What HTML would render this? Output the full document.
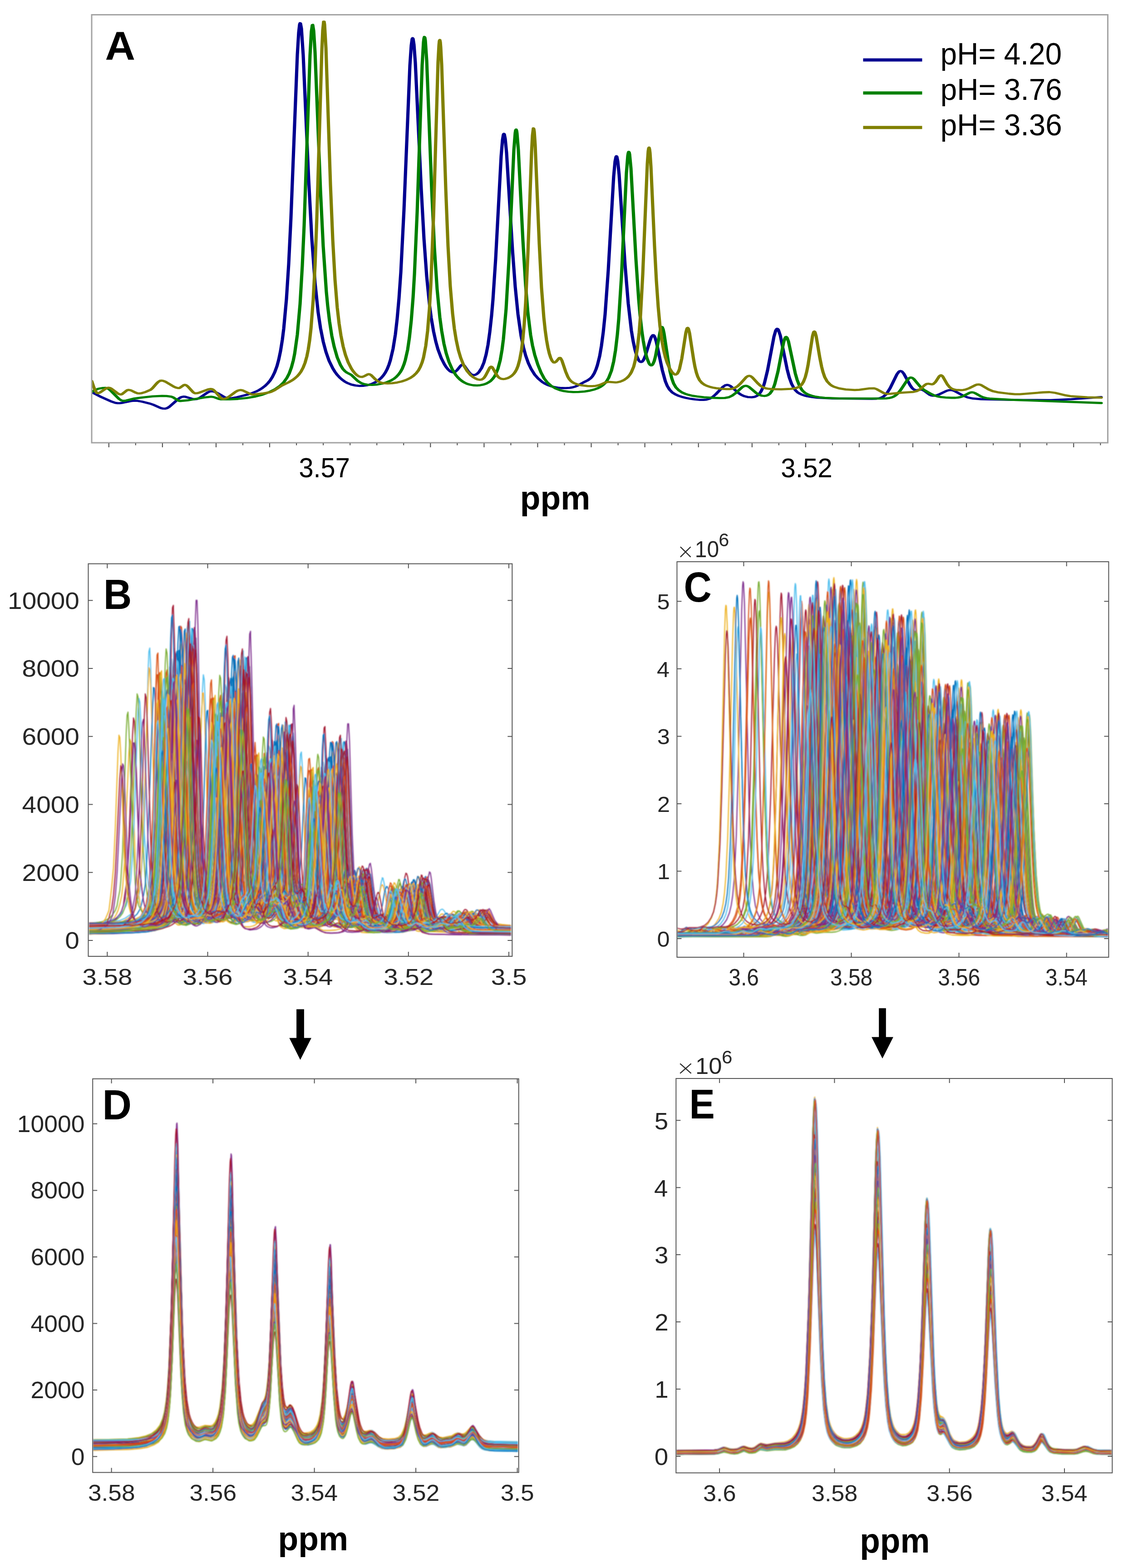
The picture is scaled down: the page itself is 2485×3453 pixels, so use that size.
<!DOCTYPE html><html><head><meta charset="utf-8"><style>html,body{margin:0;padding:0;background:#fff}svg{display:block}</style></head><body>
<svg width="2485" height="3453" viewBox="0 0 2485 3453" style="font-family:'Liberation Sans',Arial,sans-serif">
<rect width="100%" height="100%" fill="#fff"/>
<svg x="0" y="0" width="2485" height="3453" overflow="hidden"><clipPath id="cA"><rect x="203" y="33" width="2236" height="941"/></clipPath><g clip-path="url(#cA)">
<filter id="blA" x="-1%" y="-2%" width="102%" height="104%"><feGaussianBlur stdDeviation="0.7"/></filter>
<g filter="url(#blA)"><g transform="scale(1.5,1)" fill="none" stroke-width="4.8" stroke-linejoin="round" stroke-linecap="round">
<path d="M134.7 863.5l14 10.8 15.3 10.1 5.3 2.7 3.4 0.7 3.3 0 4.7-1 13.3-4 4-0.4 4 0.3 6.7 1.8 12 4.5 4 2.1 11.3 7.4 3.3 1.2 3.4 0.2 2.6-1.1 3.4-2.9 12.6-16.7 2.7-2.9 2.7-2 2.6-0.8 2.7 0.2 11.3 4.9 2.7 0.6 2.7-0.3 2.6-1.3 2.7-2.2 10.7-10.9 2.6-1.9 2-0.8 3.4 0 3.3 1.4 4 2.9 10 8.6 3.3 2 2.7 0.8 2.7-0.1 9.3-2.6 15.3-5.7 6.7-3.3 6-3.5 4.7-3.5 4.6-4.4 4-4.6 4-5.8 3.4-6 3.3-7.7 3.3-10 3.4-13.6 2.6-14.4 2.7-19.1 2.7-25.2 2-24 4-65.5 3.3-77 3.3-101.6 9.4-359.5 2-49.3 1.3-17 0.7-3.1 0.6 0.5 1.4 11.4 2.6 57.7 8 273.5 4.7 132.9 4.7 95.8 4.6 65.8 3.4 33.6 4 30.2 4 22.5 4.6 19.6 5.4 16.5 3.3 8 3.3 6.6 3.4 5.5 4 5.3 4 4.2 4 3.2 5.3 3.1 6 2 6 0.9 6-0.3 6-1.4 6-2.7 5.3-3.6 4.7-4.5 4-5.3 3.3-5.8 2.7-6 2.7-7.6 2.6-9.8 2-9.3 4-25.7 3.4-31.5 2.6-34.3 2.7-45 2.7-57.7 4.6-136.9 8.7-318.1 2-44.3 1.3-14.1 0.7-1.9 0.7 1.5 1.3 12.8 2 40.1 8.7 278.6 4 109.2 4 82.8 4 60.3 2.6 30.4 3.4 29.6 3.3 22.7 3.3 17.7 4.7 18.8 4.7 13.7 2.6 6.2 2.7 4.9 2.7 3.8 2 1.8 2 1 1.3 0.1 2.7-1.5 2.6-3.4 5.4-9.9 1.3-1.6 1.3-0.6 1.4 0.6 1.3 1.8 6 12.9 3.3 5.3 2 1.7 2 0.7 2-0.3 2-1.2 2-2 2-2.9 4-9.1 3.4-12.1 3.3-18.2 2.7-20.7 2.6-27.9 2.7-37.1 2-34.9 4-90.5 8-225 2-35.9 1.3-11.7 0.7-1.8 0.7 1 1.3 9.8 2 31.4 8.7 213.9 4 80.7 4 59.9 4.6 48.5 3.4 24.5 3.3 18.5 4 16.8 4 12.7 5.3 12.6 5.4 9.1 6 7.4 3.3 3.1 4 3 4.7 2.6 4.6 1.9 5.4 1.5 6 0.9 6 0.2 6-0.6 4.6-1.2 4-1.8 4-2.7 7.4-6.1 6.6-4.8 4-4.3 2.7-4.5 2.7-6.4 2.6-8.9 2-8.8 3.4-20.2 2.6-22.7 2.7-30.3 2.7-39.6 4.6-95.8 8-207.8 2-32.6 1.4-10.2 0.6-1.4 0.7 1.2 1.3 9.6 2 29.8 8.7 198.7 4.7 85.2 4.6 59.4 2.7 24.3 2.7 18.7 2.6 13.5 2.7 8.8 1.3 2.6 1.4 1.3 1.3 0.1 1.3-1.1 2-4 2.7-9.3 6.7-33 2-7.8 2-3.8 0.6-0.2 0.7 0.4 0.7 1.1 1.3 3.9 2 9.9 8.7 61.9 4.6 25 2.7 9.6 3.3 8.2 4 6.2 4.7 4.4 4 2.7 5.3 2.6 6 2.3 6.7 2 7.3 1.5 6.7 0.9 5.3 0.1 4-0.6 4.7-2 4.7-4 4.6-6 10.7-16.5 3.3-3.2 2.7-0.8 2 0.5 2.7 1.9 12.6 16.3 3.4 3.2 4 2.7 5.3 2.1 6 0.6 4.7-1.1 3.3-2.2 3.3-4.4 2.7-5.9 2.7-8.7 2-8.8 4.6-28.3 9.4-74.3 2.6-13.5 1.4-3.2 0.6-0.5 0.7 0.2 1.3 2.5 2.7 12.1 10 74 3.3 19 3.4 13.9 4 10.8 2 3.7 2.6 3.7 2.7 2.6 3.3 2.4 4 2 4.7 1.8 6.7 1.7 8 1.4 21.3 1.6 58 1 7.3-0.4 4.7-1.1 3.3-1.8 2.7-2.4 2.7-3.5 2-3.5 4.6-11 10-30.4 2.7-5.4 1.3-1.4 1.4-0.5 2 1.1 2.6 4.5 9.4 25.8 2.6 5.5 2 2.9 2 1.7 2 0.8 2-0.1 4.7-1.2 2.7 0.5 2.6 2 7.4 8.2 2.6 1.9 2.7 0.8 2.7 0 3.3-1 4-2.4 10-7.1 3.3-1.5 2.7-0.4 2.7 0.4 3.3 1.7 12.7 10.2 6.6 3.9 8 2.5 11.4 1.3 45.3 1.6 57.3 0.5 30-1.9 44-4.8" stroke="#000090"/>
<path d="M134.7 863.3l4.6-4.3 5.4-3 6.6-1.7 3.4-0.2 2 0.5 2.6 1.8 2.7 3 12.7 19 3.3 3.2 2.7 1.2 4.6-0.7 10.7-4.2 11.3-2.3 16.7-2.7 14-1.1 6.7 0.4 7.3 1.5 2.7 1.7 6.6 6.3 2 1.1 1.4 0.2 10.6-1.3 24-6.3 10.7-1.7 4 0.8 7.3 3.9 3.4 1 12.6 0 12-0.9 13.4-2.1 12.6-3.3 10-3.9 10-5.5 8.7-6.5 7.3-7.6 5.4-7.7 4.6-9.6 3.4-9.7 3.3-13.5 2.7-15 2-14.7 4-42.4 4-67.7 3.3-84 2.7-89.3 8.6-373.7 2-52.9 1.4-14.3 0.6-0.3 1.4 12.9 2 47.7 8 304.5 4 122.7 4.6 100.1 2 31.3 2.7 33.5 3.3 31.8 3.4 23.7 4.6 24.1 4.7 16.6 3.3 8.2 3.4 5.6 2.6 2.9 6.7 5.3 9.3 13.1 4.7 4.5 4.7 2.6 5.3 1.4 6.7 0.3 7.3-0.8 7.3-2 6.7-2.9 6-3.8 4.7-4.1 3.3-4 3.3-5.2 2.7-5.5 2.7-7.2 2.6-9.7 2-9.7 3.4-22.6 2.6-26.5 2.7-37.4 2.7-51.7 2-50.7 4-137.4 7.3-322.6 2-51.2 0.7-8.1 0.6-3.2 0.7 1.7 0.7 6.5 2 44.3 7.3 283.6 4 128.3 4 91.3 4 62 2.7 29.7 3.3 28.1 3.3 21 4 18.8 4.7 16.1 5.3 12.9 2.7 4.8 3.3 5 3.4 4 3.3 3 4 2.8 4.7 2.1 4.6 1.2 5.4 0.4 4.6-0.6 4.7-1.4 4-2.1 4-3.1 2.7-2.9 2.6-4 2.7-5.2 2-5.2 3.3-12.3 3.4-19 2.6-22.6 2-23.1 4-67.2 4-103.3 7.4-246.6 2-37.9 0.6-5.5 0.7-1.6 0.7 2.3 0.6 6 2 36.8 6.7 199.5 4 99.3 3.3 59.6 4 48.9 2.7 22.6 3.3 20.9 4.7 22.2 4.7 17.4 4.6 12.8 4.7 8.9 5.3 7 6.7 5.9 6 3.5 6 2.3 6.7 1.5 7.3 0.7 8-0.2 8.7-1.1 8-2 6.6-2.6 4.7-2.6 4-3.1 3.3-3.4 3.4-4.7 2.6-5 2.7-6.8 4-15.4 3.3-20.7 2.7-24.5 2.7-34.3 2-34 4-93.7 7.3-228.4 2-37.8 0.7-6.1 0.6-2.6 0.7 1 0.7 4.5 2 31.5 7.3 199.9 4 88.2 2 33.8 2.7 35.8 2 21 2.6 21.7 2.7 16 3.3 12.7 1.4 2.8 1.3 1.4 1.3-0.3 1.4-2.1 2-6.6 2-10.9 7.3-58.7 1.3-5.3 0.7-0.8 0.7 0.5 1.3 4.9 1.3 9.3 6.7 66.6 2 16.2 2.7 16.1 2.6 10.9 3.4 8.6 4 6.2 4.6 4.6 4.7 3.2 5.3 2.5 6 2.1 6.7 1.5 10 1.6 13.3 1.4 10.7 0.5 6.7-0.3 6-1.8 4.6-3.3 4.7-5.1 10-13.5 2.7-2.3 2.6-0.8 2 0.5 2.7 2 10.7 13.4 2.6 2.6 2.7 1.9 3.3 1.5 3.4 0.5 2.6-0.6 2.7-1.5 2.7-3.1 2.6-5.1 2.7-8 2-8.3 4.7-27.9 8-62.4 2-9.8 1.3-3 0.7-0.3 1.3 1.8 2 8 10 70.4 2.7 14.1 3.3 12.9 3.3 8.5 2 3.5 2.7 3.5 2.7 2.5 3.3 2.3 4 2 4.7 1.7 6.6 1.7 8 1.2 20.7 1.3 60.7 0.2 8.6-0.3 5.4-1 3.3-1.3 2.7-1.7 2.6-2.5 2.7-3.4 4.7-8.4 10-22.5 2.6-3.8 1.4-1 1.3-0.3 2 0.9 2 2.2 9.3 16.7 2.7 3.9 3.3 3.8 8.7 7.5 5.3 3.9 5.4 2.6 5.3 1.5 6.7 0.9 8.6 0.7 6 0 4-0.6 3.4-1 3.3-1.8 10-7.6 2-0.8 2-0.2 2 0.5 2 1.2 8 6.7 4 2.6 4.7 1.8 6.6 1.2 33.4 2.6 128.6 6.9" stroke="#008000"/>
<path d="M134.7 839l3.3 14.5 2 7 2 4.5 1.3 0.9 1.4-0.2 2-1.2 8.6-8.8 2-1.4 2-0.5 2 0.5 2 1.4 9.4 10.5 2 1.6 2 0.8 1.3 0 1.3-0.7 6.7-7.9 1.3-1 1.4-0.4 2 0.4 2 0.9 6.6 4.8 2.7 1.4 2.7 0.3 3.3-0.6 6-2.7 7.3-4.9 2.7-3.5 6-10.2 2.7-3.8 2.6-2.3 2-0.3 2.7 0.7 2.7 1.5 12.6 11.2 2.7 1.8 2.7 1.1 2 0.3 1.3-0.5 6-6.2 1.3-0.5 1.4 0.4 1.3 1 2 2.4 7.3 12 2 2.1 1.4 0.7 2.6-0.2 3.4-1.2 13.3-7.4 3.3-0.8 2 0.3 2 1.6 2 2.7 8.7 14.9 2 2 2 0.7 2.7-0.8 2.6-1.7 3.4-3.1 9.3-10.3 3.3-2.6 2.7-1.1 2-0.1 2.7 0.9 10 7.1 2.6 1.4 2 0.4 15.4-2.5 8.6-2.1 2.7-1.1 5.3-3.9 10.7-10.2 10-7.1 6-5.3 3.3-3.7 3.4-4.5 2.6-4.4 2.7-5.5 3.3-9.3 2.7-10.2 2.7-14.4 2-14.9 2-19.6 2-26.3 3.3-63.9 2.7-75.7 2.6-103.1 7.4-371.5 1.3-42.7 1.3-19.3 0.7 0 0.7 6.4 2 51.9 6.6 299.9 3.4 122 3.3 88.2 3.3 61.2 2.7 35 2.7 26.3 3.3 24.6 3.3 18.3 4 16.3 4.7 13.8 2.7 5.9 2.6 4.8 2.7 3.8 2.7 2.6 2.6 1.3 2.7 0.1 2.7-1.3 5.3-4.2 1.3-0.5 1.4 0.1 2.6 2.2 6 9 3.4 4.1 4 2.9 4.6 1.6 6 0.5 6.7-0.5 7.3-1.6 6.7-2.3 6.7-3.4 6-4.4 4.6-4.7 4-5.6 3.4-6.6 2.6-7.3 2.7-10.1 2-10.4 3.3-25.8 2.7-32.7 2.7-49 2-51.3 4-151.3 6.6-340.3 1.4-37.8 0.6-9.2 0.7-2.1 0.7 4.8 0.6 11.3 1.4 39.1 6 273.6 3.3 125 3.3 88.6 3.4 59.9 2.6 33.5 2.7 24.9 3.3 22.9 3.4 16.8 4.6 16.9 4.7 11.7 5.3 9.2 3.4 4.1 3.3 3 3.3 2.2 3.4 0.9 2.6-0.5 2-1.7 2-2.9 2-4.5 6-17.2 1.4-1.8 0.6-0.3 0.7 0.2 1.3 1.8 6 15.8 2 4.1 2 2.7 2.7 2 2.7 0.7 3.3-0.5 4-1.8 3.3-2.6 2.7-2.9 2.7-4 2-4.1 2-5.4 2-7.3 2.6-14.2 2.7-22 2-24.3 2-33.5 2-45.3 3.3-107.7 5.4-223.6 1.3-37.2 1.3-15.8 0.7 1.1 0.7 6.9 1.3 28.7 6 217.5 3.3 96.5 3.4 65.9 2 28 2 21.6 2 16.6 2 12.8 2 9.4 2 6.5 2 3.5 0.6 0.6 1.4 0.1 2-1.8 4.6-8.1 1.4-0.3 0.6 0.7 2 5.2 5.4 24.1 3.3 11.8 2 4.9 2 3.6 2.7 3.3 2.6 2.2 5.4 2.9 6 1.9 8 1.4 7.3 0.3 4.7-0.6 4-1.2 3.3-1.7 6.7-4.3 3.3-1.4 3.3-0.1 8.7 1.1 2.7-0.4 3.3-1 3.3-1.8 3.4-2.4 3.3-3.4 2.7-3.7 2.6-5 2-5 3.4-12.2 2.6-15.4 2.7-23.6 2.7-35.8 2-38 3.3-90.1 6.7-243.8 1.3-27.6 0.7-6.6 0.6-1.4 0.7 3.8 0.7 8.5 1.3 29.1 5.3 175.8 2.7 75.8 2.7 58 2.6 42.4 3.4 36.6 2 15.9 2.6 16.2 2.7 12.3 3.3 11.5 3.4 8.1 3.3 4.9 1.3 0.9 1.4 0 2-2 2-5.1 1.3-5.5 3.3-22.2 6-57.3 1.4-8 0.6-2.1 0.7-0.6 0.7 0.9 0.6 2.3 1.4 8.3 6 58.6 2 16.1 2 12.2 2 8.9 2.6 7.8 3.4 5.9 4 4.3 3.3 2.3 4 2.1 4.7 1.8 5.3 1.4 7.3 1.3 7.4 0.7 4.6-0.1 4-0.7 4-2 4-3.6 4-5.5 8.7-14.4 2.7-2.5 2-0.4 2 1 2 2.1 8 13 4 5.4 4 3.7 4 2.2 4 1.1 4.6 0.7 14 0.4 14-1 4.7-0.9 4-1.3 4-2.5 3.3-4.4 2.7-6.4 2.7-10.3 2-11.3 2-14.8 6.6-64 1.4-7.8 0.6-2 0.7-0.6 0.7 0.8 0.6 2.1 1.4 7.6 5.3 47 2.7 20.1 2 11.7 2.6 11.3 3.4 9.1 4 6.4 2.6 2.9 3.4 2.6 7.3 3.6 10 2.4 13.3 1.3 6.7-0.6 14.7-2.9 6.6-0.3 2 0.6 2.7 1.6 10 8.3 4 1.7 6-0.2 15.3-2.3 18-1.7 4.7-1.6 3.3-2.4 3.4-3.7 5.3-7.2 2.7-2.6 2.6-0.6 5.4 1.4 1.3-0.4 1.3-1 2.7-3.9 5.3-12.1 1.4-1.9 1.3-0.7 1.3 0.8 1.4 2.1 6.6 17.2 3.4 6.1 2 2.3 2 1.6 2.6 1.3 2.7 0.8 7.3 0.6 3.4-0.4 3.3-0.9 5.3-2.9 9.4-7 2.6-1.2 2-0.2 2 0.5 2 1.1 10.7 9.4 6 3.8 7.3 2.4 16.7 3.2 8.7 1.1 7.3 0 34-4.1 9.3-0.5 8 1.5 16 5.7 6.7 1.7 24.7 2.4 20.6 0.8" stroke="#808000"/>
</g></g>
</g>
<filter id="bl" x="-2%" y="-2%" width="104%" height="104%"><feGaussianBlur stdDeviation="0.8"/></filter>
<clipPath id="cB"><rect x="195.5" y="1242.5" width="931.8" height="862.5"/></clipPath><g clip-path="url(#cB)"><g filter="url(#bl)">
<g fill="none" stroke-width="2.3" stroke-linejoin="round">
<path d="M196 2039l46-1 32-1 24-2 16-3 12-5 10-6 6-8 6-13 4-16 4-19 2-32 2-31 4-97 8-246 2-34 0 1 2 35 8 246 2 76 4 50 4 39 4 20 2 9 4 8 4 5 6 4 4 3 4 0 4-1 10-5 4 1 8 3 4-1 4-1 4-5 6-8 4-12 2-14 4-33 4-63 4-75 6-194 2-36 0-4 2 8 2 44 6 221 6 92 2 29 4 22 4 10 2 7 4 5 4 4 6 3 4 0 4-1 2-3 6-9 10-26 2-3 4-2 2-2 2-4 2-8 4-24 2-43 8-168 2-32 0-4 2 5 2 33 4 128 4 60 2 40 4 22 2 11 2 1 2 2 2-3 6-8 2-1 2 1 6 10 8 26 4 5 4 5 6 2 8 0 8-2 8-4 4-5 4-6 4-8 2-12 4-32 4-40 8-178 2-22 2 25 6 139 6 76 2 18 2 16 4 10 4 5 2 1 2-1 4-8 4-15 8-40 2-6 0-1 2 1 2 7 6 43 4 19 2 6 4 7 2 3 4 2 4-1 8-5 4 0 4 2 10 8 4 3 6 2 6 1 12 1 10-1 8-2 6-3 2-2 4-5 4-11 4-17 6-39 2-5 2 0 0 2 2 7 8 39 4 16 2 5 2 6 2 2 4 2 2 0 4 0 10-7 2-1 4 1 10 9 6 1 12-2 10 0 4-2 8-5 2-1 4 0 8 5 2 0 2 0 4-3 8-13 2-2 2-1 2 1 2 2 8 13 4 5 6 5 4 2 8 1 14 1 60 1" stroke="#0072BD"/>
<path d="M196 2037l44-1 30-1 22-2 16-3 12-5 8-7 8-9 6-14 4-17 2-21 4-34 2-33 4-100 6-262 2-46 2-7 0 6 2 45 8 291 6 104 4 42 4 22 2 11 4 9 4 6 6 4 4 3 4 1 4-2 8-3 2-1 12 3 4-1 4-2 4-6 6-10 2-10 4-15 4-35 4-66 2-78 6-206 2-47 2-9 0 2 2 34 8 263 6 98 4 39 4 21 2 10 4 6 2 5 4 4 6 3 4 0 4-2 2-3 6-11 8-25 4-5 6-5 2-4 2-9 2-24 4-44 8-198 2-27 2 8 2 40 6 180 4 48 2 29 4 15 2 6 2 0 2-1 6-10 2 0 2 2 4 9 10 31 4 7 4 4 6 2 10 0 8-3 6-4 4-4 4-7 2-9 4-13 4-33 2-42 8-188 2-31 2-5 0 5 2 31 6 148 4 68 2 22 4 21 4 16 2 3 2 3 2 0 2-2 4-9 4-19 8-41 2-5 4 10 6 47 4 20 2 6 4 7 2 3 2 2 4 0 10-5 4 0 4 2 8 8 6 4 4 3 8 1 10 0 12-1 8-2 4-2 4-3 2-5 4-12 4-18 8-41 2-7 0-1 2 1 2 6 8 46 4 17 4 11 2 3 4 2 2 0 4-1 8-6 4-1 4 1 10 9 6 2 12-3 8 0 2 0 4-3 6-4 4-2 4 1 6 4 4 1 2-1 4-3 10-15 2-1 2 1 2 2 8 14 4 6 6 4 6 3 8 2 16 0 62 1" stroke="#D95319"/>
<path d="M196 2039l16-2 14-2 10-4 8-4 8-6 4-7 4-9 4-14 4-18 2-17 4-53 2-61 8-184 2-28 0-2 2 5 2 33 8 225 6 67 4 29 4 15 2 7 4 6 4 5 6 3 4 2 4 0 12-4 14 2 6-2 4-4 6-8 2-7 4-11 4-26 4-45 4-74 6-144 2-30 0-4 2 2 2 26 8 185 2 48 4 34 4 26 4 15 2 6 4 5 2 3 4 3 4 1 4 0 4-1 4-3 4-6 10-20 8-10 2-5 2-7 4-21 2-21 8-137 2-25 0-5 2 1 2 19 8 156 4 31 2 18 2 7 4 4 2 0 8-5 2 0 2 1 4 6 10 25 4 5 4 2 6 2 8-1 8-1 6-3 4-4 4-5 2-6 4-10 4-23 2-29 10-145 2-19 0-2 2 4 2 22 6 104 4 59 2 14 4 14 2 8 2 3 2 2 2 0 2-1 4-6 4-12 8-29 2-5 0-1 2 2 2 6 10 44 4 8 4 7 2 2 4 1 12-3 4 0 16 10 8 3 12 0 16-1 8-2 6-4 4-6 4-7 4-14 6-25 2-6 2-2 0 1 2 4 8 32 4 13 6 8 2 3 4 1 4 0 12-5 4 0 10 7 6 1 22-2 14-6 4 0 8 3 2 0 4-1 2-2 10-9 4-1 4 2 8 11 6 5 6 3 6 1 40 2 124 1" stroke="#EDB120"/>
<path d="M196 2039l38-1 26-1 20-2 16-4 12-4 8-6 8-9 6-12 4-14 2-16 4-24 2-36 6-94 6-175 2-31 2-7 2 7 2 31 8 217 4 51 2 35 4 30 6 21 2 7 4 6 4 5 4 3 4 1 4 1 12-3 14 0 4-2 6-5 4-7 2-8 4-12 4-35 4-49 4-75 6-137 2-31 2-8 0-2 2 4 2 25 10 213 4 63 4 28 4 17 6 11 2 4 4 4 4 1 4 0 4-2 4-4 4-7 8-18 8-14 4-13 4-19 2-30 10-144 2-19 0-3 2 3 2 19 6 121 4 42 2 29 4 17 2 7 2 5 4 0 6-2 2 1 2 2 4 7 10 25 4 6 4 3 6 2 6 0 8-2 6-3 4-4 4-5 2-7 4-10 4-23 4-39 8-140 2-22 2-4 2 14 8 125 4 47 6 33 2 10 2 4 2 2 4-1 4-5 4-11 6-27 2-5 2-1 2 2 2 6 12 46 2 8 4 6 4 3 2 1 12-2 4 1 16 10 8 3 12 1 14-1 8-2 6-5 4-6 4-7 4-13 8-31 2-4 2-1 2 2 2 6 8 31 4 12 4 8 6 4 4 0 8-3 4-1 4 1 10 6 6 1 4 0 14-1 6-1 12-5 4 0 8 1 4 0 4-3 8-7 4-2 2 1 4 2 10 11 4 5 6 3 6 2 8 1 16 1 68 1" stroke="#7E2F8E"/>
<path d="M196 2037l52 0 36-2 26-2 18-3 14-4 6-3 4-4 8-9 6-12 4-14 4-23 4-29 2-46 4-97 8-250 2-48 0-10 2 2 2 36 8 279 2 74 4 50 4 40 4 21 2 10 4 7 4 6 4 6 6 3 4 0 4-1 10-4 2 0 10 2 4-1 2-2 6-5 4-11 4-10 2-16 4-36 4-64 4-75 6-224 2-32 2-2 0 9 2 43 8 251 6 90 4 38 4 20 2 9 4 6 2 5 4 4 4 2 4 0 4-2 4-3 4-10 10-27 2-4 6-5 2-3 2-12 4-24 2-42 8-189 2-28 2-3 0 5 2 33 8 193 4 44 2 26 4 14 0 2 2 2 4-1 6-7 2-1 2 3 4 9 10 30 4 6 4 5 6 2 8 0 8-3 6-4 4-5 4-7 4-9 2-14 4-32 4-42 8-179 2-32 0-7 2 2 2 25 6 161 4 62 2 21 4 20 2 11 2 5 2 2 4 1 2-2 4-9 4-17 6-39 2-5 2-1 0 1 2 7 8 50 4 18 2 7 4 6 2 3 2 2 6-1 8-4 4 0 4 3 8 8 6 4 4 2 6 1 10 1 12-1 8-2 4-3 4-2 2-5 6-13 4-17 6-40 4-8 2 2 2 7 6 39 4 18 6 12 2 3 2 2 4 1 2-1 10-6 4-1 4 1 10 9 4 2 4-1 8-2 10 0 4-2 8-5 4-1 2 0 8 4 4 0 4-3 10-13 2-2 2 0 2 0 2 2 8 15 4 6 4 3 6 3 6 1 10 1 44 2" stroke="#77AC30"/>
<path d="M196 2034l30-2 22-2 16-3 12-5 10-7 8-8 6-11 4-17 4-16 2-24 6-76 4-108 6-271 2-49 2-8 0 3 2 42 8 302 4 80 2 54 4 43 4 24 4 11 4 10 4 6 4 5 4 3 4 0 4-1 10-5 4 1 8 2 4-1 2-1 6-6 4-8 4-13 2-15 4-36 4-63 4-105 8-241 2-32 2 11 2 48 8 271 4 98 4 41 4 22 4 10 2 7 4 5 4 4 4 3 4 0 4-2 2-4 6-12 8-27 4-5 6-9 2-6 2-10 2-28 2-29 4-62 6-161 2-28 0-2 2 7 2 37 8 209 2 47 4 29 2 14 2 3 2 2 2-1 6-8 2 0 4 4 4 10 10 33 4 7 4 4 6 2 6 0 8-3 6-4 4-5 4-7 4-9 2-13 4-32 4-40 2-59 6-154 2-33 2-5 0 3 2 28 8 174 4 68 2 22 2 22 4 13 2 4 2 3 2 1 2-2 4-11 4-19 6-37 2-8 2-2 2 2 2 7 10 65 2 13 4 10 4 4 4 1 2 0 10-5 4 0 4 3 10 12 4 2 4 2 12 1 16-1 10-3 2-2 4-4 4-8 4-15 10-57 2-7 0-2 2 1 0 2 2 8 8 42 4 23 6 11 2 3 2 2 6-1 8-6 4-1 4 1 10 9 6 2 4 0 8-2 10-1 4-2 6-5 4-2 4 1 6 4 4 0 6-4 8-14 2-1 2-1 2 1 2 2 10 16 4 7 6 4 6 3 12 2 20 1 90 0" stroke="#4DBEEE"/>
<path d="M196 2040l18-2 16-2 12-4 8-4 8-6 6-8 4-8 4-13 2-17 4-26 4-58 4-95 6-180 2-32 0-4 2 7 2 38 8 232 2 57 4 38 4 30 4 17 2 7 4 7 4 5 6 4 4 1 4 0 12-4 4 0 10 2 6-2 4-4 6-8 2-8 4-12 4-27 4-50 4-82 6-164 2-33 0-6 2 3 2 30 8 209 4 80 4 33 4 18 4 8 2 5 4 5 4 3 4 2 4 0 4-2 4-3 4-7 10-22 2-4 6-6 2-5 2-8 4-22 2-37 8-141 2-29 0-6 2 1 2 22 8 177 4 33 2 20 2 7 4 5 2-1 8-6 2 0 2 1 4 7 10 26 4 6 4 3 6 2 8 0 8-2 6-3 4-4 4-5 2-7 4-11 4-24 2-32 4-47 6-117 2-22 0-2 2 5 2 25 6 118 4 55 2 25 4 15 2 9 2 3 2 2 4 0 2-2 4-8 2-11 8-33 2-5 0-1 2 0 0 2 2 7 10 49 4 9 2 6 4 3 4 1 4 0 8-4 4 1 16 11 8 3 12 1 16-2 8-2 6-4 4-7 4-8 4-15 6-29 2-6 2-3 0 1 2 5 8 37 4 14 6 9 4 4 4 0 2-1 10-4 4-1 4 1 10 7 4 1 12-2 10 0 14-7 4 0 8 4 2 0 4-1 2-2 10-11 2-1 2-1 4 3 8 13 6 5 6 3 6 2 14 1 26 1 116 0" stroke="#A2142F"/>
<path d="M196 2042l42-1 30-1 22-2 16-3 12-5 4-3 6-4 6-9 6-13 4-16 4-27 6-66 4-92 6-229 2-43 2-9 0 1 2 31 10 282 2 63 4 43 4 35 4 19 2 9 4 6 4 6 4 5 4 2 4 1 4-1 10-4 12 2 4 0 2-2 6-5 4-7 4-11 2-14 4-31 4-55 4-89 8-204 2-29 0-2 2 7 2 38 8 230 4 88 4 38 4 21 4 9 2 7 4 4 4 5 4 2 4 0 4-2 2-3 6-10 8-23 4-5 6-8 2-6 2-9 2-24 4-40 8-172 2-26 0-3 2 5 2 28 8 178 2 42 4 27 2 14 4 5 2-1 6-5 2-1 2 1 2 2 4 9 10 28 4 7 4 4 6 2 6 0 8-2 6-4 4-4 4-6 4-8 2-12 4-28 4-34 2-50 6-130 2-29 2-6 0 1 2 21 8 147 4 60 2 20 2 21 4 11 2 5 2 3 2 0 2-1 4-9 4-11 8-40 2-5 2 3 2 9 6 35 4 19 4 10 2 7 4 3 4 2 2-1 10-3 4 0 4 2 10 10 8 4 12 1 16-1 10-3 6-5 4-7 2-9 4-16 8-36 2-6 0-2 2 0 2 8 8 40 4 15 6 11 2 2 2 2 6 0 10-5 2-1 4 1 12 8 4 1 22-2 4-2 8-5 2-1 4 1 6 3 4 0 6-3 8-11 2-2 2-1 2 1 2 2 10 13 4 6 6 4 4 2 8 2 16 1 62 1" stroke="#0072BD"/>
<path d="M196 2042l36-1 26-2 20-3 14-4 12-5 8-9 8-11 4-14 4-18 4-23 4-66 6-122 6-237 2-39 2-7 0 4 2 35 10 293 2 67 4 46 4 38 4 22 2 10 4 7 4 7 4 5 4 2 4 1 4-1 10-4 2 0 10 2 4-1 2-2 6-6 4-8 2-9 4-15 4-42 4-63 4-99 6-185 2-40 2-8 2 26 10 263 2 63 4 43 4 36 4 20 2 10 4 6 2 5 4 3 4 2 4 0 4-2 2-4 6-11 8-24 8-14 4-15 4-24 2-39 10-196 2-22 0-1 2 6 2 32 6 144 2 57 4 38 2 24 2 9 4 5 0 1 2 0 6-5 2 0 2 1 2 2 4 9 10 31 4 8 4 4 6 2 6 0 8-3 6-4 4-5 4-8 4-9 2-14 4-33 4-39 8-189 2-27 2-4 0 3 2 24 8 152 4 63 2 22 2 22 4 13 2 5 2 3 2 1 2-1 4-8 4-16 6-36 2-7 2-1 2 4 2 9 10 57 4 10 4 9 2 3 4 1 2 0 10-3 4 0 4 3 12 11 8 3 12 2 14-2 8-2 6-6 4-7 4-13 10-50 2-8 2-3 2 0 0 2 2 6 8 42 4 16 6 12 2 2 2 2 6 0 10-5 4-1 4 2 8 7 4 2 4 0 20-3 14-7 2 0 8 3 4 0 4-3 10-12 2-1 2-1 2 1 2 2 10 15 4 5 6 5 6 3 10 1 18 1 72 1" stroke="#D95319"/>
<path d="M196 2040l52 0 38-1 26-2 18-4 14-4 6-4 6-4 4-5 4-6 6-14 4-15 4-26 4-31 2-49 6-136 6-272 2-44 2-6 0 7 2 44 10 334 4 107 4 45 4 25 4 11 2 9 4 7 6 6 4 4 4 0 4-1 10-4 2 0 10 2 4-1 2-2 6-6 4-9 4-14 2-17 4-39 4-69 4-111 6-212 2-45 2-9 0 2 2 34 8 273 4 76 2 52 4 43 4 23 4 11 2 7 4 6 4 4 4 3 4 0 4-3 2-4 4-9 10-30 10-16 2-13 4-25 2-44 10-224 2-25 2 9 2 39 8 209 2 48 4 29 2 15 2 3 2 2 0 1 2-2 6-6 2 0 4 4 4 10 10 34 2 7 4 5 6 3 8 0 8-3 6-5 4-5 4-9 4-9 2-15 4-36 4-43 8-216 2-29 2-4 0 4 2 31 8 175 4 68 2 23 2 22 4 13 2 5 2 3 2 1 2-1 4-9 4-18 6-42 2-8 2-1 2 2 2 8 6 48 4 22 4 11 2 8 4 3 4 2 2-1 8-3 4-1 2 1 4 3 10 11 8 5 4 1 8 0 16-1 8-3 4-2 2-4 4-8 4-13 10-58 2-9 2-3 2 1 0 2 2 8 8 43 4 19 4 14 2 3 4 3 2 0 4 0 8-6 4-2 4 2 10 9 6 2 22-3 4-2 6-6 4-1 2 0 8 4 4 0 2 0 2-3 10-14 2-2 2-1 2 2 2 2 10 16 4 6 4 4 4 3 6 2 10 1 40 1" stroke="#EDB120"/>
<path d="M196 2042l58-1 40-1 30-2 20-3 14-4 6-3 6-4 8-9 4-7 4-7 4-17 4-26 4-31 2-49 4-104 8-264 2-52 0-11 2 1 2 35 8 294 2 81 4 55 4 44 4 25 2 11 4 8 4 7 4 6 6 3 4 1 4-1 10-5 2 0 10 2 2 0 4-2 4-5 4-8 4-12 4-15 2-23 2-22 4-70 4-79 6-236 2-36 2-2 0 7 2 43 8 266 6 99 4 42 4 23 2 10 4 7 2 5 4 5 4 2 4 1 4-2 4-4 4-11 10-29 2-3 6-7 2-4 2-13 4-25 2-45 8-199 2-31 2-4 0 4 2 33 8 205 4 48 2 29 4 16 2 5 2 1 2-2 4-6 2-1 2 0 2 3 4 9 10 33 4 6 4 5 6 3 6 0 8-2 6-4 6-6 4-7 2-8 4-13 4-30 4-55 8-189 2-35 0-8 2 1 2 24 6 170 4 68 2 23 4 22 2 13 2 6 2 3 4 0 2-1 4-10 4-18 6-41 2-6 2-1 0 2 2 6 8 53 4 20 6 14 2 3 2 2 4 0 10-4 4 0 4 3 8 8 6 4 4 3 6 1 10 1 12-1 8-2 4-3 4-3 2-5 4-10 4-17 8-47 2-8 2-1 2 1 2 7 6 42 4 19 6 13 2 4 2 2 4 1 2 0 10-7 4-1 4 1 10 10 6 1 22-3 10-7 4-1 2 0 8 4 4 0 4-3 10-14 2-2 2 0 2 0 2 3 12 21 8 6 4 2 8 1 30 2" stroke="#7E2F8E"/>
<path d="M196 2034l48 0 34-1 24-2 18-3 14-4 10-6 8-9 6-12 4-14 4-25 2-31 2-30 6-120 6-237 2-31 2 1 2 33 8 267 2 70 4 48 4 37 4 21 2 9 4 8 4 6 6 5 4 2 4 0 4-1 10-4 2 0 10 3 4-1 2-2 6-5 4-9 4-10 2-14 4-33 4-59 4-99 6-186 2-33 2-2 0 7 2 40 8 240 6 86 4 36 4 19 2 9 4 6 2 4 4 4 4 2 4 0 4-1 4-3 4-10 10-24 2-5 6-5 2-5 2-7 4-22 2-39 8-180 2-29 2-4 0 5 2 30 8 185 4 42 2 25 4 13 2 4 4-1 4-6 2-1 2 0 2 2 4 9 10 29 4 5 4 4 6 3 8 0 8-2 6-5 4-4 4-7 4-8 2-12 4-30 4-38 8-171 2-32 0-7 2 0 2 23 6 154 4 60 2 19 4 19 2 11 2 4 2 3 4 1 2-2 4-8 4-16 6-38 2-5 2-1 0 1 2 6 8 48 4 17 2 7 4 6 2 2 2 2 6 0 8-5 4 0 4 3 8 7 6 4 4 2 8 1 10 1 10-1 8-2 6-3 4-5 6-12 4-17 6-38 2-7 2-1 4 8 6 38 4 16 6 12 2 3 2 2 4 1 2-1 10-6 4-1 4 1 10 8 4 2 4 0 8-2 12-1 10-7 4 0 2 0 8 4 4 0 4-3 10-12 2-2 2-1 2 1 2 2 8 14 4 5 4 3 6 3 6 1 12 1 52 1" stroke="#77AC30"/>
<path d="M196 2041l82-1 24-1 16-3 14-5 8-5 8-8 6-13 4-20 4-22 2-36 2-37 4-112 6-232 2-37 2 1 2 41 6 265 4 77 2 50 4 36 4 19 4 9 2 6 4 6 6 4 4 3 6 1 4-1 10-5 2 0 10 4 2 0 4-2 6-5 4-8 4-10 4-14 4-32 4-63 2-77 6-209 2-40 2-3 0 9 2 49 8 236 2 46 2 46 4 29 4 21 4 13 4 7 4 4 6 3 4 1 4-1 4-3 4-9 10-28 4-3 4 0 2-1 2-3 2-8 2-23 4-44 6-180 2-35 2-5 0 6 2 37 8 182 2 47 4 27 2 13 4 5 2-2 8-11 2-1 2 1 4 10 10 27 2 6 4 4 6 2 10 0 8-1 6-4 6-5 4-6 2-7 4-12 4-31 2-41 8-190 2-25 2 1 2 28 6 150 4 67 2 20 2 19 4 13 4 6 4 1 2-1 2-5 2-6 4-19 6-38 2-7 2-1 0 2 2 7 8 47 4 19 2 7 2 6 2 2 4 2 4 0 10-6 4-1 4 2 10 11 4 3 6 1 10 1 16-1 10-2 6-3 4-6 4-11 4-18 8-41 2-6 4 10 6 37 4 18 2 6 2 6 4 4 2 2 4 0 4-1 8-7 4-1 2 1 10 9 6 2 4-1 8-2 12 0 4-2 6-6 4-1 2 1 8 5 4 1 2-1 2-2 10-15 2-2 2-1 2 1 2 2 8 15 4 5 4 3 4 3 8 1 14 1 56 1" stroke="#4DBEEE"/>
<path d="M196 2047l60 0 42-1 30-2 20-4 16-5 6-3 6-4 4-6 4-5 4-8 4-7 4-20 4-28 4-33 2-50 6-135 6-267 2-48 2-11 0 1 2 33 10 327 2 80 4 56 4 46 4 27 2 12 4 9 4 8 4 6 4 3 6 1 12-5 12 2 4-1 2-2 6-7 4-9 2-11 4-16 4-48 4-70 4-109 8-236 2-33 0-2 2 7 2 41 8 295 6 100 4 43 4 25 4 17 4 6 4 6 4 3 4 0 4-3 2-4 6-12 8-27 8-17 4-17 4-26 2-43 10-219 2-29 0-4 2 5 2 31 8 227 4 47 2 29 2 11 4 8 0 1 2 0 6-4 2-1 2 1 2 3 4 10 10 34 4 9 4 5 2 2 4 1 6 0 8-3 6-5 4-6 4-8 4-11 2-16 4-36 4-44 8-211 2-33 2-7 0 1 2 22 8 191 4 67 2 23 4 23 2 13 4 6 2 2 2-1 2-3 2-6 4-17 6-40 2-8 2-2 2 3 2 10 10 64 4 12 4 11 2 4 4 1 4 0 8-3 4 1 4 3 12 11 6 5 6 1 6 1 16-2 8-3 4-2 2-4 4-9 4-9 4-19 8-47 2-7 0-1 2 0 0 1 2 7 8 46 4 19 6 14 2 3 2 3 2 0 4 0 10-6 4 0 4 1 10 9 2 1 4 1 20-4 14-8 2 0 8 3 4 0 4-2 10-14 2-2 2 0 2 0 4 4 8 16 4 5 8 7 4 2 6 1 24 2" stroke="#A2142F"/>
<path d="M196 2037l64 0 44-1 30-2 22-2 16-5 6-3 4-4 6-5 4-6 6-13 4-19 4-21 2-34 4-55 4-124 6-318 2-41 2 3 2 51 6 318 4 95 2 61 4 46 4 23 4 11 2 8 4 7 6 6 4 3 6 1 4-1 6-5 4-1 2 0 10 4 2 0 4-2 6-6 4-10 4-14 4-18 4-41 4-80 2-97 6-251 2-45 2-2 0 12 2 61 8 284 4 113 4 36 4 26 4 17 4 8 4 5 6 4 4 1 4-2 4-3 4-12 10-33 4-4 4-1 2-2 2-5 2-10 2-30 4-56 6-217 2-40 2-4 0 7 2 46 8 220 2 57 4 33 2 16 2 3 2 3 2-1 8-14 2-1 2 2 4 13 10 33 2 7 4 5 6 2 10 0 8-2 6-5 6-6 4-8 2-9 4-16 4-40 2-52 8-229 2-27 2 2 2 35 6 180 4 81 2 25 2 24 4 14 4 8 2 2 2 0 4-5 2-6 4-20 6-52 2-8 2-1 0 2 2 9 8 57 4 23 2 8 2 8 2 3 4 2 2 1 2-1 10-7 4-1 4 3 12 14 4 2 4 2 10 1 14-1 10-2 6-4 4-3 2-6 4-13 4-23 6-44 2-10 2-2 0 1 2 6 8 50 4 22 2 8 2 7 2 4 4 2 2 2 4-1 10-9 4-1 2 0 2 1 8 10 6 3 4 0 8-3 8 0 4 0 4-3 6-7 4-1 2 1 8 6 4 1 2-1 2-3 10-17 2-3 2-1 2 1 2 3 10 22 6 7 6 2 6 2 24 1" stroke="#0072BD"/>
<path d="M196 2052l54-1 38-1 28-2 20-4 14-5 12-7 4-5 4-5 6-13 4-13 4-22 4-27 2-40 6-108 8-253 2-38 0-7 2 3 2 30 8 278 4 67 2 48 4 41 4 23 4 11 2 7 4 7 6 6 4 2 4 1 12-4 4-1 10 1 2 0 4-2 4-7 4-8 4-10 2-15 4-32 4-56 4-87 8-203 2-38 0-9 2 0 0 7 2 36 10 251 4 85 4 38 4 21 6 15 2 5 4 5 4 3 4 0 4-3 4-5 4-9 10-24 8-16 4-16 2-24 4-39 8-185 2-22 2-2 0 5 2 28 10 192 2 40 4 24 2 10 2 7 2 1 2 0 4-3 2 0 2 1 2 2 4 9 10 30 4 7 4 5 6 2 6 0 8-2 6-4 4-5 4-7 4-8 2-13 4-29 4-34 4-68 6-127 2-26 0-4 2 1 2 21 8 162 4 57 2 19 2 20 4 12 2 5 2 1 2-1 4-7 4-15 8-34 2-6 0-2 2 0 2 4 2 8 10 54 2 11 4 9 4 3 2 2 4 0 8-3 4 1 4 2 12 11 8 3 4 2 8 0 14-1 10-3 6-6 4-8 4-12 10-48 2-7 2-4 0 1 2 1 2 6 8 40 4 15 4 12 2 3 4 2 4 1 10-5 4-1 4 1 8 7 6 2 4 1 16-3 4-1 12-6 4 0 8 2 4 0 6-4 8-10 2-1 2 0 2 0 2 3 14 19 4 3 4 3 6 2 8 1 34 1" stroke="#D95319"/>
<path d="M196 2037l96-1 26-1 18-2 14-5 10-5 4-4 4-5 6-12 6-18 2-20 4-34 2-35 4-111 6-288 2-22 0-7 2 8 2 57 6 287 2 55 4 56 2 33 2 14 4 15 2 9 4 7 4 6 4 5 6 3 4 1 6-1 6-5 4-1 2 1 6 3 4 1 2-1 4-1 6-5 4-9 4-11 4-15 4-35 4-70 2-87 6-228 2-35 2 3 0 17 8 287 2 52 4 53 2 32 4 23 6 15 4 7 4 4 4 3 6 2 4-1 2-2 6-9 8-25 2-7 4-3 4 1 2-1 2-4 2-8 2-27 2-30 4-68 4-150 2-32 2 0 2 32 6 201 4 54 2 30 4 16 2 6 2 0 2-2 8-13 2-1 2 2 4 9 8 29 4 6 4 5 6 2 8 1 10-2 6-4 6-5 4-7 2-8 4-13 4-34 2-46 8-185 2-38 0-5 2 6 0 16 6 163 4 76 2 23 4 22 4 15 4 6 2 1 2 0 4-4 2-6 4-18 6-48 2-6 2 0 2 12 6 45 4 22 4 12 4 5 2 2 4 1 2-1 10-7 2-1 4 2 12 13 4 2 4 1 12 1 16-1 10-2 6-3 4-7 4-12 4-20 6-40 2-8 2-1 2 8 8 46 4 18 4 10 2 4 4 2 2 1 4-1 10-8 4-1 4 2 8 9 6 2 4-1 8-3 8 1 4 0 2-2 8-6 2-2 4 1 8 6 4 1 2-1 2-3 10-16 2-2 2-1 2 1 2 3 10 19 4 4 4 3 6 2 10 1 42 1" stroke="#EDB120"/>
<path d="M196 2048l64-2 20-2 14-3 12-5 8-6 6-9 6-11 2-12 4-18 2-31 2-30 4-91 6-191 2-37 2-4 0 7 2 42 8 240 2 39 4 40 4 30 4 15 2 8 4 5 4 5 4 3 6 3 4 0 4 0 8-4 2-1 12 3 4 0 2-1 6-4 4-7 4-9 4-12 4-27 4-51 4-89 4-146 2-39 2-6 0 3 2 33 8 218 6 74 4 28 4 15 2 7 4 4 6 7 6 2 4 0 4-1 2-3 6-8 8-21 4-4 4-1 2-2 2-5 2-8 4-24 2-25 8-166 2-21 0 1 2 25 8 168 4 37 2 21 4 10 2 3 4-1 6-9 2 0 2 2 4 7 10 25 4 4 4 3 6 2 8 0 8-2 8-3 4-4 4-5 2-6 4-10 4-26 2-33 8-156 2-25 2-2 2 16 6 140 4 53 2 16 4 16 2 8 4 6 4 1 2-1 2-4 2-4 4-15 6-31 2-7 2-1 2 5 8 43 4 16 2 5 4 5 2 2 2 1 6 0 8-4 4-1 4 1 12 10 4 2 4 1 10 1 14-1 10-1 6-3 4-2 2-3 4-9 4-15 8-34 2-6 0-1 2 1 2 6 6 34 4 15 6 10 2 3 4 1 2 0 4 0 8-6 4-1 4 1 10 7 4 2 12-2 12-1 10-6 4-1 2 1 8 4 4 0 6-3 8-12 2-1 2 0 4 3 8 11 4 5 6 3 6 2 10 1 18 1 76 0" stroke="#7E2F8E"/>
<path d="M196 2037l44-1 30-1 22-2 16-4 12-5 8-7 8-9 6-14 4-17 2-21 4-33 2-33 4-100 6-254 2-41 2-4 0 8 2 48 8 281 6 98 4 39 4 21 2 10 4 8 4 6 6 4 4 3 4 0 4-1 10-5 2 0 10 3 4 0 2-2 6-5 4-9 4-12 4-15 4-36 4-65 2-77 6-200 2-43 2-7 0 4 2 37 8 229 2 71 4 47 4 37 4 20 2 9 4 6 2 4 4 4 6 3 4 0 4-2 2-4 4-8 10-27 4-5 6-4 2-5 2-9 2-24 4-44 6-172 2-36 2-8 0 2 2 27 8 197 4 45 2 27 4 14 2 5 2 0 2-1 6-10 2 0 2 2 4 9 10 30 4 5 4 5 4 2 8 0 8-2 8-3 4-5 4-6 4-8 2-11 4-28 4-36 2-55 6-144 2-28 2-3 2 20 6 162 4 65 2 20 4 20 2 12 4 7 4 2 2-2 2-2 2-5 4-16 6-41 2-7 2-1 2 2 2 9 6 45 4 19 2 6 4 6 2 3 2 2 4 0 10-5 4 0 4 2 8 8 6 4 4 2 8 1 10 1 12-1 8-2 4-3 4-3 2-5 4-11 4-18 8-40 2-6 0-1 2 1 2 6 8 45 4 16 4 11 2 3 4 1 2 1 4-1 8-6 4-2 4 2 10 8 4 2 4 0 10-2 10-1 4-2 6-5 4-1 2 0 8 4 4 1 2 0 2-3 10-14 2-2 2 0 2 1 2 3 8 13 4 6 6 4 4 2 8 2 16 0 64 1" stroke="#77AC30"/>
<path d="M196 2033l22-2 16-2 14-4 10-4 8-7 6-9 6-11 4-14 2-17 4-25 4-54 4-87 8-230 2-27 0-2 2 8 2 36 8 255 6 85 4 37 4 25 4 9 2 6 4 6 6 5 4 2 4 0 12-4 12 1 6-2 6-5 4-7 4-12 2-14 4-31 4-53 4-83 8-184 2-29 0-4 2 4 2 29 8 208 2 59 4 42 4 35 4 20 2 10 4 6 4 5 4 4 4 1 4-1 4-3 2-4 12-28 10-15 4-16 2-23 4-38 8-155 2-25 0-4 2 2 2 22 8 177 4 37 2 24 4 12 2 5 4 0 6-4 2 1 2 3 4 9 10 26 4 7 4 3 6 2 8 0 6-2 6-4 4-4 4-7 4-8 2-12 4-28 4-33 10-179 2-18 0-1 2 5 2 25 6 133 4 54 2 18 4 18 2 11 2 4 2 2 2 1 2-2 4-7 4-10 8-36 2-4 0-1 2 2 2 7 8 37 4 17 2 9 4 6 2 3 4 1 12-2 4 0 4 3 12 9 8 4 12 1 14-1 8-3 6-5 4-6 4-10 12-48 2-6 2-2 2 3 2 7 6 32 6 18 4 9 2 3 4 1 4 0 10-4 4-1 4 2 10 6 6 2 20-3 12-6 2 0 4 0 8 2 2 0 6-3 8-9 4-2 2 0 4 2 10 14 4 5 6 4 8 2 12 1 24 1 106 1" stroke="#4DBEEE"/>
<path d="M196 2044l54-1 38-1 28-2 18-3 14-4 6-3 6-4 4-5 4-6 6-13 4-16 4-26 4-33 2-32 4-128 8-262 2-40 0-3 2 8 2 48 8 292 4 108 4 44 4 24 4 12 4 9 4 7 4 5 6 3 4 0 4-1 8-4 4 0 10 2 2 0 4-2 4-6 6-10 2-10 4-16 4-35 4-63 4-105 6-205 2-42 0-7 2 5 2 37 8 264 4 100 4 43 4 22 4 11 2 7 4 5 4 4 4 3 4 0 4-2 4-4 4-9 10-28 2-4 4-5 2-4 2-6 2-10 4-29 2-48 8-177 2-36 0-7 2 2 2 28 8 222 4 43 2 25 2 9 4 6 2-1 6-6 2-2 2 0 2 2 4 9 10 32 2 6 4 6 6 2 8 1 8-2 6-5 6-5 4-8 2-8 4-14 4-32 2-40 10-207 2-27 0-2 2 6 2 32 6 148 4 70 2 23 2 23 4 13 2 5 2 3 2 1 2-1 4-8 4-17 8-42 2-7 0-1 2 1 0 2 2 9 8 46 4 20 4 14 2 3 4 3 4 0 10-5 4 0 4 3 12 12 6 3 6 1 10 1 12-1 8-2 4-3 4-3 2-5 4-11 4-18 8-46 2-6 2-1 0 1 2 7 8 46 4 17 6 12 2 3 2 2 4 1 2-1 10-6 2-2 4 2 12 9 4 1 12-2 10-1 4-2 8-5 2-1 4 0 8 5 2 0 4-2 2-2 10-14 2-1 2-1 2 2 2 2 12 20 4 4 4 3 6 1 10 1 38 2" stroke="#A2142F"/>
<path d="M196 2052l50-1 36-1 24-2 18-3 14-6 6-3 4-4 4-5 4-6 6-14 4-17 4-30 4-37 2-37 4-111 6-284 2-50 2-7 0 6 2 48 8 283 2 89 4 60 4 47 4 25 2 12 4 10 4 7 6 5 4 3 4 0 4-1 8-4 2-1 4 0 8 3 4-1 4-2 4-6 6-12 2-11 4-17 4-40 4-73 2-85 6-224 2-50 2-11 0 2 2 37 8 285 6 108 4 45 4 24 2 10 4 8 2 5 4 4 6 4 4 0 4-2 2-4 6-12 8-28 4-5 4-5 2-4 4-12 2-28 4-48 8-215 2-29 0-1 2 10 2 42 4 147 4 69 2 46 4 27 2 13 2 2 2 2 2-3 6-8 2-1 2 2 4 9 10 34 4 9 4 4 6 3 10-1 8-3 6-4 4-5 4-8 2-10 4-15 4-37 2-47 8-204 2-33 2-5 0 4 2 33 6 160 4 76 2 24 4 25 4 17 2 4 2 3 2 0 2-2 4-10 4-20 8-45 2-5 2 2 2 9 6 50 4 22 2 8 4 7 2 4 2 2 4 0 10-5 4-1 4 3 10 10 4 3 4 3 8 2 10 0 10-1 8-2 6-3 2-3 4-4 4-15 4-20 8-45 2-7 0-1 2 0 2 7 8 50 4 18 4 13 2 3 4 2 2 1 4-1 8-7 4-1 4 2 10 9 6 2 12-3 10 0 4-2 6-6 4-1 4 0 6 5 4 0 2-1 4-3 8-15 2-2 2 0 2 1 2 2 8 16 4 6 4 4 6 3 6 2 12 1 48 1" stroke="#0072BD"/>
<path d="M196 2038l110-2 30-1 22-3 16-5 6-3 6-4 4-5 4-5 6-13 4-14 4-24 4-31 2-51 6-154 6-272 2-53 0-5 2 10 2 59 6 309 6 129 4 51 4 27 2 12 4 8 4 7 4 7 6 3 4 2 4-1 8-6 4-1 2 1 8 3 4 0 4-2 4-5 6-10 4-13 2-17 4-38 4-74 4-127 6-207 2-55 0-9 2 4 2 46 6 279 6 122 2 39 4 29 4 13 2 9 4 7 4 5 6 4 4 1 4-2 2-3 6-11 10-32 2-5 6-4 2-4 2-9 4-27 2-50 8-235 2-30 2 1 2 34 8 240 2 52 4 31 2 15 2 2 2 2 2-2 6-10 2-2 2 0 2 2 4 10 10 35 2 7 4 4 2 2 4 1 8 0 8-2 8-5 4-6 4-7 4-9 2-15 4-36 4-48 8-222 2-35 0-4 2 23 8 200 4 75 2 23 2 22 4 13 4 8 2 1 2-1 4-5 2-7 4-21 6-44 2-9 0-2 2 0 2 7 8 61 4 22 2 8 2 7 2 3 4 2 2 0 2-1 8-6 4-1 4 2 10 11 4 4 4 2 4 1 10 1 14 0 10-2 6-4 2-3 4-5 4-13 4-21 6-49 2-7 2-1 0 1 2 7 8 49 4 21 2 7 2 8 2 3 4 2 2 1 4-1 10-8 4-1 4 2 8 9 6 3 4-1 8-2 8 0 4-1 4-3 6-5 2-2 4 1 8 6 4 0 2-1 2-3 10-17 2-2 2-1 2 2 2 3 10 20 2 4 4 4 4 2 6 1 22 2" stroke="#D95319"/>
<path d="M196 2045l86-2 24-2 18-2 12-4 10-5 8-8 6-10 4-13 4-22 4-29 2-28 4-86 6-211 2-27 2 2 2 31 6 211 4 66 2 44 4 34 4 18 4 8 4 7 4 5 4 4 6 2 4 0 4 0 10-4 2 0 10 2 6-1 4-4 6-7 4-9 2-11 4-26 4-48 4-84 6-166 2-29 2-2 0 7 2 38 8 190 4 80 4 33 4 16 4 8 2 5 4 4 4 3 4 2 4 1 4-2 4-2 4-8 10-23 4-3 4-2 2-3 4-10 2-22 2-23 8-159 2-27 2-3 0 5 2 29 8 162 4 34 2 20 4 9 0 2 2 1 4-2 6-7 2-1 2 2 4 8 10 23 2 4 4 4 6 2 8 1 8-2 8-3 4-4 4-5 4-6 2-10 4-24 4-32 8-166 2-18 2 1 2 21 6 120 4 66 2 15 4 15 2 9 4 5 4 0 2-1 4-7 4-14 6-33 2-6 2 0 0 1 2 6 8 37 4 17 4 11 4 3 2 1 4 0 10-4 4-1 4 2 12 10 6 2 6 1 22-1 8-1 6-2 2-2 4-4 4-8 4-14 6-34 2-6 2-1 4 7 6 34 4 14 6 9 4 4 4 0 2 0 10-6 4-1 4 1 10 8 4 1 12-2 12 0 4-2 6-4 4-1 2 0 8 4 4 0 4-2 10-11 2-2 2-1 2 1 2 2 12 16 4 3 4 2 8 1 12 1 50 1" stroke="#EDB120"/>
<path d="M196 2047l44-1 32-1 22-3 16-3 14-6 4-3 6-4 6-10 6-14 4-15 4-27 4-33 2-50 4-102 8-248 2-48 0-10 2 1 2 31 8 305 4 71 2 50 4 40 4 22 4 11 2 7 4 7 6 6 4 2 4 1 14-5 2 0 10 2 2-1 4-1 4-6 4-8 4-13 4-16 4-35 4-61 4-98 6-221 2-33 2-3 0 7 2 39 10 275 4 88 4 38 4 21 4 10 2 6 4 5 4 4 4 2 4 0 4-3 2-4 4-9 10-25 8-16 2-7 2-10 4-27 2-45 8-186 2-29 2-4 0 5 2 29 10 211 2 42 4 25 2 10 2 6 2 1 2-1 4-4 2-1 2 0 2 3 4 9 10 31 4 8 4 5 6 2 8 0 8-2 6-4 4-5 4-8 2-8 4-14 4-31 2-39 4-55 6-141 2-31 0-7 2 0 2 22 6 158 6 80 2 20 2 20 4 11 2 6 2 1 2-1 2-3 2-4 4-16 8-43 2-5 2 0 2 3 2 9 10 59 2 11 4 10 4 3 2 1 4 0 8-4 4 1 4 2 12 12 8 3 4 1 8 1 16-1 8-4 4-2 2-4 4-8 4-9 4-19 6-39 2-6 2-2 2 1 2 7 8 43 4 17 4 13 2 2 4 3 2 0 2 0 10-6 4-1 4 2 10 8 6 2 20-3 4-2 8-5 4-1 2 0 8 3 4 0 4-3 10-12 2-2 2-1 2 1 2 3 8 13 6 7 4 5 6 2 8 2 12 1 58 1" stroke="#7E2F8E"/>
<path d="M196 2042l96-2 28-2 20-3 14-4 10-6 6-5 4-5 6-12 4-14 4-23 2-31 2-30 6-124 6-252 2-33 2 2 2 36 8 283 2 72 4 47 4 37 4 19 2 9 4 7 4 6 4 5 6 2 4 1 4-1 10-5 2 0 10 3 4-1 2-1 6-6 4-9 4-9 2-14 4-32 4-61 4-101 6-199 2-35 2-2 0 8 2 45 8 227 4 100 4 40 4 22 4 9 2 7 4 4 4 4 4 3 4 1 4-2 4-3 4-10 10-27 2-3 6-3 2-3 2-5 2-10 2-27 2-29 8-191 2-31 2-4 0 5 2 34 8 195 4 43 2 24 4 12 0 2 2 2 4-2 6-8 2-1 2 2 4 10 10 28 2 6 4 4 6 3 8 0 8-2 8-3 4-5 4-7 4-8 2-12 4-30 4-39 8-180 2-34 0-8 2 1 2 26 6 163 4 61 2 19 4 19 2 10 4 7 4 1 2-2 4-8 4-17 6-40 2-6 2-1 0 1 2 7 8 50 4 18 2 6 4 6 2 3 2 1 6 0 8-5 4 0 4 3 12 11 6 2 6 2 12 0 10-1 8-2 6-2 2-3 4-5 4-10 4-17 6-40 2-8 2-1 4 9 6 40 4 17 6 12 2 2 2 2 4 1 2-1 10-6 4-1 4 1 10 9 4 1 12-2 12-1 4-2 6-5 4-1 2 1 8 4 4 0 2 0 2-3 10-13 2-2 2-1 2 1 2 2 12 19 4 4 4 2 6 2 8 1 36 1" stroke="#77AC30"/>
<path d="M196 2048l58 0 40-1 28-3 20-3 16-6 6-3 6-5 4-6 4-7 6-14 4-17 4-27 4-33 2-52 6-143 6-291 2-52 2-10 0 2 2 41 10 357 2 82 4 55 4 45 4 25 2 12 4 9 4 7 4 7 4 2 4 1 4-1 10-5 4 0 8 2 4 0 2-2 6-7 4-9 4-16 2-18 4-41 4-72 4-116 8-259 2-35 0-1 2 10 2 48 8 293 4 113 4 49 4 27 4 13 2 8 4 6 4 5 4 3 4 1 4-3 2-5 6-12 8-30 10-18 2-7 2-13 2-32 2-32 10-240 2-31 0-3 2 7 2 37 8 226 2 54 4 34 2 18 4 7 2-1 6-6 2-1 2 1 2 3 4 11 10 37 2 7 4 6 4 2 2 1 8 0 8-2 6-6 4-6 4-8 4-11 2-16 4-37 4-45 2-65 6-165 2-35 2-7 0 2 2 28 8 186 4 77 2 26 2 26 4 16 2 6 2 3 2 1 2-1 2-3 2-6 4-18 6-45 2-9 2-2 2 1 2 8 8 58 4 22 4 16 2 4 4 3 4 0 8-4 4-1 2 1 4 3 8 9 4 5 6 3 6 2 8 0 12-1 8-2 4-3 4-3 2-5 6-15 4-20 8-51 2-8 0-1 2 0 0 2 2 8 8 51 4 20 4 11 2 4 4 3 2 1 4 0 10-7 4-1 4 2 10 10 2 1 4 0 20-3 14-9 2 0 8 4 4 0 2-1 2-2 10-15 2-2 2-1 2 1 4 4 12 22 4 4 4 3 4 2 8 2 30 2" stroke="#4DBEEE"/>
<path d="M196 2045l64-2 20-2 14-2 10-5 10-6 6-8 4-12 4-11 2-18 4-30 2-29 4-89 6-188 2-39 0-6 2 5 2 38 8 238 4 80 4 31 4 17 4 7 4 7 4 5 4 3 6 2 4 1 4-1 10-4 12 3 6-1 4-4 6-7 4-9 2-11 4-27 4-50 4-86 6-167 2-24 2 1 2 29 6 192 4 59 2 39 4 30 4 16 4 7 2 4 8 7 4 2 4 1 4-2 4-2 4-8 8-17 2-6 4-2 4-2 2-3 4-11 2-23 2-24 8-162 2-23 2 0 2 21 8 166 2 37 4 22 2 12 4 3 2-1 8-8 2 0 2 1 4 7 10 25 2 4 4 4 6 2 8 0 8-2 8-3 4-4 4-5 4-6 2-10 4-25 4-32 8-152 2-27 0-4 2 4 2 26 6 121 4 54 2 16 2 17 4 11 4 4 4 1 2-2 4-7 4-14 6-34 2-5 2 0 2 8 8 38 4 16 2 5 2 6 2 2 4 1 4 0 10-4 4-1 4 2 8 7 4 3 6 2 6 1 22-1 8-1 6-2 2-3 4-3 4-9 4-14 6-34 2-6 2-1 0 1 2 5 8 33 4 15 4 11 4 3 2 1 4 0 2 0 10-6 4-1 4 1 8 7 6 2 4 0 8-2 12-1 12-6 4 0 8 4 4 0 4-3 10-11 2-2 2 0 2 1 2 2 8 11 4 5 4 3 6 2 10 1 18 1 78 1" stroke="#A2142F"/>
<path d="M196 2050l50 0 36-2 26-2 18-4 8-3 6-3 6-4 6-5 4-5 4-7 6-16 4-17 4-28 2-34 4-52 4-141 8-312 2-35 2-1 0 11 2 52 10 346 4 113 4 50 6 33 2 11 4 9 4 7 4 7 4 2 4 1 4-2 10-4 2 0 10 2 2-1 4-2 4-7 4-10 4-16 4-19 4-42 4-72 4-114 6-250 2-37 2-4 0 7 2 41 8 283 4 79 2 56 4 47 4 26 4 12 2 8 4 6 4 5 4 3 4 0 4-4 2-5 4-10 10-30 8-20 4-22 4-32 2-32 8-230 2-33 2-4 0 4 2 31 10 240 2 50 4 30 2 13 2 8 2 1 2 1 4-5 2-1 2 1 2 3 4 10 12 40 2 7 4 5 4 2 2 1 8 0 8-3 6-5 4-6 4-9 2-11 4-17 4-37 2-45 10-244 2-23 2 0 0 7 2 35 8 181 4 72 2 24 2 24 4 14 2 7 2 2 2-1 2-3 2-5 4-18 8-48 2-6 2 0 2 3 2 10 10 67 2 14 4 11 4 4 4 2 2 0 8-4 4 1 2 0 4 4 10 12 8 4 4 2 8 0 14-1 10-4 2-2 4-4 4-9 4-14 10-65 2-7 2-2 2 4 2 9 8 44 4 20 4 15 2 3 4 3 2 1 2-1 10-6 4-1 4 2 10 9 4 2 4 0 18-3 4-2 8-6 4-1 2 0 8 3 2 0 4-1 2-1 10-15 2-2 2 0 2 0 2 4 10 16 4 8 4 4 6 3 6 2 10 1 42 2" stroke="#0072BD"/>
<path d="M196 2038l36-1 26-1 20-2 14-4 12-5 8-8 8-10 4-13 4-18 4-22 4-65 4-90 8-215 2-38 0-7 2 2 2 31 8 265 4 60 2 41 4 34 4 18 4 9 2 6 4 6 6 5 4 2 4 0 4 0 10-4 12 2 2-1 4-1 4-5 4-7 4-12 4-13 4-31 4-55 4-86 6-191 2-25 2-1 0 8 2 36 8 217 6 84 4 36 4 21 2 9 4 6 2 4 4 4 4 2 4 1 4-2 4-4 4-9 10-22 8-13 2-6 2-10 4-24 2-24 8-178 2-22 2-2 0 5 2 28 8 168 4 40 2 25 4 13 2 5 4 0 4-4 2-1 2 1 2 2 4 8 10 27 4 7 4 4 6 2 8 0 8-3 6-3 4-4 4-7 2-8 4-12 4-27 2-35 10-170 2-26 0-4 2 1 2 21 6 139 4 57 2 19 4 19 2 12 2 4 2 3 2 0 2 0 4-7 4-14 8-33 2-7 0-1 2 0 2 3 2 8 10 52 2 9 4 6 2 4 4 1 4 0 8-3 4 0 4 3 12 9 8 3 12 2 16-1 8-3 6-6 4-7 4-8 10-50 2-5 2-2 0 1 2 1 2 6 8 38 4 15 4 10 2 2 4 2 4 0 10-5 4-1 4 1 10 7 6 2 20-3 14-6 4 0 8 2 2 1 6-3 10-11 2-2 2 0 4 2 8 13 6 6 4 4 8 2 10 1 16 1 74 1" stroke="#D95319"/>
<path d="M196 2035l60-1 40-1 30-2 22-3 16-5 12-6 4-4 6-6 6-12 6-16 4-21 4-35 2-41 6-111 8-254 2-39 0-8 2 1 2 27 10 304 2 64 4 46 4 38 4 27 4 9 2 7 4 6 4 4 4 2 4 1 14-4 12 0 6-3 4-6 4-9 4-11 2-16 4-34 4-57 4-89 8-203 2-39 0-10 2-2 0 7 2 33 8 228 4 66 2 48 4 41 4 24 6 17 2 6 4 5 4 2 4 1 4-3 4-6 4-8 10-25 8-17 4-18 2-25 4-39 8-186 2-23 2-3 0 5 2 25 10 194 2 42 4 26 2 15 4 6 2 1 6-3 2 1 4 4 4 10 8 28 4 8 4 5 6 3 6 0 8-2 6-5 4-5 4-8 4-8 2-14 4-30 4-36 4-68 6-128 2-26 0-5 2 0 2 19 8 162 4 60 4 42 4 13 2 6 2 1 2-1 2-2 2-5 4-15 8-34 2-6 0-1 2 0 2 3 2 8 10 58 4 13 4 7 4 3 2 0 10-2 4 1 4 2 14 12 4 2 4 2 14 1 14-2 4-2 4-3 4-6 4-6 6-21 8-44 2-6 2-1 2 3 2 8 8 35 4 17 4 12 2 3 4 3 2 1 2 0 10-5 4 0 4 1 10 7 4 2 6 0 12-2 6-2 12-6 4 0 8 2 4-1 6-3 8-9 4-2 4 2 12 19 4 4 4 3 6 2 6 1 20 2" stroke="#EDB120"/>
<path d="M196 2044l44 0 32-2 24-2 16-3 12-5 10-6 6-9 6-13 4-15 4-19 2-30 2-30 6-118 6-203 2-44 0-8 2 2 2 36 8 285 6 85 4 34 4 19 2 8 4 6 4 6 4 4 6 3 4 0 4-1 10-4 12 3 4-1 2-2 6-5 4-9 4-9 2-14 4-32 4-58 4-69 6-208 2-29 2-1 0 9 2 42 8 232 6 80 4 33 4 17 2 8 4 5 2 4 4 4 4 2 4 0 4-2 4-3 4-9 10-23 2-5 6-5 2-4 2-8 4-21 2-39 8-175 2-27 2-2 0 6 2 32 8 179 4 39 2 23 4 11 0 2 2 2 4-2 6-7 2 0 2 1 4 10 10 27 4 5 4 4 6 2 8 0 8-2 6-4 4-4 4-7 4-7 2-13 4-29 4-37 8-167 2-30 0-5 2 2 2 25 6 150 4 56 2 17 4 18 2 10 2 4 2 2 4 0 2-1 4-8 4-16 6-37 2-5 2 0 0 1 2 7 8 46 4 17 2 5 4 6 2 2 2 2 4-1 10-4 4 0 4 2 12 11 6 2 6 1 12 1 10-1 8-2 6-3 2-2 4-5 4-10 4-16 6-37 2-6 2-1 2 1 2 7 6 37 4 16 6 11 2 2 2 2 4 1 2-1 10-6 4-1 4 2 10 7 4 2 12-2 12-1 10-6 4-1 2 0 8 4 4 0 4-3 10-12 2-2 2 0 2 1 2 2 8 14 4 4 6 4 4 2 8 1 14 1 60 1" stroke="#7E2F8E"/>
<path d="M196 2041l40-1 28-1 20-2 16-3 12-5 8-7 8-10 4-12 4-17 4-22 2-34 2-33 4-100 8-243 2-32 2 34 8 271 4 70 2 46 4 36 4 19 4 9 2 6 4 6 6 5 4 2 4 1 4-1 10-4 4 0 8 3 4-1 4-2 4-5 6-9 2-8 4-13 4-31 4-58 4-97 6-191 2-35 0-3 2 8 2 41 8 244 4 84 4 34 4 18 4 8 2 6 4 4 4 4 4 2 4 0 4-1 2-3 6-10 10-25 2-3 4-4 2-2 2-5 2-10 4-25 2-28 8-183 2-31 0-4 2 5 2 31 8 188 2 41 4 25 2 12 2 2 2 1 2-1 6-7 2-2 2 1 2 2 4 8 10 29 2 5 4 4 6 2 8 0 8-1 8-4 4-4 4-7 2-7 4-12 4-28 2-37 10-192 2-22 2 23 8 157 4 60 2 18 2 19 4 10 4 6 2 1 2-1 4-8 4-16 8-39 2-6 0-1 2 1 2 7 8 48 4 18 2 5 2 6 2 3 4 1 4 0 10-5 4 0 4 3 12 10 4 3 8 1 10 0 12-1 8-1 4-3 4-2 2-5 4-9 4-17 8-38 2-8 0-1 2-1 0 2 2 7 8 38 4 17 4 11 2 3 4 2 2 1 4-1 10-6 2-1 4 1 10 8 6 2 12-3 10 0 4-2 8-5 2-1 4 1 8 4 2 0 2-1 4-2 8-13 2-2 2 0 2 0 2 2 10 15 4 5 4 4 6 2 10 1 16 1 70 1" stroke="#77AC30"/>
<path d="M196 2054l42-1 32-2 22-2 16-4 12-5 4-3 6-5 6-9 6-14 4-16 4-19 2-28 4-43 4-114 8-216 2-35 0-5 2 3 2 32 8 267 4 63 2 44 4 36 4 21 4 9 2 7 4 7 6 5 4 2 4 0 12-4 4 0 10 1 2-1 4-1 4-6 4-8 4-9 2-14 6-41 4-60 4-92 6-168 2-36 0-7 2 0 2 24 8 240 4 59 2 41 4 34 4 19 6 13 2 5 4 5 4 2 4 0 4-3 4-3 4-10 10-23 8-14 4-15 2-22 4-38 8-178 2-20 2-1 0 6 2 29 10 184 2 36 4 22 2 8 2 6 2 1 2 0 4-4 2 0 2 1 2 2 4 9 10 28 4 7 4 4 6 2 8 0 6-2 6-4 4-4 4-7 4-8 2-12 4-27 4-32 4-65 6-122 2-24 0-3 2 2 2 22 6 139 4 59 2 20 4 21 2 12 2 5 2 3 2 1 2-1 4-8 4-14 8-33 2-6 0-1 2 0 2 4 2 8 10 52 2 10 4 8 4 3 2 1 4 0 8-3 4 1 4 2 12 10 8 4 12 1 16-1 8-3 6-5 4-7 2-9 4-15 8-34 2-7 2-3 2 2 2 6 8 38 4 15 4 11 2 2 4 2 4 0 10-5 4 0 4 2 10 7 8 1 18-3 14-7 4 0 6 3 4 0 4-1 2-2 10-11 2-1 2 0 2 1 2 2 8 12 6 6 4 4 6 3 8 1 14 1 60 1" stroke="#4DBEEE"/>
<path d="M196 2056l98-2 28-2 20-3 16-5 6-3 6-3 8-9 4-6 2-7 6-16 4-24 2-29 4-45 4-124 8-241 2-35 0-2 2 8 2 43 8 297 6 91 4 39 4 21 2 10 4 7 4 7 4 5 6 3 4 0 4-1 8-4 4 0 10 2 2-1 4-2 4-6 6-10 2-11 4-16 4-35 4-64 4-100 6-189 2-36 0-6 2 4 2 35 8 243 2 65 4 45 2 30 4 23 4 10 2 7 4 5 4 5 4 2 4 1 4-2 2-3 6-10 10-27 6-10 2-4 4-12 2-24 4-40 8-181 2-32 0-6 2 2 2 26 8 206 4 41 2 24 2 10 4 6 0 1 2-1 8-6 2 0 2 2 4 9 10 30 4 8 4 4 6 2 6 0 8-2 6-4 4-4 4-7 4-8 2-12 4-27 4-35 4-72 6-136 2-23 0-2 2 6 2 29 6 137 4 66 2 22 2 23 4 14 2 5 2 3 2 2 2-2 4-8 4-16 8-38 2-6 0-1 2 1 0 2 2 8 8 48 4 17 6 13 2 2 2 2 4 0 10-4 4 0 4 2 12 12 6 3 6 1 10 1 10-1 8-2 6-3 4-5 6-12 4-20 8-38 2-7 2-3 0 1 2 6 8 42 4 17 6 12 2 3 2 2 4 0 2 0 10-6 2-1 2 0 4 2 10 8 4 1 22-3 12-6 2-1 4 0 8 3 2 1 4-2 2-2 10-12 2-2 2 0 4 3 12 19 4 4 4 2 4 2 8 1 30 2" stroke="#A2142F"/>
<path d="M196 2050l50-1 34-1 24-1 18-4 14-5 10-6 4-5 4-5 6-13 4-15 4-26 4-64 6-124 6-251 2-40 2-5 0 6 2 43 10 308 4 95 4 39 4 22 4 10 2 7 4 7 6 5 4 3 4 0 4-1 10-4 2 0 10 2 4 0 2-2 6-5 4-11 4-10 2-15 4-34 4-62 4-101 6-197 2-41 2-8 0 2 2 34 8 252 4 68 2 47 4 37 4 20 4 9 2 7 4 4 4 4 4 2 4 1 4-3 2-3 4-9 10-27 10-14 2-6 2-10 2-28 4-46 6-169 2-35 2-8 2 25 10 214 2 43 4 25 2 13 2 2 2 2 2-1 6-7 2 0 2 2 4 9 12 33 2 6 4 4 6 3 8 0 8-2 6-5 4-5 4-7 4-8 2-14 4-31 4-39 8-199 2-27 2-4 0 5 2 29 8 162 4 61 2 20 2 20 4 11 2 5 2 2 2 1 2-2 4-8 4-16 6-39 2-7 2-2 0 1 2 1 2 8 10 61 2 11 4 9 4 3 4 2 2-1 8-4 4 0 2 0 4 3 10 10 8 4 6 2 6 0 16-1 10-3 2-3 4-3 4-8 2-10 4-19 6-34 2-8 2-3 2 2 2 8 8 40 4 17 4 12 2 3 4 2 2 1 4-1 8-6 4-1 4 2 10 8 6 2 22-3 4-2 6-5 4-1 2 0 8 4 4 0 2 0 2-3 10-13 2-2 2 0 2 1 2 2 10 15 4 5 4 4 4 2 8 2 12 1 48 1" stroke="#0072BD"/>
<path d="M196 2047l58 0 40-1 30-2 20-3 14-5 6-3 6-5 6-5 4-6 6-14 4-15 4-25 2-31 4-48 4-136 8-288 2-53 0-10 2 2 2 40 8 320 2 88 4 60 4 49 4 27 2 12 4 9 4 8 4 6 6 4 4 1 4-1 10-5 2 0 10 2 2 0 4-2 4-6 4-9 4-14 4-17 4-38 4-68 4-111 6-256 2-36 2-2 0 10 2 49 8 288 6 108 4 46 4 25 2 12 4 7 2 6 4 5 4 3 4 0 4-2 4-4 4-12 10-29 2-7 6-9 2-7 2-11 4-30 2-50 8-216 2-32 2-3 0 6 2 37 8 222 4 53 2 32 4 16 2 6 2 1 2-1 4-7 2-1 2 1 2 2 4 11 10 36 4 6 4 6 2 2 4 1 6 0 8-3 8-5 4-5 4-8 2-9 4-15 4-35 2-43 4-62 6-163 2-36 0-7 2 2 2 28 6 184 4 74 2 25 4 24 2 15 2 5 2 3 2 1 2 0 2-2 4-11 2-14 8-50 2-6 2 0 0 1 2 8 8 57 4 22 6 15 2 3 2 3 2 0 4 0 8-5 4 0 4 3 8 10 6 4 4 3 6 1 10 1 12-1 8-2 4-4 6-6 4-14 4-19 8-51 2-8 2-1 2 2 2 8 8 51 4 18 4 11 2 4 2 3 4 1 2-1 10-7 4-1 4 2 10 9 2 2 4 0 10-2 10-1 4-2 8-6 4-1 2 0 8 4 4 0 2-1 2-3 10-15 4-2 2 1 2 3 12 23 4 3 4 3 4 3 8 1 30 2" stroke="#D95319"/>
<path d="M196 2043l56 0 38-2 28-2 20-3 14-5 6-3 6-4 4-5 4-5 6-13 4-14 4-23 4-28 2-43 6-121 8-279 2-31 2 11 2 48 8 279 2 72 4 50 4 40 4 23 2 10 4 8 4 7 4 5 4 3 6 0 12-5 4 0 8 2 4 0 2-2 6-6 4-8 4-13 2-15 4-35 4-61 4-98 8-223 2-34 0-3 2 6 2 39 8 277 6 89 4 38 4 21 4 14 4 6 4 4 4 3 4 0 4-3 4-4 4-9 8-26 10-16 2-6 2-10 2-27 4-44 8-188 2-30 0-4 2 4 2 29 8 213 4 42 2 26 2 9 4 7 0 1 2-1 6-5 2-1 2 1 2 2 4 9 10 32 4 8 4 4 6 3 6 0 8-3 6-4 4-5 4-7 4-9 2-14 4-31 4-38 2-55 6-142 2-33 2-7 2 21 8 160 4 81 2 20 4 20 2 11 4 6 0 1 2 0 2-2 4-9 4-18 8-38 2-5 0-1 2 4 2 8 10 60 4 12 4 9 2 3 4 1 4 0 8-4 4 1 4 2 12 12 6 3 6 2 6 0 16-1 10-3 2-3 4-3 4-9 2-9 4-18 8-40 2-7 0-1 2 0 0 1 2 6 8 44 4 17 6 13 2 2 2 3 2 0 4 0 10-6 4-1 4 2 10 8 6 2 20-3 4-2 8-5 2-1 4 0 6 3 4 0 6-3 8-12 2-2 2-1 2 1 4 3 8 14 4 6 4 4 4 2 6 2 8 1 34 2" stroke="#EDB120"/>
<path d="M196 2057l56-1 40-2 28-2 22-3 14-5 6-3 6-4 6-5 4-5 4-7 2-7 6-17 4-25 2-30 4-45 4-123 8-245 2-46 0-10 2 0 2 30 8 301 4 73 2 51 4 42 4 24 4 11 2 8 4 7 6 6 4 2 4 1 14-5 12 2 2-1 4-2 4-6 4-8 4-14 4-17 4-36 4-63 4-99 6-218 2-32 2-3 0 6 2 37 10 272 4 91 4 40 4 22 6 16 2 5 4 5 4 3 4 0 4-2 4-4 4-11 10-26 8-17 4-12 2-24 4-39 8-201 2-28 2-3 0 3 2 29 10 209 2 42 4 27 2 10 2 7 2 1 2 0 4-4 2-1 2 1 2 2 4 9 10 32 4 8 4 5 6 2 8 0 8-2 6-5 4-5 4-8 2-9 4-15 4-32 2-40 10-194 2-31 0-7 2 1 2 20 8 176 4 61 2 21 2 21 4 12 2 6 2 1 2-1 2-3 2-4 4-16 8-41 2-6 2 0 2 3 2 9 10 58 2 12 4 10 4 3 2 2 4-1 8-3 6 1 4 3 10 11 8 4 4 1 8 0 14-1 10-3 6-5 4-8 4-12 10-57 2-6 2-2 2 1 2 6 8 43 4 17 4 13 2 3 4 2 2 1 2 0 10-6 4-1 4 2 10 8 4 1 4 1 18-3 12-7 4-1 2 0 8 3 2 0 6-2 10-13 2-2 2 0 2 0 2 3 10 15 4 5 6 6 6 2 8 2 28 1" stroke="#7E2F8E"/>
<path d="M196 2038l38 0 26-2 20-2 14-4 12-5 8-8 8-11 4-14 4-18 4-23 4-69 4-99 8-244 2-43 0-8 2 4 2 37 8 272 2 73 4 49 4 40 4 22 2 10 4 9 4 6 6 5 4 2 4 1 4-1 10-4 12 2 2 0 4-2 4-5 4-8 4-11 4-15 4-32 4-58 4-96 6-217 2-28 2 0 0 10 2 43 8 244 6 90 4 37 4 21 2 9 4 7 2 4 4 4 4 3 4 0 4-2 4-4 4-10 10-24 2-6 6-7 2-6 2-10 4-25 2-27 2-56 6-144 2-26 2-1 0 6 2 33 8 188 4 44 2 26 4 13 2 5 4-1 6-7 2 0 2 3 4 9 10 31 4 7 4 3 6 2 8 0 8-2 6-4 4-4 4-7 2-8 4-13 4-29 2-37 4-53 6-139 2-29 0-5 2 3 2 25 6 157 4 62 2 20 4 20 2 11 2 5 2 3 2 0 2-1 2-2 2-5 4-15 8-43 2-5 2 0 0 2 2 7 10 58 4 12 4 9 2 3 4 2 4-1 8-4 4 1 4 2 12 10 8 4 12 2 16-2 8-2 4-3 2-3 4-8 4-9 4-17 6-39 2-6 2-1 2 2 2 7 6 38 6 21 4 11 2 2 4 2 4-1 10-5 4-2 4 2 10 8 6 2 10-2 10-1 14-8 4 1 8 3 4 0 4-3 10-13 2-1 2-1 2 1 2 2 8 15 6 6 4 4 6 2 10 1 18 1 72 1" stroke="#77AC30"/>
<path d="M196 2050l62 0 44-2 28-2 22-3 8-3 8-3 6-3 4-4 6-6 4-6 6-13 4-16 4-26 2-32 4-53 4-149 8-303 2-41 0-1 2 13 2 61 8 337 4 117 4 48 4 26 4 12 2 8 4 8 6 6 4 4 4 1 4-1 10-6 4 0 8 3 4-1 4-2 4-6 6-12 2-12 4-17 4-41 4-74 4-122 6-238 2-44 0-5 2 8 2 49 8 304 4 111 4 36 4 29 4 18 4 9 4 5 6 4 4 1 4-2 2-4 6-12 10-33 2-4 4-5 2-4 2-7 2-12 4-34 2-35 8-228 2-38 0-6 2 4 2 37 8 235 2 54 4 33 2 16 2 3 2 3 2-2 6-8 2-2 2 1 2 2 4 11 10 36 2 7 4 6 4 2 2 0 8 0 8-2 8-6 4-5 4-8 2-10 4-16 4-37 2-47 10-240 2-28 0-1 2 27 8 196 4 76 2 25 2 25 4 14 2 5 2 4 2 1 2-2 4-10 4-20 8-48 2-8 0-1 2 1 2 8 8 60 4 23 2 7 2 8 2 3 4 3 4 0 10-6 4 0 4 3 8 10 4 4 6 3 6 2 10 0 12-1 8-3 4-3 4-3 2-6 4-13 4-20 8-48 2-10 0-2 2 0 0 1 2 9 8 47 4 22 4 15 2 3 4 3 2 1 4-1 10-7 2-2 4 2 10 9 2 2 4 1 4 0 8-2 10-1 4-3 8-6 2-1 4 1 8 5 2 0 2-1 4-3 8-15 2-3 2-1 2 1 2 2 12 23 4 4 4 4 4 2 6 1 26 2" stroke="#4DBEEE"/>
<path d="M196 2054l54-1 38-1 28-2 20-4 14-4 12-7 8-9 4-6 2-7 6-17 4-25 2-29 4-44 4-120 8-233 2-41 0-7 2 2 2 32 8 287 4 68 2 47 4 40 4 22 4 10 2 7 4 7 6 6 4 2 4 1 14-5 12 1 2 0 4-2 4-6 4-8 4-10 2-14 6-42 4-62 4-96 6-183 2-41 0-9 2-1 0 8 2 38 10 259 4 84 4 37 4 20 6 15 2 5 4 4 4 3 4 0 4-3 4-3 4-11 10-24 8-15 4-14 2-23 4-39 8-192 2-24 2-2 0 6 2 29 10 198 2 40 4 24 2 9 2 6 2 1 2 0 4-4 2-1 2 1 2 3 4 8 10 31 4 7 4 5 6 2 8 0 8-3 6-4 4-5 4-8 2-9 4-14 4-32 2-39 10-186 2-27 0-5 2 2 2 21 6 150 6 75 2 19 2 20 4 11 2 5 2 1 2-1 4-8 4-15 8-35 2-7 0-2 2 0 2 4 2 8 10 56 2 11 4 9 4 3 2 1 4 0 8-3 4 1 4 2 12 11 8 4 4 1 8 0 14-1 10-3 6-5 4-8 4-12 10-49 2-8 2-4 2 2 2 6 8 41 4 16 4 12 2 3 4 2 4 0 10-5 4-1 4 2 10 7 4 2 4 0 18-3 14-7 4 0 8 2 2 1 6-3 10-12 2-1 2-1 2 1 2 3 10 14 4 5 4 3 4 3 6 2 8 1 34 1" stroke="#A2142F"/>
<path d="M196 2044l66 0 44-1 30-1 22-3 16-5 6-3 6-4 6-5 4-5 4-7 2-8 4-14 4-24 4-30 2-48 6-138 6-290 2-47 2-6 0 8 2 51 8 323 6 119 4 50 4 26 2 12 4 9 4 8 4 6 6 4 4 1 4-1 10-5 2 0 10 3 4-1 2-2 6-6 4-11 4-11 2-16 4-25 2-26 4-78 2-90 6-227 2-49 2-9 0 3 2 40 8 291 6 112 4 47 4 25 2 11 4 8 2 5 4 5 6 4 4 0 4-2 2-5 4-9 10-31 4-6 4-6 2-4 4-15 2-30 4-51 6-195 2-42 2-9 2 30 10 246 2 47 4 28 2 10 2 7 2 0 2-1 6-9 2 0 2 2 4 9 10 36 4 7 4 5 4 3 8 0 8-2 8-4 4-6 4-8 4-9 2-14 4-34 4-44 2-64 6-164 2-32 2-3 0 5 2 35 6 163 4 78 2 25 4 26 2 14 2 6 2 4 4 1 2-1 2-3 2-6 4-18 6-46 2-9 2-1 2 2 2 10 6 51 4 22 6 16 2 4 2 2 4 1 10-6 4 0 4 3 10 10 4 4 4 2 8 2 10 0 10-1 8-2 6-3 2-3 4-5 4-12 4-19 8-51 2-7 0-1 2 1 2 6 8 51 4 20 4 11 2 4 2 3 4 1 2-1 4-1 6-6 4-1 4 2 10 9 6 2 12-3 10 0 4-2 6-6 4-2 2 1 8 4 4 1 2-1 2-2 10-17 2-1 2-1 2 1 2 3 12 21 6 6 4 3 6 1 18 2" stroke="#0072BD"/>
<path d="M196 2051l52-1 36-1 26-3 20-4 14-6 6-4 4-5 6-6 4-7 6-16 4-17 4-30 2-36 4-53 4-145 8-281 2-48 0-9 2 3 2 38 8 346 4 82 2 58 4 47 4 27 4 13 2 9 4 8 6 6 4 3 4 1 14-6 12 2 2-1 4-2 4-7 4-10 4-12 2-17 6-51 4-75 4-117 6-219 2-49 0-11 2-1 0 9 2 46 10 312 4 102 4 44 4 25 6 18 2 6 4 6 4 2 4 1 4-3 4-5 4-12 10-30 8-17 4-18 2-29 4-46 8-231 2-29 2-2 0 6 2 35 10 239 2 48 4 29 2 12 2 7 2 1 2 0 4-5 2 0 2 1 2 3 4 11 10 36 4 9 4 6 6 2 6 1 8-3 6-5 4-6 4-8 4-10 2-14 4-34 4-59 10-224 2-32 0-6 2 2 2 26 6 180 6 91 2 23 2 23 4 14 2 6 2 1 2-1 2-3 2-6 4-18 8-43 2-8 0-2 2 0 2 5 2 10 10 67 2 13 4 11 4 4 2 1 4 0 8-3 4 0 4 3 12 13 8 5 4 1 8 1 14-2 6-1 4-2 2-3 4-4 4-9 4-15 10-60 2-9 2-4 2 2 2 7 8 50 4 19 4 14 2 4 4 2 2 1 2-1 10-6 4 0 4 2 10 9 4 1 4 0 18-3 14-9 4 0 6 3 4 1 2-1 4-3 10-14 2-2 2 0 2 1 2 3 10 17 4 6 4 4 4 4 6 2 10 1 40 2" stroke="#D95319"/>
<path d="M196 2039l28-2 22-2 16-3 12-5 10-6 8-8 6-11 4-16 4-21 4-27 4-77 4-104 8-241 2-40 0-6 2 4 2 36 10 323 4 90 4 38 6 26 2 9 4 6 4 6 4 5 4 2 4 0 12-5 4 0 10 2 2-1 4-2 4-6 4-8 4-14 4-16 4-37 4-64 4-100 6-189 2-41 0-8 2 0 2 28 8 267 4 64 2 44 4 36 4 20 4 10 2 6 4 5 4 4 4 1 2 0 4-2 4-4 4-11 10-25 8-14 4-15 2-24 4-40 8-199 2-23 2-1 0 7 2 32 6 147 4 58 2 39 4 24 2 8 2 6 2 1 2-1 4-4 2-1 2 1 2 3 4 9 10 31 4 8 4 4 6 3 8-1 8-2 6-5 4-5 4-8 2-9 4-14 4-33 2-41 10-192 2-27 0-4 2 3 2 25 6 155 4 64 2 22 4 22 2 13 2 6 2 2 2 1 2-1 4-8 4-16 8-37 2-7 0-1 2 0 2 4 2 10 10 57 2 11 4 7 2 4 4 2 4-1 8-3 4 1 4 2 12 11 8 4 12 2 16-2 8-3 6-5 4-8 4-12 10-52 2-8 2-3 0 1 2 1 2 7 8 43 4 16 4 12 2 2 4 2 4 0 10-5 4-1 4 2 10 7 2 2 4 0 20-3 14-7 4 0 6 2 4 1 6-3 10-12 2-2 2 0 2 0 2 2 10 16 4 6 6 4 6 3 12 1 20 1 90 1" stroke="#EDB120"/>
<path d="M196 2057l44-2 32-2 22-2 16-4 14-6 4-4 6-4 6-11 6-15 4-17 4-20 2-31 4-46 4-124 8-237 2-40 0-7 2 3 2 33 8 293 4 69 2 49 4 40 4 23 4 11 2 7 4 7 6 6 4 2 4 1 12-5 4 0 10 1 2-1 4-1 4-7 4-8 4-10 2-15 6-44 4-65 4-99 6-186 2-40 0-9 2-1 0 9 2 39 10 264 4 86 4 38 4 21 6 15 2 5 4 5 4 2 4 1 4-3 4-4 4-11 10-25 8-15 4-16 2-24 4-40 8-196 2-23 2-2 0 6 2 30 10 202 2 41 4 24 2 10 2 6 2 1 2 0 4-4 2 0 2 1 2 2 4 9 10 31 4 8 4 5 6 2 6 0 8-3 6-4 4-4 4-8 4-8 2-13 4-29 4-50 10-190 2-27 0-4 2 2 2 22 6 153 6 77 2 19 2 20 4 11 2 6 2 1 2-1 4-8 4-16 8-36 2-6 0-2 2 0 2 4 2 9 10 57 2 11 4 9 4 3 2 1 4 0 8-3 4 1 4 2 12 11 8 4 12 2 16-2 8-3 6-5 4-8 4-13 10-50 2-8 2-3 2 1 2 7 8 42 4 16 4 12 2 3 4 2 4 0 10-5 4-1 4 2 10 8 4 1 4 0 18-3 14-7 4 0 6 2 4 1 6-3 10-12 2-2 2 0 2 1 2 3 10 14 4 5 4 5 6 2 8 2 14 1 56 1" stroke="#7E2F8E"/>
<path d="M196 2047l58-1 42-1 28-2 22-3 14-5 6-3 6-4 6-5 4-5 4-8 2-7 4-14 4-24 4-29 2-44 6-126 8-302 2-38 0-2 2 9 2 49 8 331 6 103 4 44 4 24 2 12 4 8 4 7 4 6 4 3 6 1 4-2 8-4 4 0 8 2 4 0 2-2 6-6 4-8 4-13 2-16 6-48 4-72 2-81 8-242 2-40 0-6 2 5 2 39 8 272 2 73 4 51 4 41 4 23 4 15 4 6 4 5 4 3 4 0 4-3 4-4 4-10 10-30 8-14 2-6 2-10 2-27 4-46 8-202 2-35 0-6 2 3 2 29 8 230 4 46 2 28 2 10 4 7 0 1 2 0 6-6 2-1 2 0 2 3 4 9 10 34 4 9 4 5 6 2 6 0 8-2 6-5 4-5 4-7 4-9 2-14 4-32 4-40 2-57 8-175 2-25 0-1 2 6 2 34 6 152 4 74 2 25 2 26 4 15 2 6 2 4 0 1 2 0 2-2 4-9 4-18 8-42 2-7 0-1 2 1 0 2 2 9 8 54 4 20 2 7 4 7 2 2 2 2 4 0 10-4 4 0 4 3 12 13 6 3 6 2 10 0 10-1 8-2 6-3 4-6 6-13 4-23 8-43 2-8 0-2 2 0 0 1 2 6 8 48 4 18 6 14 2 3 2 2 4 1 2-1 10-6 2-1 2 0 4 2 10 9 4 2 22-4 4-1 8-6 2-1 4 0 8 4 2 0 6-4 8-13 2-2 2-1 2 1 4 3 12 21 4 4 4 3 4 2 8 1 26 2" stroke="#77AC30"/>
<path d="M196 2056l46-1 32-2 24-3 16-4 14-6 4-3 6-5 6-11 6-15 4-18 4-22 2-34 4-52 4-106 6-262 2-50 2-11 2 33 10 322 2 74 4 51 4 41 4 23 2 11 4 7 4 8 4 5 4 3 4 0 4 0 10-5 4 0 8 2 4-1 2-1 6-6 4-9 4-13 2-16 4-36 4-63 4-102 8-234 2-35 0-3 2 7 2 42 8 263 4 104 4 45 4 24 4 12 2 7 4 6 4 5 4 2 4 1 4-3 2-3 6-12 10-29 8-13 2-7 2-11 2-27 4-46 8-197 2-31 0-4 2 5 2 31 8 222 4 43 2 26 2 10 4 7 2 0 6-6 2-1 2 1 2 2 4 10 10 33 4 8 4 4 6 3 6 0 8-3 6-4 4-5 4-8 4-9 2-14 4-32 4-40 2-57 6-149 2-34 2-7 2 23 8 168 4 70 2 24 2 24 4 14 2 6 2 3 0 1 2 0 2-2 4-9 4-19 8-40 2-5 0-1 2 4 2 9 10 62 4 12 4 10 2 3 4 1 4 0 8-4 4 0 4 3 12 12 6 4 6 1 6 0 16-1 10-3 2-3 4-3 4-9 2-10 4-19 8-41 2-7 0-2 2 0 0 1 2 7 8 47 4 17 6 13 2 3 2 2 2 0 4 0 10-6 2-1 4 1 12 9 4 2 22-3 4-2 8-6 2-1 4 1 6 3 4 0 6-3 8-13 2-2 2-1 2 1 4 3 8 15 4 7 6 4 4 3 8 1 14 1 54 2" stroke="#4DBEEE"/>
<path d="M196 2048l62-1 42-1 30-3 22-3 10-2 8-3 6-4 6-4 4-5 4-5 8-15 4-18 4-24 4-31 2-46 6-130 8-318 2-46 0-7 2 6 2 43 8 317 2 87 4 62 4 50 4 29 2 13 4 9 4 8 4 7 4 3 6 1 4-1 10-5 10 2 4 0 2-2 6-6 4-9 4-14 2-16 6-50 4-75 4-117 6-221 2-47 0-10 2 2 2 33 8 283 2 82 4 58 4 47 4 27 2 12 4 8 2 6 4 5 4 3 4 0 4-3 4-5 4-9 10-32 8-16 2-7 2-11 2-27 4-47 8-234 2-26 2-1 0 9 2 38 8 220 4 52 2 32 4 17 2 7 2 0 2-1 6-6 2 0 2 4 4 11 10 36 4 7 4 6 2 2 4 1 6 0 8-3 6-4 4-6 4-8 4-9 2-14 4-34 4-58 10-225 2-32 0-4 2 4 2 30 6 182 4 74 2 25 4 25 2 15 2 6 2 3 2 1 2-1 2-4 2-6 4-18 8-44 2-8 0-1 2 0 2 10 8 56 4 22 6 16 2 3 2 3 4 0 10-4 4 0 4 3 14 14 4 3 6 2 10 0 10-1 8-2 6-3 2-3 4-6 4-15 4-20 8-45 2-9 2-3 2 2 2 8 8 51 4 18 4 12 2 3 2 3 2 1 4 0 10-7 4-1 4 3 10 8 2 2 4 0 20-3 4-2 8-6 2-1 4 0 6 3 4 1 2-1 4-2 10-15 2-2 2 0 2 1 2 2 12 22 6 7 4 3 6 1 20 2" stroke="#A2142F"/>
<path d="M196 2046l52 0 36-2 26-2 20-4 14-5 6-3 4-4 6-6 4-6 6-14 4-16 4-26 2-33 4-52 4-146 8-292 2-45 0-4 2 10 2 52 8 328 2 83 4 55 4 45 4 24 2 12 4 8 4 7 4 6 6 4 4 0 4-1 8-5 4 0 6 2 4 1 2-1 4-2 4-7 6-12 2-12 4-18 4-40 4-73 4-119 6-230 2-46 0-7 2 4 2 42 8 295 4 115 4 49 4 26 4 12 2 8 4 6 4 5 4 4 4 0 4-3 4-4 4-10 10-32 8-16 2-7 2-12 4-33 2-34 8-219 2-40 0-7 2 1 2 31 8 249 4 49 2 29 2 11 4 7 2-1 6-7 2-1 2 0 2 2 4 10 10 36 4 9 4 5 6 3 8 0 8-3 6-5 4-6 4-8 2-10 4-16 4-37 2-46 10-232 2-30 0-3 2 7 2 36 6 165 4 79 2 27 2 26 4 16 2 6 2 3 2 2 2-2 4-9 4-20 8-45 2-8 0-2 2 1 0 2 2 10 8 52 4 27 2 7 4 7 2 3 2 2 4 0 10-5 4 0 4 3 12 14 6 3 6 2 10 0 10-1 8-2 6-3 2-3 4-5 4-15 4-20 8-46 2-9 0-3 2-1 0 1 2 7 8 52 4 20 6 14 2 3 2 2 4 1 2-1 10-7 2-1 2 0 4 2 10 9 4 2 12-2 10-1 4-2 8-6 2-1 4 0 8 4 2 1 4-2 2-3 10-15 2-2 2 0 2 1 2 3 12 22 4 5 4 3 6 2 10 2 42 1" stroke="#0072BD"/>
<path d="M196 2040l36-1 26-1 18-3 14-4 12-6 8-7 6-12 6-14 2-14 4-21 4-66 6-126 6-247 2-32 2 0 0 10 2 50 8 276 6 100 4 41 4 23 2 10 4 10 4 6 6 5 4 2 4 1 4-1 10-5 2 0 10 3 4-1 2-2 6-6 4-10 4-10 2-16 4-35 4-64 4-103 6-193 2-35 2-4 0 7 2 40 8 249 6 94 4 39 4 22 2 9 4 7 2 4 4 5 4 2 4 1 4-2 4-4 4-10 10-27 2-3 6-6 2-3 2-12 4-23 2-41 8-187 2-31 2-4 0 4 2 29 8 193 4 46 2 27 4 15 2 5 2 0 2-1 4-6 2-1 2 0 2 3 4 8 10 31 4 7 4 4 6 2 8 0 8-3 6-4 4-4 4-8 4-8 2-14 4-32 4-41 8-197 2-22 2 0 2 22 6 160 4 64 2 21 4 22 2 12 2 5 2 2 4 1 2-1 4-9 4-17 6-38 2-6 2-1 2 3 2 9 6 38 4 21 2 11 4 6 2 4 4 2 4-1 8-4 4 0 4 3 12 10 8 4 12 2 16-2 8-2 6-5 4-8 4-8 4-18 6-39 2-7 2-2 2 1 2 7 8 44 4 16 4 11 2 2 4 2 2 1 4-1 8-6 4-1 4 1 10 9 6 2 10-2 12-2 10-6 4-1 2 0 8 4 4 0 4-3 10-13 2-2 2 0 2 0 2 2 8 15 6 6 4 4 6 3 10 1 18 1 78 1" stroke="#D95319"/>
<path d="M196 2055l98-2 28-1 20-3 16-4 6-3 6-3 8-8 4-6 2-6 6-16 4-22 2-27 4-43 4-118 8-229 2-33 0-2 2 8 2 42 8 282 6 86 4 36 4 20 2 10 4 6 4 6 4 5 6 3 4 0 4-1 8-4 4 0 10 2 2 0 4-2 4-6 6-10 2-9 4-15 4-34 4-60 4-95 6-180 2-35 0-5 2 4 2 33 8 232 2 62 4 42 2 28 4 21 4 10 2 7 4 5 4 4 4 2 4 1 4-2 2-3 6-9 10-26 8-13 4-11 2-22 4-39 8-172 2-30 0-6 2 2 2 25 8 196 4 39 2 23 2 9 4 6 2 0 8-7 2 1 2 2 4 8 10 28 4 8 4 4 6 2 8 0 8-3 6-4 4-4 4-7 2-9 4-13 4-31 2-37 10-183 2-23 0-1 2 5 2 29 6 130 4 63 2 21 2 21 4 13 2 5 2 3 2 1 2-2 4-7 4-16 8-36 2-6 2 0 0 2 2 8 8 41 4 21 6 12 2 2 2 2 4-1 10-3 4 0 4 2 12 11 6 3 6 1 10 0 10 0 8-2 6-3 2-2 4-4 4-9 4-20 8-36 2-7 2-2 0 1 2 5 8 41 4 15 6 12 2 2 2 2 4 1 2-1 10-5 2-1 6 1 10 8 4 1 22-2 12-7 2-1 4 1 8 3 2 0 6-3 8-11 4-3 2 1 4 2 12 18 4 4 4 2 4 2 8 1 30 1" stroke="#EDB120"/>
<path d="M196 2046l102-2 28-2 22-3 14-4 12-6 6-4 4-5 4-6 2-6 6-16 4-23 2-28 4-44 4-122 8-233 2-33 0-2 2 8 2 43 8 288 6 88 4 37 4 21 2 9 4 7 4 6 4 5 6 3 4 0 4-1 8-4 4 0 10 2 2-1 4-1 4-6 6-10 2-11 4-15 4-35 4-62 4-98 6-183 2-35 0-5 2 5 2 34 8 260 6 83 2 28 4 22 4 10 2 7 4 5 4 4 4 3 4 0 4-2 2-3 6-10 10-26 6-9 2-4 4-12 2-23 4-39 8-177 2-30 0-5 2 2 2 25 8 200 4 40 2 24 2 9 4 6 2 0 8-7 2 1 2 2 4 8 10 29 4 8 4 4 6 2 6 0 8-2 6-4 4-4 4-7 4-7 2-12 4-27 4-34 4-70 6-132 2-22 0-1 2 5 2 30 6 132 4 64 2 22 2 22 4 13 2 5 2 3 2 1 2-1 4-8 4-16 8-37 2-5 0-1 2 2 2 8 8 42 4 22 6 12 2 2 2 2 4 0 10-4 4 0 4 2 12 12 6 3 6 1 10 0 10-1 8-2 6-2 4-5 6-11 4-20 8-37 2-7 2-3 0 1 2 6 8 41 4 16 6 12 2 2 2 3 4 0 2-1 10-5 2-1 6 2 10 7 4 2 22-3 12-6 2-1 4 0 8 3 2 0 6-3 8-11 4-3 2 1 2 1 12 18 4 4 4 3 6 2 6 1 26 2" stroke="#7E2F8E"/>
<path d="M196 2046l78-1 22-2 16-2 14-4 8-5 8-7 6-11 4-12 4-23 2-28 2-28 4-82 6-171 2-40 2-8 0 1 2 27 8 218 4 57 2 38 4 29 4 16 4 8 2 5 4 5 6 4 4 2 4 0 4 0 10-4 12 2 4 0 4-1 4-5 6-7 2-8 4-11 4-26 4-48 4-79 6-152 2-27 0-2 2 6 2 34 8 195 4 69 4 28 4 15 4 7 2 4 4 4 4 3 4 2 4 0 4-1 2-3 6-7 10-21 2-3 4-3 2-2 2-5 2-8 4-21 2-23 8-147 2-24 0-3 2 4 2 26 8 150 2 34 4 20 2 10 4 3 2-1 6-5 2-1 2 0 2 2 4 7 10 23 2 4 4 4 6 1 8 1 8-2 8-3 4-4 4-5 2-6 4-10 4-24 2-31 8-139 2-26 2-6 0 1 2 19 8 125 4 48 2 16 2 15 4 8 4 6 2 0 2-1 4-6 4-14 8-30 2-5 0-1 2 1 2 6 8 38 4 15 4 9 2 2 4 1 4 0 10-3 4 0 4 2 12 8 4 2 8 1 10 1 12-1 8-2 4-2 4-2 2-4 4-8 4-13 8-31 2-6 0-1 2 0 2 7 8 31 4 13 4 9 6 4 2 1 4-1 10-5 2-1 4 1 10 7 6 1 12-1 10-1 12-5 2-1 4 0 6 3 4 1 6-3 8-10 4-2 2 1 2 1 10 12 4 4 4 3 6 2 8 1 14 1 58 0" stroke="#77AC30"/>
<path d="M196 2042l94-2 28-2 20-3 14-5 10-6 6-5 4-5 6-12 4-14 4-23 2-30 2-29 6-116 6-240 2-38 2-4 0 7 2 43 8 267 4 67 2 44 4 36 4 19 4 9 2 6 4 6 6 5 4 2 4 1 4-1 10-5 2 0 10 3 4-1 2-1 6-6 4-9 4-9 2-14 4-31 4-58 4-95 6-188 2-39 2-7 0 3 2 33 8 241 6 93 4 39 4 20 2 10 4 6 2 5 4 4 6 3 4 0 4-2 2-4 4-8 10-26 4-5 4-3 2-3 2-6 2-9 2-26 4-43 6-162 2-33 2-7 2 25 10 203 2 39 4 23 2 9 2 6 2 0 2-1 6-8 2 0 2 2 4 8 10 30 4 5 4 5 4 2 8 1 8-2 8-4 4-5 4-7 4-7 2-12 4-29 4-37 2-53 6-136 2-25 2-3 0 5 2 29 6 135 4 64 2 21 4 22 2 12 4 8 4 1 2-1 4-8 4-15 6-38 2-7 2-1 2 2 2 8 6 42 4 19 6 13 2 3 2 2 4 1 10-5 4 0 4 2 14 12 4 2 8 1 10 1 10-1 8-2 6-3 2-2 4-5 4-10 4-16 8-42 2-5 0-1 2 1 2 5 8 42 4 16 4 12 2 2 4 2 2 0 4 0 8-6 4-1 4 1 10 8 6 2 12-2 10-1 4-2 6-4 4-2 2 1 8 4 4 0 4-3 10-13 2-2 2 0 4 3 12 18 4 4 4 2 6 2 10 1 36 1" stroke="#4DBEEE"/>
<path d="M196 2038l44 0 32-1 22-2 16-3 14-5 8-7 8-9 6-13 4-16 2-20 4-33 2-31 4-94 6-242 2-43 2-6 0 5 2 41 8 242 2 75 4 51 4 40 4 22 2 9 4 9 4 6 6 4 4 3 4 0 4-1 10-4 12 3 4-1 4-2 4-5 6-10 2-9 4-15 4-34 4-62 2-72 6-191 2-43 2-9 0 1 2 31 8 244 6 92 4 38 4 20 2 9 4 6 2 5 4 4 6 3 4 0 4-2 2-3 6-10 8-24 4-5 6-5 2-4 2-8 2-23 4-42 8-183 2-25 2 8 2 35 4 126 4 59 2 39 4 23 2 11 2 2 2 1 2-2 6-7 2 0 2 1 4 8 10 29 4 7 4 4 6 2 10 0 8-3 6-4 4-4 4-7 2-8 4-13 4-31 2-39 8-174 2-29 2-5 0 4 2 28 6 137 4 64 2 21 4 21 4 14 2 4 2 2 2 1 2-2 4-9 4-17 8-38 2-4 0-1 4 10 6 43 4 18 6 13 2 4 4 1 4 0 8-4 4-1 4 2 14 12 4 2 8 1 10 1 12-1 8-2 4-3 4-3 2-4 4-11 4-17 8-38 2-6 0-1 2 0 2 5 8 43 4 16 4 11 2 2 4 2 2 1 4-1 8-6 4-1 4 2 10 8 6 1 12-2 10-1 14-7 4 0 6 4 4 0 6-3 8-13 2-1 2-1 2 1 2 2 8 13 6 7 4 3 6 2 8 2 14 1 60 0" stroke="#A2142F"/>
<path d="M196 2040l40-1 28-1 22-2 16-4 12-4 8-7 8-9 6-12 4-15 2-18 4-27 2-41 4-82 8-225 2-29 2-2 0 6 2 35 10 249 4 82 4 36 6 23 2 9 4 6 4 5 4 5 4 1 4 1 14-4 12 1 6-2 4-4 4-7 4-11 4-13 4-39 4-56 10-243 2-30 2-4 0 3 2 27 8 203 4 57 2 41 4 34 4 19 4 8 2 6 4 5 4 3 4 2 4 0 4-2 2-4 4-7 10-23 8-12 4-14 4-22 2-36 8-151 2-25 2-5 0 2 2 20 10 172 2 37 4 22 2 12 4 5 2-1 6-4 2 1 4 3 4 8 10 26 4 6 4 4 6 2 6-1 8-2 6-3 4-4 4-6 2-8 4-11 4-25 2-32 4-44 6-130 2-19 2-2 0 5 2 23 8 130 4 52 2 18 2 18 4 10 2 4 2 2 2 1 2-2 4-7 4-14 6-30 2-5 2-1 2 2 2 7 6 35 4 17 4 9 2 5 4 3 4 2 10-3 6 0 4 3 10 8 8 4 12 1 16-1 8-3 6-5 4-6 4-8 4-15 6-32 2-5 2-2 2 2 2 6 8 32 4 17 6 10 2 2 2 1 6 0 8-4 4-1 4 1 10 7 8 1 18-2 16-7 2 1 8 2 4 0 4-3 10-9 4-2 2 0 2 2 10 12 4 6 6 3 6 2 8 2 16 1 64 0" stroke="#0072BD"/>
<path d="M196 2046l104-1 30-1 22-3 14-4 6-3 6-4 6-5 4-5 4-6 2-8 4-13 4-24 4-29 2-47 6-137 6-280 2-40 2-1 0 12 2 56 8 312 6 108 4 43 4 24 2 11 4 8 4 7 4 5 6 4 4 0 4 0 10-6 2 0 10 3 4 0 2-2 6-6 4-11 4-10 2-16 4-36 4-67 4-113 6-220 2-42 2-5 0 7 2 45 8 282 6 102 2 33 4 26 6 17 4 8 4 5 4 3 4 1 4-2 4-3 4-11 10-30 2-4 6-5 2-3 2-6 2-11 2-30 2-32 8-210 2-37 2-6 0 4 2 34 8 218 4 49 2 30 4 15 0 3 2 2 2 0 2-1 4-8 2-1 2 0 2 2 4 10 10 34 4 6 4 5 6 2 8 0 8-2 6-5 4-5 4-7 4-9 2-14 4-34 4-43 8-221 2-27 2-1 2 25 6 180 4 71 2 23 4 22 2 13 2 5 2 3 4 1 2-1 4-10 4-18 6-45 2-7 2-1 0 1 2 7 8 56 4 21 2 7 4 7 2 3 2 2 4 0 10-6 4 0 4 3 8 9 6 4 4 3 8 1 10 0 10-1 8-2 6-3 2-3 4-5 4-11 4-19 6-45 2-8 2-2 0-1 2 2 2 7 6 44 4 20 6 14 2 3 2 3 4 1 2-1 10-7 4-1 4 1 8 9 4 1 2 1 4 0 8-2 12-1 4-2 6-6 4-1 2 1 8 4 4 1 2-1 2-3 10-14 2-3 2-1 2 1 2 2 12 22 2 3 4 3 6 3 6 1 24 1" stroke="#D95319"/>
<path d="M196 2033l38-1 28-2 20-2 16-4 10-5 10-8 6-10 6-14 4-18 2-23 6-70 4-102 6-251 2-41 2-5 0 6 2 44 10 307 4 91 4 37 4 20 4 10 2 6 4 7 6 5 4 2 4 1 4-1 10-4 2-1 10 3 4 0 2-2 6-5 4-10 4-10 2-14 4-22 2-22 4-68 2-78 6-198 2-42 2-8 0 3 2 34 8 252 4 66 2 45 4 35 4 19 4 9 2 6 4 4 4 4 4 2 4 0 4-2 2-4 4-8 10-27 4-5 6-7 2-5 2-10 2-26 4-45 6-169 2-36 2-8 2 25 10 214 2 41 4 24 2 9 2 6 2 1 2-1 6-8 2 0 2 2 4 8 10 31 4 7 4 5 6 2 8 0 8-3 6-4 4-4 4-7 4-8 2-12 4-30 4-38 2-55 6-142 2-28 2-3 0 4 2 30 6 142 6 79 2 19 2 19 4 11 2 4 2 2 2 0 2-2 4-10 4-18 6-34 2-7 2-2 0 1 2 1 2 9 10 59 2 11 4 9 4 3 4 1 2 0 8-4 4-1 2 1 4 2 10 10 8 4 6 2 6 0 16-1 10-3 2-2 4-4 4-7 2-10 4-18 8-39 2-6 0-1 2 1 2 5 8 45 4 16 4 12 2 3 4 2 2 0 4-1 8-5 4-2 4 2 10 8 6 2 12-2 10-1 4-2 6-5 4-1 2 0 8 4 4 1 2-1 2-2 10-14 2-2 2 0 2 1 2 2 8 14 6 6 4 4 6 3 10 1 16 1 72 1" stroke="#EDB120"/>
<path d="M196 2052l48 0 34-2 24-2 18-3 12-4 10-7 4-4 4-6 6-14 4-15 4-28 6-69 4-100 6-244 2-38 2-4 0 7 2 44 8 272 6 100 4 41 4 23 2 10 4 9 4 6 6 5 4 3 4 0 4-1 10-4 2 0 10 2 4 0 2-2 6-5 4-10 4-9 2-14 4-32 4-58 4-96 6-192 2-40 2-6 0 3 2 34 8 245 6 94 4 39 4 21 2 10 4 6 2 5 4 4 6 3 4 0 4-2 2-4 4-8 10-26 4-5 4-4 2-3 2-5 2-10 2-25 4-45 6-164 2-34 2-7 0 1 2 25 10 207 2 40 4 23 2 8 2 6 2 0 2-1 6-7 2 0 2 2 4 8 10 30 4 7 4 4 6 2 8 0 8-3 6-4 4-4 4-6 4-8 2-12 4-30 4-37 2-54 6-138 2-26 2-3 0 6 2 30 6 137 4 65 4 30 2 18 4 10 2 4 2 2 2 0 2-2 4-10 4-13 6-38 2-7 2-1 2 2 2 8 6 43 6 23 2 6 2 5 2 2 4 2 4 0 8-5 4 0 4 3 14 11 4 3 8 1 10 0 10-1 8-2 6-2 2-3 4-4 4-10 4-17 8-43 2-5 0-1 2 1 2 5 8 44 4 16 4 11 2 2 4 2 2 1 4-1 8-6 4-1 4 2 10 8 6 1 12-2 10-1 4-1 6-5 4-1 2 0 8 4 4 0 4-3 10-13 2-2 2 0 2 1 2 2 12 19 6 4 4 3 8 1 12 1 52 1" stroke="#7E2F8E"/>
<path d="M196 2034l48-1 34-1 24-2 16-3 14-4 10-7 4-4 4-6 6-13 4-14 4-26 2-33 2-32 6-125 6-244 2-32 2 0 2 33 8 274 2 75 4 50 4 41 4 21 2 10 4 9 4 6 6 5 4 2 4 1 4-1 10-4 2 0 10 2 4 0 2-2 6-6 4-10 4-10 2-15 4-34 4-63 4-102 6-192 2-34 2-3 0 7 2 40 8 247 6 92 4 38 4 20 2 10 4 6 2 5 4 4 4 2 4 1 4-2 4-4 4-9 10-27 4-5 4-4 2-3 2-11 4-23 2-41 8-185 2-30 2-4 0 4 2 30 8 191 4 45 2 26 4 14 2 5 2 0 2-1 4-6 2-1 2 0 2 2 4 9 10 30 4 6 4 5 6 2 8 0 8-2 6-5 4-4 4-7 4-9 2-13 4-32 4-40 8-176 2-33 0-7 2 0 2 22 6 158 4 64 2 20 4 21 2 12 2 4 2 3 4 1 2-2 4-8 4-17 6-39 2-5 2-1 0 1 2 6 8 49 4 18 6 13 2 3 2 2 4 0 10-4 4 0 4 2 8 8 6 4 4 2 6 1 10 1 12-1 8-2 4-2 4-3 2-4 4-9 6-21 6-39 2-7 2-1 0-1 2 2 2 6 8 44 4 16 4 11 2 2 4 2 2 0 4-1 8-6 4 0 4 1 10 9 6 1 10-2 12-1 10-7 4-1 2 1 8 3 4 1 4-4 10-12 2-2 2-1 2 1 2 2 12 20 6 4 4 2 8 2 12 1 52 1" stroke="#77AC30"/>
<path d="M196 2035l72-2 22-2 16-3 12-4 10-5 6-8 6-11 4-14 4-16 2-26 2-25 6-101 6-202 2-28 2-1 0 9 2 40 8 226 6 80 4 32 4 18 2 8 4 7 4 5 6 4 4 2 4 0 4-1 10-3 2 0 10 2 4-1 2-1 6-5 4-8 4-7 2-12 4-28 4-49 4-83 6-159 2-30 2-3 0 5 2 32 8 205 6 74 4 31 4 17 2 7 4 5 2 4 4 3 6 2 4 1 4-2 2-4 4-6 10-22 2-3 6-4 2-2 2-5 2-8 2-23 2-23 8-153 2-26 2-4 0 3 2 24 8 158 4 36 2 22 4 11 2 4 4-1 4-5 2-1 2 0 2 2 4 7 10 25 4 4 4 4 6 2 8 0 8-2 6-3 4-4 4-5 4-7 2-11 4-25 4-31 8-162 2-18 2-1 2 18 6 131 4 52 2 16 4 17 2 10 4 6 4 0 2-1 4-7 4-13 6-32 2-5 2-1 2 3 2 7 6 31 4 17 2 8 4 6 2 3 4 1 4-1 8-3 4 0 4 2 12 8 8 3 12 2 16-2 10-2 6-4 4-7 2-8 4-15 6-28 2-6 2-1 0-1 2 1 2 6 6 32 4 14 6 10 2 4 4 1 2 0 4 0 8-5 4-1 4 1 10 7 6 1 10-2 12 0 10-6 4-1 2 1 8 3 4 0 4-2 10-11 4-2 2 0 2 2 8 12 6 5 4 3 6 2 8 1 16 1 62 1" stroke="#4DBEEE"/>
<path d="M196 2050l52 0 38-1 26-2 18-3 14-5 6-4 6-3 4-5 4-6 6-13 4-14 4-24 4-29 2-44 6-121 8-278 2-31 0-1 2 10 2 47 8 306 6 97 4 42 4 23 2 11 4 8 4 7 4 5 4 3 6 1 12-5 4 0 8 2 4-1 2-2 6-5 4-9 4-13 2-16 4-35 4-62 4-99 8-222 2-34 0-3 2 6 2 37 8 277 6 91 4 39 4 22 4 15 4 5 4 5 4 3 4 0 4-3 4-5 4-8 8-26 10-17 2-6 2-11 2-27 4-45 8-187 2-29 0-5 2 4 2 28 8 213 4 43 2 26 2 10 4 7 0 1 2-1 6-4 2-1 2 0 2 3 4 9 10 32 4 8 4 5 6 3 6-1 8-2 6-5 4-5 4-7 4-9 2-14 4-32 4-38 10-216 2-21 2 7 2 32 6 140 4 69 2 24 2 24 4 15 2 5 2 4 2 1 2-1 2-3 2-4 4-16 8-43 2-5 0-1 2 3 2 9 10 60 4 12 4 9 2 3 4 2 12-4 4 0 4 3 12 11 6 4 6 1 6 1 16-1 10-4 2-2 4-4 4-8 2-10 4-18 8-39 2-7 0-2 2 0 0 1 2 6 8 44 4 18 6 12 2 3 2 2 2 1 4 0 10-6 4-1 4 2 10 8 2 1 4 1 20-3 4-2 8-5 2-1 4 0 6 3 4 0 6-3 8-12 2-2 2-1 2 1 4 3 8 15 4 5 4 4 6 3 6 1 10 2 38 1" stroke="#A2142F"/>
<path d="M196 2051l70-1 22-2 16-3 12-4 8-5 8-8 6-11 4-14 2-17 6-53 4-76 6-190 2-32 2-4 0 4 2 31 10 232 4 70 4 29 4 16 4 7 2 5 4 5 6 4 4 2 4 0 14-4 12 2 6-1 6-4 4-6 4-9 2-10 4-17 2-17 4-51 2-58 6-149 2-33 2-6 0 1 2 24 8 190 4 51 2 34 4 27 4 15 4 7 2 4 4 4 4 3 4 1 4 0 4-1 2-3 6-8 8-19 4-3 4-4 2-3 4-10 2-19 2-21 4-44 6-112 2-19 2 6 2 28 8 145 2 32 4 19 2 9 4 3 2-1 6-6 2 0 2 2 4 6 12 25 2 4 4 3 6 2 8 0 8-2 6-3 4-3 4-5 4-6 2-9 4-22 4-29 2-41 6-108 2-22 2-3 0 3 2 22 6 107 6 61 2 14 2 15 4 8 4 5 2 0 2 0 4-6 4-12 6-30 2-6 2-1 4 8 10 45 2 8 4 7 4 2 4 1 10-3 6 0 4 2 10 7 8 3 12 2 16-1 10-3 6-4 4-5 2-7 4-14 8-30 2-5 2 2 2 6 8 30 4 12 4 9 6 4 2 0 4 0 8-4 4-1 4 1 10 6 6 1 22-2 14-6 2 0 8 3 4 0 4-2 10-10 2-1 2-1 4 3 10 11 4 4 4 3 6 2 26 2 64 1" stroke="#0072BD"/>
<path d="M196 2047l72-1 20-2 16-3 12-4 10-6 6-7 6-12 4-13 4-17 2-27 2-25 4-77 8-197 2-37 0-6 2 2 2 30 8 220 2 57 4 38 4 30 4 17 2 7 4 7 4 5 6 3 4 2 4 0 4-1 10-3 12 2 4-1 2-1 6-5 4-8 4-8 2-12 4-28 4-51 4-59 6-176 2-24 2-1 0 8 2 35 8 197 6 69 4 29 4 15 2 7 4 5 2 4 4 3 4 2 4 0 4-2 4-2 4-8 10-22 2-2 6-4 2-3 2-9 4-19 2-33 8-149 2-22 2-1 0 5 2 27 8 151 4 34 2 20 4 10 2 3 4-1 6-6 2 0 2 3 4 7 10 23 4 5 4 3 6 2 8 0 8-2 6-3 4-4 4-6 4-7 2-10 4-26 4-33 8-141 2-25 0-4 2 2 2 20 6 127 4 48 2 16 4 15 2 9 4 5 4 1 2-2 4-7 4-13 6-31 2-4 2-1 0 2 2 5 10 47 4 9 4 7 2 3 4 1 12-4 4 0 4 2 12 8 6 3 12 1 18 0 8-3 6-4 4-5 4-10 10-42 2-6 2-1 0 1 2 1 2 6 6 31 4 13 6 10 4 4 4 0 2 0 10-5 4-1 4 1 10 7 4 1 12-2 10 0 4-1 8-5 4 0 2 0 8 3 4 0 4-3 10-10 4-1 4 2 8 12 4 4 6 3 6 2 24 2 64 1" stroke="#D95319"/>
<path d="M196 2041l54-1 40-2 26-2 20-4 16-6 6-3 6-5 8-10 4-8 2-8 6-20 4-28 2-34 4-52 4-139 8-271 2-47 0-9 2 2 2 37 8 334 4 79 2 55 4 46 4 26 4 12 2 9 4 8 6 6 4 3 4 0 14-5 12 1 2 0 4-3 4-6 4-10 4-11 2-17 6-49 4-72 4-111 6-213 2-47 0-11 2-2 0 9 2 44 10 301 4 98 4 43 4 25 6 16 2 6 4 6 4 2 4 1 4-3 4-5 4-12 10-28 8-17 4-17 2-27 4-45 8-223 2-28 2-2 0 6 2 33 10 231 2 46 4 28 2 11 2 8 2 0 2 0 4-4 2-1 2 1 2 3 4 10 10 35 4 9 4 5 4 2 2 1 8 0 8-3 6-6 4-5 4-9 2-11 4-16 4-38 2-45 10-216 2-32 0-5 2 1 2 26 6 173 6 88 2 22 2 23 4 13 2 6 2 1 2-1 2-3 2-6 4-17 8-42 2-7 0-2 2-1 2 5 2 10 10 65 2 12 4 10 4 4 2 2 4 0 8-4 4 1 4 3 12 12 8 4 4 2 8 0 14-1 10-4 2-2 4-4 4-8 4-15 10-57 2-9 2-5 0 1 2 1 2 8 8 47 4 19 4 14 2 3 4 2 2 1 2-1 10-6 4 0 4 2 10 9 4 1 4 0 18-3 14-9 4 0 8 4 2 0 6-3 10-14 2-2 2 0 2 0 2 4 10 16 4 6 4 4 4 3 6 2 8 1 32 2" stroke="#EDB120"/>
<path d="M196 2048l56-1 40-1 28-2 20-3 16-5 6-3 6-5 4-5 4-6 6-14 4-14 4-25 4-29 2-47 6-130 8-311 2-39 0-2 2 9 2 51 8 341 6 107 4 45 4 25 2 12 4 8 4 8 4 6 4 3 6 1 4-2 8-4 4 0 8 2 4 0 2-2 6-6 4-8 4-14 2-16 6-50 4-74 2-84 8-250 2-41 0-6 2 6 2 40 8 280 2 76 4 52 4 43 4 23 4 16 4 6 4 5 4 4 4 0 4-3 4-5 4-10 10-31 8-14 2-7 2-10 2-28 4-47 8-209 2-36 0-6 2 3 2 30 8 237 4 48 2 28 2 11 4 8 0 1 2-1 6-6 2-1 2 0 2 3 4 10 10 38 4 6 4 5 6 3 6 0 8-3 6-5 4-5 4-8 4-9 2-14 4-33 4-41 2-59 8-180 2-27 0-1 2 7 2 34 6 157 4 77 2 26 2 26 4 16 2 6 2 4 0 1 2 0 2-1 4-10 4-19 8-43 2-7 0-1 2 1 0 2 2 10 8 55 4 20 2 7 4 8 2 2 2 3 4-1 10-4 4 0 4 3 12 14 6 3 6 1 10 1 10-1 8-2 6-3 4-7 6-13 4-24 8-44 2-8 0-2 2-1 0 1 2 7 8 49 4 19 6 14 2 3 2 3 4 0 2 0 10-7 2-1 2 1 4 1 10 9 4 2 22-3 4-2 8-6 2-1 4 0 8 4 2 0 2-1 4-2 8-14 2-2 2-1 2 1 4 3 12 21 4 5 4 3 4 2 8 1 32 2" stroke="#7E2F8E"/>
<path d="M196 2054l68-2 22-2 16-3 12-4 10-7 6-7 6-12 4-13 4-16 2-24 4-36 4-94 8-180 2-29 0-5 2 2 2 26 8 222 4 52 2 37 4 31 6 21 2 7 4 6 4 4 4 4 4 2 4 0 12-3 14 0 6-2 4-4 4-7 4-8 2-11 6-35 4-49 4-76 6-140 2-30 0-7 2 0 2 20 8 198 4 50 2 34 4 29 4 17 4 7 2 5 4 4 4 3 4 2 4-1 4-2 2-4 4-7 10-18 8-12 4-13 2-19 4-30 8-148 2-17 2-1 0 4 2 23 10 153 2 31 4 19 2 7 2 5 4 1 4-3 2 0 2 0 2 2 4 7 10 24 4 6 4 3 6 2 6 0 8-2 6-3 4-3 4-6 4-6 2-10 4-23 4-27 4-54 6-101 2-20 0-4 2 2 2 18 6 115 6 59 2 14 2 15 4 9 2 4 2 1 2-1 4-6 4-12 8-27 2-5 0-1 2 0 2 3 2 7 10 43 2 8 4 7 4 3 2 1 4 0 8-2 4 0 4 2 12 8 8 3 12 1 16-1 8-2 6-4 4-6 4-10 10-39 2-5 2-3 2 2 2 5 8 31 4 13 4 9 6 4 4 0 10-4 4-1 4 2 10 6 8 1 18-3 14-5 14 2 6-3 10-8 4-2 2 1 2 2 10 11 4 5 6 3 6 2 8 1 16 1 62 0" stroke="#77AC30"/>
<path d="M196 2045l60-1 42-1 30-2 22-3 16-5 6-3 6-4 4-5 4-5 8-14 4-17 4-23 4-29 2-42 6-118 8-319 2-32 2-1 0 9 2 46 10 319 4 107 4 47 4 27 4 13 2 9 4 8 6 7 4 3 4 1 4-1 10-4 12 1 2-1 4-2 4-6 4-9 4-11 2-16 6-46 4-68 4-105 6-230 2-35 2-4 0 6 2 36 8 260 4 74 2 53 4 45 4 25 6 18 2 6 4 6 4 3 4 0 4-2 4-5 4-11 10-29 8-15 4-17 2-25 4-41 8-212 2-30 2-5 0 3 2 28 10 221 2 47 4 29 2 16 4 6 2 1 6-5 2 1 4 4 4 11 10 34 2 6 4 5 4 2 2 1 8 0 8-3 6-5 4-5 4-9 2-10 4-16 4-35 2-42 10-224 2-22 2-1 0 6 2 32 8 166 4 67 2 23 2 23 4 14 2 7 2 2 2-1 2-3 2-5 4-16 8-44 2-5 2-1 2 3 2 9 6 45 4 22 4 14 4 7 4 3 2 0 10-3 4 1 4 2 14 13 4 3 4 2 6 1 8 0 8-1 6-2 6-2 4-3 4-6 2-8 6-19 8-51 2-7 2-2 2 3 2 8 8 41 4 18 4 15 2 3 4 3 2 0 2 0 10-5 4-1 4 2 10 7 4 3 6 0 14-3 6-2 8-5 4-2 2 1 8 2 4 0 6-4 8-11 2-2 2-1 2 1 2 2 12 21 4 4 4 4 6 2 6 1 20 2" stroke="#4DBEEE"/>
<path d="M196 2047l50-1 36-2 26-2 18-3 14-5 10-7 4-4 4-6 6-13 4-15 4-27 2-34 2-33 6-134 6-230 2-49 0-9 2 4 2 41 8 321 6 96 4 38 4 20 2 10 4 7 4 6 4 5 6 3 4 1 4-2 10-4 2 0 10 2 4 0 2-2 6-6 4-11 4-10 2-15 4-36 4-66 4-78 6-235 2-33 2 0 0 10 2 49 8 236 4 102 4 43 4 22 4 10 2 7 4 5 4 4 4 3 4 1 4-2 4-4 4-10 10-26 2-5 6-6 2-5 2-8 4-25 2-43 8-199 2-29 2-3 0 7 2 37 8 202 4 44 2 25 4 13 0 2 2 2 4-2 6-8 2-1 2 2 4 8 10 34 4 6 4 4 6 2 8 0 8-3 6-4 4-5 4-7 4-9 2-13 4-34 4-42 8-188 2-34 0-5 2 2 2 29 6 169 4 63 2 20 4 19 2 11 2 5 2 2 4 1 2-2 4-10 4-18 6-41 2-6 2 0 0 2 2 7 8 47 4 20 4 15 4 4 2 2 4 0 10-5 4-1 4 3 12 12 6 3 6 1 12 0 10-1 8-2 6-2 2-4 4-5 4-11 4-18 6-42 2-7 2-1 2 2 2 8 6 42 4 17 6 13 2 2 2 2 4 1 2-1 10-7 4 0 4 1 10 9 4 2 12-3 12-1 4-2 6-5 4-1 2 1 8 4 4 0 2-1 2-2 10-14 2-2 2-1 2 1 2 3 12 20 4 4 4 2 8 2 10 1 48 1" stroke="#A2142F"/>
<path d="M196 2046l42-1 32-1 22-2 18-4 12-5 10-7 8-10 6-14 4-15 4-25 4-31 2-45 6-118 6-223 2-37 2-7 0 2 2 29 10 275 2 68 4 48 4 40 4 28 4 10 2 6 4 7 6 5 4 2 4 0 12-4 2 0 10 1 4-1 2-1 6-7 4-8 2-10 4-15 4-32 4-56 4-86 6-201 2-37 2-9 0-1 2 7 2 36 8 248 6 85 4 38 4 22 2 10 4 7 2 4 4 5 4 2 4-1 4-3 4-5 4-8 8-24 8-15 4-17 4-23 2-39 10-183 2-22 0-2 2 5 2 27 8 190 4 40 2 25 2 9 4 8 0 1 2 0 6-3 2 0 2 1 2 2 4 9 10 32 4 7 4 4 6 2 6 0 8-3 6-4 4-4 4-8 2-8 4-13 4-28 2-35 4-67 6-126 2-25 2-5 0 2 2 20 8 161 4 56 2 19 4 20 2 12 4 5 2 1 2-1 4-7 4-15 6-33 2-6 2-2 2 4 2 8 10 53 4 11 4 9 2 4 4 1 4 0 8-2 4 0 4 3 12 10 8 4 12 2 14-2 8-3 6-5 4-8 4-9 4-16 6-35 2-7 2-3 2 0 0 1 2 6 8 39 6 19 4 9 2 2 2 3 6 0 8-4 4-1 4 1 10 7 6 2 4 0 14-2 6-1 12-7 4 1 8 2 4-1 4-4 8-9 4-2 2 1 4 3 8 13 6 6 4 4 6 2 8 2 12 1 56 1" stroke="#0072BD"/>
<path d="M196 2043l48-1 34-1 24-2 18-3 14-5 10-7 8-10 6-13 4-14 4-26 6-61 4-115 8-228 2-36 0-5 2 5 2 38 8 281 6 90 4 38 4 25 4 8 2 7 4 5 6 5 4 2 4 0 4 0 8-4 4 0 10 1 2 0 4-2 4-5 4-8 4-12 4-15 4-33 4-59 4-93 6-179 2-37 0-7 2 2 2 29 8 229 2 64 4 44 4 36 4 20 2 9 4 6 2 4 4 4 4 2 4 1 4-3 4-3 4-8 10-26 8-14 4-10 2-22 4-37 8-170 2-32 0-7 2 0 2 22 8 194 4 41 2 24 4 13 2 4 4-1 6-5 2 0 2 4 4 8 10 29 4 5 4 4 6 3 8 0 8-3 6-4 4-4 4-7 2-9 4-13 4-30 2-37 10-181 2-24 0-3 2 3 2 26 6 147 4 58 2 19 4 19 2 11 2 4 2 3 2 0 2-1 4-7 4-15 8-36 2-6 0-1 2 0 0 2 2 7 8 40 4 19 2 9 4 6 2 3 4 2 4-1 8-3 4 0 4 3 12 10 6 3 12 2 16-1 10-3 6-5 4-7 4-11 10-49 2-7 2-3 2 3 2 7 6 36 4 16 6 11 2 3 2 2 4 1 2-1 10-5 4-1 4 2 10 7 6 2 20-3 14-7 4 0 8 3 2 0 4-1 2-2 10-12 2-1 2 0 4 3 12 18 6 4 4 2 8 2 12 1 48 1" stroke="#D95319"/>
<path d="M196 2054l80-2 24-2 16-3 14-4 10-6 8-9 6-11 4-13 4-23 4-55 6-105 6-201 2-30 2-2 0 7 2 37 10 248 4 77 4 32 4 18 4 9 2 5 4 6 6 4 4 3 4 0 14-4 12 1 6-2 6-5 4-9 4-9 2-13 4-30 4-53 4-84 6-159 2-30 2-5 0 4 2 29 8 204 4 55 2 37 4 25 4 19 2 9 4 6 2 4 4 4 4 2 4 0 4-1 4-3 4-8 10-23 10-12 2-10 4-19 2-34 8-152 2-27 2-5 0 2 2 22 10 173 2 34 4 21 2 7 2 6 2 0 2 0 6-6 2 0 2 2 4 7 10 26 4 6 4 4 6 2 8 0 8-3 6-3 4-4 4-7 4-7 2-12 4-27 4-33 8-162 2-20 2-1 0 5 2 25 6 114 6 66 2 16 2 16 4 10 2 3 2 2 2 0 2-1 4-7 4-14 6-31 2-5 2-1 2 2 2 7 10 49 2 9 4 7 4 3 4 1 10-3 6 0 4 2 10 8 8 4 12 1 16-1 8-2 6-5 4-6 4-10 10-43 2-7 2-2 2 1 2 5 8 36 4 14 4 10 2 2 4 2 2 0 4 0 8-5 4-1 4 2 10 6 6 2 22-3 10-5 4-1 2 0 8 3 4 0 4-3 10-10 4-2 2 0 2 3 10 12 4 4 4 4 6 2 8 1 12 1 52 1" stroke="#EDB120"/>
<path d="M196 2041l36-1 28-2 18-3 16-3 10-5 10-7 6-10 6-13 4-17 2-21 6-63 4-88 6-216 2-37 2-6 0 3 2 32 8 241 4 64 2 45 4 36 6 24 2 8 4 6 4 5 4 4 4 2 4 1 4-1 10-4 12 2 4-1 2-1 6-5 4-7 4-11 2-13 4-20 2-20 4-60 8-237 2-38 2-8 2 25 8 215 4 61 2 42 4 34 4 19 4 8 2 6 4 4 4 4 4 2 4 0 4-2 2-3 6-10 8-21 10-13 2-5 2-9 2-23 2-24 10-178 2-21 0-2 2 6 2 29 8 166 2 39 4 24 2 12 4 4 2-1 6-5 2 0 4 3 4 8 10 26 4 7 4 3 6 2 6 0 8-3 6-3 4-4 4-6 4-8 2-11 4-27 4-34 2-47 6-122 2-26 2-4 0 3 2 22 8 138 4 55 2 18 2 19 4 10 2 4 2 3 2 0 2-1 4-6 4-14 6-34 2-6 2-1 2 1 2 6 10 52 2 10 4 8 4 4 4 1 2 0 10-4 4 1 4 2 10 9 8 4 12 1 16-1 10-3 6-5 4-7 2-8 4-16 8-34 2-5 0-1 2 0 0 2 2 6 8 34 4 18 6 10 2 2 2 1 6 0 8-5 4-1 4 1 10 7 6 2 22-3 14-6 2 0 8 2 4 1 4-2 10-12 2-1 2-1 4 3 10 13 4 5 6 4 6 2 10 1 16 1 74 1" stroke="#7E2F8E"/>
<path d="M196 2037l22-1 16-2 12-4 10-4 8-7 6-8 4-10 4-14 4-17 2-26 4-58 4-95 8-224 2-35 0-4 2 6 2 39 8 276 6 85 4 36 4 24 4 8 2 6 4 5 6 5 4 1 4 1 4-1 8-4 4 0 10 2 2 0 4-2 4-5 6-9 2-10 4-14 4-32 4-57 4-91 6-176 2-36 0-6 2 2 2 30 8 227 2 61 4 42 4 34 4 18 2 9 4 6 2 4 4 4 4 2 4 0 4-3 4-3 4-8 10-24 8-13 2-6 2-10 4-25 2-26 8-168 2-31 0-6 2 1 2 22 8 192 4 38 2 23 4 12 2 4 2-1 8-6 2 0 2 2 4 8 10 30 4 7 4 3 6 2 8-1 8-2 6-4 4-4 4-6 2-8 4-13 4-28 2-36 10-179 2-23 0-3 2 5 2 26 6 145 4 56 2 18 4 18 2 10 2 4 2 2 2 1 2-1 4-8 4-15 8-34 2-6 0-2 2 1 0 1 2 8 10 53 4 11 4 8 2 3 4 1 12-4 4 1 4 2 12 10 8 3 12 1 16-1 8-3 4-2 2-3 4-8 4-9 10-47 2-7 2-3 2 3 2 7 6 35 4 16 6 11 2 3 4 2 4-1 10-5 2-1 4 1 10 8 6 2 22-3 12-6 2-1 4 0 8 3 2 0 4-1 2-2 10-11 2-2 2 0 4 3 8 13 6 6 6 4 6 2 14 1 24 1 110 1" stroke="#77AC30"/>
<path d="M196 2053l90-1 26-2 20-3 14-4 6-3 4-4 8-9 6-11 4-14 4-23 6-57 4-110 8-226 2-37 0-6 2 5 2 37 8 277 6 86 4 36 4 20 2 9 4 7 4 6 4 5 6 2 4 1 4-1 10-4 12 2 2 0 4-2 4-5 4-7 4-11 4-13 2-22 2-20 4-63 10-248 2-39 0-7 2 1 2 28 8 227 2 62 4 42 4 34 4 19 2 8 4 6 2 4 4 4 4 2 4 0 4-2 4-3 4-10 10-23 8-12 2-5 2-9 4-25 2-25 8-186 2-22 2 0 0 7 2 32 8 174 4 39 2 23 4 12 2 4 4-1 6-6 2 0 2 2 4 7 10 31 4 5 4 4 6 2 8 0 8-2 6-4 4-4 4-7 2-7 4-12 4-28 2-35 4-50 6-128 2-26 0-3 2 3 2 25 6 146 4 56 2 18 4 18 2 11 2 4 2 2 2 0 2-1 4-7 4-14 8-36 2-6 0-1 2 0 2 8 8 45 4 16 6 12 2 2 2 2 4 0 10-4 4 0 4 2 8 8 6 4 4 2 6 1 10 0 12-1 8-1 4-3 6-5 4-12 4-15 8-40 2-5 2-1 2 2 2 7 6 36 4 15 6 12 2 2 2 2 4 1 2-1 10-5 4-1 4 1 10 8 4 1 22-2 14-7 4 0 6 3 4 0 6-2 10-12 2-2 2 0 4 3 8 13 4 5 4 3 6 2 6 2 10 1 40 1" stroke="#4DBEEE"/>
<path d="M196 2038l60-1 42-1 30-2 20-4 16-5 6-3 6-4 6-5 4-5 6-13 6-17 4-24 2-28 4-42 4-116 10-313 2-32 0-1 2 10 2 45 8 313 6 105 4 47 4 27 2 12 4 9 4 8 4 6 4 3 6 1 4-1 8-4 12 1 4 0 2-2 6-7 4-9 2-10 4-16 4-46 4-67 4-103 8-226 2-34 0-4 2 5 2 36 8 256 2 73 4 52 4 44 4 25 4 17 4 6 4 5 4 3 4 1 4-3 2-4 6-11 10-29 6-15 4-16 4-25 2-41 10-208 2-30 0-4 2 3 2 27 8 217 4 47 2 28 4 16 2 6 2 0 8-4 2 1 2 4 4 10 10 33 4 7 4 5 4 3 8 0 6-2 8-5 4-5 4-7 2-9 4-14 4-30 2-36 4-74 8-162 2-22 2 6 2 31 6 164 4 65 2 23 4 23 2 14 4 6 2 2 2-1 2-3 2-5 4-16 8-43 2-5 0-1 2 3 2 9 8 45 4 21 4 14 4 7 2 3 4 0 10-3 4 0 4 3 12 13 4 2 6 2 6 1 8 0 8-1 6-1 4-2 4-4 4-6 4-7 4-20 10-49 2-7 0-2 2 0 2 3 2 8 6 40 4 18 6 14 2 3 2 3 2 1 4 0 10-6 4 0 4 1 8 8 6 2 4 0 14-2 6-2 8-5 4-2 4 0 8 3 4-1 4-4 8-10 2-2 2-1 2 1 2 2 14 20 4 5 4 3 4 2 6 2 22 1" stroke="#A2142F"/>
<path d="M196 2035l32-1 24-1 18-3 12-4 12-6 8-7 6-10 4-13 4-18 4-23 4-67 4-93 8-226 2-41 0-8 2 1 2 31 8 278 4 63 2 44 4 35 6 23 2 8 4 6 4 5 4 5 4 1 4 1 14-5 12 2 2-1 4-1 4-5 4-8 4-11 4-14 4-32 4-56 4-89 6-201 2-28 2-2 0 8 2 37 10 249 4 78 4 33 4 19 4 8 2 6 4 4 4 4 4 2 4-1 4-2 2-4 4-9 10-23 8-14 2-5 2-10 4-24 2-26 8-185 2-25 2-2 0 4 2 29 6 137 4 54 2 37 4 22 2 8 2 5 2 1 2-1 4-4 2-1 2 0 2 3 4 8 10 29 4 7 4 4 6 2 8 0 8-3 6-4 4-4 4-6 2-8 4-13 4-28 2-35 4-50 6-128 2-28 0-6 2 1 2 22 6 145 4 60 2 20 4 20 2 12 2 5 2 3 2 1 2-1 2-3 2-4 4-14 8-39 2-5 2 0 2 3 2 9 10 53 2 10 4 8 4 3 2 1 4 0 8-3 4 0 4 2 12 11 8 3 14 1 14-1 8-3 6-5 4-8 4-8 4-17 6-35 4-8 2 2 2 6 8 40 4 15 4 11 2 2 4 2 4 0 10-5 4-1 4 1 10 8 6 1 20-2 14-7 4 0 8 3 4 0 4-3 10-12 4-2 2 1 2 3 8 12 6 6 4 4 8 3 10 1 20 1 82 1" stroke="#0072BD"/>
<path d="M196 2033l70-1 22-2 16-2 12-4 10-6 8-8 6-11 4-13 2-15 4-23 2-36 4-72 8-198 2-26 2-3 0 5 2 30 10 219 4 73 4 32 6 21 2 7 4 6 4 5 4 3 4 2 4 1 14-4 12 1 6-1 4-4 4-6 4-9 4-12 4-33 4-49 4-55 6-159 2-27 2-4 0 2 2 23 8 179 4 51 2 36 4 30 4 17 4 7 2 6 4 3 4 4 4 1 4 0 4-2 2-3 4-6 10-20 8-11 4-12 4-19 2-31 8-132 2-23 2-5 0 1 2 17 10 152 2 33 4 20 2 10 4 4 2 0 6-3 2 0 4 3 4 7 10 23 4 5 4 3 6 2 6 0 8-2 6-3 4-3 4-6 2-6 4-10 4-22 2-27 4-38 6-115 2-18 2-1 0 3 2 20 8 115 4 46 2 15 2 16 4 10 2 3 2 2 2 0 2-1 4-6 4-12 6-27 2-4 2-1 2 1 2 6 6 31 4 15 4 8 2 5 4 3 4 1 10-3 6 1 4 2 10 7 8 4 12 1 16-1 8-3 6-4 4-6 4-7 4-12 6-28 2-6 2-2 2 2 2 6 8 28 4 15 6 8 4 3 6 0 8-3 4-1 4 1 10 6 8 1 20-2 14-6 2 1 8 2 4 0 4-3 10-9 4-1 4 2 10 11 4 5 6 3 6 2 22 2 62 0" stroke="#D95319"/>
<path d="M196 2044l44-1 30-1 22-2 18-4 12-5 6-3 4-5 8-9 6-14 4-16 2-20 4-30 2-46 4-94 8-256 2-29 2 0 0 10 2 44 8 257 4 67 2 46 4 37 4 21 4 9 2 7 4 7 6 5 4 2 4 1 14-5 12 2 2-1 4-1 4-5 4-8 4-12 4-14 4-32 4-56 4-91 6-205 2-31 2-3 0 6 2 36 10 255 4 82 4 35 4 19 4 9 2 6 4 5 4 4 4 1 4 0 4-2 2-4 4-9 10-23 8-15 2-6 2-9 4-25 2-41 8-173 2-27 2-3 0 3 2 27 10 196 2 39 4 23 2 9 2 6 2 1 2-1 4-4 2-1 2 0 2 3 4 8 10 29 4 8 4 4 6 2 8 0 8-2 6-4 4-5 4-6 2-8 4-13 4-29 2-35 4-51 6-130 2-30 0-7 2 0 2 20 6 147 6 74 2 18 2 19 4 11 2 5 4 1 2-2 4-9 2-11 8-40 2-5 2 0 2 3 2 8 10 55 2 10 4 9 4 3 2 1 4 0 8-3 4 0 4 2 12 11 8 3 12 2 16-1 8-3 4-3 2-3 4-7 4-9 4-17 6-36 2-7 2-1 2 1 2 6 8 40 4 16 4 11 2 3 4 2 4 0 10-5 4-1 4 2 10 7 6 2 20-3 4-2 8-5 4 0 2 0 8 3 4 0 4-3 10-11 2-2 2-1 2 1 2 3 8 12 6 6 4 4 6 3 8 1 14 1 58 1" stroke="#EDB120"/>
<path d="M196 2043l78-2 22-2 16-2 12-4 10-6 6-7 6-12 4-14 4-19 2-30 2-30 4-94 6-203 2-41 2-4 0 8 2 45 8 230 4 92 4 35 4 18 4 9 4 7 4 5 4 3 6 3 4 0 4-1 10-4 2 0 10 3 4 0 4-2 4-4 6-8 4-10 2-13 4-32 4-61 8-228 2-42 2-7 0 3 2 36 8 208 4 87 4 27 4 20 2 9 4 5 4 6 4 3 4 3 6 0 4-1 2-3 6-9 8-22 4-3 4-1 2-1 2-4 2-9 4-23 2-26 8-176 2-23 0 1 2 27 8 178 4 37 2 21 4 11 0 1 2 2 4-2 6-10 2 0 2 1 4 8 10 23 2 6 4 4 6 2 8 0 10-2 6-3 6-4 4-5 2-6 4-10 4-25 2-34 4-53 4-112 2-27 2-3 2 18 6 130 4 63 2 19 2 19 4 12 4 6 4 1 2-1 2-4 2-4 4-16 6-33 2-7 2-2 0 1 2 5 8 46 4 16 2 5 4 5 2 2 2 1 6-1 8-4 4-1 4 1 12 11 4 2 4 1 12 0 14 0 10-2 6-2 2-3 4-4 4-11 2-12 8-36 2-6 0-1 2 1 2 6 6 37 4 15 4 8 4 4 2 1 4 1 4-1 10-6 2-1 4 2 10 7 4 1 12-2 12 0 4-2 6-4 4-1 2 0 8 5 4 0 6-3 10-14 2-1 2 1 2 3 8 11 4 5 4 3 6 2 8 1 14 1 62 1" stroke="#7E2F8E"/>
<path d="M196 2033l40 0 30-2 22-3 16-4 12-5 4-4 6-5 6-11 6-16 4-19 4-23 4-68 6-126 8-286 2-32 2 10 2 49 8 315 6 101 4 43 4 29 4 10 2 7 4 7 6 5 4 3 4 0 12-5 4 0 8 2 4-1 2-2 6-6 4-8 4-14 2-17 4-37 4-64 4-103 8-229 2-34 0-3 2 6 2 39 8 285 6 94 4 41 4 23 2 10 4 8 2 5 4 4 4 2 4 0 4-3 4-4 4-10 8-26 10-18 4-18 2-29 4-46 8-193 2-30 0-4 2 4 2 29 8 219 4 45 2 27 2 10 4 8 0 1 2-1 6-4 2-1 2 1 2 2 4 10 10 33 4 8 4 5 6 3 6 0 8-3 6-4 4-5 4-8 4-10 2-14 4-33 4-41 10-222 2-21 2 7 2 33 6 144 4 72 2 24 2 26 4 15 2 6 2 3 2 1 2 0 2-3 2-5 4-16 8-44 2-6 2 3 2 9 10 62 4 12 4 9 2 4 4 2 12-4 4 0 4 3 12 12 8 4 6 1 6 1 16-2 8-3 2-3 4-4 4-8 2-11 4-19 8-40 2-7 0-2 2 0 0 1 2 7 8 45 4 18 6 13 2 3 2 2 2 1 4 0 10-6 4-1 4 2 10 8 2 1 4 1 20-3 4-2 8-5 2-1 4 0 6 3 4 0 6-3 8-13 2-2 2 0 2 0 4 4 8 15 6 7 4 4 6 2 8 2 14 1 64 1" stroke="#77AC30"/>
<path d="M196 2036l42-1 30-1 22-2 16-3 12-4 10-7 6-8 6-12 4-14 4-16 2-26 4-38 4-79 8-219 2-26 0-2 2 7 2 36 8 240 6 77 4 33 4 21 4 8 2 5 4 5 6 4 4 2 4 0 12-4 12 2 6-2 6-4 4-6 4-11 2-12 6-36 4-54 2-60 8-176 2-27 0-4 2 4 2 28 8 197 2 54 4 38 4 31 4 17 2 8 4 5 2 4 4 4 4 1 4 0 4-2 4-3 4-7 10-22 8-11 2-5 2-8 2-21 4-34 8-147 2-24 0-4 2 2 2 21 8 167 4 34 2 21 2 8 4 5 2 1 8-5 2 1 2 2 4 7 10 27 4 4 4 4 6 2 6 0 8-2 6-4 4-3 4-6 4-7 2-10 4-24 4-30 2-43 8-126 2-18 0-1 2 5 2 24 6 126 4 49 2 16 4 17 2 9 2 4 2 2 2 0 2-1 4-7 4-14 8-30 2-4 0-1 2 2 2 7 10 47 4 9 4 7 2 3 4 1 12-3 4 1 16 10 8 4 12 1 16-1 8-3 6-4 4-7 2-7 4-14 8-31 2-6 2-2 2 3 2 7 6 30 4 14 6 10 2 2 2 2 6 0 10-4 4-1 4 1 10 7 6 1 20-2 12-6 2 0 4 0 8 2 2 0 6-2 8-10 4-2 2 1 4 2 8 12 6 5 4 3 6 2 8 1 14 1 62 1" stroke="#4DBEEE"/>
<path d="M196 2042l74-2 22-1 16-2 12-4 8-4 8-7 6-9 4-12 2-16 4-24 2-25 4-73 6-154 2-32 0-5 2 3 2 30 8 195 4 68 4 26 4 14 4 7 4 5 4 4 4 3 6 2 4 0 14-4 12 2 6-1 4-3 6-6 4-7 2-10 4-22 4-41 4-71 6-137 2-21 2 1 2 23 8 175 4 64 4 25 4 14 4 5 2 4 8 6 4 2 4 0 4-1 4-2 4-7 10-18 2-2 6-2 2-2 2-3 2-7 2-19 2-20 8-133 2-19 2-1 2 17 8 136 2 31 4 19 2 10 4 3 2-1 8-7 2 0 2 1 4 6 10 20 2 4 4 3 6 1 8 1 8-2 8-2 4-4 4-4 4-5 2-9 4-20 4-27 8-125 2-22 0-4 2 3 2 21 6 99 4 45 2 14 2 14 4 9 4 4 4 1 2-2 4-6 4-11 6-28 2-4 2 0 2 7 8 31 4 13 4 9 6 3 4-1 10-3 4 0 4 1 12 8 6 2 6 1 22-1 8-1 6-2 2-2 4-3 4-7 4-12 6-27 2-5 2-1 2 4 8 31 4 12 6 7 4 3 6-1 10-4 4-1 4 1 8 6 6 1 12-2 12 0 12-5 4 0 8 3 4 0 4-2 10-9 4-2 4 2 8 10 4 3 4 3 6 2 24 1 64 1" stroke="#A2142F"/>
<path d="M196 2042l52-1 36-1 26-2 20-4 14-5 6-4 4-4 6-6 4-6 6-14 4-16 4-28 2-33 4-52 4-144 8-279 2-42 0-4 2 8 2 49 8 345 6 108 4 46 4 25 2 12 4 8 4 8 4 6 6 3 4 1 4-2 8-4 4 0 10 2 2-1 4-2 4-7 6-12 2-12 4-18 4-42 4-73 4-116 6-219 2-44 0-7 2 4 2 38 8 283 2 77 4 53 2 34 4 28 4 12 2 9 4 6 4 5 4 3 4 0 4-2 4-5 4-10 10-31 6-12 2-4 4-14 2-27 4-46 8-210 2-38 0-7 2 1 2 29 8 239 4 48 2 30 4 15 0 2 2 2 2 0 8-7 2 0 2 2 4 10 10 38 4 6 4 6 6 2 8 0 8-3 6-5 4-6 4-8 2-10 4-17 4-37 2-46 10-223 2-29 0-2 2 6 2 33 6 181 4 70 2 22 4 23 2 13 2 5 2 3 2 0 2-1 4-10 4-18 8-44 2-7 0-1 2 0 0 2 2 9 10 68 4 13 4 10 2 4 4 2 4-1 8-4 2 0 2 0 4 4 12 11 6 5 6 1 6 1 16-2 10-3 2-3 4-3 4-9 4-14 10-60 2-8 2-3 2 3 2 9 6 44 4 20 6 14 2 3 2 2 4 1 2-1 10-6 2-1 4 1 10 9 4 2 2 1 22-4 4-2 8-5 2-1 4 0 8 4 2 0 4-2 2-3 10-13 2-2 2 0 2 1 2 2 8 17 4 6 4 4 6 3 6 2 10 1 40 2" stroke="#0072BD"/>
<path d="M196 2051l50-1 36-1 24-2 18-3 14-5 10-6 8-9 6-12 4-13 4-23 6-56 4-107 8-220 2-38 0-6 2 4 2 34 8 245 2 66 4 45 4 37 4 20 2 9 4 8 4 6 6 4 4 2 4 1 4-1 10-4 12 2 2-1 4-1 4-5 4-7 4-11 4-13 2-21 2-21 4-61 10-242 2-38 0-8 2 0 2 26 8 220 2 62 4 42 4 35 4 19 2 8 4 6 2 4 4 4 4 2 4 0 4-2 4-3 4-10 10-22 8-12 2-6 2-9 4-24 2-24 8-181 2-22 2-1 0 6 2 30 8 170 4 39 2 24 4 12 2 4 4-1 6-5 2 0 2 3 4 8 10 27 4 5 4 4 6 3 8 0 8-3 6-4 4-4 4-6 2-7 4-12 4-28 2-34 4-49 6-124 2-26 0-4 2 3 2 23 6 142 4 55 2 19 4 18 2 11 2 4 2 2 2 1 2-1 4-7 4-14 8-34 2-7 0-1 2 0 2 8 10 52 4 11 4 8 2 3 4 2 4-1 8-3 4 0 4 3 12 9 6 3 12 2 18-1 8-3 6-5 4-7 4-9 10-50 2-6 2-1 0 1 2 1 2 7 6 34 4 16 6 11 2 3 2 2 4 0 2 0 10-5 4-1 4 1 10 7 6 2 20-3 14-7 4 1 6 2 4 1 6-3 10-11 2-2 2 0 4 2 12 18 4 4 6 2 6 2 12 1 46 1" stroke="#D95319"/>
<path d="M196 2057l36-1 26-2 20-2 14-4 10-5 8-7 8-10 4-13 4-18 4-22 2-36 2-34 4-101 6-207 2-45 2-8 0 3 2 36 10 288 4 87 4 35 4 18 4 9 2 6 4 6 6 4 4 3 4 0 4-1 10-4 4 0 8 2 4 0 4-2 4-5 6-10 2-9 4-13 4-33 4-59 2-69 8-212 2-30 0-1 2 9 2 43 8 236 4 81 4 33 4 17 4 8 2 6 4 4 4 3 4 2 4 1 4-2 2-3 6-10 8-23 4-5 6-5 2-4 2-8 2-21 4-39 8-179 2-27 0-2 2 6 2 33 8 181 2 40 4 23 2 11 2 2 2 2 2-2 6-7 2-1 2 2 6 10 10 28 2 5 4 3 6 3 8-1 8-2 8-4 4-4 4-7 2-7 4-13 4-29 2-38 8-169 2-30 2-6 0 2 2 25 8 152 4 57 2 18 2 18 4 10 2 4 2 2 2 0 2-1 4-8 4-17 8-37 2-5 2 1 2 7 10 56 2 11 4 8 4 3 4 1 2-1 10-4 4 0 4 3 10 9 8 4 12 1 18-1 8-3 4-2 2-3 4-8 4-9 10-50 2-7 0-1 2 0 0 2 2 7 8 37 4 16 4 11 2 3 4 2 2 0 4-1 10-6 2-1 4 2 10 8 6 1 12-2 10-1 12-6 2-1 4 1 6 3 4 1 6-4 8-12 2-2 2 0 2 1 2 2 10 14 4 5 4 3 6 3 10 1 18 1 78 1" stroke="#EDB120"/>
<path d="M196 2040l114-1 30-2 22-3 16-5 6-2 6-5 6-5 4-5 6-14 4-19 4-29 4-39 2-40 4-175 6-319 2-55 2 0 2 54 6 363 2 75 4 77 4 57 4 29 2 13 4 9 4 8 4 6 6 5 6 1 4-1 6-6 4-2 2 1 10 5 2 0 4-2 6-8 6-11 4-16 2-20 4-48 4-96 8-360 2-59 2-6 0 11 2 67 8 324 4 106 2 44 4 33 6 20 4 9 4 6 4 4 6 2 4-1 4-4 4-11 10-38 4-4 4 0 2-2 2-6 2-13 4-37 2-42 8-276 0-21 2-8 0 6 2 51 8 250 2 62 4 36 2 18 2 3 2 2 0 1 2-3 8-16 2-2 2 2 4 14 10 36 2 7 4 5 2 2 4 1 8 0 10-2 6-5 6-6 4-8 2-9 4-15 4-39 2-54 8-259 2-37 2 0 2 37 6 207 4 89 2 27 2 25 4 14 4 10 2 2 4-1 2-6 2-8 4-25 6-52 2-10 2-2 0 1 2 11 8 64 4 26 4 14 2 6 4 2 2 1 2-1 10-8 2-1 2-1 4 3 10 15 4 3 6 2 12 1 14-1 10-3 6-3 2-4 2-4 4-14 4-24 8-57 2-8 0-1 2 2 2 12 6 50 4 25 4 14 2 6 4 2 2 2 4-1 4-3 6-7 4-2 2 0 2 2 8 11 6 3 4 0 8-4 10 1 2-1 4-2 6-8 4-1 2 1 8 7 2 1 2 0 2-2 4-4 8-18 2-3 2-2 0 1 2 2 10 23 4 5 4 5 4 3 4 1 20 2" stroke="#7E2F8E"/>
<path d="M196 2038l48-1 36-1 24-2 18-2 14-5 6-3 6-4 8-9 6-13 4-13 4-23 2-28 4-42 4-116 8-226 2-37 0-6 2 4 2 33 10 303 4 83 4 36 4 20 4 9 2 7 4 6 6 5 4 2 4 1 4-1 8-3 4 0 10 1 2 0 4-2 4-6 4-7 4-13 4-15 4-35 4-59 4-93 6-177 2-38 0-8 2 0 2 26 8 226 2 66 4 47 4 38 4 22 2 10 4 7 2 4 4 5 4 2 4 0 4-2 4-4 4-10 10-23 8-13 2-5 2-9 2-22 4-37 8-187 2-21 2-1 0 6 2 30 8 176 4 42 2 26 4 15 2 5 2 0 2 0 4-4 2-1 2 1 2 2 4 9 10 29 4 7 4 4 6 2 8 0 8-2 6-5 4-4 4-7 2-9 4-14 4-30 2-37 10-180 2-26 0-4 2 3 2 23 6 146 4 59 2 21 4 20 2 12 2 5 2 3 2 0 2-1 4-7 4-15 8-35 2-6 0-1 2 0 2 4 2 8 10 54 2 10 4 7 2 3 4 2 4 0 8-3 4 0 4 3 12 9 8 4 12 2 14-1 10-3 6-5 4-7 4-12 10-48 2-7 2-3 2 1 2 7 8 40 4 15 4 11 2 2 4 2 4 0 10-5 4-1 4 2 10 7 2 1 4 1 20-3 14-7 4 0 6 2 4 1 6-3 10-12 2-1 2 0 4 2 8 14 6 6 4 3 4 3 8 1 10 1 46 1" stroke="#77AC30"/>
<path d="M196 2034l72-1 20-2 16-2 12-5 10-6 6-8 6-11 2-11 4-17 2-27 2-27 4-84 8-219 2-35 0-3 2 8 2 43 8 242 4 80 4 31 4 16 4 8 2 5 4 5 6 4 4 2 4 1 4-1 10-4 4 0 10 3 6-2 4-4 6-7 4-10 2-12 4-28 4-55 4-65 6-172 2-36 0-6 2 4 2 34 8 219 4 75 4 29 4 16 4 7 2 5 4 3 4 3 4 2 4 1 4-1 2-2 6-8 10-23 2-4 6-3 2-3 2-7 4-20 2-37 8-166 2-19 2 2 2 25 8 169 2 37 4 22 2 10 4 4 2-2 6-6 2-2 2 0 2 2 4 7 10 25 2 5 4 3 6 2 10 0 8-1 6-4 4-4 4-5 4-7 2-11 4-27 4-35 8-157 2-23 0-2 2 18 8 140 4 53 2 17 2 16 4 9 4 6 2 1 2-1 4-4 2-5 4-16 6-30 2-7 0-1 2 1 2 5 8 43 4 16 2 5 2 5 2 2 4 2 4-1 10-4 4-1 4 3 8 6 4 4 6 1 6 1 22 0 8-2 6-2 2-2 4-4 4-10 4-15 6-34 2-5 2-1 0 1 2 6 8 34 4 15 4 10 6 4 2 1 4-1 10-5 4-1 4 1 8 7 6 1 12-2 10 0 4-1 8-5 2-1 4 0 8 4 4 1 4-4 8-10 4-3 2 0 2 2 10 13 4 5 4 3 6 2 8 1 16 1 68 0" stroke="#4DBEEE"/>
<path d="M196 2050l46-1 34-1 24-2 18-4 14-6 10-7 4-5 4-6 6-15 4-16 4-27 4-67 6-128 8-301 2-35 0-1 2 11 2 51 8 302 2 77 4 53 4 43 4 24 2 11 4 8 4 7 4 6 4 3 6 0 4-1 8-4 4 0 8 2 4-1 2-1 6-6 4-8 4-14 2-16 6-49 4-73 2-82 8-242 2-37 0-5 2 7 2 41 8 298 6 95 4 41 4 22 4 16 4 5 4 5 4 3 4 1 4-3 2-4 6-11 10-30 8-14 2-6 2-11 2-28 4-46 8-203 2-33 0-5 2 4 2 31 8 229 4 45 2 28 2 10 4 7 2 0 6-6 2-1 2 1 2 2 4 10 10 34 4 8 4 5 6 3 6 0 8-3 6-5 4-4 4-8 4-9 2-14 4-33 4-40 2-58 8-174 2-24 0-1 2 8 2 35 6 152 4 73 2 25 2 25 4 15 2 6 2 3 0 1 2 1 2-2 4-10 4-19 8-41 2-6 0-1 2 3 2 10 10 64 4 12 4 10 2 4 4 1 4-1 8-3 4 0 4 3 12 12 6 4 6 1 6 1 16-2 10-3 2-2 4-4 4-9 2-10 4-19 8-43 2-7 0-2 2-1 0 2 2 7 8 47 4 18 6 14 2 3 2 2 2 0 4 0 10-6 2-1 4 1 12 9 4 2 22-3 4-2 8-6 2-1 4 1 8 3 2 0 6-3 8-13 2-2 2-1 2 0 4 4 8 14 4 8 6 4 4 3 8 2 12 1 50 1" stroke="#A2142F"/>
<path d="M196 2051l52 0 36-2 24-2 20-3 14-5 6-4 4-4 4-5 4-6 6-13 4-15 4-26 4-31 2-50 6-138 6-274 2-40 2-2 0 9 2 50 8 307 4 77 2 53 4 42 4 23 4 11 2 7 4 7 6 6 4 3 4 0 4-1 10-4 2 0 10 2 4-1 2-2 6-6 4-12 4-11 2-17 4-39 4-70 4-112 6-215 2-42 2-6 0 5 2 40 8 276 6 108 4 46 4 25 2 11 4 8 2 5 4 5 4 3 4 1 4-2 4-4 4-11 10-30 10-15 2-12 4-26 2-45 8-205 2-37 2-6 0 2 2 30 10 233 2 46 4 26 2 11 2 6 2 1 2-1 4-6 2-2 2 0 2 3 4 9 10 34 4 9 4 4 6 3 8 0 8-3 6-5 4-5 4-8 4-10 2-15 4-36 4-44 8-218 2-27 2-1 0 6 2 35 6 154 4 74 2 25 4 25 2 15 2 5 2 4 4 1 2-1 4-10 4-18 6-43 2-7 2-1 0 1 2 2 2 9 6 49 6 25 2 7 2 7 2 2 4 2 4 0 8-5 4 0 4 3 14 13 4 3 8 2 10 0 10-1 8-2 4-3 4-3 2-4 6-15 4-19 6-43 2-8 2-3 2 1 2 7 8 48 4 18 4 14 2 2 4 3 2 0 4-1 8-6 4-1 4 1 10 10 6 2 22-4 4-2 6-5 4-1 2 0 8 4 4 0 2-1 2-2 10-14 2-2 2-1 2 1 2 3 8 15 6 7 4 4 4 3 8 2 10 1 42 1" stroke="#0072BD"/>
<path d="M196 2046l54 0 38-1 26-2 20-3 14-5 6-3 4-4 8-10 6-12 4-14 4-24 4-31 2-49 4-103 8-264 2-46 0-7 2 5 2 44 8 321 6 96 4 38 4 21 2 10 4 7 4 6 4 5 6 3 4 1 4-1 8-5 4 0 10 3 4-1 2-2 6-6 4-11 4-11 2-16 4-38 4-69 4-80 6-207 2-47 0-10 2 2 2 33 8 265 4 102 4 43 4 22 4 11 2 7 4 5 4 4 4 3 4 0 4-2 4-3 4-11 10-26 2-5 6-5 2-4 2-12 4-26 2-28 2-60 6-157 2-27 2 0 0 8 2 38 8 202 4 43 2 26 4 12 0 2 2 2 4-2 6-8 2 0 2 2 4 8 10 35 4 5 4 4 6 3 8 0 8-3 6-4 4-4 4-7 2-8 4-12 4-30 2-38 4-57 6-149 2-32 0-4 2 4 2 30 6 148 4 84 2 20 4 19 2 11 2 5 2 2 4 0 2-2 4-9 4-19 6-36 2-8 0-2 2 0 0 2 2 8 8 46 4 21 4 15 4 4 2 1 4 0 10-5 4 0 4 2 12 13 6 3 6 1 10 0 12-1 8-1 4-3 4-3 2-4 4-11 4-17 8-46 2-7 2-1 2 6 8 46 4 18 6 12 2 3 2 2 4 1 2-1 10-6 4-2 4 2 10 9 4 1 12-2 10-1 4-1 8-6 2-1 4 1 8 3 4 1 4-4 10-13 2-2 2-1 2 1 2 3 12 19 4 4 4 3 6 2 10 1 40 1" stroke="#D95319"/>
<path d="M196 2054l50-1 34-1 26-2 18-3 14-4 6-3 4-4 8-9 6-11 4-13 4-22 4-26 2-42 6-113 6-221 2-35 2-5 0 6 2 36 10 273 4 89 4 37 6 25 2 8 4 6 4 6 4 5 4 2 4 0 4-1 10-3 2-1 10 2 4 0 2-2 6-5 4-8 4-12 2-14 4-33 4-58 4-91 6-174 2-36 2-7 0 2 2 28 8 224 4 62 2 43 4 36 4 19 4 9 2 6 4 5 4 3 4 2 4 1 4-3 2-3 4-8 10-25 10-14 2-10 4-22 2-36 8-166 2-30 2-7 2 21 10 190 2 39 4 24 2 13 4 4 2-1 6-5 2 0 4 4 4 8 10 28 2 5 4 5 6 2 8 0 8-3 6-4 4-4 4-7 4-8 2-13 4-29 4-37 8-176 2-24 2-3 0 4 2 25 8 143 4 56 2 19 2 19 4 11 2 4 2 2 2 1 2-1 4-8 4-14 6-35 2-6 2-1 2 2 2 7 6 39 4 18 4 9 2 6 4 4 4 1 2 0 8-4 6 1 4 2 10 10 8 3 12 2 16-1 8-3 6-5 4-7 4-11 10-47 2-7 2-3 2 2 2 7 8 35 4 16 4 11 2 3 4 2 2 1 4-1 8-5 4-1 4 2 10 7 4 1 4 1 20-3 14-7 4 1 6 2 4 0 2-1 4-2 8-11 2-1 2-1 4 3 14 18 4 4 6 2 6 2 12 1 44 1" stroke="#EDB120"/>
<path d="M196 2035l20-1 14-2 12-3 10-4 6-5 6-7 4-7 4-12 4-15 2-24 4-53 4-62 6-160 2-36 0-8 2 0 2 25 8 204 2 54 4 36 4 29 4 16 2 7 4 6 4 4 6 4 4 1 4 1 4-1 10-3 12 2 4 0 2-2 6-4 4-7 4-7 2-11 4-25 4-45 4-75 6-143 2-25 2-2 0 6 2 30 8 183 6 67 4 27 4 14 2 7 4 4 4 5 4 2 4 2 4 0 4-2 2-3 4-6 10-20 10-8 2-4 2-8 2-21 2-21 8-138 2-22 2-3 0 4 2 23 8 141 4 32 2 20 4 9 2 4 4-1 4-5 2-1 2 0 2 2 4 7 10 22 4 5 4 3 6 1 8 0 8-2 6-3 4-3 4-5 4-6 2-10 4-22 4-30 8-130 2-25 0-5 2 1 2 17 6 117 4 46 2 15 4 15 2 8 4 5 4 1 2-1 4-6 4-12 6-29 2-4 2-1 0 1 2 5 10 43 4 9 4 7 2 2 4 1 12-3 4 0 4 1 12 8 8 3 12 1 16-1 10-2 6-4 4-6 2-7 10-39 2-6 2-1 4 6 6 29 4 13 6 9 2 3 4 1 6-1 8-4 4-1 4 1 10 6 4 2 24-2 10-6 4 0 2 0 8 3 4 0 4-2 10-10 4-2 4 2 8 11 6 5 6 3 6 2 40 1 116 1" stroke="#7E2F8E"/>
<path d="M196 2048l68-1 20-2 16-2 10-3 10-5 6-8 6-9 4-13 2-16 4-28 2-28 4-85 6-179 2-31 2 28 8 226 2 38 4 40 4 29 4 15 2 7 4 6 4 4 6 4 4 1 4 1 4-1 10-4 4 0 8 3 4 0 4-1 4-4 6-6 4-8 2-10 4-25 4-47 4-59 6-161 2-33 0-3 2 5 2 36 6 182 6 73 2 23 4 17 4 7 2 5 4 4 4 3 6 2 4 1 4-1 2-2 6-7 10-21 2-3 6-1 2-2 2-6 4-17 2-34 8-154 2-17 2 3 2 27 6 141 4 37 2 22 4 10 2 4 4-1 6-8 2-1 2 1 6 8 8 20 4 5 4 3 6 2 8 0 8-1 8-3 4-4 4-4 4-6 2-9 4-23 4-31 8-146 2-21 2 19 6 116 4 52 2 16 4 16 4 10 4 5 2 0 2 0 4-4 2-4 4-15 6-29 2-5 0-1 2 0 2 6 6 36 4 15 2 5 4 5 2 2 2 1 6 0 8-4 4-1 4 2 12 9 8 2 12 1 14-1 10-1 6-3 6-4 4-8 4-14 6-32 2-5 2 0 0 1 2 6 6 28 4 15 6 9 2 3 4 2 2 0 4-1 10-5 2-1 4 1 10 7 6 1 12-2 12 0 10-6 2-1 4 1 8 4 4 0 4-3 8-10 4-3 2 1 2 2 8 11 4 4 6 3 4 2 10 1 16 0 74 1" stroke="#77AC30"/>
<path d="M196 2055l60-1 40-1 30-3 20-3 14-6 6-3 6-5 8-10 4-8 4-8 4-20 4-29 4-36 2-56 6-154 6-299 2-42 2-3 0 11 2 55 8 335 4 86 2 59 4 47 4 26 4 12 2 8 4 8 6 7 4 3 4 0 4-1 10-5 2 0 8 2 2 1 4-1 2-3 6-7 4-13 4-13 2-19 4-45 4-78 4-125 6-234 2-45 2-6 0 6 2 43 10 333 4 105 4 36 4 28 2 13 4 8 2 6 4 6 4 3 4 1 4-3 4-4 4-12 10-33 8-13 2-5 2-14 4-29 2-50 8-226 2-38 2-7 0 3 2 32 10 256 2 50 4 30 2 12 2 7 2 1 2-1 4-7 2-1 2 0 2 3 4 10 10 38 4 9 4 5 4 2 2 1 8 0 8-3 6-6 4-6 4-9 4-11 2-17 4-40 4-49 8-239 2-29 2-2 0 8 2 38 6 169 4 81 2 28 4 28 2 16 2 7 2 3 2 1 2 1 2-2 4-10 4-21 6-46 2-8 2-1 0 1 2 3 2 10 6 53 6 28 2 8 2 7 2 3 4 2 4 0 8-5 4 0 4 3 14 15 4 3 8 2 10 0 10-1 8-2 4-3 4-4 2-5 4-12 6-25 6-48 2-9 2-2 0-1 2 2 2 7 8 53 4 20 4 15 2 3 4 3 2 0 4-1 8-6 4-2 4 2 10 10 6 2 22-4 4-2 6-6 4-1 2 1 8 4 4 0 2-1 2-3 10-15 2-2 2-1 2 1 2 3 12 23 4 5 4 3 6 2 6 2 28 1" stroke="#4DBEEE"/>
<path d="M196 2041l48-1 34-2 24-3 16-4 8-3 6-4 4-4 6-5 6-12 6-18 4-21 4-36 6-91 4-130 6-318 2-51 2-5 0 9 2 56 8 354 4 90 2 59 4 48 4 25 4 12 2 9 4 8 6 6 4 3 4 1 4-1 10-6 2 0 8 3 2 0 4-1 2-2 6-7 4-12 4-12 2-19 4-42 4-76 4-126 6-250 2-52 2-9 0 3 2 44 8 320 6 124 4 52 4 28 2 12 4 9 2 6 4 5 6 4 4 0 4-3 2-4 4-11 10-35 4-6 4-5 2-4 2-7 2-13 2-34 4-57 6-215 2-45 2-9 0 1 2 32 10 271 2 52 4 31 2 11 2 7 2 1 2-1 6-10 2 0 2 2 4 11 10 39 4 10 4 5 4 2 2 1 8-1 8-3 6-5 4-6 4-8 4-10 2-17 4-38 4-49 2-71 6-180 2-34 2-3 0 6 2 38 6 180 6 100 2 24 2 24 4 14 2 5 2 3 2 0 2-3 4-13 4-16 6-50 2-9 2-2 0 1 2 2 2 11 6 56 6 29 2 8 2 8 2 2 4 3 4-1 8-5 4 0 4 3 10 11 4 4 4 3 8 2 10 0 10-1 8-3 6-3 2-4 4-6 4-13 4-21 8-56 2-7 0-1 2 1 2 7 8 56 4 21 4 15 2 3 4 3 2 1 4-1 8-8 4-1 4 2 10 10 6 2 2 0 10-2 10-1 4-3 6-6 4-1 2 0 8 5 4 0 2-1 2-2 10-18 2-2 2 0 2 1 2 3 12 24 6 6 4 3 8 2 12 1 54 2" stroke="#A2142F"/>
<path d="M196 2056l58-1 42-1 28-2 20-4 16-4 6-3 6-5 4-5 4-6 6-12 4-14 4-23 4-28 2-44 6-123 8-285 2-33 2 11 2 49 8 286 2 73 4 51 4 40 4 23 2 11 4 7 4 7 4 6 4 2 6 1 12-5 4 0 8 2 4-1 2-2 6-5 4-8 4-13 2-16 6-47 4-70 10-308 2-35 0-3 2 6 2 39 8 284 6 90 4 39 4 21 4 15 4 5 4 5 4 3 4 0 4-3 4-5 4-9 10-28 8-14 2-6 2-11 2-26 4-45 8-193 2-30 0-5 2 4 2 30 8 218 4 43 2 25 2 10 4 7 2 0 6-6 2-1 2 1 2 2 4 9 10 33 4 8 4 4 6 3 6 0 8-3 6-4 4-5 4-7 4-9 2-14 4-31 4-39 2-56 8-165 2-21 2 7 2 33 6 145 4 69 2 24 2 24 4 14 2 5 2 4 0 1 2 0 2-2 4-9 4-18 8-39 2-6 0-1 2 4 2 8 8 46 4 24 2 6 4 7 2 2 2 2 4 0 10-4 4 0 4 3 12 12 6 3 6 2 10 0 10-1 8-2 6-3 4-6 6-13 4-17 8-45 2-7 0-2 2 0 0 1 2 7 8 45 4 17 6 13 2 2 2 3 2 0 4 0 10-6 2-1 4 1 12 9 4 2 22-3 4-2 8-6 2 0 4 0 6 3 4 0 6-3 8-13 2-2 2 0 2 0 4 4 12 19 4 4 4 3 4 2 8 1 28 2" stroke="#0072BD"/>
<path d="M196 2047l52-1 36-1 26-2 20-4 14-4 10-7 6-5 4-5 6-12 4-14 4-23 2-28 4-43 4-118 8-227 2-35 0-3 2 6 2 38 8 281 6 90 4 39 4 22 2 10 4 7 4 6 4 6 4 2 6 1 4-1 8-4 4 0 8 2 4-1 2-1 6-5 4-7 4-11 2-14 6-40 4-61 4-95 6-178 2-35 0-7 2 3 2 30 8 229 2 64 4 44 4 37 4 20 2 10 4 6 2 4 4 4 4 2 4 0 4-2 4-4 4-8 10-25 8-13 2-5 2-9 2-22 4-38 8-171 2-31 0-6 2 1 2 22 8 195 4 40 2 25 4 13 2 4 4 0 6-5 2 0 2 3 4 9 10 29 4 5 4 5 6 2 6 0 8-2 6-4 4-4 4-7 4-7 2-12 4-27 4-33 4-68 6-128 2-23 0-3 2 4 2 27 6 147 4 57 2 20 4 19 2 11 2 5 2 2 2 1 2-2 4-7 4-16 8-35 2-6 0-1 2 1 0 1 2 7 8 41 4 18 2 10 4 6 2 3 4 2 4-1 8-3 4 1 4 2 12 10 6 3 12 2 16-1 10-3 6-5 4-7 4-12 10-48 2-8 2-2 2 2 2 8 6 35 4 16 6 12 2 3 2 2 4 1 2-1 10-5 4 0 4 1 10 7 2 2 4 0 20-3 12-6 2-1 4 0 8 3 2 0 4-1 2-2 10-11 2-2 2 0 4 3 12 18 4 4 6 3 6 1 10 1 40 1" stroke="#D95319"/>
<path d="M196 2038l52 0 36-2 26-2 18-3 14-5 6-3 6-4 4-5 4-6 6-13 4-14 4-24 4-30 2-44 6-119 6-231 2-40 2-8 0 2 2 31 10 285 2 68 4 47 4 39 4 23 2 10 4 7 4 7 4 6 4 2 6 1 12-5 12 1 4 0 2-2 6-6 4-8 2-10 4-14 4-42 4-61 4-96 6-181 2-40 2-10 0-1 2 8 2 37 8 257 6 84 4 37 4 21 4 14 4 5 4 4 4 3 4 0 4-2 2-4 6-10 8-24 8-15 4-15 4-23 2-38 10-190 2-24 0-2 2 5 2 28 8 197 4 40 2 24 2 9 4 7 2 0 6-4 2 0 2 1 2 2 4 9 10 30 4 8 4 4 6 3 6-1 8-2 6-5 4-5 4-7 4-10 2-14 4-32 4-38 8-184 2-27 2-6 0 2 2 21 8 148 4 76 2 19 4 19 2 11 4 5 2 1 2-1 4-7 4-15 6-35 2-7 2-1 0-1 2 4 2 8 10 56 4 11 4 8 2 4 4 1 2 0 10-3 4 0 4 3 12 10 6 4 6 1 6 1 16-1 8-3 6-6 4-7 4-12 10-49 2-8 2-4 2 0 0 2 2 6 8 41 4 16 6 11 2 3 2 2 6 0 10-5 4 0 4 1 10 8 2 1 4 0 20-3 14-7 2 0 8 3 4 0 4-2 10-12 2-2 2 0 2 0 4 3 8 14 4 5 4 4 6 3 6 1 10 1 40 2" stroke="#EDB120"/>
<path d="M196 2033l82-1 24-1 18-3 14-4 10-6 8-9 6-12 4-14 4-24 2-31 2-30 6-122 6-214 2-47 0-9 2 3 2 37 8 299 6 88 4 36 4 19 2 8 4 7 4 6 4 4 6 3 4 1 4-1 10-5 2 0 10 3 4-1 2-1 6-5 4-10 4-9 2-14 4-32 4-61 4-99 6-191 2-31 2-1 0 9 2 44 8 220 4 95 4 39 4 21 4 9 2 7 4 4 4 4 4 3 4 1 4-2 4-3 4-10 10-24 2-4 6-5 2-4 2-8 4-22 2-40 8-184 2-28 2-3 0 6 2 34 8 188 4 40 2 24 4 12 0 2 2 1 4-1 6-8 2 0 2 1 4 10 10 29 4 5 4 4 6 2 8 0 8-2 6-4 4-4 4-7 4-7 2-13 4-30 4-38 8-175 2-32 0-6 2 2 2 26 6 157 4 59 2 18 4 18 2 10 2 4 2 3 4 0 2-1 4-9 4-16 6-39 2-5 2-1 0 2 2 7 8 48 4 17 2 6 4 6 2 2 2 2 4 0 10-5 4 0 4 2 12 11 6 3 6 1 12 0 10-1 8-2 6-2 2-3 4-4 4-11 4-17 6-38 2-7 2-1 2 2 2 7 6 38 4 17 6 11 2 3 2 2 4 0 2 0 10-7 4-1 4 2 10 8 4 2 12-3 12 0 4-2 6-5 4-1 2 1 8 3 4 1 4-3 10-13 2-2 2-1 2 1 2 2 8 15 4 5 4 3 6 2 6 2 12 1 52 1" stroke="#7E2F8E"/>
<path d="M196 2034l16-2 12-2 10-4 8-5 6-7 6-9 4-11 2-13 4-20 2-20 4-64 2-73 6-190 2-39 2-7 0 3 2 35 10 264 4 77 4 31 4 17 4 8 4 7 4 4 4 4 4 2 4 0 4-1 10-4 12 3 4-1 4-1 4-5 6-9 2-8 4-13 4-29 4-55 4-89 4-145 2-40 2-9 2 27 8 217 4 56 2 38 4 29 4 16 4 7 2 5 4 3 4 4 4 1 4 1 4-2 2-3 6-9 8-21 4-4 6-5 2-3 2-7 2-21 4-36 8-163 2-23 0-2 2 6 2 31 8 166 2 35 4 21 2 10 2 2 2 1 2-2 6-7 2 0 2 2 4 6 12 28 2 5 4 3 6 2 10 0 8-2 6-4 4-4 4-5 2-8 4-11 4-27 2-35 8-155 2-27 2-4 0 2 2 24 6 122 6 69 2 16 2 16 4 8 4 6 2 0 2-1 4-8 4-15 8-34 2-4 2 1 2 7 10 51 2 9 4 8 4 2 4 1 12-4 4 0 4 2 10 9 8 3 14 1 16-1 8-3 6-4 4-7 4-9 10-46 2-6 0-1 2 1 2 4 8 38 4 15 4 10 4 2 2 2 6-1 10-5 2-1 4 1 10 7 6 2 12-2 10-1 14-7 4 1 6 3 4 1 6-3 10-13 2-1 2 1 2 2 10 13 4 5 6 4 8 1 14 1 26 1 128 1" stroke="#77AC30"/>
<path d="M196 2047l48 0 36-2 24-2 18-4 14-5 6-4 6-4 8-10 6-14 4-14 4-25 2-31 4-46 4-126 8-252 2-44 0-9 2 3 2 35 8 310 4 71 2 50 4 40 4 23 4 10 2 8 4 7 6 5 4 3 4 0 4 0 10-5 12 2 2-1 4-2 4-6 4-8 4-14 4-17 4-37 4-65 4-102 6-223 2-29 2-1 0 9 2 42 8 253 6 100 4 44 4 24 2 11 4 8 2 5 4 5 4 2 4 1 4-3 4-4 4-11 10-26 8-17 4-12 2-24 4-40 8-208 2-26 2-2 0 6 2 32 10 213 2 42 4 25 2 9 2 7 2 0 2 0 4-5 2-1 2 1 2 3 4 9 10 32 4 8 4 5 6 2 8 0 8-3 6-4 4-5 4-8 2-10 4-14 4-34 2-40 10-200 2-30 0-5 2 2 2 24 6 161 4 68 2 23 4 23 2 14 2 5 2 3 2 1 2-1 2-3 2-5 4-16 8-39 2-7 0-2 2 0 2 4 2 9 10 61 2 11 4 9 4 3 2 1 4 0 8-3 4 0 4 3 12 11 8 4 4 1 8 1 14-1 10-3 6-6 4-8 4-12 10-54 2-8 2-4 2 2 2 7 8 44 4 17 4 12 2 3 4 2 2 1 2-1 10-6 4 0 4 2 10 8 6 1 20-3 14-8 4 0 8 4 2 0 6-3 10-13 2-2 2 0 2 1 2 3 8 13 6 7 4 4 4 3 8 2 10 1 46 1" stroke="#4DBEEE"/>
<path d="M196 2040l60-1 40-2 30-2 20-3 16-5 6-3 6-4 4-5 4-5 4-7 4-8 4-14 4-23 2-29 4-45 4-127 8-304 2-35 2 0 0 11 2 54 8 304 6 112 4 48 4 27 2 12 4 10 4 7 6 6 4 2 4 1 4-1 10-5 2 0 10 3 2-1 4-2 4-5 4-9 4-13 4-15 2-25 2-23 4-73 4-82 6-245 2-37 2-4 0 7 2 43 8 275 6 105 4 45 4 25 2 11 4 8 2 5 4 5 4 3 4 0 4-2 4-4 4-11 10-30 8-11 2-5 2-13 4-28 2-46 8-206 2-32 2-5 0 4 2 32 6 166 4 66 2 44 4 26 2 10 2 6 2 0 2 0 4-7 2-1 2 1 2 2 4 10 10 34 4 6 4 6 2 2 4 1 6 0 8-2 6-4 6-6 4-8 2-8 4-14 4-32 2-40 4-58 6-176 2-24 2 0 2 24 6 175 4 72 2 24 4 25 2 14 2 5 2 4 2 0 2 1 2-2 4-10 4-19 6-42 2-6 2-1 2 4 2 9 6 49 4 21 6 15 2 3 2 3 4 0 10-4 4 0 4 3 14 13 4 2 6 2 10 0 12-1 8-2 4-3 6-6 4-13 4-17 8-49 2-8 2-1 0-1 2 2 2 7 6 42 4 20 6 15 2 4 2 2 4 1 2 0 10-7 4-1 4 2 10 9 6 2 20-3 4-2 8-6 4-1 2 0 8 4 4 0 2-1 2-2 10-14 2-2 2-1 2 1 2 4 12 20 4 4 4 3 4 2 8 1 26 2" stroke="#A2142F"/>
<path d="M196 2039l108-1 30-1 20-2 16-4 6-3 6-3 6-4 4-5 6-11 4-11 4-21 2-25 4-42 4-122 6-217 2-46 2-7 0 4 2 41 8 247 2 75 4 50 4 39 4 21 2 9 4 7 4 6 4 5 6 3 4 1 4-1 10-5 4 0 8 3 4 0 2-2 6-4 4-8 4-12 4-13 4-32 4-60 4-100 4-165 2-47 2-10 0 1 2 31 8 247 6 92 2 30 4 22 6 15 4 7 4 4 4 3 4 1 4-1 4-2 4-9 10-26 4-5 4-3 2-3 4-9 2-22 4-40 8-186 2-27 0-2 2 8 2 36 6 170 4 46 2 27 4 14 2 5 2 0 2-1 6-9 2 0 2 1 6 11 8 26 4 5 4 5 6 2 8 0 8-2 6-3 6-5 4-7 2-7 4-12 4-30 2-38 8-176 2-31 2-5 0 3 2 28 6 139 4 65 2 20 4 21 2 11 4 7 4 2 2-1 2-4 2-5 4-17 8-39 2-5 0-1 2 2 2 8 6 43 4 19 2 6 4 7 2 2 2 2 6 0 8-5 4 0 4 2 10 9 4 3 4 2 8 1 10 0 12-1 8-1 4-3 4-2 2-5 4-10 4-17 8-39 2-7 0-1 2 1 2 5 6 38 4 18 6 13 2 2 2 3 4 1 4-1 10-7 2 0 4 1 10 8 6 2 12-2 10-1 14-8 4 1 6 4 4 0 6-3 8-13 2-2 2 0 2 1 2 2 12 17 2 3 4 3 6 2 6 1 22 1" stroke="#0072BD"/>
<path d="M196 2049l92-1 28-2 18-2 14-5 12-6 4-4 4-6 6-11 4-14 4-23 4-29 2-29 4-116 8-242 2-39 0-4 2 8 2 43 8 270 4 98 4 41 4 22 4 10 4 8 4 6 4 5 6 2 4 1 4-1 8-4 4 0 10 2 2 0 4-2 4-5 6-9 2-9 4-14 2-21 2-21 4-65 4-76 6-190 2-40 0-7 2 3 2 34 8 244 4 92 4 38 4 21 4 9 2 7 4 4 4 4 4 3 4 0 4-2 4-4 4-7 10-27 2-4 6-5 2-4 2-12 4-25 2-43 8-164 2-34 0-7 2 1 2 25 8 206 4 38 2 23 2 8 4 6 2-1 8-8 2 0 2 2 4 8 10 30 2 5 4 5 6 2 8 1 8-2 6-4 6-5 4-6 2-8 4-12 4-28 2-37 4-53 6-137 2-26 0-3 2 5 2 30 6 137 4 64 2 20 2 21 4 12 4 8 2 1 2-1 4-8 4-15 8-38 2-7 0-1 2 0 0 2 2 8 8 43 4 18 4 13 2 3 4 2 4 0 10-4 4 0 4 2 12 11 6 3 6 1 10 0 12-1 8-1 4-3 4-2 2-5 4-10 4-16 8-42 2-6 2-1 0 1 2 6 8 43 4 15 6 11 2 3 2 2 4 0 2-1 10-5 4-1 4 1 10 8 4 2 12-3 10 0 4-2 8-5 2-1 4 0 6 4 4 1 2-1 4-2 10-14 2-1 2 0 2 1 2 2 12 18 4 4 4 2 6 2 8 1 40 1" stroke="#D95319"/>
<path d="M196 2046l10-3 10-3 6-5 6-6 4-5 4-9 4-10 2-16 4-35 4-43 4-88 6-169 2-32 0-3 2 5 2 34 8 237 6 71 4 29 4 16 2 7 4 6 4 5 6 3 4 2 4 0 12-4 4 0 10 2 6-2 4-4 6-8 2-7 4-11 2-18 2-17 4-53 10-214 2-32 0-6 2 2 2 27 8 195 2 51 4 35 4 27 4 15 2 6 4 5 2 3 4 3 4 2 4 0 4-2 4-3 4-6 10-21 2-4 6-5 2-5 2-7 4-21 2-35 8-131 2-28 0-6 2 1 2 19 8 165 4 32 2 19 2 7 4 5 2 0 8-7 2 0 2 2 4 6 10 26 4 5 4 3 6 1 8 0 8-2 6-3 4-4 4-5 2-6 4-10 4-23 2-30 4-43 6-110 2-21 0-3 2 4 2 23 6 110 4 62 2 14 4 15 2 8 2 3 2 2 4 0 2-1 4-8 2-10 8-31 2-5 0-1 2 0 0 1 2 7 10 46 4 9 4 6 2 3 4 1 12-4 4 0 4 2 12 8 8 4 14 0 14-1 8-2 6-4 4-6 4-8 4-14 6-30 2-5 2 0 2 5 8 34 4 13 6 9 2 3 4 1 4-1 10-4 4-1 4 1 10 7 4 1 22-2 14-6 4 0 6 2 4 1 6-2 10-11 2-1 2 0 4 2 8 12 6 5 6 3 8 1 44 2 142 1" stroke="#EDB120"/>
<path d="M196 2037l86-1 24-2 18-3 14-4 10-6 6-7 6-12 4-15 4-17 2-30 2-31 4-98 8-260 2-32 0 4 2 18 8 287 2 52 2 53 4 40 4 20 4 9 2 6 4 6 6 4 4 3 6 1 4-1 8-4 2-1 4 1 8 3 4 0 4-2 4-4 6-8 4-10 2-13 4-32 4-62 4-77 6-205 2-36 2 34 8 234 4 100 4 30 4 22 2 10 4 6 4 6 4 4 4 3 6 0 4-1 2-2 6-9 10-27 2-3 4 0 2 0 2-4 2-7 4-23 2-44 8-178 2-32 0-2 2 24 8 201 4 43 2 24 4 12 0 2 2 1 4-1 6-12 2-1 2 2 4 7 10 29 4 5 2 3 6 2 10 1 8-2 8-4 4-4 4-6 4-7 2-12 4-30 4-41 8-186 2-22 0 3 2 12 6 167 4 62 2 18 4 17 2 10 4 6 4 2 2-1 2-3 2-5 4-16 8-43 2-6 0-1 2 2 2 8 6 40 4 21 2 7 2 6 4 4 2 2 6-1 8-6 4-1 4 2 12 11 4 2 4 2 12 0 16 0 8-2 6-3 6-6 4-10 4-18 6-37 2-7 0-2 2 0 2 6 6 41 4 18 4 9 4 4 2 2 4 1 4-1 10-7 2-1 4 1 10 9 4 1 4 0 10-3 10 1 4-2 8-6 2-1 4 1 6 5 4 1 2-1 4-2 8-15 2-2 2-1 2 1 2 3 8 12 4 6 4 4 4 2 8 1 12 1 52 1" stroke="#7E2F8E"/>
<path d="M196 2051l36-1 28-2 20-2 14-4 12-5 10-6 6-10 6-11 4-16 2-19 6-56 4-78 8-220 2-28 0-3 2 7 2 34 8 242 6 77 4 34 4 22 4 7 2 6 4 5 6 4 4 2 4 0 12-4 12 1 6-1 6-5 4-6 4-10 2-12 6-36 4-53 2-60 8-176 2-30 0-4 2 3 2 27 8 198 2 55 4 38 4 31 4 18 2 8 4 5 2 4 4 4 4 1 4 0 4-2 4-3 4-7 10-22 8-11 2-5 2-8 2-20 4-34 8-147 2-26 0-4 2 1 2 20 8 168 4 35 2 21 4 11 2 4 2-1 8-4 2 0 2 2 4 7 10 27 4 6 4 3 6 1 8 0 6-2 6-3 4-4 4-6 4-6 2-11 4-24 4-29 2-42 8-127 2-19 0-2 2 5 2 23 6 127 4 49 2 17 4 16 2 10 2 4 2 2 2 0 2-1 4-7 4-13 8-31 2-4 0-1 2 2 2 6 8 35 4 16 2 8 4 5 2 3 4 1 12-2 4 0 4 2 12 9 8 3 12 1 14-1 10-2 6-5 4-6 2-8 4-14 8-31 2-6 2-2 0 1 2 5 8 34 6 16 4 9 2 2 4 2 4-1 10-4 2-1 6 2 10 6 6 1 20-2 14-6 4 0 8 2 2 0 6-2 8-9 4-3 2 1 4 2 8 12 6 5 4 3 6 2 10 1 16 1 72 1" stroke="#77AC30"/>
<path d="M196 2036l66-1 22-2 14-3 12-4 10-6 6-8 6-12 4-14 4-17 2-26 4-40 4-81 6-194 2-34 2-6 0 2 2 28 10 239 2 54 4 37 4 30 4 17 2 7 4 6 4 5 4 4 4 2 4 1 4-1 10-3 12 2 6-2 6-5 4-6 4-10 2-13 4-27 4-49 4-78 8-172 2-22 0-1 2 7 2 33 8 196 4 75 4 32 4 18 4 9 2 5 4 4 4 4 4 2 4 0 4-2 2-3 6-8 8-20 10-12 2-5 2-9 2-21 2-22 10-160 2-20 0-1 2 4 2 26 8 150 2 36 4 23 2 11 4 5 2 0 6-4 2-1 2 1 2 2 4 7 10 25 4 6 4 3 6 2 6 0 8-2 6-3 4-4 4-6 4-7 2-11 4-24 4-31 8-154 2-23 2-4 0 2 2 19 8 125 4 51 2 17 2 17 4 10 2 4 2 3 2 0 2 0 4-7 4-12 6-30 2-6 2-1 2 3 2 7 6 30 4 16 4 9 2 5 4 4 4 1 2 0 10-3 4 0 4 2 10 9 8 3 12 1 16-1 10-3 6-4 4-7 2-7 12-45 2-5 0-1 2 0 0 1 2 6 8 34 4 13 6 9 4 4 6 0 8-5 4-1 4 2 10 6 6 1 22-2 14-6 2 0 8 3 4 0 4-2 10-11 4-1 4 2 10 12 4 5 6 3 6 2 8 1 16 1 68 1" stroke="#4DBEEE"/>
<path d="M196 2050l12-3 8-2 8-5 6-4 6-6 4-8 2-9 4-12 4-29 4-49 10-211 2-23 0-3 2 5 2 27 8 194 6 62 4 27 4 18 4 6 4 5 4 4 4 3 8 1 12-3 14 1 6-1 4-4 4-6 4-6 2-10 6-28 4-42 4-67 6-122 2-24 0-4 2 2 2 21 8 159 2 44 4 30 4 26 4 14 2 6 4 5 4 3 4 3 4 1 2 0 4-2 4-3 4-5 10-18 8-8 4-10 2-16 4-27 8-118 2-20 0-4 2 0 2 16 8 135 4 27 2 18 4 8 2 3 4 0 6-3 2 0 2 1 4 6 10 21 4 5 4 3 6 1 8 0 6-2 6-2 4-3 4-5 4-5 2-8 4-19 4-23 4-47 6-89 2-15 0-2 2 3 2 19 6 101 4 40 2 14 4 13 2 8 2 3 2 1 2 1 2-1 4-6 4-10 8-24 2-4 0-1 2 2 2 5 8 27 4 13 2 7 4 4 2 3 4 0 12-2 4 0 16 9 8 3 12 1 16-1 8-2 6-4 4-5 2-6 4-11 8-25 2-5 2-1 2 2 2 5 6 24 6 14 4 7 6 2 4 0 12-4 6 1 10 5 6 1 20-2 14-5 14 3 6-2 8-8 4-2 2 1 4 1 10 11 4 4 6 2 8 2 44 1 138 1" stroke="#A2142F"/>
<path d="M196 2055l46-2 32-2 22-3 18-4 12-7 6-4 4-5 4-5 4-8 6-17 4-18 4-32 4-39 2-58 4-117 8-330 2-44 2-6 0 6 2 47 10 362 2 82 4 57 4 47 4 27 2 12 4 9 4 8 4 7 4 3 4 0 4-1 10-5 2 0 10 2 4-1 2-3 6-7 4-11 2-12 4-19 4-55 4-81 4-124 6-229 2-46 2-9 0 3 2 35 8 295 4 85 2 61 4 51 4 28 4 13 2 9 4 6 4 6 4 3 4 0 4-4 2-5 4-10 10-33 8-19 4-20 4-30 2-51 8-219 2-39 2-9 2 27 10 271 4 48 2 28 2 11 4 7 2 0 6-6 2 1 4 4 4 12 10 37 4 10 4 5 2 2 4 0 6 0 8-3 6-5 4-6 4-9 2-10 4-16 4-36 2-45 4-63 6-190 2-31 2-3 0 4 2 32 8 189 4 78 2 26 2 27 4 16 2 6 2 3 2 1 2-2 4-10 4-19 6-45 2-8 2-1 2 2 2 9 10 76 4 13 2 9 4 5 4 2 2 0 8-4 4 0 2 1 4 3 10 13 4 3 4 2 6 1 6 1 16-2 4-1 4-3 4-2 2-5 4-9 4-12 4-21 6-46 2-9 2-4 2 3 2 9 8 52 4 20 6 14 2 3 2 2 2 1 4-1 8-6 4-1 4 2 12 10 2 1 4 0 20-3 10-8 4-1 2 0 8 3 4 0 2-1 4-3 8-14 2-2 2 0 2 1 2 2 10 18 4 8 6 5 4 3 8 2 12 1 54 1" stroke="#0072BD"/>
<path d="M196 2039l38 0 26-2 20-2 14-4 10-6 8-9 6-10 6-16 2-15 4-25 2-40 2-40 4-123 6-256 2-49 2-4 0 10 2 59 8 290 4 119 4 47 4 24 4 10 4 10 4 6 4 5 6 3 4 1 4-1 10-5 2 0 8 3 2 1 4-1 2-1 6-6 4-9 4-12 4-15 4-36 4-69 4-120 4-195 2-51 2-8 0 5 2 46 8 263 4 112 4 44 4 23 4 10 2 7 4 6 4 4 6 3 4 0 4-2 2-3 6-11 8-28 4-5 4-2 2-2 2-6 2-11 4-32 2-34 8-222 2-27 0 2 2 34 8 225 4 49 2 27 4 14 0 2 2 2 4-3 4-9 2-2 2 0 2 2 4 9 10 33 4 6 4 5 6 2 8 0 8-2 8-5 4-4 4-7 2-9 4-13 4-34 2-45 8-209 2-33 2-2 2 24 6 164 4 79 2 25 2 25 4 17 4 7 4 1 2-1 2-5 2-6 4-20 6-42 2-9 2-1 2 7 8 58 4 20 2 7 4 7 2 2 2 2 2 0 4-1 8-5 4-1 4 2 12 12 4 3 4 2 10 1 14-1 10-2 6-3 4-3 2-5 4-12 4-20 8-46 2-7 0-1 2 2 2 7 6 47 4 19 2 6 4 7 2 4 4 1 2 1 4-1 8-8 4-1 4 2 10 9 4 2 4-1 8-2 10 0 2 0 4-3 6-5 4-2 2 1 8 6 4 0 2-1 4-3 8-16 2-2 2 0 2 1 2 3 8 14 4 8 6 4 4 2 10 2 18 1 80 0" stroke="#D95319"/>
<path d="M196 2042l44-1 30-1 24-2 16-3 12-5 10-6 6-9 6-13 4-15 4-19 2-30 2-29 6-120 6-208 2-44 0-8 2 3 2 38 8 290 6 84 4 34 4 18 2 9 4 6 4 5 4 5 6 2 4 1 4-1 10-4 12 2 4 0 2-2 6-5 4-9 4-9 2-14 4-32 4-59 4-69 6-213 2-29 2 0 0 10 2 44 8 212 4 92 4 37 4 20 4 9 2 6 4 4 4 4 4 3 4 0 4-1 4-3 4-10 10-23 2-5 6-5 2-3 2-8 4-22 2-39 8-179 2-26 2-2 0 6 2 34 8 182 4 39 2 22 4 11 0 2 2 1 4-1 6-8 2 0 2 1 4 8 10 30 4 5 4 4 6 2 8 0 8-3 6-3 4-4 4-7 4-7 2-13 4-29 4-38 8-170 2-30 0-5 2 3 2 26 6 134 4 75 2 17 4 17 2 10 2 4 2 2 4 0 2-1 4-9 4-16 6-37 2-5 2-1 0 2 2 7 8 42 4 18 4 13 4 4 2 1 4 0 10-4 4-1 4 2 12 11 6 3 6 1 12 0 10-1 8-1 6-3 2-3 4-4 4-10 4-17 6-37 2-6 2-2 0 1 2 4 8 42 4 16 6 11 2 2 2 2 4 1 2-1 10-6 4-1 4 1 10 8 4 2 12-2 12-1 12-7 4 0 8 4 4 0 4-3 10-12 2-2 2-1 2 1 2 2 8 13 4 6 6 4 4 2 8 1 16 1 60 1" stroke="#EDB120"/>
<path d="M196 2043l66-2 22-2 14-3 12-4 10-6 6-7 6-10 4-12 2-16 4-23 2-37 4-74 8-180 2-31 0-5 2 3 2 27 8 201 2 54 4 38 4 30 4 20 4 7 2 5 4 4 6 4 4 1 4 1 14-4 12 2 6-2 4-4 4-6 4-9 4-11 4-34 4-51 10-198 2-31 0-7 2 1 2 20 8 180 2 50 4 36 4 29 4 15 2 8 4 4 2 4 4 3 4 2 4 0 4-2 4-3 4-7 10-18 8-11 2-5 2-7 4-20 2-20 8-148 2-18 2-1 0 5 2 24 8 139 4 32 2 20 4 10 2 4 4-1 6-4 2 0 2 2 4 7 10 23 4 5 4 3 6 1 8 0 8-2 6-3 4-3 4-5 2-7 4-9 4-23 2-28 10-142 2-21 0-3 2 2 2 18 6 116 4 46 2 15 4 15 2 9 2 4 2 2 2 0 2 0 4-6 4-12 8-27 2-6 0-1 2 0 2 6 10 43 4 9 4 7 2 3 4 1 12-3 4 0 4 2 12 8 8 3 12 1 16-1 8-2 6-5 4-6 4-7 10-41 2-4 2-1 2 1 2 6 8 31 4 12 4 8 6 3 4 0 10-4 4-1 4 1 10 6 6 1 20-2 14-5 4 0 6 2 4 0 6-2 10-9 4-2 4 2 8 11 6 5 4 3 6 2 26 1 68 1" stroke="#7E2F8E"/>
<path d="M196 2044l40-1 28-2 20-2 14-4 12-5 10-8 6-10 6-13 4-18 2-22 6-68 4-99 6-233 2-35 2-2 0 9 2 45 8 261 6 95 4 39 4 21 2 10 4 8 4 6 6 5 4 2 4 0 4-1 10-4 2 0 10 2 4 0 2-2 6-5 4-9 4-9 2-14 4-32 4-58 4-95 6-183 2-36 2-5 0 5 2 35 8 236 6 89 4 37 4 20 2 9 4 6 2 4 4 4 6 3 4 0 4-2 2-4 4-8 10-25 2-4 6-4 2-4 2-5 2-10 2-26 2-27 8-175 2-31 2-6 0 3 2 26 8 182 4 44 2 26 4 14 2 5 2 0 2-1 4-6 2-1 2 0 2 2 4 8 10 28 4 7 4 4 6 2 8 0 8-3 6-3 4-5 4-6 4-8 2-12 4-29 4-37 8-186 2-23 2-1 2 19 6 150 4 62 2 20 4 20 2 11 2 5 2 3 4 1 2-2 4-7 4-16 6-37 2-6 2-1 0 1 2 2 2 8 6 36 4 20 2 10 4 6 2 4 4 1 4-1 8-3 4 0 4 2 12 10 8 4 12 1 16-1 10-3 2-2 4-3 4-8 2-9 4-17 6-33 2-7 2-2 2 1 2 6 8 41 4 16 4 10 2 2 4 2 2 1 4-1 8-6 4-1 4 1 10 9 6 1 10-2 12-1 4-1 6-5 4-1 2 0 8 4 4 0 4-3 10-12 2-1 2-1 2 0 2 2 8 14 6 6 4 4 6 2 10 1 16 1 70 1" stroke="#77AC30"/>
<path d="M196 2038l40 0 30-2 20-2 16-3 12-5 8-7 8-9 4-12 4-16 4-20 4-62 4-90 8-225 2-40 0-6 2 4 2 37 8 276 6 83 4 35 4 19 2 8 4 8 4 5 6 4 4 2 4 1 4-1 8-4 4 0 10 2 4-1 2-1 6-6 4-9 4-10 2-14 4-33 4-60 4-69 6-177 2-40 0-9 2 1 2 28 8 226 2 60 4 41 4 33 4 17 2 8 4 6 2 4 4 3 4 2 4 0 4-1 4-4 4-9 10-22 2-5 6-4 2-4 2-11 4-23 2-24 2-52 6-133 2-23 2-1 0 7 2 32 8 173 4 38 2 23 4 11 0 2 2 1 4-1 6-7 2 0 2 2 4 7 10 30 4 5 4 4 6 2 8 0 8-2 6-4 4-4 4-5 2-7 4-11 4-26 2-34 4-48 6-128 2-27 0-4 2 3 2 25 6 145 4 55 2 17 4 18 2 9 2 4 2 2 4 1 2-2 4-8 4-16 6-31 2-7 0-2 2 0 0 2 2 7 10 53 4 11 4 8 2 3 4 1 4-1 8-4 4 0 4 3 10 9 8 3 12 2 18-1 8-3 6-5 4-6 4-12 10-48 2-6 2-1 0 1 2 1 2 7 6 36 4 15 6 11 2 2 2 2 4 1 2-1 10-5 4-1 4 1 10 8 4 1 12-2 10 0 14-8 4 1 8 3 4 0 4-3 10-11 2-2 2 0 2 0 2 2 8 14 4 5 6 3 6 3 8 1 16 1 68 1" stroke="#4DBEEE"/>
<path d="M196 2051l64 0 44-1 30-2 22-3 16-5 6-3 6-4 6-5 4-5 4-6 2-7 6-18 4-25 2-31 4-49 4-135 8-271 2-43 0-6 2 6 2 45 8 333 6 105 4 44 4 25 2 11 4 8 4 7 4 6 6 3 4 1 4-1 8-5 4 0 10 3 2-1 4-2 4-6 4-9 4-14 4-17 4-38 4-68 4-110 6-212 2-45 0-9 2 3 2 34 8 273 2 75 4 51 2 33 4 27 4 12 2 8 4 6 4 5 4 3 4 0 4-2 4-5 4-9 10-30 8-15 4-12 2-25 4-43 8-202 2-38 0-9 2 0 2 26 8 231 4 47 2 29 4 14 0 3 2 2 2 0 2-1 6-7 2 0 2 2 4 10 10 36 4 6 4 5 6 3 8 0 8-3 6-5 4-5 4-8 2-10 4-14 4-35 2-43 10-215 2-30 0-3 2 4 2 31 6 175 4 67 2 23 4 22 2 12 4 7 2 2 2-2 4-9 4-17 8-43 2-7 0-1 2 0 0 2 2 8 8 54 4 20 2 7 4 7 2 3 2 2 4 0 10-4 4 0 4 2 8 10 6 4 4 2 6 2 10 0 10-1 8-2 6-2 2-3 4-5 4-14 4-18 8-48 2-7 2-1 2 3 2 9 6 43 4 18 6 14 2 3 2 3 4 0 2 0 10-7 4-1 4 2 10 9 4 2 22-4 4-2 8-5 2-1 4 0 6 4 4 0 2 0 4-3 10-14 2-2 2-1 2 2 2 2 12 21 6 6 4 2 6 2 18 1" stroke="#A2142F"/>
<path d="M196 2048l74-1 22-2 16-2 12-4 10-5 8-7 6-10 4-12 4-21 4-51 4-74 8-179 2-30 0-4 2 4 2 30 8 220 6 67 4 28 4 16 2 7 4 5 4 4 4 4 6 2 4 1 12-4 4 0 10 2 6-2 4-4 4-5 4-9 4-10 2-17 2-16 4-50 10-197 2-30 0-6 2 1 2 23 8 181 2 48 4 33 4 26 4 15 2 6 4 5 2 3 4 3 4 2 4 0 4-2 4-3 4-5 10-20 2-4 6-5 2-4 2-7 4-19 2-20 8-149 2-17 2 0 0 6 2 26 8 138 4 31 2 18 4 9 2 3 4-1 6-5 2 0 2 1 4 6 10 24 4 4 4 3 6 2 8 0 8-2 6-2 4-4 4-5 2-5 4-10 4-21 2-28 4-40 6-102 2-20 0-3 2 3 2 21 6 116 4 43 2 15 4 14 2 8 4 4 4 1 2-2 4-7 2-9 8-28 2-7 2 1 0 1 2 5 10 43 4 9 4 6 2 2 4 1 12-3 4 0 4 2 10 7 8 3 14 1 16-1 8-2 6-4 4-5 4-7 4-13 6-28 2-5 2 0 2 1 2 6 6 28 4 13 6 8 4 4 4 0 2 0 10-4 4-1 4 1 10 6 4 1 22-2 14-6 4 1 6 2 4 0 6-2 10-9 4-2 4 2 8 11 4 4 6 3 4 2 8 1 16 0 60 1" stroke="#0072BD"/>
<path d="M196 2036l104-1 30-1 22-2 16-4 12-6 4-4 4-4 8-12 4-14 4-21 4-26 2-41 6-115 6-235 2-40 2-6 0 5 2 37 10 289 4 91 4 38 4 21 4 10 2 7 4 6 6 5 4 3 4 1 4-1 10-4 12 2 4 0 2-2 6-5 4-7 4-12 2-14 4-22 2-22 4-65 8-259 2-40 2-9 0 1 2 29 8 236 4 65 2 45 4 29 4 23 2 10 4 7 2 5 4 4 6 3 4 0 4-2 2-3 6-10 8-24 10-13 2-5 2-10 2-25 2-26 10-194 2-23 0-1 2 7 2 33 8 182 2 41 4 25 2 12 4 4 2-1 6-6 2 0 4 4 4 8 10 29 2 6 4 4 6 2 8 0 8-2 6-4 4-5 4-6 4-8 2-13 4-29 4-36 2-52 6-134 2-27 2-4 0 3 2 26 8 152 4 59 2 19 2 19 4 11 2 4 2 3 2 0 2-1 4-7 4-15 6-37 2-7 2-1 4 8 8 47 4 18 4 12 2 2 4 2 4 0 8-4 4 0 4 2 10 8 4 4 6 2 6 1 10 1 10-1 8-2 6-3 4-5 6-12 4-16 8-41 2-6 0-1 2 0 0 2 2 7 8 37 4 17 4 12 2 2 4 2 2 1 4-1 8-5 4-1 4 1 10 8 6 2 22-3 14-7 2 0 8 3 4 1 4-3 10-13 2-1 2-1 2 1 2 2 12 18 8 6 4 2 6 1 22 1" stroke="#D95319"/>
<path d="M196 2046l102 0 28-2 18-2 14-4 10-6 4-4 4-5 6-13 4-15 4-19 2-33 2-35 4-115 8-307 0-21 2-4 2 41 6 309 2 62 4 62 2 36 2 15 4 14 2 10 4 7 4 6 4 5 6 4 6 1 4-1 8-6 2-1 4 1 8 4 2 1 4-2 6-5 6-9 4-11 2-14 4-34 4-70 4-92 6-243 2-32 0 6 2 55 8 275 4 86 2 34 4 25 6 15 4 7 4 4 4 4 6 1 4 0 4-2 4-9 8-26 4-8 0-1 2 0 4 2 2 0 2-4 2-8 4-26 2-52 8-213 2-31 0 3 2 40 8 213 2 51 4 28 2 14 2 2 2 2 2 0 2-3 6-14 2-2 2 2 4 11 10 29 2 6 4 4 6 2 10 0 8-2 8-3 4-5 4-7 4-7 2-13 4-33 4-48 6-197 2-38 2-3 2 29 6 176 4 74 2 21 2 19 4 13 4 6 4 1 2 0 2-5 2-5 4-20 8-50 2-7 0 1 2 8 8 55 4 21 4 11 2 4 4 2 2 0 4-1 8-7 4-1 4 2 10 13 4 2 4 1 12 1 16-1 10-2 6-3 4-3 2-3 4-12 4-21 6-43 2-8 0-1 2 1 2 10 6 43 4 20 4 11 2 4 4 3 4 1 4-1 10-9 2-2 4 2 8 10 6 2 4 0 8-4 10 2 2-1 4-1 6-7 4-2 2 1 8 7 4 1 2-1 4-4 8-17 2-2 2-1 4 3 10 21 4 4 4 3 6 2 8 1 38 1" stroke="#EDB120"/>
<path d="M196 2050l24-2 20-1 14-3 12-4 8-5 8-8 6-10 4-12 2-14 4-22 4-67 4-92 6-181 2-38 2-7 0 2 2 31 8 231 4 62 2 43 4 34 4 18 4 9 4 8 4 5 4 4 4 2 4 0 4-1 10-3 12 2 6-2 6-5 4-6 4-9 2-12 4-27 4-49 4-80 8-185 2-25 0-1 2 8 2 36 8 208 4 76 4 32 4 18 4 8 2 5 4 5 4 3 4 2 4 0 4-2 2-3 6-9 8-20 4-5 6-6 2-5 2-8 2-21 4-36 8-157 2-22 0-2 2 5 2 28 8 160 2 37 4 22 2 12 4 4 2-1 6-6 2 0 4 3 4 7 10 26 4 6 4 3 6 2 6 0 8-2 6-4 4-3 4-6 4-6 2-11 4-24 4-31 2-45 6-118 2-26 2-4 0 2 2 21 8 133 4 53 2 17 2 17 4 10 2 4 2 2 2 1 2-2 4-8 4-14 6-28 2-7 2-1 0-1 2 2 2 5 10 50 2 10 4 8 4 3 4 1 2 0 10-4 4 0 4 3 10 8 8 4 12 1 16-1 10-3 6-4 4-7 4-11 10-44 2-5 0-1 2 0 0 1 2 6 8 33 4 17 6 9 2 2 2 2 6-1 8-4 4-1 4 1 10 7 6 1 22-2 14-7 4 1 6 2 4 1 6-3 10-12 2-1 4 3 10 12 4 5 6 4 8 2 12 1 22 1 100 1" stroke="#7E2F8E"/>
<path d="M196 2054l70-2 20-2 16-3 12-4 8-6 8-9 4-10 4-15 4-18 4-54 4-78 8-191 2-33 0-5 2 4 2 30 8 234 6 73 4 31 4 17 2 7 4 7 4 5 6 4 4 1 4 1 14-5 12 2 6-1 4-5 4-5 4-10 4-11 2-18 2-17 4-52 10-209 2-34 0-7 2 1 2 23 8 191 2 53 4 36 4 29 4 15 2 7 4 5 2 4 4 3 4 2 4 0 4-2 4-3 4-8 10-19 2-4 6-6 2-4 2-8 4-20 2-21 8-158 2-18 2-1 0 5 2 27 8 147 4 33 2 20 4 10 2 4 4-1 6-5 2 0 2 2 4 7 10 24 4 4 4 4 6 2 8-1 8-1 6-4 4-3 4-5 2-7 4-9 4-24 2-29 4-42 6-108 2-22 0-4 2 3 2 21 6 123 4 47 2 16 4 15 2 9 2 3 2 2 2 1 2-1 4-6 4-12 8-30 2-6 0-1 2 0 2 7 10 46 4 9 4 7 2 2 4 1 12-3 4 0 4 2 12 8 8 3 12 1 16-1 8-2 6-4 4-6 4-8 4-14 6-29 2-5 2-1 2 2 2 6 6 30 4 13 6 9 4 4 4 1 2-1 10-4 4-1 4 1 10 6 4 2 22-2 14-6 4 0 6 2 4 1 6-2 10-11 4-1 4 2 12 15 6 4 6 2 8 1 16 1 68 0" stroke="#77AC30"/>
<path d="M196 2046l48 0 34-2 24-2 18-3 12-4 6-3 4-4 8-9 6-13 4-16 2-21 4-33 2-33 4-103 6-268 2-38 2 1 2 38 6 268 4 81 2 54 4 40 4 21 4 10 4 8 4 6 4 4 6 3 4 0 4-1 10-5 2 0 10 4 4-1 2-1 6-5 4-9 4-12 4-14 4-35 4-67 2-80 6-211 2-41 2-3 0 8 2 48 8 240 4 98 4 31 4 23 2 10 4 7 4 6 4 4 4 3 4 1 4-1 4-3 4-10 10-28 4-4 4-1 2-2 2-4 2-8 2-25 4-46 6-182 2-36 2-5 0 5 2 36 8 186 2 49 4 29 2 15 4 6 2-1 8-11 2-1 2 1 4 11 10 27 2 6 4 5 6 2 10 0 8-1 6-4 6-6 4-6 2-8 4-14 4-32 2-44 8-192 2-26 2 1 2 26 6 152 4 70 2 22 2 21 4 15 4 6 4 1 2-1 2-3 2-5 4-17 6-44 2-7 2-1 0 1 2 8 8 47 4 20 2 7 2 7 2 3 4 2 2 0 2 0 10-6 4-1 4 2 8 10 4 3 6 2 6 1 12 0 12-1 8-1 4-3 4-3 2-5 4-11 4-19 8-42 2-5 2 1 2 8 6 43 4 17 4 10 4 4 2 2 4 0 2-1 10-7 4-1 4 1 10 9 4 2 12-3 12 0 4-2 6-5 4-1 2 0 8 5 4 1 2-1 2-2 10-15 2-2 2-1 2 1 2 2 8 14 4 6 4 4 4 2 8 2 12 1 56 1" stroke="#4DBEEE"/>
<path d="M196 2033l46 0 32-1 22-2 18-3 12-4 10-7 8-8 6-11 4-14 4-23 4-57 6-108 6-215 2-34 2-4 0 6 2 37 10 264 4 83 4 35 6 23 2 7 4 6 4 5 4 5 4 1 4 1 4-1 10-3 2-1 10 2 4 0 2-2 6-5 4-9 4-9 2-13 4-31 4-55 4-87 6-169 2-35 2-6 0 2 2 29 8 217 4 59 2 40 4 33 4 18 4 8 2 6 4 4 4 3 4 2 4 1 4-3 2-3 4-7 10-24 10-12 2-6 2-9 2-25 2-25 8-161 2-29 2-7 0 1 2 21 10 184 2 37 4 23 2 11 4 4 2-1 6-6 2 0 2 2 4 8 12 29 2 5 4 4 6 2 8 0 8-3 6-3 4-4 4-7 4-7 2-12 4-28 4-35 8-171 2-23 2-2 0 4 2 25 8 139 4 53 2 18 2 17 4 10 2 4 2 2 2 1 2-2 4-7 4-14 6-33 2-6 2-1 2 2 2 6 10 52 2 10 4 8 4 3 4 1 10-4 6 1 4 2 10 9 8 3 12 2 16-1 8-3 6-4 4-6 4-11 10-46 2-7 2-2 2 2 2 7 8 34 4 15 4 11 2 2 4 2 2 1 4-1 8-5 4-1 4 2 10 7 6 1 22-3 14-6 2 0 8 3 4 0 2-1 4-2 8-11 2-1 2-1 4 3 10 13 4 5 4 3 6 2 8 2 12 1 56 1" stroke="#A2142F"/>
<path d="M196 2035l58 0 38-1 28-2 20-3 14-5 6-4 4-3 6-6 4-6 6-14 4-16 4-27 2-35 4-56 4-119 6-301 2-47 2-5 0 10 2 56 8 333 6 118 4 48 4 25 2 12 4 8 4 7 4 7 6 3 4 1 4-1 10-6 2 0 8 3 2 1 4-1 2-2 6-6 4-11 4-10 2-16 4-25 2-25 4-79 2-92 6-237 2-49 2-8 0 4 2 44 8 270 2 85 4 57 4 45 4 24 2 11 4 7 2 6 4 5 6 3 4 0 4-2 2-5 4-9 10-32 4-6 4-5 2-4 4-14 2-30 4-52 6-203 2-43 2-9 0 2 2 33 8 233 4 54 2 33 4 16 0 3 2 3 2 0 2-1 4-8 2-2 2 0 2 2 4 10 10 36 4 7 4 5 4 3 8 0 8-2 8-5 4-5 4-8 4-9 2-14 4-34 4-44 2-65 6-171 2-32 2-3 2 23 6 192 4 77 2 25 4 24 2 14 2 6 2 3 4 2 2-2 2-3 2-6 4-19 6-48 2-8 2-2 0 1 2 2 2 10 6 54 4 22 2 8 4 8 2 3 2 2 4 0 10-6 4 0 4 3 8 10 6 4 4 3 8 1 10 1 10-1 8-3 6-2 2-4 4-5 4-11 4-20 8-53 2-7 0-1 2 1 2 8 6 47 4 21 6 15 2 4 2 2 4 1 2 0 4-2 6-6 4-1 4 2 10 9 2 2 4 0 10-2 12-1 4-2 6-6 4-2 2 1 8 5 4 0 2 0 2-3 10-17 2-2 2 0 2 1 2 3 8 16 4 7 4 4 4 3 6 2 8 1 36 1" stroke="#0072BD"/>
<path d="M196 2036l46-1 34-1 24-2 16-3 14-5 10-6 8-10 6-12 4-13 4-24 4-58 6-111 6-229 2-40 2-7 0 4 2 35 8 256 4 69 2 47 4 38 4 20 4 10 4 9 4 5 4 5 4 2 4 0 4-1 10-4 12 2 4 0 2-2 6-5 4-7 4-11 2-14 4-22 2-20 4-64 8-252 2-40 2-9 0 1 2 26 8 230 4 64 2 44 4 36 4 19 4 9 2 6 4 4 4 4 4 2 4 1 4-2 2-4 6-10 8-23 10-13 2-5 2-9 2-25 2-25 10-189 2-23 0-2 2 7 2 31 8 177 2 41 4 24 2 13 4 4 2 0 6-6 2 0 4 3 4 8 10 28 2 6 4 4 6 2 8 0 8-2 6-4 4-4 4-7 4-7 2-12 4-29 4-35 2-51 6-130 2-26 2-5 0 3 2 24 8 147 4 58 2 19 2 20 4 11 2 4 2 2 2 1 2-1 4-7 4-15 6-35 2-7 2-2 2 2 2 6 10 55 2 11 4 9 4 3 4 1 2 0 8-3 6 0 4 2 10 10 8 3 12 2 16-1 10-3 6-5 4-8 2-9 4-16 8-36 2-6 0-1 2 0 0 2 2 7 8 36 4 16 4 12 2 2 4 3 2 0 4 0 8-5 4-2 4 2 10 7 6 2 22-3 14-7 2 0 8 3 4 1 4-3 10-12 2-2 2 0 2 1 2 2 14 18 4 4 6 2 8 2 12 1 52 1" stroke="#D95319"/>
<path d="M196 2040l86-3 26-2 18-3 12-4 10-6 4-4 4-5 6-13 4-14 4-25 4-33 2-32 4-100 6-262 2-43 2-5 0 9 2 50 8 289 6 97 4 38 4 21 2 9 4 6 4 6 4 5 6 3 4 1 4-1 10-5 2 0 10 3 4-1 2-1 6-5 4-9 4-12 4-14 4-35 4-64 2-78 6-206 2-45 2-8 0 4 2 39 8 262 6 92 2 29 4 22 4 10 2 7 4 4 4 5 4 3 4 0 4-1 4-3 4-9 10-28 4-4 6-4 2-4 2-8 2-24 4-44 8-199 2-24 0 1 2 29 8 203 4 45 2 26 4 14 0 2 2 2 2 0 2-2 6-10 2 0 2 2 4 9 10 30 4 6 4 4 6 2 8 0 8-2 8-5 4-4 4-7 2-8 4-13 4-32 2-42 8-188 2-29 2-3 2 20 6 168 4 65 2 20 4 20 2 11 4 7 4 1 2-1 2-5 2-5 4-19 6-36 2-8 2-2 0 1 2 6 8 51 4 19 2 7 4 6 2 2 2 2 4 0 10-5 4-1 4 3 8 8 6 4 4 2 8 1 10 0 12-1 8-2 4-2 4-3 2-5 4-11 4-18 8-41 2-6 0-1 2 1 2 6 6 42 4 18 6 12 2 3 2 2 4 1 2-1 12-7 2-1 4 2 10 8 4 2 4-1 8-2 10 0 2 0 4-3 6-4 4-2 2 1 8 5 4 0 2-1 4-3 8-14 2-1 2-1 2 1 2 3 8 14 4 5 4 4 6 2 6 2 12 1 48 1" stroke="#EDB120"/>
<path d="M196 2048l48-1 34-1 24-2 18-3 12-5 10-6 4-5 4-5 6-14 4-16 4-28 6-69 4-100 6-248 2-40 2-5 0 6 2 43 10 302 4 90 4 37 4 20 4 9 2 7 4 6 6 5 4 3 4 0 4-1 10-4 2 0 10 2 4 0 2-2 6-5 4-7 4-12 2-14 4-22 2-22 4-67 2-77 6-194 2-42 2-7 0 2 2 33 8 248 6 97 4 41 4 22 2 9 4 7 2 5 4 4 6 3 4 0 4-2 2-3 4-8 10-27 4-5 6-7 2-5 2-10 2-26 4-44 6-166 2-36 2-8 2 25 10 210 2 41 4 24 2 9 2 6 2 0 2 0 6-8 2 0 2 2 4 8 10 30 4 8 4 4 6 2 8 0 8-3 6-3 4-5 4-6 4-8 2-13 4-29 4-37 2-55 6-140 2-27 2-4 0 5 2 29 6 139 6 79 2 19 2 18 4 11 2 4 2 2 2 0 2-2 4-9 4-18 6-34 2-7 2-1 2 2 2 7 6 44 6 23 2 6 2 6 2 2 4 2 4 0 8-5 4 0 4 2 14 12 4 3 8 1 10 0 10 0 8-2 6-3 2-3 4-4 4-10 4-17 8-43 2-6 0-1 2 1 2 5 8 44 4 16 4 12 2 2 4 2 2 1 4-1 8-6 4-1 4 2 10 8 6 2 12-3 10 0 4-2 6-5 4-1 2 0 8 4 4 0 2 0 2-2 10-14 2-2 2 0 2 1 2 2 12 19 6 4 4 3 8 2 12 0 52 2" stroke="#7E2F8E"/>
<path d="M196 2044l98 0 28-2 20-2 14-4 12-5 4-4 4-5 6-10 4-12 4-19 4-25 2-40 4-86 8-224 2-41 0-7 2 3 2 35 8 273 6 81 4 33 4 18 2 8 4 6 4 6 4 4 6 2 4 1 4-1 10-4 12 3 4-1 2-2 6-5 4-9 4-8 2-14 4-31 4-56 4-66 6-200 2-27 2 0 0 9 2 41 8 200 4 87 4 37 4 19 4 9 2 6 4 4 4 4 4 3 4 0 4-2 4-3 4-9 10-22 2-4 6-5 2-4 2-8 4-21 2-37 8-169 2-24 2-2 0 6 2 32 8 171 4 37 2 22 4 11 0 2 2 1 4-1 6-7 2 0 2 1 4 10 10 24 2 6 4 4 6 2 8 1 8-2 8-4 4-5 4-6 4-7 2-12 4-29 4-36 8-160 2-28 0-5 2 3 2 24 6 143 4 54 2 17 4 17 2 9 2 4 2 2 4 0 2-1 4-8 4-16 6-35 2-4 2-1 0 2 2 6 8 45 4 16 2 5 4 5 2 2 2 2 4 0 10-4 4-1 4 2 12 11 6 2 6 1 12 0 10 0 8-2 6-3 2-2 4-5 4-9 4-16 6-35 2-6 2-1 2 2 2 6 6 36 4 15 6 10 2 3 2 1 4 1 2-1 10-5 4-1 4 1 10 8 4 1 12-2 12-1 12-7 4 1 8 3 4 1 4-4 10-11 2-2 2 0 2 1 2 2 12 16 4 4 4 2 6 2 8 0 32 2" stroke="#77AC30"/>
<path d="M196 2039l36-1 26-2 18-2 14-3 12-5 8-6 6-9 6-11 4-15 2-18 6-55 4-80 6-200 2-38 2-7 0 1 2 28 8 223 4 61 2 41 4 34 4 18 4 8 4 8 4 5 4 4 4 2 4 0 4-1 10-3 12 2 6-2 6-4 4-6 4-10 2-11 4-26 4-47 4-77 8-179 2-25 0-1 2 6 2 34 8 201 4 75 4 31 4 17 4 8 2 5 4 4 4 4 4 1 4 1 4-2 2-3 6-8 8-20 4-5 4-5 2-3 4-10 2-20 4-35 8-151 2-22 0-3 2 5 2 26 8 154 2 36 4 22 2 12 4 4 2-1 6-5 2-1 2 1 2 2 4 7 10 25 4 6 4 3 6 1 6 0 8-2 6-3 4-3 4-6 4-6 2-10 4-24 4-29 2-44 6-113 2-26 2-4 0 1 2 19 8 129 4 51 2 17 2 17 4 10 2 3 2 3 2 0 2-1 4-8 4-14 8-30 2-5 2 3 2 8 10 43 2 10 4 8 4 3 4 1 2-1 10-3 4 0 4 2 10 9 8 3 12 1 16-1 10-2 6-4 4-6 4-11 10-43 2-6 2 0 0 1 2 6 8 35 4 13 6 9 4 3 6 0 10-5 2 0 4 1 10 6 6 2 22-2 4-2 8-4 2-1 4 1 6 2 4 0 6-2 8-10 4-2 4 2 10 12 4 5 6 3 6 2 10 1 18 1 76 1" stroke="#4DBEEE"/>
<path d="M196 2047l28-1 20-2 16-3 12-4 8-6 8-8 6-12 4-13 2-17 4-26 4-61 4-105 6-214 2-42 0-5 2 7 2 44 8 271 4 94 4 37 4 20 4 9 4 8 4 5 4 5 4 2 4 1 4-1 8-4 4-1 12 3 2 0 4-2 4-4 6-9 4-11 2-14 4-32 4-61 4-72 6-193 2-42 0-9 2 3 2 34 6 220 4 68 2 46 4 35 4 19 4 8 2 6 4 5 4 3 4 2 4 1 4-2 4-3 4-10 10-24 2-4 6-4 2-4 2-8 4-23 2-40 8-185 2-24 2 0 2 25 6 149 2 57 2 27 4 26 2 13 4 5 2-1 8-9 2 0 2 2 4 7 10 29 4 7 4 3 6 2 8 0 8-2 6-4 4-4 4-7 4-7 2-13 4-30 4-39 8-175 2-28 0-4 2 5 2 30 6 138 4 62 2 20 2 20 4 13 2 3 2 2 4 1 2-2 4-9 4-17 6-34 2-7 0-2 2 0 0 2 2 8 6 38 4 20 4 10 2 6 4 3 4 1 4-1 8-4 2 0 2 0 4 2 10 10 8 4 14 1 16-1 10-3 2-2 4-3 4-8 2-10 10-51 2-6 2-1 2 6 8 43 4 16 6 10 2 2 2 2 4 0 2 0 10-6 4-2 4 2 8 8 6 1 4 0 8-2 10 0 4-2 8-5 2-1 4 1 8 4 4 0 4-4 10-12 2-2 2-1 2 2 2 2 8 13 4 6 6 4 6 2 12 1 22 1 98 1" stroke="#A2142F"/>
<path d="M196 2034l66-1 22-1 14-3 12-4 10-5 6-8 6-9 4-13 2-15 6-48 4-68 6-168 2-32 2-6 0 1 2 23 10 207 2 46 4 31 4 25 4 14 6 11 4 5 4 3 4 2 4 0 14-3 12 2 6-2 6-3 4-6 4-8 2-10 4-22 4-40 4-65 8-150 2-22 0-1 2 5 2 28 8 170 4 64 4 27 4 15 4 7 2 5 4 3 4 3 4 2 4 0 4-1 2-3 6-7 10-18 8-8 2-4 2-6 2-18 4-29 8-127 2-19 0-2 2 3 2 22 8 130 2 31 4 19 2 10 4 4 2 0 6-4 2-1 2 1 2 2 4 6 10 21 4 5 4 3 6 1 6 0 8-1 6-3 4-3 4-5 4-5 2-9 4-20 4-25 2-37 6-95 2-22 2-4 0 1 2 16 8 108 4 44 2 14 2 15 4 8 4 6 2 0 2-1 4-6 4-12 8-26 2-3 0-1 2 3 2 6 6 26 4 14 4 7 2 5 4 3 4 1 12-3 4 0 4 2 10 7 8 3 12 1 16-1 10-2 6-4 4-5 2-7 4-12 8-26 2-5 2-1 2 6 8 30 4 11 6 7 4 3 6 0 10-4 2 0 4 1 12 5 4 1 22-2 14-5 10 3 4 0 6-3 8-8 4-2 4 2 10 10 4 5 6 2 6 2 26 2 68 0" stroke="#0072BD"/>
<path d="M196 2041l74-2 22-1 16-3 12-5 8-5 8-8 6-13 4-14 2-18 4-29 2-29 4-86 6-225 2-41 2-6 0 5 2 38 8 251 6 90 4 37 4 19 2 9 4 8 4 5 6 4 4 3 4 0 4-1 10-4 12 3 4-1 4-2 4-5 6-8 2-9 4-13 4-30 4-57 4-94 4-150 2-41 2-8 0 1 2 29 8 226 6 85 4 34 4 19 2 8 4 5 2 4 4 4 6 3 4 0 4-2 2-3 6-9 8-22 4-4 6-4 2-4 2-7 2-21 4-38 8-170 2-24 2 21 10 191 2 36 4 20 2 10 2 2 2 1 2-2 6-7 2 0 2 1 4 8 10 26 4 7 4 3 6 2 10 0 8-2 6-4 4-4 4-6 2-7 4-12 4-28 2-36 8-162 2-27 2-4 0 3 2 27 6 127 4 59 2 19 4 19 4 13 4 6 2 0 2-2 4-8 4-15 8-36 2-4 4 8 6 40 4 17 6 12 2 4 4 1 4 0 8-5 4 0 4 2 14 11 4 2 8 1 10 0 12-1 8-1 4-3 4-2 2-5 4-9 4-16 8-36 2-5 0-1 2 0 2 5 8 40 4 14 4 11 2 2 4 1 2 1 4-1 8-5 4-2 4 2 10 7 6 2 12-2 10-1 14-7 4 1 6 3 4 0 6-3 10-12 2-2 2 1 2 2 8 12 6 6 4 4 6 2 8 1 16 1 62 0" stroke="#D95319"/>
<path d="M196 2047l42-1 30-2 22-2 16-3 12-4 10-7 6-8 6-11 4-14 4-15 2-23 4-35 4-91 8-201 2-24 2-2 0 5 2 30 10 223 2 52 4 36 4 31 4 18 2 8 4 6 4 6 4 4 4 2 4 0 14-3 12 0 6-2 4-4 4-7 4-7 2-12 6-33 4-48 4-74 6-160 2-26 2-3 0 2 2 24 10 200 2 48 4 35 4 29 4 16 4 12 4 4 4 3 4 2 4 0 4-2 2-4 4-6 10-20 8-12 4-13 2-17 4-30 8-147 2-22 2-4 0 2 2 17 10 167 4 30 2 18 2 7 4 5 2 1 6-3 2 1 4 3 4 7 10 24 4 6 4 4 6 1 6 0 8-2 6-3 4-4 4-6 2-8 4-11 4-25 2-30 10-157 2-16 2-1 0 4 2 20 8 116 4 48 4 35 4 10 2 4 2 2 2 0 2-1 4-7 4-12 6-24 2-5 2-2 2 1 2 6 10 47 4 8 4 7 2 3 4 1 10-2 6 0 4 2 12 9 8 3 12 1 14-1 8-2 6-5 4-6 4-9 10-42 2-5 2-1 2 2 2 5 8 32 4 12 6 9 4 4 6 0 8-4 4 0 4 1 10 5 4 2 6 0 14-2 4-1 14-5 10 2 4 0 6-3 8-8 4-1 2 0 2 2 10 12 6 4 4 3 6 2 8 2 14 0 60 1" stroke="#EDB120"/>
<path d="M196 2051l12-1 12-3 8-4 6-4 6-7 4-8 4-8 2-13 4-29 4-52 10-208 2-28 0-4 2 4 2 29 8 206 6 62 4 24 4 14 2 6 4 6 4 3 6 3 4 2 4 0 12-4 4 0 10 2 4-1 2-1 6-4 4-7 4-7 2-11 4-25 4-45 4-52 6-133 2-29 0-6 2 1 2 23 8 170 2 44 4 30 4 24 4 12 2 6 4 4 6 5 4 2 4 0 4-2 4-2 4-7 10-17 2-3 6-3 2-3 2-8 4-17 2-18 2-40 6-100 2-16 2 0 2 30 8 130 4 28 2 16 2 6 4 4 2 0 8-6 2 0 2 1 4 6 10 22 4 4 4 2 6 2 8-1 8-1 6-3 4-3 4-4 2-5 4-8 4-20 2-25 4-37 6-96 2-19 0-3 2 3 2 20 6 96 4 53 2 13 4 13 2 7 4 4 4 0 2-1 4-7 4-12 6-23 2-6 2 0 0 1 2 6 10 40 4 8 4 5 2 2 4 1 12-3 4 0 16 9 8 2 12 1 16-1 8-2 6-3 4-5 4-6 4-13 6-26 2-4 2-1 0 1 2 3 8 30 4 11 6 8 2 3 4 1 4-1 10-4 4-1 4 1 10 6 4 1 22-2 14-5 4 0 8 3 4 0 4-3 10-8 4-2 4 2 8 11 6 4 6 2 8 2 42 1 136 1" stroke="#7E2F8E"/>
<path d="M196 2050l100-2 28-2 20-2 16-4 12-6 4-4 4-5 6-10 4-11 4-19 4-23 2-36 6-103 6-215 2-40 2-7 0 2 2 32 8 241 4 64 2 45 4 36 4 19 4 9 2 6 4 6 6 5 4 3 4 0 4-1 10-4 12 2 6-1 6-5 4-7 4-10 2-13 4-28 4-51 4-84 8-192 2-26 0-1 2 8 2 38 8 216 4 80 4 27 4 21 2 10 4 6 2 5 4 4 6 2 4 1 4-2 2-3 6-10 8-21 4-5 6-7 2-5 2-8 2-23 2-23 4-50 6-127 2-23 0-2 2 5 2 29 8 166 2 39 4 23 2 12 4 4 2 0 6-6 2 0 4 2 4 8 10 27 2 5 4 4 6 2 8 0 8-2 6-4 4-4 4-5 4-8 2-11 4-25 4-33 2-47 6-122 2-27 2-4 0 1 2 22 8 139 4 55 2 18 2 18 4 10 2 4 2 3 2 0 2 0 4-7 4-13 8-38 2-4 0-1 2 2 2 6 8 42 4 17 4 11 2 2 4 2 4 0 10-4 4 1 4 2 12 10 6 2 6 1 10 1 10-1 8-2 6-2 4-5 6-10 4-15 8-38 2-6 0-1 2 1 0 1 2 6 8 34 4 15 4 11 2 3 4 2 2 1 4-1 8-5 4-1 4 1 10 7 6 2 22-2 14-7 4 0 6 3 4 0 6-3 10-11 2-2 2 1 2 2 12 16 4 4 4 2 6 2 8 1 28 1" stroke="#77AC30"/>
<path d="M196 2044l40-1 28-1 20-3 16-4 12-5 8-7 8-10 6-15 4-17 2-21 4-31 2-47 4-95 8-260 2-31 2-2 0 8 2 40 10 286 4 94 4 41 6 27 2 10 4 7 4 6 4 5 4 2 4 1 4-1 10-4 2 0 10 2 2-1 4-1 4-6 4-7 4-13 4-15 4-33 4-58 4-91 6-208 2-33 2-5 0 4 2 32 8 234 4 66 2 46 4 39 4 21 4 10 2 7 4 5 4 4 4 2 4 0 4-2 2-5 4-8 10-26 8-14 4-17 4-25 2-41 8-174 2-29 2-5 0 2 2 24 10 199 2 41 4 26 2 10 2 8 2 1 2 0 6-5 2 1 4 3 4 10 10 30 4 7 4 4 6 2 6-1 8-2 6-4 4-5 4-7 2-8 4-13 4-30 2-36 4-51 6-150 2-21 2-1 0 5 2 28 8 150 4 59 2 20 2 20 4 12 2 5 2 2 2 0 2-1 4-9 4-16 6-35 2-5 2-1 2 3 2 7 6 41 4 19 4 10 2 7 4 3 4 2 2-1 8-3 6 1 4 3 10 10 8 4 6 1 8 0 14-1 8-3 4-2 2-4 4-8 4-9 4-17 6-36 2-7 2-2 2 3 2 7 8 37 4 19 6 11 2 2 2 2 6 0 8-5 4-1 4 2 10 7 4 1 4 1 18-3 4-2 8-4 4-1 2 0 8 3 4 0 4-3 10-11 4-3 2 1 2 2 10 14 4 6 6 4 6 3 8 1 16 1 66 1" stroke="#4DBEEE"/>
<path d="M196 2039l58-1 42-1 28-2 20-3 10-3 6-3 6-3 6-4 4-6 4-6 6-14 4-15 4-25 4-32 2-50 6-143 6-304 2-53 2-9 0 5 2 49 10 371 4 115 4 47 4 25 4 12 2 9 4 8 6 6 4 3 4 1 4-1 8-5 2-1 4 0 8 3 4 0 2-2 6-7 4-8 4-15 2-17 4-26 2-27 4-81 2-93 6-239 2-54 2-11 2 37 8 305 4 82 2 56 4 35 4 28 2 13 4 8 2 6 4 6 6 4 4 0 4-3 2-4 6-13 8-30 4-6 4-7 2-5 4-15 2-31 2-32 4-70 6-180 2-31 0-2 2 9 2 43 8 233 2 52 4 31 2 16 2 2 2 3 2-2 6-9 2 0 2 2 4 10 12 40 2 7 4 5 4 2 2 1 8 0 8-3 6-5 4-5 4-8 4-10 2-15 4-35 4-45 2-67 6-172 2-36 2-5 0 3 2 33 8 196 4 74 2 24 2 24 4 14 2 5 2 3 2 1 2-1 2-4 2-6 4-19 8-53 2-6 2 2 2 9 8 61 4 22 2 7 2 8 2 3 4 2 4 0 8-5 4-1 4 3 10 11 4 4 6 3 6 1 10 1 10-1 8-3 6-3 2-3 4-6 4-12 4-20 8-53 2-8 0-2 2 1 0 2 2 9 8 48 4 21 4 15 2 3 4 3 2 1 4-1 8-7 4-2 4 2 10 10 6 2 4 0 8-2 10-1 4-2 6-6 4-2 4 1 6 4 4 0 2-1 4-3 8-15 2-3 2 0 2 1 2 3 12 23 4 4 4 4 6 2 8 1 28 2" stroke="#A2142F"/>
</g>
</g></g>
<clipPath id="cD"><rect x="205.2" y="2376.7" width="936.5" height="864.9"/></clipPath><g clip-path="url(#cD)"><g filter="url(#bl)">
<g fill="none" stroke-width="2.3" stroke-linejoin="round">
<path d="M205 3176l82-2 24-2 17-3 13-5 9-6 7-8 6-13 4-15 3-19 3-31 2-31 4-94 7-238 2-35 1-1 1 11 2 49 7 238 5 98 4 39 4 20 3 10 4 8 4 5 5 5 5 2 4 1 5-1 10-5 3 0 9 3 4 0 3-2 5-4 5-8 4-11 3-13 4-30 4-58 4-98 5-160 2-43 1-8 1 2 2 34 7 215 3 66 3 43 4 34 4 17 3 8 3 5 3 4 4 4 5 3 4 0 4-1 3-3 5-8 10-26 3-4 6-2 2-4 2-7 3-21 3-38 8-181 2-26 1-1 2 23 8 186 3 43 3 25 3 13 3 5 1 0 2-1 6-9 2-1 2 0 2 2 4 8 10 27 3 5 4 4 6 2 8 0 8-2 7-4 5-4 4-6 3-6 3-11 4-26 3-35 3-52 6-136 2-21 1 0 2 23 7 154 4 56 2 18 3 17 3 9 4 6 3 1 2-1 3-4 2-5 4-17 7-38 2-5 1 0 3 10 7 42 4 18 2 6 3 6 2 2 3 2 5 0 10-5 4 0 4 2 12 10 6 3 7 1 12 0 11-1 8-2 5-2 3-3 3-5 4-10 4-17 7-37 2-5 1-1 1 2 2 6 7 38 4 16 5 11 5 4 3 1 4-1 10-6 3-1 4 1 10 8 5 2 12-3 11 0 4-2 7-5 3-1 3 1 8 4 4 1 5-4 10-14 3-1 2 1 2 2 8 13 4 5 4 3 5 3 7 1 13 1 55 1" stroke="#0072BD"/>
<path d="M205 3174l47 0 33-1 23-2 17-3 13-5 5-3 5-4 7-9 6-13 4-16 3-20 3-31 2-30 5-124 7-252 2-35 1 0 1 11 2 52 8 280 5 96 4 39 4 21 3 9 4 9 4 6 5 4 5 3 4 0 4-1 10-4 3 0 9 3 4-1 3-2 5-5 5-9 4-13 3-15 4-36 4-66 3-77 6-200 2-43 1-8 1 3 2 35 8 255 5 95 4 38 4 21 3 9 3 7 3 4 4 5 5 3 4 0 4-1 3-3 5-10 10-27 3-4 5-4 2-3 3-12 3-24 3-44 8-192 2-25 1-1 2 24 9 216 3 40 3 24 3 12 1 2 2 2 3-2 6-8 2-1 2 1 5 10 10 30 3 6 4 4 6 3 8 0 8-2 7-4 5-5 4-7 3-8 3-13 4-31 3-39 8-180 2-35 1-7 1 1 2 24 7 163 4 63 2 19 3 20 3 11 4 7 3 1 2-1 4-8 4-16 8-44 2-5 1 0 3 10 7 45 4 19 5 14 3 3 3 2 5-1 9-4 4 0 4 2 8 8 5 4 5 2 7 1 11 1 11-1 8-2 5-3 3-3 3-4 4-11 4-17 7-40 2-7 1-2 1 0 1 1 2 7 7 40 4 17 5 13 3 4 3 1 3 1 3-1 9-6 4-2 4 2 10 8 5 2 12-2 11-1 4-2 7-5 3-1 3 0 8 5 4 0 5-4 9-13 2-2 2 0 2 1 2 2 12 19 5 5 5 2 7 1 13 1 55 1" stroke="#D95319"/>
<path d="M205 3179l79-2 23-1 17-3 13-3 10-6 7-7 6-9 4-12 4-19 5-49 5-91 7-177 2-24 1-1 1 6 2 34 8 199 3 50 3 34 4 27 4 15 3 7 3 5 4 5 5 4 5 2 4 0 14-4 12 2 4-1 3-1 5-4 5-7 3-8 3-11 4-24 4-44 4-72 6-139 2-30 1-6 1 1 2 22 8 179 3 49 3 34 4 27 4 15 3 7 3 4 3 4 4 3 5 2 4 0 4-2 3-3 4-6 10-20 9-9 2-4 2-7 3-20 2-19 9-147 2-18 1-1 1 5 2 24 8 138 3 31 3 20 3 10 3 3 3 0 5-5 2-1 2 1 2 1 4 7 10 22 4 5 4 3 6 2 8 0 8-2 6-3 4-3 4-5 3-6 3-9 4-20 3-26 3-38 7-115 2-16 1 0 2 16 7 114 4 47 3 22 3 13 3 8 2 3 2 2 2 0 2-1 4-6 4-11 7-28 2-5 1-1 1-1 3 7 10 43 3 8 4 7 3 2 4 1 12-3 4 0 4 2 11 8 8 3 13 1 16-1 9-2 6-4 4-5 3-7 4-12 7-29 2-5 2-1 1 0 2 5 8 31 4 12 5 9 5 3 6 0 9-4 4-1 4 1 10 6 6 1 22-2 14-5 3 0 8 3 3 0 5-2 10-10 4-2 4 3 13 14 5 3 5 2 8 1 12 1 54 1" stroke="#EDB120"/>
<path d="M205 3177l77-2 23-2 17-3 13-4 10-6 8-8 6-11 4-11 4-19 3-23 3-34 5-87 8-190 2-25 1-3 1 3 1 10 2 34 9 210 3 47 3 33 4 28 5 20 6 12 4 5 4 3 4 1 5 1 13-3 12 0 6-2 5-5 4-7 3-9 3-12 4-26 4-45 4-67 7-153 2-29 1-7 1-1 1 5 2 25 10 206 5 62 4 27 4 17 5 11 3 4 4 3 4 2 4 0 4-2 4-5 13-24 8-14 4-13 3-19 3-30 9-139 2-18 1-3 1 3 2 18 10 158 3 28 3 18 2 7 3 5 3 1 5-2 2 0 4 3 4 7 11 25 4 5 4 3 5 2 7 0 7-2 6-3 4-4 4-5 3-7 3-10 4-21 3-26 4-50 7-109 2-16 1-2 1 3 2 18 7 109 5 57 5 30 3 9 3 4 2 1 2-1 4-5 4-12 7-25 2-5 2-1 2 2 2 6 11 44 3 8 4 7 3 2 3 1 12-1 4 0 4 2 12 8 8 3 12 2 14-1 9-3 6-4 4-6 4-9 11-40 2-5 2-1 2 1 2 5 8 30 4 12 5 9 5 4 5 1 10-4 3 0 4 1 10 5 5 1 5 1 14-2 6-1 12-5 12 2 4-1 5-3 8-7 4-1 2 0 3 2 10 12 5 4 5 3 5 2 8 1 12 1 50 1" stroke="#7E2F8E"/>
<path d="M205 3175l46-1 33-2 23-2 17-3 13-5 10-6 8-10 6-13 4-14 4-25 5-61 5-120 7-242 2-37 1-4 1 7 2 43 9 296 5 89 4 37 4 20 3 10 3 6 4 7 5 5 5 2 4 1 4-1 10-5 3 1 10 2 3-1 3-1 5-6 4-7 4-11 3-14 4-31 4-57 4-94 7-216 2-29 1 0 1 9 2 43 8 243 5 88 4 37 4 20 3 9 3 6 3 4 4 4 5 3 4 0 4-2 3-4 4-8 10-26 3-5 5-5 2-4 3-12 3-24 3-42 8-183 2-27 1-3 1 5 2 32 8 187 3 43 3 27 3 14 3 4 1 1 2-1 5-7 2-1 2 0 2 2 4 8 10 30 4 7 4 4 6 3 8-1 8-2 7-4 4-5 4-7 3-8 3-13 4-31 3-38 9-192 2-24 1-2 1 6 2 31 6 136 4 65 3 30 3 18 3 10 2 4 2 3 3 0 2-2 4-9 4-17 7-38 2-5 1 0 1 1 2 7 8 48 4 18 5 13 2 2 3 2 4 0 10-4 4 0 4 2 13 12 5 2 7 2 10 0 11-1 8-2 5-2 3-3 3-4 5-12 4-16 7-39 2-7 2-3 1 1 2 6 8 42 4 17 5 11 2 3 3 2 3 0 3 0 10-6 3-1 4 1 10 8 6 2 11-2 11-1 4-2 7-4 3-2 4 1 7 3 4 1 5-4 9-12 2-2 2 0 2 0 2 2 9 15 4 5 5 4 5 2 8 2 12 1 53 1" stroke="#77AC30"/>
<path d="M205 3173l46-1 32-2 24-2 17-4 13-5 10-7 4-5 4-6 6-14 4-16 4-27 5-67 5-128 7-263 2-43 1-6 1 6 2 42 9 322 5 101 4 42 4 23 3 11 4 10 4 6 5 5 4 3 4 0 4 0 10-5 3 0 10 2 3-1 3-1 5-6 4-8 4-13 3-15 3-23 2-23 4-70 3-80 7-234 2-34 1-3 1 8 2 44 8 263 5 100 4 42 4 23 3 10 3 7 3 5 4 5 5 3 4 0 4-2 3-4 5-11 9-27 3-5 5-6 2-4 3-13 3-26 3-45 8-198 2-31 1-5 1 4 2 31 6 160 3 63 3 42 3 25 2 10 3 6 1 0 2-1 7-8 2 0 2 2 4 9 11 35 3 6 4 5 6 2 8 0 8-2 7-5 4-5 4-8 3-9 3-14 4-34 3-41 9-208 2-28 1-3 1 5 2 31 7 169 4 64 2 21 3 21 3 12 2 5 2 2 3 1 2-2 4-10 4-18 7-41 2-6 1 0 2 3 2 10 6 40 4 22 3 12 3 7 3 4 4 2 4-1 8-4 3 0 2 0 4 3 11 11 7 4 5 1 7 1 16-1 10-3 6-6 4-7 4-13 4-19 6-36 2-9 2-3 2 3 2 8 7 41 4 18 5 13 2 3 3 3 3 0 3 0 10-7 3-1 4 2 11 9 5 2 12-3 10-1 14-8 4 1 7 3 4 0 5-3 9-13 2-2 2-1 2 1 3 3 8 14 5 7 4 4 5 2 8 2 12 1 53 1" stroke="#4DBEEE"/>
<path d="M205 3179l80-1 23-2 17-3 13-4 10-6 7-7 6-11 4-13 4-23 5-56 4-80 7-202 2-36 1-6 1 3 2 32 8 225 3 59 3 40 4 31 4 18 3 8 4 7 4 4 5 4 5 2 4 1 13-5 3 0 10 2 4 0 3-2 5-5 5-8 3-8 3-13 4-28 4-51 4-84 6-157 2-28 1-3 1 5 2 32 8 203 5 76 4 31 4 17 3 8 3 6 3 3 4 4 5 2 4 0 4-1 3-3 5-8 10-22 2-3 5-4 2-2 3-9 3-19 3-32 8-152 2-26 1-4 1 2 2 23 6 122 3 49 3 32 3 19 3 9 3 3 2-1 7-6 2 0 2 1 5 9 10 24 3 5 4 3 6 2 7 0 8-1 7-4 5-4 4-5 3-7 3-10 4-24 3-30 3-45 6-114 2-23 1-3 1 3 2 22 7 130 4 49 2 16 3 16 3 9 4 6 3 0 2-1 4-7 4-14 7-31 2-5 1-1 2 2 2 7 7 36 4 15 5 11 3 4 3 1 4 0 9-4 4 0 4 2 9 7 5 3 5 2 7 1 21-1 8-2 5-2 3-2 3-4 4-8 4-13 8-36 2-5 1-1 2 2 2 6 7 32 4 14 5 10 5 4 3 0 3 0 10-5 3-1 4 1 11 7 5 1 12-1 10-1 4-1 8-5 3 0 3 0 7 3 4 0 5-2 9-11 4-2 2 1 3 2 8 11 5 5 4 3 5 2 8 1 12 1 54 1" stroke="#A2142F"/>
<path d="M205 3179l46 0 33-1 24-2 17-4 13-4 10-8 7-8 6-13 4-15 3-18 3-28 3-43 4-88 8-248 2-30 1-2 1 9 2 40 9 272 5 85 4 36 5 24 3 8 3 6 4 6 5 4 4 2 4 1 4-1 10-4 12 2 4-1 3-2 5-5 5-10 3-9 3-15 4-32 4-57 4-91 6-173 2-37 1-7 1 1 2 27 8 223 3 62 3 44 4 36 4 20 3 9 3 6 3 4 4 4 4 3 4 0 4-2 3-3 5-9 10-24 9-13 3-11 3-20 3-36 9-183 2-22 1-1 1 6 2 30 8 172 3 41 3 25 3 13 3 5 1 1 2-1 5-5 2-1 2 1 2 2 4 8 10 27 4 8 4 4 6 2 8 0 8-3 6-3 4-4 4-7 3-7 3-12 4-27 3-34 3-48 7-143 2-19 1 0 2 19 7 141 5 72 2 17 3 18 3 10 2 4 2 2 2 0 2-1 4-7 4-15 7-34 2-6 1-2 1 0 3 8 10 53 3 11 4 9 3 4 4 1 4-1 8-3 5 1 4 2 10 9 8 4 12 2 17-2 9-2 6-5 4-7 3-9 4-16 7-35 2-6 1-2 1 0 1 1 2 5 8 40 4 15 5 11 2 2 3 2 3 1 3-1 9-5 4-1 4 2 10 7 6 2 22-3 11-6 3-1 3 0 8 3 3 0 5-2 10-12 2-2 2 0 4 3 13 18 5 4 5 2 8 2 12 1 53 1" stroke="#0072BD"/>
<path d="M205 3180l45-1 32-1 23-3 17-3 13-5 10-7 8-10 6-13 4-15 4-25 3-30 3-46 5-121 7-228 2-36 1-5 1 4 2 36 10 307 5 87 4 38 4 21 3 10 3 7 4 7 5 5 4 2 5 1 13-5 3 0 9 2 3 0 3-2 5-5 4-7 4-12 3-14 5-41 4-60 4-94 7-204 2-28 1-2 1 7 2 36 9 255 5 85 4 37 4 21 3 9 3 7 3 5 4 4 4 2 4 0 4-2 3-4 5-11 9-23 8-14 4-14 3-22 3-36 9-189 2-26 1-4 1 3 2 26 9 197 3 40 3 25 3 14 3 5 3-1 6-4 2 0 3 3 4 10 10 29 4 7 4 4 6 3 7 0 8-3 6-4 4-5 4-7 3-8 3-13 4-29 3-35 3-50 7-149 2-23 1-2 1 4 2 25 7 148 4 61 2 20 3 22 3 12 2 5 2 3 2 1 2-1 4-8 4-14 7-36 2-7 2-2 2 3 2 8 10 56 3 10 4 10 3 3 4 2 3-1 8-3 5 1 4 2 11 10 8 4 12 2 16-1 9-3 6-6 4-8 3-8 4-17 7-36 2-7 2-3 2 2 2 7 8 41 4 15 5 11 2 3 3 2 5 0 10-5 4-1 4 2 10 7 3 1 4 1 20-3 14-7 3 0 7 2 4 0 5-2 10-12 4-2 2 1 3 2 9 14 5 6 5 4 5 2 8 2 12 1 52 1" stroke="#D95319"/>
<path d="M205 3177l46 0 33-2 24-2 17-4 13-5 5-3 5-5 4-5 4-6 6-15 4-17 4-29 5-71 5-133 7-263 2-43 1-6 1 5 2 41 8 295 3 80 3 55 4 46 5 30 3 10 3 8 4 7 5 5 5 3 4 1 4-2 9-4 3 0 10 2 3 0 3-2 5-6 4-9 4-13 3-16 4-37 4-64 4-104 7-235 2-34 1-2 1 7 2 42 9 291 5 93 4 39 4 21 3 10 3 7 3 5 4 5 4 2 4 0 4-2 3-4 5-12 9-26 9-16 2-6 2-11 3-27 3-47 8-198 2-31 1-5 1 4 2 30 9 224 3 45 3 27 3 13 1 3 2 2 3-1 6-7 2 1 2 2 5 12 10 32 4 8 4 5 6 2 8 0 8-3 6-5 4-5 4-9 3-9 3-16 4-35 3-43 9-210 2-27 1-4 1 5 2 30 7 169 4 67 2 22 3 23 3 13 2 5 2 3 1 1 2 0 2-2 4-10 4-19 7-40 2-6 1-1 2 4 2 9 10 63 3 12 4 10 3 3 4 2 3-1 8-4 3 0 2 1 4 2 11 12 8 4 5 1 7 1 16-2 9-3 3-2 3-4 4-7 4-14 10-56 2-8 2-4 1 1 1 2 2 8 7 41 5 22 5 13 2 2 3 2 2 1 3-1 10-6 3-1 4 1 11 9 5 2 22-3 14-8 4 0 7 3 4 1 5-4 9-13 2-2 2-1 2 1 3 3 8 14 5 8 5 4 5 3 8 1 12 1 51 2" stroke="#EDB120"/>
<path d="M205 3179l47-1 32-2 23-2 17-4 13-5 5-4 5-4 7-10 6-15 4-17 4-29 5-72 4-103 7-256 2-49 1-9 1 1 2 35 9 314 3 70 3 47 4 38 4 21 3 10 3 7 4 7 5 5 5 3 4 0 4-1 9-4 4 0 9 2 4-1 3-2 5-6 5-11 3-11 3-16 4-37 4-66 4-106 6-199 2-39 1-6 1 4 2 36 8 258 3 68 3 47 4 38 4 21 3 9 3 7 3 4 4 5 4 2 4 0 4-2 3-3 5-11 10-28 2-4 5-6 2-3 3-12 3-24 3-41 8-192 2-35 1-7 1 1 2 25 9 218 3 44 3 27 3 13 1 3 2 2 1 0 2-1 6-7 2-1 3 4 4 9 10 31 4 8 4 4 6 2 8 0 8-3 6-4 4-5 4-7 3-8 3-14 4-31 3-38 3-57 6-145 2-31 1-6 1 2 2 26 7 164 4 66 2 22 3 22 3 12 2 6 2 2 3 2 2-2 4-9 4-17 7-40 2-7 1-1 1 1 1 2 2 8 10 61 3 12 4 9 3 4 4 1 3 0 9-5 4 1 4 2 11 11 8 4 6 1 7 1 16-2 9-3 3-2 3-3 4-8 4-14 10-55 3-8 1 0 1 2 2 7 8 45 4 17 5 12 2 2 3 2 3 1 3-1 9-6 3-1 4 1 10 8 6 3 12-2 10-1 4-2 8-6 3-1 3 1 8 4 3 0 3-2 3-3 9-12 2-2 2 0 2 1 2 2 9 15 4 6 5 4 5 3 8 1 12 1 54 1" stroke="#7E2F8E"/>
<path d="M205 3171l79-1 24-2 17-3 13-4 10-7 7-8 6-12 4-13 4-24 3-30 2-29 5-114 7-231 2-34 1-2 1 9 2 44 8 258 5 94 4 39 4 21 3 10 4 8 4 6 5 5 5 2 4 1 4-1 10-4 3 0 9 2 4 0 3-2 5-5 5-9 3-8 3-13 3-21 2-20 4-62 3-71 6-183 2-40 1-8 1 1 2 29 8 233 3 62 3 42 4 33 4 19 3 8 3 6 3 4 4 3 5 3 4 0 4-2 3-4 4-7 10-25 3-5 5-4 2-3 3-12 3-23 3-40 8-176 2-24 1-2 1 7 2 32 8 178 3 40 3 24 3 12 3 5 3-1 5-7 2-1 2 0 2 2 4 8 10 29 4 6 4 4 6 2 9 0 8-2 6-4 4-4 4-7 3-8 3-12 4-30 3-37 9-183 2-22 1 0 2 20 7 149 4 60 3 27 3 16 3 10 2 3 2 2 3 1 2-2 4-9 4-17 6-32 2-7 1-1 1 0 1 1 2 7 8 46 4 17 5 11 2 3 3 1 4 0 10-4 4 0 4 2 13 11 5 2 7 2 11 0 11-1 8-2 5-2 5-6 5-11 4-16 7-37 2-7 1-2 1 0 1 1 2 6 8 41 4 15 5 10 2 3 3 2 3 0 3-1 9-5 4-1 4 1 10 8 5 1 12-2 11 0 4-2 7-5 3-1 3 1 7 3 4 1 5-3 10-13 2-1 2-1 2 1 2 2 9 14 4 4 5 4 5 2 8 2 12 1 53 1" stroke="#77AC30"/>
<path d="M205 3178l82-1 24-1 17-3 13-5 9-6 7-8 6-13 4-15 3-20 3-33 2-32 4-102 6-226 2-49 1-7 1 5 2 47 8 283 2 46 3 46 4 35 4 18 3 8 3 6 4 5 5 5 5 3 5 1 4-1 10-5 3 0 10 3 3 0 4-2 5-4 5-8 4-11 3-13 4-32 4-63 3-76 6-202 2-39 1-3 1 8 2 47 7 230 5 91 3 29 4 21 3 9 3 6 4 6 4 4 5 2 4 1 4-1 3-2 5-8 11-28 3-3 4-1 2-1 2-3 2-7 3-23 3-43 7-173 2-36 1-6 1 4 2 33 5 135 3 62 3 39 3 23 3 11 1 1 2 2 3-2 7-11 2-1 2 2 4 8 10 29 3 5 4 4 6 2 9 0 8-2 7-3 5-5 4-6 3-7 3-11 4-27 3-38 3-57 5-125 2-31 1-4 2 18 7 165 4 61 2 19 3 17 4 13 4 5 3 0 2-1 3-5 2-5 4-19 6-36 2-7 1-1 1 1 2 7 7 45 4 19 2 7 3 6 3 3 3 2 5-1 9-5 3-1 4 1 12 12 4 2 5 1 11 1 15-1 10-1 6-3 3-3 3-5 4-11 4-18 6-36 2-7 1-1 1 1 2 6 7 40 4 17 2 6 3 6 3 3 3 2 3 0 4-1 9-7 3-1 4 1 10 9 5 2 13-3 11 0 4-2 7-5 3-1 3 1 7 4 4 1 2 0 3-3 9-14 2-2 2-1 2 1 2 2 8 13 4 6 4 3 5 3 7 1 13 1 56 1" stroke="#4DBEEE"/>
<path d="M205 3183l46 0 32-2 23-3 17-4 13-5 5-4 5-5 4-5 4-7 6-16 4-18 3-21 3-32 3-48 5-129 8-288 2-34 1-2 1 8 2 44 9 319 3 72 3 51 4 42 4 24 3 11 3 8 4 8 5 6 4 2 5 1 13-5 12 2 3-1 3-2 5-6 4-9 4-14 3-17 5-50 4-73 4-109 6-201 2-42 1-8 1 1 2 28 9 286 3 70 3 50 4 41 4 24 3 11 3 8 3 5 4 5 4 2 4 0 4-3 3-5 4-9 10-30 8-16 4-18 3-27 3-44 9-213 2-25 1-2 1 7 2 32 9 220 3 45 3 27 2 11 3 8 1 1 2 0 5-4 2-1 2 1 2 2 4 10 11 36 4 8 4 5 6 3 7-1 8-3 6-5 4-5 4-9 3-10 3-16 4-35 3-42 10-224 2-22 1-1 1 7 2 31 7 166 4 67 2 23 3 24 3 14 2 5 2 3 2 1 2-2 4-9 4-17 7-39 2-7 1-2 1 0 2 5 2 9 10 62 3 12 4 10 3 4 4 2 3-1 8-2 5 0 4 3 11 11 8 5 5 1 7 1 15-1 9-4 3-2 3-4 4-8 4-13 11-60 2-7 1-2 1 0 2 3 2 8 8 46 4 17 5 12 2 3 3 2 2 1 3-1 10-6 4 0 4 2 10 8 3 1 4 1 19-3 4-2 8-5 3-1 3 0 8 3 3 0 3-2 3-2 9-13 2-1 2-1 2 1 3 4 9 15 5 7 5 4 5 3 8 1 12 1 51 2" stroke="#A2142F"/>
<path d="M205 3174l48-1 33-1 24-2 17-3 13-6 5-3 5-4 7-10 6-15 5-24 3-26 3-43 2-42 4-129 6-271 2-54 1-6 1 9 2 59 8 341 2 55 3 57 4 43 4 22 3 10 3 8 4 7 5 5 5 4 5 1 4-1 10-7 3 1 7 3 3 1 3-1 4-2 5-6 5-11 4-14 3-17 4-42 4-80 3-95 6-243 2-42 1-1 1 12 2 59 7 275 5 112 3 35 4 26 3 11 3 8 4 7 4 5 5 3 4 1 4-1 3-3 5-10 10-33 3-5 5-2 2-2 2-5 2-10 3-30 3-54 7-211 2-39 1-5 1 6 2 43 5 161 3 75 3 48 3 28 3 13 1 2 2 1 3-2 6-12 2-1 2 1 2 3 3 8 10 35 3 6 4 5 6 3 9 0 8-2 7-5 5-6 4-7 3-9 3-15 4-36 3-48 8-221 2-35 1-3 2 25 7 199 4 74 2 23 3 21 3 13 4 8 3 1 2 0 3-5 2-6 4-20 7-50 2-8 1-1 1 2 2 9 7 54 4 23 2 8 3 8 3 4 3 2 2 0 3-1 8-6 4-1 4 2 12 14 4 2 5 2 11 1 14-1 10-2 6-3 3-3 3-5 4-13 4-21 7-48 2-8 1-1 1 1 2 8 7 48 4 21 2 7 3 7 2 3 3 3 3 1 4-1 10-8 3-2 4 2 10 10 5 2 4 0 8-3 9 1 3-1 4-3 6-5 3-2 4 1 7 5 4 1 2-1 3-3 9-16 2-3 2-1 2 1 2 3 8 16 4 7 4 4 5 3 7 2 13 1 55 1" stroke="#0072BD"/>
<path d="M205 3189l45-1 32-2 23-2 17-4 13-5 10-8 8-10 6-14 4-15 4-25 3-31 3-45 4-89 8-245 2-37 1-6 1 2 2 29 9 269 3 67 4 59 4 35 4 21 3 9 3 7 4 7 5 5 4 2 5 0 12-4 13 1 3-1 3-2 5-6 4-8 3-10 3-14 5-42 4-59 4-90 7-194 2-29 1-3 1 4 2 30 9 243 3 58 3 41 4 35 4 20 5 13 3 6 4 4 4 2 4 0 4-2 3-4 5-10 9-23 8-15 4-15 3-22 3-36 9-179 2-26 1-5 1 2 2 21 10 203 3 36 3 23 2 9 3 6 1 0 2 0 5-3 2 0 2 1 2 3 4 8 11 31 4 7 4 4 6 2 7-1 7-2 6-4 4-5 4-7 3-9 3-13 4-29 3-35 3-48 7-141 2-23 1-4 1 2 2 21 7 140 5 73 2 19 3 19 3 11 3 6 2 1 2-1 2-2 2-5 4-13 7-33 2-7 2-3 2 3 2 7 11 57 3 10 4 8 3 3 3 1 3 0 9-2 4 0 4 3 12 10 8 4 11 1 15-1 9-3 6-5 4-6 4-11 4-16 7-35 2-7 2-3 1 1 1 1 2 6 8 38 5 19 4 8 2 3 3 2 5 1 10-5 4 0 4 1 9 6 5 3 5 0 15-2 5-2 12-6 4 0 8 3 4-1 5-4 8-9 4-2 2 1 3 2 10 14 5 6 5 4 5 2 8 1 12 1 51 1" stroke="#D95319"/>
<path d="M205 3174l49 0 34-1 23-2 17-2 13-5 9-6 7-9 6-13 4-16 3-20 3-34 2-34 4-110 6-247 2-52 1-7 1 8 2 55 7 279 2 54 3 55 3 33 2 14 3 15 3 9 4 8 4 6 5 5 5 2 5 1 4-1 10-5 3 0 9 4 3 0 4-2 6-5 5-8 4-11 3-14 4-33 4-65 3-82 6-222 2-41 1-3 2 34 8 281 4 81 3 34 4 25 3 10 3 7 4 7 4 4 5 3 5 1 4-1 3-2 5-8 8-24 3-7 3-3 4 0 2 0 2-3 2-8 3-24 3-45 7-191 2-38 1-6 1 6 2 40 7 193 3 48 3 28 3 14 3 5 1 0 2-1 8-14 1-1 2 1 5 10 10 31 3 5 3 3 6 3 9 0 9-2 7-3 5-5 4-6 3-7 3-12 4-28 3-40 3-62 5-137 2-33 1-4 2 23 6 159 4 73 2 23 3 21 4 14 4 7 3 1 2 0 3-4 2-5 4-17 7-46 2-8 1-1 1 1 2 9 7 49 4 20 4 11 3 5 3 2 5-1 10-6 3-1 4 2 12 12 4 2 4 1 12 1 15-1 10-1 6-3 3-3 3-5 4-12 4-20 6-38 2-8 1-1 1 1 2 7 7 45 4 18 4 10 3 4 3 2 3 0 4 0 3-2 7-6 3-2 3 1 10 10 5 2 4 0 10-3 8 1 3-1 4-2 7-6 3-1 3 1 7 5 4 1 2 0 3-3 9-15 2-3 2-1 2 1 2 2 11 20 4 4 5 3 7 1 13 1 57 1" stroke="#EDB120"/>
<path d="M205 3185l81-1 24-2 17-2 13-4 10-6 7-7 6-11 4-13 3-16 3-26 2-26 4-80 7-211 2-35 1-2 1 7 2 42 8 233 5 77 4 29 4 16 3 7 3 5 4 5 5 4 5 2 5 1 4-1 10-4 3 0 9 3 4-1 3-1 5-4 5-6 4-9 3-11 3-18 2-17 4-57 8-209 2-41 1-8 1 0 2 27 7 190 3 59 3 39 4 30 4 16 3 7 3 4 7 7 5 2 4 1 4-1 3-2 5-8 8-18 3-5 3-3 5-2 2-2 3-10 3-22 2-23 8-160 2-25 1-2 1 5 2 31 7 146 3 38 3 23 3 12 3 4 3 0 6-8 2-2 2 0 2 2 4 7 10 24 3 4 4 4 6 1 9 0 8-1 7-3 5-5 4-5 3-7 3-10 3-18 3-29 3-45 6-120 2-22 1-1 2 19 6 118 4 58 2 18 3 19 4 12 4 6 3 1 2-1 3-4 2-4 4-14 7-34 2-5 1 0 1 1 2 7 7 37 4 16 2 5 3 5 2 3 3 1 5 0 10-4 4-1 4 2 8 7 5 3 5 2 7 1 23-1 8-2 5-2 3-2 3-4 4-9 4-14 7-33 2-5 1-1 1 1 2 6 7 33 4 14 5 10 5 4 3 0 4 0 10-6 3-1 4 1 10 8 5 1 12-2 12-1 13-6 4 0 7 4 4 1 5-3 9-12 2-1 2-1 2 1 2 2 8 11 4 4 4 3 5 2 7 2 13 1 55 0" stroke="#7E2F8E"/>
<path d="M205 3175l47-1 33-1 24-3 17-3 13-4 10-7 7-9 6-13 4-15 4-26 3-35 2-33 4-99 7-246 2-37 1-3 1 9 2 47 8 274 5 95 4 38 4 21 3 9 4 9 4 5 5 5 5 2 4 1 4-1 10-5 3 0 9 3 4 0 3-2 5-5 5-9 4-12 3-14 4-34 4-63 3-73 6-194 2-45 1-9 1 1 2 31 8 247 5 94 4 39 4 20 3 9 3 7 3 4 4 4 5 3 4 1 4-2 3-3 5-9 10-26 3-5 6-4 2-4 2-8 3-23 3-41 8-186 2-28 1-2 1 7 2 34 8 189 3 41 3 24 3 12 1 2 2 1 3-1 5-7 2-2 2 0 2 2 4 8 10 29 3 6 4 4 6 3 8 0 8-2 7-4 5-5 4-6 3-8 3-12 4-29 3-37 3-55 6-139 2-24 1 0 2 21 7 158 4 62 2 20 3 19 3 11 4 7 3 2 2-1 2-3 2-4 4-15 8-44 2-6 1 0 1 2 2 7 7 43 4 20 5 13 3 4 3 2 5-1 9-4 4-1 4 3 8 8 5 3 5 3 7 1 11 0 11-1 8-2 5-2 3-3 3-4 4-10 4-16 8-44 2-5 1 0 1 1 2 6 7 39 4 17 5 12 3 4 3 2 3 0 3-1 10-6 3-1 4 1 10 9 5 1 12-2 11 0 4-2 7-5 3-1 4 0 7 4 4 1 5-4 9-13 2-2 2 0 2 1 2 2 9 15 4 5 4 3 5 2 7 2 13 1 54 1" stroke="#77AC30"/>
<path d="M205 3173l45-1 32-1 23-2 17-4 13-4 10-7 8-9 6-12 4-13 4-23 3-28 3-40 4-82 8-225 2-31 1-5 1 4 2 29 9 248 3 58 3 41 4 35 5 23 3 8 3 6 4 6 5 4 4 2 4 0 13-4 12 1 6-1 5-5 4-7 4-10 3-13 5-37 4-54 4-83 7-177 2-25 1-2 1 5 2 30 8 202 3 57 3 40 4 35 4 19 3 9 3 6 3 5 4 3 4 2 4 0 4-2 3-4 5-9 9-20 8-13 4-13 3-20 3-33 9-165 2-22 1-4 1 3 2 22 9 171 3 36 3 23 3 13 3 5 3 0 6-4 2 0 3 4 4 7 10 27 4 6 4 4 6 2 7 0 8-2 6-4 4-4 4-7 3-7 3-12 4-26 3-32 3-44 7-129 2-21 1-2 1 3 2 21 7 129 4 54 5 38 3 12 2 5 2 2 2 1 2-1 4-6 4-13 7-31 2-5 2-2 2 2 2 7 7 35 4 17 3 9 3 5 3 4 4 1 3 0 8-2 5 0 4 2 12 10 8 3 13 1 15-1 8-3 6-5 4-7 3-8 4-14 7-32 2-6 2-3 2 2 2 6 8 35 4 14 5 10 2 3 3 2 5 0 10-5 4 0 4 1 10 7 7 1 20-3 14-6 3 0 7 2 4 1 5-2 10-11 4-2 2 1 3 2 9 12 5 6 5 3 5 2 8 2 12 1 52 1" stroke="#4DBEEE"/>
<path d="M205 3180l47 0 33-1 24-3 17-3 13-5 5-3 5-5 7-9 6-14 4-16 4-29 5-70 4-100 7-254 2-48 1-9 1 3 2 37 8 283 3 76 3 52 4 41 4 23 3 10 4 9 4 6 5 6 5 2 4 1 4-1 9-5 3 0 10 3 4-1 3-2 5-6 5-11 3-10 3-16 4-35 4-64 4-104 6-199 2-37 1-6 1 6 2 38 8 255 5 98 4 41 4 23 3 10 3 7 4 6 4 4 4 2 4 1 4-2 3-4 5-10 10-28 3-4 4-4 2-4 2-6 2-11 3-28 2-30 8-189 2-35 1-7 1 2 2 27 9 216 3 42 3 25 3 12 1 2 2 2 3-1 6-8 2 0 2 2 5 11 10 31 3 5 4 5 6 3 7 0 8-2 7-4 5-6 4-6 3-9 3-12 4-30 3-38 3-56 6-144 2-30 1-6 1 3 2 27 7 163 4 64 2 21 3 20 3 12 2 5 2 2 3 1 2-1 4-9 4-17 7-40 2-6 1-1 1 0 1 2 2 9 7 45 5 23 2 6 3 6 2 3 3 2 4-1 9-4 4 0 4 2 9 9 5 4 5 2 7 1 10 1 11-1 8-2 5-3 3-3 3-4 4-11 4-16 8-45 2-7 1-1 1 0 1 2 2 7 7 40 5 21 5 11 2 3 3 1 3 1 3-1 9-6 3-1 4 1 10 8 6 3 12-2 10-1 4-2 8-6 3 0 3 0 7 4 4 0 3-1 3-3 9-13 2-2 2 0 2 1 2 3 12 19 5 5 5 2 8 2 12 1 53 1" stroke="#A2142F"/>
<path d="M205 3189l48-1 33-1 24-3 17-3 13-6 5-3 5-5 7-10 6-14 4-18 4-30 3-40 2-38 4-112 7-275 2-42 1-4 1 9 2 51 8 306 5 111 4 45 4 24 3 11 4 10 4 7 5 5 5 3 4 1 4-1 10-5 3 0 9 3 4-1 3-2 5-5 5-11 4-13 3-17 4-39 4-71 3-83 6-217 2-50 1-11 1 0 2 33 8 276 3 73 3 49 4 39 4 21 3 10 3 6 3 5 4 4 4 3 4 1 4-2 3-3 5-11 10-30 3-5 5-4 2-4 3-12 3-26 3-46 8-208 2-32 1-2 1 6 2 37 8 212 3 48 3 28 3 14 1 2 2 3 1 0 2-2 5-7 2-2 2 0 2 2 4 10 10 32 3 7 4 5 6 3 8 0 8-2 7-5 5-5 4-8 3-9 3-13 4-33 3-43 9-217 2-27 1-2 2 23 7 176 4 71 2 23 3 23 4 16 2 4 2 3 3 0 2-2 4-10 4-19 7-43 2-6 1-1 1 2 2 8 8 54 4 20 2 7 3 7 2 3 3 2 4 0 10-6 4 0 4 3 8 8 5 5 5 2 7 2 11 0 11-1 8-2 5-3 3-3 3-5 4-11 4-19 8-48 2-6 1-1 1 1 2 7 8 49 4 17 5 13 2 2 3 3 3 0 3-1 10-7 3-1 4 2 10 9 5 2 4 0 8-3 11 0 4-2 7-6 3-1 4 1 7 4 4 0 2-1 3-3 9-14 2-2 2-1 2 1 2 2 9 17 4 6 4 3 5 3 7 2 13 1 53 1" stroke="#0072BD"/>
<path d="M205 3174l48 0 33-2 23-2 17-3 13-6 5-3 5-4 7-10 6-15 4-17 4-31 3-40 2-40 4-122 7-298 2-37 1 3 2 47 7 300 3 92 3 61 4 46 4 24 3 11 4 10 4 7 5 5 5 3 4 1 4-1 8-5 3-1 3 0 9 4 4-1 3-2 5-5 5-11 4-13 3-17 4-40 4-75 3-90 6-237 2-49 1-6 1 6 2 49 8 300 5 102 4 39 4 21 3 10 3 6 3 5 4 4 5 3 4 1 4-2 3-3 5-11 10-32 3-4 4-2 2-2 2-4 2-10 3-27 3-51 8-228 2-27 1 2 2 34 8 232 3 51 3 30 3 15 1 3 2 2 1 0 2-1 7-12 2-1 2 2 5 12 9 31 3 7 4 5 6 3 8 0 9-2 7-4 5-6 4-7 3-9 3-14 4-34 3-45 3-68 5-146 2-39 1-6 1 3 2 34 6 170 4 78 2 24 3 24 4 16 4 7 3 1 2-1 3-6 2-7 4-21 6-42 2-9 1-1 1 0 2 8 8 59 4 21 2 7 3 7 2 3 3 2 2 1 3-1 9-6 3-1 2 0 3 3 12 13 4 2 5 2 11 1 13-1 10-2 6-3 3-3 3-5 4-12 4-20 7-47 2-9 1-2 1 1 2 6 8 53 4 19 2 6 3 7 2 3 3 2 3 1 3-1 3-2 7-6 4-2 4 2 9 10 5 2 4 0 9-3 8 0 3 0 4-3 7-6 3-1 3 1 8 5 3 1 2-1 3-3 10-17 2-2 2-1 2 2 2 3 11 21 5 5 5 3 7 2 13 1 55 1" stroke="#D95319"/>
<path d="M205 3182l81-2 24-2 17-2 13-4 10-6 7-7 6-11 4-13 3-16 3-25 2-25 5-103 6-180 2-38 1-6 1 4 2 34 7 205 3 63 3 42 4 33 4 17 3 8 4 7 4 5 5 3 5 2 4 1 4-1 11-4 12 3 6-2 5-4 5-6 4-9 3-11 4-25 4-48 4-80 6-162 2-30 1-3 1 6 2 35 8 205 5 70 4 28 4 15 3 7 3 4 7 7 5 2 4 0 4-1 3-3 5-8 10-21 3-3 5-3 2-2 3-10 3-21 3-36 7-140 2-27 1-5 1 2 2 25 8 159 3 35 3 21 3 10 3 4 3-1 7-8 2 0 2 1 5 9 9 21 3 5 4 4 6 2 9 0 8-2 7-3 5-4 4-6 3-6 3-11 4-25 3-33 8-147 2-24 1-4 1 4 2 24 6 116 4 53 2 17 3 17 4 12 4 5 3 0 2-1 4-7 4-13 7-33 2-5 1-1 1 1 2 5 8 40 4 15 2 5 3 5 2 2 3 2 4 0 10-5 4 0 4 2 13 9 5 2 7 1 12 0 11-1 8-1 5-2 3-2 3-4 4-9 4-14 7-32 2-6 1-1 1 1 2 4 8 36 4 14 5 9 5 3 3 1 3-1 10-5 3-1 4 1 9 6 6 2 13-2 11 0 11-6 3-1 3 1 7 3 4 1 5-3 9-11 4-2 2 0 2 2 9 12 4 4 4 3 5 2 7 1 13 1 54 1" stroke="#EDB120"/>
<path d="M205 3184l46-1 33-1 24-2 17-4 13-5 10-8 4-4 4-6 6-15 4-16 3-20 3-30 3-45 5-124 7-240 2-39 1-7 1 5 2 36 10 321 5 89 4 38 4 22 3 10 3 7 4 7 5 5 4 3 5 1 4-1 9-4 3 0 10 2 3-1 3-2 5-6 4-8 4-13 3-15 4-35 4-61 4-96 7-214 2-31 1-3 1 6 2 37 9 267 5 87 4 38 4 21 3 10 3 7 3 5 4 4 4 2 4 0 4-2 3-4 5-11 9-24 9-16 2-6 2-10 3-27 3-43 8-181 2-28 1-5 1 3 2 26 9 206 3 42 3 26 3 13 3 5 3 0 6-6 2 1 3 3 4 9 10 31 4 7 4 5 6 2 7 0 8-3 6-4 4-4 4-7 3-9 3-12 4-29 3-36 4-71 6-135 2-26 1-3 1 3 2 26 7 155 4 63 2 21 3 22 3 13 2 5 2 3 2 1 2-1 2-3 2-4 4-16 8-41 2-5 1-1 2 3 2 8 10 58 3 11 4 10 3 3 4 2 3-1 8-3 5 0 4 3 11 10 8 4 12 2 16-1 9-3 6-6 4-7 4-13 10-51 2-8 2-3 1 0 1 2 2 7 8 43 4 16 5 11 2 3 3 2 5 0 10-6 4 0 4 1 10 8 3 1 4 1 20-3 14-8 4 0 7 3 4 0 5-3 9-12 2-1 2-1 2 1 3 3 9 14 4 5 5 4 5 3 7 2 12 1 52 1" stroke="#7E2F8E"/>
<path d="M205 3179l48-1 33-2 24-2 17-3 13-5 5-3 5-4 7-9 6-13 4-16 3-20 3-31 2-31 5-124 6-215 2-47 1-8 1 3 2 38 9 300 5 89 4 36 4 19 3 9 3 6 4 6 5 5 5 3 4 0 4 0 8-4 3-1 12 3 3-1 3-1 5-5 5-8 4-11 3-14 4-31 4-58 4-97 6-193 2-38 1-4 1 6 2 39 8 246 5 89 4 36 4 19 3 8 3 6 3 4 4 4 5 3 4 0 4-1 3-4 5-9 10-26 3-4 5-4 2-3 3-12 3-25 3-44 7-167 2-34 1-7 1 2 2 28 8 191 3 44 3 27 3 13 3 5 1 0 2-1 7-9 2 0 2 2 5 10 10 29 3 5 4 4 6 2 9 0 8-3 7-4 4-5 4-6 3-8 3-13 4-31 3-40 8-177 2-30 1-5 1 3 2 28 6 139 5 77 2 19 3 17 3 11 4 6 3 1 2-2 4-8 4-16 7-39 2-7 1-1 1 1 2 6 8 48 4 19 2 6 3 6 2 3 3 2 5 0 9-5 4-1 4 3 9 8 5 4 5 2 7 1 11 0 11-1 8-2 5-2 3-3 3-5 4-10 4-17 7-39 2-7 1-1 1 0 1 2 2 7 7 39 4 17 5 11 2 3 3 2 3 0 3 0 10-7 4-1 4 2 9 8 6 2 12-3 11 0 4-2 7-5 3-1 3 0 7 4 4 1 2-1 3-2 9-13 2-2 2-1 2 0 2 2 9 15 4 5 5 4 5 2 7 2 13 1 53 1" stroke="#77AC30"/>
<path d="M205 3185l46-1 32-2 24-2 17-4 13-7 5-3 5-5 4-5 4-8 6-16 4-20 3-22 3-35 3-54 5-145 7-281 2-44 1-6 1 6 2 46 8 315 3 86 3 60 4 50 5 33 3 11 3 8 4 8 5 6 4 3 5 0 4-1 9-4 3 0 10 2 3-1 3-2 5-7 4-9 4-16 3-18 4-41 4-71 4-113 7-250 2-35 1-2 1 9 2 46 9 312 5 99 4 43 4 24 3 11 3 7 3 6 4 4 4 3 4 0 4-3 3-5 4-9 10-32 9-17 2-8 2-12 3-31 3-51 8-212 2-32 1-4 1 4 2 34 9 240 3 47 3 29 3 15 1 3 2 2 2 0 7-7 2 0 2 3 4 9 11 39 4 8 4 5 6 3 7-1 8-3 6-4 4-6 4-8 3-9 3-15 4-34 3-42 4-84 6-158 2-29 1-2 1 5 2 32 7 182 4 72 2 24 3 24 3 15 2 5 2 3 2 1 2-1 2-3 2-6 4-17 8-49 2-6 1-1 2 4 2 10 10 68 3 13 4 10 3 4 4 2 3-1 8-4 3 0 2 1 4 3 11 12 4 3 4 2 5 1 7 0 16-1 9-4 3-2 3-4 4-9 4-15 10-60 2-8 2-4 2 3 2 9 7 44 5 24 5 13 2 3 3 2 2 1 3-1 10-7 3-1 4 2 11 10 5 1 22-3 4-2 7-5 3-2 3 0 7 4 4 0 3-1 2-2 10-15 2-2 2 0 2 0 3 4 9 17 4 6 5 5 5 3 8 2 12 1 52 1" stroke="#4DBEEE"/>
<path d="M205 3182l81-1 24-1 17-2 13-4 10-5 7-7 6-10 4-11 4-21 3-28 2-27 4-82 7-207 2-29 1-1 1 10 2 44 7 206 5 85 4 34 4 18 3 8 4 7 4 5 5 4 5 2 4 1 5-1 10-4 12 3 4-1 3-1 5-4 5-7 4-9 3-11 4-27 4-51 4-86 5-139 2-36 1-7 1 3 2 29 7 187 3 57 3 38 4 29 4 16 3 6 3 5 7 7 5 2 4 1 4-1 3-3 5-7 10-22 3-3 6-3 2-3 2-6 3-18 3-34 8-157 2-22 1 0 2 20 8 161 3 37 3 22 3 12 3 4 3-1 7-8 2-1 2 1 5 8 10 24 3 4 4 4 6 1 8 0 8-1 7-3 5-4 4-5 3-6 3-9 4-23 3-31 3-46 6-117 2-18 1 1 2 20 7 134 4 48 2 16 3 14 3 8 4 6 3 1 2-1 3-4 2-5 4-14 7-33 2-4 1 0 3 8 7 37 4 15 5 11 2 2 3 1 5 0 10-4 4 0 4 2 12 9 6 2 7 1 12 0 11-1 8-1 5-3 3-2 3-4 4-9 4-15 7-32 2-5 1 0 1 1 2 6 7 33 4 14 5 9 5 4 3 0 4 0 10-6 3-1 4 2 10 7 5 1 12-2 11 0 4-2 7-4 3-1 3 0 8 4 4 0 5-2 10-12 3-2 4 3 8 11 4 5 4 3 5 2 7 1 13 1 54 0" stroke="#A2142F"/>
<path d="M205 3187l46-1 32-1 24-3 17-4 13-7 5-3 5-5 4-6 4-7 6-17 4-18 3-22 3-34 3-50 5-135 8-304 2-37 1-3 1 8 2 45 9 336 3 77 3 54 4 44 4 26 3 12 3 8 4 8 5 6 4 3 5 1 13-5 3 0 9 1 3 0 3-2 5-7 4-9 4-15 3-17 5-53 4-75 4-115 6-212 2-45 1-10 1 0 2 30 9 301 3 74 3 53 4 44 4 25 3 11 3 8 3 6 4 5 4 2 4 0 4-3 3-5 4-10 10-31 8-17 4-18 3-29 3-46 9-224 2-27 1-3 1 6 2 34 9 232 3 48 3 29 2 11 3 9 1 1 2 0 5-4 2-1 2 1 3 4 4 11 10 35 4 9 4 5 6 3 7-1 8-3 6-5 4-6 4-9 3-10 3-17 4-37 3-44 10-236 2-24 1-1 1 7 2 32 7 175 4 71 2 25 3 25 3 14 2 6 2 3 2 1 2-1 4-10 4-18 7-41 2-8 1-1 1-1 2 5 2 10 10 65 3 13 4 11 3 4 4 2 3-1 8-3 5 1 4 3 11 12 8 5 5 1 7 0 15-1 9-3 3-3 3-4 4-8 4-14 11-63 2-8 2-2 2 3 2 9 8 48 4 18 5 13 2 3 3 2 2 1 3-1 10-6 4 0 4 2 10 8 3 2 4 0 19-3 4-2 8-5 3-2 3 0 8 4 3 0 5-4 10-13 2-2 2-1 2 1 3 4 9 16 5 7 5 5 5 2 8 2 12 1 50 2" stroke="#0072BD"/>
<path d="M205 3176l46-1 32-1 23-1 17-3 13-5 10-6 8-9 6-11 4-14 4-22 5-54 5-101 8-233 2-27 1-1 1 9 2 39 9 256 5 81 4 35 5 23 3 8 3 6 4 6 5 4 4 2 4 1 4-1 10-4 12 2 6-2 5-5 4-6 4-11 3-12 5-38 4-56 4-87 6-163 2-33 1-6 1 2 2 26 8 209 3 60 3 42 4 35 4 19 3 9 3 6 3 5 4 3 4 3 4 0 4-2 3-3 5-9 10-23 8-11 2-5 2-8 3-20 3-35 9-172 2-20 1 0 1 6 2 28 8 162 3 39 3 24 3 13 3 5 3 0 5-4 2-1 2 0 2 2 4 8 10 27 4 6 4 4 6 3 8-1 8-2 6-4 4-4 4-6 3-8 3-11 4-27 3-33 3-46 6-119 2-26 1-6 1 0 2 18 7 134 5 67 2 17 3 17 3 10 2 4 2 2 2 0 2-1 4-7 4-14 7-32 2-6 1-1 1 0 2 4 2 8 9 46 3 10 4 9 3 3 4 2 4-1 8-2 5 0 4 3 10 8 8 4 11 1 16-1 10-2 6-5 4-6 4-10 4-15 7-33 2-6 1-1 1-1 1 1 2 6 8 36 4 15 5 10 2 3 3 2 5 0 11-5 4 0 4 1 9 6 3 2 4 0 20-2 4-2 8-4 3-1 3 0 8 3 3 0 3-1 3-2 9-11 2-1 2 0 4 2 9 13 5 5 5 4 5 2 8 1 12 1 52 1" stroke="#D95319"/>
<path d="M205 3171l44-1 32-1 23-3 17-4 13-5 10-8 8-10 6-14 4-15 4-26 3-30 3-44 5-113 8-244 2-31 1-4 1 6 2 33 9 271 3 66 3 48 4 41 5 29 3 10 3 7 4 7 5 5 4 2 4 0 13-4 12 1 3-1 3-1 5-6 4-9 3-9 3-14 5-41 4-58 4-88 7-196 2-36 1-9 1 0 1 6 2 34 8 221 3 64 3 47 4 40 4 24 3 11 3 7 3 6 4 4 4 2 4 0 4-3 4-6 13-32 7-14 3-10 2-11 3-25 3-39 9-180 2-22 1-2 1 4 2 24 10 203 3 37 3 22 2 9 3 6 3 1 5-2 2 0 2 1 2 3 4 9 11 32 4 7 4 4 5 2 7-1 7-2 6-4 4-5 4-7 3-9 3-13 4-28 3-33 4-65 7-141 2-19 1-2 1 4 2 24 7 141 5 72 2 19 3 20 3 11 3 6 2 1 2-1 4-8 4-15 7-32 2-6 1-1 1-1 2 4 2 7 11 57 3 10 4 8 3 4 3 1 3 0 8-2 5 1 4 2 12 11 8 4 12 1 14-1 9-3 6-6 4-8 3-8 4-16 8-38 2-7 2-2 2 2 2 7 8 38 4 16 5 12 2 2 3 3 5 0 9-4 4-1 4 1 10 7 5 2 5 1 14-3 6-1 8-5 4-1 4 0 7 2 5-1 4-3 9-10 4-1 2 0 3 3 10 14 5 6 5 4 5 2 8 2 12 1 51 1" stroke="#EDB120"/>
<path d="M205 3182l80-2 24-2 17-3 13-5 10-6 7-9 6-12 4-14 4-26 5-63 4-93 7-225 2-35 1-3 1 8 2 42 8 251 5 90 4 38 4 20 3 9 4 8 4 6 5 4 5 2 4 1 4-1 10-4 3 0 9 2 4 0 3-2 5-4 5-9 4-11 3-14 4-33 4-58 3-68 6-178 2-41 1-9 1 0 2 27 8 226 3 61 3 40 4 32 4 18 3 7 3 6 3 4 4 3 4 2 4 1 4-1 3-3 5-9 10-24 3-4 5-4 2-3 3-10 3-22 3-38 8-170 2-26 1-2 1 5 2 30 8 174 3 39 3 23 3 12 3 4 3-1 5-6 2-2 2 0 2 2 4 8 10 27 4 6 4 4 6 2 9-1 8-2 6-4 4-3 4-7 3-7 3-11 4-28 3-34 9-179 2-22 1-1 2 19 7 144 4 58 2 19 3 19 4 14 2 3 2 2 3 0 2-2 4-8 4-16 7-35 2-5 1 0 1 1 2 7 8 45 4 16 5 11 2 2 3 2 4 0 10-5 4 0 4 2 13 11 5 2 7 1 11 1 11-1 8-2 5-2 3-3 3-4 4-9 4-15 8-40 2-5 1-1 1 1 2 6 8 40 4 14 5 11 2 2 3 2 3 0 3-1 10-5 3-1 4 1 10 8 5 1 12-2 11 0 14-8 4 1 7 3 4 1 5-3 9-12 2-2 2 0 2 0 2 2 9 14 4 4 4 4 5 2 7 1 13 1 54 1" stroke="#7E2F8E"/>
<path d="M205 3178l80-1 24-2 17-2 13-5 10-6 7-8 6-12 4-13 4-24 3-31 2-30 5-120 6-206 2-44 1-8 1 4 2 37 9 289 5 85 4 34 4 19 3 8 3 6 4 6 5 5 5 2 4 1 4-1 8-4 3 0 12 3 3-1 3-1 5-5 5-8 4-10 3-14 4-30 4-56 4-94 6-185 2-35 1-4 1 6 2 38 8 237 5 85 4 34 4 18 3 9 3 5 3 4 4 4 5 3 4 0 4-2 3-3 5-9 10-25 2-3 5-3 2-2 2-5 2-9 3-25 3-43 7-160 2-32 1-6 1 3 2 27 8 183 3 43 3 25 3 13 3 5 1 0 2-1 7-9 2 0 2 2 4 7 11 30 3 5 4 4 6 2 9 0 8-2 7-4 4-5 4-6 3-8 3-13 4-30 3-39 8-169 2-29 1-4 1 4 2 27 6 133 4 63 2 21 3 20 4 14 4 6 3 1 2-1 4-8 4-16 7-37 2-6 1-1 1 0 2 6 8 47 4 17 2 6 3 6 2 3 3 2 4 0 10-5 4-1 4 2 9 9 5 3 5 2 7 1 11 0 11-1 8-1 5-3 3-3 3-4 4-10 4-17 7-37 2-6 1-2 1 1 2 5 8 41 4 16 5 11 2 2 3 2 3 1 3-1 10-6 3-1 4 1 11 9 5 1 12-2 11-1 11-7 3 0 3 0 7 4 4 0 5-2 9-13 2-2 2-1 2 1 2 2 9 14 4 5 5 4 5 2 7 1 13 1 53 1" stroke="#77AC30"/>
<path d="M205 3191l45-1 32-1 23-3 17-3 13-5 10-6 8-10 6-12 4-14 4-23 3-28 3-42 5-110 7-209 2-36 1-7 1 2 2 27 9 259 3 63 3 44 4 38 5 25 3 9 3 6 4 6 5 4 4 2 4 1 4-1 9-3 13 1 3-1 3-2 5-5 4-8 3-8 3-13 5-38 4-55 4-85 7-187 2-29 1-4 1 4 2 29 8 211 3 60 3 44 4 37 4 21 3 10 3 6 3 5 4 4 4 2 4 0 4-2 3-3 5-10 9-22 8-13 4-13 3-20 3-33 9-172 2-26 1-5 1 1 2 20 10 195 3 34 3 21 2 8 3 6 3 0 5-3 2-1 2 1 2 3 4 8 10 27 4 7 4 4 6 3 7 0 8-3 6-4 4-4 4-7 3-7 3-12 4-27 3-32 4-63 6-118 2-24 1-3 1 1 2 21 7 134 5 69 2 17 3 19 3 10 3 5 2 1 2 0 2-3 2-4 4-13 8-35 2-5 1-1 2 2 2 7 11 54 3 10 4 7 3 3 3 1 3 0 9-2 4 0 4 2 12 10 8 4 12 1 15-1 9-3 6-5 4-7 4-11 10-45 2-7 2-3 1 0 1 1 2 6 8 37 4 14 5 11 2 3 3 2 5 0 10-4 4-1 4 2 11 7 6 1 20-3 14-6 3 0 8 2 3 0 3-1 3-2 10-10 2-1 2-1 4 3 9 13 5 5 5 4 5 2 8 2 12 1 52 1" stroke="#4DBEEE"/>
<path d="M205 3192l46-1 32-1 23-3 17-3 13-5 10-7 4-4 4-6 6-13 4-16 4-26 5-63 5-118 7-234 2-38 1-6 1 5 2 37 8 262 3 71 3 49 4 41 5 26 3 9 3 7 4 6 5 5 5 2 4 1 13-5 3 0 10 1 3 0 3-2 5-5 4-8 4-12 3-14 4-33 4-57 4-93 7-209 2-30 1-2 1 7 2 37 9 259 5 82 4 35 4 19 3 9 3 6 3 4 4 4 4 2 4 0 4-2 3-4 5-10 9-24 9-13 2-6 2-10 3-24 3-41 8-177 2-28 1-4 1 3 2 27 9 200 3 39 3 24 3 12 3 4 2 0 7-7 2 0 2 2 5 11 10 29 4 7 4 4 6 2 8-1 8-3 6-4 4-4 4-8 3-8 3-14 4-32 3-38 9-186 2-25 1-3 1 4 2 27 7 151 4 59 2 20 3 20 3 12 2 4 2 3 3 0 2-1 4-9 4-17 7-36 2-5 1-1 2 4 2 8 10 56 3 10 4 9 3 3 4 1 3 0 8-4 5 1 4 2 11 10 8 4 12 2 16-2 9-2 6-6 4-7 4-11 10-50 2-8 2-3 2 3 2 7 7 36 5 20 5 11 2 2 3 2 5 0 10-6 3 0 4 1 11 8 5 1 22-2 14-8 4 1 7 3 4 0 5-3 9-12 2-2 2 0 2 0 3 3 8 13 5 6 5 4 5 2 8 2 12 1 53 1" stroke="#A2142F"/>
<path d="M205 3187l46-1 33-1 23-2 17-3 13-5 10-7 4-4 4-6 6-13 4-15 4-27 5-64 5-123 7-242 2-37 1-4 1 7 2 43 9 298 5 93 4 39 4 21 3 10 4 9 4 6 5 5 4 2 4 1 4-1 10-5 3 1 10 2 3-1 3-2 5-5 4-8 4-12 3-14 4-33 4-59 4-96 7-217 2-28 1-1 1 10 2 42 8 245 5 91 4 39 4 21 3 9 3 7 3 5 4 4 5 3 4 0 4-2 3-4 4-8 10-27 2-4 7-9 2-5 2-10 3-25 3-43 8-184 2-27 1-3 1 5 2 31 8 189 3 45 3 28 3 14 3 6 1 0 2-1 5-5 2-2 2 1 2 2 4 8 11 33 3 5 4 4 6 3 8 0 8-3 6-3 4-5 4-6 3-8 3-12 4-27 3-35 4-72 6-137 2-23 1-2 1 6 2 30 6 138 5 78 2 19 3 19 3 11 2 4 2 3 2 0 2-1 4-7 4-15 8-43 2-5 1 0 2 4 2 9 9 53 3 12 4 10 3 3 4 2 4-1 8-3 5 0 4 3 10 9 8 4 12 2 17-1 9-3 6-5 4-7 4-13 10-51 2-8 2-3 1 1 2 6 8 43 4 16 5 13 2 2 3 2 3 1 3-1 9-5 4-1 4 1 11 9 5 1 22-3 4-2 7-5 3-1 3 0 7 4 4 0 5-2 10-13 2-2 2-1 2 1 2 2 13 20 5 4 5 3 8 1 12 1 53 1" stroke="#0072BD"/>
<path d="M205 3184l46-1 32-1 23-2 17-4 13-6 5-3 5-4 4-5 4-7 6-15 4-17 4-30 5-71 5-137 7-278 2-48 1-8 1 4 2 41 8 311 3 84 3 59 4 48 5 31 3 10 3 8 4 7 5 6 5 3 4 1 4-1 9-5 3 0 10 2 3 0 3-2 5-6 4-9 4-13 3-17 3-25 2-25 4-74 3-85 7-249 2-38 1-4 1 7 2 42 9 308 5 97 4 41 4 22 3 11 3 7 3 5 4 5 4 2 4 0 4-2 3-4 5-12 9-28 3-6 6-9 2-7 2-10 3-28 3-47 8-209 2-35 1-6 1 3 2 30 9 237 3 47 3 28 3 15 1 2 2 2 1 1 2-2 6-7 2 0 3 4 4 10 10 35 4 8 4 5 6 2 8 0 8-3 6-5 4-5 4-9 3-9 3-16 4-35 3-45 9-220 2-31 1-5 1 4 2 30 7 179 4 71 2 23 3 24 3 14 2 5 2 3 1 1 2 0 2-2 4-10 4-19 7-43 2-7 1-1 2 4 2 9 10 67 3 12 4 10 3 4 4 2 3-1 8-4 3-1 2 1 4 3 11 12 4 3 4 1 6 2 7 0 16-2 5-1 4-2 3-3 3-4 4-9 3-11 11-64 2-7 1-1 1 0 1 2 2 9 8 49 4 18 5 13 2 2 3 2 3 1 3-1 9-6 3-1 2 0 3 1 10 10 5 1 22-3 4-2 8-6 3-1 3 1 7 3 4 1 2-1 3-3 9-14 2-2 2-1 2 1 3 3 9 17 4 6 5 4 5 3 8 2 12 1 53 1" stroke="#D95319"/>
<path d="M205 3180l45-1 32-1 23-3 17-3 13-5 10-7 8-11 6-13 4-15 4-26 3-31 3-48 4-97 8-271 2-35 1-3 1 8 2 41 9 299 5 97 4 42 5 28 3 9 3 7 4 7 5 5 4 2 5 1 13-5 3 0 9 2 4-1 3-2 5-6 4-9 4-13 3-16 4-37 4-63 4-100 6-189 2-42 1-9 1 0 2 27 9 268 3 64 3 44 4 36 4 20 3 10 3 6 3 5 4 4 4 2 4 0 4-3 3-4 4-8 10-28 9-15 3-12 3-23 3-39 9-200 2-25 1-2 1 5 2 31 9 206 3 40 3 25 2 9 3 6 1 1 2-1 5-4 2-2 2 1 2 2 4 9 11 33 4 7 4 4 6 2 7 0 8-3 6-4 4-5 4-7 3-8 3-14 4-30 3-37 3-53 7-156 2-22 1-1 1 5 2 30 7 156 4 61 2 21 3 20 3 12 2 5 2 2 2 1 2-1 4-8 4-16 7-37 2-7 1-2 1 0 2 4 2 9 10 58 3 11 4 8 3 4 3 1 4-1 8-3 5 1 4 2 11 11 8 4 12 1 16-1 9-3 3-2 3-4 4-8 3-9 4-18 7-38 2-7 2-2 2 3 2 7 7 39 5 20 5 11 2 2 3 2 5 0 9-5 4-1 4 1 11 8 5 2 21-3 4-2 8-5 3-1 3 0 7 3 4 1 5-3 10-13 2-1 2-1 2 1 3 3 8 13 5 7 5 4 5 2 8 2 12 1 53 1" stroke="#EDB120"/>
<path d="M205 3193l46-1 32-2 23-3 17-3 13-6 10-8 4-4 4-6 6-15 4-16 3-19 3-29 3-43 5-117 8-265 2-33 1-3 1 7 2 41 9 293 3 66 3 46 4 38 4 22 3 10 3 7 4 7 5 6 4 2 5 1 13-5 12 1 3 0 3-2 5-6 4-8 4-12 3-16 5-45 4-65 4-100 6-185 2-40 1-8 1 0 2 26 9 263 3 64 3 45 4 38 4 22 3 10 3 6 3 5 4 4 4 2 4 0 4-3 3-4 4-8 10-27 8-15 4-16 3-24 3-40 9-196 2-24 1-2 1 6 2 29 9 202 3 41 3 26 3 13 3 4 2 0 7-5 2 1 2 2 4 9 11 33 4 7 4 5 6 2 7 0 8-3 6-5 4-5 4-8 3-9 3-14 4-31 3-39 10-205 2-21 1-1 1 6 2 28 7 153 4 62 2 20 3 22 3 13 2 5 2 2 2 1 2-1 4-8 4-16 7-36 2-7 1-2 1 0 2 4 2 9 10 57 3 11 4 9 3 4 4 1 11-3 5 1 4 2 11 10 8 5 5 1 7 0 15-1 9-3 6-5 4-7 4-12 11-55 2-7 2-2 2 3 2 7 8 42 4 16 5 11 2 3 3 2 5 0 10-6 4 0 4 2 10 7 3 1 4 1 19-3 4-2 8-5 3-1 3 1 8 2 3 0 5-2 10-13 2-1 2-1 2 1 3 3 9 14 5 7 5 4 5 2 8 1 12 1 51 2" stroke="#7E2F8E"/>
<path d="M205 3176l46 0 32-1 24-2 17-4 13-4 10-7 8-9 6-13 4-14 4-24 3-30 3-47 4-97 7-236 2-43 1-7 1 2 2 35 8 264 3 72 3 49 4 40 4 23 3 10 4 9 4 6 5 5 5 2 4 1 4-1 9-4 3 0 10 2 3 0 3-2 5-5 4-7 4-11 3-14 3-21 2-20 4-62 3-71 7-212 2-34 1-4 1 5 2 36 9 261 5 82 4 35 4 19 3 8 3 7 3 4 4 4 4 2 4 0 4-2 3-3 5-10 10-26 7-9 2-4 3-11 3-23 3-39 8-177 2-31 1-6 1 2 2 25 9 201 3 40 3 24 3 13 3 4 3-1 6-7 2 0 3 3 4 9 10 29 4 7 4 4 6 2 8 0 8-3 6-4 4-4 4-7 3-8 3-13 4-29 3-37 3-53 6-134 2-27 1-4 1 2 2 25 7 152 4 61 2 19 3 20 3 12 2 5 2 2 3 1 2-1 4-9 4-16 7-37 2-5 1-1 2 2 2 8 10 57 3 10 4 9 3 3 4 1 3 0 8-4 5 0 4 3 11 10 8 4 13 1 16-1 9-3 3-2 3-4 4-7 3-9 4-18 7-37 2-6 1-1 1 0 1 2 2 7 8 42 4 15 5 11 2 2 3 2 3 0 3-1 9-5 3-1 4 1 10 8 6 2 22-3 4-1 8-6 3 0 3 0 7 3 4 1 5-3 9-12 4-3 2 0 3 3 9 14 4 5 5 4 5 3 8 1 12 1 52 1" stroke="#77AC30"/>
<path d="M205 3187l47-1 33-2 23-2 17-4 13-6 5-4 5-5 7-10 6-16 4-17 4-32 3-39 2-39 5-151 6-257 2-57 1-11 1 2 2 43 8 328 3 87 3 59 4 46 4 25 3 12 4 10 4 7 5 6 5 3 4 0 4-1 7-5 3-1 3 1 9 3 4-1 3-2 5-7 5-12 3-11 3-17 4-40 4-72 4-118 6-231 2-45 1-7 1 6 2 44 8 296 5 111 4 47 4 25 3 11 3 8 3 5 4 5 5 4 4 0 4-2 3-4 5-12 10-32 2-3 5-6 2-3 2-7 2-12 3-31 3-54 7-199 2-41 1-8 1 1 2 31 9 250 3 48 3 28 3 14 1 2 2 2 3-2 6-9 2 0 2 2 5 12 10 35 3 7 4 5 6 3 7 0 8-2 7-5 5-6 4-7 3-9 3-14 4-34 3-42 3-63 6-168 2-36 1-7 1 3 2 31 7 190 4 72 2 24 3 23 3 13 2 6 2 3 3 1 2-2 4-10 4-19 7-47 2-8 1-1 1 1 1 2 2 10 7 52 5 27 2 7 3 7 2 2 3 2 4 0 9-5 4-1 4 3 9 10 5 4 5 3 6 1 11 1 11-1 8-2 5-3 3-3 3-5 5-16 4-21 7-46 2-8 1-2 1 0 1 2 2 9 7 46 4 21 5 14 2 4 3 2 3 1 3 0 10-8 4-1 4 2 10 10 5 2 4-1 8-2 8 0 3-1 4-2 7-6 3-1 3 0 8 5 3 0 3-1 3-4 9-15 2-2 2 0 2 1 2 3 12 22 5 6 5 2 8 2 12 2 54 1" stroke="#4DBEEE"/>
<path d="M205 3191l46-2 32-1 23-3 17-3 13-6 10-7 4-4 4-7 6-14 4-16 3-19 3-29 3-43 5-116 7-226 2-41 1-8 1 1 2 28 9 278 3 68 3 48 4 39 5 27 3 9 3 7 4 6 5 5 4 2 4 1 4-1 9-3 3-1 10 2 3-1 3-2 5-5 4-8 4-13 3-15 4-34 4-57 4-90 7-202 2-33 1-5 1 3 2 30 8 227 3 65 3 47 4 40 4 22 3 11 3 7 3 5 4 4 4 2 4 0 4-2 4-5 4-8 9-24 9-16 4-17 3-24 3-40 8-170 2-29 1-6 1 0 2 21 10 210 3 37 3 22 2 9 3 6 1 0 2 0 5-4 2 0 2 0 2 3 4 8 10 30 4 7 4 5 6 2 7 0 8-2 6-4 4-5 4-7 3-8 3-12 4-27 4-48 9-180 2-27 1-5 1 2 2 20 7 145 5 74 2 19 3 20 3 11 2 4 2 2 2 1 2-2 4-8 4-16 7-34 2-6 1-1 1 1 1 2 2 6 11 59 3 10 4 9 3 3 3 1 3 0 9-3 4 0 4 2 12 11 8 4 12 1 15-1 9-3 6-5 4-7 3-9 4-16 8-40 2-5 1-2 1 0 3 7 8 40 4 16 5 12 2 3 3 2 5 0 10-5 4-1 4 2 11 8 6 1 20-3 12-6 3-1 3 0 7 3 4 0 5-3 10-12 2-1 2 0 4 3 9 13 5 6 5 4 5 2 8 2 12 1 52 1" stroke="#A2142F"/>
<path d="M205 3180l47 0 33-2 23-2 17-4 13-5 5-4 5-5 7-10 6-16 4-19 3-23 3-36 2-35 5-139 7-280 2-42 1-3 1 10 2 52 8 313 5 115 4 48 4 26 3 12 4 11 4 7 5 6 5 3 4 0 4 0 10-6 3 1 9 2 4 0 3-2 5-6 4-8 4-14 3-15 3-25 2-24 4-76 3-86 6-221 2-50 1-10 1 0 2 34 8 282 3 76 3 52 4 41 4 23 3 10 3 7 3 5 4 5 5 3 4 0 4-3 3-4 4-9 10-31 3-5 5-6 2-4 3-13 3-29 3-48 8-212 2-31 1-2 1 6 2 38 8 217 3 49 3 30 3 15 1 3 2 3 1 0 2-2 5-7 2-2 2 1 2 2 4 10 10 34 4 8 4 5 6 2 9 0 8-3 6-4 4-6 4-8 3-9 3-15 4-36 3-44 9-223 2-26 1-1 2 23 7 180 4 73 3 34 3 20 3 12 2 4 2 3 2 0 1 0 2-2 4-11 4-20 6-38 2-9 1-2 1 0 1 1 2 8 8 56 4 21 2 7 3 7 2 3 3 2 4 0 10-5 4 0 4 2 9 10 4 4 5 3 7 1 10 0 11-1 8-2 5-2 3-3 3-5 5-14 4-19 7-44 2-9 1-2 1-1 1 1 2 7 8 50 4 18 5 13 2 3 3 2 3 1 3-1 9-6 4-2 4 2 10 9 5 2 4 0 8-2 11-1 4-2 7-6 3-1 4 1 7 4 4 0 2-1 3-3 10-16 3-1 2 1 2 2 9 17 4 6 5 5 5 2 8 2 12 1 54 1" stroke="#0072BD"/>
<path d="M205 3188l46-1 32-2 24-3 17-5 13-6 5-4 5-5 4-5 4-7 6-17 4-19 3-23 3-34 3-51 5-137 8-303 2-34 1-1 1 9 2 49 9 336 5 112 4 50 5 33 3 12 3 8 4 8 5 6 4 3 5 0 13-5 12 2 3-1 3-2 5-7 4-9 4-15 3-18 5-53 4-77 10-328 2-43 1-8 1 2 2 32 9 302 3 73 3 51 4 43 4 25 3 11 3 8 3 5 4 5 4 2 4 0 4-3 3-5 4-10 10-31 8-17 4-20 3-28 3-48 9-224 2-25 1-1 1 7 2 36 9 231 3 47 3 28 2 11 3 8 1 1 2 0 5-5 2-1 2 1 2 3 4 10 11 38 4 9 4 4 6 3 7 0 8-4 6-5 4-6 4-9 3-11 3-16 4-38 3-45 9-216 2-34 1-8 1 0 2 23 8 195 4 69 2 24 3 24 3 14 2 6 2 3 2 0 2-1 4-10 4-18 7-42 2-7 1-1 1 0 2 5 2 10 10 65 3 13 4 10 3 4 3 2 4-1 8-3 5 1 4 3 11 12 8 5 5 1 7 1 15-2 5-1 4-2 3-3 3-4 4-8 4-14 11-63 2-8 1-1 1-1 2 4 2 9 7 43 5 23 5 13 2 2 3 3 2 0 3 0 10-7 4 0 4 2 10 9 3 1 4 1 19-4 4-2 8-5 3-1 3 0 8 3 3 0 3-2 3-3 9-12 2-2 2 0 2 1 3 3 8 15 5 7 5 5 5 3 7 2 12 1 52 2" stroke="#D95319"/>
<path d="M205 3177l46 0 32-2 23-2 17-3 13-5 10-8 8-10 6-13 4-14 4-25 3-30 3-46 5-122 7-233 2-38 1-6 1 3 2 35 9 289 3 67 3 46 4 39 5 25 3 9 3 7 4 6 5 5 4 2 4 1 4-1 9-4 3 0 10 1 3 0 3-2 5-6 4-8 4-13 3-16 4-35 4-60 4-95 7-208 2-30 1-3 1 6 2 35 8 236 3 65 3 46 4 38 4 22 3 10 3 6 3 5 4 4 5 3 4-1 4-3 3-4 4-9 9-24 9-16 4-17 3-26 3-43 8-176 2-28 1-4 1 3 2 25 9 200 3 42 3 26 3 14 3 5 1 0 2-1 6-4 2 0 3 3 4 9 10 30 4 8 4 4 6 3 7 0 8-3 6-4 4-5 4-7 3-8 3-13 4-29 3-35 4-70 6-132 2-25 1-3 1 3 2 25 7 151 4 62 2 21 3 22 3 13 2 5 2 3 2 1 2-1 2-2 2-5 4-15 8-40 2-5 1-1 2 3 2 8 10 57 3 11 4 9 3 4 4 1 3 0 8-3 5 0 4 3 11 10 8 4 12 2 16-1 9-3 6-6 4-8 4-12 10-50 2-7 2-4 1 1 1 1 2 7 8 42 4 15 5 12 2 2 3 3 5 0 10-6 4 0 4 1 10 8 3 1 4 1 20-3 14-8 3 0 8 3 3 0 5-2 10-12 4-3 2 1 3 3 9 14 5 6 5 4 5 2 8 2 12 1 51 1" stroke="#EDB120"/>
<path d="M205 3193l45-1 32-1 24-3 17-4 13-5 10-7 8-11 6-13 4-16 4-25 3-30 3-46 5-121 7-230 2-39 1-7 1 2 2 31 9 284 3 69 3 48 4 41 5 27 3 9 3 7 4 7 5 5 4 2 4 0 4-1 9-3 3 0 10 1 3-1 3-2 5-6 4-8 3-10 3-14 5-41 4-61 4-93 7-206 2-31 1-4 1 5 2 32 8 232 3 66 3 48 4 40 4 23 3 10 3 7 3 5 4 5 4 2 4 0 4-2 3-4 5-11 9-24 8-14 4-15 3-22 3-36 9-189 2-28 1-5 1 1 2 23 7 159 3 54 3 38 3 22 2 9 3 6 1 1 2-1 5-3 2-1 2 1 2 3 4 8 10 30 4 8 4 5 6 2 7 0 8-2 6-5 4-4 4-8 3-8 3-13 4-29 3-36 4-69 6-130 2-25 1-4 1 2 2 23 7 147 5 76 2 19 3 19 3 12 3 5 2 2 2-1 2-3 2-4 4-15 8-39 2-5 1-1 2 3 2 7 11 60 3 10 4 8 3 4 3 1 3 0 9-3 4 0 4 3 12 10 8 4 12 2 15-1 9-4 6-5 4-8 4-13 10-49 2-7 2-4 1 1 1 1 2 6 8 41 4 16 5 12 2 3 3 2 5 0 10-5 4 0 4 1 11 8 6 1 20-3 14-7 3 0 8 3 3 0 5-2 10-12 4-2 2 0 3 3 9 13 5 7 5 4 5 2 8 2 12 1 51 1" stroke="#7E2F8E"/>
<path d="M205 3183l46 0 33-2 24-3 17-3 13-6 5-3 5-5 4-5 4-6 6-16 4-17 4-30 5-72 5-135 7-260 2-41 1-5 1 6 2 42 8 292 3 80 3 55 4 46 5 29 3 11 3 7 4 7 5 6 4 2 5 1 4-1 9-5 3 0 10 2 3 0 3-2 5-7 4-8 4-14 3-17 4-37 4-66 4-104 7-233 2-32 1-1 1 8 2 43 9 289 5 91 4 39 4 22 3 10 3 7 3 5 4 4 4 3 4 0 4-3 3-4 4-9 10-29 9-16 2-7 2-11 3-28 3-47 8-197 2-30 1-4 1 4 2 31 9 223 3 44 3 26 3 14 1 2 2 2 2 0 7-7 2 1 2 2 4 9 11 35 4 8 4 4 6 3 7 0 8-3 6-5 4-4 4-8 3-9 3-13 4-31 3-39 4-78 6-147 2-26 1-2 1 5 2 30 7 169 4 66 2 22 3 22 3 13 2 6 2 2 2 1 2-1 2-3 2-5 4-17 8-45 2-5 1-1 2 4 2 9 10 63 3 12 4 9 3 4 4 1 3 0 8-4 3 0 2 0 4 3 11 11 8 5 5 1 7 0 16-1 9-3 3-3 3-3 4-8 4-14 10-56 2-8 2-3 2 3 2 8 7 41 5 22 5 12 2 3 3 2 2 0 3 0 10-7 3 0 4 1 11 9 5 2 22-3 4-2 7-5 3-2 3 0 7 4 4 0 3-1 2-1 10-14 2-2 2-1 2 1 3 3 8 14 5 7 5 5 5 2 8 2 12 1 51 1" stroke="#77AC30"/>
<path d="M205 3193l46-1 32-2 23-2 17-4 13-5 10-8 4-5 4-6 6-14 4-16 4-27 5-66 5-123 8-282 2-31 1 0 1 10 2 49 8 283 3 74 3 50 4 42 5 27 3 10 3 6 4 7 5 5 4 2 4 1 4-1 10-5 12 2 3 0 3-2 5-6 4-7 4-13 3-15 5-46 4-68 4-106 6-198 2-39 1-7 1 3 2 33 8 254 3 72 3 50 4 41 4 23 3 11 3 7 3 5 4 4 4 3 4 0 4-2 3-4 5-10 10-29 8-13 2-6 2-9 3-25 3-42 9-210 2-23 1 0 1 8 2 35 8 196 3 47 3 28 3 15 3 6 1 1 2-1 5-6 2-1 2 1 2 3 4 9 10 32 4 8 4 5 6 2 8 0 8-3 6-5 4-4 4-8 3-9 3-14 4-33 3-40 3-56 6-144 2-32 1-6 1 1 2 23 7 162 5 81 2 20 3 20 3 12 2 4 2 3 2 0 2-1 4-9 4-17 7-39 2-7 1-1 1 0 1 2 2 7 7 45 4 21 3 11 3 7 3 4 4 2 3-1 9-4 4 1 4 2 12 12 7 4 5 1 7 0 16-1 9-3 6-5 4-7 4-13 4-18 7-40 2-7 1-2 1 0 1 1 2 7 8 45 4 17 5 13 2 3 3 2 3 0 3 0 9-6 4-1 4 2 10 8 6 2 21-3 4-2 8-5 3-1 3 0 8 3 3 1 3-2 3-3 9-12 2-2 2 0 2 1 2 2 9 15 5 7 5 4 5 3 8 1 12 1 52 1" stroke="#4DBEEE"/>
<path d="M205 3184l46-1 32-2 23-3 17-4 13-6 5-4 5-5 4-5 4-7 6-17 4-19 3-22 3-35 3-51 5-141 7-274 2-47 1-8 1 4 2 39 9 338 3 79 3 54 4 45 5 29 3 11 3 7 4 7 5 6 4 2 4 1 4-1 9-5 3 0 10 2 3-1 3-2 5-7 4-9 4-15 3-18 4-40 4-69 4-109 7-245 2-37 1-4 1 6 2 41 8 276 3 76 3 54 4 44 4 25 3 11 3 8 3 6 4 5 4 2 4 1 4-3 3-5 5-12 9-28 9-18 2-7 2-12 3-30 3-49 8-206 2-34 1-6 1 3 2 29 9 234 3 49 3 30 3 16 3 6 1 1 2-1 6-6 2 0 3 4 4 10 10 35 4 9 4 5 6 3 7 0 8-3 6-5 4-5 4-8 3-10 3-14 4-33 3-41 4-81 6-155 2-30 1-4 1 3 2 29 7 176 4 73 2 25 3 25 3 16 2 6 2 3 2 1 3-2 4-11 4-19 7-41 2-7 1-1 2 4 2 9 7 48 4 23 3 11 3 8 3 4 4 2 3-1 8-3 3-1 2 1 4 3 11 12 8 5 5 1 7 1 16-2 9-3 3-3 3-4 4-8 4-15 10-58 2-9 2-4 1 0 1 2 2 8 8 49 4 18 5 14 2 2 3 3 2 1 3-1 10-6 4-1 4 2 10 9 3 1 4 1 20-4 14-8 4 0 8 3 3 0 5-3 9-14 2-2 2-1 2 1 3 3 9 17 5 7 5 5 5 2 8 2 12 1 52 1" stroke="#A2142F"/>
<path d="M205 3183l47-1 33-2 24-2 17-4 7-3 6-3 5-4 5-5 7-11 6-17 4-19 4-34 5-81 4-116 7-285 2-50 1-9 1 4 2 43 8 318 3 85 3 58 4 48 4 26 3 12 4 10 4 7 5 6 5 3 4 1 4-2 9-4 3-1 10 3 3-1 3-1 5-7 4-8 4-13 3-16 3-25 2-25 4-74 3-85 7-255 2-40 1-4 1 6 2 44 9 314 5 97 4 41 4 22 3 10 3 7 3 5 4 5 4 2 4 1 4-3 3-4 5-12 10-31 2-4 5-6 2-5 3-13 3-28 3-47 8-213 2-37 1-6 1 3 2 31 9 242 3 47 3 28 3 14 1 2 2 3 1 0 2-2 6-8 2 0 2 2 5 13 10 34 3 7 4 5 6 3 7 0 8-2 7-5 5-6 4-8 3-10 3-15 4-35 3-44 3-64 6-161 2-32 1-5 1 4 2 31 7 183 4 71 2 24 3 23 3 14 2 5 2 3 1 1 2 0 2-2 4-10 4-20 7-44 2-7 1-1 1 1 1 3 2 9 10 68 3 13 4 10 3 4 4 1 3-1 8-4 3-1 2 1 4 3 11 12 7 4 6 2 7 0 9 0 8-1 9-4 3-3 3-4 4-9 3-10 4-21 7-45 2-7 1-1 1 0 1 2 2 9 7 44 5 24 5 13 2 2 3 3 3 0 3-1 9-7 3-1 4 2 11 10 5 1 12-2 10-1 4-2 8-6 3-1 3 1 7 3 4 1 2-1 3-3 9-14 2-2 2-1 2 0 3 4 8 15 5 8 5 5 5 2 8 2 12 1 52 1" stroke="#0072BD"/>
<path d="M205 3178l47 0 32-2 23-2 17-3 13-5 5-3 5-4 7-9 6-14 4-15 4-27 5-65 4-94 8-269 2-31 1 0 1 10 2 48 8 268 5 98 4 42 4 23 3 10 4 9 4 6 5 5 5 3 4 1 4-1 10-5 12 3 4-1 3-2 5-5 5-10 3-10 3-15 4-33 4-60 4-98 6-188 2-39 1-7 1 2 2 33 8 242 3 65 3 44 4 36 4 19 3 9 3 7 3 4 4 4 5 3 4-1 4-2 3-4 4-8 10-26 9-12 2-6 2-10 3-27 2-27 9-199 2-23 1 0 1 8 2 34 8 186 3 41 3 26 3 13 3 4 3-1 5-6 2-1 2 0 2 3 4 8 10 30 4 7 4 4 6 2 8 0 8-3 6-3 4-5 4-6 3-8 3-12 4-28 3-35 3-52 6-137 2-31 1-6 1 0 2 23 7 154 4 63 2 21 3 20 3 13 2 4 2 3 3 1 2-1 4-8 4-16 7-37 2-7 1-1 1 0 1 1 2 8 7 42 4 20 3 9 3 7 3 3 4 1 3 0 9-4 4 0 4 2 11 10 8 4 13 2 16-1 9-3 6-5 4-8 3-8 4-18 7-37 2-7 1-2 1 0 1 1 2 7 8 42 4 16 5 11 2 3 3 2 3 0 3-1 9-5 4-1 4 1 10 8 5 2 23-3 11-7 3-1 3 1 8 3 3 0 5-2 10-14 2-1 2-1 2 1 2 3 9 14 4 5 5 4 5 2 8 2 12 1 54 1" stroke="#D95319"/>
<path d="M205 3191l46 0 33-2 23-2 17-3 13-5 10-7 7-8 6-13 4-14 4-25 5-60 5-113 7-223 2-35 1-5 1 6 2 36 9 275 5 88 4 37 5 25 3 8 3 6 4 6 5 5 5 2 4 0 13-4 3 0 10 2 3-1 3-2 5-5 4-7 4-11 3-14 4-31 4-55 4-88 7-199 2-27 1-2 1 8 2 37 8 224 5 87 4 37 4 21 3 9 3 7 3 4 4 4 5 3 4 0 4-2 3-4 5-10 9-22 9-13 2-5 2-9 3-24 3-39 8-168 2-26 1-4 1 4 2 27 9 190 3 37 3 22 2 8 3 6 1 0 2 0 7-7 2 1 2 1 4 8 11 30 3 5 4 4 6 3 7 0 8-2 6-3 5-5 4-6 3-7 3-11 4-26 3-32 4-66 6-126 2-22 1-3 1 5 2 26 7 144 4 56 2 18 3 19 3 10 2 5 2 2 3 0 2-1 4-9 3-11 8-39 2-5 1 0 2 3 2 8 10 53 3 10 4 8 3 3 4 1 11-4 5 1 4 2 11 9 7 4 12 1 16-1 10-2 6-5 4-7 4-11 10-48 2-7 2-2 2 2 2 7 7 35 4 16 5 11 2 3 3 2 3 1 3-1 10-5 3-1 4 1 11 8 5 1 22-2 14-7 4 0 7 3 4 0 5-3 9-11 2-2 2 0 2 0 3 3 8 12 5 6 5 4 5 2 8 2 12 0 53 1" stroke="#EDB120"/>
<path d="M205 3183l46-1 32-2 23-2 17-3 13-5 10-7 8-9 6-13 4-15 4-25 5-60 5-114 7-228 2-38 1-6 1 4 2 34 8 255 3 70 3 48 4 39 5 26 3 9 3 6 4 6 5 5 5 3 4 0 4-1 9-4 3 0 10 2 3-1 3-1 5-6 4-7 4-11 3-14 4-31 4-55 4-89 7-204 2-30 1-3 1 6 2 35 9 252 5 80 4 34 4 19 3 9 3 6 3 4 4 4 4 2 4 0 4-2 3-4 5-10 9-23 9-13 2-6 2-9 3-23 3-40 8-171 2-28 1-5 1 3 2 26 9 194 3 38 3 24 3 12 3 4 3-1 6-6 2 0 3 3 4 9 10 28 4 7 4 4 6 2 8-1 8-2 6-4 4-5 4-7 3-8 3-13 4-30 3-37 9-181 2-25 1-3 1 3 2 25 7 147 4 58 2 20 3 19 3 11 2 5 2 2 3 1 2-1 4-9 4-16 7-35 2-5 1-1 2 3 2 8 10 54 3 11 4 8 3 3 4 1 3 0 8-3 5 0 4 2 11 10 8 4 12 1 16-1 9-3 6-4 4-7 4-12 10-48 2-7 2-4 1 1 1 2 2 6 8 41 4 14 5 11 2 2 3 2 5 0 10-6 3 0 4 1 11 8 5 1 22-3 14-7 4 1 8 3 3 0 5-3 9-12 4-2 2 1 3 2 9 14 4 5 5 4 5 2 8 2 12 0 53 1" stroke="#7E2F8E"/>
<path d="M205 3183l80-1 23-1 17-2 13-4 10-5 7-7 6-9 4-12 4-19 3-26 2-24 5-97 6-165 2-36 1-7 1 2 2 28 8 211 3 55 3 37 4 29 4 16 3 7 4 7 4 4 5 4 5 2 4 0 13-4 3 0 10 2 4-1 3-1 5-4 5-8 3-7 3-10 4-25 4-46 4-76 6-148 2-29 1-4 1 4 2 29 7 170 3 54 3 37 4 29 4 15 3 7 3 5 3 4 4 3 5 2 4 1 4-2 3-2 5-8 10-20 2-2 5-4 2-2 2-4 2-7 3-20 3-35 7-128 2-26 1-5 1 1 2 21 6 115 3 45 3 30 3 18 3 9 3 2 3-1 6-6 2 0 2 1 5 8 10 23 3 4 4 3 6 2 7 0 8-1 7-3 5-4 4-5 3-5 3-9 4-21 3-28 3-40 6-108 2-23 1-4 1 2 2 21 7 122 4 46 2 14 3 15 3 8 4 5 3 1 2-1 4-6 4-13 7-30 2-5 1-1 2 2 2 7 7 33 4 15 5 10 3 3 3 1 4 0 9-4 4 0 4 1 14 10 5 2 6 0 22 0 8-1 5-2 3-2 3-3 5-10 4-13 7-30 3-6 1 0 1 1 2 6 7 29 4 13 5 10 5 3 3 1 3-1 10-4 4-1 4 1 10 6 5 2 12-2 11-1 11-5 3-1 3 1 8 3 3 0 3-1 3-2 9-10 2-1 2 0 4 2 12 15 5 3 5 2 7 1 13 1 54 0" stroke="#77AC30"/>
<path d="M205 3179l47-1 33-2 23-2 17-3 13-5 10-8 7-8 6-14 4-15 4-28 5-68 4-96 7-232 2-36 1-4 1 7 2 41 9 283 5 86 4 35 4 19 3 9 3 6 4 6 5 5 5 3 4 0 4 0 10-5 3 0 10 2 3 0 3-2 5-5 4-7 4-11 3-13 4-30 4-54 4-89 7-207 2-28 1-1 1 9 2 41 8 232 5 85 4 35 4 19 3 9 3 6 3 4 4 4 5 2 4 1 4-3 3-3 4-8 10-25 3-5 5-5 2-3 3-11 3-24 3-39 8-176 2-26 1-3 1 5 2 30 8 179 3 42 3 25 3 13 3 5 1 0 2-1 5-6 2-1 2 0 2 2 4 8 10 28 4 7 4 4 6 2 8 0 8-2 7-5 4-4 4-6 3-8 3-13 4-29 3-37 9-184 2-23 1-1 1 5 2 29 6 131 4 62 3 29 3 17 3 10 2 4 2 2 3 1 2-2 4-9 4-16 7-36 2-5 1-1 1 2 2 6 8 46 4 17 5 13 2 2 3 2 4 0 10-4 4 0 4 2 13 11 5 2 7 2 10 0 11-1 8-1 5-3 3-2 3-4 5-12 4-15 8-41 2-5 1-1 1 1 2 5 8 41 4 16 5 11 2 2 3 2 3 1 3-1 10-6 3-1 4 2 10 7 6 2 11-2 11-1 14-7 4 1 7 3 4 0 5-3 9-12 2-2 2 0 2 0 2 2 13 19 5 4 5 2 8 2 12 1 54 1" stroke="#4DBEEE"/>
<path d="M205 3176l48-1 33-1 24-2 17-3 13-4 10-7 7-8 6-13 4-15 4-27 3-34 2-33 4-97 7-234 2-33 1-2 1 9 2 46 8 261 5 92 4 37 4 20 3 10 4 8 4 6 5 4 5 3 4 0 4-1 10-4 3 0 9 2 4 0 3-2 5-4 5-9 3-9 3-12 3-20 2-20 4-61 3-72 6-184 2-42 1-8 1 2 2 30 8 236 3 61 3 41 4 33 4 17 3 8 3 6 3 4 4 3 4 2 4 1 4-2 3-3 5-9 10-25 3-4 5-4 2-3 3-11 3-23 3-40 8-177 2-25 1-2 1 7 2 33 8 181 3 39 3 23 3 12 1 2 2 1 3-1 5-6 2-2 2 0 2 2 4 9 10 28 3 5 4 4 6 2 8 1 8-2 7-4 5-5 4-6 3-8 3-12 4-29 3-36 9-186 2-21 1 0 2 21 7 150 4 60 2 19 3 19 3 11 4 7 3 1 2-1 4-7 4-15 8-41 2-5 1 0 1 1 2 8 7 41 4 18 5 13 3 4 3 2 5-1 9-4 4 0 4 2 8 8 5 3 5 3 7 1 11 0 11-1 8-2 5-2 3-3 3-4 4-10 4-16 7-37 2-7 1-2 1 0 1 1 2 6 8 42 4 15 5 10 2 2 3 2 3 0 3-1 9-5 4-1 4 1 10 8 5 1 12-2 11 0 4-2 7-5 3-1 3 1 8 3 4 1 5-4 10-13 3-1 2 1 2 2 9 14 4 5 4 3 5 2 7 2 13 1 53 1" stroke="#A2142F"/>
<path d="M205 3178l45-1 32-1 23-2 17-3 13-5 10-6 8-8 6-11 4-13 4-21 3-26 3-38 5-103 7-195 2-31 1-5 1 3 2 28 9 241 3 57 3 39 4 33 5 22 3 8 3 5 4 5 5 5 4 1 4 1 13-4 12 1 6-2 5-4 4-6 4-10 3-12 5-35 4-51 4-79 7-174 2-25 1-3 1 5 2 30 8 197 3 54 3 39 4 33 4 18 3 9 3 5 3 4 4 4 4 2 4 0 4-2 3-3 5-9 9-20 8-12 4-12 3-18 3-32 9-160 2-23 1-4 1 2 2 21 9 168 3 35 3 22 3 12 3 4 3 0 6-4 2 0 3 3 4 8 10 25 4 6 4 4 6 2 7 0 8-2 6-4 4-4 4-6 3-7 3-11 4-24 3-30 3-42 7-127 2-20 1-3 1 3 2 20 7 126 4 52 2 18 3 19 3 11 2 4 2 3 2 1 2-1 4-6 4-13 8-33 2-4 1-1 2 3 2 6 7 35 4 16 3 8 3 6 3 3 4 1 11-2 5 0 4 2 11 8 8 4 12 1 16-1 9-2 6-5 4-6 3-8 4-14 7-31 2-6 2-3 2 2 2 6 8 34 4 13 5 10 2 3 3 1 5 0 10-4 4-1 4 2 10 6 7 2 20-3 14-6 3 0 8 2 3 0 5-2 10-10 4-2 2 1 3 2 9 12 5 5 5 3 5 2 8 2 12 1 52 1" stroke="#0072BD"/>
<path d="M205 3182l47 0 33-1 23-2 17-4 13-5 5-3 5-5 7-9 6-15 4-16 4-29 3-37 2-36 4-107 7-273 2-49 1-8 1 5 2 44 9 333 5 100 4 41 4 22 3 11 4 9 4 6 5 5 5 3 4 0 4-1 9-5 3 0 10 3 4-1 3-1 5-7 5-10 3-11 3-16 4-37 4-67 4-111 6-213 2-39 1-3 1 7 2 45 8 273 5 99 4 41 4 22 3 10 3 7 3 5 4 4 5 4 4 0 4-2 3-4 5-11 10-29 2-3 5-5 2-3 2-6 2-11 3-30 2-31 8-205 2-35 1-6 1 3 2 32 8 211 3 49 3 30 3 16 3 6 1 0 2-1 7-9 2-1 2 2 4 9 11 35 3 6 4 5 6 2 8 0 8-2 6-4 5-5 4-7 3-9 3-13 4-31 3-40 3-59 6-155 2-31 1-4 1 4 2 31 6 154 5 87 2 20 3 20 3 12 2 5 2 2 3 1 2-2 4-9 4-18 7-43 2-7 1-1 1 1 2 7 8 53 4 21 2 7 3 7 2 3 3 2 4 0 10-5 4 0 4 2 13 13 5 3 7 1 11 1 11-1 8-2 5-3 3-3 3-5 4-10 4-18 8-48 2-7 1-2 1 1 1 2 2 8 7 44 4 18 5 13 2 3 3 2 3 1 3-1 10-7 3-1 4 1 11 10 5 2 12-3 10 0 4-2 8-6 3-1 3 0 7 4 4 1 2-1 3-3 9-14 2-2 2-1 2 1 2 2 9 16 4 6 5 5 5 2 8 2 12 1 54 1" stroke="#D95319"/>
<path d="M205 3171l48-1 33-1 24-2 17-3 13-5 5-4 5-4 7-9 6-14 4-16 4-28 5-69 4-100 7-243 2-41 1-5 1 6 2 41 9 298 5 91 4 37 4 21 3 9 4 9 4 6 5 4 4 2 4 1 4-1 10-4 3 0 10 2 3 0 3-2 5-5 4-7 4-11 3-14 3-21 2-20 4-64 3-73 7-218 2-31 1-2 1 8 2 41 8 244 5 90 4 38 4 20 3 9 3 7 3 4 4 4 5 3 4 0 4-2 3-3 5-11 9-24 3-5 5-5 2-3 3-11 3-24 3-40 8-184 2-29 1-5 1 5 2 29 8 189 3 45 3 27 3 14 3 5 1 1 2-1 7-8 2 0 2 2 4 8 11 32 3 5 4 4 6 3 8 0 8-3 6-3 5-5 4-7 3-8 3-13 4-30 3-38 9-192 2-26 1-3 1 5 2 29 6 138 5 77 2 19 3 19 3 11 2 4 2 2 3 1 2-2 4-9 4-17 7-38 2-5 1-1 1 1 2 6 8 48 4 19 5 13 2 2 3 3 4 0 10-5 4 0 4 2 13 12 5 2 7 2 11 0 11-1 8-2 5-2 5-6 5-12 4-16 8-43 2-6 1-1 2 3 2 8 7 38 4 16 5 12 2 3 3 2 3 1 3-1 10-6 3-1 4 1 11 9 5 1 11-2 11-1 14-7 4 0 7 4 4 0 5-3 9-13 2-2 2 0 2 0 2 2 13 20 5 4 5 3 8 1 12 1 52 1" stroke="#EDB120"/>
<path d="M205 3189l47-1 33-1 23-2 17-3 13-5 10-7 7-8 6-13 4-15 4-26 5-64 4-93 7-236 2-45 1-9 1 2 2 33 8 264 3 71 3 48 4 38 4 21 3 10 4 8 4 6 5 5 5 2 4 0 4-1 9-4 4 0 9 3 4-1 3-2 5-5 5-10 3-9 3-15 4-32 4-59 4-96 6-185 2-36 1-5 1 4 2 35 8 238 5 91 4 38 4 21 3 9 3 7 4 5 4 4 4 2 4 1 4-2 3-4 5-9 10-26 9-11 2-5 2-10 3-26 3-44 7-159 2-33 1-7 1 2 2 24 9 201 3 39 3 23 3 12 1 2 2 1 3-1 6-7 2 0 3 3 4 8 10 29 3 5 4 5 6 2 7 0 8-2 7-3 5-5 4-7 3-7 3-12 4-27 3-35 3-51 6-134 2-29 1-5 1 2 2 24 7 152 4 60 2 19 3 19 3 11 2 4 2 3 3 1 2-2 4-8 4-15 7-37 2-7 1-1 1 1 1 1 2 8 7 42 5 22 2 6 3 5 2 3 3 1 4 0 9-4 4 0 4 1 9 9 5 3 5 3 7 1 10 0 11-1 8-2 5-2 3-3 3-4 5-12 4-17 7-37 2-7 1-1 1 0 1 2 2 6 7 38 5 19 5 11 2 2 3 2 3 0 3-1 9-6 3-1 4 1 10 8 6 2 12-2 11-1 11-6 3-1 3 0 8 4 3 0 3-1 3-3 9-12 2-1 2 0 4 3 12 18 5 4 5 2 8 2 12 1 54 1" stroke="#7E2F8E"/>
<path d="M205 3171l46 0 33-2 23-1 17-3 13-5 10-6 8-10 6-12 4-15 4-24 5-62 5-118 7-238 2-37 1-3 1 8 2 43 8 266 3 68 3 45 4 37 4 19 3 10 3 6 4 6 5 5 5 3 4 1 4-1 10-4 3 0 9 2 4-1 3-1 5-5 4-7 4-12 3-14 4-31 4-56 4-93 7-213 2-27 1 0 1 9 2 43 8 239 5 87 4 36 4 20 3 9 3 6 3 4 4 4 5 3 4 0 4-2 3-4 4-7 10-27 3-4 5-5 2-4 3-12 3-24 3-42 8-180 2-27 1-2 1 5 2 32 8 185 3 42 3 26 3 14 3 5 1 0 2-1 5-6 2-2 2 1 2 2 4 8 10 29 4 7 4 4 6 3 8 0 8-3 7-4 4-5 4-6 3-9 3-13 4-30 3-39 9-189 2-23 1-1 1 6 2 30 6 135 4 64 3 29 3 18 3 10 2 4 2 2 3 1 2-2 4-9 3-12 8-42 2-5 1-1 1 2 2 7 8 47 4 18 5 12 2 3 3 2 4 0 10-5 4 0 4 3 13 11 5 2 7 2 10 0 11-1 8-1 5-3 3-2 3-4 5-12 4-17 7-37 2-8 2-3 1 1 2 6 8 42 4 16 5 12 2 2 3 2 3 1 3-1 9-5 4-2 4 2 10 7 6 2 11-2 11-1 4-1 7-5 3-1 4 0 7 4 4 0 5-3 10-13 3-2 2 1 2 2 9 14 4 5 5 4 5 3 8 1 12 1 53 1" stroke="#77AC30"/>
<path d="M205 3172l80-1 23-2 17-3 13-4 10-6 7-7 6-11 4-12 4-23 5-55 4-80 7-197 2-33 1-5 1 5 2 33 9 241 5 73 4 30 4 16 3 8 3 5 4 5 5 4 5 2 4 1 4-1 10-3 3 0 10 2 6-2 5-4 4-6 4-9 3-10 3-17 2-16 4-51 3-59 7-176 2-26 1-2 1 7 2 33 8 198 5 72 4 30 4 16 3 7 3 5 3 4 4 3 5 2 4 0 4-1 3-3 5-8 9-20 3-4 5-3 2-3 3-9 3-19 3-32 8-149 2-24 1-3 1 3 2 24 8 153 3 36 3 21 3 12 3 4 3-1 7-6 2 0 2 1 4 7 11 25 3 5 4 3 6 2 8 0 8-2 7-4 4-3 4-6 3-6 3-10 4-24 3-30 3-44 6-112 2-21 1-2 1 4 2 24 6 111 4 53 3 24 3 15 3 9 4 5 3 0 2-1 4-7 4-14 7-31 2-4 1-1 1 1 2 5 8 39 4 15 5 10 2 2 3 2 4 0 10-3 4-1 4 2 13 10 5 1 7 2 11 0 11-1 8-1 5-2 3-3 3-3 4-8 4-13 8-35 2-5 1-1 1 1 2 4 8 35 4 13 5 10 5 3 3 1 3-1 10-5 3 0 4 0 11 8 5 1 11-2 11-1 14-6 4 0 7 3 4 1 5-3 9-10 4-2 2 0 2 2 13 16 5 3 5 2 8 1 12 1 54 1" stroke="#4DBEEE"/>
<path d="M205 3187l46-1 32-1 23-2 17-4 13-5 10-7 4-4 4-6 6-14 4-15 4-26 3-31 3-48 4-96 8-271 2-37 1-5 1 6 2 38 9 299 3 67 3 46 4 39 4 21 3 11 3 7 4 7 5 5 4 2 5 1 13-5 3 0 9 2 3 0 3-2 5-5 4-8 4-12 3-14 5-43 4-63 4-99 7-214 2-28 1-2 1 8 2 39 9 268 5 87 4 38 4 21 3 10 3 7 3 5 4 4 4 2 4 0 4-2 3-4 4-9 10-27 9-16 3-12 3-23 3-38 9-199 2-27 1-3 1 4 2 28 9 206 3 42 3 26 2 10 3 7 1 1 2 0 7-6 2 1 3 3 4 10 10 31 4 7 4 4 6 3 7-1 8-2 6-4 4-5 4-8 3-8 3-13 4-31 3-37 3-52 7-156 2-24 1-2 1 5 2 27 7 156 4 63 2 21 3 21 3 13 2 5 2 3 2 1 2-1 4-8 4-16 7-37 2-7 1-2 1 0 2 3 2 9 10 58 3 11 4 9 3 4 4 1 3 0 8-3 5 0 4 3 11 10 8 4 12 2 16-1 9-3 3-3 3-3 4-8 3-9 4-18 7-38 2-7 2-3 2 3 2 7 8 43 4 16 5 11 2 3 3 2 5 0 10-6 4-1 4 2 10 8 3 1 4 1 20-3 14-8 3 0 7 3 4 0 5-2 10-13 2-2 2 0 2 0 3 4 9 14 4 5 5 5 5 2 8 2 12 1 52 1" stroke="#A2142F"/>
<path d="M205 3188l79-1 24-1 17-3 13-3 10-6 7-6 6-10 4-11 4-20 5-48 5-93 7-182 2-26 1-1 1 8 2 35 8 204 5 75 4 32 4 17 3 8 4 7 4 5 5 3 5 2 4 1 14-4 12 2 4-1 3-1 5-4 5-8 3-7 3-10 3-17 2-17 4-51 9-201 2-31 1-6 1 1 2 24 8 184 3 50 3 33 4 28 4 14 3 7 3 5 3 3 4 3 5 2 4 0 4-2 3-3 4-6 10-20 2-2 7-6 2-5 2-7 3-19 2-20 3-43 6-109 2-18 1-1 1 5 2 26 8 142 3 31 3 20 3 10 3 3 3-1 5-5 2-1 2 1 2 1 4 7 10 22 4 6 4 3 6 1 9 0 8-2 6-3 4-3 4-6 3-6 3-10 4-25 3-30 8-131 2-25 1-5 1 0 2 16 7 118 4 48 2 15 3 16 3 9 4 6 3 1 2-1 4-6 4-11 7-29 2-6 1-1 1 0 3 7 8 36 4 14 5 9 2 2 3 1 5 0 9-3 4 0 4 2 13 8 5 2 7 1 21 0 8-2 5-1 6-5 5-10 4-13 7-29 2-5 2-2 1 1 2 5 8 32 4 12 5 9 5 3 6 0 9-4 4-1 4 1 10 6 5 1 23-2 14-6 3 1 8 2 3 1 5-2 10-11 4-1 4 2 13 15 5 3 5 2 20 2 53 0" stroke="#0072BD"/>
<path d="M205 3185l80-2 23-2 17-2 13-4 10-6 7-6 6-11 4-12 4-20 5-52 4-74 7-191 2-37 1-7 1 2 2 27 8 213 3 57 3 38 4 31 4 17 3 7 4 7 4 5 5 3 5 2 4 1 14-4 12 2 4-1 3-1 5-5 5-8 3-7 3-12 4-26 4-47 4-77 6-150 2-29 1-4 1 4 2 28 8 192 5 73 4 31 4 16 3 8 3 5 3 4 4 3 5 2 4 0 4-1 3-3 5-7 10-21 9-9 2-4 2-8 3-21 3-35 7-129 2-26 1-6 1 1 2 20 9 162 3 32 3 18 3 10 3 2 3-1 6-5 2-1 2 2 5 8 10 23 3 4 4 3 6 2 7 1 8-2 7-3 5-4 4-5 3-6 3-9 4-22 3-28 3-41 6-109 2-23 1-4 1 1 2 20 7 123 4 48 2 15 3 15 3 9 4 6 3 1 2-2 4-6 4-13 7-30 2-5 1-1 2 2 2 7 7 33 5 18 5 9 2 2 3 1 4 0 9-3 4-1 4 2 14 10 5 1 7 1 21 0 8-2 5-2 3-2 3-3 5-10 4-14 7-30 3-6 1 0 1 1 2 6 7 30 5 16 5 8 5 3 6 0 9-5 4-1 4 2 10 6 5 1 23-2 11-5 3-1 3 0 8 3 3 0 3-1 3-2 9-9 2-2 2 0 4 3 12 14 5 4 5 2 8 1 12 1 54 0" stroke="#D95319"/>
<path d="M205 3177l45-1 32-2 24-3 17-4 13-6 5-3 5-5 4-5 4-7 6-15 4-17 4-28 3-34 3-51 5-137 7-262 2-46 1-8 1 2 2 35 9 324 3 78 3 55 4 45 5 31 3 11 3 7 4 8 5 5 4 3 4 0 4-1 9-4 3 0 10 1 3-1 3-2 5-6 4-10 4-15 3-18 4-39 4-68 4-106 7-235 2-36 1-5 1 5 2 37 8 264 3 76 3 53 4 46 4 25 3 12 3 8 3 6 4 5 4 2 4 1 4-3 4-7 4-9 9-28 9-19 4-19 3-30 3-47 8-197 2-33 1-6 1 1 2 26 7 181 3 62 3 43 3 25 2 10 3 7 1 0 2 0 5-5 2 0 2 1 2 3 4 10 10 34 4 9 4 5 3 2 3 1 7-1 8-3 6-4 4-5 4-9 3-9 3-14 4-33 3-40 4-78 6-148 2-30 1-5 1 3 2 25 7 169 5 85 2 22 3 22 3 13 3 6 2 1 2 0 2-3 2-5 4-17 8-45 2-6 1-1 1 1 1 2 2 9 11 68 3 11 3 8 3 4 4 3 3-1 9-3 4 0 4 3 12 12 8 5 5 1 7 1 15-2 5-1 4-2 3-3 3-4 4-8 4-14 10-56 2-9 2-4 1 0 1 2 2 7 8 46 4 18 5 14 2 3 3 3 2 0 3 0 10-6 4-1 4 2 11 9 6 2 20-4 14-8 4 0 8 3 3 0 5-3 10-14 2-1 2 0 4 3 9 16 5 7 5 4 5 3 8 2 12 1 51 1" stroke="#EDB120"/>
<path d="M205 3184l46-1 32-1 23-3 17-3 13-6 5-3 5-5 4-5 4-7 6-15 4-18 4-30 5-73 5-136 7-270 2-45 1-7 1 4 2 40 9 333 3 74 3 51 4 42 4 23 3 11 3 8 4 7 5 6 4 3 5 1 4-1 9-5 3 0 10 2 3 0 3-2 5-7 4-8 4-14 3-17 4-38 4-66 4-106 7-241 2-36 1-3 1 6 2 42 9 299 5 96 4 42 4 23 3 10 3 7 3 6 4 4 4 3 4 0 4-3 3-4 5-12 9-27 9-16 2-7 2-11 3-28 3-47 8-203 2-34 1-5 1 3 2 30 9 230 3 47 3 28 3 15 3 5 1 0 2-1 6-7 2 1 3 3 4 11 10 34 4 8 4 4 6 3 8 0 8-4 6-4 4-6 4-8 3-11 3-15 4-37 3-44 9-215 2-29 1-4 1 4 2 29 7 174 4 70 2 23 3 24 3 14 2 5 2 3 1 1 2 0 2-2 4-10 4-19 7-41 2-6 1-1 2 3 2 10 10 64 3 13 4 10 3 4 4 1 3 0 8-4 3 0 2 0 4 3 11 12 8 4 5 1 7 1 16-1 9-4 3-2 3-4 4-8 4-13 10-58 2-9 2-3 1 0 1 2 2 8 8 48 4 17 5 13 2 3 3 2 2 1 3-1 10-6 3-1 2 0 3 2 10 8 5 2 22-3 14-8 4 0 8 4 3-1 5-3 9-13 2-2 2-1 2 0 3 4 9 16 4 6 5 4 5 3 8 2 12 1 53 1" stroke="#7E2F8E"/>
<path d="M205 3191l77-2 23-2 17-2 13-4 10-6 8-7 6-10 4-12 4-18 3-22 3-33 5-89 8-194 2-22 1-2 1 6 2 30 9 215 3 50 3 34 4 29 4 16 3 8 3 6 4 5 5 4 4 2 5 0 13-3 12 1 6-2 5-4 4-6 4-10 3-12 5-35 4-49 10-210 2-28 1-6 1 1 2 20 9 193 3 47 3 34 4 29 4 16 3 8 3 5 3 3 4 4 4 1 4 0 4-2 3-3 4-7 10-20 8-11 4-13 3-19 3-30 9-144 2-16 1-1 1 4 2 22 9 149 3 30 3 19 2 8 3 5 3 1 7-3 2 0 3 3 4 7 10 23 4 6 4 3 6 2 7-1 7-1 6-3 4-4 4-5 3-6 3-10 4-21 3-25 4-51 7-112 2-14 1 0 1 4 2 21 7 113 4 45 2 16 3 16 3 9 2 4 2 2 2 1 2-1 4-7 4-11 7-27 2-4 2-1 2 3 2 6 10 42 3 8 4 7 3 3 4 1 11-2 5 0 15 10 8 3 12 1 15-1 9-2 6-4 4-6 4-9 11-40 2-5 2-1 2 2 2 5 8 31 4 12 5 8 5 4 5 0 10-4 4 0 4 1 10 6 7 1 19-2 15-6 14 2 6-3 9-8 4-1 2 0 3 3 9 10 5 5 5 3 5 1 8 2 12 0 51 1" stroke="#77AC30"/>
<path d="M205 3181l45-1 32-1 23-3 17-4 13-5 5-4 5-5 4-5 4-6 6-15 4-17 4-29 3-34 3-51 5-133 7-249 2-42 1-7 1 3 2 34 9 308 3 76 3 53 4 45 5 30 3 11 3 8 4 7 5 6 4 2 4 1 4-1 9-4 3 0 10 1 3-1 3-2 5-7 4-9 3-10 3-16 5-47 4-67 4-103 7-223 2-32 1-4 1 5 2 35 8 252 3 73 3 52 4 45 4 25 3 12 3 8 3 6 4 5 4 2 4 0 4-3 3-4 5-11 9-26 8-17 4-16 3-25 3-41 9-205 2-30 1-5 1 2 2 25 10 232 3 41 3 25 2 10 3 7 1 1 2-1 5-3 2-1 2 2 2 2 4 10 11 36 4 7 4 4 6 3 7-1 7-2 6-5 4-5 4-8 3-10 3-15 4-32 3-40 3-54 7-162 2-27 1-4 1 3 2 24 7 160 5 83 2 21 3 22 3 12 3 7 2 1 2-1 2-3 2-5 4-16 8-42 2-6 1 0 2 3 2 8 11 65 3 11 4 9 3 4 3 1 3 0 9-3 4 0 4 3 12 12 8 4 5 1 7 1 15-2 5-1 4-2 3-3 3-4 4-8 3-10 4-18 7-40 2-8 2-3 1 0 1 2 2 7 8 44 4 17 5 13 2 3 3 3 2 1 3-1 10-5 4-1 4 2 11 9 6 1 20-3 14-8 3 0 8 3 3 0 5-3 10-12 4-3 2 1 3 3 9 14 5 7 5 5 5 2 8 2 12 1 52 2" stroke="#4DBEEE"/>
<path d="M205 3184l47-1 33-2 24-2 17-4 13-5 5-3 5-4 7-9 6-13 4-16 4-28 3-35 2-34 4-101 7-255 2-44 1-6 1 6 2 43 9 311 5 92 4 37 4 20 3 10 3 6 4 7 5 5 5 2 4 1 4-1 10-5 3 0 10 3 3 0 3-2 5-5 5-9 4-13 3-15 4-35 4-64 4-105 6-198 2-35 1-2 1 8 2 44 8 255 5 91 4 38 4 20 3 9 3 6 3 4 4 4 5 3 4 0 4-2 3-3 5-11 9-25 3-5 6-5 2-5 2-8 3-23 3-41 8-192 2-32 1-4 1 4 2 31 8 198 3 45 3 27 3 14 3 5 1 0 2-1 7-9 2 0 2 2 4 8 10 31 4 7 4 4 6 2 8 0 8-2 6-3 5-6 4-6 3-8 3-13 4-29 3-38 3-56 6-145 2-28 1-3 1 5 2 31 6 144 4 68 2 22 3 22 4 16 2 4 2 2 3 0 2-1 4-9 4-17 7-41 2-6 1 0 1 1 2 6 8 51 4 19 2 6 3 7 2 2 3 2 4 0 10-5 4 0 4 2 13 12 5 3 7 1 11 1 11-1 8-2 5-3 3-3 3-4 4-10 4-17 8-45 2-6 1-1 1 1 2 5 8 45 4 17 5 12 2 3 3 2 3 0 3 0 10-7 3-1 4 1 9 8 6 3 4 0 9-3 10 0 4-2 7-5 3-1 4 0 8 4 3 1 5-4 9-13 2-2 2-1 2 1 2 2 9 15 4 5 5 5 5 2 8 2 12 1 53 1" stroke="#A2142F"/>
<path d="M205 3183l44 0 32-2 23-2 17-3 13-5 10-7 8-10 6-13 4-15 4-23 3-29 3-42 5-111 8-241 2-28 1-3 1 7 2 36 10 290 5 85 4 37 5 26 3 9 3 7 4 6 5 5 4 2 4 0 13-4 12 1 3-1 3-1 5-6 4-8 4-12 3-16 5-44 4-63 10-261 2-35 1-7 1 0 2 23 9 239 3 61 3 44 4 37 4 21 3 10 3 7 3 5 4 4 4 2 4 0 4-3 3-4 4-8 10-25 8-15 4-17 3-24 3-38 9-178 2-20 1-2 1 5 2 26 9 185 3 39 3 24 3 14 3 5 3 0 6-3 2 1 3 4 4 9 10 28 4 7 4 5 5 2 7 0 8-2 6-4 4-5 4-7 3-8 3-12 4-27 3-32 4-64 7-138 2-18 1-1 1 5 2 25 7 139 4 58 5 42 3 12 2 5 2 3 2 0 2-1 4-7 4-15 7-32 2-6 1-1 1 0 2 3 2 8 10 52 3 11 4 8 3 4 4 2 11-3 5 1 4 3 12 10 8 3 12 2 15-2 8-2 6-6 4-7 3-8 4-15 8-39 2-6 2-2 2 3 2 7 8 38 4 14 5 12 2 2 3 2 5 0 9-4 4-1 4 1 10 7 5 2 5 0 14-2 5-1 9-5 4-1 3 0 8 2 5-1 4-3 9-9 4-2 2 1 3 2 9 13 5 6 5 4 5 2 8 2 12 1 52 1" stroke="#0072BD"/>
<path d="M205 3180l46-1 32-1 23-2 17-4 13-4 10-7 8-9 6-13 4-15 4-24 5-60 5-111 7-221 2-38 1-6 1 4 2 33 9 273 3 61 3 42 4 33 4 19 3 9 3 7 4 5 5 5 5 3 4 0 13-5 3 0 10 2 3 0 3-2 5-5 4-7 4-12 3-14 4-30 4-54 4-87 7-198 2-29 1-3 1 5 2 35 9 245 5 78 4 34 4 19 3 8 3 6 3 4 4 4 4 2 4 0 4-2 3-3 5-10 9-22 9-14 2-5 2-9 3-23 3-39 8-166 2-28 1-4 1 3 2 24 9 189 3 38 3 23 3 12 3 4 3-1 6-5 2 0 3 3 4 8 10 28 4 7 4 3 6 2 8 0 8-3 6-4 4-4 4-7 3-8 3-13 4-30 3-36 9-176 2-24 1-3 1 3 2 24 7 143 4 57 2 19 3 19 3 12 2 4 2 3 3 0 2-1 4-9 4-15 7-34 2-5 1-1 2 3 2 7 10 53 3 11 4 8 3 3 4 1 3 0 8-3 5 0 4 2 11 10 8 4 12 1 16-1 9-3 6-5 4-6 4-12 10-46 2-8 2-3 2 2 2 7 8 39 4 14 5 11 2 2 3 2 5 0 10-6 3 0 5 1 10 7 5 2 22-3 14-7 4 1 8 3 3 0 5-3 9-11 4-3 2 1 3 3 9 13 4 5 5 3 5 3 8 1 12 1 53 1" stroke="#D95319"/>
<path d="M205 3191l79-2 24-2 17-3 13-5 10-6 7-8 6-11 4-13 4-23 5-55 4-78 8-220 2-28 1-2 1 6 2 36 9 241 5 76 4 32 5 21 3 8 3 5 4 5 5 4 4 2 4 0 4 0 10-4 12 2 4-1 3-2 5-4 4-7 4-10 3-13 4-28 4-50 4-80 6-154 2-34 1-7 1 0 2 23 8 197 3 56 3 39 4 33 4 17 3 8 3 6 3 4 4 4 5 2 4 0 4-2 3-4 4-6 10-22 9-12 2-5 2-8 3-22 2-22 9-163 2-20 1-2 1 5 2 25 6 120 3 47 3 32 3 18 2 7 3 5 3 0 7-6 2 1 2 1 4 7 11 27 3 4 4 4 6 2 8 0 8-2 6-4 4-3 4-6 3-6 3-11 4-23 3-30 3-42 7-127 2-18 1-1 1 6 2 25 6 110 5 64 2 16 3 16 3 9 2 4 2 2 2 0 2-1 4-6 4-13 7-31 2-5 1-2 1 0 1 1 2 6 11 51 3 8 3 6 3 3 4 1 4 0 8-3 5 0 4 3 10 7 8 4 12 1 17-1 9-2 6-5 4-6 3-7 4-14 7-31 2-6 2-2 1 1 2 5 8 34 4 14 5 10 5 4 3 0 3 0 9-5 4-1 4 2 10 6 6 2 22-3 14-6 4 0 7 3 3 0 5-2 10-11 4-1 4 2 9 11 5 6 5 3 5 2 8 1 12 1 52 1" stroke="#EDB120"/>
<path d="M205 3178l78-2 23-2 17-3 13-4 10-6 8-9 6-12 4-13 4-23 5-55 5-104 7-208 2-35 1-6 1 4 2 32 8 233 3 63 3 44 4 36 5 23 3 8 3 6 4 6 5 4 5 2 4 0 13-4 3 0 10 2 6-2 5-5 4-7 4-10 3-13 4-28 4-50 4-81 7-187 2-27 1-3 1 6 2 32 9 231 5 72 4 31 4 17 3 8 3 5 3 4 4 4 4 2 4 0 4-2 3-3 5-9 9-22 9-12 2-4 2-9 3-21 3-36 8-157 2-26 1-4 1 3 2 23 9 178 3 35 3 21 3 11 3 4 3-1 6-6 2 0 2 2 5 9 10 26 4 6 4 4 6 1 8 0 8-2 6-4 4-4 4-6 3-8 3-12 4-27 3-34 9-165 2-23 1-3 1 3 2 23 7 134 4 53 2 18 3 18 3 10 2 4 2 3 3 0 2-1 4-8 4-15 7-32 2-5 1 0 2 3 2 7 10 50 3 9 4 8 3 2 4 2 11-4 5 0 4 2 11 9 8 4 12 1 16-1 9-2 6-5 4-6 4-10 10-45 2-6 2-3 2 2 2 6 7 33 5 17 5 10 2 2 3 2 5-1 10-5 3 0 4 1 11 7 5 1 22-2 14-7 4 1 8 2 3 0 5-2 9-11 4-2 2 1 3 2 9 13 4 4 5 4 5 2 8 1 12 1 53 1" stroke="#7E2F8E"/>
<path d="M205 3177l46 0 33-1 23-2 17-3 13-5 10-7 7-8 6-13 4-14 4-25 5-61 4-86 8-244 2-29 1-1 1 8 2 41 8 244 3 62 3 43 4 34 5 23 3 8 3 6 4 5 5 4 4 2 4 1 4-1 10-4 12 2 4 0 3-2 5-5 5-10 3-9 3-14 4-31 4-56 4-88 6-171 2-36 1-7 1 2 2 27 8 219 3 61 3 42 4 34 4 19 3 9 3 6 3 4 4 4 4 2 4 1 4-2 3-3 5-9 10-24 9-12 3-10 3-20 3-34 9-180 2-22 1 0 1 6 2 29 8 169 3 39 3 25 3 12 3 5 3 0 5-5 2-1 2 0 2 2 4 8 10 27 4 7 4 4 6 2 8 0 8-2 6-4 4-4 4-6 3-7 3-11 4-27 3-32 3-48 6-123 2-29 1-6 1 0 2 19 7 139 5 69 2 17 3 17 3 10 2 3 2 2 2 1 2-1 4-8 4-14 7-34 2-6 1-1 1 0 3 8 10 52 3 10 4 9 3 3 4 2 4-1 8-3 4 0 4 2 12 10 7 3 13 2 16-1 9-3 6-5 4-7 3-8 4-16 7-34 2-6 1-2 1 0 1 1 2 6 8 38 4 15 5 10 2 3 3 2 3 0 3 0 9-5 4-1 4 1 10 7 6 2 22-3 11-6 3-1 3 1 8 3 3 0 5-3 10-11 2-2 2 0 4 2 13 18 5 4 5 2 8 2 12 1 54 1" stroke="#77AC30"/>
<path d="M205 3190l47-1 32-1 23-2 17-3 13-5 10-7 7-8 6-13 4-15 4-26 5-64 4-90 7-219 2-38 1-7 1 3 2 32 8 245 3 66 3 46 4 37 4 20 3 10 4 8 4 6 5 4 5 2 4 1 4-1 9-4 3 0 10 2 3 0 3-2 5-4 4-7 4-10 3-13 3-19 2-19 4-58 3-66 7-196 2-31 1-4 1 6 2 33 9 242 5 76 4 31 4 18 3 8 3 5 3 4 4 4 4 2 4 0 4-2 3-3 5-9 10-24 7-8 2-4 3-10 3-22 3-36 8-165 2-28 1-5 1 2 2 24 9 186 3 37 3 22 3 11 3 4 3-1 6-6 2 0 2 2 5 9 10 27 4 7 4 3 6 2 8 0 8-2 6-4 4-4 4-7 3-7 3-12 4-27 3-35 9-173 2-25 1-4 1 3 2 24 7 141 4 55 2 19 3 18 3 11 2 4 2 2 3 1 2-2 4-7 4-15 7-34 2-6 1-1 2 3 2 7 10 53 3 10 4 7 3 3 4 1 3 0 8-3 5 0 4 2 11 9 8 4 13 1 16-1 9-3 6-5 4-7 3-8 4-17 7-34 2-5 1-1 1 0 1 2 2 6 7 34 5 19 5 10 2 2 3 2 3 0 3-1 9-5 3-1 5 2 10 7 5 1 22-2 4-2 8-4 3-1 3 0 7 3 4 0 5-2 9-11 4-3 2 1 3 2 8 12 5 6 5 4 5 2 8 1 12 1 54 1" stroke="#4DBEEE"/>
<path d="M205 3175l45-1 32-2 24-3 17-4 13-5 10-8 8-11 6-14 4-16 4-26 3-31 3-46 5-124 8-274 2-35 1-3 1 6 2 40 10 330 5 95 4 42 5 29 3 10 3 7 4 7 5 5 4 2 4 1 13-5 12 1 3-1 3-1 5-6 4-9 4-14 3-16 4-36 4-62 4-95 7-222 2-41 1-9 1 0 1 8 2 40 9 274 5 92 4 42 4 24 3 11 3 7 3 6 4 4 4 2 4 0 4-3 3-4 4-9 10-29 8-16 4-18 3-26 3-42 9-203 2-25 1-2 1 5 2 29 9 210 3 44 3 28 3 15 3 5 1 1 2-1 6-3 2 0 3 4 4 10 10 32 4 8 4 5 5 2 7 1 8-3 6-4 4-5 4-8 3-8 3-14 4-29 4-51 10-214 2-22 1-1 1 5 2 29 7 158 4 66 5 46 3 14 2 5 2 3 2 1 2-1 4-9 4-16 7-37 2-7 1-1 1-1 2 4 2 9 10 59 3 12 4 10 3 4 4 2 3 0 8-3 5 1 4 2 11 11 8 5 5 1 7 1 15-2 9-3 6-6 4-8 4-12 11-57 2-7 2-3 2 3 2 7 8 44 4 16 5 13 2 3 3 2 2 0 3 0 10-5 4-1 4 2 10 8 3 1 4 1 19-3 4-2 8-5 3-1 4 0 7 3 3 0 5-3 10-13 2-1 2-1 2 1 3 3 9 15 5 6 5 5 5 2 8 2 12 1 50 1" stroke="#A2142F"/>
<path d="M205 3174l46-1 33-1 23-2 17-4 13-4 10-8 7-8 6-13 4-15 3-18 3-28 3-41 5-114 7-218 2-33 1-4 1 5 2 36 9 270 5 88 4 38 5 26 3 8 3 7 4 5 5 5 4 2 5 1 13-5 13 2 3-1 3-1 5-5 4-8 4-12 3-14 4-32 4-56 4-88 7-194 2-26 1-1 1 8 2 36 9 242 5 76 4 33 4 19 3 8 3 6 3 4 4 4 4 2 4 0 4-2 3-4 4-8 10-24 9-14 2-5 2-10 3-24 2-25 9-180 2-24 1-3 1 4 2 26 9 187 3 36 3 23 2 8 3 6 1 1 2 0 7-6 2 0 2 2 4 8 11 30 4 6 4 4 6 2 7 0 8-3 6-3 4-4 4-7 3-7 3-12 4-26 3-33 3-47 7-141 2-22 1-2 1 5 2 26 7 141 4 55 2 19 3 18 3 11 2 5 2 2 2 1 2-1 4-7 4-14 7-34 2-7 1-1 1-1 2 4 2 7 10 53 3 10 4 8 3 3 4 1 11-4 5 1 4 2 11 10 8 3 12 2 16-2 9-2 6-5 4-7 3-8 4-16 7-34 2-7 2-3 2 3 2 7 7 34 5 18 5 11 2 2 3 1 5 0 9-4 4-2 4 2 11 7 5 2 22-3 14-7 3 0 7 3 4 0 5-2 10-12 4-2 2 1 3 3 8 11 5 6 5 4 5 2 8 2 12 1 53 1" stroke="#0072BD"/>
<path d="M205 3171l77-1 23-2 17-2 13-4 10-5 8-7 6-10 4-11 4-18 3-22 3-34 5-89 7-172 2-29 1-5 1 2 2 24 9 212 3 50 3 35 4 30 5 19 6 12 4 5 5 3 4 2 4 0 13-3 13 1 6-2 5-4 4-6 4-9 3-12 4-26 4-44 4-69 7-154 2-23 1-3 1 4 2 24 8 174 3 49 3 34 4 29 4 17 3 7 3 5 3 4 4 3 5 2 4 0 4-2 3-4 4-6 9-18 9-12 4-12 3-19 3-31 8-129 2-22 1-4 1 2 2 17 9 148 3 31 3 20 3 11 3 4 3 0 5-3 2-1 2 1 2 2 4 7 10 22 4 6 4 3 6 2 7 0 8-2 6-3 4-3 4-6 3-6 3-9 4-21 3-26 4-52 6-97 2-19 1-3 1 2 2 18 7 110 4 47 2 16 3 16 3 10 2 4 2 3 2 0 2 0 4-5 4-11 8-30 2-4 1 0 2 2 2 5 7 31 4 14 3 7 3 5 3 3 4 1 12-2 4 0 4 2 12 8 7 3 12 1 16-1 9-2 6-4 4-6 4-9 10-37 2-5 2-3 2 1 2 5 8 31 4 11 5 9 5 4 5 0 10-4 4 0 4 1 10 5 7 2 20-3 14-5 4 0 8 2 3 0 5-2 9-8 4-2 2 0 3 2 9 10 5 5 5 3 5 2 8 1 12 1 52 1" stroke="#D95319"/>
<path d="M205 3181l46-1 32-1 23-2 17-3 13-5 10-6 8-10 6-12 4-14 4-24 5-58 5-107 8-249 2-30 1-2 1 8 2 40 9 274 5 88 4 39 5 25 3 9 3 6 4 6 5 5 4 2 4 1 4-1 10-4 12 2 3-1 3-1 5-5 4-7 4-11 3-14 5-40 4-59 4-92 6-175 2-36 1-8 1 1 2 26 8 224 3 64 3 46 4 38 4 21 3 10 3 7 3 4 4 5 5 2 4 0 4-2 3-4 4-8 10-25 8-12 2-5 2-9 3-21 3-37 9-184 2-22 1-1 1 6 2 29 6 135 3 54 3 36 3 23 2 8 3 6 1 0 2 0 5-5 2-1 2 1 2 2 4 8 11 31 3 5 4 4 6 3 8 0 8-3 6-4 4-4 4-7 3-8 3-12 4-29 3-35 10-192 2-19 1-1 1 6 2 29 6 125 5 74 2 18 3 19 3 11 2 4 2 2 2 1 2-1 4-8 4-15 7-34 2-6 1-2 1 0 2 4 2 9 10 53 3 10 4 8 3 3 4 1 11-4 4 0 4 3 12 10 8 4 12 1 16-1 9-3 6-6 4-7 3-9 4-16 7-35 2-6 2-2 2 3 2 7 7 35 4 16 5 11 2 3 3 2 5 1 11-6 4 0 4 1 10 7 6 2 20-3 4-1 8-5 3-1 3 0 8 3 3 0 5-2 10-12 2-2 2 0 4 3 10 14 4 5 5 4 5 2 8 1 12 1 52 1" stroke="#EDB120"/>
<path d="M205 3180l83-2 24-1 17-3 13-4 9-5 7-7 6-11 4-14 3-17 3-27 2-28 4-86 7-224 2-30 1 1 2 34 7 224 3 67 3 44 4 32 4 17 3 8 4 7 4 4 5 4 5 2 4 1 5-1 10-5 3 1 9 3 3 0 4-2 5-4 5-7 4-9 3-12 4-27 4-52 4-91 5-150 2-39 1-6 1 4 1 14 8 223 5 85 3 27 4 20 3 8 3 6 4 5 4 4 5 2 5 1 4-1 3-3 5-7 10-24 3-3 5-1 2-1 2-4 2-9 3-23 2-26 8-170 2-22 1 0 2 25 8 173 3 37 3 22 3 10 3 4 3-2 7-10 2 0 2 1 5 9 9 23 3 5 4 3 6 2 9 0 9-1 7-4 5-4 4-6 3-7 3-11 4-27 3-37 8-162 2-18 1 2 2 25 6 127 4 56 2 18 3 16 4 12 4 5 3 1 2-1 3-4 2-5 4-15 6-32 2-7 1-1 1 0 2 5 8 44 4 16 2 5 3 5 2 2 3 1 5 0 9-5 4 0 4 1 12 10 8 3 11 1 15-1 10-2 6-2 3-2 3-4 4-10 4-16 7-35 2-4 1 0 3 9 6 31 4 15 5 11 3 3 3 2 3 0 4-1 10-6 3-1 4 2 9 7 5 2 4-1 9-2 11 0 4-1 7-5 3-1 3 1 8 4 4 0 5-3 10-13 3-1 2 1 2 2 11 16 4 3 5 2 7 1 13 1 55 1" stroke="#7E2F8E"/>
<path d="M205 3171l45-1 32-1 23-2 17-4 13-6 5-3 5-4 4-5 4-6 6-15 4-17 3-19 3-30 3-45 5-124 8-277 2-32 1-1 1 9 2 45 9 306 5 101 4 44 5 29 3 10 3 8 4 7 5 5 4 3 4 0 4-1 10-4 12 2 3-1 3-1 5-6 4-8 4-13 3-16 5-47 4-68 4-106 6-193 2-40 1-8 1 2 2 30 9 276 3 66 3 45 4 38 4 22 3 10 3 6 3 5 4 5 4 2 4-1 4-3 3-4 4-9 10-28 8-14 4-17 3-25 3-42 9-206 2-23 1-1 1 7 2 32 9 212 3 41 3 26 2 9 3 7 1 1 2-1 5-4 2-1 2 1 2 2 4 9 11 35 4 7 4 5 6 2 7 0 8-3 6-5 4-5 4-8 3-9 3-15 4-33 3-40 9-198 2-31 1-7 1 0 2 20 8 179 4 63 2 21 3 21 3 13 2 5 2 2 2 1 2-2 4-8 4-17 7-38 2-7 1-1 1 0 2 4 2 10 10 59 3 11 4 10 3 3 3 1 4 0 8-3 5 0 4 3 11 11 8 4 5 1 7 1 15-1 9-3 6-6 4-7 4-13 11-57 2-7 1-2 1 0 2 3 2 8 7 39 4 18 5 13 2 3 3 3 2 0 3 0 11-6 4 0 4 2 10 8 6 1 20-3 4-1 8-6 3-1 3 1 8 3 3 0 3-2 3-2 9-12 2-2 2 0 2 1 3 3 8 13 5 7 5 5 5 2 8 2 12 1 53 1" stroke="#77AC30"/>
<path d="M205 3173l78-1 24-2 17-3 13-4 10-6 8-8 6-11 4-12 4-21 5-50 5-93 8-211 2-25 1 0 1 7 2 35 9 233 5 75 4 32 5 22 3 7 3 6 4 5 5 4 4 2 4 0 14-4 12 2 6-2 5-4 4-6 4-10 3-12 5-35 4-51 4-80 6-148 2-30 1-5 1 1 2 23 8 191 3 54 3 39 4 32 4 18 3 9 3 5 3 4 4 4 5 2 4 0 4-2 3-3 4-7 10-21 8-11 4-12 3-19 3-32 9-156 2-18 1-1 1 6 2 25 6 116 3 45 3 31 3 18 2 7 3 5 3 0 5-3 2-1 2 0 2 2 4 7 10 24 4 7 4 3 6 3 8-1 8-2 6-3 4-4 4-6 3-7 3-11 4-25 3-30 9-150 2-24 1-5 1 0 2 16 8 136 4 47 2 16 3 16 3 9 2 4 2 2 2 0 2-1 4-7 4-12 7-30 2-5 1-1 1 0 3 7 11 49 3 9 4 7 3 2 3 1 4-1 8-2 4 0 4 2 12 9 8 3 12 1 15-1 9-2 6-4 4-6 4-9 4-14 7-30 2-5 2-2 2 3 2 6 7 30 4 14 5 9 5 4 5 1 11-5 4 0 4 1 9 6 7 2 20-3 15-6 3 0 8 3 3 0 3-1 3-2 9-9 4-2 4 2 9 12 5 5 5 3 5 2 8 1 12 1 51 1" stroke="#4DBEEE"/>
<path d="M205 3179l81-1 23-1 17-3 13-3 10-4 7-6 6-9 4-10 4-19 3-25 2-23 4-72 6-149 2-32 1-5 1 3 2 28 7 170 3 52 3 34 4 27 4 14 3 7 4 6 4 3 5 4 5 1 4 1 4-1 11-3 12 2 6-1 5-3 5-6 4-7 3-9 4-20 4-39 4-66 6-134 2-26 1-2 1 4 2 29 8 170 5 58 4 23 4 12 3 6 3 3 7 6 5 1 4 1 4-1 3-3 5-6 9-17 3-3 7-3 2-3 2-6 3-17 3-30 7-115 2-24 1-4 1 2 2 21 8 131 3 29 3 17 3 9 3 3 3-1 7-7 2 0 2 1 5 7 9 18 3 4 4 3 6 2 9 0 8-1 7-3 5-3 4-5 3-5 3-9 4-20 3-27 8-122 2-20 1-3 1 2 2 20 6 97 4 44 2 13 3 14 4 10 4 4 3 0 2-1 4-5 4-11 7-27 2-5 1-1 1 1 2 4 8 34 4 12 5 8 5 3 4 0 10-4 4 0 4 2 13 8 5 1 7 1 23-1 8-1 5-2 3-1 3-3 4-7 4-12 7-27 2-4 1-1 1 0 2 4 8 30 4 11 5 7 5 3 6 0 13-5 4 0 9 6 6 1 13-1 11-1 11-4 3-1 3 0 7 3 4 1 5-2 9-9 4-2 4 1 9 10 4 4 4 2 5 2 20 1 55 1" stroke="#A2142F"/>
<path d="M205 3179l46-1 33-2 23-2 17-5 13-6 5-3 5-5 7-11 6-17 4-18 3-23 3-35 3-53 4-110 8-303 2-36 1-1 1 11 2 51 8 304 3 79 3 54 4 44 5 29 3 10 3 8 4 7 5 5 4 2 4 1 4-1 10-5 3 0 9 3 4-1 3-2 5-7 5-12 3-12 3-18 4-41 4-71 4-112 6-213 2-44 1-8 1 2 2 34 8 274 3 76 3 54 4 44 4 24 3 11 3 8 3 5 4 5 4 3 4 0 4-2 3-4 5-11 10-30 9-16 3-13 3-26 3-44 9-225 2-26 1-1 1 8 2 37 8 211 3 50 3 30 3 17 3 6 1 0 2-1 5-6 2-1 2 1 2 2 4 10 10 34 4 9 4 5 6 3 8 0 8-3 6-5 4-5 4-8 3-10 3-14 4-34 3-42 3-60 6-154 2-35 1-8 1 1 2 23 7 174 5 87 2 22 3 21 3 13 2 5 2 2 2 1 2-2 4-9 4-18 7-42 2-8 1-1 1 0 3 10 10 65 3 13 4 11 3 4 4 2 4-1 8-3 4 0 4 2 12 13 7 4 6 1 7 1 16-2 9-3 3-3 3-4 4-8 3-11 4-19 7-43 2-8 1-2 1 0 1 1 2 7 8 48 4 19 5 13 2 3 3 3 3 0 3 0 9-6 4-2 4 2 10 9 6 2 21-3 4-2 8-6 3-1 3 0 8 4 3 0 2 0 3-3 10-14 2-2 2-1 2 1 2 3 9 16 5 7 5 5 5 2 8 2 12 1 53 1" stroke="#0072BD"/>
<path d="M205 3187l79-2 24-2 17-3 13-4 10-6 8-9 6-12 4-14 4-24 5-58 5-109 7-212 2-32 1-3 1 6 2 36 9 262 5 82 4 35 5 23 3 8 3 6 4 5 5 5 4 2 4 0 4-1 10-3 13 1 6-2 5-5 4-7 4-11 3-13 4-30 4-52 4-85 7-189 2-25 1-1 1 8 2 37 8 214 5 81 4 35 4 19 3 9 3 6 3 4 4 4 5 3 4 0 4-2 3-4 4-7 10-24 9-12 2-5 2-9 3-23 2-23 3-50 6-125 2-24 1-2 1 4 2 27 6 129 3 51 3 35 3 20 2 8 3 5 1 0 2 0 7-6 2 0 2 2 4 7 11 29 3 5 4 4 6 2 7 0 8-2 6-3 5-5 4-6 3-7 3-10 4-25 3-31 4-63 6-120 2-20 1-2 1 5 2 26 6 120 5 70 2 17 3 17 3 10 2 4 2 2 2 1 2-1 4-7 4-13 8-37 2-5 1 0 2 3 2 8 6 33 4 18 3 9 3 6 3 4 4 1 4 0 8-4 5 1 4 2 11 9 7 3 12 2 17-1 9-3 6-4 4-7 4-11 10-45 2-7 2-2 2 3 2 6 7 34 4 15 5 10 2 3 3 2 3 1 3-1 9-5 4-1 4 1 11 8 5 1 22-3 14-6 3 0 7 3 4 0 5-2 10-12 4-2 2 1 2 2 9 12 5 6 5 4 5 1 8 2 12 1 51 1" stroke="#D95319"/>
<path d="M205 3194l80-2 24-2 17-3 13-5 10-6 7-9 6-12 4-15 4-25 3-32 2-32 4-93 7-229 2-36 1-4 1 7 2 42 8 255 5 93 4 38 4 20 3 9 4 9 4 5 5 5 5 2 4 1 4-1 10-5 3 0 9 3 4-1 3-1 5-5 5-8 4-12 3-14 4-32 4-59 3-68 7-205 2-28 1-1 1 9 2 42 8 228 5 80 4 33 4 18 3 8 3 5 3 4 4 4 5 2 4 0 4-2 3-3 5-10 9-22 3-5 6-5 2-4 2-8 3-21 3-38 8-173 2-27 1-3 1 5 2 31 8 176 3 40 3 24 3 12 3 4 3-1 5-7 2-1 2 0 2 2 4 7 10 28 4 6 4 4 6 2 9-1 8-2 6-4 4-3 4-7 3-7 3-11 4-28 3-35 9-180 2-24 1-1 2 18 7 146 4 60 2 19 3 20 4 13 2 4 2 2 3 0 2-2 4-8 4-16 7-36 2-5 1 0 1 1 2 6 8 46 4 16 2 6 3 6 2 2 3 2 4 0 10-5 4 0 4 2 13 11 5 2 7 2 11 0 11-1 8-2 5-2 3-3 3-4 4-9 4-15 8-41 2-5 1-1 1 1 2 6 8 40 4 15 5 11 2 2 3 2 3 0 3-1 10-5 3-1 4 1 10 8 5 1 12-2 11 0 14-8 4 1 7 3 4 1 5-3 9-12 2-2 2-1 2 1 2 2 9 14 4 4 5 4 5 2 8 2 12 0 53 1" stroke="#EDB120"/>
<path d="M205 3177l50-1 34-2 24-2 17-4 7-3 6-3 5-4 4-4 7-11 6-18 4-21 3-27 3-45 2-47 4-144 6-309 2-57 1-2 2 48 8 392 2 65 3 66 3 40 2 17 3 17 3 12 3 8 4 7 5 6 5 4 5 1 5-1 7-6 3-1 3 0 9 5 3 0 4-2 6-7 5-11 4-15 3-18 4-45 4-87 3-108 6-276 2-43 1 3 2 52 7 317 5 131 3 41 4 29 3 13 3 9 4 7 4 5 5 4 5 2 4-2 3-3 5-11 10-37 3-5 2 0 3 1 2-2 2-5 2-10 3-33 2-37 3-83 5-182 2-42 1-2 2 35 8 272 3 57 3 33 3 16 1 3 2 3 1 0 2-3 7-16 2-1 2 2 5 13 9 35 3 7 4 6 6 3 9 0 9-3 7-4 5-7 4-7 3-10 3-15 4-39 3-53 8-252 2-35 1 0 2 36 6 199 4 89 2 26 3 26 4 17 4 8 3 1 2-1 3-5 2-7 4-23 7-57 2-8 1 0 1 2 2 12 6 54 4 27 2 10 3 9 3 5 3 2 2 0 3-1 9-7 4-2 4 3 8 11 4 4 4 3 4 1 12 1 15-1 10-2 6-4 3-4 2-4 4-13 4-24 7-55 2-8 1-1 1 2 2 10 6 49 4 25 2 8 3 8 3 5 3 2 3 1 4-1 10-10 3-2 2 1 2 2 9 11 5 2 4 0 9-4 9 1 3 0 4-3 6-7 3-2 3 1 8 7 2 1 2 0 2-1 3-3 9-20 2-3 2-1 2 2 2 3 7 17 4 8 4 5 5 3 7 2 13 1 55 1" stroke="#7E2F8E"/>
<path d="M205 3175l46-1 32-1 23-2 17-3 13-5 10-7 8-9 6-13 4-15 3-18 3-26 3-41 5-110 7-220 2-40 1-8 1 1 2 28 9 269 3 65 3 45 4 37 5 25 3 8 3 7 4 5 5 5 4 2 4 1 4-1 10-4 12 2 3-1 3-1 5-5 4-8 4-11 3-14 5-42 4-62 10-264 2-32 1-5 1 3 2 29 8 221 3 62 3 45 4 37 4 20 3 10 3 6 3 5 4 4 5 3 4-1 4-2 3-4 4-8 9-23 9-14 4-15 3-23 3-38 8-164 2-29 1-6 1 0 2 21 7 151 3 52 3 35 3 21 2 8 3 5 1 1 2-1 5-4 2-1 2 1 2 2 4 9 10 28 4 7 4 4 6 3 8 0 8-3 6-4 4-5 4-7 3-8 3-13 4-30 3-36 9-174 2-26 1-5 1 1 2 20 7 141 5 71 2 18 3 18 3 10 3 5 2 1 3-1 4-8 4-15 7-34 2-5 1-1 1 0 1 2 2 7 11 57 3 9 3 6 3 4 4 2 3-1 9-3 4 1 4 2 12 10 7 4 12 1 16-1 9-3 6-5 4-6 3-8 4-16 8-38 2-6 1-1 1 0 3 7 8 38 4 15 5 12 2 2 3 2 5 1 10-5 4-1 4 1 11 8 6 1 20-3 12-6 3-1 3 1 8 2 3 0 5-3 10-11 2-1 2-1 4 3 9 13 5 6 5 4 5 2 8 2 12 1 52 1" stroke="#77AC30"/>
<path d="M205 3172l80-1 23-1 17-3 13-3 10-6 7-7 6-10 4-13 4-22 3-29 2-28 4-86 7-211 2-28 1 1 2 31 8 236 3 59 3 38 4 30 4 16 3 7 3 5 4 5 5 4 5 2 4 1 4-1 11-4 12 3 4 0 3-2 5-4 5-7 4-10 3-12 4-29 4-53 3-64 6-167 2-35 1-6 1 4 2 32 8 212 5 75 4 30 4 15 3 7 3 5 7 7 5 2 4 1 4-1 3-3 5-8 10-22 3-3 6-3 2-3 2-7 3-20 3-35 8-161 2-21 1 1 2 22 8 165 3 37 3 23 3 11 3 4 3-1 7-8 2-1 2 2 5 8 10 25 3 4 4 3 6 2 8 0 8-1 7-3 5-5 4-5 3-6 3-10 4-25 3-32 3-47 5-103 2-28 1-6 1 2 2 22 6 120 5 66 2 15 3 15 3 8 4 6 3 1 2-1 3-5 2-4 4-15 6-30 2-6 1-2 1 1 1 1 2 8 7 37 4 16 2 5 3 5 2 2 3 2 5 0 9-4 4-1 4 2 13 10 5 2 7 1 22-1 8-1 6-2 3-3 3-3 4-9 4-14 7-33 2-6 1-2 1 0 3 8 7 33 4 14 5 10 5 4 3 0 3 0 11-6 3-1 4 1 9 7 5 2 4 0 9-2 11-1 4-1 7-5 3 0 3 0 8 4 3 0 5-2 10-12 2-2 2 0 4 3 8 11 4 5 4 3 5 2 7 1 13 1 56 1" stroke="#4DBEEE"/>
<path d="M205 3187l46-1 32-1 23-3 17-4 13-6 5-3 5-5 7-10 6-15 4-18 4-30 5-71 5-134 7-261 2-42 1-6 1 6 2 41 8 293 3 80 3 55 4 46 5 30 3 11 3 7 4 7 5 6 4 2 5 1 4-1 9-4 3-1 10 3 3-1 3-2 5-6 4-9 4-14 3-16 4-37 4-65 4-104 7-233 2-33 1-2 1 7 2 42 9 290 5 92 4 39 4 22 3 10 3 7 3 5 4 5 4 2 4 0 4-3 3-4 5-11 9-27 9-16 2-6 2-11 3-28 3-47 8-197 2-31 1-4 1 4 2 30 9 223 3 45 3 26 3 14 1 3 2 2 2-1 7-6 2 0 2 2 5 12 10 33 4 7 4 5 6 2 7 0 8-3 6-4 4-5 4-7 3-9 3-13 4-31 3-38 4-78 6-147 2-27 1-3 1 5 2 29 7 169 4 67 2 22 3 22 3 14 2 5 2 3 2 1 2-1 2-3 2-5 4-17 8-45 2-6 1 0 2 3 2 9 10 63 3 12 4 10 3 3 4 2 3-1 8-4 3 0 2 1 4 3 11 11 8 4 5 1 7 1 16-2 9-3 3-2 3-4 4-8 4-13 10-56 2-8 2-3 2 2 2 8 7 41 5 22 5 13 2 2 3 2 2 1 3-1 10-6 3-1 4 1 11 10 5 1 22-3 14-8 4 0 7 3 4 1 5-4 9-13 2-2 2 0 2 0 3 4 9 15 4 6 5 4 5 3 8 2 12 1 54 1" stroke="#A2142F"/>
<path d="M205 3188l46-1 33-1 24-3 17-3 13-6 10-7 4-5 4-6 6-15 4-16 4-28 5-70 5-132 7-266 2-43 1-6 1 6 2 44 9 326 5 104 4 43 4 25 3 11 4 10 4 6 5 6 5 2 4 1 4-1 9-5 3 0 10 3 3-1 3-2 5-6 4-8 4-13 3-16 4-35 4-64 4-103 7-238 2-34 1-2 1 9 2 44 8 267 5 102 4 43 4 24 3 11 3 8 3 5 4 5 5 3 4 0 4-3 3-4 5-11 9-27 3-5 6-9 2-6 2-10 3-27 3-46 8-201 2-31 1-5 1 5 2 31 9 226 3 44 3 25 2 10 3 6 1 1 2-1 7-7 2 0 2 2 4 9 11 35 3 6 4 5 6 3 8 0 8-3 7-5 4-5 4-8 3-9 3-15 4-35 3-43 9-211 2-27 1-3 1 5 2 31 7 171 4 66 2 22 3 21 3 13 2 4 2 3 3 1 2-2 4-10 4-19 7-41 2-6 1 0 2 3 2 10 10 63 3 12 3 7 3 5 4 2 4-1 8-4 3 0 2 0 4 3 11 11 7 4 5 2 7 0 16-1 10-3 3-2 3-4 4-7 4-14 4-20 6-36 2-9 2-3 2 3 2 8 7 42 4 19 5 13 2 3 3 3 3 0 3 0 10-7 3-1 4 2 11 9 5 2 22-3 14-9 4 1 7 3 4 0 5-3 9-14 2-2 2 0 2 0 3 4 8 14 5 7 4 4 5 3 7 1 12 2 53 1" stroke="#0072BD"/>
<path d="M205 3183l47-1 33-1 24-2 17-4 13-5 5-3 5-4 7-9 6-14 4-16 4-29 5-70 4-102 7-256 2-44 1-6 1 5 2 42 9 312 5 95 4 38 4 21 3 10 3 7 4 6 5 6 5 2 4 1 4-1 10-4 3 0 10 2 3 0 3-2 5-5 5-10 4-12 3-16 4-36 4-65 4-105 6-199 2-34 1-3 1 8 2 42 8 256 5 94 4 38 4 21 3 9 3 7 3 5 4 4 5 3 4 0 4-2 3-4 5-10 9-26 3-5 6-6 2-4 2-9 3-23 3-42 8-192 2-32 1-5 1 4 2 31 8 198 3 46 3 28 3 14 3 6 1 0 2-1 7-9 2 0 2 2 4 9 11 33 3 5 4 5 6 2 8 0 8-2 6-4 5-5 4-7 3-8 3-13 4-30 3-39 3-56 6-145 2-28 1-3 1 4 2 30 6 144 5 82 2 19 3 19 3 11 2 4 2 3 3 0 2-1 4-9 4-18 7-40 2-6 1-1 1 1 2 7 8 50 4 19 5 14 2 2 3 3 4 0 10-5 4 0 4 2 13 12 5 3 7 1 11 0 11-1 8-1 5-3 3-3 3-4 4-11 4-17 8-45 2-6 1-1 1 1 1 2 2 8 7 40 4 17 5 12 2 3 3 2 3 1 3-1 10-6 3-1 4 1 11 9 5 2 12-3 10 0 4-2 7-5 3-2 4 1 8 4 3 0 5-3 9-13 2-2 2-1 2 1 2 1 13 21 5 5 5 2 8 2 12 0 53 2" stroke="#D95319"/>
<path d="M205 3191l46-1 32-2 23-2 17-3 13-4 10-7 8-9 6-13 4-14 3-17 3-27 3-40 5-110 7-215 2-35 1-5 1 4 2 34 9 265 3 59 3 41 4 33 4 18 3 9 3 6 4 6 5 5 4 2 5 0 13-4 3 0 10 2 3-1 3-2 5-5 4-7 4-11 3-14 4-30 4-54 4-86 7-192 2-27 1-2 1 6 2 34 9 238 5 77 4 33 4 18 3 8 3 6 3 4 4 4 4 2 4 0 4-2 3-4 5-9 9-22 9-13 2-6 2-9 3-23 3-38 8-162 2-26 1-4 1 3 2 25 9 184 3 36 3 23 3 11 3 4 3-1 6-5 2 1 3 3 4 8 10 27 4 7 4 3 6 2 7 0 8-2 6-4 4-4 4-6 3-7 3-11 4-25 3-32 4-64 6-121 2-22 1-3 1 4 2 24 7 138 4 56 2 18 3 19 3 11 2 4 2 3 2 1 2-1 4-7 4-13 8-38 2-4 1-1 2 3 2 7 10 52 3 10 4 8 3 3 4 1 11-3 5 0 4 2 11 10 8 3 12 2 16-1 9-3 6-5 4-7 4-11 10-45 2-7 2-3 2 2 2 6 8 39 4 14 5 10 2 2 3 2 5 0 10-6 3 0 4 1 11 7 5 2 22-3 14-7 4 1 7 2 4 0 5-3 9-10 4-2 2 0 3 3 9 13 4 4 5 4 5 2 8 2 12 1 53 1" stroke="#EDB120"/>
<path d="M205 3174l79 0 23-2 17-2 13-3 10-5 7-7 6-9 4-11 4-19 5-46 5-91 6-155 2-35 1-7 1 1 2 25 8 198 3 53 3 36 4 28 4 15 3 7 4 7 4 4 5 3 5 2 4 1 14-4 12 2 4-1 3-1 5-4 5-7 3-7 3-10 4-24 4-43 4-71 6-139 2-28 1-4 1 3 2 26 8 178 5 68 4 29 4 15 3 7 3 4 4 5 4 3 4 1 4 0 4-1 3-2 5-7 10-19 9-8 2-4 2-7 3-19 3-32 7-120 2-25 1-5 1 1 2 18 9 151 3 29 3 17 3 8 3 3 3-1 6-5 2-1 2 2 5 7 10 21 3 4 4 4 6 1 7 1 8-2 7-2 5-4 4-5 3-5 3-8 4-21 3-25 3-38 6-101 2-22 1-4 1 1 2 19 7 114 4 44 2 14 3 14 3 8 4 6 3 0 2-1 4-6 4-11 7-28 2-5 1-1 2 2 2 6 7 31 5 16 5 9 5 3 4-1 9-3 4 0 4 1 14 9 5 2 7 1 21-1 8-1 5-2 6-5 5-9 4-12 7-28 3-6 1 0 1 1 2 5 7 28 5 15 5 7 5 3 6 0 9-4 4-1 4 1 10 6 5 1 23-2 11-5 3-1 3 1 8 2 3 1 3-1 3-2 9-9 4-2 4 3 12 13 5 3 5 2 8 1 12 1 55 1" stroke="#7E2F8E"/>
<path d="M205 3185l82 0 24-2 17-2 13-3 9-5 7-6 6-10 4-12 3-15 3-24 2-25 4-77 7-196 2-25 1 2 2 33 8 219 2 36 3 37 4 28 4 14 3 7 3 4 4 5 5 3 5 3 5 0 4 0 11-4 12 3 3 0 4-2 5-3 5-6 4-9 3-10 4-24 4-46 3-58 6-155 2-33 1-4 1 4 2 34 7 177 5 73 3 23 4 17 3 7 3 5 4 5 4 2 5 3 5 0 4-1 3-2 5-7 10-20 3-3 6-1 2-2 2-6 3-16 3-32 8-150 2-18 1 1 2 24 8 152 3 31 3 19 3 9 3 2 3-1 7-8 2-1 2 1 5 8 9 20 3 5 4 3 6 1 9 0 8-1 7-2 5-4 4-4 3-6 3-8 4-21 3-28 3-43 6-111 2-15 1 2 2 24 6 111 4 49 2 15 3 14 4 10 4 4 3 1 2-1 3-4 2-4 4-14 6-28 2-5 1-1 1 0 2 5 7 34 4 16 5 10 3 3 3 1 5-1 9-4 3 0 5 1 12 9 8 2 11 1 15-1 10-1 6-2 3-2 3-4 4-8 4-14 6-28 2-5 1-2 1 1 2 4 7 31 4 13 5 10 3 2 3 2 3 0 4-1 9-5 4-1 4 2 9 6 5 1 13-2 11 0 4-1 7-5 3 0 3 0 8 4 4 0 5-3 9-10 2-2 2 0 4 3 7 9 4 5 4 2 5 2 7 1 13 1 56 1" stroke="#77AC30"/>
<path d="M205 3191l46-1 32-2 24-3 17-4 13-6 5-3 5-5 4-5 4-7 6-16 4-19 4-31 5-75 5-144 7-291 2-51 1-9 1 4 2 43 8 325 3 89 3 62 4 51 5 33 3 11 3 8 4 8 5 6 5 3 4 1 4-1 9-5 3 0 10 2 3-1 3-2 5-6 4-9 4-15 3-17 5-53 4-79 3-88 7-261 2-40 1-5 1 7 2 44 9 322 5 103 4 43 4 24 3 11 3 8 3 5 4 5 4 3 4 0 4-3 3-4 5-13 9-29 3-7 6-10 2-6 2-11 3-30 3-49 8-219 2-37 1-6 1 2 2 32 9 248 3 50 3 30 3 15 1 3 2 2 1 0 2-1 6-7 2 0 3 4 4 10 10 37 4 8 4 5 6 3 8-1 8-3 6-5 4-6 4-9 3-10 3-16 4-38 3-47 9-230 2-33 1-5 1 4 2 31 7 187 4 75 2 25 3 25 3 15 2 6 2 3 1 1 2 0 2-2 4-11 4-20 7-45 2-7 1-1 1 1 1 3 2 9 10 70 3 13 4 11 3 4 4 2 3-1 8-4 3-1 2 1 4 3 11 12 4 3 4 2 5 2 7 0 16-1 9-4 3-2 3-4 4-8 4-15 11-67 2-7 1-1 1 0 1 2 2 9 8 51 4 19 5 14 2 3 3 2 3 0 3-1 9-6 3-1 2 0 3 2 10 9 5 2 22-3 4-2 8-7 3-1 3 1 7 4 4 0 2-1 3-3 9-14 2-2 2-1 2 0 3 4 9 17 4 6 5 5 5 3 8 2 12 1 52 2" stroke="#4DBEEE"/>
<path d="M205 3178l47-1 33-2 23-3 17-4 7-3 6-3 5-4 5-5 7-12 6-17 4-19 4-34 5-84 4-122 7-308 2-59 1-12 1 1 2 43 8 344 3 93 3 63 4 51 4 28 3 13 4 11 4 8 5 6 5 3 4 1 4-2 7-4 3-1 3 0 9 3 4-1 3-2 5-8 5-12 3-13 3-19 4-42 4-78 4-125 6-241 2-48 1-7 1 6 2 44 9 340 5 106 4 43 4 24 3 11 3 8 3 5 4 5 5 3 4 0 4-3 3-5 4-11 10-33 2-5 5-6 2-4 2-8 2-13 3-34 3-57 7-208 2-43 1-9 1 1 2 32 9 262 3 52 3 30 3 16 1 2 2 3 1 0 2-2 6-9 2 0 3 4 4 11 10 37 3 7 4 6 3 2 3 1 7 0 8-2 7-5 5-7 4-8 3-10 3-15 4-36 3-46 3-66 6-175 2-39 1-7 1 3 2 31 7 198 4 78 2 26 3 25 3 15 2 6 2 3 1 1 2 0 2-1 4-11 4-20 7-49 2-8 1-1 1 0 1 3 2 10 7 54 5 29 2 7 3 8 2 3 3 2 2 0 3 0 9-6 4 1 4 3 8 10 5 4 5 3 7 2 10 0 11-1 8-2 5-3 3-4 3-5 4-13 4-20 8-54 2-9 1-1 1 0 3 10 7 49 4 21 5 16 3 5 3 3 3 0 3-1 9-7 4-2 4 2 10 11 5 2 4-1 8-2 8 0 3-1 4-3 7-6 3-1 3 1 8 4 3 1 3-2 3-3 9-16 2-2 2 0 2 1 2 3 9 18 4 7 5 5 5 2 8 2 12 1 53 2" stroke="#A2142F"/>
<path d="M205 3192l46-1 32-2 23-2 17-3 13-6 10-7 4-4 4-6 6-14 4-16 4-26 5-63 5-119 8-277 2-33 1-1 1 9 2 46 9 305 5 96 4 41 5 27 3 10 3 7 4 6 5 5 4 3 4 0 4-1 10-4 12 2 3-1 3-1 5-6 4-7 4-13 3-14 5-44 4-66 4-103 6-194 2-40 1-8 1 2 2 30 8 249 3 71 3 50 4 41 4 23 3 10 3 8 3 5 4 4 4 3 4 0 4-2 3-4 5-10 10-28 7-11 2-4 3-12 3-24 3-41 9-205 2-24 1-1 1 7 2 33 8 193 3 46 3 29 3 15 3 6 1 0 2 0 5-6 2-1 2 1 2 2 4 9 10 32 4 8 4 4 6 3 8 0 8-3 6-4 4-5 4-8 3-8 3-14 4-31 3-39 3-55 6-140 2-33 1-7 1 0 2 21 7 159 5 80 2 20 3 21 3 11 2 5 2 2 2 1 2-2 4-8 4-17 7-38 2-7 1-1 1 0 2 4 2 10 9 54 3 13 4 10 3 4 4 2 4-1 8-3 5 0 4 3 10 10 8 4 6 2 7 0 16-1 9-4 3-2 3-3 4-9 3-9 4-18 7-39 2-7 1-2 1 0 1 1 2 6 8 44 4 17 5 13 2 2 3 3 3 0 3 0 9-6 4-1 4 2 10 8 6 2 21-3 4-2 8-5 3-1 3 0 8 3 3 1 5-3 10-14 2-1 2-1 2 1 2 2 9 15 5 7 5 4 5 2 8 2 12 1 52 1" stroke="#0072BD"/>
<path d="M205 3184l46-1 32-2 23-2 17-3 13-5 10-7 8-9 6-12 4-14 4-24 3-28 3-44 4-89 8-247 2-31 1-3 1 7 2 39 9 271 5 89 4 38 5 25 3 9 3 6 4 6 5 5 4 2 4 0 4 0 10-4 12 1 3 0 3-2 5-4 4-7 4-11 3-13 5-39 4-58 4-91 6-173 2-38 1-8 1 1 2 24 9 245 3 58 3 40 4 33 4 18 5 13 3 4 4 5 5 2 4 0 4-2 3-4 4-8 10-25 9-14 3-11 3-21 3-35 9-183 2-23 1-2 1 6 2 28 9 187 3 37 3 22 2 8 3 6 1 1 2-1 7-5 2 0 2 2 4 8 11 30 3 6 4 4 6 2 8 0 8-2 6-4 4-4 4-7 3-8 3-12 4-28 3-34 3-48 7-142 2-20 1-1 1 5 2 28 7 142 4 55 2 19 3 19 3 11 2 4 2 2 2 1 2-2 4-7 4-14 7-34 2-7 1-1 1 0 2 3 2 9 10 52 3 10 4 8 3 3 3 1 4 0 8-3 5 0 4 3 11 9 8 4 12 1 16-1 9-3 6-5 4-7 3-9 4-16 7-34 2-7 2-2 2 3 2 7 7 35 4 15 5 12 2 2 3 3 3 0 3 0 10-5 4-1 4 2 10 7 6 1 21-3 11-5 3-1 4 0 7 3 3 0 5-3 10-11 2-2 2 0 2 0 3 3 8 12 5 6 5 4 5 2 8 2 12 1 52 1" stroke="#D95319"/>
</g>
</g></g>
<clipPath id="cC"><rect x="1492.4" y="1238" width="949" height="869"/></clipPath><g clip-path="url(#cC)"><g filter="url(#bl)">
<g fill="none" stroke-width="2.3" stroke-linejoin="round">
<path d="M1492 2060l94-1 8-1 12-3 13 3 8 0 7-1 13-4 11 3 6 1 6-2 10-5 3 0 12 2 16-2 21-1 10-2 8-4 7-6 5-7 3-6 3-8 4-19 3-25 3-37 5-103 8-230 2-33 1-5 1 2 2 27 9 254 3 64 3 45 4 37 4 20 3 8 3 7 4 5 5 5 9 4 11 3 12-1 11-3 8-5 6-7 4-8 4-13 3-18 2-16 4-52 4-82 7-187 2-36 1-9 1-2 1 5 2 30 8 210 3 61 3 44 3 30 4 23 5 14 4 7 4 4 7 4 7 2 8 0 7-3 5-4 4-7 3-7 3-12 4-30 3-36 3-52 7-152 2-27 1-6 1 1 1 7 2 30 9 187 3 40 3 25 2 10 3 9 3 3 6-1 3 1 3 5 8 17 5 6 6 4 10 1 12 0 10-3 7-4 5-5 4-6 3-9 4-20 4-36 4-60 7-134 2-22 1-4 1 2 2 20 8 152 4 55 3 26 3 17 3 10 4 7 3 3 3 1 3-1 7-4 3 0 3 2 7 10 5 4 5 3 8 2 9 0 6-2 5-5 8-11 3-2 3 2 8 12 4 4 4 3 6 1 19 1 22 0 8-1 11-3 5-1 5 1 12 4 8 1 64 1" stroke="#0072BD"/>
<path d="M1492 2057l171-1 10-1 11-4 3-1 13 4 7 0 7-1 13-5 3 1 9 3 6 0 6-1 9-7 3-1 3 0 7 2 4 1 14-3 17-1 9-1 6-3 6-4 5-5 5-7 6-15 5-23 4-35 3-44 3-65 3-89 8-302 2-48 1-11 1-1 1 9 2 44 10 364 5 111 4 48 4 27 5 18 4 8 4 6 4 4 5 3 5 3 6 1 6 1 6-1 6-1 5-3 8-6 4-6 3-5 4-11 4-19 5-46 4-69 4-107 8-273 2-37 1-6 1 2 2 32 9 302 3 79 3 57 3 38 4 31 5 20 3 6 3 5 6 7 4 2 4 1 4 1 4-1 7-3 6-6 4-9 3-10 3-17 4-40 3-48 4-94 6-173 2-39 1-9 1-2 1 5 2 33 10 268 3 50 3 32 2 14 3 11 3 4 6 0 3 3 10 26 5 10 3 3 3 2 4 2 5 1 12-1 10-3 7-5 6-7 4-10 3-11 4-27 4-49 4-77 7-177 2-32 1-7 1-1 1 7 2 32 7 177 5 93 5 49 3 16 4 12 3 4 3 2 3-1 8-6 3 1 3 4 7 13 4 5 5 4 7 2 10 1 6-3 5-6 8-14 3-3 2 1 2 2 7 14 4 6 4 4 5 2 14 2 24 0 11-1 16-6 4 0 6 3" stroke="#D95319"/>
<path d="M1492 2062l93-1 8-1 13-5 3 0 10 4 8 1 7-2 9-4 4-1 11 4 7 0 6-2 8-6 3-1 3 0 7 2 4 1 14-3 19-1 9-2 7-3 6-5 5-7 5-9 3-8 3-11 4-25 3-32 3-49 5-134 9-353 2-39 1-4 1 6 2 42 9 352 3 88 3 62 4 51 4 28 3 13 3 8 4 8 5 6 4 4 5 3 6 3 6 1 6 0 6-1 6-3 5-3 7-6 6-11 4-12 4-21 3-26 2-25 4-76 4-119 7-257 2-45 1-10 1 0 1 10 2 45 8 291 3 84 3 61 3 41 4 32 5 20 4 9 4 6 7 6 7 3 7-1 7-3 5-6 4-8 3-10 3-16 4-38 4-67 10-284 2-33 1-5 1 3 2 31 10 283 3 54 3 35 2 14 3 12 3 4 6-1 3 3 3 7 8 23 5 9 6 4 4 2 6 1 12-1 10-4 7-6 5-7 4-10 3-13 4-30 4-54 4-86 7-185 2-26 1-3 1 5 2 30 8 211 4 75 3 37 3 23 3 14 4 10 3 3 3 1 3-1 7-5 3 0 3 4 8 15 4 5 5 3 8 3 9 0 3-1 3-2 5-7 7-14 2-2 2-1 3 3 7 14 4 7 5 4 6 2 18 2 22 0 8-1 12-5 5-1 4 1 13 5 8 2 64 1" stroke="#EDB120"/>
<path d="M1492 2057l151-1 10-2 12-4 13 4 8 1 7-1 10-5 3 0 11 3 7 1 6-2 8-5 3-2 3 1 6 2 4 0 15-3 19 0 9-1 6-3 6-4 5-4 5-7 6-14 4-17 4-32 3-40 5-117 9-333 2-40 1-5 1 6 2 41 8 301 3 87 3 60 4 50 4 26 3 11 3 8 4 7 4 5 4 3 5 3 6 3 6 1 7 0 6-1 6-1 6-3 8-7 6-9 4-11 4-19 4-35 4-65 4-106 7-244 2-45 1-10 1 0 1 9 2 44 8 274 5 113 3 39 4 31 5 19 3 6 4 6 6 6 8 3 8 0 4-1 4-2 6-6 4-7 3-9 3-15 4-37 3-46 3-67 7-199 2-33 1-5 1 3 2 30 9 245 3 54 3 35 3 20 3 9 3 2 6-2 3 2 3 6 7 19 5 8 3 3 4 2 10 2 12-1 11-3 7-5 5-7 4-9 3-12 4-29 4-53 10-236 2-27 1-3 1 5 2 29 7 177 5 89 2 22 3 22 3 14 4 9 3 4 4 1 3-1 7-6 3 0 3 4 7 12 4 5 5 3 7 2 11 1 6-3 5-6 8-14 3-2 3 3 10 18 4 4 5 2 17 2 27 0 8-1 12-5 4-1 4 1 14 6 12 1" stroke="#7E2F8E"/>
<path d="M1492 2055l202-1 11-1 10-5 3-1 3 1 9 4 8 0 8-1 9-5 3-1 3 1 9 4 6 0 6-2 9-7 3-1 2 0 7 2 4 1 15-3 18 0 8-2 6-3 6-4 5-5 5-8 6-15 5-23 4-36 3-46 3-70 3-99 9-393 2-41 1-2 1 10 2 53 8 357 3 103 3 73 4 60 4 32 5 21 4 10 4 7 4 4 5 4 5 3 6 2 6 1 7-1 6-1 6-4 8-7 4-6 3-7 4-12 4-22 3-28 2-27 4-84 4-132 7-287 2-48 1-9 1 3 2 37 9 357 5 135 3 47 4 38 5 24 3 8 3 6 6 7 4 3 4 2 4 0 4 0 4-1 4-2 6-7 4-9 3-10 3-17 4-41 4-75 10-316 2-35 1-3 1 6 2 38 7 235 4 102 2 35 3 35 2 14 3 12 1 1 2 2 5-2 2 0 1 1 3 7 7 22 4 10 5 7 4 3 4 1 8 1 8-1 8-2 6-3 5-5 4-6 3-6 3-10 3-16 2-16 4-52 4-87 8-233 2-27 1-1 1 8 2 37 7 210 4 89 2 31 3 32 3 19 3 12 4 8 2 2 2 1 4-2 7-6 3 0 3 5 6 13 4 6 4 4 6 3 6 1 6 1 4-1 3-2 4-5 9-19 3-3 2 0 2 3 10 22 3 4 3 2 6 2 9 1 21 1 12 0" stroke="#77AC30"/>
<path d="M1492 2058l125-1 9-2 13-4 3 0 10 4 8 0 7-1 10-5 3 0 12 4 6 0 6-2 8-6 3-1 3 0 7 2 4 0 14-3 18 0 9-2 7-3 6-5 5-5 5-9 3-7 3-10 4-22 4-38 3-49 5-133 9-354 2-40 1-5 1 5 2 42 9 352 3 89 3 62 4 52 4 28 3 12 3 9 4 8 4 5 4 4 5 3 6 3 6 1 6 0 6 0 6-2 5-3 8-8 6-10 4-12 4-20 3-26 2-25 4-76 4-118 7-258 2-46 1-10 1-1 1 10 2 44 8 291 3 85 3 61 3 41 4 32 5 21 3 7 4 7 6 6 7 3 4 1 4-1 7-3 6-6 4-8 3-10 3-16 4-37 4-67 10-285 2-33 1-6 1 3 1 11 2 43 9 260 3 54 3 35 2 14 3 13 3 4 6-1 3 3 3 6 8 23 5 9 6 5 4 2 6 0 12 0 10-4 7-6 5-7 4-10 3-13 4-29 4-54 4-86 7-185 2-27 1-3 1 4 2 30 8 210 4 76 3 37 3 23 3 14 4 11 3 3 3 1 3-1 7-6 3 1 3 3 7 14 4 5 6 5 7 2 10 0 3-1 3-2 5-6 8-16 3-1 3 2 7 15 4 6 4 4 6 3 17 2 24 0 8-2 12-4 5-1 4 0 11 5 7 2 10 1 24 0" stroke="#4DBEEE"/>
<path d="M1492 2057l88-1 7-1 9-4 3-1 12 4 9 1 7-1 9-5 3 0 3 0 8 4 6 0 7-1 9-7 3-1 12 3 16-3 22 1 9-3 9-5 7-8 6-10 5-16 4-24 3-32 3-50 5-144 7-288 2-52 1-11 1 2 2 37 9 355 3 83 3 57 4 43 4 23 3 10 3 7 4 6 4 5 5 4 5 3 6 2 6 1 7 0 6-1 6-2 5-3 8-7 6-9 4-12 4-19 4-38 4-70 4-116 7-260 2-40 1-5 1 6 2 41 8 294 3 81 3 56 3 35 4 27 5 16 3 6 4 6 7 5 8 3 8-1 7-3 6-6 4-8 3-9 3-16 4-39 3-50 10-285 2-28 1 0 1 8 2 42 8 238 3 58 3 37 3 21 3 10 1 1 2 1 6-4 2 1 1 0 3 6 8 23 5 8 3 2 4 2 10 2 13-2 10-3 7-5 5-7 4-10 3-12 4-31 4-58 9-232 2-35 1-7 1 2 2 27 8 212 4 72 2 23 3 24 4 17 4 8 3 3 2 1 2 0 3-2 6-6 3-1 3 4 7 13 4 5 6 4 8 2 10 0 3-1 3-2 5-6 7-14 3-3 3 2 7 15 4 6 4 4 6 2 19 1 24 0 8-1 11-5 4-1 4 1 12 5 9 2 72 1" stroke="#A2142F"/>
<path d="M1492 2061l180-1 10-1 10-5 3 0 12 4 8 1 8-1 9-5 3-1 3 1 8 3 7 1 6-2 9-7 3-1 3 1 6 2 3 0 16-3 18 1 9-2 7-3 6-5 5-5 5-8 6-16 5-27 3-30 3-48 5-143 8-364 2-60 1-12 1 1 2 41 9 398 5 141 3 47 4 35 3 15 3 10 4 9 4 7 4 4 5 4 6 3 6 1 7 1 7-1 6-2 6-3 5-4 4-4 6-11 4-12 4-22 4-43 4-78 4-130 7-293 2-45 1-7 1 7 2 45 8 330 5 137 3 47 4 36 5 21 3 8 3 5 7 8 4 2 4 2 8 0 4-1 4-2 6-6 5-10 3-11 3-17 4-44 3-57 10-320 2-32 1-1 1 10 2 45 6 210 4 105 2 36 3 35 3 19 3 8 2 1 2-1 4-3 2 0 1 1 3 6 7 23 4 9 5 5 4 3 4 1 8 0 8 0 8-2 6-4 5-4 4-5 3-6 3-8 3-14 3-23 4-56 4-95 6-186 2-40 1-8 1 2 2 29 8 238 4 82 2 26 3 27 3 16 3 9 4 6 2 2 2 0 4-2 6-7 3 0 3 3 7 15 4 6 5 4 8 2 11 0 3-1 3-2 5-7 7-16 3-3 1 1 2 2 10 22 4 5 5 2 17 2 28 0 7-1 12-6 5 0" stroke="#0072BD"/>
<path d="M1492 2059l148-1 9-2 10-4 3 0 12 4 8 0 8-1 9-4 3-1 3 0 9 4 6 0 6-2 9-6 3-2 3 1 6 2 4 0 15-3 18 0 9-2 6-2 6-5 5-6 5-8 6-16 5-26 4-41 3-52 5-145 8-346 2-55 1-13 1 0 1 11 2 54 9 381 5 130 4 56 4 30 3 14 3 9 4 8 4 6 4 4 5 3 6 3 6 1 7 1 6-1 6-2 5-3 4-4 4-4 6-11 4-12 4-22 3-27 2-27 4-82 4-128 7-276 2-44 1-6 1 4 2 39 9 345 5 127 3 45 4 34 5 23 3 7 4 7 6 6 4 3 4 1 4 1 4-1 7-3 6-7 4-8 3-10 3-17 4-40 3-51 4-103 7-225 2-30 1-2 1 7 2 40 9 281 3 60 3 39 3 22 3 10 1 1 2 2 6-2 3 3 10 29 5 10 3 3 3 2 4 2 6 1 12-1 6-2 5-2 7-6 5-8 4-10 3-13 4-32 4-59 4-93 6-176 2-37 1-8 1 0 2 25 8 224 5 100 2 25 3 25 3 16 4 11 3 4 2 1 2 0 3-1 6-6 3-1 3 4 8 16 4 5 5 4 7 2 10 1 3-1 3-2 5-6 8-17 3-3 2 1 2 3 6 14 4 7 4 4 5 3 17 2 26 0 8-2 12-5 5-1 4 1 14 7 15 1" stroke="#D95319"/>
<path d="M1492 2059l135-1 9-1 10-5 3-1 3 1 10 4 8 0 7-1 9-5 4-1 11 5 7 0 6-2 8-7 3-2 3 1 7 2 4 0 14-3 18 0 9-2 7-4 6-5 5-7 5-9 3-8 3-11 4-25 4-44 3-54 5-153 9-400 2-44 1-5 1 8 2 50 9 401 3 98 3 69 4 57 4 30 3 14 3 9 4 9 4 6 4 4 5 4 6 3 6 1 6 1 6-1 6-3 5-3 4-3 4-5 6-12 4-13 4-23 3-30 2-28 4-86 4-134 7-293 2-51 1-10 1 0 1 12 2 53 8 331 3 95 3 67 3 45 4 35 5 23 3 8 4 7 7 7 7 3 4 1 4-1 4-2 3-2 5-6 4-9 3-11 3-18 4-43 4-76 10-323 2-37 1-5 1 5 2 36 10 322 3 60 3 38 2 16 3 13 3 4 6-1 3 3 3 8 7 23 5 11 3 4 3 2 4 2 5 1 6 0 6 0 6-2 5-2 7-6 6-9 4-12 3-14 4-34 4-61 4-98 7-210 2-29 1-3 1 7 2 35 8 239 4 85 2 29 3 30 3 18 4 13 3 5 2 2 2 0 3-1 7-7 3 1 3 4 7 15 4 7 5 4 8 3 6 0 4 0 3-1 3-3 5-7 7-16 2-3 2 0 3 3 7 17 4 7 4 4 5 3 17 2 25 0 8-2 12-5 5-1 4 1 10 5 7 2 8 1 17 1" stroke="#EDB120"/>
<path d="M1492 2052l9 4 6 1 7-2 9-7 3-2 9 3 4 1 15-4 20 0 9-3 5-3 5-4 4-5 4-6 6-15 4-17 3-20 3-32 5-98 4-136 8-365 2-52 1-9 1 3 2 42 10 439 3 90 3 62 4 50 4 27 3 12 4 10 4 8 5 6 5 4 5 3 6 1 6 1 6 0 6-2 5-2 5-4 7-9 6-13 4-16 3-20 4-45 4-80 4-128 7-296 2-58 1-15 1-3 1 8 2 46 10 400 5 116 4 49 4 27 5 17 4 8 4 5 7 6 7 2 7-2 4-2 3-3 4-5 4-10 3-11 3-20 4-45 3-57 4-113 6-209 2-43 1-9 1 1 1 10 2 46 9 297 3 62 3 40 3 22 3 10 2 2 2 1 4-2 2 1 1 1 3 7 8 26 3 7 4 6 3 2 4 2 5 1 6 1 11-2 9-5 6-6 5-8 4-12 3-15 4-36 4-65 10-287 2-36 1-5 1 2 2 31 8 240 5 103 3 35 3 23 4 16 4 8 2 1 3 1 3-2 6-6 3 0 3 4 7 15 5 8 6 4 10 2 8 0 5-4 4-6 8-18 3-2 3 3 8 18 5 8 5 4 9 2 22 1 15 0 7-2 12-5 4-1 4 1 15 7 13 1 214 1" stroke="#7E2F8E"/>
<path d="M1492 2062l145-1 10-1 10-4 3-1 12 4 8 1 8-2 9-4 3 0 12 3 6 1 6-2 9-6 3-1 9 2 4 1 14-3 19 0 9-2 6-3 6-4 5-5 5-7 6-14 5-25 4-37 3-48 5-133 8-310 2-46 1-9 1 2 2 35 9 340 3 85 3 59 4 48 4 26 5 17 4 8 4 5 4 4 5 4 6 2 6 2 7 0 6-1 6-1 6-3 8-8 6-9 4-12 4-19 3-25 2-25 4-75 4-118 6-218 2-50 1-13 1-4 1 6 2 39 8 281 3 82 3 58 3 38 4 30 5 19 6 11 6 6 8 4 8 1 4-2 4-2 6-6 4-7 3-10 3-15 4-37 4-67 9-252 2-38 1-8 1 0 1 8 2 39 9 251 3 53 3 33 2 13 3 12 3 3 2 0 4-1 3 1 3 6 8 22 4 7 3 4 3 2 9 2 13 0 11-4 7-5 6-7 4-10 3-12 4-30 4-53 3-62 7-181 2-31 1-5 1 2 2 25 8 203 4 73 2 25 3 26 3 15 4 11 3 5 2 1 2 1 3-1 7-6 3-1 3 4 7 12 4 6 5 4 7 2 10 0 4 0 3-2 5-6 8-15 3-2 3 2 7 14 4 6 4 4 5 2 17 2 26 0 8-1 12-5 4-1 4 1 15 6 17 1" stroke="#77AC30"/>
<path d="M1492 2054l54-1 7-1 11-5 3 0 10 4 9 1 7-1 9-5 3-1 3 1 8 3 6 1 7-2 9-8 3-1 12 3 16-3 16 0 6 0 5-2 5-2 8-7 7-10 5-11 5-19 4-29 3-36 3-57 5-158 8-362 2-52 1-9 1 3 2 43 9 397 3 99 3 69 4 57 4 30 3 13 3 10 4 8 5 7 5 5 5 3 6 2 6 1 6 0 6-1 6-3 5-3 7-8 6-11 4-14 4-24 4-43 4-79 4-126 7-294 2-57 1-14 1-4 1 8 2 47 8 328 3 95 3 68 3 45 4 35 5 23 4 9 4 7 7 6 7 3 4 0 4-1 7-4 5-7 4-9 3-11 3-19 4-44 3-56 4-111 6-207 2-43 1-9 1 1 1 10 2 46 9 294 3 61 3 38 2 16 3 14 3 4 2 0 4-2 2 1 1 1 3 7 8 26 3 7 3 4 3 3 4 2 5 1 6 1 11-2 5-2 5-3 6-5 5-8 4-12 3-15 4-35 4-64 10-284 2-35 1-5 1 3 2 30 8 237 5 101 2 25 3 26 4 19 4 9 3 3 3 0 3-2 6-6 3 0 3 4 7 15 5 8 6 4 8 2 8 0 3-1 3-2 5-7 8-17 3-3 3 3 8 18 4 7 5 4 6 2 19 2 21 0 8-2 12-6 4 0 5 1 12 6 10 2 104 1" stroke="#4DBEEE"/>
<path d="M1492 2061l76-1 7-1 12-5 3 1 10 3 9 1 6-1 10-5 3 0 11 3 6 1 6-2 10-7 3-1 12 3 16-3 21-1 10-3 8-6 7-9 5-10 5-17 4-25 3-31 3-48 5-136 9-367 2-45 1-6 1 4 2 41 9 366 3 92 3 65 4 53 4 29 3 13 3 9 4 8 5 6 4 4 5 3 5 2 6 2 6 0 6-1 6-2 5-3 8-7 6-11 4-12 4-20 3-26 2-25 4-76 4-120 7-269 2-50 1-11 1-2 1 8 2 45 8 302 3 88 3 64 3 42 4 33 5 22 4 9 4 6 7 6 7 3 4 0 4-1 7-4 5-7 4-9 3-11 3-19 4-43 3-54 10-295 2-37 1-6 1 2 1 11 2 43 9 270 3 56 3 36 2 15 3 13 3 4 2 1 4-2 3 3 3 7 8 23 3 7 3 4 6 4 10 2 11-1 10-4 7-5 5-7 4-10 3-13 4-30 4-54 4-87 7-194 2-29 1-4 1 3 2 30 8 218 5 94 2 23 3 24 4 18 4 9 3 3 3 0 3-1 6-6 3 1 3 3 7 14 5 7 6 4 8 2 8 0 3-1 3-2 5-7 8-16 3-2 3 3 8 17 4 6 5 4 6 2 20 2 20 0 7-2 12-5 5-1 5 1 12 6 10 2 81 1" stroke="#A2142F"/>
<path d="M1492 2059l142-1 9-1 11-4 3-1 12 4 8 1 8-2 9-4 3 0 3 0 9 3 6 1 6-2 9-6 3-2 13 3 15-3 18 0 9-2 6-3 6-4 5-5 5-8 6-16 4-19 4-34 3-44 3-64 3-90 8-309 2-47 1-11 1 0 1 11 2 47 10 371 5 107 4 47 4 25 5 17 4 8 4 5 4 4 5 3 5 3 6 1 6 1 6-1 6-2 5-2 8-6 4-6 3-5 4-11 4-18 3-23 2-22 4-69 4-107 8-279 2-37 1-5 1 4 2 34 9 309 3 78 3 55 3 37 4 29 5 19 6 11 6 6 4 2 4 1 8 0 7-3 6-6 4-8 3-11 3-16 4-39 3-48 4-95 6-177 2-39 1-9 1-2 1 7 2 35 9 252 3 56 3 36 3 21 3 10 3 4 6-1 3 3 10 27 5 9 3 3 3 2 9 2 12 0 10-3 7-5 6-8 4-9 3-11 3-18 2-18 4-55 10-242 2-32 1-7 1 0 1 8 2 34 7 181 5 92 2 23 3 25 3 14 4 11 3 4 2 1 2 1 3-2 6-5 3 0 3 3 8 15 4 5 5 4 7 2 10 0 6-3 5-6 8-14 3-3 2 1 2 3 7 14 4 6 4 3 5 2 17 2 24 0 8-1 13-5 5-1 4 1 15 6 7 1 12 0" stroke="#0072BD"/>
<path d="M1492 2059l115-1 9-1 13-4 12 4 8 0 8-1 12-4 3 0 9 3 6 0 6-1 9-6 3-1 14 2 14-2 18 0 9-2 7-3 6-4 5-5 5-8 3-6 3-9 4-20 3-25 3-38 3-57 3-78 8-270 2-42 1-10 1 0 1 8 2 40 10 324 5 96 4 42 4 23 3 10 3 7 4 7 4 4 4 4 5 3 11 3 12-1 6-1 5-3 8-6 6-8 4-10 4-16 3-20 2-20 4-60 4-95 8-243 2-33 1-6 1 3 2 29 9 269 3 69 3 50 3 33 4 26 5 18 3 6 4 5 7 5 7 3 8-1 7-3 5-5 4-7 3-9 3-15 4-34 3-43 4-83 6-154 2-34 1-9 1-2 1 5 2 30 9 219 3 50 3 33 3 20 3 9 3 3 6 0 3 3 10 23 6 9 6 4 10 2 11-1 10-3 7-4 5-6 4-8 3-10 4-23 4-43 4-68 7-158 2-29 1-6 1 0 1 6 2 29 7 157 5 82 3 30 3 19 3 11 4 8 3 3 3 1 3-1 6-4 3-1 3 3 8 13 4 4 6 4 7 2 9 0 6-2 5-6 8-13 3-2 2 1 2 2 7 12 4 6 4 3 6 2 18 1 23 1 7-1 13-5 5 0 4 0 12 5 7 1 43 1" stroke="#D95319"/>
<path d="M1492 2056l4-3 7-5 3-1 3 0 7 2 4 1 14-4 22 0 6-2 6-3 5-3 4-5 7-11 5-13 4-19 3-23 3-37 4-84 4-133 7-305 2-57 1-13 1-1 1 11 2 53 9 378 3 87 3 59 4 47 2 15 3 15 3 10 4 9 4 6 5 5 5 4 5 2 11 2 11-1 5-2 5-3 7-7 6-11 4-12 4-20 3-26 2-26 4-80 4-126 7-276 2-44 1-8 1 4 2 38 9 344 3 84 3 58 4 47 4 25 3 11 3 7 4 7 4 5 7 4 7 1 7-1 7-5 4-5 4-10 3-11 3-19 4-46 3-57 10-303 2-32 1-2 1 7 2 39 9 279 3 60 3 38 3 22 3 9 1 2 2 1 5-2 2 0 1 1 3 6 9 27 3 6 4 5 7 3 11 1 10-1 9-4 6-5 5-8 4-10 3-13 4-30 4-57 4-92 6-175 2-38 1-9 1 0 1 8 2 38 7 201 5 99 3 35 3 21 4 15 2 5 3 4 2 1 3 0 8-8 3 0 3 3 8 16 5 7 6 3 9 2 8-1 5-3 5-7 7-14 3-4 1 1 2 2 8 17 5 8 5 3 9 2 21 1 16 0 7-1 12-6 4-1 5 1 14 7 13 1 234 1" stroke="#EDB120"/>
<path d="M1492 2062l134-1 9-1 9-5 3 0 12 4 9 1 8-2 8-4 3-1 3 1 9 4 7 0 6-2 8-6 3-2 12 4 16-4 18 1 10-1 7-4 7-5 5-6 5-9 3-7 3-11 4-24 3-32 3-53 5-152 8-354 2-40 1-1 1 13 2 60 8 356 5 136 3 45 4 33 3 15 3 9 4 8 4 6 4 4 5 4 6 3 6 1 7 1 7-1 6-1 6-3 8-7 4-5 3-6 5-15 3-16 3-27 2-26 4-85 3-97 7-289 2-48 1-7 1 4 2 44 8 323 5 133 3 45 4 34 5 20 3 7 4 7 7 6 8 4 8 0 4-2 4-2 6-6 4-8 3-10 3-16 4-40 3-53 3-78 7-234 2-35 1-2 1 8 2 44 6 206 4 103 2 34 3 34 3 18 3 7 1 1 2 0 5-4 2-1 1 1 3 6 7 22 4 9 3 4 3 2 8 2 9 1 8-1 7-2 6-3 5-4 4-6 3-6 3-9 3-15 2-15 4-52 4-90 6-183 2-41 1-9 1 0 2 27 8 234 4 79 2 26 3 25 3 15 4 11 4 5 2 1 2 0 3-2 6-7 3-1 3 3 7 14 4 6 5 4 8 2 11 1 3-1 3-2 4-5 8-17 3-4 1 0 2 3 7 16 4 7 4 3 5 2 18 2 26 0 8-1 11-5 5-1 4 1 10 5 6 1 28 1" stroke="#7E2F8E"/>
<path d="M1492 2055l7 2 8 0 5-2 9-5 3 0 3 0 9 4 6 0 6-2 9-7 3-1 13 3 15-3 17-1 9-2 5-2 5-3 8-9 6-12 5-15 4-22 3-28 3-43 3-65 4-132 8-358 2-57 1-13 1-1 1 11 2 54 10 431 5 126 4 54 2 17 3 18 3 11 4 11 4 7 5 6 5 4 5 2 5 2 6 1 6-1 6-1 5-3 5-3 7-9 6-14 4-15 3-20 3-31 2-29 4-90 11-422 2-44 1-7 1 4 2 39 9 357 3 92 3 65 4 53 4 30 5 19 4 8 4 6 7 6 7 2 7-1 4-2 3-3 4-6 4-9 3-12 3-19 4-44 3-56 4-109 6-206 2-46 1-12 1-2 1 7 2 40 10 316 3 58 3 36 2 15 3 12 3 4 6 0 3 3 11 33 3 7 4 5 3 3 4 1 10 2 11-2 9-5 6-6 5-8 4-12 3-15 4-35 4-64 3-71 7-210 2-38 1-9 1 0 1 9 2 38 7 210 5 107 3 39 3 24 4 19 4 8 3 3 3 0 8-7 3 0 3 3 8 17 5 7 6 4 8 2 8 0 3-1 3-3 4-5 8-18 3-3 2 1 2 3 7 17 5 8 3 3 3 1 8 2 21 1 16 0 7-1 12-6 4-1 5 1 14 7 12 2 181 1" stroke="#77AC30"/>
<path d="M1492 2056l90-1 8-2 10-4 3-1 13 5 8 0 7-1 9-5 3-1 3 1 9 4 5 0 7-2 9-7 3-1 13 2 16-3 20 0 10-4 8-6 7-9 5-11 3-9 3-13 4-29 3-36 3-56 5-151 8-341 2-52 1-12 1 0 1 11 2 52 10 410 5 121 4 52 4 28 3 13 3 9 4 8 5 7 4 4 5 3 5 2 6 2 6 0 6-1 5-2 5-3 4-3 4-5 6-10 4-13 4-20 3-26 2-25 4-77 4-120 8-307 2-41 1-6 1 4 2 38 9 340 3 87 3 63 3 41 4 33 5 21 3 8 4 6 7 7 7 3 4 0 4 0 7-5 5-6 4-9 3-12 3-19 4-43 3-54 4-105 6-195 2-44 1-10 1-2 1 8 2 38 9 278 3 62 3 42 3 23 3 12 3 4 6 0 3 3 10 29 3 7 3 5 3 3 3 2 4 1 6 1 11 0 10-4 7-6 5-8 4-10 3-12 3-21 2-20 4-62 10-268 2-35 1-8 1 1 1 8 2 37 7 200 5 102 3 38 3 23 3 14 4 10 3 4 3 1 3-2 6-5 3 0 3 3 8 16 4 6 6 5 8 2 8 0 3-1 3-2 5-7 8-16 3-3 2 1 2 3 7 16 4 6 5 5 6 2 19 2 21 0 8-2 12-5 4-1 5 1 13 6 8 2 67 1" stroke="#4DBEEE"/>
<path d="M1492 2055l154-1 9-1 13-3 13 3 8 0 7-1 10-4 3 0 11 3 7 1 6-2 11-6 14 2 14-2 19 0 9-2 6-2 6-4 5-4 5-7 6-13 4-17 4-30 3-38 5-108 9-298 2-35 1-5 1 5 2 34 9 297 3 73 3 50 4 41 4 22 5 14 4 7 4 5 4 3 5 3 11 3 7 0 6 0 11-3 8-6 7-9 4-9 4-16 3-20 2-19 4-61 4-96 7-218 2-40 1-9 1-1 1 8 2 37 8 245 3 70 3 50 3 32 4 25 5 16 6 10 6 5 8 4 8 0 8-3 6-6 4-7 3-9 3-14 4-34 3-43 10-238 2-30 1-5 1 2 2 25 9 220 3 50 3 33 3 19 3 9 3 3 6-1 3 2 3 5 7 17 5 9 6 4 9 2 12 0 11-3 7-4 6-6 4-8 3-10 4-23 4-43 4-70 7-157 2-23 1-3 1 3 2 25 8 178 4 62 2 21 3 21 3 14 4 9 3 4 4 1 3-1 7-5 3 0 3 3 7 11 4 5 5 3 7 2 10 1 4-1 3-2 5-5 8-13 3-2 3 2 10 17 4 4 5 2 16 1 27 1 8-1 12-4 5-1 4 0 13 5 10 1" stroke="#A2142F"/>
<path d="M1492 2057l131-1 9 0 13-4 13 3 8 0 7-1 9-3 4-1 12 3 6 1 6-2 11-6 14 2 14-2 18-1 9-1 7-3 6-4 5-4 5-7 3-6 3-9 4-18 4-32 3-40 5-109 9-281 2-31 1-4 1 5 2 34 9 281 3 71 3 51 4 42 4 23 3 10 3 7 4 6 4 5 9 6 6 2 6 1 12-1 6-1 5-3 8-6 6-8 4-10 4-17 5-43 4-62 4-95 7-206 2-35 1-8 1 0 1 8 2 36 8 232 3 68 3 50 3 33 4 26 5 17 3 6 4 5 7 6 7 2 8 0 7-3 5-5 4-6 3-9 3-13 4-31 3-38 4-77 7-167 2-26 1-4 1 3 1 9 2 35 9 207 3 44 3 28 2 12 3 9 3 4 6 0 3 2 11 24 5 7 6 4 10 2 12-1 10-3 7-5 5-6 4-8 3-10 4-25 4-44 4-70 6-130 2-30 1-8 1-2 1 4 2 24 8 168 4 61 3 30 3 19 3 11 4 9 3 3 3 0 3-1 7-4 3 0 3 3 7 11 4 5 6 4 7 1 9 0 6-2 5-4 9-14 3-1 3 2 7 12 4 5 4 3 6 2 18 2 23 0 8-1 12-4 5-1 22 6 28 1" stroke="#0072BD"/>
<path d="M1492 2058l186-1 10-1 10-3 3-1 11 3 9 1 8-1 12-4 11 3 7 1 6-2 9-5 3-1 12 3 15-3 19 1 9-1 6-2 6-3 5-4 5-5 6-11 5-17 4-28 3-36 5-107 8-270 2-41 1-8 1 3 2 33 8 269 3 76 3 52 3 33 4 25 5 15 4 8 4 4 4 4 5 3 11 3 7 1 7-1 12-2 8-5 7-7 5-10 4-14 3-18 2-18 4-59 4-97 7-217 2-31 1-3 1 6 2 37 8 245 5 98 3 33 3 20 2 9 3 9 6 10 7 6 8 4 9 0 8-3 6-4 5-7 3-8 3-13 4-33 3-42 9-218 2-34 1-7 1 1 2 23 7 177 4 76 4 43 3 16 3 8 3 1 6-3 2 0 1 1 3 5 7 17 4 6 5 4 8 2 8 1 8-1 8-1 6-3 5-3 4-3 3-5 3-6 3-10 3-18 4-42 4-71 6-137 2-28 1-5 1 2 2 25 7 157 4 66 2 22 3 22 3 13 4 10 4 4 4 2 4-2 6-5 3-1 3 3 7 11 4 4 5 3 7 2 11 0 4-1 3-1 5-6 7-12 3-2 3 3 10 16 4 3 4 2 16 1 29 0 9-1 10-3" stroke="#D95319"/>
<path d="M1492 2056l182-1 11-1 14-6 4 1 9 3 7 1 7-1 11-5 3-1 3 1 8 3 6 1 6-2 9-8 4-1 13 2 14-3 18-1 8-1 6-3 6-5 5-6 4-7 4-9 3-10 5-27 4-41 3-50 3-73 3-100 9-380 2-43 1-7 1 5 2 40 10 414 3 92 3 66 4 55 4 31 5 21 4 9 4 7 4 5 5 4 5 3 6 2 6 0 6-1 6-2 5-3 4-3 4-5 6-12 4-13 4-22 5-53 4-78 4-120 8-313 2-49 1-11 1-2 1 9 2 43 9 346 3 89 3 64 3 43 4 36 5 23 3 8 3 6 6 7 4 3 4 1 4 1 4-1 4-2 3-2 5-7 4-10 3-12 3-20 4-44 3-55 4-104 7-225 2-37 1-6 1 2 2 29 10 306 3 63 3 42 3 25 3 12 3 5 5 1 3 3 3 7 8 26 4 9 3 4 3 3 4 2 4 1 6 1 6-1 6-1 5-3 7-5 6-9 4-11 3-14 3-21 2-21 4-62 4-95 6-175 2-41 1-12 1-4 1 4 2 29 8 225 5 104 5 56 3 18 3 11 3 6 2 2 2 1 3-1 7-5 3 0 3 4 8 17 4 6 5 4 7 3 9 0 3-1 3-2 5-6 9-18 3-2 2 1 2 3 7 16 4 7 4 4 5 2 16 2 24 1 9-2 13-5" stroke="#EDB120"/>
<path d="M1492 2055l107-1 8-1 13-4 13 3 8 1 7-1 9-4 4-1 11 4 7 0 6-2 8-5 3-1 14 2 14-2 19-1 9-2 7-3 6-4 5-5 5-8 3-7 3-10 4-22 3-27 3-41 5-116 9-303 2-34 1-4 1 6 2 36 9 303 3 76 3 53 4 44 4 24 3 10 3 8 4 6 4 5 4 3 5 3 6 2 6 1 12 0 6-2 5-2 8-7 6-9 4-10 4-18 3-22 2-22 4-66 4-101 7-222 2-38 1-8 1 0 1 8 2 39 8 250 3 73 3 52 3 34 4 28 5 18 3 6 4 5 7 6 7 2 8 0 7-3 5-5 4-7 3-8 3-14 4-33 4-58 10-244 2-28 1-4 1 3 2 26 10 244 3 46 3 30 2 12 3 10 3 4 6-1 3 2 3 6 8 20 5 8 6 4 10 2 12-1 10-3 7-5 5-6 4-9 3-11 4-26 4-47 4-74 7-158 2-23 1-2 1 4 2 26 8 181 4 65 3 31 3 20 3 12 4 9 3 3 3 1 3-1 7-5 3 0 3 3 8 13 4 5 5 3 8 1 9 0 6-2 5-6 7-12 2-2 2-1 3 3 7 13 4 5 5 4 6 2 18 1 22 0 8-1 12-4 5-1 5 1 11 4 8 2 51 1" stroke="#7E2F8E"/>
<path d="M1492 2062l176-1 11-1 14-5 3 0 10 4 7 0 7-1 10-5 4 0 11 3 6 1 6-2 9-7 3-1 3 0 7 2 4 0 14-3 18 0 8-2 6-3 6-5 5-5 4-6 4-9 3-10 5-25 4-39 3-48 3-70 3-97 8-329 2-55 1-14 1-4 1 7 2 43 9 362 3 93 3 68 4 57 4 31 3 15 3 9 4 9 4 6 4 5 5 4 5 2 6 2 6 0 6-1 6-2 5-3 4-3 4-4 6-11 4-13 4-21 5-50 4-75 4-116 8-297 2-44 1-9 1 1 1 10 2 46 9 330 5 123 3 45 4 36 5 24 3 8 4 7 6 7 4 3 4 1 4 0 4 0 4-2 3-3 5-6 4-9 3-12 3-19 4-43 3-52 3-72 8-242 2-32 1-5 1 4 1 12 2 45 9 267 3 57 3 38 3 22 3 11 2 3 2 0 4 1 3 3 3 7 7 22 5 10 3 4 3 3 8 3 6 0 6-1 6-1 5-2 7-6 6-8 4-10 3-13 4-30 4-52 4-84 7-193 2-37 1-9 1-2 1 5 2 31 8 216 4 80 5 59 3 18 4 14 3 5 2 2 2 1 3-1 7-5 3 0 3 4 8 16 4 5 5 4 7 3 9 0 3-1 3-2 5-6 8-16 2-3 2 0 3 3 7 15 4 7 4 4 6 3 16 2 24 0 9-2 13-5 6 0" stroke="#77AC30"/>
<path d="M1492 2063l100-1 7-1 11-4 3 0 9 4 10 0 7-1 9-4 3-1 10 4 7 1 7-1 11-8 2 0 6 3 4 1 16-4 16 2 7-1 9-2 9-5 7-7 6-10 5-14 4-22 3-29 3-48 5-147 7-309 2-51 1-7 1 7 2 51 8 344 5 129 4 51 4 25 3 11 3 7 4 7 4 5 5 4 5 3 6 2 6 1 13-1 6-1 6-3 8-6 4-4 3-5 5-14 3-14 4-35 4-69 4-119 7-279 2-37 1-1 1 11 2 54 8 313 4 95 3 41 4 30 5 18 3 6 4 6 7 6 8 3 8 0 8-3 6-5 5-8 3-9 3-14 4-37 3-51 3-76 6-200 2-43 1-7 1 3 2 37 6 199 4 100 2 32 3 32 3 16 3 7 1 1 2-1 6-6 2 0 3 5 7 21 4 8 3 4 3 2 9 2 9 0 8 0 7-2 6-3 5-4 4-5 3-5 3-8 3-13 2-15 4-49 4-87 6-177 2-34 1-5 1 6 2 36 7 203 4 76 2 24 3 23 3 13 2 5 3 6 4 4 3 0 4-2 6-8 2 0 1 0 2 2 7 14 4 5 5 4 9 2 11 0 3-1 3-2 5-6 7-15 2-2 1-1 3 4 6 13 4 7 4 3 5 2 20 2 26 0 7-2 11-4 4-1 4 1 11 5 7 1 63 1" stroke="#4DBEEE"/>
<path d="M1492 2054l26 0 5-2 10-4 3 0 10 4 11 1 6-2 8-4 3-1 3 1 8 4 6 0 7-2 9-7 3-1 9 3 3 1 16-4 16 1 8-1 10-4 5-4 4-4 7-10 5-13 4-17 4-32 3-43 2-41 5-166 7-332 2-58 1-11 1 3 2 45 8 370 3 106 3 72 4 57 4 30 3 13 3 8 4 8 5 7 5 5 5 3 6 2 6 1 7 0 6-1 6-2 5-3 4-4 4-4 6-11 5-17 3-18 4-43 4-81 4-134 7-299 2-44 1-5 1 8 2 50 9 373 5 120 3 39 4 29 5 19 4 8 4 5 7 6 8 3 8-1 7-5 5-6 4-8 3-11 3-18 4-45 3-58 3-85 6-215 2-48 1-10 1 0 2 32 9 302 3 66 3 41 3 23 3 10 1 2 2 1 6-5 2 0 1 1 3 7 8 26 3 6 3 4 3 2 4 2 12 1 12-1 9-5 6-5 5-8 4-10 3-15 4-35 4-67 9-267 2-39 1-7 1 3 2 32 7 218 5 108 3 36 3 22 4 16 4 8 3 2 3 0 3-2 6-7 2-1 1 0 3 4 8 17 4 5 6 4 9 2 9-1 5-3 5-7 7-16 3-3 1 0 2 3 7 17 4 7 5 4 7 2 22 1 20 0 7-1 11-6 4 0 4 0 13 7 10 1 135 1" stroke="#A2142F"/>
<path d="M1492 2058l99-1 8-2 9-4 3 0 3 0 10 4 8 0 7-1 12-5 3 0 9 4 5 1 7-2 9-7 3-2 2 0 7 3 4 0 16-3 15 0 6 0 10-3 8-6 7-9 5-10 3-9 3-12 4-28 3-37 3-57 5-158 8-352 2-42 1-4 1 9 2 52 8 353 3 101 3 70 4 57 4 31 3 13 3 9 4 8 5 7 5 5 5 3 6 2 6 1 7 0 6-1 6-3 5-3 7-8 6-11 4-13 4-23 3-30 2-29 4-91 10-385 2-50 1-10 1 2 2 36 9 354 3 87 3 61 3 39 4 30 5 19 3 7 4 6 7 6 4 2 4 1 4 0 4-1 7-4 5-6 4-9 3-11 3-19 4-44 3-56 10-313 2-36 1-5 1 6 2 37 9 289 3 62 3 40 3 22 3 11 1 1 2 2 6-3 2 1 1 1 10 30 3 7 3 4 6 5 10 2 12-1 10-4 7-5 5-8 4-9 3-13 4-29 4-56 4-93 7-205 2-28 1-2 1 7 2 36 7 208 5 103 2 26 3 25 4 19 4 10 3 3 3 1 3-2 7-7 3 1 3 4 7 14 4 6 6 5 8 2 9 0 3-1 3-2 5-8 8-16 2-2 1 0 3 3 7 16 4 7 4 4 6 2 19 2 23 0 7-1 12-6 5-1 4 1 12 6 8 2 60 1" stroke="#0072BD"/>
<path d="M1492 2057l67-1 7-1 12-5 3 0 10 4 9 1 6-1 10-5 3-1 11 4 6 1 7-2 8-7 3-1 3 0 6 2 4 1 16-3 15 0 7-1 10-4 8-6 7-9 5-11 5-19 4-28 3-36 3-56 5-155 8-344 2-45 1-5 1 7 2 47 9 381 3 91 3 63 4 51 4 27 3 12 3 9 4 7 5 7 4 3 5 4 5 2 6 1 6 0 6-1 6-2 5-2 8-8 6-10 4-12 4-20 3-25 2-25 4-78 4-123 7-280 2-50 1-11 1-1 1 11 2 50 9 347 5 118 3 41 4 31 5 20 4 9 4 6 7 6 7 2 4 0 4-1 7-4 5-6 4-9 3-11 3-19 4-44 3-55 10-305 2-37 1-6 1 4 2 34 10 305 2 40 3 41 3 24 3 11 1 2 2 1 6-2 3 3 3 7 7 22 3 6 3 5 3 3 3 2 4 1 6 1 12-1 10-4 7-5 5-7 4-10 3-12 4-30 4-55 4-90 7-201 2-30 1-3 1 6 2 33 7 202 5 104 2 27 3 27 4 20 4 9 3 4 3 1 3-2 7-6 3 0 3 4 7 14 4 6 6 5 8 2 9 0 3-1 3-2 5-7 8-17 2-2 1 0 3 4 7 15 4 7 5 5 7 2 20 1 20 0 7-1 12-5 5-1 4 1 13 5 9 2 91 1" stroke="#D95319"/>
<path d="M1492 2055l130-2 10-1 11-5 3 0 3 0 10 4 7 0 7-1 10-5 3 0 3 0 10 3 5 1 6-3 9-6 3-2 3 0 8 2 4 1 14-3 17-2 8-2 6-3 6-5 5-6 5-9 3-8 3-11 4-22 4-39 3-47 3-67 3-93 9-362 2-50 1-12 1-2 1 9 2 44 10 393 3 87 3 63 4 53 4 30 3 14 3 10 4 9 4 6 4 4 5 4 5 2 6 2 6 0 6-1 6-3 5-3 7-8 6-12 4-15 4-24 5-58 4-81 4-121 7-263 2-54 2-23 1 3 1 11 2 46 9 329 3 83 3 61 3 42 4 34 5 23 3 8 4 7 6 7 7 3 7 0 4-2 3-2 5-7 4-9 3-12 3-18 4-42 3-50 4-97 7-214 2-41 1-11 1-3 2 18 2 44 9 266 3 59 3 40 3 24 3 12 2 4 2 1 4 2 3 4 11 32 5 10 3 3 3 3 4 1 5 1 11 0 5-2 5-2 7-6 5-8 4-10 3-13 5-39 4-58 4-88 7-190 2-33 1-8 1-1 1 6 2 32 8 214 5 98 5 54 3 17 4 13 3 4 3 2 3-1 6-4 2 0 2 1 3 4 8 15 4 6 5 5 7 2 5 1 4-1 3-1 3-2 5-7 8-15 3-3 2 1 2 2 8 17 4 6 4 4 6 3 16 2 22 0 8-1 14-6 5 0 4 0 11 5 7 2 9 2 18 0" stroke="#EDB120"/>
<path d="M1492 2060l101-1 8-1 12-4 3 0 10 4 8 0 7-1 10-4 3-1 12 4 6 0 6-2 9-6 3 0 9 2 4 0 14-2 19-1 9-1 7-4 6-4 5-5 5-8 3-7 3-10 4-21 3-27 3-42 5-119 9-330 2-41 1-7 1 4 2 36 9 327 3 82 3 58 4 47 4 25 3 11 3 8 4 7 4 5 4 4 5 3 6 2 6 1 6 0 6 0 6-2 5-2 8-7 6-9 4-10 4-18 3-22 2-22 4-66 4-106 7-241 2-46 1-12 1-2 1 8 2 39 8 270 3 79 3 57 3 37 4 29 5 19 3 6 4 6 7 6 8 3 8 0 7-4 5-6 4-7 3-10 3-16 4-38 3-47 3-67 7-196 2-35 1-6 1 1 1 9 2 39 9 242 3 50 3 32 2 13 3 11 3 4 6-1 3 2 3 6 8 21 5 8 6 5 10 2 12-1 10-3 7-5 5-6 4-9 3-11 4-25 4-48 4-77 7-173 2-28 1-4 1 3 2 26 8 195 4 71 3 34 3 21 3 13 4 9 3 3 3 1 3-1 7-5 3 0 3 3 7 12 5 7 5 3 8 2 9 0 6-3 5-6 8-14 3-2 3 2 7 14 4 6 5 4 6 2 19 2 22 0 8-2 11-4 5-1 5 1 12 5 8 1 57 1" stroke="#7E2F8E"/>
<path d="M1492 2063l196 0 10-1 13-4 12 3 8 1 8-1 12-4 12 3 6 0 6-1 9-5 3-1 12 2 16-2 18 0 9-1 6-2 6-3 5-4 5-6 6-11 5-17 4-28 3-37 5-107 9-302 2-30 1 0 1 10 2 45 8 274 5 109 4 45 4 24 5 15 4 7 4 4 4 4 5 3 6 2 6 1 7 1 7-1 6-1 6-2 8-6 4-4 3-5 4-10 4-16 3-22 2-22 4-68 10-298 2-36 1-6 1 4 2 32 8 250 5 105 3 36 4 28 5 17 6 10 7 6 8 3 8 1 8-3 6-5 5-7 3-8 3-13 4-33 3-43 10-242 2-25 1-2 1 6 2 34 6 158 4 81 2 27 3 28 3 14 3 7 3 1 5-3 3 1 3 4 7 17 4 7 5 5 8 2 8 1 8-1 7-1 6-2 5-3 5-5 3-4 3-6 3-11 3-18 4-42 4-71 6-140 2-31 1-7 1 0 2 21 8 180 4 63 2 20 3 21 3 12 3 7 4 6 4 1 4-1 6-6 3 0 3 2 7 11 4 5 5 3 6 2 12 0 4 0 3-2 5-5 7-12 3-3 3 2 10 17 3 3 4 2 9 1 21 1 16 0 9-1" stroke="#77AC30"/>
<path d="M1492 2057l163-1 10 0 13-4 13 3 8 1 7-1 13-4 12 3 6 0 6-1 8-5 4-1 13 2 14-2 18 0 9-1 6-2 6-3 5-4 5-6 6-10 5-18 4-27 3-34 5-92 9-246 2-30 1-5 1 2 2 26 9 245 3 63 3 45 4 38 4 21 3 9 3 6 4 6 4 4 9 5 12 3 12 0 11-4 8-5 6-7 4-9 4-14 5-35 4-53 4-81 7-180 2-33 1-9 1-1 1 5 2 28 9 224 5 83 3 30 4 24 5 15 3 5 4 5 6 4 7 3 8 0 7-2 6-5 4-5 3-7 3-11 4-26 4-46 10-198 2-25 1-5 1 1 2 19 10 197 3 39 3 26 3 15 3 7 3 2 5-1 3 2 3 4 8 17 4 5 6 4 9 2 12 0 11-2 7-4 6-6 4-7 3-9 4-20 4-38 4-59 7-129 2-20 1-3 1 2 2 19 8 145 4 55 5 39 3 12 4 9 3 4 4 1 3 0 7-4 3 0 3 3 7 9 4 4 5 3 7 2 10 0 6-2 5-3 9-12 3-2 2 1 2 2 10 14 4 3 5 1 16 2 26 0 8-1 12-3 5-1 5 1 12 3" stroke="#4DBEEE"/>
<path d="M1492 2056l89-2 8-1 12-4 3 0 10 4 8 0 7-1 10-4 3-1 12 4 6 0 6-2 8-5 3-2 3 0 7 2 4 1 14-3 19 0 9-2 7-4 6-4 5-6 5-9 3-7 3-11 4-23 3-30 3-45 5-128 9-340 2-40 1-6 1 5 2 40 9 340 3 84 3 60 4 49 4 27 3 12 3 8 4 7 5 7 4 3 5 3 5 2 6 1 6 1 6-1 6-2 5-3 8-7 6-10 4-11 4-19 3-24 2-24 4-72 4-112 7-249 2-45 1-11 1-1 1 9 2 42 8 281 3 81 3 59 3 39 4 31 5 20 4 8 4 6 7 6 7 2 8-1 7-4 5-6 4-8 3-11 3-18 4-41 3-51 10-273 2-34 1-5 1 2 1 11 2 41 9 250 3 52 3 34 2 14 3 11 3 4 6-1 3 2 3 7 8 22 5 8 6 5 4 1 6 1 12-1 10-3 7-5 5-7 4-10 3-12 4-28 4-51 4-81 7-179 2-27 1-3 1 4 2 28 8 203 4 73 3 35 3 22 3 14 4 9 3 4 3 1 3-1 7-6 3 0 3 4 8 14 4 5 5 4 8 2 9 0 6-3 5-6 8-15 3-2 3 3 7 14 4 6 5 4 6 2 18 2 22 0 8-1 12-5 5-1 5 1 12 5 9 2 68 1" stroke="#A2142F"/>
<path d="M1492 2060l110 0 8-1 12-4 13 3 8 1 7-1 10-4 3 0 11 3 7 0 6-1 11-6 13 2 15-2 19 0 10-1 7-3 6-4 5-4 5-7 3-6 3-9 4-19 3-25 3-39 5-110 8-256 2-35 1-5 1 5 2 34 8 255 3 74 3 51 4 42 4 23 3 9 3 7 4 6 4 4 9 6 6 1 6 1 13 0 6-1 6-3 8-5 6-8 4-9 4-16 4-30 4-54 4-88 7-208 2-39 1-9 1-1 1 7 2 37 8 233 5 96 3 33 4 26 5 17 3 5 4 5 6 5 8 3 8 0 8-3 6-5 4-6 3-8 3-12 4-30 3-39 4-79 6-146 2-29 1-5 1 2 2 24 10 226 2 29 3 30 3 16 3 8 3 2 6-2 3 2 3 5 7 16 5 7 6 4 10 2 13-1 11-3 7-4 5-5 4-8 3-10 4-24 4-44 3-51 7-150 2-23 1-3 1 3 2 25 7 150 5 75 2 19 3 19 4 14 4 7 3 3 3 0 3-1 7-5 3 0 3 3 7 10 4 5 6 3 8 1 9 0 6-2 5-4 8-13 3-1 3 2 7 11 4 5 4 3 6 2 19 1 23 0 8-1 12-4 4 0 4 0 12 4 7 2 50 0" stroke="#0072BD"/>
<path d="M1492 2062l96-1 8-1 11-4 3-1 12 4 8 1 7-2 10-4 3-1 3 1 9 3 6 0 6-2 9-6 3-1 10 2 4 0 14-2 19-1 8-2 7-3 6-5 5-6 5-9 3-8 3-11 4-25 3-30 3-46 5-126 9-336 2-43 1-9 1 1 1 12 2 48 9 335 3 81 3 58 4 47 4 27 3 12 3 8 4 7 5 7 5 4 5 3 5 1 6 1 6 0 6-1 5-2 5-3 7-6 6-11 4-11 4-20 5-49 4-72 4-110 7-246 2-47 1-13 1-4 1 5 2 36 9 303 3 78 3 57 3 37 4 31 5 19 3 7 4 6 7 7 7 2 7 0 7-4 5-5 4-8 3-9 3-16 4-35 3-45 4-88 7-200 2-36 1-8 1 0 1 8 2 35 9 248 3 56 3 37 3 21 3 11 3 4 6 0 3 4 10 26 3 7 3 4 6 4 4 2 6 1 11-1 10-4 7-5 5-7 4-10 3-13 4-28 4-51 4-80 7-177 2-29 1-6 1 2 1 8 2 34 7 178 5 92 3 33 3 22 3 13 4 9 3 3 3 1 3-1 6-5 3 0 3 4 8 14 4 5 6 5 7 1 9 1 6-3 5-6 8-15 3-2 2 1 2 2 7 14 4 6 5 4 6 2 18 2 21 0 8-1 12-5 5-1 5 1 13 5 8 2 60 1" stroke="#D95319"/>
<path d="M1492 2061l200-2 12-1 14-5 3 1 10 3 7 1 7-1 10-5 4-1 11 4 6 0 6-1 9-7 3-1 3 0 7 2 4 0 14-3 18 0 8-2 6-3 6-4 5-6 4-6 4-8 3-9 5-25 4-38 3-46 3-67 3-91 8-314 2-52 1-14 1-5 1 6 2 40 9 344 3 90 3 65 4 56 4 31 5 21 4 9 4 7 4 4 5 4 5 3 6 2 6 0 6 0 6-2 5-3 8-7 4-5 3-6 4-12 4-20 5-49 4-72 4-110 8-283 2-42 1-9 1 0 1 9 2 43 9 314 5 119 3 43 4 36 5 23 3 8 3 6 6 7 4 2 4 2 4 1 4-1 7-3 6-7 4-9 3-11 3-18 4-42 3-50 4-96 7-203 2-31 1-4 1 3 1 11 2 41 9 255 3 56 3 36 3 22 3 10 2 3 2 1 4 1 3 3 3 6 7 21 4 9 3 4 3 3 4 2 4 1 6 1 6 0 6-2 5-2 7-4 6-8 4-8 4-16 4-28 4-51 4-80 7-183 2-35 1-9 1-3 1 5 2 28 8 206 4 77 5 57 3 18 3 11 3 7 2 2 2 1 4-1 7-5 3 1 3 4 7 13 4 6 5 4 5 2 10 2 4-1 3-2 3-2 3-4 8-15 2-3 2 0 3 2 11 21 3 4 4 2 6 2 11 1 18 1 11-1" stroke="#EDB120"/>
<path d="M1492 2055l118-1 9-1 12-3 13 3 8 1 7-1 13-4 11 3 7 0 6-1 11-6 14 2 14-2 19 0 9-1 7-3 6-3 5-4 5-6 3-6 3-7 4-17 3-21 3-32 5-94 9-261 2-32 1-5 1 4 2 30 9 260 3 63 3 45 4 35 4 19 3 9 3 6 4 5 4 4 9 5 12 3 12-1 11-3 8-5 6-7 4-8 4-14 3-17 2-17 4-52 4-84 7-191 2-35 1-9 1-1 1 6 2 33 8 215 3 61 3 43 3 29 4 22 5 14 3 5 4 4 7 5 8 2 8-1 7-2 5-5 4-6 3-7 3-13 4-29 3-37 3-53 7-156 2-26 1-5 1 2 2 21 10 209 3 39 3 24 2 10 3 8 3 3 6-1 3 1 3 5 8 17 5 6 6 3 10 2 12-1 10-2 7-4 5-5 4-7 3-8 4-20 4-37 4-61 7-137 2-22 1-3 1 3 2 22 8 155 4 55 2 18 3 19 4 14 4 7 3 3 3 0 3-1 7-4 3 0 3 3 7 9 4 4 5 3 8 2 10 0 6-2 5-4 8-12 3-1 3 2 7 10 4 5 4 3 6 2 18 1 24 0 8-1 11-4 5 0 4 0 12 4 7 1 41 1" stroke="#7E2F8E"/>
<path d="M1492 2055l147-1 9-1 12-5 3 1 10 4 8 0 7-1 10-5 3-1 11 5 7 0 6-2 8-6 3-2 2 0 7 3 4 1 15-4 18 1 10-2 7-3 6-5 5-6 5-8 3-8 3-10 4-22 4-41 3-53 5-151 8-351 2-47 1-5 1 7 2 49 8 351 3 100 3 69 4 55 4 28 5 19 4 9 4 6 4 4 5 4 6 3 6 1 7 1 6-1 6-1 6-3 8-8 4-5 3-6 4-12 4-21 4-40 4-74 4-121 7-286 2-53 1-11 1 0 1 11 2 52 8 321 5 128 3 44 4 34 5 21 6 13 7 7 4 2 4 2 8 0 4-1 4-3 6-6 4-8 3-11 3-16 4-41 3-53 3-77 7-232 2-39 1-6 1 4 2 35 9 287 3 61 3 39 3 22 3 10 1 1 2 1 6-3 2 1 1 1 3 7 7 22 5 10 3 3 4 2 10 2 12-1 6-1 5-3 7-5 5-8 4-10 3-13 4-32 4-61 3-70 7-205 2-31 1-4 1 6 2 35 7 207 4 86 2 29 3 29 4 22 4 10 3 5 2 1 2 0 3-1 7-8 2 0 1 0 3 4 7 15 4 5 5 4 7 2 11 1 3-1 3-2 5-7 8-17 2-2 1 0 3 3 7 16 3 6 4 4 5 2 17 2 27 0 8-1 12-5 4-1 4 1 14 6 7 1 10 1" stroke="#77AC30"/>
<path d="M1492 2056l124-2 9-1 13-5 3 0 10 4 8 1 7-2 10-5 3 0 12 4 6 0 6-2 8-7 3-1 3 0 7 2 4 0 14-3 18 0 9-2 7-4 6-6 5-6 5-10 3-8 3-12 4-25 4-44 3-55 5-150 9-389 2-46 1-7 1 6 2 43 10 424 3 91 3 63 4 52 4 29 3 13 3 9 4 8 4 6 4 4 5 4 6 2 6 2 6 0 6-1 6-3 5-3 7-8 6-12 4-14 4-23 5-59 4-85 4-131 7-285 2-51 1-12 1-1 1 9 2 47 9 355 5 131 3 47 4 39 5 24 3 9 4 7 6 7 7 4 4 1 4 0 7-4 6-7 4-9 3-12 3-18 4-43 4-75 10-314 2-38 1-7 1 3 1 11 2 46 9 287 3 62 3 41 3 23 3 11 2 3 2 1 4-1 3 3 3 7 8 26 5 10 3 4 3 2 4 2 6 1 6 0 6-1 5-2 5-2 7-7 5-8 4-12 3-14 4-34 4-61 4-95 7-205 2-30 1-4 1 4 2 31 8 231 4 87 3 42 3 28 3 16 4 13 3 4 3 1 3-1 7-6 3 1 3 4 7 14 5 8 5 4 7 3 9 0 3-1 3-2 5-6 9-19 2-2 1 0 3 3 8 18 4 7 4 4 6 2 18 2 22 0 8-1 12-6 5-1 5 2 12 5 6 2 10 1 24 0" stroke="#4DBEEE"/>
<path d="M1492 2063l100-1 9-2 12-5 3 1 10 4 8 0 7-1 10-5 3-1 12 5 6 0 6-2 8-7 3-2 3 0 7 3 4 0 14-3 19-1 9-2 7-4 6-5 5-7 5-11 3-9 3-12 4-28 3-34 3-54 5-148 9-396 2-48 1-7 1 5 2 43 9 394 3 100 3 72 4 59 4 32 3 15 3 10 4 9 5 7 4 4 5 4 5 2 6 2 6 0 6-1 6-2 5-3 4-4 4-5 6-11 4-13 4-23 3-29 2-28 4-84 4-130 7-290 2-53 1-13 1-2 1 9 2 48 9 360 5 131 4 58 4 33 5 20 3 8 4 6 7 7 7 3 4 0 4-1 4-2 3-2 5-7 4-11 3-12 3-21 4-49 3-59 10-317 2-40 1-7 1 2 1 11 2 46 9 291 3 63 3 40 3 23 3 10 2 3 2 0 4 0 3 2 3 7 8 26 5 11 3 3 3 2 4 2 6 1 6 0 6-1 5-2 5-2 7-7 5-8 4-11 3-14 4-33 4-59 4-96 7-207 2-32 1-5 1 4 2 31 8 235 5 103 3 36 3 23 3 14 4 10 3 3 3 0 3-1 6-6 3 0 3 4 7 15 5 8 5 4 8 3 9 0 3-1 3-3 5-7 8-17 2-2 1 0 3 3 8 18 4 7 4 3 6 3 18 2 22 0 8-2 12-5 5-1 5 1 12 6 8 2 57 1" stroke="#A2142F"/>
<path d="M1492 2061l171-1 10-2 10-4 3-1 12 5 8 0 8-1 9-5 3-1 3 1 9 4 6 0 6-2 9-7 3-2 3 1 6 2 4 1 15-4 18 0 9-2 6-3 6-4 5-6 5-9 6-17 5-28 4-43 3-56 5-155 8-371 2-60 1-13 1-1 1 13 2 58 9 408 5 139 4 60 4 32 5 21 4 10 4 6 4 5 5 4 6 3 6 2 7 0 6 0 6-2 5-3 8-8 4-6 3-7 4-13 4-22 3-30 2-28 4-88 4-137 7-297 2-46 1-8 1 5 2 42 9 371 5 135 3 48 4 37 5 23 3 8 3 6 6 8 4 3 4 1 4 1 4 0 4-2 4-2 6-7 4-9 3-11 3-18 4-42 3-55 4-110 7-241 2-33 1-2 1 8 2 43 9 301 3 65 3 41 3 23 3 11 1 1 2 2 6-3 3 4 9 28 5 12 3 4 3 3 4 1 5 2 6 0 7-1 6-1 5-3 7-6 6-9 4-11 3-14 4-34 4-62 4-100 6-189 2-40 1-9 1 1 1 9 2 41 7 218 4 90 2 30 3 32 3 19 4 14 3 6 2 2 2 0 4-1 6-7 3 0 3 3 8 17 4 6 5 5 7 2 10 0 3-1 3-1 5-7 8-18 3-3 2 1 2 3 6 15 4 7 4 5 5 3 17 2 26 0 8-2 12-5 4-1 4 1 6 3" stroke="#0072BD"/>
<path d="M1492 2056l123-1 8-1 10-5 3 0 12 4 8 1 8-2 9-4 3-1 3 0 9 4 6 1 6-2 9-7 3-1 3 0 6 2 4 1 14-3 19 0 10-2 7-4 6-5 5-6 5-10 3-8 3-11 4-26 3-32 3-52 5-150 8-364 2-58 1-11 1 1 2 40 9 399 3 98 3 67 4 53 4 28 5 19 4 9 4 6 4 4 5 4 6 3 6 1 7 0 6 0 6-2 5-3 8-7 4-6 3-6 4-12 4-20 3-27 2-27 4-83 4-133 7-293 2-44 1-5 1 6 2 45 8 330 3 95 3 66 3 42 4 33 5 21 6 12 6 7 4 3 4 1 8 0 4-1 4-2 6-7 4-8 3-10 3-16 4-40 3-52 4-107 7-237 2-31 1 0 1 9 2 45 9 295 3 60 3 37 2 15 3 12 1 2 2 2 2 0 4-3 2 0 1 1 3 7 8 25 5 10 3 3 3 2 4 1 6 1 12 0 6-2 5-3 7-5 5-8 4-10 3-13 4-31 4-60 4-97 6-186 2-38 1-8 1 2 2 29 8 238 4 85 2 28 3 28 4 21 4 10 3 4 2 1 2 0 3-2 6-6 3-1 3 4 7 15 4 6 5 4 8 3 6 0 5 0 3-1 3-2 5-8 7-16 3-3 1 1 2 2 7 16 4 8 4 4 6 2 19 2 24 0 7-1 12-6 4-1 4 1 11 6 7 2 10 0 28 1" stroke="#D95319"/>
<path d="M1492 2062l178-2 10-1 10-4 3-1 3 0 9 4 8 1 8-2 10-5 3 0 11 4 6 1 6-2 9-7 3-2 3 0 6 3 4 0 15-3 18 0 9-2 6-3 6-4 5-6 5-8 6-16 5-26 4-41 3-51 5-146 9-396 2-44 1-5 1 9 2 50 8 358 3 105 3 74 4 61 4 32 5 22 4 9 4 7 4 5 5 4 5 3 6 2 6 0 7 0 6-2 6-3 8-7 4-6 3-6 4-13 4-21 3-27 2-26 4-82 4-130 7-290 2-51 1-10 1 1 1 12 2 53 8 327 5 137 3 48 4 38 5 24 3 8 3 6 6 8 4 3 4 1 4 1 4 0 7-3 6-6 4-7 4-13 3-16 4-40 4-72 10-318 2-37 1-5 1 4 2 37 9 293 3 65 3 43 3 24 3 11 1 2 2 2 6-2 3 2 3 8 7 22 4 9 3 5 3 2 4 2 5 1 6 1 7-1 6-2 5-2 7-5 6-9 4-10 3-13 4-32 4-58 4-94 7-208 2-30 1-2 1 6 2 36 7 210 4 91 2 31 3 33 3 19 4 15 3 6 2 2 2 1 4-2 7-7 3 1 3 4 7 15 4 6 5 4 7 2 10 1 4-1 3-3 5-7 8-17 2-2 1 0 3 4 10 21 4 5 5 3 16 2 27 0 9-1 13-6 5 0" stroke="#EDB120"/>
<path d="M1492 2055l182-1 11-2 11-4 3-1 12 4 8 1 7-1 10-5 3-1 3 1 9 3 6 1 6-2 9-7 3-2 13 3 15-3 17 0 9-2 6-3 6-5 5-5 5-9 6-16 5-26 4-40 3-49 3-74 3-102 8-345 2-53 1-11 1 1 1 12 2 53 9 382 3 91 3 64 4 53 4 29 5 19 4 9 4 6 4 5 5 4 5 2 6 2 6 0 6 0 6-2 5-3 8-7 4-6 3-6 4-13 4-21 3-26 2-26 4-78 4-123 7-280 2-56 1-16 1-5 1 5 2 39 9 346 5 132 3 48 4 39 5 24 3 9 3 6 6 7 4 3 4 2 4 1 4-1 4-1 4-3 6-7 4-9 3-12 3-19 4-45 3-55 4-107 6-198 2-43 1-10 1-1 1 8 2 39 9 282 3 63 3 42 3 23 3 12 3 4 6-1 3 4 10 30 4 9 3 4 3 3 4 2 5 1 6 0 6 0 6-2 5-2 7-6 6-8 4-11 3-13 3-21 2-20 4-63 10-272 2-36 1-7 1 1 1 9 2 38 7 203 5 103 2 27 3 28 3 17 3 10 3 5 2 2 2 1 3-1 7-6 3 0 3 4 8 16 4 6 5 4 7 2 10 1 3-1 3-2 5-7 8-17 3-2 2 1 2 3 10 21 4 4 5 3 6 1 10 1 26 1 9-2 13-6" stroke="#7E2F8E"/>
<path d="M1492 2057l190-1 10-1 11-4 3-1 12 4 8 1 8-2 9-4 3-1 3 1 9 3 6 1 6-2 9-7 3-1 13 3 15-3 17 0 9-2 6-2 6-4 5-5 5-7 6-14 5-22 4-34 3-43 3-65 3-91 8-319 2-51 1-11 1-1 1 10 2 49 8 318 3 92 3 65 4 54 4 30 5 19 4 9 4 6 4 4 5 4 6 3 6 1 7 1 6-1 6-2 5-2 5-4 4-5 6-10 4-12 4-21 3-26 2-26 4-77 4-120 7-255 2-40 1-6 1 4 2 35 9 319 5 119 3 43 4 34 5 22 3 7 3 5 6 7 4 3 4 1 8 1 4-1 4-3 6-6 4-8 3-10 3-16 4-39 3-48 4-96 6-183 2-42 1-10 1-2 1 6 2 36 7 210 4 90 2 31 3 32 3 17 3 7 2 1 6-1 2 2 3 6 7 20 4 9 5 6 7 3 7 1 8 0 7-1 7-3 5-4 5-6 3-5 3-8 3-13 3-21 4-48 4-80 7-187 2-34 1-7 1 0 1 7 2 35 7 187 4 79 5 57 3 17 4 13 3 5 2 2 2 1 3-1 8-7 3 1 3 4 6 12 4 6 5 4 7 2 10 1 4-1 3-2 5-5 8-16 3-3 2 1 2 3 10 19 4 5 4 2 13 2 26 0 10-1 9-3" stroke="#77AC30"/>
<path d="M1492 2053l5 0 5-1 10-7 2-1 3 1 6 2 3 1 16-4 16 2 7-1 6-1 6-2 5-3 5-4 7-10 5-11 4-16 3-21 3-35 4-85 4-144 6-276 2-51 1-6 1 9 2 56 8 355 5 128 4 50 4 24 3 11 3 7 5 8 5 5 5 3 5 3 6 1 7 1 7 0 7-1 6-2 5-3 7-7 6-10 5-15 3-17 4-42 4-82 3-98 6-253 2-58 1-13 1 1 2 38 8 323 3 86 3 56 3 34 4 24 3 11 3 7 4 6 4 4 8 5 8 1 8-1 7-4 5-6 4-8 3-10 3-17 4-46 3-60 8-262 2-43 1-6 1 5 2 40 8 263 3 61 3 37 3 20 3 9 1 1 2 1 2-2 5-5 2 0 1 1 2 4 8 24 3 5 3 4 3 2 4 1 11 1 12-1 10-3 7-5 5-6 4-9 3-11 4-29 4-59 3-72 6-183 2-34 1-3 1 6 2 40 6 184 5 101 3 32 3 19 4 13 5 8 3 1 3 0 3-2 6-8 2-1 3 3 7 14 5 7 6 3 11 1 9 0 5-3 4-6 7-16 2-2 1 0 3 4 6 14 4 6 5 4 9 2 24 1 18 0 6-2 11-5 4 0 4 1 12 5 12 2 229 0" stroke="#4DBEEE"/>
<path d="M1492 2059l120-2 9-1 10-4 3 0 13 4 8 0 7-1 12-5 3 0 9 3 6 1 6-2 9-6 3-2 3 0 7 3 4 0 14-3 18 0 9-2 7-4 6-5 5-6 5-9 3-8 3-10 4-24 3-29 3-45 3-66 3-93 8-317 2-51 1-13 1-2 1 9 2 45 9 350 3 86 3 62 4 51 4 28 3 12 3 9 4 8 4 5 4 4 5 4 5 2 6 1 6 1 6-1 6-2 5-3 8-7 6-10 4-11 4-20 3-24 2-23 4-71 4-110 8-287 2-41 1-7 1 2 1 12 2 47 8 289 3 83 3 60 3 40 4 32 5 21 3 7 4 7 7 6 7 3 4 1 4-1 7-4 5-6 4-9 3-10 3-18 4-40 3-50 4-97 6-182 2-41 1-11 1-3 1 5 2 33 10 281 3 53 3 34 2 14 3 12 3 4 6 0 3 3 10 28 3 6 3 5 6 5 9 2 12-1 10-4 7-5 5-7 4-9 3-12 4-28 4-50 4-80 7-186 2-34 1-8 1-1 1 6 2 32 7 186 5 98 3 36 3 23 3 14 4 10 3 3 3 1 3-1 6-5 2 0 2 0 3 4 7 14 4 5 6 5 7 2 9 0 6-3 5-6 8-15 3-3 2 1 2 2 7 15 4 6 4 4 6 3 17 1 23 1 8-2 13-5 5-1 4 1 12 5 7 2 38 1" stroke="#A2142F"/>
<path d="M1492 2058l166-1 11-1 14-5 3 0 10 4 7 0 7-1 10-4 4-1 11 3 6 1 6-2 9-7 3-1 3 0 7 2 5 0 14-3 18-1 7-2 6-3 6-4 5-6 4-6 6-16 5-24 4-35 3-43 3-62 3-85 9-340 2-50 1-13 1-3 1 6 2 38 10 370 3 82 3 60 4 51 4 29 3 13 3 10 4 8 4 6 4 4 5 3 5 3 6 1 6 0 6-1 6-2 5-3 7-7 6-12 4-13 4-22 5-52 4-75 4-112 7-247 2-53 2-24 1 0 1 10 2 41 9 308 3 79 3 58 3 40 4 33 5 22 3 8 3 5 6 7 7 4 4 0 4 0 4-2 3-2 5-6 4-8 3-11 3-16 4-38 4-65 10-272 2-41 1-11 1-4 1 3 2 28 10 273 3 57 3 38 3 23 3 12 3 4 5 2 3 3 11 30 5 10 3 3 3 3 4 1 5 1 6 0 6 0 5-2 5-2 7-6 5-8 4-11 3-13 4-31 4-53 4-81 7-179 2-33 1-9 1-2 1 5 2 27 8 201 5 93 5 52 3 17 4 12 3 4 3 2 3-1 7-4 3 1 3 3 8 15 4 6 5 4 7 2 9 1 6-3 5-7 8-14 2-3 2 0 3 3 8 15 4 7 4 3 5 3 15 2 24 0 9-1 13-5 4-1 5 1 8 3" stroke="#0072BD"/>
<path d="M1492 2058l10-5 3 0 3 0 9 4 7 0 5-2 9-7 3-1 3 0 6 2 4 1 15-3 19-1 9-3 9-5 8-10 6-13 5-18 4-26 3-33 5-99 4-133 8-351 2-51 1-9 1 2 2 38 10 422 3 91 3 63 4 52 5 33 3 12 4 10 4 6 5 6 5 4 5 3 5 1 6 1 6-1 6-1 5-3 5-4 7-8 6-14 4-16 3-21 4-46 4-80 4-126 7-285 2-55 1-15 1-4 1 7 2 42 9 353 3 88 3 62 4 51 4 28 3 13 3 8 4 8 4 5 7 5 7 1 7-2 6-4 4-6 4-10 3-12 3-19 4-47 3-56 3-79 7-232 2-42 1-9 1 0 2 27 10 311 3 63 3 41 3 23 3 11 3 4 5-1 3 2 3 7 9 28 3 6 4 6 3 2 4 1 11 2 11-3 9-5 6-6 5-10 3-10 3-15 4-37 4-65 10-277 2-34 1-6 1 2 2 27 8 230 5 103 3 37 3 23 4 18 4 8 2 2 3 0 3-1 6-6 3 0 3 4 8 16 4 6 6 5 9 2 8 0 3-1 3-3 4-6 8-17 3-2 3 2 8 18 5 8 6 4 8 2 22 1 15 0 7-2 11-4 5-2 5 2 14 6 13 2 199 1" stroke="#D95319"/>
<path d="M1492 2056l99-1 9-1 10-5 3 0 13 4 8 1 7-2 9-4 3-1 3 0 9 4 6 0 6-2 9-7 3-1 3 0 7 2 4 1 15-3 18-1 8-2 7-4 6-5 5-7 5-10 3-8 3-12 4-26 3-32 3-49 3-73 3-98 8-332 2-51 1-12 1 0 1 10 2 48 10 400 5 122 4 54 4 30 3 14 3 9 4 9 5 7 5 4 5 3 5 2 6 1 6 0 6-1 5-2 5-3 7-7 6-11 4-13 4-21 5-52 4-77 4-119 7-268 2-55 2-22 1 3 2 35 9 331 3 87 3 63 4 54 4 29 5 20 3 7 4 6 7 6 7 3 7-1 4-2 3-2 5-7 4-9 3-12 3-19 4-45 3-54 4-104 6-189 2-42 1-10 1-2 1 6 2 36 10 294 3 56 3 36 2 15 3 12 3 5 6 0 3 4 10 29 3 7 3 5 3 3 3 2 4 1 6 1 11-1 10-4 7-5 5-8 4-11 3-13 4-30 4-55 4-86 7-193 2-35 1-7 1 0 1 7 2 35 7 194 5 102 3 38 3 25 3 15 4 11 3 3 3 1 3-1 6-5 3 0 3 3 8 16 5 7 6 4 7 2 8 0 3-1 3-2 5-6 8-16 3-3 2 1 2 2 7 16 4 6 5 5 6 2 18 2 21 0 8-1 13-6 5 0 4 1 13 5 8 2 57 1" stroke="#EDB120"/>
<path d="M1492 2060l120-1 9-1 12-5 3 1 10 3 8 1 7-1 10-5 3-1 12 4 6 1 6-2 9-7 3-1 9 2 4 1 14-3 19-1 9-2 7-3 6-5 5-6 5-10 3-7 3-12 4-24 3-30 3-48 5-135 9-375 2-48 1-8 1 3 2 40 9 372 3 94 3 66 4 55 4 29 3 13 3 9 4 8 4 6 4 4 5 4 5 2 6 1 7 1 6-1 6-2 5-3 8-7 6-11 4-11 4-20 3-25 2-25 4-76 4-120 7-274 2-53 1-13 1-3 1 7 2 44 9 340 5 122 3 43 4 34 5 22 3 8 4 6 7 7 4 2 4 2 4 0 4-1 7-4 5-7 4-8 3-12 3-18 4-43 3-53 3-76 7-223 2-40 1-8 1 1 1 10 2 43 9 275 3 58 3 37 2 16 3 13 3 4 2 0 4-1 3 2 3 7 8 24 5 9 3 4 3 1 4 2 6 1 12-1 10-4 7-5 5-7 4-10 3-12 4-30 4-53 4-88 7-197 2-32 1-6 1 3 2 29 8 222 4 81 3 39 3 25 3 14 4 11 3 4 3 1 3-1 7-6 3 0 3 4 7 14 4 6 5 4 8 3 10 0 3-1 3-2 5-7 8-16 3-2 3 2 7 16 4 7 4 4 6 2 18 2 24 0 8-1 11-5 5-1 5 1 11 5 7 2 11 1 28 0" stroke="#7E2F8E"/>
<path d="M1492 2059l94-1 9-1 13-4 4 0 10 3 7 0 7-1 9-4 4 0 12 3 6 0 5-2 9-5 4-2 14 2 15-2 17-1 8-2 7-4 6-5 5-6 4-7 3-7 3-9 4-21 4-36 3-43 6-142 8-274 2-48 2-19 1 2 1 11 2 43 9 302 3 77 4 72 4 42 4 25 3 11 3 8 4 7 5 6 4 4 5 2 5 2 6 1 6 0 5-1 5-2 5-2 7-7 6-10 4-12 4-19 5-47 4-65 4-98 8-248 2-38 1-10 1-2 1 6 2 32 10 299 3 68 3 49 3 33 4 28 5 18 3 7 4 6 7 6 7 2 7-1 4-2 3-2 4-5 4-9 3-11 3-17 4-39 3-45 11-262 2-29 1-6 1 1 2 21 10 241 3 54 4 45 3 19 3 9 2 3 6 3 2 2 3 6 9 23 6 9 3 2 4 2 9 2 11-1 9-4 6-5 5-7 4-9 3-12 4-27 4-46 4-71 7-160 2-32 2-13 1 2 1 8 2 30 8 181 5 78 3 30 3 19 3 11 4 9 2 2 3 1 9-4 3 0 3 3 8 13 4 6 6 4 7 2 8 0 6-2 5-6 8-13 2-2 2-1 2 1 2 3 8 14 4 5 5 4 6 1 18 2 19 0 8-1 13-5 5 0 5 1 13 4 9 2 60 1" stroke="#77AC30"/>
<path d="M1492 2061l127-1 9-1 12-3 13 3 8 0 7-1 13-3 12 3 6 0 6-2 11-5 14 2 14-2 19 0 9-2 6-2 6-3 5-4 5-6 6-12 4-14 4-27 3-33 5-94 9-255 2-31 1-5 1 4 2 29 9 255 3 63 3 44 4 36 4 20 3 9 3 6 4 5 4 4 9 5 12 3 12 0 11-4 8-5 6-7 4-8 4-14 3-18 2-17 4-53 4-83 7-187 2-34 1-8 1-1 1 6 2 31 8 210 3 61 3 44 3 29 4 22 5 15 3 5 4 4 7 5 8 2 8 0 7-3 5-5 4-6 3-8 3-12 4-30 3-38 10-204 2-26 1-5 1 2 1 8 2 31 9 187 3 39 3 25 2 10 3 8 3 3 6-1 3 2 3 4 8 17 5 6 6 4 10 1 12 0 10-3 7-4 5-5 4-7 3-8 4-20 4-38 4-60 7-135 2-21 1-2 1 3 2 20 8 152 4 55 3 26 3 16 3 10 4 7 3 3 3 1 3-1 7-4 3 0 3 2 7 10 4 4 5 3 8 2 10 0 6-2 5-5 8-11 3-1 3 1 7 11 4 5 4 2 6 2 17 1 24 1 8-1 12-4 5-1 22 6 33 1" stroke="#4DBEEE"/>
<path d="M1492 2056l15-1 15-4 3 0 11 3 9 1 5-1 9-4 4-1 12 3 5 0 6-1 9-6 4-2 13 2 15-2 16-1 7-1 9-4 8-7 7-10 5-12 4-16 4-27 3-33 3-51 5-132 8-298 2-52 1-15 1-5 1 4 2 34 10 358 3 80 4 73 4 42 5 28 3 10 3 6 4 7 5 5 4 4 5 2 5 2 6 1 6-1 5-1 5-2 5-3 7-7 5-9 4-12 4-19 5-48 4-68 4-105 8-270 2-42 1-10 1-1 1 7 2 38 9 299 3 77 3 56 4 48 4 27 5 18 4 8 4 5 7 5 7 2 7-1 6-4 4-5 4-9 3-11 3-17 4-40 3-48 4-91 7-194 2-31 1-5 1 1 1 10 2 37 10 263 3 49 3 32 2 13 3 11 3 4 5 1 3 3 3 6 9 25 3 5 3 4 3 3 4 2 9 1 11-1 9-4 6-5 5-7 4-9 3-12 4-28 4-48 4-76 7-174 2-35 1-10 1-3 1 3 2 25 8 194 5 91 3 34 3 22 4 16 4 8 2 2 3 1 9-5 3 0 3 3 9 16 4 5 6 4 8 2 7-1 3-1 3-2 4-5 8-14 2-2 2-1 3 2 8 15 5 8 5 3 8 2 19 1 17 0 7-1 13-5 5 0 5 1 14 5 12 2 142 1" stroke="#A2142F"/>
<path d="M1492 2060l105-2 8-1 11-4 3-1 13 4 7 1 7-1 10-5 3-1 3 1 9 3 6 0 6-2 9-6 3-2 14 3 15-3 18-1 8-3 7-4 6-5 5-7 4-8 3-8 3-11 4-24 4-41 3-50 5-134 9-350 2-48 1-12 1-1 2 26 2 59 9 348 3 82 3 59 4 49 4 28 3 13 3 9 4 8 5 7 4 3 5 4 5 2 6 1 6 0 6-1 5-2 5-4 7-7 6-12 4-13 4-23 5-54 4-77 4-116 7-255 2-51 2-22 1 3 1 11 2 46 9 318 3 79 3 57 3 39 4 32 5 20 3 8 4 7 6 6 7 3 7-1 4-1 3-2 5-6 4-9 3-11 3-17 4-39 4-68 10-280 2-40 1-10 1-3 2 19 2 43 9 257 3 56 3 37 3 22 3 11 2 3 6 2 3 4 11 30 3 7 3 4 3 3 4 2 9 2 11-1 5-2 5-3 6-5 5-8 4-11 3-14 4-31 4-55 4-84 7-184 2-33 1-7 1-1 1 7 2 31 8 208 5 92 3 34 3 23 3 13 4 10 2 2 3 1 3-1 6-4 3 0 3 3 8 15 5 8 6 4 7 2 8 0 3-1 3-2 5-7 8-15 3-2 2 1 2 2 8 16 4 6 5 5 6 2 18 1 20 0 8-1 13-5 5-1 5 1 12 6 8 1 51 2" stroke="#0072BD"/>
<path d="M1492 2057l158-1 10-1 10-5 3-1 3 1 9 4 8 0 8-1 9-5 3-1 3 1 9 4 6 0 6-2 9-7 3-1 2 0 7 2 4 1 15-3 18 0 9-2 6-3 6-5 5-6 5-8 6-17 5-27 4-42 3-54 5-149 9-393 2-40 1-2 1 9 2 53 8 357 3 103 3 74 4 60 4 33 3 14 3 10 4 9 4 6 4 4 5 4 6 3 6 1 7 1 6-1 6-2 5-3 4-4 4-5 6-11 4-13 4-22 3-28 2-27 4-85 4-132 7-287 2-47 1-9 1 3 2 37 9 357 3 90 3 63 3 41 4 33 5 20 6 13 6 7 4 2 4 2 4 0 4 0 7-4 6-7 4-8 3-11 3-17 4-41 3-52 4-106 7-234 2-34 1-3 1 6 2 38 9 292 3 64 3 42 3 24 3 11 1 2 2 1 6-1 3 3 10 30 5 10 3 4 3 2 4 2 6 1 12-1 6-2 5-2 7-6 5-8 4-11 3-14 4-32 4-60 4-96 6-183 2-40 1-10 1-1 1 8 2 37 7 210 5 106 2 26 3 28 3 17 4 12 3 4 2 2 2 0 3-2 7-6 3 0 3 5 7 14 4 6 5 5 7 2 10 0 3 0 3-2 4-5 9-19 3-3 2 0 2 3 7 17 4 7 4 4 4 1 6 2 11 1 26 0 8-2 12-5 5-1 4 1 11 5 7 2" stroke="#D95319"/>
<path d="M1492 2063l121-1 9-2 13-4 3 0 10 4 8 0 7-1 9-4 4-1 11 4 6 0 6-2 9-6 3-2 3 0 7 2 4 1 14-3 18-1 9-2 6-3 6-4 5-6 5-9 3-7 3-10 4-21 4-37 3-45 3-68 3-92 9-351 2-37 1-4 2 24 2 58 9 352 3 81 3 57 4 47 4 26 3 12 3 8 4 8 4 5 4 4 5 3 5 2 6 2 6 0 6-1 5-2 5-2 8-8 6-10 4-12 4-20 5-48 4-71 4-112 8-290 2-42 1-9 1 0 1 11 2 44 9 322 3 78 3 56 3 37 4 30 5 19 3 7 4 7 7 6 7 2 7 0 7-4 5-6 4-9 3-11 3-18 4-41 3-50 4-97 7-208 2-31 1-5 1 4 1 12 2 43 9 260 3 55 3 36 3 21 3 10 2 3 6 0 3 3 11 31 5 9 3 3 3 2 9 2 12 0 10-4 7-6 5-7 4-9 3-12 4-28 4-51 4-81 7-187 2-36 1-9 1-3 1 6 2 30 8 210 4 77 3 38 3 25 3 15 4 11 3 4 3 1 3-1 7-5 3 1 3 3 7 14 4 6 6 5 7 2 9 0 6-3 5-6 8-15 2-3 2 0 3 3 8 16 4 6 4 4 6 2 18 2 22 0 7-1 13-6 5 0 5 1 11 5 7 1 11 1 26 1" stroke="#EDB120"/>
<path d="M1492 2057l131-1 8-1 9-5 3 0 3 0 9 4 9 1 8-2 11-5 3 0 9 4 7 1 6-2 8-7 3-1 3 0 6 3 4 0 15-3 19 0 10-2 7-4 6-5 5-6 5-9 3-9 3-11 4-26 3-34 3-55 5-160 8-378 2-47 1-4 1 11 2 58 9 417 5 133 3 43 4 32 3 14 3 9 4 9 4 6 4 4 5 4 6 2 6 2 7 0 6 0 6-2 6-3 8-7 4-6 3-6 5-16 3-17 3-28 2-28 4-89 4-143 6-267 2-55 1-11 1 3 2 41 8 343 3 98 3 68 3 43 4 32 5 20 6 12 7 8 4 2 4 2 8 0 4-2 4-2 6-7 4-8 3-10 3-17 4-42 3-56 3-82 7-250 2-40 1-5 1 6 2 43 9 308 2 44 3 45 3 26 3 12 1 2 2 2 2-1 5-4 2 0 1 2 9 28 5 11 3 4 3 2 4 2 6 1 13-1 6-1 5-3 7-5 6-8 4-11 3-13 4-33 4-64 3-74 7-222 2-31 1-2 1 8 2 41 7 224 4 87 2 29 3 29 3 16 4 13 4 5 2 2 2 0 3-2 7-8 2-1 1 1 2 2 7 16 4 6 5 4 8 3 11 0 3-1 3-2 5-7 8-18 2-2 1 0 3 4 6 15 4 8 4 4 5 2 18 2 26 0 8-1 12-6 4-1 4 1 10 5 6 2 9 1 23 1" stroke="#7E2F8E"/>
<path d="M1492 2052l8 2 8 0 5-1 9-4 4-1 11 3 6 1 6-2 9-6 3-2 3 0 7 3 4 0 14-3 18 0 8-2 5-2 5-3 8-8 6-10 5-14 4-20 3-24 3-38 3-57 5-153 7-290 2-57 1-15 1-4 2 24 2 59 9 358 3 81 3 56 4 45 4 25 3 11 4 10 4 7 5 5 5 4 5 3 5 1 6 1 6-1 5-1 5-2 5-3 7-7 6-11 4-12 4-21 3-28 2-26 4-78 4-121 7-262 2-45 1-10 1 0 1 10 2 46 9 328 3 78 3 54 4 45 4 25 5 16 4 7 4 5 7 5 7 2 7-2 4-2 3-3 4-5 4-10 3-12 3-19 4-46 3-55 10-289 2-34 1-5 1 4 2 31 10 289 3 55 3 36 2 14 3 13 3 4 6-1 3 3 3 7 8 24 3 6 4 5 3 2 4 2 10 1 11-1 9-5 6-5 5-7 4-11 3-13 4-31 4-56 4-88 6-166 2-38 1-10 1-3 1 5 2 31 8 214 5 92 3 32 3 20 4 15 4 7 2 2 3 0 9-7 3 1 3 4 8 15 4 5 6 4 9 2 8 0 5-3 5-7 7-14 2-3 2 0 3 3 8 16 4 6 6 5 8 2 21 1 16 0 7-2 12-5 5-1 4 1 14 6 13 2 179 1" stroke="#77AC30"/>
<path d="M1492 2059l184-1 10-1 12-5 3 1 9 3 9 1 8-1 9-5 3 0 11 4 6 0 7-2 8-6 3-1 3 0 6 3 4 0 15-3 18 1 10-2 6-3 6-4 5-5 5-7 6-14 5-24 4-38 3-50 5-146 8-352 2-47 1-5 1 8 2 51 9 388 5 125 3 41 4 31 5 19 4 9 4 6 4 4 5 4 6 3 6 1 7 1 7-1 6-1 6-3 8-6 4-6 3-5 5-15 3-16 3-25 2-25 4-81 4-131 6-249 2-53 1-12 1 0 2 36 9 352 5 123 3 40 3 25 2 11 3 11 3 7 3 6 6 7 4 2 4 2 4 1 5 0 4-1 4-2 6-6 5-8 3-10 3-15 4-38 3-50 4-106 6-203 2-39 1-6 1 5 2 37 7 233 4 95 4 53 3 20 3 8 1 2 2 0 6-4 2 0 3 6 7 21 4 9 3 4 3 3 8 3 8 0 8 0 8-3 6-3 5-4 4-5 3-6 3-8 3-15 2-14 4-50 4-86 7-206 2-32 1-3 1 7 2 36 7 208 4 82 2 27 3 28 3 16 3 9 4 7 4 2 4-2 7-7 2-1 1 1 3 4 6 12 4 6 5 4 8 3 11 0 6-2 5-7 8-17 2-2 1 0 3 3 6 14 4 7 4 4 4 2 17 2 28 1 9-2 12-6" stroke="#4DBEEE"/>
<path d="M1492 2059l78-1 8 0 12-4 13 3 8 1 7-1 9-3 4-1 11 3 6 0 6-1 12-6 13 2 16-2 20-1 10-2 8-4 7-6 5-7 3-6 3-9 4-18 3-24 3-36 5-99 9-253 2-27 1-3 1 4 2 31 9 253 3 64 3 45 4 38 4 21 3 9 3 6 4 6 5 5 9 5 12 3 12-1 6-2 5-2 7-5 6-8 4-9 4-16 5-38 4-56 4-86 7-185 2-32 1-6 1 0 1 7 2 32 8 209 3 61 3 45 4 37 4 21 5 13 3 5 4 4 7 5 7 1 7 0 7-3 5-4 4-6 3-7 3-12 4-29 3-35 4-69 7-150 2-23 1-3 1 2 1 9 2 31 9 186 3 40 3 25 2 11 3 9 3 3 6 0 3 2 11 21 6 8 7 3 10 1 11-1 10-3 6-4 5-5 4-8 3-9 4-23 4-40 4-63 6-117 2-26 1-7 1-2 1 4 2 21 8 151 5 66 3 23 3 14 3 9 4 6 3 2 3 1 9-5 3 0 3 3 8 11 4 4 5 2 8 2 9 0 6-2 5-5 7-10 2-2 2 0 3 2 8 11 4 5 5 3 6 1 19 1 20 0 8-1 12-4 5 0 5 1 12 3 10 2 78 0" stroke="#A2142F"/>
<path d="M1492 2061l149-2 9-1 10-4 3-1 3 1 10 4 8 0 7-1 12-6 3 1 9 3 6 1 6-2 9-7 3-1 2 0 7 2 4 1 15-4 18 1 9-2 7-4 6-5 5-6 5-8 3-8 3-10 4-22 4-40 3-51 5-146 9-397 2-43 1-4 1 9 2 53 8 359 3 104 3 72 4 60 4 31 3 14 3 10 4 8 4 6 4 4 5 4 5 3 6 1 7 1 6-1 6-2 5-2 8-8 4-5 3-7 4-12 4-21 3-26 2-27 4-81 4-130 7-291 2-50 1-10 1 2 2 36 9 360 5 134 3 47 4 37 5 23 3 8 4 8 6 6 4 3 4 1 4 1 4-1 4-1 4-3 6-7 4-10 3-11 3-20 4-46 3-58 10-319 2-36 1-4 1 5 2 38 9 294 3 64 3 41 3 24 3 11 1 1 2 2 6-3 3 3 10 30 5 11 3 3 3 2 9 3 12-1 6-1 5-2 7-6 6-8 4-10 3-13 4-31 4-58 4-95 7-209 2-28 1-2 1 7 2 37 7 211 4 90 3 42 3 27 3 17 4 11 3 5 2 1 2 0 3-1 7-7 2 0 1 0 3 5 7 14 4 6 5 4 7 3 10 0 4-1 3-2 5-7 8-18 2-2 1 0 3 4 7 16 3 6 4 5 5 2 16 2 27 1 8-2 12-5 5-1 4 1 14 6 14 2" stroke="#0072BD"/>
<path d="M1492 2058l13-5 3 0 10 4 7 0 5-2 8-6 4-2 9 3 4 0 14-3 19 0 10-2 9-5 8-9 6-11 5-16 4-24 3-29 5-91 4-124 8-327 2-42 1-6 1 6 2 44 9 362 3 87 3 61 4 50 2 15 3 16 3 10 4 9 4 7 5 5 5 3 5 3 6 1 6 1 6 0 6-2 5-2 5-4 7-7 6-13 4-14 3-18 4-42 4-74 4-118 7-265 2-48 1-11 1-1 1 10 2 47 9 330 5 113 4 49 4 26 3 12 3 8 4 7 4 4 7 5 7 1 7-1 7-5 4-5 4-8 3-11 3-18 4-42 3-53 10-290 2-36 1-5 1 3 2 31 10 291 3 53 3 34 2 14 3 11 3 3 6-1 3 2 3 7 8 23 3 6 4 5 3 2 4 2 11 1 11-2 9-4 6-5 5-8 4-11 3-14 4-33 4-61 10-258 2-29 1-3 1 5 2 31 7 192 5 100 3 35 3 23 4 16 2 5 3 4 2 2 3 0 3-2 6-5 3 0 3 3 8 16 4 5 6 4 9 1 8 0 5-3 5-6 8-16 2-2 1 0 3 3 8 17 4 6 6 4 8 1 22 2 16-1 7-1 11-5 5-1 4 1 14 6 13 2 199 1" stroke="#D95319"/>
<path d="M1492 2049l5 1 3 1 16-3 20 0 8-2 8-4 8-8 7-12 5-14 4-21 3-27 2-26 4-84 4-136 7-314 2-56 1-11 1 1 2 39 9 387 3 95 3 64 4 52 4 27 3 12 4 10 5 8 5 6 5 3 5 3 6 1 6 1 7-1 6-1 5-2 5-4 7-8 6-13 4-14 3-19 4-44 4-81 4-129 7-283 2-43 1-5 1 6 2 44 8 320 3 91 3 64 4 51 4 27 3 11 3 8 4 7 4 5 7 5 8 1 7-1 7-5 4-5 4-9 3-11 3-19 4-45 3-58 10-311 2-30 1-1 1 9 2 44 9 286 3 57 3 36 2 15 3 11 1 2 2 2 2-1 4-2 2 0 1 1 3 7 8 24 3 7 4 5 3 2 4 1 11 2 11-2 9-4 6-5 5-7 4-10 3-12 4-30 4-57 4-95 6-180 2-37 1-8 1 2 2 28 8 231 5 96 3 33 3 19 4 14 4 7 3 2 3 0 8-8 3-1 3 4 7 14 5 7 6 4 10 2 8 0 5-3 5-8 7-15 3-3 1 0 2 3 8 18 4 6 3 3 3 1 9 2 23 1 15 0 7-2 11-5 4-1 4 1 14 6 14 2 252 1" stroke="#EDB120"/>
<path d="M1492 2059l90-1 8-1 10-4 3 0 12 3 9 1 7-1 9-4 3-1 11 3 6 1 7-2 9-6 3-1 13 3 15-3 21-1 10-3 8-5 7-8 5-9 3-7 3-12 4-25 3-31 3-48 5-132 8-294 2-43 1-9 1 2 2 31 10 354 3 75 3 53 4 43 4 24 3 10 3 7 4 7 4 5 4 3 5 3 5 2 6 1 6 1 6-1 6-2 5-2 8-7 6-9 4-11 4-17 3-23 2-21 4-67 4-104 7-239 2-47 1-13 1-4 1 6 2 35 9 296 3 73 3 52 3 34 4 27 5 17 3 6 4 6 7 6 7 2 8 0 7-4 5-6 4-8 3-9 3-17 4-37 3-47 3-66 7-195 2-35 1-8 1 0 1 7 2 36 9 240 3 52 3 34 3 20 3 9 3 3 5-1 3 2 3 5 8 22 3 5 3 4 6 4 10 2 11-1 10-3 7-5 5-6 4-9 3-11 3-18 2-17 4-54 10-232 2-29 1-5 1 1 2 23 8 193 5 86 3 31 3 19 3 11 4 9 3 3 3 0 3-1 6-5 3 0 3 3 8 14 4 5 6 4 8 1 8 0 6-2 5-6 8-14 3-2 2 1 2 2 7 14 4 5 5 4 6 2 19 1 21 0 8-1 12-5 4 0 5 1 12 4 9 2 67 1" stroke="#7E2F8E"/>
<path d="M1492 2057l174-1 10-1 14-5 13 4 7 0 7-1 10-4 4-1 11 4 6 0 6-2 9-6 3-1 14 2 14-2 18-1 8-1 6-3 6-4 5-5 5-7 6-14 5-22 4-34 3-42 3-62 3-86 8-297 2-50 1-12 1-3 1 6 2 40 9 327 3 82 3 60 4 49 4 27 3 13 3 8 4 7 4 6 4 4 5 3 5 2 6 1 6 1 6-1 6-2 5-2 8-7 6-10 4-10 4-18 5-45 4-66 4-103 8-269 2-39 1-8 1 1 1 10 2 42 8 270 3 79 3 58 3 39 4 31 5 20 3 7 3 5 6 7 4 2 4 1 8 1 7-4 6-6 4-8 3-10 3-16 4-38 3-46 4-91 7-192 2-29 1-4 1 4 2 29 10 263 3 51 3 33 2 14 3 12 3 4 6 1 3 2 3 7 7 19 5 9 3 4 3 2 8 2 12 0 11-3 7-5 6-7 4-9 3-11 4-26 4-46 4-75 7-174 2-33 1-9 1-1 1 5 2 28 8 195 4 72 5 50 3 16 4 12 3 5 2 1 2 1 3-1 7-5 3 0 3 4 7 12 4 6 6 4 7 2 9 0 6-2 5-6 8-14 3-3 2 1 2 2 7 14 4 6 4 3 5 3 15 1 25 1 10-2 14-5 4 0 4 1" stroke="#77AC30"/>
<path d="M1492 2061l106-1 8-1 10-4 3-1 12 4 9 1 7-2 9-4 3-1 3 1 9 4 7 0 6-2 8-7 3-1 12 3 15-3 19 1 10-2 7-4 6-5 5-5 5-9 3-7 3-11 4-23 3-30 3-48 5-139 8-340 2-54 1-12 1 1 2 37 9 373 3 91 3 63 4 49 4 26 3 12 3 8 4 7 4 5 4 4 5 3 6 2 6 2 7 0 6-1 6-2 5-3 8-7 6-10 4-11 4-19 3-25 2-24 4-77 4-124 7-273 2-42 1-5 1 5 2 42 8 308 3 89 3 61 3 40 4 30 5 19 3 7 4 6 7 6 8 3 8 0 4-2 4-3 5-6 4-8 3-11 3-18 4-43 3-55 10-300 2-30 1-1 1 9 2 42 9 275 3 56 3 35 2 14 3 11 1 2 2 1 2 0 4-3 2 1 1 1 3 6 8 24 5 8 3 3 3 2 10 2 12-1 6-1 5-2 7-6 5-6 4-10 3-12 4-29 4-55 4-90 6-174 2-36 1-7 1 1 2 27 8 223 4 78 2 26 3 27 4 19 4 10 3 3 2 1 2 0 3-2 6-6 3 0 3 3 7 14 5 7 5 3 8 2 10 0 3-1 3-2 5-7 7-14 3-3 1 0 2 2 7 15 4 7 4 4 6 2 19 2 24 0 8-2 11-4 4-1 5 1 11 5 8 2 53 1" stroke="#4DBEEE"/>
<path d="M1492 2059l142-1 9-1 11-3 3-1 12 3 8 1 7-1 10-4 3 0 12 3 6 0 6-1 9-6 3-1 13 3 14-3 19 0 9-1 6-3 6-3 5-5 5-6 6-13 4-16 4-29 3-37 3-56 3-79 8-275 2-40 1-8 1 2 2 32 9 302 3 75 3 53 4 42 4 23 5 15 4 7 4 5 4 3 5 3 6 3 6 1 7 0 6-1 6-1 6-3 8-6 6-9 4-10 4-18 3-22 2-22 4-67 4-105 6-193 2-44 1-12 1-3 1 6 2 35 8 249 3 73 3 51 3 34 4 27 5 16 6 10 6 6 8 3 8 0 8-3 6-5 4-7 3-8 3-14 4-33 3-42 4-84 6-158 2-33 1-7 1 0 1 8 2 35 9 223 3 46 3 29 2 13 3 9 3 4 6-2 3 2 3 5 7 17 5 9 6 5 9 2 13-1 11-3 7-4 6-7 4-9 3-11 4-26 4-48 3-55 7-160 2-28 1-4 1 2 2 23 8 180 4 65 2 22 3 22 3 14 4 10 3 4 4 2 3-1 7-5 3-1 3 3 7 12 4 4 5 4 8 2 10 0 6-2 5-5 8-14 3-2 3 3 7 12 4 6 4 3 5 2 17 1 26 0 8-1 12-4 4-1 4 1 16 5 19 1" stroke="#A2142F"/>
<path d="M1492 2062l90-1 8-1 13-4 13 3 8 1 7-1 12-5 3 0 10 4 6 0 5-2 9-6 3-1 3 0 7 2 4 1 14-3 18 0 10-2 7-4 6-4 5-6 5-9 3-7 3-11 4-23 3-30 3-46 5-126 8-294 2-48 1-12 1-2 1 8 2 42 10 353 5 104 4 46 4 24 3 11 3 8 4 7 5 6 5 4 5 2 11 3 6 0 6-1 6-2 5-3 7-7 6-9 4-11 4-20 3-25 2-23 4-72 4-110 7-235 2-39 1-7 1 2 2 30 9 292 3 76 3 54 3 36 4 28 5 19 3 6 4 6 7 6 7 2 8 0 7-4 5-5 4-7 3-10 3-15 4-36 3-44 4-88 7-191 2-28 1-3 1 5 2 31 10 259 3 48 3 31 2 12 3 10 3 4 6-1 3 3 10 25 3 6 3 4 6 4 10 2 12-1 10-3 7-5 5-7 4-10 3-12 4-28 4-51 4-81 6-149 2-32 1-8 1-1 1 6 2 30 7 172 5 89 3 32 3 20 3 13 4 8 3 4 3 0 3-1 6-5 3 0 3 3 8 13 5 6 5 4 8 1 9 0 6-3 4-4 8-14 3-3 2 1 2 2 7 13 4 6 5 4 6 2 19 1 21 0 8-1 12-4 5-1 4 1 13 5 8 1 67 1" stroke="#0072BD"/>
<path d="M1492 2059l137-1 9-1 10-5 3 0 12 4 8 1 8-2 9-5 3 0 3 0 9 4 6 1 6-2 9-8 3-1 12 4 15-4 19 0 9-1 7-4 6-5 5-6 5-9 3-7 3-11 4-23 4-42 3-54 5-152 8-359 2-54 1-10 1 3 2 42 9 394 3 97 3 67 4 53 4 28 5 19 4 9 4 6 4 4 5 4 6 3 6 2 7 0 6-1 6-2 5-2 8-8 4-6 3-6 4-13 4-21 3-28 2-28 4-85 4-135 6-253 2-59 1-15 1-4 1 7 2 46 8 326 3 94 3 65 3 43 4 33 5 21 6 12 6 7 4 3 4 1 4 1 4 0 4-2 4-2 6-7 4-8 3-11 3-17 4-41 4-76 9-292 2-44 1-10 1 1 1 10 2 46 9 290 3 60 3 37 2 15 3 12 1 2 2 2 2-1 4-2 2 1 1 1 3 7 7 22 5 11 3 4 3 2 4 2 5 1 7 0 6-1 6-1 5-3 7-5 6-9 4-10 3-14 4-33 4-61 3-70 7-210 2-36 1-7 1 3 2 30 8 235 4 84 2 28 3 28 3 17 4 13 3 5 2 1 2 1 3-2 7-7 3 0 3 4 7 14 4 7 5 4 8 2 10 1 3-1 3-2 5-7 8-17 3-3 3 3 7 16 4 8 4 4 5 2 17 2 26 0 8-1 12-6 4-1 4 1 11 5 6 2 8 1 16 1" stroke="#D95319"/>
<path d="M1492 2063l136-2 10-1 13-4 3 0 10 3 8 1 7-1 9-4 4-1 11 3 6 1 6-2 9-6 3-1 3 0 7 2 5 0 14-2 18-1 8-2 6-3 6-4 5-6 5-8 3-7 3-9 4-20 4-35 3-42 3-62 3-84 9-316 2-35 1-4 1 4 2 36 10 345 3 77 3 54 4 46 4 25 3 12 3 8 4 7 4 5 4 4 5 3 5 2 6 2 6 0 6-1 5-2 5-2 8-7 6-10 4-11 4-19 5-45 4-66 4-102 8-260 2-40 1-9 1 0 1 8 2 38 9 289 3 73 3 53 3 36 4 29 5 19 3 7 4 6 7 6 7 3 7-1 7-4 5-5 4-9 3-10 3-17 4-38 3-46 4-88 7-187 2-30 1-4 1 2 2 26 10 255 3 52 3 35 3 21 3 10 3 3 5 1 3 3 3 6 8 22 5 8 6 6 9 2 12-1 10-3 7-5 5-7 4-9 3-12 4-26 4-47 4-73 7-169 2-33 1-9 1-2 1 4 2 25 8 188 5 86 5 47 3 14 4 11 3 4 3 1 3 0 7-5 3 1 3 3 8 14 4 5 5 4 7 2 9 0 6-2 5-6 8-14 2-2 2-1 3 3 8 15 4 5 4 4 5 2 16 1 24 1 8-2 13-4 5-1 4 1 11 4 7 2 22 1" stroke="#EDB120"/>
<path d="M1492 2055l134-1 10-1 10-4 4-1 13 4 7 0 7-1 10-4 3-1 3 1 9 3 6 0 6-2 8-6 4-2 3 0 8 2 4 0 14-2 17-2 7-1 6-3 6-4 5-6 5-8 6-16 5-25 4-38 3-45 6-150 9-326 2-42 1-9 1 1 1 9 2 42 10 357 3 78 3 56 4 49 4 27 3 13 3 9 4 8 4 5 4 4 5 4 5 2 6 1 6 1 6-1 5-2 5-3 7-7 6-11 4-12 4-21 5-48 4-69 4-103 8-269 2-45 1-12 1-5 1 4 1 12 2 44 9 297 3 75 3 54 3 38 4 32 5 20 3 8 4 6 6 6 7 3 7 0 4-2 3-2 5-6 4-9 3-11 3-18 4-40 3-48 4-90 7-193 2-34 1-8 1-1 2 18 2 42 9 240 3 53 3 36 3 21 3 11 2 3 6 3 3 4 11 29 5 10 6 5 4 2 5 1 11-1 10-4 7-6 5-7 4-10 3-12 5-38 4-55 11-252 2-28 1-6 1 1 1 7 2 30 8 194 5 88 5 48 3 16 4 12 3 4 3 1 3-1 6-3 3 0 3 3 8 15 5 6 5 4 7 3 8 0 6-3 5-5 9-16 3-2 2 1 2 2 8 15 4 6 4 4 6 2 16 2 22 0 8-1 14-5 5-1 4 1 11 5 7 1 23 2" stroke="#7E2F8E"/>
<path d="M1492 2063l197-1 11-1 11-5 3-1 12 5 8 0 7-1 10-5 3-1 3 1 9 4 5 0 7-2 9-8 3-1 3 1 6 2 4 0 15-3 17 0 9-2 6-3 6-5 5-6 4-6 4-9 3-10 5-27 4-41 3-51 3-77 3-106 8-359 2-53 1-10 1 2 1 14 2 58 8 359 3 103 3 74 4 60 4 34 5 22 4 10 4 7 4 5 5 4 5 3 6 2 6 0 7 0 6-2 5-3 8-8 4-6 3-6 4-13 4-22 3-27 2-26 4-82 4-127 7-291 2-58 1-15 1-5 1 7 2 43 9 360 5 135 3 48 4 38 5 25 3 8 3 6 6 8 4 3 4 2 4 1 4-1 4-1 4-3 6-8 4-9 3-12 3-20 4-46 3-58 3-80 7-237 2-44 1-9 1 0 1 9 2 43 7 237 4 101 2 35 3 35 2 14 3 11 1 2 2 2 5-1 3 2 3 7 7 23 4 10 5 7 3 2 4 2 7 1 8 0 7-2 7-4 6-5 4-6 3-6 3-10 3-16 3-25 4-58 4-92 7-210 2-36 1-6 1 1 2 28 8 235 4 89 5 63 3 20 4 15 3 5 2 2 2 1 3-1 7-7 3 0 3 4 7 15 4 7 5 5 6 2 6 1 5 0 4-1 3-2 5-7 8-18 3-2 2 1 2 3 6 14 4 8 3 4 4 3 8 2 16 1 17 0 10-1" stroke="#77AC30"/>
<path d="M1492 2054l9 3 9 1 6-1 10-5 3 0 11 3 6 1 7-2 8-6 3-1 3 0 7 2 4 0 14-3 18 0 8-1 10-5 8-7 7-11 5-14 4-20 3-24 5-76 5-142 8-315 2-43 1-6 1 4 1 15 2 57 9 348 3 77 3 53 4 42 4 23 3 10 4 10 4 6 5 5 5 4 5 2 6 1 6 1 6 0 6-2 5-2 5-3 7-8 6-12 4-14 3-17 4-40 4-72 4-113 7-256 2-47 1-12 1-1 1 8 2 43 8 287 3 83 3 60 4 48 4 27 3 11 3 8 4 7 4 4 7 5 7 2 7-2 7-4 4-5 4-8 3-11 3-17 4-41 3-50 3-71 7-209 2-35 1-7 1 2 1 11 2 41 9 257 3 53 3 34 2 13 3 12 3 3 6-1 3 2 3 7 8 22 3 6 4 5 3 2 4 2 11 1 11-2 9-4 6-5 5-7 4-11 3-14 4-32 4-58 10-249 2-28 1-4 1 3 2 29 8 208 5 88 3 30 3 19 4 14 4 6 2 2 3 0 3-2 6-5 3 0 3 4 8 15 4 5 6 3 9 2 8 0 5-3 5-6 8-15 3-2 3 2 8 17 4 5 6 4 8 2 22 1 16 0 7-1 11-5 5-1 4 1 14 6 12 1 177 1" stroke="#4DBEEE"/>
<path d="M1492 2063l198-2 11-1 11-4 3 0 12 3 8 1 7-1 10-5 3 0 3 0 8 3 6 1 7-2 9-7 3-1 13 3 15-3 17 0 9-2 6-2 6-5 5-5 4-6 4-8 3-9 5-23 4-37 3-47 3-69 3-96 8-328 2-49 1-9 1 1 1 12 2 54 8 328 3 93 3 67 4 55 4 30 5 20 4 9 4 6 4 4 5 4 5 3 6 2 6 0 7 0 6-2 5-3 8-6 4-6 3-6 4-11 4-19 3-25 2-24 4-73 4-115 7-266 2-53 1-15 1-4 1 5 2 40 9 329 5 122 3 44 4 34 5 22 3 8 3 5 6 7 4 3 4 2 4 0 4 0 4-1 4-3 6-7 4-8 3-11 3-18 4-41 3-52 4-102 6-187 2-41 1-9 1 0 1 8 2 40 7 216 4 92 2 32 3 31 2 13 3 10 3 3 5-1 3 2 3 6 7 21 4 9 5 7 7 3 7 1 8 0 7-2 7-3 6-5 4-5 3-6 3-9 3-14 3-22 4-52 4-84 7-192 2-33 1-6 1 2 2 25 8 214 4 81 5 57 3 18 3 11 4 7 2 2 2 1 3-1 7-6 3 0 3 3 7 14 4 6 5 4 6 2 11 1 4-1 3-2 5-6 8-16 3-2 2 1 2 3 6 13 4 7 3 3 4 3 7 1 15 1 18 1 10-1" stroke="#A2142F"/>
<path d="M1492 2056l82-1 7-1 12-5 3 1 10 3 9 1 7-1 9-5 3 0 11 4 6 0 7-2 8-6 3-1 3 0 6 2 4 1 16-3 21 0 10-3 8-6 7-7 6-11 5-17 4-25 3-32 3-50 5-143 8-328 2-43 1-5 1 6 2 46 8 328 3 94 3 65 4 53 4 28 3 12 3 8 4 8 5 6 4 4 5 3 6 2 6 1 7 0 6-1 6-2 5-2 8-8 6-10 4-11 4-21 4-38 4-70 4-115 7-267 2-48 1-11 1 0 1 10 2 49 8 299 5 122 3 42 4 33 5 20 4 9 4 6 7 5 8 3 8-1 7-3 5-6 4-8 3-10 3-16 4-39 3-50 3-73 7-217 2-36 1-5 1 3 2 33 9 268 3 59 3 37 3 20 3 10 1 2 2 1 6-3 2 1 1 1 3 7 7 20 3 6 3 5 3 2 4 2 10 2 12-1 10-4 7-6 5-7 4-10 3-12 4-31 4-58 10-258 2-28 1-3 1 5 2 32 7 193 5 96 2 24 3 24 4 18 4 8 3 3 3 1 3-1 7-7 3 0 3 4 7 13 4 6 6 4 8 2 9 0 6-3 5-6 8-16 2-2 1 0 3 3 7 15 4 6 5 4 6 2 19 1 22 0 8-1 12-5 4-1 4 1 12 5 9 2 77 1" stroke="#0072BD"/>
<path d="M1492 2060l171-1 9-1 13-4 12 3 8 1 8-1 12-4 12 3 6 1 7-2 8-5 3-1 12 3 16-3 18 1 9-1 7-3 6-3 5-4 5-5 6-12 5-19 3-21 3-34 5-103 9-293 2-30 1 0 1 9 2 44 8 266 5 104 3 35 4 26 3 11 3 8 4 6 4 5 9 6 6 2 6 1 7 1 7-1 6-1 6-2 8-5 7-9 5-12 3-13 3-20 2-20 4-65 3-73 7-216 2-36 1-6 1 4 2 32 8 241 5 102 3 34 4 26 5 17 6 9 6 5 8 3 9 1 8-2 6-5 5-7 3-7 3-13 4-31 3-40 3-59 7-176 2-25 1-2 1 6 2 32 6 154 4 78 2 26 3 26 3 14 3 6 3 1 5-3 3 1 3 4 7 17 4 6 3 3 3 2 8 2 8 1 9-1 7-2 6-2 5-3 4-4 3-5 3-7 3-12 2-12 4-39 4-68 7-155 2-20 1 0 3 38 6 137 4 68 2 23 3 23 3 14 4 10 4 5 4 1 4-1 6-5 3-1 3 3 7 10 4 5 5 3 7 1 11 1 4-1 3-1 5-6 7-11 3-3 3 2 7 12 4 5 4 3 4 2 17 1 28 0 8-1 11-4 4 0 4 0 7 3" stroke="#D95319"/>
<path d="M1492 2058l11-4 3-1 13 5 11 0 5-2 8-4 3-1 3 1 9 4 6 0 6-2 9-7 3-1 3 0 6 2 4 1 15-3 17 0 9-2 5-2 5-3 8-8 6-9 5-14 4-19 4-33 3-44 2-42 5-164 8-360 2-40 1-2 1 11 2 57 9 400 5 134 4 56 4 30 3 13 3 8 5 10 5 7 5 4 5 3 6 2 6 0 6 0 6-1 6-2 5-4 7-7 6-12 4-14 4-23 4-45 4-82 4-131 7-293 2-48 1-8 1 3 2 41 9 363 5 131 4 55 4 30 5 18 4 9 4 6 7 5 7 3 4 0 4-1 7-5 5-6 4-9 3-12 3-19 4-46 3-58 10-321 2-35 1-3 1 7 2 42 9 295 3 62 3 40 3 21 3 10 1 2 2 0 5-2 2 0 1 1 3 6 9 28 3 6 3 4 3 2 4 2 11 1 11-1 9-4 6-5 5-8 4-10 3-12 4-31 4-58 4-96 7-209 2-27 1-1 1 9 2 40 7 213 5 103 3 35 3 22 4 15 4 8 3 2 3 0 8-8 3-1 3 3 8 17 4 6 6 4 9 2 8 0 3-1 3-2 5-7 7-16 3-3 1 0 2 2 8 18 4 7 5 4 8 2 21 2 18-1 7-1 12-5 5-1 4 1 13 6 11 2 161 1" stroke="#EDB120"/>
<path d="M1492 2060l163-1 10-1 11-4 3-1 12 4 8 1 8-2 9-4 3 0 3 0 9 3 6 1 6-2 9-6 3-1 13 2 15-3 17 0 9-1 6-3 6-4 5-4 5-7 6-14 5-21 4-34 3-41 3-62 3-87 8-299 2-47 1-10 1-1 1 10 2 45 10 359 5 105 4 45 4 24 5 17 4 7 4 6 4 4 5 3 5 2 6 2 6 0 6 0 6-2 5-2 8-6 4-5 3-6 4-10 4-17 3-23 2-21 4-66 4-104 8-270 2-37 1-5 1 3 2 33 9 299 3 76 3 54 3 35 4 29 5 18 6 11 6 6 8 3 8 0 7-3 6-6 4-8 3-10 3-16 4-37 3-46 4-92 6-171 2-38 1-10 1-2 1 7 2 33 9 244 3 54 3 36 3 20 3 10 3 3 6 0 3 3 10 25 5 9 6 5 4 2 6 1 12-1 6-2 5-2 7-5 5-7 4-10 3-13 4-30 4-53 3-59 7-175 2-32 1-7 1 0 1 8 2 32 7 175 5 89 2 23 3 24 3 15 4 10 3 4 2 1 2 0 3-1 6-5 3 0 3 3 8 14 4 5 5 4 7 2 10 0 6-2 5-6 8-15 3-2 2 1 2 2 7 14 4 6 4 3 4 2 16 2 26 0 9-1 12-5 4-1 5 1 12 5" stroke="#7E2F8E"/>
<path d="M1492 2062l79-1 7-1 12-4 3 0 10 4 8 0 7-1 10-4 3-1 11 4 6 1 7-2 8-6 3-1 3 0 6 2 4 0 16-3 21 0 10-3 8-5 7-8 5-9 3-8 3-12 4-25 3-33 3-50 5-140 8-311 2-41 1-6 1 6 2 41 9 345 3 83 3 58 4 46 4 25 3 11 3 8 4 7 4 5 4 4 5 3 6 2 6 1 6 0 6 0 6-2 5-3 8-6 6-10 4-10 4-18 3-23 2-23 4-70 4-111 7-253 2-47 1-10 1-1 1 10 2 44 9 314 5 108 3 37 4 29 5 18 3 6 4 6 7 6 8 3 8-1 7-3 5-6 4-8 3-10 3-17 4-40 3-49 3-71 7-205 2-35 1-5 1 3 2 30 10 276 3 51 3 32 2 13 3 10 3 3 6-1 3 2 3 6 8 22 5 8 6 5 10 2 12-1 10-3 7-5 5-7 4-9 3-11 4-27 4-49 4-81 7-182 2-28 1-3 1 5 2 29 7 183 5 95 2 24 3 24 4 19 4 9 3 3 3 1 3-1 7-6 3 0 3 4 7 12 4 6 6 4 8 2 9 0 6-3 5-6 8-15 3-2 3 3 7 14 4 6 5 4 6 2 19 2 22 0 7-1 12-5 5-1 4 1 13 5 9 2 79 1" stroke="#77AC30"/>
<path d="M1492 2055l88-1 7-1 10-5 3 0 12 4 9 1 7-2 9-4 3-1 3 1 8 3 6 1 7-2 9-7 3-1 12 3 16-3 16 0 6 0 10-3 8-6 7-9 5-9 5-17 4-24 3-31 3-50 5-143 8-344 2-51 1-10 1 3 2 41 9 377 3 91 3 62 4 49 4 26 3 11 3 8 4 7 4 6 4 3 5 4 6 2 6 1 7 0 6-1 6-1 5-3 8-8 6-10 4-11 4-20 3-26 2-25 4-80 4-127 7-275 2-39 1-4 1 7 2 45 8 312 3 88 3 61 3 40 4 30 5 19 3 7 4 6 7 6 7 3 8 0 7-4 6-6 4-8 3-9 3-16 4-38 4-71 9-279 2-43 1-9 1 1 2 29 10 303 3 55 3 34 2 14 3 11 1 2 2 1 6-3 2 1 1 1 3 6 8 24 5 9 3 3 4 2 10 2 12-1 10-4 7-5 5-7 4-10 3-12 4-31 4-57 4-93 6-174 2-35 1-6 1 3 2 29 8 225 4 79 2 26 3 26 4 19 4 9 3 4 2 1 2 0 3-2 6-6 3-1 3 4 7 14 4 6 6 4 8 2 10 0 3-1 3-2 4-6 8-16 3-3 3 3 7 15 4 7 5 5 6 1 20 2 22 0 7-1 12-6 4 0 4 0 13 6 8 2 71 1" stroke="#4DBEEE"/>
<path d="M1492 2057l91-1 7-1 12-5 3 1 10 4 9 0 7-1 9-5 3 0 11 4 6 0 7-2 8-6 3-1 3 0 6 2 4 1 16-4 21 1 9-3 9-6 7-8 6-12 5-17 4-25 3-32 3-53 5-149 8-355 2-49 1-8 1 6 2 47 10 424 5 119 4 48 4 25 3 11 3 8 4 7 4 5 4 4 5 3 6 2 6 2 7 0 6-1 6-2 5-3 8-8 6-10 4-12 4-21 3-26 2-27 4-84 4-133 6-250 2-55 1-13 1-2 1 10 2 51 8 323 5 131 3 45 4 34 5 22 4 9 4 6 7 6 7 3 8 0 7-3 6-7 4-8 3-10 3-16 4-41 3-52 4-107 6-203 2-42 1-7 1 3 2 34 9 288 3 63 3 40 3 22 3 11 1 1 2 1 6-3 2 0 1 2 3 7 7 22 3 6 3 5 3 3 4 2 10 1 12-1 10-3 7-6 5-7 4-11 3-12 4-32 4-60 3-69 7-208 2-33 1-4 1 4 2 34 7 208 5 103 2 26 3 25 4 19 4 9 3 3 2 1 2 0 3-2 6-7 2 0 1 0 3 4 7 15 4 5 6 5 8 2 10 0 3-1 3-3 4-5 8-18 2-2 1 0 3 3 7 16 4 7 4 4 6 2 18 2 24 0 8-2 12-5 4-1 4 1 12 6 8 1 69 1" stroke="#A2142F"/>
<path d="M1492 2058l152-1 10-1 13-5 3 1 10 3 8 1 7-1 10-5 3-1 11 4 6 1 6-2 9-7 3-1 3 0 7 2 4 1 14-3 18 0 9-2 6-3 6-4 5-6 5-7 6-16 5-25 4-38 3-49 5-135 9-363 2-42 1-5 1 7 2 44 9 363 3 89 3 62 4 51 4 27 5 18 4 9 4 6 4 4 5 3 5 3 6 2 7 0 6-1 6-1 5-3 8-7 4-5 3-6 4-12 4-20 3-26 2-25 4-77 4-119 7-266 2-47 1-11 1 0 1 11 2 46 9 331 5 116 3 40 4 32 5 20 6 12 6 7 4 2 4 2 4 0 4 0 7-3 6-7 4-7 3-10 3-16 4-37 4-68 10-292 2-35 1-5 1 4 2 31 10 292 3 55 3 34 2 14 3 12 3 3 6-1 3 3 3 7 7 21 5 10 3 3 3 2 4 2 5 1 12 0 6-2 5-2 7-5 6-8 4-10 3-13 4-29 4-55 4-87 7-191 2-28 1-2 1 5 2 31 8 217 4 76 2 26 3 27 3 17 4 12 3 4 2 1 2 1 3-1 7-6 3 0 3 4 7 13 4 6 5 4 7 3 10 0 6-2 5-6 9-18 2-1 1-1 3 3 7 15 4 7 4 4 5 2 17 2 25 0 8-1 12-5 5-1 4 1 13 5 11 2" stroke="#0072BD"/>
<path d="M1492 2058l157-1 9-1 11-4 3-1 12 4 8 1 7-1 10-5 3 0 12 4 6 0 6-2 9-6 3-1 9 2 4 0 14-2 19 0 9-2 6-3 6-4 5-5 5-8 6-15 4-18 4-34 3-43 3-65 3-92 8-317 2-45 1-8 1 3 2 38 9 348 3 86 3 60 4 49 4 26 5 17 4 8 4 6 4 4 5 3 6 3 6 1 7 1 6-1 6-2 6-3 8-7 6-10 4-12 4-21 3-26 2-25 4-79 4-121 6-223 2-50 1-13 1-3 1 8 2 41 8 288 3 83 3 59 3 39 4 30 5 19 6 12 6 6 4 2 4 2 8 0 4-1 4-2 6-7 4-8 3-9 3-17 4-38 3-49 4-98 6-181 2-38 1-7 1 1 1 9 2 41 9 257 3 53 3 34 2 13 3 12 3 3 2 0 4-2 3 2 3 6 7 20 5 10 3 3 3 3 9 2 13 0 6-2 5-2 7-5 6-8 4-10 3-13 4-30 4-56 10-249 2-31 1-5 1 3 2 27 8 208 4 75 2 25 3 26 3 16 4 11 3 4 2 2 2 0 3-1 7-6 3 0 3 3 7 13 4 6 5 4 7 2 10 1 4-1 3-2 5-6 8-16 3-2 3 3 7 14 4 6 4 4 5 2 17 2 26 0 8-1 12-5 4-1 5 1 12 5 7 2" stroke="#D95319"/>
<path d="M1492 2058l82-1 8-1 10-5 3 0 13 4 8 0 7-1 9-4 3-1 3 0 9 4 5 0 7-2 9-7 3-1 13 3 16-3 20-1 10-4 8-6 7-9 5-11 5-17 4-26 4-46 3-56 5-149 8-328 2-49 1-10 1 0 1 11 2 50 9 363 3 89 3 62 4 53 4 28 3 13 3 9 4 9 5 6 5 5 5 3 5 2 6 1 6 0 6-1 5-2 5-3 7-8 6-11 4-12 4-21 5-52 4-76 4-119 7-265 2-53 1-15 1-5 1 4 2 37 9 328 3 85 3 61 4 52 4 28 5 19 3 7 4 6 7 6 7 2 7 0 4-2 3-3 5-6 4-10 3-11 3-19 4-45 3-53 10-291 2-40 1-10 1-1 1 7 2 37 10 291 3 54 3 35 2 14 3 12 3 4 6 1 3 3 10 29 3 7 3 4 6 5 4 2 6 1 11-1 10-4 7-6 5-8 4-10 3-13 4-30 4-54 4-86 7-192 2-33 1-7 1 1 1 9 2 35 7 193 5 100 3 36 3 24 3 14 4 11 3 3 3 1 3-1 6-5 3 0 3 3 8 15 4 6 6 5 8 2 8 0 3-1 3-2 5-6 8-16 3-3 2 1 2 3 7 15 5 8 5 4 6 2 20 1 19 0 7-1 13-6 4 0 5 1 13 5 9 2 74 1" stroke="#EDB120"/>
<path d="M1492 2058l78-1 7-1 9-4 3 0 12 4 9 0 7-1 9-4 3-1 3 1 8 3 6 1 7-2 9-6 3-1 12 2 16-2 22 0 10-3 8-6 7-7 6-11 5-17 4-24 3-33 3-51 5-145 7-284 2-52 1-11 1 1 2 34 9 351 3 85 3 58 4 46 4 24 3 11 3 7 4 7 4 4 4 4 5 3 6 2 6 1 7 0 6 0 6-2 5-2 8-7 6-9 4-10 4-18 3-23 2-22 4-71 4-116 7-257 2-40 1-5 1 5 2 39 8 290 3 82 3 58 3 36 4 29 5 17 3 6 4 6 7 6 8 3 8-1 7-3 6-7 4-7 3-10 3-17 4-40 3-51 10-282 2-28 1-1 1 8 2 40 8 236 3 59 3 39 3 21 3 11 1 1 2 2 2-1 4-2 2 0 1 1 3 6 8 22 5 8 6 5 10 1 12 0 11-4 7-5 5-6 4-8 3-11 4-27 4-51 4-84 6-163 2-35 1-7 1 1 2 25 8 209 4 74 2 24 3 25 4 18 4 8 3 4 2 1 2 0 3-2 6-6 3-1 3 4 7 13 5 6 6 4 8 1 9 0 3-1 3-2 5-6 7-14 3-3 3 2 7 15 4 6 5 4 6 2 20 1 22 0 8-1 11-5 4 0 4 0 13 6 9 1 81 1" stroke="#7E2F8E"/>
<path d="M1492 2062l131-1 68-1 11-1 15-5 4 1 10 3 8 0 5-1 10-5 4 0 12 3 5 0 6-2 9-6 3-2 3 0 8 2 4 0 14-2 16-2 7-1 6-3 6-5 5-5 4-6 4-9 3-9 5-24 4-34 4-59 6-154 9-337 2-47 1-12 1-3 2 20 2 52 9 337 6 148 4 56 4 32 3 15 3 11 4 9 4 6 4 5 5 4 5 2 5 2 6 0 6-1 5-1 5-3 4-4 4-5 6-11 4-13 4-22 5-51 4-71 4-106 8-277 2-49 2-23 1 0 1 9 2 40 9 305 6 143 3 43 4 37 5 25 3 8 3 6 6 8 7 4 4 0 4 0 4-2 3-2 5-7 4-9 3-12 3-19 4-42 3-49 4-92 7-199 2-39 1-10 1-4 1 4 1 10 2 39 10 269 3 53 3 35 3 21 3 11 2 3 5 4 3 4 11 30 4 9 3 4 3 3 4 2 4 2 5 0 6 0 6-2 5-2 7-6 5-7 4-9 4-17 4-29 4-50 4-77 8-199 2-32 1-8 1-2 2 16 2 36 7 178 5 96 5 55 3 19 3 11 3 7 3 2 3 1 8-4 3 1 3 4 8 15 4 6 5 4 5 2 9 1 4-1 3-2 5-5 9-16 2-2 2-1 2 2 2 2 10 19 4 5 4 3 7 2 12 1 17 0 10-1" stroke="#77AC30"/>
<path d="M1492 2056l139-1 9-2 10-4 3-1 12 5 8 0 8-1 9-5 3-1 3 1 9 4 6 0 6-2 9-7 3-1 3 0 6 2 4 1 15-3 18-1 9-2 6-3 6-4 5-6 5-9 6-17 5-28 4-45 3-55 5-153 8-355 2-55 1-11 1 1 1 13 2 57 8 354 3 100 3 71 4 58 4 32 3 14 3 9 4 9 4 6 4 4 5 4 6 3 6 1 7 0 6-1 6-2 5-3 4-3 4-5 6-12 4-13 4-23 3-30 2-28 4-87 4-135 6-249 2-59 1-16 1-6 1 6 2 41 9 356 5 130 3 47 4 36 5 23 3 8 4 7 6 7 4 2 4 2 4 0 4 0 7-4 6-7 4-9 3-11 3-18 4-43 3-55 4-108 6-203 2-45 1-10 1-1 1 9 2 42 9 288 3 62 3 40 3 23 3 10 1 2 2 1 5-1 2 0 1 2 3 6 8 26 5 10 3 3 3 2 4 2 6 1 12-1 6-2 5-2 7-7 5-8 4-11 3-14 4-35 4-62 3-70 7-208 2-36 1-8 1 2 2 26 8 232 5 102 2 26 3 26 3 16 4 12 3 4 2 1 2 1 3-2 6-6 3 0 3 3 8 17 4 6 5 4 7 2 10 0 3-1 3-2 5-6 8-18 3-2 2 1 2 3 6 14 4 7 4 5 6 3 18 2 24 0 7-1 13-6 5-1 4 1 10 5 6 2 8 1 14 0" stroke="#4DBEEE"/>
<path d="M1492 2058l112-1 9-1 10-4 4-1 13 4 7 0 7-1 10-4 3-1 3 0 9 3 6 1 6-3 9-6 3-1 3 0 8 2 4 0 14-3 17-1 8-2 6-3 6-5 5-6 5-9 3-8 3-10 4-22 4-38 3-46 6-152 9-331 2-43 1-9 1 0 2 26 2 56 10 360 5 108 4 50 4 28 3 13 3 9 4 9 5 6 4 4 5 4 5 2 6 1 6 0 5-1 5-2 5-3 7-7 6-11 4-13 4-20 5-50 4-69 4-105 8-273 2-46 2-18 1 4 1 11 2 44 9 302 3 76 3 56 4 49 4 28 5 19 3 6 4 7 6 5 7 3 7-1 4-2 3-3 4-5 4-9 3-12 3-18 4-41 3-48 4-91 7-196 2-35 1-9 1-1 2 18 2 42 9 243 3 55 3 37 3 21 3 12 2 3 6 4 3 4 11 29 6 11 3 3 4 2 9 2 11-1 9-4 6-5 5-8 4-10 3-13 5-38 4-55 11-256 2-29 1-6 1 0 1 7 2 30 8 197 5 90 3 34 3 22 3 14 4 9 2 3 3 1 3-1 6-3 3 0 3 3 8 15 5 7 5 4 7 2 8 0 6-2 5-6 9-16 3-2 2 1 2 2 8 16 4 6 5 4 6 2 17 2 20 0 8-1 14-5 5-1 5 1 12 5 8 2 43 1" stroke="#A2142F"/>
<path d="M1492 2060l164-1 10-2 10-4 3 0 12 4 8 0 8-1 9-4 3-1 3 1 9 3 6 0 6-1 9-7 3-1 3 0 6 2 4 1 15-3 18 0 9-2 6-3 6-4 5-5 5-8 6-15 5-24 4-39 3-49 5-138 8-328 2-52 1-12 1 0 1 11 2 52 9 361 5 123 4 52 4 28 5 19 4 8 4 6 4 4 5 4 6 3 6 1 7 1 6-1 6-2 5-2 8-7 4-6 3-5 4-12 4-20 3-26 2-25 4-78 4-122 7-262 2-40 1-6 1 4 2 38 9 327 5 120 3 41 4 33 5 21 3 7 3 5 6 6 4 3 4 2 8 0 4-1 4-2 6-7 4-8 3-9 3-16 4-38 3-48 4-98 7-213 2-28 1-2 1 7 2 38 9 267 3 57 3 36 3 20 3 10 1 1 2 1 5-2 2 1 1 1 3 6 8 23 4 8 3 3 3 3 4 1 5 1 6 0 7 0 6-2 5-2 7-5 6-8 4-10 3-12 4-30 4-55 4-89 6-167 2-35 1-8 1 1 2 24 8 213 4 80 2 27 3 28 3 17 4 12 3 5 2 1 2 1 4-2 6-5 3-1 3 3 7 14 4 6 5 4 7 2 10 1 4-1 3-2 5-6 8-15 3-3 2 1 2 3 6 13 4 6 4 4 5 3 17 2 26 0 8-2 12-5 4 0 5 1 12 5" stroke="#0072BD"/>
<path d="M1492 2060l142-1 9-1 11-4 3 0 12 3 8 1 7-1 10-4 3-1 12 4 6 0 6-2 9-6 3-1 13 3 15-3 19 0 8-2 6-3 6-4 5-5 5-8 3-6 3-9 4-19 4-33 3-42 5-116 9-311 2-40 1-8 1 2 2 31 10 337 3 73 3 52 4 42 4 24 5 15 4 8 4 5 4 4 5 3 5 2 6 1 7 1 6-1 6-2 5-2 8-7 6-9 4-11 4-18 5-44 4-65 4-102 7-228 2-44 1-11 1-3 1 5 2 34 9 282 5 107 3 39 4 31 5 20 3 7 4 6 6 6 7 3 8 0 7-3 6-5 4-7 3-9 3-14 4-32 4-58 10-249 2-33 1-7 1 0 2 22 10 249 3 50 3 34 3 19 3 9 3 3 5 0 3 2 3 5 8 21 5 8 6 5 4 1 6 1 12-1 10-3 7-5 5-6 4-9 3-11 4-26 4-47 4-74 7-163 2-27 1-5 1 2 2 22 8 184 5 83 2 21 3 23 3 13 4 10 3 4 3 1 3-1 7-4 3 0 3 3 8 13 4 5 5 3 7 2 10 0 6-2 5-6 8-14 3-1 2 0 2 3 7 13 4 5 4 4 5 1 17 2 24 0 8-1 12-4 5-1 4 0 11 5 6 1 18 1" stroke="#D95319"/>
<path d="M1492 2057l183-1 10 0 11-4 3-1 12 4 8 0 8-1 9-4 3 0 12 3 6 1 6-2 9-6 3-1 9 2 4 1 15-3 17 0 9-1 6-2 6-4 5-4 5-6 6-12 5-19 4-29 3-38 5-109 9-320 2-45 1-9 1 1 2 32 9 318 3 79 3 56 4 44 4 24 5 16 4 7 4 5 4 4 5 3 6 2 6 2 7 0 6-1 6-1 5-2 8-6 4-5 3-5 4-11 4-17 3-23 2-22 4-70 4-108 7-232 2-34 1-4 1 5 2 36 9 291 5 102 3 36 4 28 5 17 6 11 6 5 8 4 8 0 8-3 6-6 4-6 3-9 3-14 4-34 3-42 4-87 6-167 2-37 1-8 1-1 1 8 2 36 7 191 4 79 2 26 3 26 2 10 3 8 3 1 5-1 3 1 3 5 7 19 4 7 5 5 8 3 8 1 8-1 8-2 6-2 5-4 4-5 3-5 3-8 3-13 3-22 4-49 4-79 6-147 2-30 1-6 1 1 2 23 8 190 4 69 2 23 3 24 3 14 4 10 3 5 4 1 4-1 6-5 3-1 3 3 7 12 4 5 5 4 8 2 10 0 6-2 5-5 8-14 3-3 3 3 7 13 4 6 4 3 4 2 15 1 28 1 9-2 13-4" stroke="#EDB120"/>
<path d="M1492 2061l45-1 6-1 9-4 4-1 13 4 8 1 6-1 10-5 3-1 3 1 9 3 5 0 6-1 10-8 3-1 14 2 15-3 20-1 5-2 5-2 8-7 7-10 5-12 5-21 4-29 3-36 3-54 5-141 9-358 2-46 1-10 1-1 2 30 2 61 9 356 3 84 3 61 4 51 5 34 3 12 3 8 4 8 5 6 5 5 5 2 5 2 6 1 6 0 5-2 5-2 5-4 7-9 5-11 4-14 4-24 5-59 4-82 4-121 7-260 2-51 1-14 1-5 1 4 1 12 2 49 9 325 3 81 3 59 4 50 4 29 5 19 3 7 4 6 6 6 7 2 7 0 4-3 3-2 4-6 4-9 3-12 3-19 4-42 3-50 4-97 7-212 2-39 1-9 1-1 1 6 2 34 10 288 3 57 3 38 3 23 3 11 2 3 6 3 3 4 11 32 3 7 4 5 3 3 4 2 9 1 11-1 9-5 6-6 5-8 4-12 3-15 4-34 4-58 4-88 7-188 2-31 1-7 1 1 1 7 2 33 8 213 5 95 3 35 3 23 3 14 4 10 2 3 3 1 3-1 6-4 3 0 3 3 8 16 5 7 6 5 8 2 7 0 3-1 3-2 5-7 8-16 3-2 2 1 2 2 8 17 5 7 5 4 7 2 19 2 17 0 8-2 12-5 5-1 5 1 14 6 11 2 110 1" stroke="#7E2F8E"/>
<path d="M1492 2055l136-1 10-1 13-4 13 3 7 1 8-2 12-4 3 0 9 3 6 1 6-2 9-6 3-1 14 2 14-2 18-1 9-2 6-2 6-5 5-5 5-7 6-16 4-18 4-34 3-41 3-61 3-84 8-287 2-46 1-12 1-2 1 8 2 40 9 316 3 79 3 57 4 47 4 26 3 12 3 8 4 7 4 5 4 4 5 3 5 2 6 1 6 1 6-1 6-2 5-2 8-7 6-9 4-11 4-17 5-44 4-65 4-100 8-260 2-37 1-7 1 2 1 11 2 42 8 261 3 76 3 55 3 37 4 30 5 19 3 7 4 6 7 6 7 3 8 0 7-4 5-6 4-8 3-9 3-16 4-38 3-45 4-88 6-165 2-37 1-10 1-3 1 4 2 30 10 254 3 49 3 31 2 13 3 12 3 4 6 0 3 3 11 27 5 8 6 4 9 2 12 0 10-4 7-5 5-6 4-9 3-11 4-25 4-46 4-73 7-168 2-31 1-7 1-1 1 5 2 29 8 189 4 68 3 33 3 21 3 13 4 10 3 3 3 1 3-1 6-4 2-1 2 1 3 3 7 13 4 5 6 4 7 2 9 0 6-2 5-6 8-14 3-2 2 0 2 3 7 13 4 6 4 3 6 2 17 2 23 0 8-1 13-5 5 0 4 0 11 5 6 1 23 2" stroke="#77AC30"/>
<path d="M1492 2061l65-1 7-2 9-4 3 0 12 4 9 1 7-2 9-4 3-1 3 0 8 4 6 1 7-2 9-7 3-2 12 4 16-4 16 1 6-1 10-3 8-6 7-9 6-13 5-20 4-29 3-39 3-59 5-166 7-320 2-58 1-12 1 0 2 38 9 394 3 98 3 68 4 54 4 29 3 13 3 9 4 8 5 6 4 4 5 3 6 3 6 1 6 0 6-1 6-2 5-3 8-7 6-11 4-12 4-21 3-27 2-26 4-83 4-132 7-289 2-45 1-6 1 5 2 43 9 361 5 127 3 43 4 34 5 21 4 9 4 6 7 7 4 1 4 1 4 0 4-1 7-4 5-7 4-9 3-12 3-19 4-47 3-59 10-318 2-32 1-1 1 9 2 43 9 292 3 60 3 38 2 16 3 12 1 2 2 2 2 0 4-2 2 0 1 1 3 7 8 25 3 6 3 5 3 3 4 2 10 1 11-1 10-4 7-6 5-7 4-10 3-13 4-32 4-59 4-96 6-183 2-39 1-8 1 1 2 27 8 235 5 100 2 25 3 25 4 18 4 8 3 3 3 1 3-2 6-6 3-1 3 4 7 14 5 8 6 4 8 2 9 0 3-1 3-2 5-8 7-16 3-3 1 1 2 2 8 18 4 7 5 4 6 2 20 1 21 0 7-1 12-6 4-1 5 1 12 6 10 2 93 1" stroke="#4DBEEE"/>
<path d="M1492 2056l154-2 10-1 10-4 3-1 12 4 8 1 8-1 9-5 3-1 3 1 9 3 6 1 6-2 9-7 3-2 3 1 6 2 4 0 15-3 18 0 9-2 6-3 6-5 5-6 5-8 6-17 5-29 4-44 3-56 5-154 8-360 2-55 1-12 1 1 2 37 9 393 3 101 3 72 4 58 4 31 3 14 3 10 4 8 4 6 4 5 5 4 6 2 6 2 7 0 6-1 6-2 5-3 4-4 4-5 6-11 4-13 4-23 3-30 2-28 4-88 4-136 7-287 2-42 1-6 1 5 2 43 9 360 5 132 3 46 4 36 5 24 3 8 3 5 6 8 4 2 4 2 4 1 4 0 4-2 4-2 6-7 4-9 3-11 3-19 4-43 3-54 4-109 6-207 2-45 1-11 1-1 1 9 2 42 9 293 3 63 3 40 3 22 3 11 1 2 2 1 5-2 2 1 1 1 3 7 8 25 4 9 3 4 3 2 4 2 5 1 6 1 7-1 6-2 5-2 7-6 6-9 4-11 3-15 4-34 4-62 3-71 7-211 2-37 1-8 1 2 2 27 8 234 4 88 2 30 3 31 3 19 4 14 3 5 2 2 2 0 4-1 6-7 3 0 3 4 7 14 4 7 5 5 7 2 10 1 4-1 3-2 5-7 8-17 3-3 2 1 2 3 6 15 4 7 4 5 5 2 17 2 26 1 8-2 12-6 5 0 4 1 12 6 10 2" stroke="#A2142F"/>
<path d="M1492 2063l97-2 8-1 13-5 3 0 10 4 8 1 7-2 10-5 3 0 3 0 9 4 6 0 6-2 8-7 4-2 9 3 4 0 15-3 19-1 8-2 7-4 6-6 5-7 5-11 3-9 3-13 4-29 3-36 3-55 5-149 9-390 2-47 1-8 1 4 2 41 10 424 3 92 3 65 4 54 4 29 3 14 3 9 4 9 4 5 4 5 5 4 5 2 6 1 6 1 6-1 6-2 5-4 4-3 4-5 6-12 4-14 4-24 5-58 4-86 4-130 7-285 2-52 1-13 1-3 1 8 2 45 9 355 3 89 3 63 3 43 4 34 5 22 3 7 4 7 7 8 7 2 7 0 4-2 3-2 5-7 4-9 3-11 3-18 4-43 4-75 10-314 2-39 1-8 1 2 2 29 10 313 3 64 3 41 3 24 3 12 3 4 5 0 3 2 3 8 8 26 3 7 3 4 3 4 3 2 5 1 5 1 11-1 5-2 5-3 7-6 5-8 4-12 3-15 4-34 4-60 4-95 7-205 2-32 1-4 1 3 2 30 8 231 5 104 3 38 3 24 3 14 4 11 3 3 3 1 3-2 6-5 3 0 3 4 8 17 4 6 6 5 7 2 9 0 3-1 3-2 5-8 8-17 3-2 3 3 8 18 4 7 5 4 6 3 18 1 21 0 8-1 12-5 5-2 5 2 13 6 8 1 59 2" stroke="#0072BD"/>
<path d="M1492 2060l11-5 3-1 12 5 5 0 7 0 5-1 8-5 3-1 3 1 9 4 7 0 6-2 8-7 3-1 9 3 3 1 16-4 17 1 9-1 5-2 5-3 8-8 7-12 5-14 4-20 4-38 3-51 2-49 4-145 7-351 2-62 1-13 1 3 2 47 9 431 3 98 3 65 4 50 4 26 3 11 3 8 4 8 5 6 5 4 5 3 6 2 6 1 7 0 6-2 6-2 5-3 7-8 6-11 5-17 3-18 4-44 4-83 4-138 7-316 2-48 1-6 1 8 2 53 8 357 5 141 3 48 4 35 3 15 3 10 4 8 4 6 7 6 8 2 8-1 7-4 5-6 4-9 3-11 3-18 4-46 3-60 3-87 6-227 2-52 1-11 1 0 2 33 7 257 3 88 2 42 3 42 3 24 3 10 1 2 2 1 6-5 2 0 1 1 3 7 8 27 3 6 3 4 3 2 4 2 6 1 6 1 12-2 9-5 6-5 5-8 4-11 3-14 4-36 4-68 9-281 2-43 1-7 1 2 2 34 7 230 5 113 3 37 3 22 4 16 4 8 3 3 3 0 3-2 6-8 2-1 1 0 3 4 8 18 4 5 6 4 9 2 9 0 5-3 5-8 7-17 2-3 1 0 1 0 2 3 7 18 4 7 5 4 8 3 22 1 19 0 7-2 11-6 4 0 4 0 13 7 11 2 162 1" stroke="#D95319"/>
<path d="M1492 2055l127-1 9-1 12-5 3 1 10 3 8 1 7-1 10-5 3 0 11 4 7 0 6-2 8-6 3-1 3 0 6 2 4 1 15-3 19 0 9-2 7-3 6-5 5-5 5-9 3-7 3-10 4-21 4-40 3-51 5-144 8-332 2-45 1-6 1 5 2 44 8 331 3 97 3 67 4 55 4 29 3 13 3 8 4 8 4 5 4 4 5 4 6 2 6 2 7 0 6-1 6-2 6-3 8-7 6-10 4-12 4-21 4-39 4-70 4-116 7-269 2-51 1-12 1-1 1 10 2 47 8 303 5 125 3 44 4 33 5 22 3 7 4 6 6 6 8 4 8 0 4-1 4-2 6-7 4-8 3-10 3-16 4-39 3-51 3-73 7-219 2-38 1-6 1 2 2 32 10 294 2 37 3 39 3 21 3 11 1 1 2 1 6-2 2 0 1 2 3 6 7 21 5 10 3 3 3 2 4 1 6 1 13 0 6-2 5-2 7-6 5-7 4-10 3-13 4-31 4-58 10-261 2-30 1-4 1 5 2 31 7 195 5 99 2 24 3 25 3 15 4 11 3 4 2 1 2 0 3-1 7-7 3 0 3 4 7 14 4 5 5 4 8 2 10 1 6-3 5-7 8-16 2-2 1 0 3 3 7 15 4 7 4 3 5 2 18 2 25 0 8-1 12-5 4-1 4 1 12 5 6 2 33 1" stroke="#EDB120"/>
<path d="M1492 2062l105-1 8-2 9-4 3 0 13 4 8 0 7-1 12-5 3 0 9 4 7 0 6-2 8-6 3-1 13 3 15-3 19 0 10-2 7-4 6-5 5-7 5-9 3-9 3-12 4-27 3-35 3-55 5-153 8-338 2-41 1-4 1 9 2 49 8 340 3 97 3 68 4 55 4 30 3 13 3 8 4 8 4 6 4 4 5 3 5 3 6 1 7 1 6-1 6-2 5-2 8-7 4-5 3-6 4-11 4-19 3-25 2-24 4-76 4-122 7-275 2-48 1-10 1 2 2 34 9 340 3 85 3 58 3 38 4 29 5 18 3 7 4 6 7 6 8 3 8-1 7-4 5-6 4-9 3-10 3-18 4-43 3-54 10-301 2-35 1-4 1 5 2 36 9 277 3 61 3 38 3 22 3 10 1 1 2 2 6-3 3 3 10 28 5 10 3 3 3 2 9 2 12 0 6-2 5-2 7-5 6-7 4-10 3-12 4-29 4-53 4-89 7-198 2-27 1-2 1 6 2 36 7 199 5 100 2 24 3 25 4 19 4 9 3 3 3 1 3-2 7-6 3 0 3 4 7 14 4 6 5 3 8 3 10 0 3-1 3-2 5-7 8-16 2-2 1 0 3 3 7 16 4 6 4 4 6 2 19 2 23 0 7-1 12-6 5 0 4 0 12 6 8 2 54 1" stroke="#7E2F8E"/>
<path d="M1492 2059l91-1 7-1 9-4 3-1 12 4 10 1 7-1 8-5 3-1 3 1 8 4 6 0 7-1 9-7 3-1 11 4 17-4 16 1 7 0 9-3 9-5 7-8 6-11 5-17 3-18 3-29 3-49 5-148 8-362 2-41 1 0 1 14 2 63 8 362 5 130 3 41 4 30 3 13 3 8 4 8 4 6 5 4 5 3 6 3 6 1 7 0 7-1 6-1 6-3 5-4 4-4 6-10 5-16 3-17 4-42 4-80 4-135 6-256 2-50 1-8 1 6 2 46 8 330 5 128 3 41 4 30 5 19 3 6 4 6 7 6 8 3 5 1 4-1 4-1 4-3 6-6 4-8 3-11 3-17 4-44 3-59 9-294 2-36 1-2 1 9 2 47 8 267 3 62 3 37 3 20 3 9 1 2 2 0 6-6 2 0 1 0 3 7 7 22 5 9 3 3 3 2 10 2 13-1 11-3 7-5 6-7 4-9 3-11 4-29 4-58 3-70 6-187 2-43 1-9 1 1 2 29 7 213 5 102 2 24 3 22 4 17 4 8 4 4 3 0 3-2 6-8 3-1 3 3 7 15 4 5 5 4 9 2 11 0 3-1 3-2 4-6 7-16 3-3 1 0 2 2 7 17 3 5 4 4 6 3 19 1 26 0 8-1 10-5 4-1 4 1 12 5 8 2 70 1" stroke="#77AC30"/>
<path d="M1492 2060l161-1 10-1 13-4 12 3 8 0 8-1 12-4 12 3 6 1 6-2 9-5 3-1 13 2 15-2 18-1 9-1 6-3 6-3 5-5 5-6 6-14 4-16 4-29 3-36 3-55 3-76 8-264 2-43 1-10 1-1 1 8 2 39 10 317 5 94 4 40 4 22 5 15 4 7 4 5 4 3 5 3 6 2 6 2 7 0 6-1 6-2 5-2 8-6 6-9 4-10 4-18 3-23 2-22 4-65 4-100 7-211 2-33 1-6 1 2 2 28 9 264 3 68 3 48 3 32 4 25 5 17 6 9 6 6 8 3 8 0 7-3 6-5 4-7 3-9 3-14 4-32 3-41 4-80 6-152 2-35 1-8 1-3 1 5 2 29 9 215 3 49 3 32 3 19 3 9 3 3 6-1 3 3 10 22 5 8 6 5 10 2 12-1 11-3 7-5 5-6 4-9 3-11 4-26 4-47 4-73 6-134 2-28 1-7 1 0 1 6 2 28 7 154 5 80 2 21 3 21 3 13 4 9 3 4 4 1 3-1 6-4 3 0 3 2 8 12 4 5 5 3 7 2 10 0 6-2 5-5 8-12 3-3 2 1 2 2 7 12 4 5 4 3 4 2 16 2 26 0 8-1 13-4 5-1 4 1 15 5" stroke="#4DBEEE"/>
<path d="M1492 2060l171-1 11-2 11-4 4 0 13 3 7 1 7-1 10-5 3-1 3 1 9 3 5 0 6-2 10-7 3-1 3 0 8 2 4 0 14-2 17-2 7-1 6-3 6-5 5-6 4-6 4-9 3-9 5-27 4-38 3-47 6-155 9-340 2-44 1-9 1 0 1 9 2 44 10 371 3 81 3 59 4 50 4 29 3 13 3 9 4 9 4 6 4 4 5 3 5 3 5 1 6 0 6-1 5-1 5-3 4-4 4-4 6-11 4-13 4-21 5-50 4-71 4-107 8-280 2-47 1-13 1-5 1 4 1 12 2 45 9 309 3 78 3 57 3 40 4 32 5 22 3 7 3 6 6 7 4 2 4 2 7-1 4-1 3-3 5-6 4-10 3-11 3-19 4-41 3-49 4-94 7-200 2-37 1-8 1-1 2 19 2 43 9 249 3 56 3 37 3 22 3 11 2 4 6 3 3 4 10 28 5 11 3 4 3 2 4 2 4 1 11 0 6-1 5-3 7-5 5-7 4-9 4-16 5-39 4-56 11-263 2-29 1-6 1 0 1 7 2 31 8 202 5 92 5 50 3 17 4 12 3 4 3 1 3-1 6-3 3 0 3 3 8 15 5 7 5 4 7 3 8 0 6-3 5-6 9-16 3-2 2 1 2 2 8 16 4 6 4 4 5 2 14 2 23 1 10-2 16-5 4 0 5 1" stroke="#A2142F"/>
<path d="M1492 2057l203-1 11-1 12-5 12 4 8 1 8-1 12-5 3 0 9 4 6 0 7-1 8-6 3-1 12 3 16-3 18 0 9-1 7-2 6-4 5-5 5-6 6-13 5-22 4-35 3-46 5-136 8-329 2-41 1-2 1 10 2 52 8 329 5 127 3 42 4 31 5 19 4 9 4 6 4 4 5 3 6 3 6 2 7 1 7-1 6-1 6-2 8-6 7-9 5-12 4-17 3-24 2-23 4-75 4-123 6-232 2-48 1-9 1 3 2 37 8 299 5 123 3 42 3 25 2 11 3 11 3 8 3 5 6 7 8 4 9 1 8-2 6-5 5-7 4-10 3-14 4-35 3-47 4-99 6-189 2-35 1-4 1 7 2 38 6 190 4 96 4 55 3 21 3 10 1 1 2 1 2-1 4-3 2-1 1 1 3 6 7 20 4 8 5 5 8 2 8 1 8 0 8-2 6-3 6-4 4-5 3-5 3-8 3-13 2-13 4-46 4-81 7-192 2-28 1-1 1 8 2 37 6 169 4 84 2 27 3 28 3 17 3 9 4 7 2 2 3 1 4-1 7-8 2 0 1 0 2 3 7 13 3 4 4 4 6 2 13 1 5 0 3-2 5-6 8-16 2-2 1 0 3 4 8 17 3 3 4 3 5 2 10 1 34 0" stroke="#0072BD"/>
<path d="M1492 2056l125-1 8-1 12-4 13 4 8 0 8-1 9-4 3 0 11 4 7 0 6-2 11-6 3 0 6 2 4 1 15-3 19 0 10-1 7-3 6-4 5-5 5-8 3-6 3-9 4-20 3-26 3-42 5-122 8-293 2-41 1-7 1 5 2 39 8 292 3 83 3 57 4 45 4 24 3 10 3 7 4 6 4 5 9 6 6 2 6 1 13 0 11-4 8-5 4-5 3-5 4-9 4-17 3-21 2-22 4-67 4-109 6-207 2-46 1-11 1-1 1 8 2 42 8 266 5 107 3 37 4 27 5 17 3 6 4 6 6 5 8 3 8 0 8-3 6-5 4-7 3-7 3-14 4-32 4-60 9-238 2-34 1-7 1 3 2 28 9 238 3 51 3 32 3 18 3 9 1 1 2 0 6-3 2 1 1 1 3 5 7 19 5 8 6 4 10 2 12-1 11-3 7-4 6-6 4-8 3-11 4-25 4-48 3-57 7-172 2-27 1-4 1 4 2 27 7 172 4 72 2 24 3 24 4 18 4 9 3 3 4 1 3-1 7-6 3 0 3 3 7 12 4 5 5 3 8 2 10 0 6-2 5-6 8-14 3-2 3 3 7 13 3 5 4 3 6 2 18 2 25 0 8-1 12-5 4 0 4 0 11 5 7 1 36 1" stroke="#D95319"/>
<path d="M1492 2056l83-1 8-1 12-4 3 0 10 3 9 1 7-1 9-5 3 0 11 3 6 1 6-2 10-6 3-1 12 2 16-3 21 0 10-3 8-6 7-8 5-10 3-8 3-12 4-27 3-33 3-52 5-142 8-314 2-44 1-7 1 3 2 37 9 345 3 88 3 63 4 51 4 28 3 12 3 9 4 7 5 7 4 3 5 3 5 2 6 2 6 0 6-1 6-2 5-2 8-8 6-9 4-11 4-19 3-24 2-24 4-71 4-113 7-255 2-48 1-12 1-3 1 7 2 41 9 316 5 115 3 40 4 32 5 21 4 9 4 6 7 6 7 2 8-1 7-4 5-6 4-8 3-11 3-17 4-41 3-50 3-71 7-208 2-36 1-7 1 1 1 9 2 40 9 256 3 55 3 34 3 20 3 9 2 2 2 1 4-1 3 2 3 6 8 23 3 6 3 4 6 4 10 2 11-1 10-4 7-5 5-7 4-9 3-12 4-27 4-51 4-82 7-183 2-30 1-5 1 3 2 27 8 206 5 90 2 23 3 23 4 17 4 9 3 2 3 1 3-2 6-5 3 0 3 4 7 13 5 6 6 4 8 2 8 0 6-3 5-6 8-15 3-2 3 2 8 16 4 6 5 4 6 2 19 1 21 0 8-1 11-5 5-1 5 1 12 6 9 1 74 1" stroke="#EDB120"/>
<path d="M1492 2056l190-1 11-1 14-3 12 2 8 1 7-1 13-4 11 3 6 0 6-1 10-5 3-1 13 2 15-2 17 0 9-1 6-2 6-3 5-4 4-4 4-6 3-7 5-18 4-27 3-34 5-94 9-256 2-33 1-5 1 2 2 25 9 254 3 65 3 48 4 39 4 21 5 15 4 6 4 5 9 6 11 3 13 0 11-3 8-5 7-9 4-8 4-15 3-18 2-17 4-54 4-83 7-187 2-36 1-9 1-2 1 5 2 28 9 232 5 86 3 31 4 25 5 16 6 10 6 5 8 3 8 0 7-2 6-5 4-5 3-7 3-12 4-26 4-47 10-205 2-27 1-5 1 0 2 19 10 205 3 41 3 26 3 15 3 8 3 2 5-1 3 2 3 5 8 16 4 6 6 4 9 2 12 0 11-2 7-4 6-6 4-7 3-9 4-21 4-38 4-60 7-135 2-22 1-3 1 1 2 19 8 151 4 57 5 41 3 13 4 9 3 4 4 1 3 0 7-4 3 0 3 2 7 10 4 4 5 3 7 2 10 0 7-2 5-4 8-12 3-1 2 1 2 2 10 14 4 3 4 1 12 2 26 0 10 0 9-2" stroke="#7E2F8E"/>
<path d="M1492 2059l185-1 11-1 13-3 13 3 7 0 8-1 9-3 4-1 11 3 6 1 6-2 12-6 14 2 14-2 18-1 8-1 6-2 6-3 5-5 5-6 6-11 5-18 4-28 3-35 3-53 3-73 9-290 2-32 1-4 1 5 2 35 9 289 3 72 3 52 4 42 4 23 5 15 4 7 4 5 4 4 5 3 6 2 6 1 7 1 6-1 6-2 5-2 8-6 6-9 4-10 4-17 3-21 2-21 4-63 4-98 7-211 2-37 1-8 1 0 1 8 2 37 8 239 3 69 3 50 3 34 4 27 5 17 6 10 6 5 8 4 8 0 7-3 6-5 4-7 3-8 3-13 4-32 4-55 10-233 2-28 1-4 1 3 2 25 10 233 3 45 3 28 2 12 3 10 3 3 6 0 3 2 3 6 7 16 5 9 6 4 9 3 12-1 11-3 7-4 6-7 4-8 3-11 4-25 4-44 4-71 7-152 2-21 1-3 1 4 2 25 8 173 4 62 5 44 3 14 4 10 3 3 4 2 3-1 7-4 3 0 3 3 7 11 4 5 5 3 7 2 10 0 6-2 5-4 9-14 3-2 3 3 7 11 4 6 4 3 4 2 14 1 27 1 10-1 11-4" stroke="#77AC30"/>
<path d="M1492 2059l201-2 10-1 11-4 3-1 12 4 8 1 8-1 9-5 3-1 3 0 9 4 6 1 6-2 9-7 3-2 3 1 6 2 4 0 15-3 17 0 9-2 6-2 6-5 5-5 5-8 6-16 5-24 4-37 3-48 3-73 3-104 8-367 2-58 1-13 1 0 1 12 2 58 9 405 5 138 3 48 4 37 5 24 4 10 4 8 4 5 5 4 6 4 6 1 6 1 7 0 6-2 6-3 8-8 4-6 3-7 4-13 4-23 3-29 2-29 4-87 4-137 7-294 2-45 1-7 1 5 2 42 9 368 5 134 3 47 4 37 4 20 3 9 3 6 6 8 4 4 4 2 4 1 4 0 4-1 4-3 6-6 5-10 3-11 3-18 4-43 3-54 4-110 7-239 2-32 1-1 1 8 2 43 7 241 4 103 2 34 3 34 2 14 3 11 1 1 2 1 5-2 2 1 1 1 3 7 7 23 4 10 5 7 3 2 4 1 7 2 8-1 7-1 7-4 5-4 5-6 3-6 3-9 3-14 3-24 4-54 4-90 7-215 2-40 1-8 1 1 2 27 8 239 4 89 2 31 3 31 3 19 3 12 4 8 2 2 2 0 3-1 8-7 3 0 2 3 7 15 4 7 4 4 6 3 6 1 6 0 4-1 3-2 5-7 8-17 3-3 2 1 2 3 9 20 3 5 4 3 6 2 11 1 21 1 11-1" stroke="#4DBEEE"/>
<path d="M1492 2062l103-1 8-1 10-5 3 0 12 4 9 1 7-2 9-4 3-1 3 1 9 3 7 1 5-2 9-7 3-1 3 0 6 3 4 0 14-3 19 0 10-2 7-4 6-5 5-6 5-9 3-8 3-12 4-25 3-32 3-51 5-144 8-342 2-53 1-11 1 1 2 37 9 374 3 94 3 66 4 52 4 28 3 13 3 8 4 8 4 5 4 4 5 4 6 2 6 1 7 1 6-1 6-2 5-3 8-8 6-10 4-12 4-21 3-26 2-26 4-81 4-128 7-273 2-41 1-5 1 5 2 42 9 343 5 121 3 42 4 33 5 20 3 8 4 6 6 6 4 2 4 2 8 0 7-4 6-6 4-8 3-10 3-16 4-40 3-50 4-102 6-197 2-44 1-10 1 0 1 8 2 42 9 277 3 58 3 37 2 15 3 12 3 4 2 0 4-2 2 0 1 1 3 7 8 24 5 9 3 3 3 2 4 2 6 0 12 0 6-2 5-2 7-6 5-7 4-10 3-13 4-31 4-58 4-93 6-174 2-36 1-7 1 2 2 26 8 224 4 81 2 28 3 28 4 20 4 11 3 4 2 1 2 0 3-2 6-6 3 0 3 3 7 14 5 7 5 4 8 2 10 0 3-1 3-2 4-6 8-16 3-3 3 2 8 18 4 6 4 3 6 2 18 2 23 0 8-1 12-5 4-1 5 1 12 5 7 2 56 1" stroke="#A2142F"/>
<path d="M1492 2063l157-1 9-1 10-5 3 0 11 4 9 1 8-1 9-5 3-1 3 1 8 3 7 1 6-2 9-7 3-1 9 3 3 1 15-4 19 1 10-2 7-3 6-5 5-6 5-8 3-7 3-10 3-16 2-14 3-34 3-55 5-161 7-332 2-61 1-13 1 1 2 42 9 407 5 139 3 46 4 34 3 15 3 10 4 8 4 6 4 5 5 3 6 3 6 2 7 0 7 0 6-2 6-3 8-7 4-6 3-6 5-16 3-17 3-28 2-28 4-89 3-102 7-300 2-48 1-7 1 7 2 47 8 338 5 136 3 45 4 35 5 21 6 12 7 8 8 4 8 0 4-1 4-2 6-6 5-10 3-10 3-17 4-42 3-56 3-83 7-243 2-34 1-1 1 10 2 47 6 215 4 106 2 35 3 34 3 18 3 7 1 1 2 0 6-5 2 1 3 7 7 23 4 8 3 4 3 2 8 3 9 1 8-1 7-3 6-3 5-4 4-6 3-6 3-10 3-15 2-17 4-55 4-94 6-191 2-41 1-9 1 2 2 30 7 217 4 92 2 30 3 31 3 18 4 13 4 6 2 2 2 0 4-2 6-8 2-1 1 1 3 3 7 15 4 6 5 4 7 2 11 1 4-1 3-2 5-8 7-16 3-3 1 0 2 3 7 17 3 5 4 5 5 2 18 2 27 0 8-1 11-6 4-1 4 1 12 6 9 2" stroke="#0072BD"/>
<path d="M1492 2062l180-1 11-1 14-4 13 3 7 1 7-1 10-3 4-1 12 3 5 0 6-2 9-5 4-1 14 2 15-2 17-1 7-2 6-2 6-4 5-4 4-5 4-7 3-8 5-21 4-31 3-37 6-124 8-239 2-41 2-16 1 2 1 10 2 39 9 263 3 67 3 48 4 42 4 24 3 11 3 7 4 7 4 5 4 3 5 3 5 2 6 1 6 1 6-1 10-4 8-6 6-9 4-10 4-17 5-40 4-57 4-85 8-216 2-34 1-8 1-1 1 5 2 29 9 239 6 110 3 33 4 27 5 18 3 7 4 5 6 5 7 3 7 0 7-3 5-4 4-7 3-8 3-13 4-29 4-49 11-229 2-25 1-5 1 1 2 19 10 211 3 46 4 39 2 12 3 10 3 4 6 2 3 3 10 22 5 8 6 5 9 2 12-1 10-3 7-4 5-6 4-9 3-10 4-23 4-40 4-62 7-140 2-28 1-7 1-3 1 2 1 7 2 27 7 140 5 75 5 42 3 14 4 10 3 4 3 1 3 0 7-3 3 0 3 3 8 11 4 5 5 3 7 2 9 0 6-2 5-5 8-11 2-2 2 0 2 0 2 3 7 11 4 4 4 3 5 2 15 2 24 0 9-1 16-4" stroke="#D95319"/>
<path d="M1492 2060l121-1 9-1 14-5 3 0 10 4 7 0 7-1 13-5 3 0 10 4 5 0 6-2 9-7 3-1 3 0 7 2 4 0 15-2 18-1 8-2 7-4 6-5 5-7 4-7 3-8 3-10 4-22 4-39 3-48 6-160 8-308 2-50 1-13 1-3 1 7 2 41 10 371 3 81 3 57 4 49 4 27 3 12 3 9 4 8 4 5 4 4 5 3 5 3 6 1 6 0 6-1 5-1 5-3 4-4 4-4 6-11 4-12 4-21 5-51 4-73 4-111 7-249 2-53 2-23 1 1 1 10 2 43 9 310 3 77 3 56 3 38 4 31 5 21 3 7 4 6 6 6 7 3 7 0 7-3 5-6 4-8 3-10 3-16 4-37 4-64 10-273 2-40 1-11 1-4 1 5 1 11 2 41 9 251 3 55 3 37 3 21 3 11 2 3 6 2 3 3 11 30 5 9 6 5 4 2 5 1 6 0 6-1 10-4 7-5 5-8 4-10 3-13 4-30 4-51 4-81 7-180 2-33 1-9 1-1 1 5 2 29 8 203 5 91 5 49 3 15 4 12 3 4 3 1 3-1 7-4 3 1 3 3 8 15 4 5 5 4 7 3 9 0 6-3 5-6 8-15 2-2 2-1 3 3 8 16 4 6 4 3 6 3 17 2 22 0 8-2 13-4 5-1 5 1 12 5 7 1 35 2" stroke="#EDB120"/>
<path d="M1492 2061l155-1 10-2 12-5 3 1 10 4 8 0 7-1 10-5 3 0 11 4 7 0 6-2 8-6 3-2 3 0 6 3 4 0 15-3 19 0 9-2 6-2 6-5 5-6 5-8 6-16 4-21 4-37 3-47 5-139 9-392 2-47 1-7 1 7 2 48 8 354 3 103 3 72 4 58 4 32 3 13 3 9 4 9 4 6 4 4 5 3 6 3 6 2 7 0 6-1 6-2 6-3 4-3 4-5 6-11 4-13 4-22 4-43 4-76 4-124 7-289 2-53 1-12 1 0 1 10 2 52 8 323 5 134 3 46 4 37 5 22 3 8 4 7 6 7 4 2 4 2 4 0 4 0 4-1 4-3 6-7 4-9 3-10 3-18 4-43 3-55 3-78 7-235 2-39 1-7 1 4 2 34 10 314 2 40 3 41 3 24 3 11 1 1 2 2 6-3 2 1 1 1 3 7 7 22 5 11 3 3 3 2 4 2 6 1 7 0 6-1 6-2 5-2 7-6 5-8 4-11 3-14 4-34 4-63 10-278 2-32 1-4 1 6 2 34 7 208 5 105 2 27 3 26 3 16 4 12 3 4 2 2 2 0 3-2 7-7 3 0 3 4 7 15 4 6 5 4 7 2 11 1 3-1 3-2 5-7 8-17 2-2 1 0 3 3 10 21 4 5 5 3 16 1 27 1 8-1 13-6 4-1 4 1 13 6 9 2" stroke="#7E2F8E"/>
<path d="M1492 2060l116-1 9-1 12-5 3 0 10 4 8 1 7-1 10-5 3-1 12 4 6 1 6-3 9-6 3-2 9 3 4 0 14-3 19 0 9-2 7-4 6-5 5-6 5-9 3-8 3-11 4-25 3-31 3-48 5-137 9-379 2-49 1-8 1 3 2 41 9 376 3 96 3 67 4 54 4 30 3 13 3 9 4 9 4 5 4 4 5 4 5 2 6 2 7 0 6 0 6-2 5-3 8-8 6-10 4-12 4-20 3-26 2-25 4-76 4-122 7-278 2-53 1-14 1-3 1 8 2 44 9 345 5 124 3 43 4 35 5 21 3 8 4 7 7 7 4 2 4 1 4 0 4-1 7-4 5-6 4-9 3-11 3-19 4-43 3-55 3-76 7-227 2-40 1-8 1 1 1 11 2 43 9 279 3 59 3 37 2 16 3 13 3 4 2 0 4-1 3 2 3 7 8 24 5 10 3 3 3 2 4 2 6 1 12-1 10-4 7-6 5-7 4-10 3-12 4-30 4-54 4-89 7-200 2-32 1-6 1 3 2 29 8 226 4 82 3 39 3 25 3 15 4 11 3 4 3 1 3-1 7-7 3 0 3 4 7 14 5 8 5 3 8 3 9 0 3-1 3-2 5-7 8-17 3-2 3 3 7 15 4 7 4 5 6 2 18 2 24 0 8-1 11-5 5-1 5 1 11 5 7 2 11 1 32 0" stroke="#77AC30"/>
<path d="M1492 2061l175-1 10-2 10-4 3-1 3 1 9 3 8 1 8-1 10-5 3-1 11 5 6 0 6-2 9-7 3-2 3 1 6 2 4 1 15-4 18 0 9-2 6-3 6-4 5-6 5-9 6-16 5-27 4-42 3-53 5-150 9-406 2-45 1-5 1 9 2 51 10 442 5 128 4 54 4 29 5 19 4 10 4 6 4 4 5 4 5 3 6 2 7 0 6 0 6-2 5-3 8-8 4-6 3-6 4-13 4-22 3-28 2-27 4-84 4-133 7-298 2-52 1-10 1 0 1 13 2 54 8 336 5 140 3 50 4 39 5 25 3 8 3 6 6 8 4 3 4 2 4 1 4 0 7-3 6-6 4-8 4-13 3-17 4-41 4-74 10-326 2-38 1-6 1 5 2 37 10 326 2 42 3 44 3 25 3 12 1 2 2 1 6-2 3 3 3 8 7 23 4 9 3 4 3 3 4 2 5 1 6 1 7-1 6-2 5-2 7-5 6-9 4-11 3-14 4-32 4-60 4-97 7-213 2-30 1-3 1 7 2 36 7 216 4 93 2 32 3 34 3 20 4 15 3 6 2 2 2 1 2 0 2-1 7-7 2 0 1 0 3 4 7 16 4 6 5 4 7 3 10 0 4-1 3-2 5-8 8-17 2-2 1 0 3 3 10 23 4 4 5 3 15 2 27 1 9-2 14-6 4 0 4 1" stroke="#4DBEEE"/>
<path d="M1492 2056l46-1 6-1 11-4 3 0 10 4 9 0 7-1 9-4 3-1 11 4 6 0 7-2 9-6 3-1 12 3 16-3 16 0 7-1 10-4 8-6 7-9 5-11 4-14 4-26 3-32 3-50 5-142 8-328 2-48 1-9 1 3 2 38 9 361 3 89 3 62 4 50 4 27 3 12 3 8 4 8 5 6 5 4 5 3 6 2 6 1 6 0 6-1 6-3 5-3 7-6 6-11 4-12 4-20 3-27 2-26 4-80 4-125 6-231 2-52 1-14 1-3 1 7 2 42 8 298 3 86 3 61 3 40 4 31 5 20 4 8 4 6 7 6 7 2 8 0 7-4 5-6 4-8 3-10 3-16 4-40 3-49 4-100 6-189 2-39 1-9 1 1 1 10 2 41 9 266 3 55 3 35 2 14 3 12 3 3 2 0 4-2 2 1 1 1 3 6 8 24 3 6 3 4 3 2 4 2 11 1 11-1 10-4 6-5 5-7 4-10 3-13 4-31 4-57 3-66 7-192 2-32 1-5 1 2 2 28 8 215 4 77 3 36 3 23 4 17 4 8 3 3 3 0 3-2 6-5 3-1 3 4 7 13 5 7 6 4 8 2 9 0 3-2 3-2 4-5 8-16 3-2 3 2 8 17 4 6 5 4 6 1 19 2 21 0 8-2 12-5 4 0 4 0 14 6 10 2 112 1" stroke="#A2142F"/>
<path d="M1492 2056l132-1 9-1 12-3 13 3 8 0 8-1 9-3 3-1 11 3 7 1 6-2 11-5 13 2 15-2 19 0 9-1 7-2 6-3 5-4 5-6 6-12 4-15 4-27 3-36 5-103 8-246 2-34 1-5 1 3 2 33 8 245 3 69 3 49 4 39 4 20 3 9 3 6 4 5 4 4 9 5 12 3 13 0 6-2 6-2 8-5 6-7 4-8 4-15 3-18 2-18 4-58 4-92 6-173 2-38 1-9 1-1 1 6 2 36 8 223 5 90 3 31 4 24 5 15 3 5 4 4 6 5 8 2 8 1 8-3 6-4 4-6 3-7 3-11 4-28 4-51 9-199 2-29 1-5 1 2 2 23 9 200 3 43 3 28 3 15 3 7 3 2 6-3 3 2 3 5 7 15 5 7 6 3 10 2 12 0 11-3 7-4 6-5 4-7 3-9 4-22 4-41 3-48 7-143 2-24 1-3 1 4 2 23 7 144 5 71 2 18 3 17 3 11 4 7 3 3 4 1 3-1 7-5 3 0 3 3 7 10 4 4 5 2 8 2 10 0 6-2 5-4 8-12 3-2 3 2 10 15 4 3 6 2 18 1 25 0 8-1 12-3 4-1 21 6 29 0" stroke="#0072BD"/>
<path d="M1492 2060l147-1 11-2 11-4 3-1 4 1 9 3 7 1 7-1 10-5 4-1 12 4 5 0 6-2 9-7 3-2 3 0 7 2 5 0 14-2 17-2 7-2 6-3 6-5 5-6 5-9 6-18 5-28 4-40 3-49 6-162 9-361 2-51 1-13 1-3 1 6 2 41 10 391 3 90 4 84 4 50 4 29 3 14 3 9 4 9 4 6 4 4 5 4 5 2 6 2 6 0 5-1 5-2 5-4 7-7 6-12 4-14 4-22 5-53 5-98 4-122 7-262 2-54 2-24 1 0 1 10 2 43 9 326 6 151 3 45 4 38 5 25 3 9 4 8 6 7 7 3 7 0 4-2 3-2 5-7 4-10 3-12 3-19 4-44 3-51 4-97 7-214 2-41 1-12 1-4 1 4 1 12 2 41 10 288 3 56 3 36 2 16 3 14 3 6 5 3 3 4 11 32 5 11 3 4 3 3 4 2 5 1 5 0 6-1 5-1 5-3 7-6 5-8 4-11 3-14 5-41 4-59 4-88 7-189 2-35 1-8 1-2 1 5 2 29 8 212 5 102 3 39 3 26 3 16 4 12 2 3 3 2 3-1 7-3 3 1 3 4 8 16 4 6 5 4 7 3 8 0 6-2 5-6 9-17 2-3 2 0 2 1 2 3 7 15 4 7 5 5 5 2 16 2 22 1 8-2 14-5 5-1 5 1 14 6 12 2" stroke="#D95319"/>
<path d="M1492 2061l177-1 10 0 13-3 12 2 8 1 8-1 12-4 12 3 6 0 6-1 12-5 13 2 15-2 18 0 9-1 6-2 6-3 5-4 5-5 6-10 5-17 4-26 3-32 5-92 9-246 2-26 1-2 1 6 2 32 8 222 3 65 3 46 4 38 4 20 5 13 4 6 4 5 9 5 11 3 13 0 12-3 8-5 7-7 4-8 4-14 3-17 2-17 4-52 4-81 7-180 2-30 1-6 1 1 2 23 9 222 5 85 3 30 4 23 5 15 6 9 6 4 8 3 8 1 7-2 6-4 4-4 4-8 3-11 4-25 4-46 10-198 2-22 1-2 1 3 2 23 9 182 3 41 3 26 3 15 3 7 3 2 6-1 3 2 10 18 4 6 6 4 9 2 13 0 11-2 7-4 6-5 4-7 3-8 4-20 4-37 4-60 7-128 2-18 1-1 1 5 2 22 7 131 4 56 5 40 3 12 4 9 3 4 4 1 4-1 7-4 3 1 3 2 7 9 4 4 5 3 7 1 10 1 7-3 5-4 7-10 3-2 2 0 2 2 7 10 4 5 4 2 4 1 16 2 26 0 9-1 14-4 6 0" stroke="#EDB120"/>
<path d="M1492 2059l40-2 6-1 11-4 3 0 11 4 8 0 6-1 10-5 3 0 3 0 9 4 5 0 6-2 10-7 3-1 13 2 15-3 16 0 6-1 5-2 5-2 8-7 7-11 5-12 5-21 4-32 3-39 3-59 5-157 8-339 2-47 1-9 1 2 2 37 10 408 3 89 3 64 4 53 4 29 3 13 3 9 5 10 5 6 4 4 5 3 5 2 6 1 6 0 6-1 5-2 5-4 7-7 6-12 4-13 4-22 5-56 4-81 4-124 7-275 2-52 1-13 1-4 1 7 2 40 9 341 3 87 3 62 4 52 4 29 5 19 3 6 4 7 7 6 4 2 4 0 7-1 4-2 3-3 4-6 4-10 3-13 3-20 4-47 3-57 10-302 2-39 1-8 1 0 1 9 2 41 10 300 3 55 3 35 2 14 3 12 3 4 5 0 3 2 3 7 9 28 3 6 3 4 3 2 4 3 10 1 11-1 9-5 6-5 5-8 4-11 3-14 4-32 4-58 4-90 7-198 2-32 1-5 1 2 2 26 8 222 5 102 3 37 3 24 4 18 4 8 2 2 3 1 3-2 6-5 3 0 3 4 8 16 4 6 6 5 8 2 8 0 3-1 3-2 5-7 8-17 3-2 3 3 8 17 5 8 5 4 7 2 20 1 18 0 7-1 12-6 5-1 5 1 13 6 11 2 117 1" stroke="#7E2F8E"/>
<path d="M1492 2055l187-1 10-1 13-5 3 0 10 4 8 0 7-1 10-5 3 0 11 4 6 0 7-2 8-6 3-1 3 0 7 2 4 0 14-3 18 0 9-1 6-3 6-4 5-6 5-7 6-15 5-25 4-37 3-48 5-135 9-375 2-46 1-7 1 5 2 43 9 373 3 92 3 64 4 52 4 28 5 18 4 9 4 6 4 4 5 4 5 3 6 1 7 1 6-1 6-2 5-2 8-7 4-6 3-5 4-12 4-20 3-25 2-24 4-76 4-120 7-275 2-51 1-12 1-2 1 9 2 46 8 308 3 89 3 63 3 41 4 33 4 17 3 8 3 6 3 4 4 4 4 3 4 1 4 1 4 0 4-2 4-2 6-7 4-9 3-11 3-18 4-43 3-54 3-76 7-223 2-38 1-7 1 2 2 31 8 249 4 91 2 30 3 30 2 11 3 9 1 1 2 1 4-2 2 0 2 2 3 7 7 22 4 9 5 6 7 3 7 1 8-1 7-1 7-3 6-5 4-6 3-6 3-9 3-14 3-23 4-54 4-88 7-197 2-31 1-4 1 4 2 31 8 222 4 79 2 27 3 28 3 17 3 10 4 7 2 1 2 0 3-1 7-6 3 0 3 4 7 14 4 6 5 4 7 2 10 1 4-1 3-2 5-7 8-16 3-2 3 2 7 16 4 7 4 4 4 2 15 2 27 0 9-1 10-5" stroke="#77AC30"/>
<path d="M1492 2057l90-1 8-1 10-4 3-1 13 4 8 1 7-2 9-4 3 0 3 0 9 3 5 1 7-2 9-6 3-1 13 2 15-3 21 0 10-3 8-6 7-8 5-9 3-8 3-12 4-25 3-32 3-50 5-134 8-302 2-45 1-9 1 0 2 32 10 361 3 79 3 55 4 44 4 25 3 11 3 8 4 7 4 5 4 3 5 3 5 2 6 2 6 0 6-1 6-2 5-2 8-7 6-10 4-10 4-18 3-23 2-23 4-68 4-106 7-245 2-49 1-13 1-5 1 5 2 35 9 303 3 76 3 53 3 36 4 28 5 18 3 7 4 6 7 6 7 2 8 0 7-4 5-6 4-8 3-10 3-17 4-39 3-47 4-94 6-173 2-37 1-9 1 0 1 7 2 35 9 247 3 54 3 35 3 21 3 9 3 3 5 0 3 2 3 5 8 22 3 6 3 4 6 5 10 2 11-1 10-4 7-5 5-6 4-9 3-11 3-19 2-17 4-55 10-238 2-30 1-6 1 1 2 22 8 197 5 89 3 32 3 21 3 12 4 8 3 3 3 1 3-1 6-5 3 0 3 3 8 14 4 5 6 4 8 2 8 0 6-3 5-6 8-14 3-2 2 1 2 2 7 14 4 6 5 4 6 2 19 1 21 0 8-1 12-5 4-1 5 1 13 5 8 2 67 1" stroke="#4DBEEE"/>
<path d="M1492 2062l170-1 11-1 11-4 3-1 13 4 7 0 7-1 13-5 3 1 9 3 6 0 6-2 9-6 3-1 14 2 15-3 17-1 8-2 6-2 6-5 5-5 4-6 6-15 5-23 4-34 3-41 3-60 3-82 9-322 2-44 1-10 1-1 2 26 2 54 9 320 3 76 3 54 4 46 4 26 5 17 4 8 4 6 4 4 5 4 5 2 6 2 6 0 6-1 5-1 5-3 8-7 6-10 4-11 4-18 5-44 5-85 4-108 7-235 2-46 2-19 1 2 1 11 2 43 9 293 3 72 3 53 3 36 4 29 5 20 6 11 6 7 4 2 4 1 7 0 7-4 5-5 4-8 3-11 3-16 4-37 3-44 4-86 7-191 2-36 1-9 1-2 2 18 2 40 9 236 3 52 3 34 3 20 3 10 2 3 6 2 3 4 10 26 5 10 3 3 3 2 8 3 6 1 6-1 10-3 7-5 5-6 4-8 4-14 5-34 4-51 4-79 7-168 2-30 1-6 1 0 1 6 2 29 8 191 4 72 5 53 3 17 4 13 3 5 3 2 3 0 7-4 2-1 2 1 3 4 7 12 4 6 5 4 7 3 9 0 4-1 3-2 5-6 8-14 3-2 2 1 2 2 8 15 4 5 4 4 5 2 13 1 23 1 11-1 17-6 4 0 6 3" stroke="#A2142F"/>
<path d="M1492 2057l114-1 9-1 10-4 3-1 13 4 8 1 7-2 12-4 3 0 9 3 6 1 6-2 9-6 3-2 13 3 15-3 18 0 9-2 7-3 6-5 5-5 5-9 3-7 3-10 4-21 4-39 3-49 5-134 8-313 2-51 1-11 1-2 1 9 2 47 10 376 5 109 4 46 4 26 3 11 3 8 4 7 4 5 4 4 5 3 6 2 6 2 6 0 6-1 6-2 5-3 8-7 6-11 4-11 4-21 3-26 2-25 4-76 4-118 7-250 2-40 1-6 1 2 2 34 9 312 3 79 3 57 3 37 4 29 5 19 3 6 4 6 7 6 7 3 8-1 7-3 5-6 4-8 3-10 3-15 4-38 3-48 4-94 7-203 2-29 1-2 1 6 2 34 9 255 3 57 3 37 3 21 3 11 3 3 6-1 3 3 10 27 3 6 3 4 6 4 10 3 12-1 10-4 7-6 5-7 4-10 3-13 4-30 4-54 4-86 6-159 2-34 1-7 1-1 1 7 2 33 7 183 5 94 3 33 3 21 3 13 4 9 3 3 3 1 3-1 6-6 3 0 3 3 8 15 4 5 5 4 8 2 9 0 6-2 5-6 8-15 3-3 2 1 2 2 7 15 4 6 4 3 6 2 18 2 23 0 8-1 12-5 5-1 4 1 12 5 7 2 44 1" stroke="#0072BD"/>
<path d="M1492 2055l74-1 7-1 13-5 4 1 10 3 7 0 7-1 9-4 4-1 12 4 5 0 6-2 9-6 4-1 13 2 16-3 19-1 10-3 8-6 7-8 5-10 5-16 4-23 4-41 3-49 5-128 9-319 2-38 1-7 1 3 1 11 2 46 9 321 3 79 4 73 4 43 4 24 3 11 3 8 4 7 5 6 4 4 5 2 5 2 6 1 6 0 5-1 5-2 5-2 7-7 6-10 4-11 4-19 5-46 4-67 4-101 8-263 2-42 1-11 1-2 1 5 2 35 9 290 3 76 3 56 4 49 4 27 5 18 3 7 4 6 7 6 7 2 7-1 4-2 3-2 4-5 4-9 3-10 3-17 4-39 3-46 4-88 7-189 2-32 1-6 1 1 2 22 10 256 3 55 4 47 2 13 3 12 3 4 5 2 3 2 3 7 9 23 6 10 3 2 4 2 9 2 11-1 9-4 6-5 5-7 4-9 3-12 5-36 4-53 4-80 6-147 2-35 2-14 1 2 1 8 2 33 8 191 5 81 3 30 3 19 3 12 4 8 2 2 3 1 3-1 6-4 3 0 3 3 8 14 5 7 6 4 7 1 8 0 6-3 5-6 7-13 2-2 2-1 2 1 2 3 8 15 4 5 5 4 6 1 19 2 19 0 8-1 12-5 5-1 5 1 14 6 9 1 81 1" stroke="#D95319"/>
<path d="M1492 2063l200-2 10-1 13-5 3 0 10 4 8 1 7-1 10-5 3-1 11 4 6 1 7-2 8-7 3-1 3 0 6 2 4 1 15-4 18 1 9-2 6-3 6-4 5-6 5-7 6-16 5-24 4-38 3-49 3-74 3-106 8-366 2-51 1-7 1 6 2 48 9 404 5 143 4 61 4 33 5 21 4 9 4 7 4 5 5 4 6 3 6 1 7 1 6-1 6-1 6-4 5-4 4-5 6-11 4-13 4-23 4-43 4-78 4-128 7-297 2-56 1-13 1-2 1 10 2 52 8 334 5 139 3 49 4 37 5 24 3 8 3 6 3 4 4 4 4 3 4 1 4 1 4 0 4-2 4-2 6-7 4-9 3-11 3-18 4-44 3-56 3-81 7-242 2-42 1-7 1 3 2 34 8 271 4 95 2 31 3 30 2 11 3 9 1 1 2 0 5-3 2 1 1 1 3 8 7 23 3 7 5 7 4 3 4 1 7 1 8 0 7-2 7-3 5-4 5-7 3-6 3-9 3-14 3-24 4-55 4-93 7-214 2-34 1-4 1 5 2 34 7 214 4 93 2 32 3 32 3 20 4 15 4 7 2 1 2 1 3-2 7-7 2-1 1 1 3 4 6 13 4 7 5 5 6 2 6 1 6 0 4-1 3-2 5-7 8-18 2-2 1 0 3 3 10 23 3 3 4 3 7 2 13 1 20 1 10-1" stroke="#EDB120"/>
<path d="M1492 2055l160-1 10-1 14-3 12 3 8 0 7-1 13-4 12 3 6 0 6-1 9-5 3-1 14 2 14-2 17 0 9-1 6-2 6-4 5-4 5-5 6-12 5-18 4-28 3-34 5-94 9-257 2-36 1-7 1 0 1 7 2 35 10 280 5 84 4 37 4 20 5 14 4 6 4 5 9 5 11 3 7 1 6-1 11-3 8-6 6-7 4-9 4-15 5-36 4-54 4-83 7-188 2-37 2-15 1 3 2 25 9 232 3 60 3 44 3 29 4 23 5 15 6 9 6 5 7 3 8 0 7-2 6-5 4-5 3-7 3-12 4-26 4-47 3-52 7-153 2-29 1-7 1-1 1 4 2 26 9 190 3 43 3 29 3 17 3 8 3 3 6 0 3 3 10 20 5 7 6 4 9 2 12 0 10-3 7-3 6-6 4-8 3-9 3-14 2-14 4-44 10-182 2-24 1-5 1 0 1 6 2 25 7 135 5 71 5 38 3 12 4 9 3 3 4 2 3-1 6-4 3 0 3 2 8 11 4 4 5 3 7 2 10 0 6-2 5-4 8-11 3-2 2 0 2 2 7 11 4 5 4 2 5 2 16 1 25 1 8-1 13-4 4-1 5 1 15 4" stroke="#7E2F8E"/>
<path d="M1492 2055l196-1 12-2 11-4 3-1 3 1 10 3 7 1 7-1 10-5 3-1 3 0 9 4 6 0 6-2 9-7 3-1 3 0 7 2 4 0 14-2 17-1 8-2 6-3 6-4 5-6 4-6 4-9 3-9 5-25 4-37 3-45 3-66 3-91 9-362 2-51 1-12 1-1 1 8 2 45 9 361 3 93 3 68 4 59 4 33 3 15 3 10 4 9 4 6 4 5 5 4 5 2 6 2 6 1 6-1 6-2 5-4 4-3 4-5 6-12 4-13 4-23 5-56 4-79 4-119 7-264 2-54 2-23 1 2 1 12 2 48 9 329 5 123 3 46 4 37 5 25 3 9 3 6 6 7 7 4 4 1 4 0 4-1 3-2 6-7 4-9 3-11 3-18 4-40 4-69 10-290 2-42 1-10 1-3 2 19 2 45 9 265 3 58 3 38 3 23 3 11 2 3 6 2 3 4 10 29 5 11 3 4 3 2 4 2 5 2 6 0 6-1 10-4 7-6 6-9 4-11 3-14 4-32 4-56 4-87 7-191 2-34 1-8 1 0 1 6 2 32 8 215 4 81 5 59 3 20 4 14 3 5 3 2 3 0 8-5 3 1 3 4 7 14 4 6 5 5 6 2 9 1 4-1 3-1 5-6 9-17 3-3 2 1 2 2 11 22 3 3 4 3 8 2 16 2 16 0 10-2" stroke="#77AC30"/>
<path d="M1492 2063l128-2 10-1 10-4 3 0 13 4 7 0 8-1 12-5 3 0 9 3 6 1 6-2 9-6 3-2 14 3 14-3 18 0 9-2 6-3 6-5 5-5 5-8 3-7 3-10 4-20 4-36 3-44 3-66 3-90 8-308 2-50 1-13 1-2 1 7 2 42 9 340 3 85 3 61 4 52 4 28 3 13 3 9 4 8 4 5 4 4 5 4 5 2 6 1 6 1 6-1 6-2 5-2 8-8 6-10 4-11 4-19 5-47 4-70 4-108 8-278 2-40 1-8 1 2 1 11 2 44 8 280 3 82 3 60 3 40 4 33 5 21 3 7 4 7 7 6 7 3 4 1 4-1 7-4 5-6 4-8 3-11 3-17 4-40 3-49 4-94 6-177 2-41 1-11 1-3 1 4 2 31 10 273 3 53 3 34 2 15 3 12 3 4 6 1 3 3 11 29 5 9 6 5 9 2 12-1 10-3 7-6 5-7 4-9 3-12 4-27 4-49 4-79 7-180 2-34 1-8 1-1 1 6 2 30 8 202 4 74 3 36 3 23 3 14 4 11 3 3 3 1 3-1 7-5 3 1 3 4 7 13 4 5 6 5 7 2 9 0 6-3 5-6 8-14 2-3 2 0 3 3 7 14 4 6 4 4 6 3 17 1 23 1 8-2 13-5 5 0 4 0 11 5 7 2 9 1 21 0" stroke="#4DBEEE"/>
<path d="M1492 2059l137-1 9-1 12-5 3 0 10 4 8 1 7-2 10-5 3 0 11 4 7 1 6-3 8-6 3-2 3 0 6 3 4 0 15-3 19 0 9-2 7-4 6-5 5-6 5-9 3-8 3-11 4-25 4-45 3-57 5-160 8-370 2-50 1-7 1 6 2 49 9 407 3 97 3 66 4 53 4 28 5 19 4 8 4 7 4 4 5 4 6 3 6 1 7 1 6-1 6-2 6-4 4-3 4-5 6-12 4-13 4-23 4-44 4-79 4-129 7-300 2-56 1-13 1-2 1 11 2 52 8 337 5 140 3 49 4 39 5 23 3 9 4 7 6 7 4 2 4 2 4 0 4 0 4-1 4-3 6-7 4-9 3-11 3-19 4-44 3-56 3-82 7-244 2-42 1-7 1 3 2 35 10 327 2 42 3 43 3 24 3 12 1 2 2 1 6-3 2 1 1 2 3 7 7 23 5 11 3 4 3 2 4 1 6 2 7 0 6-1 6-2 5-3 7-6 5-8 4-11 3-15 4-35 4-65 10-290 2-33 1-5 1 5 2 35 7 216 5 111 2 27 3 28 3 17 4 13 3 4 2 2 2 0 3-1 7-8 2 0 1 0 3 4 7 15 4 7 5 4 7 2 6 1 5 0 3-1 3-2 5-7 8-18 2-2 1-1 3 4 7 17 4 7 4 4 5 2 18 2 25 0 8-2 12-5 4-1 4 1 10 5 6 2 8 1 17 1" stroke="#A2142F"/>
<path d="M1492 2053l4-1 4-1 9-7 3-2 3 1 7 2 4 1 15-4 21 0 6-1 6-3 5-4 4-4 7-10 5-13 4-17 3-21 3-34 4-79 4-131 8-359 2-49 1-6 1 7 2 49 10 432 5 120 4 48 4 26 3 12 3 8 5 9 5 5 5 4 5 3 5 2 6 0 6 0 6-1 6-2 5-3 7-8 6-10 4-13 4-22 4-41 4-75 4-125 7-292 2-55 1-12 1 0 1 11 2 52 9 361 5 118 4 49 4 25 3 12 3 7 4 7 4 5 7 4 8 2 4-1 4-1 6-5 4-6 4-10 3-12 3-20 4-50 3-62 9-293 2-41 1-6 1 3 2 36 9 293 3 64 3 41 3 22 3 11 1 2 2 1 6-4 2 1 1 1 3 8 8 25 3 6 4 5 3 2 4 1 11 1 11-1 9-5 6-5 5-7 4-11 3-14 4-33 4-62 3-71 7-211 2-32 1-4 1 5 2 36 7 211 5 105 3 36 3 22 4 16 2 5 3 4 2 1 3 0 3-2 6-6 2-1 1 1 3 4 8 16 4 5 6 4 10 2 8-1 5-3 4-6 8-17 2-2 1-1 3 4 7 16 5 8 5 4 9 2 22 1 16 0 7-2 12-5 4-1 4 1 14 6 13 2 228 1" stroke="#0072BD"/>
<path d="M1492 2055l197-2 11-1 10-3 3-1 12 4 8 0 8-1 12-5 3 1 9 3 6 1 6-2 9-6 3-1 13 2 15-2 17 0 9-2 6-2 6-4 5-4 5-7 6-12 5-20 4-31 3-39 3-59 3-85 9-334 2-32 1 0 1 10 2 47 9 335 5 115 4 49 4 27 5 17 4 8 4 5 4 4 5 4 6 2 6 2 7 0 6-1 6-1 5-3 8-6 4-5 3-5 4-11 4-19 3-23 2-24 4-71 4-113 7-244 2-39 1-6 1 4 2 34 9 304 5 112 3 39 4 31 4 16 3 8 3 5 6 7 4 2 4 2 8 1 4-1 4-2 6-5 5-8 3-9 3-15 4-35 3-44 4-91 7-198 2-27 1-2 1 6 2 35 7 200 4 85 2 29 3 29 2 11 3 9 3 2 5-2 3 2 3 5 7 19 4 9 5 5 4 2 4 1 8 1 8 0 8-2 6-3 5-4 4-5 3-6 3-8 3-14 2-13 4-44 4-75 7-178 2-33 1-8 1 0 1 8 2 33 7 179 4 74 2 25 3 27 3 15 3 10 4 7 4 2 4-2 7-5 3 0 2 2 7 13 4 5 5 4 6 2 11 1 4-1 3-1 5-6 8-14 3-3 2 1 2 2 6 12 4 7 3 3 4 2 8 2 18 1 17 0 9-1" stroke="#D95319"/>
<path d="M1492 2055l25 0 5-2 8-3 3-1 13 4 10 1 6-2 11-5 3 1 9 4 6 0 6-2 9-6 3-2 13 3 15-3 17 1 7-1 10-4 8-6 7-10 5-11 4-15 4-27 3-34 3-53 5-150 8-330 2-39 1-3 1 9 2 49 9 367 3 84 3 57 4 46 4 24 3 11 3 7 4 7 5 6 5 4 5 3 6 2 6 1 6-1 6-1 6-2 5-3 7-7 6-11 4-12 4-22 4-41 4-74 4-119 7-269 2-46 1-9 1 2 2 35 9 332 3 82 3 56 3 36 4 28 5 18 4 8 4 6 7 5 7 2 8-1 7-4 5-6 4-8 3-11 3-17 4-42 3-53 10-293 2-34 1-4 1 6 2 36 9 270 3 59 3 37 3 21 3 9 1 2 2 1 6-3 3 3 11 30 3 5 3 4 3 2 4 2 11 1 11-1 10-5 6-5 5-7 4-11 3-13 4-34 3-42 4-87 7-192 2-27 1-1 1 7 2 34 7 196 5 96 3 33 3 20 4 15 4 8 3 2 3 0 8-7 3-1 3 3 8 15 4 5 6 4 9 2 8 0 3-1 3-2 5-6 7-15 3-3 2 1 2 3 7 15 4 6 5 4 7 2 20 1 20 0 7-1 12-5 5-1 4 1 13 6 11 1 134 1" stroke="#EDB120"/>
<path d="M1492 2056l85-1 7-1 10-5 3 0 13 4 8 1 7-2 9-4 3-1 3 0 9 4 5 0 7-2 9-7 3-1 13 3 16-3 20-1 10-3 8-6 7-9 5-10 3-9 3-13 4-28 3-35 3-55 5-148 8-340 2-55 1-12 1-2 1 10 2 50 10 409 5 121 4 52 4 29 3 13 3 9 4 8 5 7 5 4 5 3 5 2 6 1 6 0 6-1 6-2 5-4 7-7 6-12 4-13 4-23 5-58 4-85 4-129 7-271 2-43 1-7 1 3 2 36 9 339 3 88 3 62 3 42 4 33 5 21 4 9 4 6 7 6 7 3 7-1 7-4 5-6 4-9 3-11 3-18 4-43 3-52 4-104 6-195 2-45 1-11 1-3 1 7 2 37 9 277 3 63 3 41 3 24 3 12 3 4 6-1 3 4 10 29 3 7 3 5 3 3 3 2 4 1 6 1 12-1 5-2 5-2 7-7 5-8 4-11 3-14 4-34 4-61 3-67 7-199 2-37 1-8 1-1 1 8 2 36 7 199 5 103 3 37 3 23 3 15 4 10 3 4 3 0 3-1 6-5 3-1 3 4 8 15 4 6 6 5 8 2 9 0 3-1 3-2 4-6 8-16 3-3 2 1 2 2 7 16 4 7 5 4 6 2 19 2 21 0 7-1 13-6 5 0 4 0 13 6 9 2 72 1" stroke="#7E2F8E"/>
<path d="M1492 2054l117-1 9-1 10-4 3 0 12 4 8 0 8-1 9-4 3-1 3 1 9 3 6 0 6-2 9-6 3-1 13 3 15-3 18 0 9-2 7-3 6-5 5-5 5-8 3-7 3-10 4-21 4-39 3-48 5-135 8-316 2-49 1-11 1 1 1 11 2 50 8 315 3 89 3 63 4 51 4 28 3 12 3 9 4 7 4 6 4 3 5 4 6 2 6 1 7 1 6-1 6-2 5-3 8-7 6-10 4-12 4-20 3-25 2-25 4-77 4-119 7-252 2-38 1-5 1 4 2 37 9 316 5 116 3 41 4 32 5 20 3 7 4 7 6 5 8 4 8 0 7-3 6-7 4-7 3-10 3-16 4-37 3-48 4-95 6-181 2-41 1-9 1-2 1 8 2 37 9 256 3 56 3 35 3 20 3 9 3 3 5-2 3 2 3 6 8 22 5 9 3 3 3 2 4 1 6 1 12 0 6-2 5-2 7-6 5-7 4-10 3-12 4-30 4-54 4-87 6-160 2-33 1-7 1 1 2 23 8 206 5 91 2 23 3 23 3 14 4 10 3 4 2 1 2 0 3-1 6-6 3 0 3 3 8 15 4 5 5 3 8 3 9 0 6-3 5-6 8-15 3-2 2 0 2 3 7 15 4 6 4 3 5 2 18 1 24 1 8-2 12-5 5 0 4 1 11 4 7 2 42 1" stroke="#77AC30"/>
<path d="M1492 2059l121-1 8-1 10-4 3 0 12 4 9 0 7-1 9-4 3-1 3 0 9 4 6 0 6-1 9-7 3-1 3 0 6 2 4 1 14-3 19 0 10-2 7-3 6-5 5-6 5-8 3-8 3-10 4-24 3-29 3-48 5-136 8-332 2-53 1-11 1 1 2 35 9 362 3 90 3 62 4 50 4 26 3 12 3 8 4 7 4 5 4 4 5 3 6 3 6 1 7 0 6-1 6-2 5-2 8-7 6-10 4-11 4-19 3-25 2-24 4-76 4-121 7-266 2-41 1-6 1 5 2 40 8 300 3 87 3 61 3 40 4 30 5 20 3 6 4 7 6 5 8 4 8 0 7-4 6-6 4-7 3-9 3-15 4-37 3-47 4-97 7-216 2-29 1-1 1 8 2 40 9 269 3 55 3 35 2 14 3 11 3 4 2 0 4-3 2 1 1 1 3 6 8 23 5 9 3 3 3 1 10 3 12-1 6-2 5-2 7-5 5-7 4-9 3-12 4-29 4-54 4-89 6-168 2-36 1-7 1 1 2 25 8 216 4 78 2 26 3 27 4 19 4 10 3 4 2 1 2 0 3-2 6-6 3 0 3 3 7 13 5 7 5 4 8 2 10 0 3-1 3-2 5-7 7-15 3-2 3 2 7 15 4 7 4 3 6 3 19 1 24 0 7-1 12-5 4-1 5 1 11 5 7 2 39 1" stroke="#4DBEEE"/>
<path d="M1492 2053l11-1 10-5 3-1 3 1 9 3 8 0 5-2 8-6 3-1 9 3 3 0 15-3 19 0 10-2 5-2 5-3 8-9 6-11 5-16 4-24 3-30 5-97 4-138 7-321 2-57 1-11 1 2 2 42 9 396 3 94 3 63 4 50 4 26 3 11 3 8 5 9 5 6 5 3 5 3 6 2 6 0 6 0 6-1 6-2 5-3 7-8 6-11 4-13 4-22 4-43 4-81 4-130 7-290 2-43 1-5 1 7 2 46 8 328 3 91 3 63 4 49 4 26 5 16 4 8 4 5 7 5 8 2 7-1 7-4 5-6 4-9 3-11 3-18 4-45 3-57 10-318 2-30 1-1 1 10 2 47 8 266 3 65 3 42 3 23 3 11 1 2 2 1 2-1 4-3 2 1 1 1 3 6 8 25 3 6 3 4 3 3 4 2 6 1 6 0 12-2 9-4 6-5 5-8 4-11 3-14 4-36 4-65 9-260 2-38 1-7 1 2 2 30 8 237 4 81 3 36 3 23 4 16 2 5 3 4 3 2 3-1 8-8 3-1 3 4 7 15 5 7 6 4 10 1 8 0 5-3 5-7 7-16 3-3 1 0 2 3 8 18 4 6 5 4 8 2 22 1 18 0 7-2 11-5 4-1 4 1 14 7 12 1 190 1" stroke="#A2142F"/>
<path d="M1492 2055l137-1 9-2 12-4 3 0 10 4 8 1 7-2 10-5 3 0 11 4 7 0 6-2 8-6 3-1 3 0 6 2 4 1 15-4 19 0 9-1 7-4 6-5 5-6 5-9 3-7 3-11 4-23 4-42 3-54 5-153 8-353 2-51 1-8 1 5 2 44 9 390 3 94 3 64 4 52 4 27 5 18 4 9 4 6 4 4 5 3 6 3 6 2 7 0 6-1 6-2 6-3 4-3 4-5 6-11 4-12 4-22 3-29 2-27 4-86 4-135 6-249 2-55 1-14 1-2 1 9 2 48 8 322 3 91 3 63 3 41 4 32 5 20 6 12 6 7 4 2 4 2 4 0 4 0 4-1 4-3 6-7 4-8 3-11 3-17 4-42 3-53 4-108 6-203 2-42 1-8 1 2 2 32 9 288 3 65 3 43 3 24 3 11 1 2 2 2 6-3 2 1 1 1 3 7 7 22 5 11 3 3 3 2 4 2 6 1 12-1 6-1 5-2 7-6 6-9 4-10 3-14 4-33 4-61 3-71 7-207 2-33 1-5 1 3 2 32 8 233 4 81 2 27 3 27 3 17 4 12 3 4 2 2 2 0 3-1 7-7 3 0 3 3 7 15 4 6 5 4 8 2 10 1 3-1 3-2 5-7 8-17 2-2 1 0 3 3 7 16 4 7 4 4 5 2 18 2 25 0 8-2 12-5 4-1 4 1 10 5 7 2 24 1" stroke="#0072BD"/>
<path d="M1492 2060l137-1 9-1 11-4 3 0 12 3 8 1 8-1 9-4 3-1 12 4 6 0 6-2 9-6 3-1 13 3 15-3 18 0 9-2 6-2 6-5 5-5 5-7 6-15 4-17 4-33 3-41 3-62 3-86 8-300 2-45 1-9 1 1 1 11 2 48 8 299 3 85 3 60 4 49 4 27 3 12 3 8 4 7 4 5 4 4 5 3 6 2 6 2 7 0 6-1 6-2 5-2 8-8 6-9 4-12 4-20 3-25 2-24 4-74 4-114 6-211 2-49 1-14 1-4 1 5 2 35 9 300 5 111 3 39 4 31 5 19 3 7 4 6 6 6 8 3 8 0 7-3 6-6 4-8 3-9 3-16 4-36 3-46 4-92 6-172 2-37 1-9 1 0 1 7 2 36 9 243 3 53 3 34 3 19 3 9 3 2 5-1 3 2 3 5 8 22 5 8 6 5 4 1 6 1 12 0 6-2 5-2 7-6 5-6 4-10 3-12 4-30 4-52 3-60 7-175 2-31 1-6 1 1 2 23 8 196 5 86 2 22 3 22 3 14 4 10 3 3 2 1 2 0 3-1 6-5 3 0 3 3 8 14 4 5 5 3 7 2 10 0 6-2 5-6 8-14 3-3 2 1 2 3 6 12 4 6 4 4 6 2 18 2 24 0 8-1 12-5 4 0 4 0 11 5 6 1 23 2" stroke="#D95319"/>
<path d="M1492 2059l121-1 9-1 13-5 3 0 10 4 8 0 7-1 9-4 4-1 12 4 6 0 6-2 8-6 3-2 3 0 7 3 4 0 14-3 18-1 9-2 7-3 6-5 5-6 5-9 3-8 3-11 4-23 4-42 3-51 5-138 9-353 2-39 1-5 1 6 2 41 10 385 3 82 3 57 4 47 4 26 3 12 3 8 4 8 4 5 4 4 5 4 6 2 6 1 6 0 6-1 6-2 5-3 7-8 6-11 4-13 4-22 5-54 4-80 4-120 7-257 2-45 1-10 1 0 1 9 2 44 9 322 5 119 4 53 4 30 5 20 3 7 4 6 7 6 7 3 7-1 7-4 5-6 4-8 3-11 3-17 4-40 3-49 4-97 7-209 2-33 1-5 1 3 1 12 2 42 9 260 3 56 3 37 3 21 3 10 2 2 2 1 4 0 3 3 3 6 8 24 5 9 3 3 3 2 4 2 6 1 12-1 10-4 7-6 5-8 4-11 3-14 4-31 4-57 4-88 6-163 2-37 1-10 1-3 1 5 2 29 8 210 4 78 3 38 3 25 3 15 4 11 3 4 3 1 3 0 7-6 3 1 3 3 7 14 5 7 5 4 7 2 9 0 6-2 5-6 9-17 3-2 3 3 8 16 4 6 4 4 6 2 18 2 22 0 8-2 12-4 5-1 5 1 12 5 6 1 11 1 26 1" stroke="#EDB120"/>
<path d="M1492 2060l154-1 10-2 11-4 3 0 12 4 8 0 7-1 10-5 3 0 3 0 9 4 6 0 6-2 9-7 3-1 13 3 15-3 17 0 9-2 6-3 6-4 5-6 5-8 6-15 5-25 4-39 3-47 5-133 9-363 2-48 1-9 1 2 2 35 10 393 3 85 3 60 4 48 4 27 5 18 4 8 4 6 4 5 5 3 5 3 6 1 7 1 6-1 6-2 5-3 8-8 6-10 4-12 4-20 3-26 2-24 4-76 4-117 7-265 2-52 1-14 1-4 1 6 2 39 9 329 5 124 3 44 4 36 5 23 3 8 4 7 7 7 4 2 4 1 4 0 4 0 7-5 5-6 4-9 3-11 3-19 4-43 3-53 3-73 7-217 2-39 1-8 1-1 1 9 2 39 9 268 3 58 3 39 3 22 3 10 3 4 5-1 3 2 3 6 8 24 5 10 3 3 3 2 4 2 6 1 12-1 10-4 7-5 5-8 4-10 3-12 4-29 4-54 4-85 7-191 2-32 1-6 1 2 2 25 8 214 5 97 2 25 3 25 3 16 4 11 3 5 3 1 3-1 7-6 3 0 3 4 8 15 4 6 5 4 7 2 10 0 3-1 3-2 5-6 8-16 3-3 2 2 2 3 10 20 4 4 5 2 16 2 26 1 8-2 13-5 4-1 5 1 13 6 8 2" stroke="#7E2F8E"/>
<path d="M1492 2062l182-1 11-2 11-4 3 0 12 4 8 0 7-1 10-5 3 0 3 0 9 4 5 0 6-2 10-7 3-1 13 2 15-2 17-1 9-2 6-3 6-4 5-6 4-6 4-9 3-10 5-26 4-41 3-50 5-137 9-367 2-47 1-10 1 2 1 13 2 52 9 367 3 88 3 62 4 51 4 29 5 19 4 9 4 6 4 4 5 4 5 3 6 1 7 1 6-1 6-2 5-3 4-3 4-5 6-11 4-13 4-21 5-53 4-78 4-120 7-269 2-52 1-13 1-5 1 6 2 39 9 333 3 84 3 61 3 41 4 32 5 21 3 8 3 5 6 7 7 3 4 1 4 0 7-3 6-7 4-8 3-11 3-16 4-39 3-48 4-96 7-219 2-39 1-9 1 0 1 9 2 39 9 271 3 60 3 40 3 24 3 11 3 4 6 0 3 4 9 26 5 11 3 4 3 3 4 2 5 1 12 0 6-2 5-2 7-5 6-9 4-11 3-13 4-31 4-55 4-88 7-193 2-32 1-6 1 2 2 25 8 216 5 100 5 53 3 16 3 10 3 6 2 2 2 1 3-1 7-6 3 0 3 4 8 15 4 6 5 4 7 3 5 0 5 0 3-1 3-2 5-7 8-16 3-2 2 1 2 3 10 20 4 5 5 2 15 2 26 1 9-2 14-5" stroke="#77AC30"/>
<path d="M1492 2056l85 0 8-1 13-4 13 3 8 0 7-1 12-3 13 3 6 0 5-2 9-5 3-1 14 2 15-2 18-1 8-1 7-3 6-4 5-5 5-8 5-12 4-17 4-30 3-36 5-99 9-262 2-38 1-8 1-2 2 20 2 43 9 262 3 61 3 43 4 36 4 20 3 10 3 6 4 6 5 5 9 5 11 3 12-1 10-4 7-6 6-8 4-9 4-17 5-39 4-56 4-86 7-192 2-39 2-17 1 2 1 8 2 34 9 239 3 59 3 42 3 28 4 23 5 16 3 5 4 5 6 4 7 3 7-1 7-2 5-5 4-6 3-8 3-12 4-29 4-49 10-210 2-30 1-8 1-2 2 13 2 33 9 192 3 42 3 27 3 16 3 8 2 2 6 1 3 3 11 23 6 8 7 3 9 2 11-1 10-3 6-4 5-6 4-8 3-10 4-23 4-40 4-62 7-138 2-25 1-6 1-1 1 5 2 23 8 156 5 69 3 25 3 16 3 10 4 7 2 2 3 1 3-1 6-3 3 0 3 2 8 11 5 6 6 3 7 1 8 0 6-2 5-5 8-11 3-2 2 1 2 1 8 13 4 4 5 3 6 2 18 1 20 0 8-1 13-4 5 0 5 0 13 5 9 1 70 1" stroke="#4DBEEE"/>
<path d="M1492 2044l7 2 4 0 15-3 18 0 8-2 8-3 8-7 7-11 5-12 4-18 3-21 2-21 5-86 4-116 8-304 2-44 1-9 1 2 2 33 10 366 3 79 3 56 4 45 5 29 3 10 4 9 5 7 5 5 5 3 5 2 11 2 11-2 5-2 5-4 7-7 6-12 4-15 3-18 4-40 4-70 4-110 7-247 2-48 1-12 1-4 1 6 2 37 9 306 3 76 3 55 4 44 4 25 3 11 3 7 4 7 4 4 7 5 7 1 7-2 6-4 4-5 4-8 3-11 3-17 4-41 3-49 10-270 2-36 1-8 1 0 2 24 10 270 3 54 3 36 3 20 3 10 3 3 5 0 3 2 3 6 9 24 3 6 4 4 7 3 10 2 10-2 9-3 6-5 5-7 4-9 3-12 4-28 4-49 4-80 7-178 2-29 1-6 1 2 2 24 8 199 5 90 3 32 3 21 4 15 2 4 3 4 2 1 3 0 8-6 3 0 3 4 9 15 4 5 7 4 11 1 6-1 4-3 4-5 8-14 3-3 3 3 9 17 5 6 3 2 4 1 11 2 20 1 12-1 7-1 11-4 5-1 5 1 14 5 14 2 249 1" stroke="#A2142F"/>
<path d="M1492 2061l168-1 9-1 10-5 3 0 12 4 8 1 8-1 9-5 3-1 3 1 8 3 7 1 6-2 9-7 3-1 3 0 6 3 3 0 16-3 18 0 9-1 7-4 6-4 5-6 5-8 6-17 5-27 3-31 3-50 5-150 8-383 2-63 1-13 1 1 2 42 9 421 5 146 3 49 4 37 3 16 3 10 4 9 4 7 4 4 5 4 6 3 6 2 7 0 7 0 6-2 6-3 8-8 4-6 3-6 5-18 3-18 4-44 4-81 4-136 7-309 2-48 1-7 1 6 2 49 8 348 5 143 3 48 4 37 5 23 3 8 3 5 7 8 4 3 4 1 8 1 4-2 4-2 6-6 5-11 3-11 3-18 4-45 3-59 10-337 2-34 1-1 1 10 2 48 6 221 4 111 2 37 3 36 3 20 3 8 1 1 2 0 6-5 2 1 3 7 7 24 4 9 3 4 3 3 4 2 5 1 8 0 8-1 7-2 6-4 5-4 4-6 3-7 3-10 3-17 2-18 4-58 4-99 6-196 2-43 1-8 1 1 2 31 8 252 4 85 2 28 3 27 3 16 3 10 4 7 2 1 2 1 4-3 6-7 2-1 1 0 3 4 7 15 4 7 5 4 7 2 11 1 4-2 3-2 5-7 7-17 3-3 1 0 2 3 10 23 4 5 5 2 18 2 27 0 8-1 11-6 4-1 4 1 10 5" stroke="#0072BD"/>
</g>
</g></g>
<clipPath id="cE"><rect x="1490.3" y="2376" width="959" height="866.5"/></clipPath><g clip-path="url(#cE)"><g filter="url(#bl)">
<g fill="none" stroke-width="2.3" stroke-linejoin="round">
<path d="M1490 3199l84 0 8-1 13-3 14 3 9 0 7-1 13-4 12 3 6 1 7-2 13-5 14 2 17-2 22-1 10-2 9-4 7-5 6-7 3-6 3-7 4-17 4-28 3-34 5-92 9-241 2-32 1-8 1 0 2 20 2 41 9 239 3 56 3 39 4 33 4 18 3 9 3 6 4 5 5 5 10 5 12 3 13-1 12-3 8-4 7-8 5-9 4-14 5-33 5-63 4-81 7-175 2-34 1-9 1-3 1 3 2 24 10 238 3 53 3 37 4 32 4 18 5 12 3 4 4 5 7 4 7 2 8 0 8-2 6-4 4-5 4-8 3-11 4-24 4-42 4-65 7-142 2-25 1-6 1 0 1 5 2 25 10 193 3 38 3 24 3 15 3 7 3 3 7-1 3 2 3 5 8 15 5 6 6 4 10 2 13 0 12-3 7-3 6-6 4-6 4-10 5-26 4-39 4-59 7-126 2-20 1-3 1 1 1 6 2 24 7 128 5 67 3 25 3 17 4 13 4 6 3 3 4 1 3-1 7-4 3-1 3 2 8 11 5 4 6 3 7 1 10 1 7-2 5-4 9-12 3-2 2 1 2 2 8 11 4 4 4 2 6 2 19 1 25 0 8-1 14-3 5-1 23 6 34 0" stroke="#0072BD"/>
<path d="M1490 3197l82-1 8-1 14-5 14 4 9 0 7-1 10-4 3-1 3 1 10 3 5 0 7-1 10-7 3-1 3 0 8 2 4 1 16-3 22-1 10-3 9-6 7-7 6-11 5-15 4-20 4-35 3-43 6-142 9-315 2-43 1-9 1-1 1 7 2 39 10 343 3 77 3 55 4 48 5 32 3 11 3 8 4 7 5 6 5 4 5 3 6 2 6 2 7 0 6-1 6-2 6-3 5-4 4-4 6-11 4-12 4-20 5-46 4-67 4-99 8-259 2-44 1-12 1-4 1 3 1 12 2 42 9 287 3 72 3 53 4 46 4 26 5 18 3 6 4 6 7 7 8 3 8 0 4-2 4-2 6-7 4-8 3-9 3-15 4-34 4-58 4-88 7-186 2-32 1-8 1 0 1 6 2 31 10 254 3 51 4 44 3 17 3 9 3 3 6 0 3 3 3 6 8 20 6 11 3 2 4 3 10 2 13-1 11-4 7-5 6-9 4-10 3-12 5-37 4-54 10-223 2-35 2-15 1 1 1 7 2 30 8 188 5 83 3 32 3 21 3 13 4 9 3 4 4 2 3-1 7-5 3 0 3 2 9 15 4 5 6 4 8 2 10 1 6-3 5-6 9-15 3-2 2 1 2 2 8 15 4 5 5 4 6 2 19 2 24 0 8-1 14-5 5-1 5 1 12 5 7 1 34 2" stroke="#D95319"/>
<path d="M1490 3202l83-1 8-2 13-4 4 1 10 3 9 0 7-1 13-5 4 1 9 3 6 0 7-2 9-6 4-1 10 2 4 1 16-3 22-1 10-3 9-6 7-7 6-10 3-8 3-11 4-22 4-39 3-48 6-158 8-301 2-49 1-13 1-4 1 6 2 38 10 362 3 81 3 58 4 50 5 34 3 11 3 8 4 7 5 7 5 4 5 3 6 2 6 2 7 0 6-1 6-2 6-3 8-7 6-9 5-14 4-19 5-45 5-87 4-111 7-243 2-50 2-22 1 2 1 10 2 42 9 303 3 76 3 56 4 48 4 28 5 18 3 7 4 6 7 6 4 2 5 2 8-1 4-1 4-3 6-7 4-9 3-10 3-17 4-38 3-46 4-89 7-198 2-38 1-10 1-2 2 16 2 41 6 172 4 94 3 49 3 32 3 18 3 9 3 3 6 0 3 2 3 6 9 24 5 8 3 3 4 3 9 2 13-1 11-3 7-5 6-8 4-8 4-15 5-36 4-53 4-81 7-175 2-30 1-7 1 0 1 6 2 30 8 197 5 89 3 33 3 22 3 14 4 10 3 4 4 1 3 0 7-6 2 0 2 0 3 4 8 14 4 5 6 4 8 2 10 1 6-3 5-5 9-16 2-3 2 0 3 3 8 15 4 6 5 4 6 2 19 2 24 0 9-1 13-5 5-1 5 1 12 5 7 1 34 2" stroke="#EDB120"/>
<path d="M1490 3196l84-1 8-1 12-4 3 1 11 3 9 0 8-1 12-4 3 0 10 3 6 1 7-2 10-6 3-1 13 3 17-3 23 0 11-3 9-5 7-7 6-10 3-8 3-11 4-23 3-30 3-45 5-122 8-284 2-49 1-13 1-4 2 20 2 51 9 313 3 72 3 50 4 41 4 22 3 11 3 7 4 6 5 6 5 4 5 3 6 2 6 1 7 0 7-1 6-1 6-3 8-6 7-9 5-12 4-17 5-42 4-64 4-98 8-258 2-37 1-7 1 2 1 10 2 41 8 258 3 75 3 55 4 45 4 26 5 16 3 6 4 6 7 6 8 3 9 0 8-3 6-5 4-6 4-11 3-13 4-31 4-56 4-87 6-163 2-38 1-10 1-2 1 4 2 30 10 252 3 48 3 32 3 18 3 9 3 3 2 0 5-2 3 1 3 6 8 20 5 8 3 3 4 2 10 2 13-1 12-3 7-4 6-7 4-7 4-14 4-25 4-45 4-73 7-166 2-30 1-7 1 0 1 6 2 29 7 166 5 87 3 32 3 21 4 16 4 8 3 3 4 1 3-1 8-6 3 0 3 4 8 13 4 4 6 4 8 1 10 1 4-1 3-2 5-5 8-14 2-2 2-1 3 3 7 12 4 6 5 4 6 2 19 2 26 0 9-1 12-5 5-1 5 1 12 5 6 1 35 1" stroke="#7E2F8E"/>
<path d="M1490 3195l83-1 7-2 10-4 4-1 13 5 9 0 7-1 10-5 4-1 12 5 6 0 7-2 10-7 3-1 13 3 17-3 23-1 10-3 9-6 7-9 6-11 3-9 3-12 4-25 4-46 3-55 5-147 9-371 2-43 1-6 1 4 2 39 10 404 3 90 3 64 4 53 4 31 3 13 3 10 4 9 5 7 5 5 5 3 6 3 6 1 7 1 7-1 6-2 6-3 8-7 4-6 3-6 5-15 4-22 5-52 4-77 4-118 8-306 2-46 1-10 1 0 1 9 2 45 9 338 3 85 3 62 4 52 4 29 5 19 3 7 4 7 7 7 8 3 8 0 4-1 4-3 6-6 4-8 4-13 3-17 4-38 4-68 3-74 8-248 2-33 1-5 1 3 1 12 2 44 6 193 4 104 3 54 3 35 3 20 3 10 3 3 6-2 3 2 3 6 9 27 5 9 3 3 4 3 5 1 6 1 13-1 6-2 5-2 7-6 6-9 4-11 3-14 4-31 4-55 4-86 7-197 2-38 1-9 1-2 1 5 2 31 8 221 5 99 3 36 3 24 3 14 4 11 3 4 2 2 2 0 4-2 7-6 3 0 3 4 8 15 4 6 6 5 8 2 10 0 4-1 3-2 5-6 9-18 3-2 2 1 2 3 7 16 4 6 4 4 6 3 19 2 26 0 8-2 13-5 5-1 4 1 12 5 8 2 10 1 25 1" stroke="#77AC30"/>
<path d="M1490 3197l85-1 8-1 10-4 3 0 14 4 9 0 7-1 10-4 3-1 3 0 9 4 6 0 7-1 10-7 3-1 3 0 7 2 4 0 17-3 22 0 10-3 9-6 7-8 6-10 3-8 3-11 4-23 4-41 3-49 5-129 9-334 2-45 1-11 1-1 2 26 2 56 9 332 3 79 3 57 4 48 4 27 3 12 3 9 4 8 5 7 5 4 5 3 6 3 6 1 7 0 6 0 6-2 6-3 8-7 7-10 5-14 4-20 5-47 4-67 4-104 8-274 2-47 1-13 1-5 1 4 1 12 2 46 9 303 3 75 3 54 4 47 4 26 5 17 3 7 4 6 7 6 7 3 8 0 4-1 4-2 6-6 4-7 4-12 3-15 4-34 4-59 4-91 7-198 2-35 1-8 1 0 1 7 2 33 10 268 3 53 3 36 3 22 3 11 3 4 2 0 5-1 3 3 3 6 8 22 6 10 3 3 4 2 10 2 13 0 6-2 5-2 7-6 6-8 4-10 3-12 5-38 4-54 11-257 2-28 1-5 1 1 1 8 2 33 8 198 5 87 3 32 3 20 3 13 4 10 3 4 4 1 3-1 7-5 3-1 3 3 8 14 5 7 6 4 7 2 10 0 4-1 3-1 5-6 9-16 3-2 2 0 2 3 8 15 4 6 4 3 6 3 18 1 26 1 8-2 14-5 5 0 4 0 12 5 7 2 10 1 23 0" stroke="#4DBEEE"/>
<path d="M1490 3196l86 0 7-1 10-4 3-1 13 4 10 1 7-1 10-5 3 0 11 3 7 1 7-1 10-7 3-1 13 3 17-3 17 1 7-1 10-2 9-6 7-6 6-10 3-7 3-10 4-22 3-28 3-43 5-122 9-336 2-41 1-7 1 4 2 38 9 335 3 83 3 58 4 48 4 26 3 11 3 8 4 8 5 6 5 4 5 3 6 2 7 1 7 1 7-1 7-2 6-2 8-7 7-9 5-13 4-18 3-24 2-23 4-70 4-110 7-246 2-43 1-10 1 0 1 9 2 43 9 305 5 107 3 37 4 29 5 19 4 8 4 6 7 6 9 3 9 0 8-4 6-5 5-9 3-9 3-14 4-35 4-62 10-270 2-32 1-4 1 3 2 30 10 270 3 50 3 32 3 19 3 9 3 2 2 0 5-3 2 0 1 1 3 5 8 21 5 8 3 3 4 2 11 2 14 0 11-4 7-4 6-7 4-8 4-15 4-27 4-51 4-81 7-176 2-24 1-2 1 5 2 30 7 178 5 92 3 33 3 21 4 16 4 8 3 3 4 1 4-2 7-6 3 0 3 3 7 12 5 6 6 4 8 2 11 0 4-1 3-2 5-6 8-15 3-2 3 3 7 13 4 6 4 4 6 2 19 2 28 0 8-1 13-5 4-1 5 1 11 5 7 1 34 1" stroke="#A2142F"/>
<path d="M1490 3201l86-1 8-2 9-3 3-1 3 0 10 4 10 1 8-2 9-4 3-1 3 1 9 3 7 1 7-2 9-6 3-2 3 0 6 3 4 0 18-3 16 1 7-1 11-3 9-6 7-8 6-11 3-9 3-11 4-27 3-33 3-51 5-144 9-375 2-39 1-3 1 9 2 50 10 411 5 119 4 51 4 27 3 13 3 8 4 8 5 7 5 4 5 4 6 2 7 2 7 0 7-1 6-2 6-3 8-6 7-11 5-13 4-19 3-24 2-23 5-98 4-128 7-274 2-43 1-7 1 4 2 38 9 342 3 86 3 60 3 39 4 31 5 20 3 7 4 7 7 7 8 4 5 1 4-1 8-3 6-5 5-8 4-11 3-15 4-36 4-64 4-104 6-196 2-45 1-10 1-2 1 7 2 40 7 225 3 77 3 53 3 34 3 20 3 9 1 1 2 1 7-4 2 0 1 2 3 6 8 24 5 9 3 3 4 2 10 2 13 0 6-2 6-2 7-5 6-7 4-9 4-15 3-19 2-19 4-60 3-68 7-200 2-36 1-7 1 1 2 26 8 223 5 99 2 25 3 26 4 19 4 10 4 5 4 1 4-2 6-7 3 0 3 2 8 16 4 6 6 4 8 2 11 0 4-1 3-1 4-5 9-18 3-4 2 1 2 3 7 15 4 7 4 4 6 2 20 2 27 0 8-1 12-6 5 0 4 0 12 6 6 1 10 1 24 1" stroke="#0072BD"/>
<path d="M1490 3199l84-2 8-1 10-4 3 0 3 0 11 4 9 0 7-1 10-5 3 0 3 0 9 4 6 0 4 0 4-2 9-6 3-2 3 0 7 3 4 0 17-3 16 0 7 0 10-4 9-6 7-8 6-11 3-9 3-12 4-26 3-33 3-49 5-133 9-360 2-50 1-12 1-2 2 28 2 61 9 357 3 82 3 58 4 48 4 27 3 13 3 8 4 8 5 7 5 4 5 4 6 2 6 1 7 1 6-1 6-2 6-3 8-6 7-11 5-14 4-19 5-46 5-92 4-119 7-262 2-52 1-14 1-6 1 4 2 35 9 324 3 86 3 63 4 53 4 30 5 20 3 7 4 7 7 7 8 3 5 1 4-1 4-1 4-3 6-6 4-8 4-13 3-17 4-40 3-48 4-96 7-213 2-39 1-9 1-1 1 8 2 36 10 288 3 55 3 37 3 21 3 11 3 4 2 0 5-2 3 2 3 7 8 23 5 9 6 6 4 1 6 1 13 0 6-1 6-3 7-5 6-7 4-9 4-14 3-19 2-19 4-56 4-87 7-188 2-31 1-6 1 1 1 9 2 36 7 190 5 100 3 37 3 24 4 19 4 9 3 4 2 1 2 0 3-1 7-6 3-1 3 3 8 15 5 7 5 4 8 2 10 1 4-1 3-2 5-6 9-17 3-3 2 1 2 2 8 17 4 6 4 4 6 2 20 2 25 0 8-2 13-5 5-1 5 2 11 4 7 2 10 1 24 0" stroke="#D95319"/>
<path d="M1490 3199l83-1 8-2 10-4 3-1 3 1 11 4 9 0 7-1 10-5 3-1 3 1 9 3 6 1 7-2 10-7 3-2 3 0 7 3 4 0 17-3 22-1 10-3 9-6 7-9 6-11 3-9 3-12 4-26 4-45 3-54 5-145 9-379 2-53 1-12 1-2 2 28 2 63 9 378 3 89 3 64 4 54 4 30 3 14 3 10 4 9 5 7 5 6 5 3 6 3 6 1 7 1 6-1 6-2 6-3 8-8 4-6 3-6 5-15 4-22 5-52 5-100 4-127 7-276 2-54 2-21 1 4 1 13 2 52 9 345 3 84 3 61 4 52 4 29 5 20 3 7 4 7 7 7 7 3 8 1 4-2 4-2 6-7 4-7 4-13 3-17 4-38 4-66 4-102 7-225 2-41 1-9 1-1 1 7 2 38 10 305 3 60 3 40 3 24 3 12 3 5 2 0 5-1 3 3 3 7 8 25 3 6 3 5 3 3 4 3 10 2 7 0 6-1 6-2 5-2 7-6 6-9 4-11 3-14 5-41 4-61 4-94 7-198 2-32 1-6 1 1 1 9 2 36 8 226 5 98 3 36 3 23 3 15 4 11 3 4 2 1 2 0 3-1 7-6 3-1 3 3 8 16 5 8 6 5 8 2 10 0 6-3 5-6 9-18 3-3 2 0 2 3 8 18 4 6 4 4 6 3 18 2 26 0 9-2 13-5 5-1 4 1 12 5 7 2 10 1 25 1" stroke="#EDB120"/>
<path d="M1490 3202l84-2 8-1 10-4 3-1 3 1 11 4 9 0 7-1 10-5 3-1 3 1 9 3 6 1 7-2 10-7 3-2 3 1 7 2 4 0 17-3 22 0 10-4 9-6 8-10 6-12 5-18 4-25 4-44 3-53 5-144 9-381 2-52 1-12 1 0 2 30 2 66 9 378 3 87 3 62 4 51 4 29 3 13 3 10 4 8 5 7 5 5 5 4 6 2 6 2 7 0 6-1 6-2 6-3 8-7 4-6 3-6 5-15 4-21 5-50 5-100 4-127 7-277 2-54 1-15 1-5 1 5 2 39 10 376 3 83 3 59 4 49 4 28 5 19 3 7 4 6 7 7 4 2 5 1 8 0 4-2 4-3 6-8 4-10 3-11 3-19 4-44 3-52 4-102 7-226 2-40 1-9 1 0 1 8 2 40 10 305 3 59 3 38 3 23 3 12 3 4 2 0 5-2 3 3 3 7 8 25 5 10 3 3 3 2 4 2 6 1 13 0 6-2 6-2 7-6 6-8 4-9 4-16 3-21 2-20 4-61 4-93 7-199 2-32 1-5 1 2 1 9 2 39 7 201 5 106 3 40 3 25 4 20 4 11 3 4 2 1 2 0 3-1 7-7 3 0 3 3 8 16 5 7 6 5 7 2 10 0 4-1 3-2 5-6 9-19 3-2 2 1 2 2 8 18 4 6 4 4 6 3 19 2 25 0 9-2 13-5 5-1 5 1 11 5 7 2 10 1 24 1" stroke="#7E2F8E"/>
<path d="M1490 3201l84-1 7 0 10-4 4-1 13 4 9 1 8-2 9-4 4 0 12 3 6 1 7-2 10-6 3-1 13 2 17-2 23-1 10-2 9-6 7-7 6-10 3-7 3-10 4-22 4-38 3-47 5-126 9-321 2-38 1-6 1 4 2 34 10 350 3 77 3 55 4 45 4 26 3 11 3 8 4 8 5 6 5 4 5 3 6 2 6 2 7 0 7-1 6-1 6-3 8-6 7-10 5-13 4-18 5-45 4-65 4-102 8-264 2-40 1-9 1-1 1 9 2 39 10 319 5 99 4 44 4 25 5 16 3 6 4 6 7 5 8 3 8 0 8-3 6-5 4-7 4-11 3-14 4-33 4-57 4-90 7-189 2-29 1-4 1 3 1 10 2 39 6 166 4 90 3 46 3 30 3 17 3 8 3 3 6-2 3 1 3 6 9 23 5 7 3 3 4 2 11 2 13-1 11-3 7-5 6-8 4-9 3-12 4-26 4-47 4-75 7-170 2-33 1-8 1-2 1 5 2 28 8 191 5 85 3 30 3 20 3 12 4 10 3 3 4 2 4-2 7-6 3 1 3 3 8 13 4 5 6 4 8 2 10 0 4-1 3-1 5-6 9-15 3-2 3 2 8 15 4 6 4 3 6 2 19 2 26 0 9-1 12-5 5-1 5 1 12 5 7 1 34 1" stroke="#77AC30"/>
<path d="M1490 3194l86-1 8-1 9-4 4-1 13 4 9 1 8-1 9-5 4-1 3 1 9 3 6 1 7-2 10-7 3-2 3 1 7 2 4 0 16-3 23 0 10-3 9-7 7-8 6-11 3-9 3-12 4-25 4-45 3-55 5-146 9-376 2-46 1-8 1 3 1 14 2 55 9 376 3 91 3 66 4 55 4 31 3 14 3 10 4 9 5 7 5 5 5 4 6 2 6 2 7 0 7 0 6-2 6-4 8-7 4-6 3-5 5-16 4-21 5-52 4-76 4-118 8-309 2-48 1-12 1-2 1 9 2 43 9 341 3 87 3 63 4 53 4 30 5 20 3 7 4 7 7 7 8 4 8 0 4-2 4-2 6-6 4-8 4-13 3-16 4-39 4-67 4-103 7-222 2-36 1-6 1 3 1 11 2 43 10 301 3 55 3 36 3 21 3 10 3 3 6-2 3 2 3 6 9 27 5 9 3 4 4 2 10 3 13-1 6-2 5-2 7-6 6-8 4-9 4-17 4-30 4-55 4-86 7-200 2-39 1-10 1-4 1 5 2 30 8 223 5 101 3 37 3 24 3 15 4 11 3 5 2 1 2 1 4-2 7-7 3 0 3 4 8 16 4 6 6 4 8 3 10 0 4-1 3-2 5-7 9-18 3-2 2 1 2 3 7 16 4 7 4 4 6 2 18 2 27 1 9-2 12-5 5-1 4 0 12 6 8 2 32 1" stroke="#4DBEEE"/>
<path d="M1490 3201l84-1 8-1 9-4 4-1 13 4 9 1 8-1 10-5 3-1 3 1 9 3 6 1 7-2 10-7 3-1 3 0 7 2 4 1 17-3 22-1 10-3 9-6 7-8 6-11 3-8 3-11 4-24 4-43 3-51 5-135 9-346 2-45 1-9 1 1 1 11 2 47 9 345 3 88 4 80 4 48 4 27 3 12 3 8 4 8 5 7 5 5 5 3 6 2 7 2 7 0 6-1 6-2 6-3 5-4 4-5 6-11 4-12 4-21 5-49 4-70 4-109 8-285 2-46 1-12 1-3 1 6 2 36 10 343 3 76 3 54 4 46 4 26 5 17 3 6 4 6 7 7 8 3 8-1 4-1 4-3 6-6 4-9 3-10 3-15 4-36 4-62 4-96 7-204 2-34 1-7 1 1 2 24 10 277 3 60 4 51 3 21 3 11 3 4 7-1 3 3 11 29 5 9 3 3 4 3 10 2 13-1 11-3 7-6 6-7 4-9 4-16 5-39 4-58 4-87 6-159 2-37 2-15 1 3 1 10 2 36 7 183 5 97 3 36 3 24 4 18 4 10 3 3 4 1 3-1 7-6 3 0 3 4 8 14 5 7 6 4 7 2 10 0 4-1 3-2 5-6 9-16 3-3 2 1 2 3 8 16 4 6 4 3 6 3 19 1 25 1 8-2 14-5 5-1 5 1 11 5 7 2 10 1 24 0" stroke="#A2142F"/>
<path d="M1490 3199l84-1 8-1 10-4 4-1 13 4 9 1 8-2 9-4 4 0 12 3 6 1 7-2 10-6 3-2 14 3 17-3 22-1 10-2 9-6 7-8 6-10 3-8 3-11 4-23 4-41 3-48 5-128 9-320 2-40 1-8 1 2 1 10 2 44 9 321 3 81 4 75 4 45 4 25 3 12 3 8 4 7 5 7 5 4 5 3 6 2 7 1 7 1 6-1 6-2 6-3 5-4 4-5 6-10 4-12 4-19 5-47 4-67 4-103 8-263 2-42 1-10 1-3 1 6 2 35 10 318 3 70 3 51 4 43 4 24 5 16 3 6 4 6 7 6 8 3 8-1 4-1 4-2 6-7 4-8 3-9 3-15 4-35 4-59 4-89 7-189 2-31 1-6 1 2 2 23 10 257 3 56 4 47 3 20 3 10 3 4 7-1 3 3 11 27 5 9 3 3 4 2 10 2 13 0 11-4 7-5 6-7 4-9 4-15 4-28 4-48 4-75 7-170 2-33 1-10 1-3 1 3 1 9 2 34 7 170 5 90 3 34 3 22 4 17 4 9 3 4 4 1 3-2 7-5 3 0 3 3 8 14 5 6 6 4 7 2 10 0 4-1 3-2 5-5 9-16 3-2 2 1 2 3 8 14 4 6 4 3 6 2 19 2 25 0 8-1 14-5 5-1 5 1 11 5 7 1 33 2" stroke="#0072BD"/>
<path d="M1490 3199l82-1 8-1 13-4 4 1 10 3 9 0 7-1 10-4 4 0 12 3 6 0 7-1 9-6 4-1 14 2 16-2 22-1 10-2 9-5 7-6 6-9 3-7 3-9 4-19 4-34 3-40 6-133 8-254 2-42 1-11 1-4 1 4 2 31 10 304 3 69 4 64 4 38 4 21 3 10 3 7 4 7 5 5 5 4 5 3 6 2 6 1 13-1 6-1 6-3 8-6 6-8 5-12 4-16 5-38 5-74 4-93 7-205 2-42 2-20 1 1 1 8 2 34 9 254 3 66 3 48 4 42 4 24 5 16 4 7 4 5 7 5 8 3 8-1 8-3 6-6 4-8 3-9 3-14 4-33 4-54 10-226 2-32 1-9 1-2 1 3 1 9 2 34 10 224 3 42 3 28 3 16 3 8 3 3 6 0 3 2 3 5 9 20 5 8 3 2 4 2 9 2 13 0 11-3 7-5 6-6 4-7 4-13 5-30 4-45 4-68 7-148 2-26 1-6 1-1 1 5 2 24 8 166 5 76 3 29 3 19 4 15 4 7 3 3 3 1 3-1 7-4 2-1 2 1 3 3 8 12 4 4 6 4 8 2 10 0 6-2 5-5 9-13 2-2 2-1 2 1 2 3 7 11 4 5 5 4 6 2 18 1 25 1 9-2 13-4 5 0 4 0 12 4 8 2 35 1" stroke="#D95319"/>
<path d="M1490 3201l83-1 8-2 13-4 3 0 11 4 9 0 7-1 10-4 3-1 3 0 10 4 6 0 7-2 9-6 4-1 13 3 17-4 16 1 7-1 10-3 9-6 7-8 6-11 3-8 3-12 4-25 3-31 3-47 3-69 3-95 8-323 2-53 1-13 1-3 2 26 2 59 9 356 3 82 3 57 4 48 4 26 3 13 3 8 4 8 5 6 5 5 5 3 6 3 7 1 7 0 7-1 6-2 6-3 5-4 4-5 6-11 4-12 4-22 5-51 4-75 4-116 7-261 2-54 2-22 1 3 1 12 2 49 8 294 3 85 3 63 4 53 4 29 5 20 3 7 4 6 7 7 8 4 5 0 4 0 4-1 4-3 6-6 4-7 4-13 3-17 4-37 4-67 10-286 2-40 1-10 1-2 1 6 2 35 10 287 3 55 3 36 3 22 3 10 3 4 2 0 5-2 3 2 3 7 8 22 5 10 6 5 4 2 6 1 13 0 6-2 6-2 7-5 6-7 4-8 4-14 3-18 2-18 4-54 4-85 7-188 2-33 1-6 1 0 1 8 2 34 8 213 5 90 3 32 3 21 3 13 4 9 3 4 4 1 3-1 7-7 3 0 3 3 8 15 5 6 6 5 8 2 10 0 4-1 3-2 5-7 8-16 3-2 2 0 2 3 8 16 4 6 4 4 6 2 19 2 26 0 8-2 13-5 5-1 5 2 12 5 6 1 10 1 25 0" stroke="#EDB120"/>
<path d="M1490 3201l84-1 8-1 12-4 3 0 10 4 10 1 8-2 9-4 3-1 3 1 9 3 7 1 7-2 9-6 3-2 3 1 6 2 4 1 18-4 17 1 7 0 10-3 9-6 7-7 6-11 3-8 3-11 4-24 3-30 3-49 5-138 9-369 2-38 1-3 1 10 2 50 10 402 5 113 4 47 4 26 3 11 3 8 4 7 4 6 5 4 5 3 6 3 7 1 8 1 7-1 7-2 6-3 8-6 7-11 5-14 4-20 3-27 2-25 4-79 4-124 7-269 2-43 1-7 1 4 2 38 9 336 5 123 3 43 4 33 5 22 4 9 4 6 7 7 4 2 5 1 9 1 5-2 4-2 6-7 5-9 3-10 3-16 4-39 3-49 4-100 7-219 2-29 1-2 1 8 2 39 9 273 3 59 3 38 3 22 3 11 2 3 2 0 7-5 2 1 1 1 3 7 8 23 5 8 3 3 4 2 5 1 7 1 14-1 11-4 7-6 6-8 4-10 3-13 4-31 4-57 4-92 6-170 2-36 1-7 1 1 2 26 8 219 5 95 2 24 3 24 4 18 4 9 4 5 4 1 4-3 6-6 3-1 3 3 8 15 4 5 6 4 8 2 11 1 4-1 3-2 5-6 8-17 3-3 2 1 2 3 7 15 4 7 4 3 5 2 19 2 29 0 8-1 12-6 5 0 4 0 12 6 6 1 36 1" stroke="#7E2F8E"/>
<path d="M1490 3199l84-1 8-1 10-5 3 0 3 0 11 4 9 1 7-2 10-5 3 0 3 0 9 4 6 0 7-1 10-8 3-1 3 0 7 2 4 1 17-4 22 0 10-4 9-6 7-9 6-11 3-9 3-13 4-26 4-45 3-55 5-145 9-373 2-50 1-12 1-1 2 29 2 62 9 372 3 88 3 63 4 54 4 30 3 14 3 10 4 9 5 8 5 5 5 3 6 3 6 1 7 1 6-1 6-2 6-3 8-8 4-6 3-6 5-15 4-22 5-53 4-76 4-116 8-307 2-52 1-14 1-5 1 4 2 36 10 369 3 83 3 61 4 51 4 30 5 19 3 7 4 7 7 7 7 3 8 1 4-2 4-2 6-7 4-7 4-14 3-17 4-38 4-67 4-101 7-221 2-39 1-9 1 0 1 8 2 37 10 300 3 59 3 40 3 24 3 12 3 5 2 1 5-1 3 3 3 7 8 24 6 11 3 4 4 2 10 2 7 0 6-1 6-1 5-3 7-6 6-9 4-11 3-14 5-42 4-62 11-287 2-31 1-5 1 1 1 9 2 37 8 222 5 97 3 35 3 23 3 15 4 11 3 4 2 1 2 0 3-1 7-6 3 0 3 3 8 16 5 7 6 5 7 2 10 0 4-1 3-2 5-6 9-18 3-3 2 1 2 3 8 17 4 7 4 3 6 3 18 2 26 0 8-1 14-6 5-1 4 1 12 6 7 2 10 1 24 0" stroke="#77AC30"/>
<path d="M1490 3196l83-2 8-1 13-5 4 1 10 4 9 0 7-1 10-5 4-1 12 4 6 1 7-2 9-7 4-1 14 2 16-3 22 0 10-4 9-6 7-8 6-11 3-8 3-11 4-24 4-42 3-51 6-168 8-320 2-54 1-15 1-5 1 5 2 38 10 385 3 87 4 81 4 48 4 27 3 13 3 9 4 8 5 7 4 4 5 3 6 3 6 1 7 1 6-1 6-2 6-3 8-7 7-11 5-14 4-21 5-48 5-93 4-117 7-259 2-54 2-26 1 1 1 10 2 43 9 322 3 83 3 61 4 53 4 30 5 20 4 9 4 7 7 6 8 3 8 0 4-2 4-3 6-7 4-10 3-11 3-18 4-41 4-69 10-285 2-41 1-11 1-4 1 4 1 12 2 42 10 284 3 53 3 35 3 21 3 10 3 4 6 0 3 2 3 6 9 26 5 9 3 3 4 3 9 2 7 0 6 0 6-2 5-2 7-5 6-8 4-9 4-16 5-38 4-57 4-86 7-186 2-34 1-8 1-1 1 6 2 30 8 210 5 97 3 36 3 24 4 19 4 9 3 4 3 1 3-1 7-6 2 0 2 0 3 4 8 15 4 6 6 4 8 3 10 0 6-3 5-6 9-17 2-2 2-1 2 2 2 3 7 14 4 7 5 4 6 3 18 1 25 1 9-2 13-5 5-1 4 1 12 5 8 2 10 1 24 0" stroke="#4DBEEE"/>
<path d="M1490 3195l84-1 8-1 12-3 14 3 9 0 7-1 10-3 4-1 12 3 6 1 7-2 10-5 3-1 13 2 17-2 23-1 10-2 9-5 7-6 6-9 3-7 3-9 4-19 3-25 3-37 3-54 3-74 9-278 2-31 1-4 1 5 2 31 10 305 3 67 3 47 4 40 4 22 3 10 3 7 4 6 5 6 5 4 5 2 12 3 7 1 7-1 6-2 6-2 8-6 7-8 5-12 4-17 5-40 4-59 4-90 8-229 2-33 1-7 1 1 1 8 2 36 9 255 3 63 3 45 4 38 4 22 5 14 3 5 4 5 7 5 8 3 8 0 8-3 6-5 4-6 4-10 3-13 4-29 4-52 4-79 6-146 2-33 1-9 1-3 2 14 2 34 9 207 3 45 4 37 3 15 3 7 3 2 6-2 3 2 3 5 8 18 6 8 3 3 4 2 11 1 13-1 11-3 7-4 6-7 4-9 3-10 4-24 4-42 4-66 7-148 2-28 1-6 1-1 1 5 2 25 8 167 5 73 3 27 3 17 3 11 4 8 3 3 4 1 3-1 8-5 3 0 3 3 7 11 5 5 6 4 8 1 10 0 4-1 3-1 5-5 8-12 2-2 2-1 3 2 8 13 4 5 4 3 6 2 19 1 26 1 8-1 13-5 5 0 4 0 12 4 7 2 35 1" stroke="#A2142F"/>
<path d="M1490 3197l84-1 8-1 13-3 14 3 9 0 7-1 13-4 4 1 9 2 6 1 7-2 9-5 4-1 14 2 16-2 22-1 10-2 9-5 7-6 6-9 3-6 3-9 4-18 4-33 3-38 5-103 9-266 2-39 1-10 1-3 1 5 2 30 10 290 3 65 3 48 4 40 5 28 3 9 3 7 4 6 5 5 5 4 5 2 12 3 13-1 6-1 6-3 8-6 6-7 5-11 4-16 5-38 5-71 4-89 7-194 2-40 2-17 1 2 1 8 2 34 9 242 3 62 3 45 4 39 4 23 5 15 3 5 4 5 7 5 7 3 8 0 8-2 6-5 4-6 4-9 3-12 4-27 4-47 4-72 7-158 2-30 1-8 1-1 2 13 2 33 6 137 4 76 3 39 3 26 3 15 3 8 3 2 6 0 3 2 3 5 9 19 5 7 3 2 4 2 9 2 13-1 11-3 7-3 6-7 4-6 4-13 4-22 4-38 4-60 8-158 2-24 1-5 1 0 1 5 2 24 8 158 5 72 3 27 3 17 3 11 4 9 3 3 4 1 3 0 7-5 2 0 2 1 3 2 8 12 4 4 6 3 8 2 10 0 6-2 5-4 9-13 2-2 2 0 3 2 8 12 4 5 5 4 6 1 19 2 24 0 9-1 13-4 5-1 24 6 33 1" stroke="#0072BD"/>
<path d="M1490 3197l86 0 7-1 12-4 14 4 10 0 7-1 10-4 3 0 11 3 7 1 7-2 10-5 3-1 13 3 17-3 24 1 11-3 9-5 7-6 6-8 3-7 3-9 4-21 3-27 3-41 5-114 8-253 2-33 1-4 1 5 2 33 9 280 3 67 3 48 4 38 4 21 3 9 3 6 4 6 5 5 5 3 5 3 13 2 14 0 7-1 6-2 8-6 7-8 5-10 4-15 3-20 2-19 4-58 4-92 7-205 2-35 1-7 1 0 2 25 9 252 3 65 3 45 3 30 4 23 5 15 4 7 4 5 7 4 9 3 9 0 8-3 6-5 5-7 3-7 3-12 4-29 4-52 10-225 2-25 1-3 1 4 2 26 10 224 3 41 3 26 3 15 3 7 3 2 7-4 3 1 3 5 8 17 5 7 3 2 4 2 11 2 14-1 11-3 7-4 6-5 4-7 4-12 4-23 4-42 4-68 6-129 2-29 1-7 1-1 1 5 2 26 7 149 5 75 2 19 3 20 4 14 4 8 4 4 4 1 4-2 7-6 3 0 3 3 7 10 4 5 6 3 8 2 11 0 7-2 5-5 9-13 3-2 3 3 7 11 4 5 4 3 6 2 19 1 28 0 8-1 13-4 4 0 4 0 11 4 7 1 35 1" stroke="#D95319"/>
<path d="M1490 3196l83-1 8-2 10-4 4-1 4 1 10 3 8 1 7-1 11-5 3-1 4 1 9 3 5 1 7-2 10-8 4-1 14 2 16-3 21-1 10-3 9-7 7-8 6-12 3-9 3-12 4-26 4-44 3-51 6-168 9-358 2-48 1-11 1-1 2 25 2 58 10 391 3 82 3 60 4 51 5 35 3 12 3 9 4 8 5 7 5 5 5 3 5 3 6 1 7 0 6-1 6-2 5-3 8-8 6-11 5-16 4-21 5-50 5-94 4-117 8-294 2-49 1-13 1-5 1 3 1 13 2 46 10 357 3 78 3 57 4 49 4 29 5 19 3 8 4 6 7 7 4 3 4 1 4 0 4-1 7-4 6-8 4-10 3-12 3-19 4-42 4-69 11-312 2-36 1-9 1-1 2 21 2 45 10 287 3 54 3 37 3 22 3 12 3 4 6 1 3 4 3 6 8 24 6 13 3 3 4 3 9 2 12 0 6-2 5-2 7-6 6-8 4-10 4-16 5-40 4-56 4-86 7-189 2-39 2-17 1 1 1 8 2 33 8 213 5 99 3 38 3 26 4 20 4 10 3 4 3 1 3-1 7-5 3 0 3 3 9 17 5 7 6 5 7 2 9 0 4-1 3-2 5-7 9-17 3-2 2 0 2 3 8 16 5 8 4 4 6 3 18 2 24 0 9-2 14-5 5-1 4 1 12 5 8 2 10 1 23 1" stroke="#EDB120"/>
<path d="M1490 3195l84-1 8-1 10-4 4 0 13 3 9 1 7-1 10-4 4-1 12 4 6 0 7-2 10-5 3-1 14 2 16-2 22-1 10-2 9-5 8-8 6-9 5-14 4-18 4-33 3-40 6-133 8-259 2-45 2-17 1 3 2 30 10 310 3 71 4 65 4 38 4 22 3 10 3 7 4 6 5 6 9 6 6 2 6 1 13 0 6-1 6-3 8-5 7-9 5-11 4-16 5-38 5-73 4-93 8-234 2-35 1-7 1 0 1 7 2 34 9 260 3 67 3 49 4 42 4 24 5 17 3 5 4 6 7 5 8 3 8 0 8-3 6-5 4-6 4-11 3-14 4-32 4-55 10-229 2-34 1-10 1-3 1 2 1 9 2 34 10 229 3 43 3 28 3 17 3 8 3 3 6-1 3 2 3 5 9 21 5 7 3 3 4 2 9 2 13-1 11-3 7-4 6-6 4-7 4-12 5-30 4-45 4-68 7-151 2-28 1-7 1-1 1 4 2 24 8 169 5 78 3 29 3 19 4 15 4 8 3 3 4 1 3-2 6-4 2 0 2 0 3 3 8 12 4 5 6 3 8 2 10 1 4-1 3-2 5-5 8-13 2-2 2 0 2 1 2 2 7 12 4 5 5 4 6 2 19 1 25 0 8-1 13-4 5-1 4 1 12 4 8 1 33 1" stroke="#7E2F8E"/>
<path d="M1490 3202l84-1 8-2 10-4 4 0 13 4 9 0 7-1 10-5 4 0 12 3 6 1 7-2 9-7 4-1 14 2 17-3 21-1 10-3 9-6 7-9 6-11 3-9 3-12 4-25 4-44 3-51 5-132 9-343 2-52 1-14 1-6 1 4 1 13 2 50 9 342 3 88 4 82 4 51 5 34 3 12 3 8 4 8 5 7 5 4 5 3 6 3 6 1 7 0 6-1 6-2 5-3 8-8 6-11 5-15 4-21 5-50 4-71 4-106 9-310 2-40 1-8 1 0 1 8 2 40 10 339 3 77 3 55 4 49 4 28 5 19 3 7 4 6 7 7 4 2 4 1 4 0 4 0 7-4 6-7 4-9 3-10 3-16 4-37 4-61 4-93 7-203 2-40 1-11 1-4 1 4 1 10 2 39 10 275 3 54 3 37 3 22 3 11 3 5 7 1 3 4 11 30 6 10 3 3 4 3 10 2 12-1 6-2 5-2 7-6 5-7 4-10 4-16 5-40 4-57 4-84 7-180 2-32 1-8 1-1 1 5 2 27 8 202 5 97 3 37 3 25 4 20 4 11 3 3 3 2 3-1 8-5 3 0 3 4 8 14 5 7 6 4 7 3 9 0 4-1 3-2 5-6 9-16 2-3 2 0 2 1 2 3 8 16 4 6 4 3 6 3 18 2 25 0 9-2 13-5 5-1 5 1 12 5 7 2 10 1 23 1" stroke="#77AC30"/>
<path d="M1490 3203l86-1 8-1 11-4 3 0 10 4 11 0 8-1 11-5 3 1 9 3 7 1 8-2 11-7 3 1 6 2 4 1 17-4 18 2 7-1 11-3 9-5 8-8 6-10 5-15 4-23 3-30 3-47 5-138 8-324 2-41 1-4 1 9 2 48 9 358 5 116 4 47 4 25 3 10 3 8 4 7 4 5 5 4 5 3 6 2 7 2 7 0 8 0 7-2 6-2 9-6 7-9 5-12 4-16 3-21 2-22 4-68 4-113 7-263 2-45 1-8 1 3 2 37 8 294 3 85 3 58 3 37 4 28 5 18 3 6 4 6 7 6 9 3 9 1 5-1 4-2 6-5 5-7 4-10 3-13 4-32 4-61 3-73 7-213 2-32 1-2 1 7 2 38 7 215 4 86 2 29 3 27 3 15 3 7 1 0 2 1 6-6 2-1 1 0 3 5 7 20 5 9 3 3 3 2 10 3 9 0 9-1 8-1 6-3 5-4 5-5 3-5 3-8 3-12 3-21 4-49 4-84 6-166 2-37 1-8 1 0 2 25 8 213 4 74 2 24 3 24 4 18 4 9 4 5 3 1 2 0 4-2 7-8 3 0 3 4 7 13 4 5 5 3 8 2 13 0 4-1 3-2 5-6 8-16 2-2 1 0 3 4 6 13 4 6 4 4 6 2 20 2 29 0 8-2 12-5 4 0 4 1 11 4 6 2 36 1" stroke="#4DBEEE"/>
<path d="M1490 3195l86-1 7-1 10-5 3 0 13 4 10 1 7-1 10-5 3-1 11 4 7 1 4 0 4-2 9-7 3-1 3 0 7 3 3 1 17-4 17 1 7-1 6-1 5-2 9-6 7-9 6-11 3-9 3-13 4-28 3-36 3-56 5-154 8-349 2-50 1-8 1 3 2 42 9 385 3 96 3 67 4 55 4 29 3 13 3 9 4 8 5 7 5 5 5 3 6 3 7 2 7 0 7-1 7-2 6-3 8-7 7-11 5-14 4-20 3-26 2-26 4-78 4-125 7-283 2-53 1-12 1-1 1 9 2 49 8 318 3 91 3 65 3 42 4 34 5 21 4 10 4 6 7 7 4 2 5 1 5 1 4-1 4-1 4-3 6-6 5-9 3-10 3-16 4-39 4-70 10-310 2-38 1-6 1 3 2 33 10 310 3 58 3 37 3 22 3 10 1 2 2 1 2-1 5-4 2 1 1 0 3 7 8 24 5 9 3 4 4 2 10 2 14 0 6-2 6-2 7-5 6-8 4-9 4-16 4-31 4-56 4-93 7-203 2-29 1-3 1 5 2 34 7 205 5 106 3 38 3 23 4 18 4 9 4 5 2 1 2-1 3-2 7-7 3 0 3 3 7 14 5 7 6 4 8 2 11 1 4-2 3-2 5-7 8-17 3-2 3 3 7 16 4 7 4 4 6 2 19 2 28 0 9-1 12-6 4 0 5 1 11 5 7 2 34 1" stroke="#A2142F"/>
<path d="M1490 3198l84-2 8-1 12-4 3 0 11 4 9 0 8-1 12-5 3 0 10 4 6 0 7-2 10-7 3-1 13 3 17-3 16 0 7 0 10-3 9-6 7-8 6-11 3-8 3-12 4-24 4-44 3-54 5-145 8-334 2-56 1-15 1-4 2 24 2 61 9 367 3 84 3 59 4 49 4 27 3 12 3 8 4 8 5 7 5 5 5 3 6 2 6 2 7 0 7-1 6-2 6-3 8-7 7-11 5-14 4-21 5-51 4-75 4-117 8-301 2-43 1-8 1 2 1 12 2 49 8 303 3 88 3 64 4 55 4 30 5 19 3 8 4 6 7 7 8 4 5 0 4 0 4-1 4-3 6-6 4-7 4-13 3-16 4-37 4-67 4-103 6-191 2-43 1-12 1-2 1 5 2 35 10 296 3 57 3 37 3 22 3 11 3 4 2-1 5-2 3 2 3 6 8 24 5 10 3 3 4 2 10 3 13-1 6-1 6-3 7-5 6-8 4-9 4-16 4-30 4-54 4-86 7-195 2-35 1-8 1 0 1 8 2 34 7 195 5 103 3 38 3 24 4 19 4 10 3 4 2 1 2 0 4-2 6-6 2-1 2 1 3 4 8 15 4 5 6 4 8 2 10 1 4-1 3-2 5-7 8-16 2-3 2 0 3 3 7 15 4 7 5 5 6 2 19 2 26 0 8-2 13-5 5-1 5 1 12 6 6 1 10 1 25 0" stroke="#0072BD"/>
<path d="M1490 3197l86-1 8-2 12-4 3 0 11 4 9 1 7-1 10-5 4-1 12 4 6 1 7-2 10-7 3-1 13 3 17-3 23-1 10-3 9-6 7-8 6-11 3-8 3-12 4-24 3-31 3-47 3-69 3-94 9-358 2-39 1-5 1 6 2 40 10 392 3 85 3 60 4 50 4 28 3 12 3 9 4 8 5 7 5 5 5 3 6 2 6 2 7 0 7-1 6-1 6-4 8-7 4-5 3-6 5-14 4-21 5-51 4-75 4-115 8-294 2-43 1-8 1 1 1 10 2 46 9 327 3 81 3 57 4 49 4 27 5 17 3 7 4 6 7 7 8 3 8 0 4-1 4-3 6-6 4-7 4-13 3-16 4-38 4-65 4-102 6-186 2-43 1-11 1-4 1 5 1 13 2 44 9 265 3 57 3 38 3 23 3 11 3 4 2 0 5-2 3 2 3 7 8 23 3 6 3 5 3 3 4 2 5 1 6 1 13-1 6-2 5-2 7-6 6-9 4-10 3-13 4-30 4-54 4-84 7-190 2-35 1-8 1-1 1 6 2 32 8 215 5 93 3 33 3 22 3 13 4 10 3 4 4 2 3-1 8-7 3 0 3 4 7 13 5 7 6 5 8 2 10 0 4-1 3-2 5-7 8-15 2-3 2 0 3 2 8 17 4 6 4 4 6 2 19 2 26 0 8-1 13-5 5-1 4 0 12 6 7 1 10 1 23 1" stroke="#D95319"/>
<path d="M1490 3194l82-1 8-1 14-5 4 0 11 4 8 0 7-1 9-4 4-1 4 0 9 3 5 1 7-2 10-7 4-2 14 3 17-3 19-2 10-3 9-6 8-10 6-12 3-9 3-12 4-26 4-44 3-50 6-163 9-339 2-46 1-12 1-3 2 21 2 50 10 372 6 143 4 53 5 38 3 13 3 9 4 9 5 7 5 5 5 3 5 2 6 2 7 0 6-1 6-2 5-3 8-8 6-11 5-16 4-22 5-50 5-92 4-113 8-278 2-47 2-20 1 2 1 10 2 41 10 338 6 135 4 52 4 30 5 21 4 10 4 6 7 7 4 2 4 0 4 0 4-1 4-2 3-3 5-7 4-10 3-12 3-19 4-41 4-67 11-297 2-36 1-8 1-2 2 16 2 40 10 274 3 55 4 47 3 19 3 10 2 3 6 3 3 3 3 7 9 25 6 11 3 4 4 2 9 3 12-1 6-2 5-3 7-6 5-7 4-10 4-17 5-39 4-56 4-81 7-180 2-37 2-18 1 0 1 7 2 29 9 223 5 90 3 34 3 23 3 15 4 11 3 4 3 2 3-1 7-4 2 0 2 1 3 3 8 15 5 7 6 5 7 2 9 0 4-1 3-2 5-6 9-17 2-2 2 0 2 1 2 3 8 16 4 6 5 5 6 2 18 2 23 0 9-1 14-6 5 0 5 1 12 5 8 2 11 1 22 0" stroke="#EDB120"/>
<path d="M1490 3200l84-1 8-1 10-3 4-1 13 4 9 0 7-1 10-4 4-1 12 4 6 0 7-1 10-7 3 0 14 2 16-3 23 0 10-3 9-5 7-7 6-10 3-7 3-11 4-21 3-27 3-41 3-60 3-81 9-309 2-36 1-5 1 3 2 33 10 336 3 76 3 54 4 45 5 31 3 10 3 7 4 7 5 5 5 4 5 3 6 2 7 1 7 0 6 0 6-2 6-3 5-4 4-4 6-10 4-11 4-18 5-45 4-65 4-99 8-254 2-38 1-8 1-1 1 8 2 37 9 282 3 72 3 51 4 44 4 25 5 17 3 6 4 5 7 6 8 3 8 0 8-3 6-6 4-6 4-11 3-15 4-33 4-57 4-87 6-160 2-38 1-11 1-4 1 3 1 10 2 37 6 160 4 88 3 45 3 29 3 17 3 9 3 2 6-1 3 2 3 5 9 22 5 8 3 3 4 2 11 2 13-1 11-4 7-5 6-8 4-9 3-11 4-27 4-46 4-73 7-164 2-31 1-8 1-2 1 5 2 26 8 184 5 83 3 31 3 19 3 13 4 9 3 4 4 1 4-1 7-5 3 0 3 3 8 13 4 5 6 4 8 2 10 0 4-1 3-2 5-5 8-14 2-2 2-1 2 1 2 3 7 13 4 5 4 3 6 3 19 1 26 1 8-2 13-4 5-1 4 1 12 4 8 2 33 1" stroke="#7E2F8E"/>
<path d="M1490 3203l85-1 8-1 12-3 14 3 9 1 8-1 10-4 3-1 11 4 7 0 7-1 10-6 3 0 13 2 17-2 24 0 10-3 9-4 7-6 6-8 3-7 3-8 4-20 3-24 3-37 5-106 9-285 2-34 1-5 1 4 2 33 9 285 3 70 3 50 4 41 4 22 3 10 3 7 4 6 5 5 5 4 5 2 6 2 7 1 14 0 7-2 6-2 8-5 7-9 5-11 4-16 3-20 2-20 4-61 4-95 7-208 2-36 1-8 1 0 1 9 2 37 8 235 3 67 3 48 3 32 4 25 5 16 4 7 4 5 7 5 9 3 9-1 8-3 6-4 5-8 3-8 3-13 4-30 4-54 10-229 2-26 1-4 1 4 2 26 10 229 3 43 3 27 3 16 3 8 3 2 2 0 5-3 3 1 3 5 8 18 5 7 3 2 4 2 10 2 13-1 12-3 7-3 6-6 4-6 4-11 3-14 2-14 4-44 4-69 6-132 2-30 1-7 1-1 1 5 2 26 7 151 5 78 3 28 3 18 4 13 4 7 3 3 4 1 4-2 7-5 3 0 3 3 8 12 4 4 6 3 8 1 11 0 6-2 5-4 9-14 3-2 3 2 7 12 4 5 4 3 6 2 19 2 28 0 8-1 12-4 5-1 5 1 11 4 7 1 34 1" stroke="#77AC30"/>
<path d="M1490 3197l85-1 8-1 13-3 14 3 9 0 7 0 13-4 13 3 5 0 7-1 10-5 4-1 14 2 16-2 22 0 10-3 9-4 7-5 6-7 3-6 3-8 4-16 4-29 3-34 5-90 9-232 2-33 1-8 1-1 1 5 2 27 10 253 3 56 3 41 4 35 5 23 3 8 3 6 4 5 5 4 10 6 12 2 13-1 12-3 8-5 6-7 5-10 4-14 5-33 5-62 4-79 7-169 2-33 2-14 1 2 1 8 2 30 9 211 3 54 3 38 4 34 4 19 5 13 3 5 4 4 7 5 7 2 8 0 8-2 6-4 4-5 4-9 3-10 4-24 4-42 4-63 7-137 2-25 1-6 1-1 1 4 2 21 11 201 3 34 3 22 3 13 3 7 3 2 6-1 3 2 3 5 8 15 6 7 7 4 10 1 13 0 11-3 7-4 6-6 4-7 3-8 5-27 4-38 4-57 7-122 2-20 1-4 1 1 1 5 2 21 8 138 5 62 3 23 3 15 3 9 4 8 3 2 4 2 3-1 7-4 4 0 3 3 7 9 5 4 6 3 8 2 10 0 6-2 5-4 9-11 3-2 2 1 2 1 8 11 4 4 5 3 6 2 19 1 24 0 8-1 14-4 5 0 24 5 32 1" stroke="#4DBEEE"/>
<path d="M1490 3195l84-1 8-1 13-4 14 4 9 0 7-1 13-5 3 1 9 3 6 0 7-1 13-8 3 0 11 3 17-3 22-1 10-2 9-6 7-7 6-10 3-7 3-11 4-21 4-39 3-46 5-122 9-322 2-45 1-11 1-2 2 24 2 53 10 349 5 102 4 46 4 26 3 12 3 8 4 8 5 6 5 5 5 3 6 2 6 1 7 1 6-1 6-2 6-2 8-7 7-10 5-13 4-18 5-44 5-86 4-107 7-235 2-46 2-18 1 3 1 12 2 43 9 293 3 72 3 52 4 44 4 25 5 17 3 6 4 6 7 6 7 3 8 0 8-3 6-6 4-6 4-11 3-15 4-32 4-56 4-87 7-190 2-35 1-8 1-1 1 6 2 32 10 258 3 52 3 34 3 20 3 11 3 4 2 0 5-1 3 3 3 6 8 21 6 9 3 3 4 2 10 2 13-1 11-3 7-5 6-8 4-9 3-12 5-35 4-52 4-79 7-168 2-28 1-5 1 1 1 7 2 31 8 191 5 84 3 30 3 20 3 13 4 9 3 3 4 2 3-1 7-6 3 0 3 3 8 13 5 7 6 4 8 2 10 0 6-3 5-5 9-16 3-2 2 1 2 2 8 15 4 5 4 4 6 2 18 2 26 0 9-2 13-4 5-1 4 1 12 4 7 2 10 1 24 0" stroke="#A2142F"/>
<path d="M1490 3200l85-1 8-1 12-3 14 3 9 1 8-1 12-4 13 3 6 0 7-1 9-5 4-1 13 2 17-2 23 0 10-2 9-5 7-5 6-8 3-6 3-8 4-18 4-31 3-39 5-105 8-241 2-40 1-10 1-2 1 6 2 33 9 266 3 66 3 47 4 39 4 22 3 10 3 6 4 6 5 6 5 3 5 2 6 2 7 2 14-1 12-3 8-5 7-8 5-11 4-14 5-37 4-54 4-85 8-218 2-30 1-5 1 3 2 25 9 240 3 63 3 45 4 38 4 21 5 14 3 5 4 4 7 5 8 3 9 0 8-3 6-4 4-6 4-9 3-11 4-27 4-48 4-75 6-138 2-31 1-7 1-2 1 5 2 27 10 213 3 40 3 26 3 16 3 7 3 2 7-2 3 2 3 4 8 17 5 7 3 2 4 2 10 2 13-1 12-2 7-4 6-6 4-6 4-12 3-15 2-14 4-45 10-189 2-25 1-5 1 0 1 6 2 26 7 141 5 73 3 27 3 17 4 13 4 7 3 2 4 1 3-1 7-5 3 0 3 2 8 11 5 5 5 3 8 1 11 0 7-2 5-5 8-11 3-2 2 0 2 2 7 11 4 5 4 3 6 2 19 1 27 0 8-1 13-4 5 0 5 0 11 4 7 1 34 1" stroke="#0072BD"/>
<path d="M1490 3202l83-1 8-1 10-4 4-1 14 4 8 0 7-1 10-4 4-1 3 1 9 3 6 0 7-1 10-7 3-1 3 0 11 2 17-2 21-1 10-3 9-5 7-8 6-10 3-7 3-11 4-21 4-38 3-44 6-148 9-315 2-39 1-7 1 1 1 9 2 43 10 345 3 75 3 55 4 47 5 32 3 11 3 7 4 8 5 6 5 4 5 3 6 2 6 1 7 0 6 0 6-2 5-3 8-7 6-9 5-13 4-18 5-43 5-82 4-103 8-259 2-41 1-10 1-2 1 5 2 33 10 313 3 71 3 53 4 45 4 26 5 18 3 6 4 6 7 6 8 3 8 0 4-1 4-3 6-7 4-8 3-11 3-16 4-35 4-61 10-253 2-40 2-18 1 2 1 7 2 34 7 186 4 87 3 45 3 30 3 17 3 8 3 3 6 0 3 3 11 28 6 9 3 3 4 3 10 2 12-1 11-4 7-5 5-6 4-8 4-14 5-34 4-50 4-75 7-167 2-33 1-9 1-3 1 2 1 9 2 32 8 189 5 82 3 31 3 21 3 13 4 9 3 4 4 1 3-1 7-5 3 1 3 2 8 14 5 6 6 4 7 2 10 1 4-2 3-1 5-6 8-14 2-2 2-1 2 1 2 2 8 15 4 5 4 4 6 2 18 2 25 0 9-1 14-5 5-1 5 1 12 5 7 1 33 2" stroke="#D95319"/>
<path d="M1490 3200l83-1 9-1 13-5 4 1 11 3 8 1 7-2 10-4 4-1 12 4 6 0 7-2 9-6 4-1 14 2 17-3 21-1 10-3 9-6 7-8 6-11 3-9 3-12 4-24 4-43 3-50 5-127 9-327 2-48 1-13 1-5 1 5 1 12 2 48 9 325 3 84 4 79 4 48 5 33 3 12 3 8 4 8 5 6 5 5 5 3 6 2 6 1 7 0 6-1 6-2 5-3 8-8 6-10 5-15 4-21 5-48 5-91 4-111 7-237 2-48 2-23 1 0 1 9 2 38 10 323 3 73 3 53 4 47 4 26 5 19 3 7 4 6 7 6 8 3 8 0 7-4 6-7 4-8 3-10 3-16 4-35 4-60 4-89 7-193 2-37 1-10 1-3 1 3 1 10 2 38 10 262 3 51 3 35 3 21 3 11 3 5 7 1 3 4 11 28 6 11 3 2 4 3 10 2 12-1 6-2 5-2 7-6 5-7 4-9 4-16 4-29 4-49 4-74 8-193 2-31 1-7 1-1 1 5 2 27 8 192 5 92 3 36 3 24 4 19 4 10 3 4 3 1 3 0 7-5 2-1 2 1 3 3 8 14 5 7 6 4 7 2 9 0 4-1 3-1 5-6 9-16 2-2 2 0 2 1 2 3 8 15 4 5 4 4 6 2 18 2 25 0 8-1 14-5 5-1 5 1 12 5 8 2 32 1" stroke="#EDB120"/>
<path d="M1490 3195l84-1 8-1 13-3 14 3 9 0 7 0 13-4 12 3 6 0 7-1 13-6 14 2 17-2 22 0 10-2 9-4 8-6 6-8 3-6 3-9 4-18 3-23 3-34 5-93 9-246 2-33 1-7 1 1 1 7 2 33 9 246 3 61 4 55 4 32 4 18 3 8 3 6 4 5 5 5 10 5 12 2 13 0 12-3 8-5 7-7 5-10 4-13 5-33 5-64 4-82 7-179 2-34 1-9 1-3 1 4 2 26 9 223 3 58 3 42 4 35 4 20 5 13 3 5 4 5 7 4 8 3 9 0 8-3 6-5 4-5 4-9 3-12 4-28 4-48 10-198 2-25 1-5 1 0 2 17 10 197 3 42 4 35 3 14 3 7 3 2 7-1 3 2 11 20 5 6 3 2 4 2 10 2 13-1 11-2 7-4 6-5 4-6 4-10 3-13 2-13 4-39 4-61 7-128 2-20 1-3 1 2 2 17 8 145 5 67 3 25 3 16 4 13 4 6 3 3 4 0 3-1 7-4 3 0 3 2 8 10 5 5 5 2 8 2 10 0 7-2 5-4 9-12 3-1 2 0 2 2 7 10 4 5 5 3 6 2 20 1 25 0 8-1 13-4 5 0 23 5 34 1" stroke="#7E2F8E"/>
<path d="M1490 3195l83-1 8-1 12-5 3 1 11 4 9 0 8-1 12-6 3 1 10 4 6 0 7-2 10-7 3-1 9 3 4 1 17-4 23 0 11-3 9-6 7-8 6-11 3-9 3-12 4-26 3-32 3-51 5-140 9-364 2-41 1-5 1 6 2 43 9 365 3 92 3 64 4 54 4 29 3 13 3 9 4 8 5 7 5 5 5 3 6 3 6 1 7 1 7-1 7-2 6-3 8-6 7-11 5-13 4-19 3-24 2-23 5-95 4-124 7-266 2-45 1-8 1 1 1 11 2 49 8 302 3 86 3 62 3 42 4 33 5 21 4 9 4 7 7 6 4 3 5 1 5 0 4 0 4-2 4-2 6-7 4-7 4-14 3-17 4-41 3-50 4-101 7-215 2-32 1-3 1 5 2 34 10 294 3 56 3 35 3 21 3 10 3 3 2 0 5-3 2 1 1 1 3 6 8 23 5 9 3 4 4 2 10 2 13 0 6-2 6-2 7-5 6-7 4-9 4-14 4-28 4-51 4-84 7-194 2-36 1-9 1 0 1 7 2 34 7 194 5 101 3 36 3 23 4 18 4 9 3 4 4 1 3-1 8-8 3 0 3 4 8 15 4 5 6 4 8 2 10 1 4-1 3-2 5-6 9-18 2-2 1 0 3 3 7 15 4 7 4 4 6 2 18 2 28 0 9-1 12-5 5-1 5 1 11 5 7 2 36 1" stroke="#77AC30"/>
<path d="M1490 3195l83-1 8-1 10-5 4 0 13 4 9 1 7-2 10-5 4 0 3 0 9 4 6 0 7-2 10-7 3-2 3 1 7 2 4 0 17-3 21-1 10-3 9-6 7-9 6-12 3-8 3-12 4-25 4-44 3-52 6-174 8-332 2-58 2-24 1 3 1 13 2 53 9 367 3 94 4 87 4 52 4 30 3 14 3 9 4 9 5 8 4 4 5 4 6 3 6 1 7 1 6-1 6-2 6-3 8-7 4-6 3-6 5-15 4-22 5-50 5-96 4-121 8-300 2-45 1-10 1-1 1 8 2 41 10 365 3 81 3 59 4 50 4 29 5 20 3 7 4 6 7 7 4 3 4 1 4 0 4-1 4-1 4-3 6-8 4-10 3-12 3-19 4-42 4-71 10-295 2-44 2-19 1 3 1 11 2 41 10 296 3 57 3 38 3 23 3 12 3 4 7 1 3 3 11 32 5 10 3 3 4 3 9 3 7 0 6-1 6-1 5-3 7-5 6-8 4-10 4-16 5-40 4-58 4-89 7-194 2-36 1-10 1-2 1 5 2 28 8 217 5 103 3 40 3 26 4 20 4 11 3 4 2 1 2 0 3-1 6-5 2-1 2 1 3 3 8 16 5 7 6 5 7 2 10 0 6-3 3-3 3-4 8-16 2-3 2-1 2 1 2 3 8 17 4 7 4 3 6 3 18 2 25 0 9-1 13-6 5-1 5 1 12 6 7 2 10 1 24 0" stroke="#4DBEEE"/>
<path d="M1490 3203l84-1 8-2 13-5 4 1 10 4 9 0 7-1 10-5 4-1 12 4 6 1 7-2 9-7 4-2 3 0 7 3 4 0 16-3 22-1 10-3 9-6 7-9 6-11 3-9 3-12 4-24 4-44 3-52 6-175 8-337 2-58 1-16 1-6 1 5 2 39 10 404 3 93 4 85 4 50 4 28 3 13 3 10 4 8 5 7 4 5 5 3 6 3 6 2 7 0 6-1 6-1 6-4 8-7 4-6 3-6 5-15 4-21 5-49 5-97 4-122 7-273 2-58 2-27 1 0 1 10 2 44 10 371 3 79 3 57 4 49 4 27 5 19 3 7 4 6 7 7 4 2 4 1 4 0 4 0 4-2 4-3 6-8 4-10 3-11 3-19 4-42 4-71 10-300 2-44 1-12 1-5 1 4 1 12 2 44 10 299 3 56 3 37 3 22 3 11 3 3 6 0 3 2 3 7 9 27 5 9 3 4 4 2 9 3 7 0 6-1 6-2 5-2 7-5 6-8 4-10 4-16 5-39 4-59 4-90 7-196 2-36 1-9 1-2 1 6 2 31 8 221 5 102 3 38 3 25 4 20 4 10 3 4 3 1 3-1 8-7 3 1 3 3 8 16 4 6 6 5 8 3 10 0 4-2 3-2 5-7 8-16 2-3 2 0 2 1 2 3 7 16 4 6 5 5 6 3 19 2 25 0 8-2 13-5 5-1 4 1 12 5 8 2 10 1 23 1" stroke="#A2142F"/>
<path d="M1490 3201l83-1 8-2 10-4 3-1 3 1 11 4 9 0 7-1 10-5 3-1 3 1 10 4 6 0 7-2 9-7 3-1 3 0 7 2 4 1 17-4 16 0 7 0 10-4 9-6 7-9 6-12 3-9 3-13 4-27 3-34 3-52 3-76 3-104 8-348 2-56 1-13 1-2 2 28 2 65 9 384 3 88 3 62 4 52 4 29 3 13 3 9 4 9 5 7 5 5 5 3 6 3 6 1 7 0 6 0 6-2 6-3 8-7 7-12 5-14 4-20 5-49 5-97 4-126 7-282 2-57 2-23 1 4 1 14 2 53 8 317 3 92 3 68 4 57 4 32 5 22 3 7 4 7 7 8 8 4 5 0 4 0 4-2 4-2 6-7 4-8 4-15 3-18 4-41 4-73 10-309 2-43 1-10 1-2 1 8 2 38 10 310 3 59 3 39 3 23 3 12 3 4 2 0 5-2 3 2 3 7 8 25 5 10 3 3 3 3 4 1 6 2 13-1 6-1 6-3 7-5 6-8 4-9 4-15 3-20 2-20 4-59 4-93 7-202 2-34 1-7 1 1 1 9 2 37 8 230 5 97 3 35 3 22 3 14 4 10 3 4 2 1 2 1 3-2 7-7 3 0 3 3 8 16 5 7 5 4 8 3 11 0 4-1 3-2 5-7 8-17 3-3 2 0 2 3 8 18 4 7 4 3 6 3 19 2 26 0 8-2 13-5 5-1 5 1 11 5 7 2 10 1 25 1" stroke="#0072BD"/>
<path d="M1490 3196l85-1 7-1 10-5 3 0 3 0 10 4 10 1 8-2 9-4 3-1 3 0 9 4 7 1 7-2 9-7 3-1 3 0 7 2 4 1 17-4 16 1 7-1 10-3 9-6 7-8 6-11 3-8 3-12 4-24 3-32 3-48 3-71 3-99 8-343 2-56 1-13 1-2 1 10 2 49 10 413 5 124 4 54 4 30 3 13 3 9 4 9 5 7 5 5 5 3 6 3 7 1 7 1 7-1 6-2 6-3 8-7 4-6 3-6 5-14 4-21 3-27 2-25 4-77 4-121 7-278 2-56 2-23 1 5 2 37 9 343 3 88 3 63 3 42 4 33 5 22 4 10 4 6 7 7 8 3 5 1 4-1 4-1 4-2 6-7 4-7 4-13 3-16 4-39 4-68 4-107 6-196 2-42 1-10 1-1 1 7 2 40 10 303 3 56 3 36 3 20 3 10 3 3 7-3 3 2 3 7 8 24 5 9 3 4 4 2 10 2 13 0 6-2 6-2 7-6 6-8 4-9 4-16 4-31 4-56 4-89 7-199 2-34 1-7 1 2 2 25 8 223 5 102 3 37 3 24 3 14 4 11 4 5 2 1 2 0 3-1 7-7 3-1 3 3 8 16 5 7 5 3 8 3 11 0 4-1 3-2 5-7 8-17 3-2 2 0 2 3 7 16 4 7 4 4 6 2 19 2 27 0 8-1 13-6 5-1 5 2 11 5 7 2 34 1" stroke="#D95319"/>
<path d="M1490 3201l84-1 8-2 12-4 3 0 11 4 9 1 7-1 10-5 4-1 12 4 6 1 7-2 10-8 3-1 13 3 17-3 23 0 10-4 9-6 7-8 6-12 3-8 3-12 4-26 4-46 3-55 5-148 8-339 2-59 1-16 1-6 1 6 2 41 10 406 3 89 3 63 4 53 4 29 3 14 3 9 4 8 5 8 5 5 5 3 6 3 6 1 7 0 7-1 6-1 6-4 8-7 4-6 3-6 5-15 4-22 5-52 4-77 4-119 8-307 2-45 1-9 1 0 1 11 2 46 9 340 3 85 3 60 4 51 4 28 5 19 3 7 4 7 7 6 8 4 8 0 4-2 4-2 6-6 4-8 4-13 3-17 4-39 4-68 4-105 6-193 2-46 1-12 1-4 1 4 1 13 2 46 6 193 4 104 3 53 3 34 3 20 3 9 3 3 6-2 3 2 3 6 9 27 5 9 3 3 4 2 5 2 6 1 13-2 6-1 5-3 7-6 6-9 4-11 3-13 4-31 4-56 4-87 7-198 2-37 1-9 1-1 1 6 2 33 8 222 5 98 3 35 3 23 3 14 4 11 3 4 2 1 2 1 3-1 8-8 3 1 3 3 7 14 5 8 6 4 8 2 10 1 4-1 3-2 5-7 8-16 2-3 2-1 3 3 8 17 4 7 4 4 6 2 19 2 26 0 8-1 13-6 5-1 4 1 12 6 7 2 10 0 25 1" stroke="#EDB120"/>
<path d="M1490 3194l83-1 8-1 13-5 4 1 10 3 9 1 7-1 10-5 4-1 12 4 6 1 7-2 9-7 4-2 14 3 16-3 22-1 10-3 9-6 7-8 6-11 3-9 3-11 4-25 4-42 3-51 6-171 8-325 2-55 1-15 1-5 1 5 2 38 10 391 3 89 4 82 4 48 4 28 3 13 3 9 4 8 5 7 4 4 5 4 6 3 6 1 7 0 6 0 6-2 6-3 8-7 4-6 3-6 5-14 4-21 5-49 5-94 4-119 7-263 2-55 2-26 1 1 1 10 2 43 9 327 3 84 3 62 4 54 4 31 5 20 4 10 4 6 7 6 8 4 8-1 4-2 4-2 6-8 4-10 3-11 3-18 4-42 4-70 10-289 2-42 1-11 1-4 1 5 1 11 2 43 10 288 3 54 3 36 3 21 3 10 3 4 6 0 3 2 3 6 9 26 5 10 3 3 4 3 9 2 7 0 6-1 6-1 5-3 7-5 6-8 4-9 4-16 5-39 4-57 4-87 7-189 2-35 1-8 1-1 1 6 2 31 8 213 5 98 3 37 3 24 4 19 4 10 3 3 3 1 3-1 7-5 2-1 2 1 3 3 8 15 4 6 6 5 8 2 10 1 6-3 5-6 9-17 2-3 2 0 2 1 2 3 7 15 4 6 5 5 6 3 18 1 25 1 9-2 13-5 5-1 4 1 12 5 8 2 10 1 24 0" stroke="#7E2F8E"/>
<path d="M1490 3197l84-1 8-1 13-5 3 1 11 3 9 1 7-2 13-5 4 1 9 3 6 1 7-2 9-6 4-2 13 3 17-3 23-1 10-3 9-5 7-8 6-11 5-15 4-21 4-38 3-46 6-155 8-300 2-49 1-13 1-4 1 6 2 37 10 361 3 80 3 57 4 48 4 27 3 12 3 8 4 8 5 7 5 4 5 4 6 2 6 1 7 1 6-1 6-2 6-2 8-7 7-10 5-13 4-18 5-43 5-84 4-109 7-242 2-51 2-22 1 1 1 10 2 43 9 302 3 75 3 54 4 47 4 26 5 17 3 6 4 6 7 6 8 4 8 0 4-2 4-2 6-6 4-7 4-13 3-16 4-37 4-63 10-266 2-38 1-10 1-3 1 5 2 30 8 221 3 66 3 48 3 31 3 17 3 9 3 3 6-2 3 2 3 6 8 22 6 10 6 5 10 2 13 0 11-4 7-4 6-7 4-8 4-14 3-18 2-17 4-51 4-80 7-175 2-31 1-6 1-1 1 6 2 30 8 198 5 87 3 32 3 21 3 13 4 9 3 4 4 2 3-1 7-6 2-1 2 1 3 3 7 13 5 7 6 4 8 2 10 0 4-1 3-2 5-6 8-15 2-2 2 0 3 2 8 15 4 6 4 4 6 2 19 2 26 0 8-1 13-5 5-1 5 1 12 5 7 1 33 2" stroke="#77AC30"/>
<path d="M1490 3196l88-1 7-1 9-4 3 0 12 4 11 0 8-1 9-4 3-1 11 4 7 1 8-1 9-7 3-1 12 4 18-4 17 2 8-1 11-3 9-5 7-7 6-10 3-8 3-10 4-25 3-32 3-51 5-150 7-299 2-52 1-10 1 3 2 42 8 334 3 95 3 64 4 51 4 26 3 11 3 8 4 7 4 5 5 5 5 3 6 2 7 2 7 0 8 0 7-2 7-2 9-7 7-9 5-12 4-18 3-23 2-23 4-74 4-121 7-269 2-37 1-2 1 9 2 49 8 305 5 119 3 40 4 30 5 19 3 6 4 6 7 7 9 3 5 1 5 0 5-1 4-2 6-5 5-7 4-11 3-14 4-35 4-67 9-272 2-40 1-7 1 3 2 33 7 221 4 92 2 31 3 30 3 16 3 7 1 1 2 1 2-1 5-6 2 0 1 0 3 6 8 22 4 7 3 3 3 2 10 2 9 0 9 0 8-3 6-2 6-5 4-5 3-5 3-8 3-13 3-23 4-54 3-64 7-197 2-31 1-4 1 5 2 34 7 197 4 80 3 36 3 22 4 16 4 8 5 5 4 0 3-2 7-8 3 0 3 3 7 13 4 5 6 4 8 2 12 0 4-1 3-1 5-6 8-17 3-2 3 3 7 15 3 5 4 4 6 2 21 2 29 0 8-2 11-5 4 0 4 0 10 5 7 2 35 1" stroke="#4DBEEE"/>
<path d="M1490 3198l84-1 8-1 13-4 4 0 10 3 9 1 7-1 13-5 4 0 9 3 6 1 7-2 9-6 4-2 14 3 16-3 22-1 10-3 9-6 7-7 6-11 3-8 3-11 4-24 4-41 3-48 5-127 9-331 2-48 1-12 1-3 2 20 2 52 10 359 3 74 3 53 4 45 4 25 3 12 3 8 4 8 5 6 5 5 5 3 6 2 6 1 7 1 6-1 6-2 6-3 8-8 6-9 5-14 4-20 5-47 5-89 4-112 7-240 2-48 2-22 1 2 1 10 2 42 9 300 3 77 3 57 4 49 4 28 5 19 4 9 4 5 7 7 8 2 8 0 7-4 6-6 4-8 3-10 3-15 4-34 4-59 4-89 7-196 2-37 1-9 1-2 2 16 2 41 10 263 3 50 3 32 3 19 3 10 3 3 6 0 3 3 3 6 9 24 5 8 3 3 4 3 10 2 13-1 6-2 5-2 7-5 5-7 4-9 4-15 4-28 4-48 4-74 8-196 2-30 1-6 1 0 1 6 2 29 8 196 5 90 3 33 3 23 4 17 4 9 3 3 3 1 3-1 7-5 2 0 2 0 3 4 8 14 4 5 6 5 8 2 10 0 6-3 5-5 9-16 2-2 2-1 2 2 2 3 7 13 4 6 5 4 6 3 19 1 24 1 9-2 13-5 5-1 4 1 12 5 8 2 33 1" stroke="#A2142F"/>
<path d="M1490 3198l82-1 8-1 14-5 4 0 11 4 8 0 7-1 10-4 4-1 12 3 6 1 6-2 10-7 4-1 15 2 16-3 20-1 10-3 9-6 7-8 6-11 3-8 3-12 4-23 4-40 3-46 6-149 9-319 2-47 1-13 1-4 1 3 1 12 2 45 10 349 3 79 4 73 4 45 5 32 3 11 3 8 4 7 5 7 5 4 5 3 5 2 6 1 6 0 6 0 6-3 5-2 8-8 6-10 5-14 4-20 5-45 5-84 4-103 8-263 2-46 2-22 1 0 1 7 2 36 10 317 6 129 4 50 4 29 5 20 4 9 4 6 7 7 7 2 4 0 4 0 7-4 6-7 4-10 3-11 3-17 4-37 4-61 4-90 7-188 2-36 1-10 1-3 1 3 1 10 2 35 7 188 4 89 3 47 3 32 3 19 3 9 2 4 7 3 3 4 11 28 6 11 3 3 4 2 9 2 12 0 6-2 5-2 7-6 5-6 4-9 4-15 5-36 4-51 4-75 8-189 2-29 1-7 1-1 2 15 2 34 8 190 5 85 3 34 3 22 3 14 4 11 3 4 3 2 3-1 7-4 2 0 2 1 3 3 8 14 5 7 6 4 7 2 9 1 4-2 3-1 5-6 9-15 2-2 2-1 2 1 2 3 8 15 4 5 5 5 6 2 18 2 23 0 9-2 14-4 5-1 5 1 12 4 8 2 11 1 22 1" stroke="#0072BD"/>
<path d="M1490 3202l84-1 8-1 13-5 4 0 10 4 9 1 7-2 10-5 3 0 4 0 9 4 6 0 7-2 9-7 4-1 3 0 7 2 4 1 16-3 22-1 10-4 9-6 7-8 6-12 3-8 3-12 4-25 4-43 3-53 5-138 9-367 2-54 1-15 1-4 1 7 2 41 10 398 3 90 3 64 4 56 5 37 3 12 3 9 4 9 5 7 5 4 5 4 6 2 6 2 7 0 6-1 6-2 6-4 8-7 6-11 5-15 4-21 5-50 5-97 4-122 7-267 2-55 2-24 1 2 1 11 2 46 9 333 3 85 3 62 4 53 4 30 5 21 3 7 4 7 7 7 4 2 5 2 8-1 4-1 4-3 6-8 4-10 3-12 3-18 4-43 3-50 4-98 7-218 2-41 1-11 1-3 2 18 2 45 6 189 4 104 3 53 3 36 3 20 3 11 3 3 6-1 3 3 3 6 9 27 5 9 3 3 4 3 9 2 7 0 6 0 6-2 5-2 7-6 6-8 4-9 4-16 5-40 4-59 4-89 7-193 2-33 1-8 1 0 1 7 2 33 8 217 5 98 3 37 3 24 3 15 4 11 3 5 2 1 2 1 3-2 7-5 2-1 2 1 3 4 8 15 4 6 6 5 8 2 10 0 6-3 5-6 9-17 2-3 2 0 3 3 8 17 4 6 5 5 6 2 19 2 24 0 9-1 13-6 5-1 5 1 12 6 7 2 10 0 23 1" stroke="#D95319"/>
<path d="M1490 3196l83-1 8-1 10-4 4-1 13 4 9 0 7-1 10-4 4-1 12 4 6 0 7-2 9-6 4-2 14 3 17-3 21-1 10-4 9-6 7-8 6-11 3-9 3-11 4-25 4-42 3-51 6-165 8-312 2-54 2-21 1 3 1 12 2 50 9 344 3 89 4 83 4 50 5 35 3 11 3 9 4 8 5 6 5 5 5 3 6 2 6 1 7 1 6-1 6-3 5-3 8-7 6-11 5-14 4-21 5-49 4-69 5-138 8-281 2-42 1-9 1-1 1 8 2 39 10 343 3 76 3 56 4 49 4 27 5 19 3 7 4 7 7 6 4 3 4 1 8-1 4-1 4-3 6-8 4-10 3-11 3-18 4-41 4-68 10-278 2-41 2-16 1 2 1 10 2 39 10 278 3 54 3 37 3 22 3 11 3 5 7 1 3 3 11 30 6 11 3 3 4 2 10 2 12-1 6-1 5-3 7-5 5-7 4-10 4-16 5-38 4-56 4-84 7-182 2-34 1-8 1-2 2 15 2 37 7 183 5 97 3 38 3 25 4 20 4 10 3 4 2 1 2 0 3-1 6-5 2 0 2 0 3 4 8 15 5 6 6 5 7 2 9 0 4-1 3-2 5-5 9-17 2-2 2-1 2 1 2 3 8 16 4 6 4 3 6 3 18 2 25 0 9-1 13-5 5-1 5 1 12 5 8 2 33 1" stroke="#EDB120"/>
<path d="M1490 3200l83-1 8-1 10-4 3-1 3 1 11 3 9 1 7-1 10-5 3-1 3 1 9 3 6 1 4-1 4-1 9-7 3-1 3 0 7 2 4 1 17-3 22-1 10-3 9-6 8-9 6-12 5-16 4-23 4-41 3-50 5-133 9-353 2-50 1-12 1-2 2 26 2 59 9 352 3 82 3 59 4 49 4 28 3 13 3 9 4 8 5 7 5 4 5 4 6 2 6 1 7 1 6-1 6-2 6-3 8-6 7-11 5-14 4-20 5-47 5-92 4-118 7-257 2-51 2-20 1 4 2 33 10 348 3 79 3 56 4 47 4 27 5 18 3 7 4 6 7 6 4 2 5 2 8-1 4-2 4-2 6-8 4-9 3-11 3-17 4-40 3-49 4-94 7-210 2-38 1-9 1-1 1 7 2 34 10 284 3 56 3 37 3 22 3 11 3 4 2 0 5-1 3 3 3 6 8 23 6 11 3 3 4 2 10 2 13-1 6-2 5-2 7-5 6-9 4-10 3-12 3-19 2-19 4-56 4-86 7-185 2-31 1-5 1 1 1 8 2 34 8 210 5 91 3 33 3 21 3 13 4 10 3 4 4 1 3-1 7-6 3 0 3 3 8 14 5 7 6 5 8 2 10 0 4-1 3-3 5-6 8-16 3-2 2 1 2 2 8 16 4 6 4 4 6 2 18 2 26 0 9-1 13-5 5-1 5 1 12 5 6 2 10 1 25 0" stroke="#7E2F8E"/>
<path d="M1490 3199l83-1 8-1 14-4 4 0 11 3 8 0 7-1 10-4 4 0 12 3 6 0 6-1 10-6 4-2 15 2 16-2 19-2 10-2 9-5 8-9 6-10 3-7 3-11 4-22 4-36 3-43 6-135 9-284 2-41 1-11 1-4 1 4 1 10 2 40 10 311 3 71 4 67 4 41 5 29 3 11 3 7 4 7 5 6 5 4 5 2 6 2 6 1 6 0 6-1 6-2 5-3 8-7 6-10 4-11 4-19 5-42 5-77 4-93 8-233 2-41 2-19 1 0 1 7 2 32 10 282 3 66 4 64 4 40 4 24 5 16 3 6 4 6 7 5 7 3 8-1 7-3 6-7 4-9 3-10 3-16 4-34 4-56 11-248 2-31 1-9 1-3 1 3 1 9 2 31 11 247 3 43 3 29 3 17 3 9 3 4 6 3 3 3 11 26 6 9 3 3 4 3 9 2 12-1 11-4 7-5 5-6 4-8 4-14 5-33 4-46 4-68 8-168 2-25 1-6 1-1 2 13 2 30 8 169 5 77 3 31 3 20 4 17 4 8 3 3 3 1 3-1 6-3 2 0 2 0 3 3 8 13 5 6 6 4 7 2 9 0 4-1 3-2 5-5 9-13 2-2 2-1 2 1 2 3 8 13 4 5 5 4 6 2 18 2 23 0 9-1 14-5 5 0 5 0 12 5 8 1 32 2" stroke="#77AC30"/>
<path d="M1490 3201l83-1 8-1 13-3 14 3 9 0 7-1 13-3 12 2 6 1 7-1 13-6 14 2 17-2 22-1 10-2 9-4 7-5 6-8 3-5 3-8 4-16 4-29 3-35 5-93 9-241 2-31 1-7 1 0 1 8 2 32 9 241 3 60 4 56 4 32 4 19 3 8 3 6 4 5 5 5 10 5 12 3 13 0 12-4 8-4 7-8 5-10 4-14 5-33 4-48 4-75 8-198 2-33 1-9 1-2 1 4 2 25 9 218 3 57 3 42 4 36 4 21 5 13 4 7 4 4 7 4 7 2 8 0 8-2 6-4 4-5 4-9 3-10 4-25 4-42 4-66 7-143 2-24 1-5 1 1 2 16 10 193 3 42 4 35 3 14 3 8 3 2 7-1 3 2 11 20 5 7 3 2 4 2 10 1 13 0 11-3 7-3 6-6 4-6 4-10 5-27 4-39 4-60 6-111 2-26 2-11 1 2 1 6 2 25 7 128 5 67 3 25 3 16 4 13 4 6 3 3 4 1 3-1 7-4 3 0 3 2 8 10 5 4 6 3 7 2 10 0 7-2 5-4 9-12 3-1 2 0 2 2 8 11 4 4 4 3 6 1 19 1 25 0 8 0 14-4 5-1 23 6 35 1" stroke="#4DBEEE"/>
<path d="M1490 3197l81-1 8-1 11-4 4 0 14 3 8 1 7-1 10-5 4 0 12 3 6 0 7-2 9-5 4-2 15 2 16-2 20-1 10-3 9-6 7-7 6-10 3-8 3-10 4-22 4-36 3-43 6-140 9-311 2-46 2-18 1 3 1 11 2 44 10 339 3 74 3 55 4 49 5 33 3 11 3 9 4 7 5 7 5 4 5 3 5 2 6 1 7 1 6-1 6-2 5-3 8-7 6-9 5-13 4-18 5-42 5-78 4-98 9-280 2-36 1-8 1 0 1 7 2 35 10 307 6 123 4 47 4 27 5 18 4 9 4 6 7 5 7 3 8 0 7-4 6-7 4-8 3-10 3-16 4-34 4-57 4-86 7-183 2-36 1-10 1-4 1 3 1 9 2 34 7 183 4 86 3 45 3 30 3 17 3 9 3 3 6 2 3 3 11 28 6 10 3 3 4 2 9 2 12-1 11-3 7-5 5-7 4-8 4-13 5-33 4-47 4-72 8-184 2-29 1-7 1-1 2 14 2 32 8 185 5 82 3 31 3 21 3 14 4 10 3 3 3 2 3-1 8-4 3 0 3 3 8 14 5 6 6 4 7 2 9 1 4-1 3-2 5-6 9-14 2-2 2-1 2 1 2 2 8 15 4 5 5 4 6 2 19 2 23 0 8-1 14-5 5 0 5 0 12 5 8 2 34 1" stroke="#A2142F"/>
<path d="M1490 3199l82-1 8-1 10-4 4-1 4 1 10 3 8 1 7-1 10-5 4-1 4 1 9 3 5 0 7-2 10-6 3-2 3 0 8 2 4 1 16-3 21-2 10-3 9-6 7-8 6-12 3-8 3-12 4-25 4-42 3-49 6-157 9-328 2-42 1-9 1-1 2 24 2 52 10 359 3 76 3 56 4 49 5 33 3 12 3 8 4 8 5 7 5 4 5 3 5 2 6 2 7 0 6-1 6-2 5-3 8-8 6-10 5-15 4-21 5-48 5-89 4-109 8-269 2-44 1-11 1-5 1 4 1 12 2 43 10 327 3 72 3 53 4 47 4 27 5 19 3 7 4 6 7 7 7 3 4 0 4-1 7-3 6-7 4-8 3-11 3-15 4-35 4-58 4-87 8-219 2-32 1-8 1 0 2 19 2 41 10 264 3 51 3 34 3 21 3 11 3 4 6 2 3 3 3 7 8 22 6 11 3 4 4 3 9 2 7 0 6-1 6-2 5-2 7-6 5-7 4-9 4-16 5-38 4-54 4-80 7-173 2-35 2-14 1 1 1 8 2 30 8 195 5 92 3 36 3 24 4 19 4 10 3 3 3 1 3 0 7-5 3 0 3 3 9 16 5 7 6 4 7 2 9 0 4-1 3-2 5-6 8-15 2-2 2-1 2 1 2 2 9 17 4 5 4 4 6 2 18 2 24 0 8-1 15-5 5-1 5 1 13 5 7 2 33 1" stroke="#0072BD"/>
<path d="M1490 3197l83-1 8-2 10-4 3-1 3 1 11 4 9 0 7-1 10-5 3-1 3 1 9 4 6 0 7-2 10-7 3-1 3 0 7 2 4 1 17-3 22-1 10-3 9-6 8-10 6-12 5-17 4-25 4-43 3-53 5-141 9-372 2-51 1-10 1-1 2 31 2 65 9 370 3 85 3 60 4 49 4 28 3 13 3 9 4 8 5 7 5 5 5 3 6 3 6 1 7 1 6-1 6-2 6-3 8-7 7-12 5-14 4-21 5-50 5-98 4-124 7-271 2-52 1-14 1-5 1 6 2 38 9 336 3 89 3 65 4 55 4 31 5 21 3 7 4 7 7 7 8 4 5 0 4 0 4-2 4-2 6-7 4-9 4-14 3-19 4-42 4-73 10-300 2-38 1-8 1 0 2 25 10 298 3 64 4 54 3 22 3 11 3 3 7-1 3 3 3 7 8 24 5 9 3 4 3 2 4 2 6 1 13-1 6-1 6-3 7-5 6-8 4-9 4-16 3-20 2-20 4-60 4-91 7-195 2-30 1-5 1 2 1 10 2 38 7 197 5 103 3 39 3 25 4 19 4 10 3 4 2 1 2 0 3-2 7-6 3 0 3 3 8 16 5 7 5 4 8 2 10 0 4-1 3-2 5-6 9-18 3-2 2 1 2 2 8 18 4 6 4 3 6 3 19 2 25 0 9-2 13-5 5-1 5 1 11 5 7 2 10 1 25 1" stroke="#D95319"/>
<path d="M1490 3203l82-2 8-1 11-4 3 0 14 4 8 0 8-1 10-5 3 0 3 0 10 4 5 0 7-2 10-7 3-1 3 0 8 2 4 1 16-3 21-1 10-3 9-6 7-8 6-10 3-8 3-10 4-23 4-39 3-45 6-154 9-332 2-44 1-10 1 0 1 8 2 41 10 363 3 81 3 60 4 51 5 35 3 12 3 8 4 8 5 7 5 4 5 3 5 2 6 2 7 0 6-1 6-1 5-3 8-7 7-10 5-14 4-19 5-44 5-85 4-107 8-273 2-45 1-12 1-5 1 5 1 12 2 45 9 303 3 76 3 57 4 49 4 29 5 19 4 9 4 6 7 6 8 3 8-1 7-4 6-7 4-9 3-10 3-17 4-37 4-62 11-290 2-33 1-8 1 0 2 20 2 43 9 245 3 55 4 46 3 19 3 10 3 3 6 1 3 3 3 6 8 22 6 11 3 3 4 2 9 2 12 0 11-4 7-4 6-8 4-8 4-15 5-35 4-51 4-78 7-176 2-36 2-16 1 2 1 8 2 32 8 198 5 89 3 34 3 22 3 14 4 11 3 4 4 1 3-1 7-5 3 0 3 3 9 16 4 5 6 5 8 2 9 0 4-1 3-2 5-6 9-16 3-2 2 1 2 2 8 15 4 6 5 5 6 2 19 2 24 0 8-2 14-5 5 0 5 1 12 5 7 1 10 1 24 0" stroke="#EDB120"/>
<path d="M1490 3197l83-1 8-2 9-4 3 0 3 0 10 4 10 1 8-2 9-5 3 0 3 0 9 4 6 1 4-1 4-1 9-7 3-1 3 0 6 2 4 1 17-3 17 0 7 0 6-1 5-3 9-6 7-8 6-11 3-9 3-12 4-28 3-34 3-54 5-151 8-358 2-57 1-13 1-1 1 12 2 55 9 395 5 136 4 58 4 32 3 14 3 9 4 9 5 7 5 5 5 4 6 2 6 2 7 0 7 0 7-2 6-3 5-3 4-4 7-11 5-14 4-19 3-25 2-25 4-76 4-123 8-323 2-42 1-6 1 6 2 43 9 359 5 130 3 45 4 36 5 23 4 10 4 7 7 7 8 3 5 1 4 0 8-3 6-6 5-8 4-12 3-16 4-37 4-68 4-109 6-205 2-44 1-10 1 0 1 10 2 44 9 290 3 62 3 40 3 23 3 12 3 4 2-1 6-4 2 1 1 1 3 7 7 22 3 7 3 5 3 3 4 2 10 2 7 0 7-1 11-4 7-5 6-7 4-9 4-15 3-21 2-20 4-63 3-71 7-209 2-35 1-6 1 2 2 29 8 235 5 100 2 25 3 26 4 19 4 10 4 5 2 1 2 0 3-2 7-8 3-1 3 4 8 16 4 6 6 4 8 2 11 0 4-1 3-2 5-7 8-17 3-3 2 1 2 3 7 16 4 7 4 4 5 2 18 2 29 0 9-2 12-5 5-1 4 1 11 5 7 2 10 1 27 1" stroke="#7E2F8E"/>
<path d="M1490 3196l83-1 8-1 10-4 4 0 13 3 9 1 8-1 9-4 4-1 3 0 9 3 6 1 7-2 10-7 3-1 3 0 7 2 4 1 17-3 22-1 10-3 9-6 7-8 6-11 3-8 3-12 4-25 4-43 3-52 5-135 9-338 2-43 1-8 1 1 1 10 2 46 9 339 3 86 4 81 4 47 4 28 3 12 3 9 4 8 5 7 4 4 5 3 6 3 6 1 7 1 6-1 6-1 6-3 8-7 7-10 5-13 4-19 5-43 5-84 4-109 8-278 2-44 1-12 1-2 1 6 2 36 10 335 3 75 3 54 4 46 4 27 5 17 3 7 4 6 7 6 8 3 8 0 4-1 4-3 6-7 4-8 3-11 3-16 4-36 4-63 4-95 7-199 2-33 1-6 1 1 2 24 10 272 3 59 4 51 3 21 3 11 3 4 7 0 3 3 11 29 6 10 3 3 4 2 5 1 6 1 12-1 6-2 5-2 7-6 6-9 4-10 3-13 4-30 4-51 4-79 7-180 2-35 1-10 1-4 1 3 2 25 9 222 5 86 3 32 3 21 3 13 4 9 3 4 4 1 3-1 7-5 3 0 3 3 8 14 5 7 6 4 7 2 10 0 4-1 3-2 5-6 9-16 3-2 2 1 2 2 8 16 4 6 4 3 6 3 19 1 25 1 8-2 14-5 5-1 5 2 12 5 6 1 10 1 24 0" stroke="#77AC30"/>
<path d="M1490 3199l85-1 8-1 9-4 3-1 13 4 10 1 8-1 9-5 3 0 3 0 9 4 6 0 8-1 9-7 3-1 3 0 6 2 4 1 17-3 17 1 7-1 11-3 9-6 7-7 6-11 3-8 3-12 4-25 3-32 3-50 5-140 8-333 2-53 1-12 1 0 1 10 2 52 9 367 5 126 4 54 4 29 3 13 3 9 4 8 5 7 5 4 5 4 6 2 6 1 7 1 7 0 7-2 6-3 5-3 4-3 7-10 5-13 4-19 3-23 2-22 4-71 4-114 8-301 2-39 1-5 1 6 2 40 9 333 5 120 3 43 4 33 5 21 4 9 4 6 7 7 8 3 9 1 8-3 6-5 5-8 4-11 3-14 4-34 4-64 4-101 6-190 2-42 1-9 1 0 1 9 2 41 9 270 3 57 3 37 3 22 3 11 3 3 2 0 6-4 2 0 1 2 3 6 7 21 5 9 3 3 4 3 10 2 14 0 6-2 6-2 7-5 6-7 4-8 4-14 3-19 2-18 4-59 3-66 7-195 2-32 1-6 1 3 2 27 8 217 5 94 2 23 3 24 4 17 4 10 4 4 4 1 3-2 7-7 3-1 3 3 8 15 4 6 6 4 8 2 11 0 4-1 3-2 5-6 8-16 3-3 2 1 2 3 7 15 4 6 4 4 5 1 19 2 29 0 8-1 12-5 5-1 4 1 11 5 7 2 35 1" stroke="#4DBEEE"/>
<path d="M1490 3199l83-1 8 0 13-4 14 3 9 1 7-1 10-3 4-1 12 3 6 0 7-1 9-5 4-1 14 2 16-2 22-1 10-2 9-4 7-6 6-7 3-6 3-8 4-16 4-29 3-34 6-114 8-217 2-36 1-10 1-3 1 3 2 25 10 260 3 60 4 55 4 32 4 19 3 9 3 6 4 6 5 4 10 6 12 2 13 0 6-1 6-3 8-5 6-7 5-10 4-14 5-33 5-63 4-79 7-175 2-37 2-17 1 1 1 6 2 29 10 238 3 51 3 37 4 32 4 18 5 12 3 5 4 4 7 4 8 2 8 0 8-3 6-5 4-7 3-8 3-12 4-28 4-47 10-192 2-28 1-7 1-3 1 3 1 8 2 28 10 192 3 36 3 24 3 14 3 7 3 3 6 0 3 1 3 5 9 17 5 6 7 4 9 2 13 0 11-3 7-4 6-5 4-6 4-11 5-26 4-39 4-58 7-126 2-22 1-6 1-1 1 4 2 21 8 141 5 66 3 25 3 16 4 13 4 7 3 2 3 1 3-1 7-4 4 0 3 3 8 10 5 5 6 2 7 2 10 0 6-2 5-4 9-11 2-2 2 0 2 0 2 3 7 9 4 5 5 3 6 2 18 1 25 0 9-1 13-4 5 0 24 5 34 1" stroke="#A2142F"/>
<path d="M1490 3200l85-1 8-1 10-4 3-1 13 4 10 1 7-1 10-5 3-1 3 1 9 3 6 1 7-2 10-7 3-1 3 0 7 2 4 1 16-4 23 0 10-3 9-6 8-9 6-12 3-9 3-13 4-28 3-34 3-52 5-142 9-375 2-49 1-9 1 1 1 13 2 53 9 375 3 92 3 64 4 55 4 30 3 14 3 9 4 9 5 7 5 5 5 3 6 3 6 1 7 1 7-1 6-2 6-3 8-7 7-11 5-14 4-20 5-50 4-73 4-115 8-308 2-51 1-13 1-3 1 8 2 42 9 340 3 86 3 63 4 52 4 29 5 19 3 7 4 7 7 7 8 3 5 1 4-1 4-1 4-3 6-7 4-8 4-14 3-18 4-42 4-74 10-301 2-38 1-7 1 2 1 10 2 42 10 300 3 55 3 36 3 20 3 10 3 3 7-2 3 3 11 31 5 9 3 3 4 3 10 2 13-1 11-4 7-5 6-8 4-8 4-16 3-20 2-20 4-59 4-93 7-196 2-29 1-4 1 4 2 29 8 222 5 100 3 37 3 24 3 14 4 11 3 4 2 2 2 0 4-1 7-7 3 0 3 3 8 16 4 6 6 4 8 3 10 0 4-1 3-2 5-6 9-18 3-3 2 2 2 3 7 15 4 7 4 4 6 2 18 2 27 0 8-1 14-6 5 0 4 1 12 5 6 2 10 1 24 0" stroke="#0072BD"/>
<path d="M1490 3201l85-1 8-1 13-5 3 1 11 3 9 1 8-2 12-4 4 0 9 3 6 1 7-2 9-6 4-2 13 3 17-3 23 0 10-3 9-6 7-8 6-11 3-8 3-11 4-24 3-30 3-45 3-67 3-90 8-309 2-53 1-14 1-4 1 6 2 39 10 372 3 81 3 57 4 48 4 27 3 12 3 9 4 8 5 6 5 5 5 3 6 2 6 2 7 0 7-1 6-2 6-3 8-6 4-6 3-5 5-15 4-20 5-50 4-72 4-110 8-279 2-40 1-8 1 2 1 10 2 44 9 311 3 77 3 55 4 46 4 26 5 17 3 7 4 6 7 6 8 3 8 0 4-1 4-3 6-6 4-7 4-12 3-16 4-37 4-63 4-97 6-176 2-41 1-10 1-3 2 17 2 42 9 251 3 55 3 36 3 22 3 11 3 4 2 1 5-2 3 2 3 6 8 22 6 11 6 4 10 3 13-1 11-3 7-5 6-7 4-8 4-13 3-18 2-17 4-51 4-81 7-181 2-32 1-8 1 0 1 6 2 31 8 203 5 89 3 32 3 21 3 13 4 10 3 4 4 1 4-2 6-5 2-1 2 1 3 3 7 13 5 7 6 4 8 2 10 0 4-1 3-2 5-6 8-15 2-2 2-1 3 3 8 16 4 6 4 3 6 2 19 2 26 0 8-1 13-5 5-1 4 1 12 5 7 2 10 0 23 1" stroke="#D95319"/>
<path d="M1490 3201l85-1 8-1 10-4 3 0 13 4 10 0 7-1 10-5 3 0 3 0 9 4 6 1 7-2 10-7 3-1 3 0 6 2 4 1 17-3 17 0 7-1 10-3 9-6 7-8 6-10 3-9 3-11 4-25 3-32 3-48 5-135 9-367 2-48 1-9 1 1 2 36 10 398 3 86 3 61 4 49 4 28 3 12 3 8 4 8 5 7 5 5 5 3 6 2 7 2 7 0 7-1 6-2 6-3 8-7 4-5 3-6 5-15 4-21 3-27 2-25 4-78 4-121 7-268 2-50 1-13 1-2 1 7 2 43 9 333 3 82 3 58 3 39 4 30 5 20 3 8 4 6 7 7 4 2 5 2 5 0 4 0 4-1 4-3 6-6 4-8 4-12 3-17 4-39 4-69 10-295 2-36 1-7 1 1 1 11 2 42 6 190 4 102 3 52 3 33 3 18 3 9 1 1 2 1 6-3 2 0 1 1 3 6 9 26 5 8 3 3 4 2 10 2 13 0 11-4 7-4 6-8 4-8 4-14 3-18 2-18 4-56 4-89 7-192 2-29 1-4 1 4 2 29 8 218 5 95 2 24 3 25 4 20 4 10 4 4 2 1 2 0 3-2 7-6 3-1 3 4 8 15 4 5 6 5 8 2 10 0 4-1 3-2 5-6 9-17 3-3 2 1 2 3 7 16 4 6 4 4 6 2 19 2 27 0 8-2 13-5 4-1 4 1 12 5 7 2 10 1 24 0" stroke="#EDB120"/>
<path d="M1490 3199l83-1 8-1 10-4 4 0 13 3 9 1 7-1 10-4 4-1 12 3 6 1 7-2 10-6 3-1 14 3 16-3 23-1 10-3 9-5 7-7 6-10 5-14 4-20 4-34 3-42 3-59 3-82 9-305 2-36 1-7 1 3 1 11 2 44 9 307 3 76 4 71 4 41 4 24 3 11 3 7 4 7 5 6 9 7 6 2 6 1 7 1 6-1 6-1 6-3 8-6 7-9 5-12 4-17 5-39 5-77 4-99 8-251 2-39 1-9 1-1 1 7 2 35 9 278 3 73 3 53 4 46 4 26 5 18 4 8 4 5 7 5 8 3 8 0 4-1 4-3 6-6 4-8 3-9 3-15 4-33 4-57 4-87 6-158 2-38 2-16 1 2 1 9 2 35 10 246 3 46 3 31 3 18 3 9 3 4 7-1 3 3 11 26 5 8 3 3 4 2 9 2 13 0 11-4 7-4 6-6 4-8 4-12 5-32 4-47 4-72 7-162 2-31 1-8 1-3 1 4 2 24 8 182 5 84 3 32 3 21 4 16 4 8 3 3 4 1 3-1 7-5 3 0 3 3 8 13 5 6 6 4 7 1 10 0 4-1 3-1 5-6 8-13 2-2 2-1 2 1 2 2 7 13 4 6 5 4 6 2 19 1 25 0 8-1 13-4 5-1 4 0 12 5 8 2 34 1" stroke="#7E2F8E"/>
<path d="M1490 3196l83-1 8-1 10-3 4-1 13 4 9 0 7-1 10-4 4-1 12 4 6 0 7-2 9-5 4-2 14 2 17-2 21-1 10-3 9-5 7-8 6-9 3-8 3-10 4-22 4-37 3-45 6-147 8-279 2-48 2-19 1 3 1 12 2 44 9 309 3 78 4 74 4 44 5 29 3 11 3 7 4 7 5 6 5 4 5 3 6 2 6 1 7 0 6-1 6-2 5-3 8-7 6-9 5-13 4-18 5-43 4-62 5-122 8-252 2-37 1-8 1 0 1 7 2 35 10 307 3 68 3 49 4 42 4 25 5 16 3 6 4 6 7 6 8 3 8-1 4-1 4-3 6-6 4-9 3-10 3-16 4-36 4-61 10-248 2-36 2-15 1 3 1 9 2 35 10 248 3 48 3 32 3 20 3 10 3 3 7 1 3 3 11 27 5 8 3 3 4 2 9 3 13-1 11-3 7-5 6-7 4-8 4-14 5-34 4-50 4-75 7-162 2-30 1-8 1-2 1 5 2 24 8 182 5 87 3 33 3 22 4 17 4 9 3 4 4 1 3-1 6-5 2 0 2 0 3 3 8 13 5 7 6 3 7 2 10 0 6-2 5-5 9-15 2-2 2-1 2 1 2 3 8 14 4 5 4 4 6 2 18 1 25 1 9-2 13-4 5-1 5 1 12 4 7 2 10 1 24 0" stroke="#77AC30"/>
<path d="M1490 3201l86-1 8-2 12-4 3 0 11 4 9 1 8-2 12-5 3 1 10 3 6 1 7-2 10-7 3-1 13 3 17-3 23 0 11-3 9-6 7-8 6-11 3-8 3-12 4-25 3-32 3-50 5-136 9-352 2-38 1-5 1 6 2 42 9 353 3 88 3 63 4 52 4 28 3 13 3 9 4 8 5 7 5 4 5 3 6 3 6 1 7 1 7-1 7-2 6-2 8-7 7-10 5-13 4-19 3-23 2-23 5-93 4-121 7-256 2-42 1-8 1 1 1 12 2 47 8 291 3 83 3 61 3 40 4 32 5 21 4 9 4 6 7 7 8 3 5 1 4-1 8-3 6-6 4-6 4-12 3-14 4-35 4-61 4-97 7-208 2-30 1-3 1 5 2 33 10 284 3 54 3 34 3 20 3 10 3 3 2 0 5-3 3 2 3 6 8 23 5 8 3 4 4 2 10 2 13 0 6-2 6-2 7-5 6-7 4-8 4-15 4-27 4-50 4-81 7-187 2-35 1-8 1 0 1 7 2 33 7 187 5 97 3 36 3 23 4 17 4 9 3 3 4 1 3-1 8-7 3 0 3 4 8 14 4 5 5 4 8 2 11 0 4-1 3-1 5-6 9-18 2-1 1 0 3 3 7 14 4 7 4 4 6 2 18 2 28 0 9-1 12-5 5-1 5 1 11 5 7 1 33 1" stroke="#4DBEEE"/>
<path d="M1490 3199l86-1 8-1 9-3 4-1 13 3 9 1 8-1 9-4 4 0 12 3 6 0 7-1 10-6 3-1 13 3 17-3 23 0 10-3 9-4 7-6 6-9 3-6 3-9 4-19 4-34 3-41 5-111 9-286 2-35 1-6 1 3 1 10 2 42 9 286 3 70 3 49 4 41 4 23 3 11 3 7 4 7 5 5 5 4 5 3 12 3 7 0 7-1 6-1 6-2 8-6 7-9 5-11 4-16 5-39 4-57 4-90 8-235 2-37 1-8 1-1 1 6 2 33 9 260 3 66 3 47 4 40 4 22 5 15 3 5 4 5 7 6 8 2 8 0 8-2 6-5 4-6 4-10 3-12 4-29 4-50 4-79 7-169 2-27 1-4 1 2 1 9 2 33 6 147 4 81 3 42 3 27 3 15 3 8 3 2 6-2 3 2 3 4 9 21 5 7 3 2 4 2 10 2 13-1 11-3 7-4 6-6 4-7 4-13 4-23 4-41 4-65 7-152 2-30 1-8 1-2 1 4 2 23 8 170 5 76 3 28 3 18 3 11 4 8 3 3 4 2 4-2 7-5 3 0 3 3 8 12 4 5 6 3 8 2 10 0 4-1 3-1 5-5 9-14 3-2 2 1 2 3 7 12 4 5 4 3 6 2 18 1 27 0 9-1 12-4 5-1 4 1 12 4 7 1 33 2" stroke="#A2142F"/>
<path d="M1490 3202l84-1 8-1 13-4 3 0 11 3 9 1 7-1 13-5 4 1 9 3 6 0 7-2 9-5 4-2 13 3 17-3 22-1 10-2 9-5 7-7 6-10 3-7 3-10 4-20 4-36 3-44 5-115 9-306 2-45 1-11 1-3 1 6 2 35 10 333 3 73 3 54 4 45 5 30 3 10 3 7 4 7 5 6 5 4 5 2 6 3 6 1 7 0 6-1 6-2 6-2 8-7 6-9 5-12 4-17 5-42 5-80 4-102 7-223 2-45 2-19 1 2 1 9 2 40 9 277 3 70 3 51 4 44 4 24 5 17 3 6 4 5 7 6 4 2 5 1 8 0 4-2 4-2 6-7 4-8 3-9 3-16 4-35 3-42 4-82 7-181 2-34 1-9 1-2 1 5 2 28 11 264 3 45 3 28 3 17 3 8 3 3 6-1 3 2 3 6 8 20 6 9 3 3 4 2 9 2 13 0 11-4 7-4 6-7 4-7 4-14 5-33 4-49 4-75 7-160 2-27 1-6 1 0 1 6 2 28 8 181 5 81 3 30 3 20 3 12 4 9 3 4 4 1 3-1 7-5 2 0 2 1 3 3 7 11 5 6 6 4 8 2 10 0 6-2 5-5 9-15 2-2 2 0 3 3 8 14 4 5 4 3 6 3 18 1 26 0 9-1 13-4 5-1 5 1 12 4 7 2 33 1" stroke="#0072BD"/>
<path d="M1490 3199l85-1 7-2 10-4 3 0 3 0 11 4 9 1 8-2 9-5 3 0 3 0 10 4 6 1 7-2 9-7 3-2 3 0 7 3 4 0 17-3 16 1 7-1 10-3 9-6 7-9 6-11 3-8 3-12 4-25 3-32 3-49 3-71 3-99 8-338 2-55 1-13 1-3 1 9 2 47 9 373 3 93 3 67 4 56 4 30 3 14 3 10 4 9 6 8 5 5 5 3 6 2 7 2 7 0 7-1 6-2 6-4 5-4 4-5 6-11 4-12 4-22 5-53 4-77 4-121 7-273 2-56 2-23 1 4 2 36 9 337 3 88 3 64 4 54 4 30 5 19 3 7 4 7 7 7 8 4 5 0 4 0 4-2 4-2 6-7 4-7 4-13 3-17 4-39 4-68 3-77 7-222 2-43 1-10 1-1 1 7 2 37 10 300 3 57 3 37 3 21 3 11 3 3 2 0 5-3 3 3 3 6 8 24 5 10 3 3 4 3 10 2 13-1 6-1 6-3 7-5 6-8 4-10 4-16 4-32 4-55 4-89 7-197 2-34 1-7 1 1 1 9 2 37 7 198 5 103 3 37 3 25 4 18 4 10 3 3 2 2 2 0 3-2 7-7 3 0 3 3 8 15 5 7 5 4 8 2 11 1 4-1 3-3 5-6 8-17 3-3 2 1 2 3 7 15 4 7 4 4 6 3 19 2 27 0 8-1 13-6 5-1 5 1 11 6 7 1 10 1 24 1" stroke="#D95319"/>
<path d="M1490 3202l83-1 8-1 14-4 14 3 8 1 7-1 14-5 4 1 9 2 5 1 7-2 10-6 3-1 3 0 8 2 4 0 16-3 21-1 10-2 9-6 7-7 6-10 3-8 3-10 4-22 4-37 3-43 6-141 9-299 2-39 1-8 1-1 2 22 2 48 10 327 3 68 3 50 4 42 5 30 3 10 3 7 4 7 5 6 5 4 5 3 11 3 7 0 6-1 6-2 5-3 8-6 6-9 5-14 4-18 5-42 5-79 4-99 8-245 2-40 1-11 1-3 1 3 1 11 2 39 9 273 3 70 4 67 4 41 4 24 5 16 3 7 4 5 7 6 8 3 8-1 7-4 6-6 4-9 3-10 3-16 4-35 3-41 4-79 8-199 2-30 1-6 1-1 2 18 2 38 10 239 3 46 3 30 3 18 3 10 3 3 6 2 3 3 3 5 8 20 6 10 3 3 4 3 9 2 12-1 11-3 7-5 6-7 4-8 4-14 5-33 4-48 4-72 7-158 2-32 2-13 1 1 1 7 2 28 8 178 5 82 3 32 3 21 4 17 4 9 3 3 3 0 3 0 7-4 3 0 3 2 9 15 5 5 6 4 7 2 9 0 4-1 3-2 5-5 9-15 3-2 2 1 2 2 8 14 5 7 4 3 6 2 18 1 24 1 9-2 14-4 5-1 4 1 12 4 8 2 33 1" stroke="#EDB120"/>
<path d="M1490 3195l82-1 8-1 14-5 4 1 11 3 8 0 6-1 11-4 4-1 13 4 6 0 6-2 9-6 4-2 3 0 8 2 5 0 15-2 18-1 9-3 7-3 7-6 5-6 5-9 6-18 5-28 4-40 3-47 6-147 9-307 2-43 1-11 1-4 1 5 1 12 2 43 10 337 3 76 4 71 4 45 5 31 3 12 3 7 4 8 5 6 5 5 5 2 6 3 6 1 6 0 6-2 6-2 5-3 8-8 6-11 4-12 4-21 5-46 5-84 4-101 8-252 2-43 2-20 1 1 1 8 2 35 10 305 3 72 4 68 4 43 4 25 5 18 3 7 4 6 7 6 4 2 4 1 4 0 4-1 7-5 5-6 4-10 3-11 3-17 4-38 4-61 11-269 2-33 1-8 1-3 2 13 2 35 7 181 4 86 3 45 3 31 3 19 3 10 3 4 6 3 3 4 11 27 6 11 3 3 4 2 9 3 12-1 6-2 5-2 7-6 5-6 4-10 4-15 5-36 4-51 4-74 8-181 2-26 1-6 1-1 2 15 2 33 8 183 5 83 3 33 3 22 4 17 4 9 3 3 3 1 3-1 6-3 2 0 2 1 3 3 8 13 5 7 6 4 7 3 9 0 4-1 3-2 5-6 9-15 2-1 2-1 2 1 2 3 8 14 4 6 5 4 6 2 18 2 23 0 9-1 14-5 5-1 5 1 12 5 8 2 11 1 22 0" stroke="#7E2F8E"/>
<path d="M1490 3203l83-2 8-1 9-4 4-1 3 1 10 4 9 0 8-1 10-5 3-1 3 1 9 3 6 1 7-2 10-7 3-2 3 0 7 3 4 0 17-3 22-1 10-3 9-7 7-8 6-12 3-9 3-13 4-26 4-47 3-56 5-147 9-374 2-48 1-11 1 1 1 11 2 50 10 408 3 87 3 62 4 53 4 30 3 13 3 10 4 9 5 7 5 5 5 4 6 3 7 1 7 0 6-1 6-2 6-3 5-5 4-5 6-12 4-13 4-23 5-54 4-77 4-118 8-308 2-50 1-13 1-4 1 6 2 39 10 370 3 83 3 59 4 51 4 29 5 19 3 7 4 7 7 7 4 2 4 1 4 1 4-1 4-2 4-2 6-8 4-9 3-11 3-17 4-39 4-68 4-104 7-221 2-37 1-8 1 1 2 25 10 300 3 66 4 56 3 23 3 12 3 5 2 0 5-1 3 3 3 7 8 25 3 6 3 5 3 3 4 3 10 2 7 0 6-1 6-2 5-3 7-6 6-9 4-11 3-14 5-43 4-63 4-94 6-172 2-41 2-16 1 3 1 10 2 38 8 223 5 96 3 35 3 23 3 14 4 11 3 4 2 1 2 0 3-1 7-7 3 0 3 4 8 15 5 8 6 4 7 3 10 0 4-1 3-2 5-7 9-18 3-2 2 1 2 3 8 17 4 6 4 4 6 3 19 2 25 0 8-2 14-5 5-1 5 1 12 6 6 1 11 1 24 1" stroke="#77AC30"/>
<path d="M1490 3200l84-1 8-2 9-3 4-1 13 4 9 1 8-2 10-4 3-1 12 4 6 1 7-2 10-6 3-2 14 3 17-3 22 0 10-3 9-6 7-7 6-10 3-8 3-10 4-23 4-39 3-48 5-128 9-329 2-42 1-8 1 2 1 11 2 46 9 329 3 82 4 74 4 43 4 25 3 11 3 8 4 7 5 6 5 4 5 3 6 3 7 1 7 0 6-1 6-2 6-3 8-7 4-5 3-6 4-11 4-19 5-46 4-67 4-103 8-270 2-44 1-11 1-2 1 6 2 36 9 299 3 77 3 57 4 48 4 27 5 18 3 6 4 6 7 7 8 3 8 0 8-3 6-6 4-6 4-12 3-14 4-34 4-59 4-90 7-195 2-32 1-6 1 2 1 9 2 36 10 264 3 50 3 32 3 19 3 10 3 3 7-2 3 3 11 28 5 8 3 3 4 2 10 3 13-1 11-4 7-4 6-8 4-8 4-15 3-18 2-18 4-54 4-83 6-151 2-35 1-10 1-4 1 4 2 25 8 194 5 90 3 34 3 22 4 16 4 9 3 3 4 1 3-1 7-6 3 0 3 3 8 14 5 6 5 4 8 2 10 0 4-1 3-2 5-5 9-16 3-2 2 1 2 2 7 14 4 6 5 4 6 2 19 2 25 0 8-1 14-5 5-1 5 1 11 5 7 1 34 2" stroke="#4DBEEE"/>
<path d="M1490 3202l83-1 8-1 13-5 4 1 10 3 9 1 7-1 10-5 4 0 12 3 6 1 7-2 9-6 4-2 3 0 7 3 4 0 16-3 23-1 10-3 9-6 7-8 6-11 5-16 4-22 4-39 3-47 6-159 8-309 2-53 1-14 1-5 1 5 2 36 10 372 3 83 3 60 4 51 5 34 3 12 3 8 4 7 5 7 4 4 5 3 6 2 6 2 7 0 6 0 6-2 6-3 8-7 7-10 5-13 4-19 5-45 5-87 4-112 8-278 2-41 1-8 1 1 1 9 2 42 9 311 3 79 3 57 4 49 4 28 5 19 3 7 4 6 7 6 8 4 8 0 4-1 4-3 6-6 4-8 4-13 3-16 4-38 4-65 10-274 2-40 1-11 1-4 1 4 1 12 2 41 6 176 4 97 3 50 3 33 3 19 3 9 3 3 6-1 3 2 3 6 9 25 5 9 6 5 4 1 6 1 13 0 11-4 7-5 6-7 4-8 4-15 5-35 4-53 4-82 7-180 2-33 1-8 1-1 1 6 2 29 8 203 5 91 3 35 3 22 3 14 4 10 3 4 4 2 3-1 8-6 3 0 3 4 8 14 4 5 6 5 8 2 10 0 4-1 3-2 5-6 8-15 2-3 2 0 2 1 2 3 7 14 4 6 5 5 6 2 20 1 24 0 8-1 13-5 5-1 4 1 12 5 8 2 34 1" stroke="#A2142F"/>
<path d="M1490 3196l85-1 8-1 10-4 3-1 13 4 10 1 7-1 10-5 3 0 3 0 9 4 6 0 8-2 9-6 3-1 3 0 7 2 4 1 17-3 16 0 7 0 10-3 9-6 7-7 6-10 3-8 3-11 4-23 3-29 3-44 3-66 3-91 8-310 2-48 1-10 1 0 1 10 2 47 10 372 5 111 4 48 4 27 3 12 3 8 4 8 5 6 5 4 5 3 6 3 7 1 7 0 7 0 6-2 6-3 8-6 7-11 5-13 4-20 5-48 4-72 4-111 7-250 2-50 1-13 1-4 1 5 2 36 9 311 3 78 3 56 3 38 4 30 5 19 4 9 4 6 7 6 8 3 9 0 8-4 6-5 4-7 4-12 3-15 4-36 4-64 10-274 2-37 1-8 1 1 1 8 2 37 10 274 3 49 3 32 3 19 3 8 3 3 7-3 3 2 3 7 8 21 5 9 3 2 4 3 11 2 14-1 11-4 7-5 6-9 4-9 3-13 4-28 4-52 4-82 7-180 2-29 1-5 1 3 2 25 8 202 5 91 3 33 3 21 3 13 4 9 4 5 4 1 3-1 7-7 3 0 3 3 8 14 4 5 6 4 8 2 11 1 4-2 3-1 5-7 8-15 3-2 2 1 2 2 7 14 4 7 4 3 6 2 19 2 27 0 8-1 13-5 5-1 4 1 12 5 6 2 10 0 24 1" stroke="#0072BD"/>
<path d="M1490 3199l86 0 8-1 12-4 13 3 10 1 8-1 12-4 12 3 7 1 7-2 12-6 13 3 18-3 23 1 11-3 9-4 7-6 6-8 3-6 3-9 4-19 3-25 3-38 5-106 8-251 2-41 1-9 1-1 1 8 2 38 9 277 3 65 3 44 4 36 4 20 3 9 3 6 4 5 4 4 5 4 5 2 12 3 14 0 7-1 6-2 9-5 7-8 5-10 4-14 3-17 2-18 4-53 4-87 8-227 2-30 1-4 1 4 2 30 9 251 5 92 3 33 4 26 5 16 4 7 4 5 7 5 8 3 9 0 8-2 6-4 5-6 4-9 3-10 4-27 4-47 4-77 6-144 2-31 1-7 1-1 1 7 2 30 9 204 3 44 3 29 3 16 3 9 2 2 2 0 7-3 3 2 3 5 8 17 5 6 3 2 4 2 10 1 13 0 12-3 7-3 6-6 4-6 4-11 3-14 2-14 4-45 3-50 7-146 2-25 1-5 1 2 2 20 8 164 5 71 2 18 3 18 4 14 4 7 4 4 4 0 3-1 7-5 3-1 3 2 8 12 4 4 6 3 8 1 11 1 7-2 5-5 8-12 3-3 2 1 2 2 7 12 4 4 4 3 5 2 18 1 29 0 9-1 12-4 5 0 4 0 12 4 6 1 34 1" stroke="#D95319"/>
<path d="M1490 3200l84-1 8-1 10-5 3 0 13 4 10 1 7-1 10-5 3-1 3 1 9 3 6 1 7-2 10-7 3-1 3 0 6 2 4 1 17-3 17 0 7-1 10-3 9-6 7-9 6-11 3-9 3-12 4-26 3-34 3-51 5-140 9-378 2-50 1-9 1 2 2 36 10 410 3 90 3 63 4 53 4 28 3 14 3 9 4 8 5 7 5 5 5 3 6 3 6 1 7 0 7 0 6-2 6-3 8-7 7-11 5-13 4-20 3-24 2-23 5-96 4-125 7-276 2-52 1-13 1-3 1 8 2 43 9 343 3 86 3 61 3 41 4 32 5 21 4 10 4 6 7 7 8 3 5 1 4-1 4-1 4-3 6-6 4-8 4-14 3-17 4-41 4-73 10-303 2-38 1-7 1 1 1 11 2 43 6 196 4 106 3 54 3 34 3 20 3 9 1 2 2 1 6-3 2 0 1 1 3 6 9 27 5 9 3 3 4 2 10 2 13 0 11-4 7-5 6-8 4-8 4-15 3-20 2-19 4-58 4-92 7-198 2-30 1-4 1 4 2 30 8 224 5 100 3 35 3 23 3 14 4 10 4 5 2 1 2 0 3-2 7-6 3-1 3 4 8 15 4 6 6 5 8 2 10 0 4-1 3-2 5-6 9-18 3-2 2 1 2 3 7 15 4 7 4 4 6 2 19 2 27 0 8-1 13-6 5 0 4 1 12 5 6 2 10 1 25 0" stroke="#EDB120"/>
<path d="M1490 3199l83 0 8-2 13-4 4 1 10 3 9 0 7-1 10-4 4 0 12 3 6 1 7-2 9-6 4-1 14 2 16-3 22 0 10-3 9-5 8-8 6-11 5-14 4-21 4-36 3-44 6-146 8-282 2-47 1-12 1-4 1 4 2 35 10 338 3 76 3 55 4 46 5 32 3 10 3 8 4 7 5 6 9 6 6 2 6 2 7 0 6-1 6-1 6-3 8-6 7-9 5-13 4-17 5-42 5-80 4-103 7-227 2-48 2-21 1 1 1 8 2 39 9 283 3 72 3 52 4 45 4 26 5 17 3 6 4 6 7 6 4 2 5 1 8 0 4-1 4-3 6-6 4-8 3-10 3-16 4-35 4-60 10-249 2-37 1-9 1-3 2 15 2 37 6 161 4 88 3 45 3 30 3 18 3 9 3 2 6 0 3 2 3 5 9 23 5 8 3 2 4 3 9 2 13-1 11-3 7-5 6-6 4-8 4-14 5-33 4-49 4-75 7-164 2-29 1-7 1 0 1 5 2 27 8 185 5 83 3 31 3 21 3 12 4 10 3 4 4 1 3 0 7-6 2 0 2 0 3 4 8 13 4 5 6 4 8 2 10 0 6-2 5-5 9-15 2-2 2-1 2 1 2 3 7 13 4 5 5 4 6 2 20 2 24 0 8-1 13-5 5-1 4 1 12 4 8 2 34 1" stroke="#7E2F8E"/>
<path d="M1490 3202l84-1 8-1 12-4 3 0 11 4 9 0 8-1 12-5 3 1 10 3 6 0 7-1 9-6 4-2 13 3 17-3 23 0 10-3 9-5 7-8 6-10 3-7 3-11 4-23 3-28 3-43 3-62 3-86 8-295 2-50 1-13 1-4 1 6 2 37 10 355 3 76 3 54 4 45 4 25 3 12 3 8 4 7 5 6 5 5 5 3 6 2 6 1 7 0 7 0 6-2 6-3 8-6 7-10 5-14 4-19 5-47 4-68 4-105 8-266 2-37 1-8 1 2 1 10 2 42 9 296 3 73 3 52 4 43 4 24 5 17 3 6 4 5 7 6 8 3 8 0 8-3 6-6 4-7 4-12 3-14 4-35 4-60 4-92 6-168 2-39 1-10 1-2 1 4 2 30 10 262 3 52 3 34 3 20 3 11 3 3 2 0 5-1 3 2 3 5 8 21 6 10 3 3 4 2 11 2 13-1 11-4 7-5 6-8 4-10 3-12 4-27 4-49 4-77 7-172 2-31 1-7 1-1 1 7 2 29 8 194 4 71 3 35 3 23 4 17 4 9 3 4 4 1 4-2 6-5 2 0 2 0 3 3 7 13 5 6 6 4 8 2 10 0 4-1 3-2 5-6 8-14 2-2 2-1 3 3 8 15 4 5 4 4 6 2 19 2 26 0 8-2 13-4 5-1 4 1 12 4 7 2 10 1 25 0" stroke="#77AC30"/>
<path d="M1490 3195l84-1 8-2 12-4 3 0 11 4 9 1 8-2 9-4 4-1 12 4 6 1 7-2 10-7 3-1 13 3 17-3 23 0 11-3 9-6 7-8 6-11 3-8 3-12 4-26 3-32 3-49 5-136 9-357 2-41 1-5 1 5 2 40 10 389 3 81 3 57 4 46 4 26 3 11 3 8 4 8 5 6 5 5 5 3 6 2 6 1 7 0 7 0 6-2 6-3 8-6 7-11 5-13 4-18 3-24 2-23 5-93 4-120 7-260 2-44 1-9 1 0 1 10 2 46 8 294 3 86 3 61 4 52 4 29 5 19 3 6 4 6 7 7 4 2 5 2 5 0 4 0 4-2 4-2 6-7 4-7 4-13 3-17 4-40 3-49 4-98 7-211 2-31 1-4 1 4 2 32 10 287 3 55 3 36 3 21 3 10 3 3 2 0 5-2 3 1 3 6 8 23 5 9 3 3 4 3 10 2 13-1 6-1 6-2 7-5 6-7 4-9 4-14 4-27 4-50 4-81 7-190 2-36 1-9 1-1 1 6 2 32 8 213 4 76 3 37 3 23 4 18 4 9 3 3 4 2 4-2 7-7 3 1 3 3 7 13 5 7 6 4 8 2 10 0 4-1 3-2 5-6 9-17 3-2 3 3 7 15 4 6 4 4 6 3 18 2 28 0 9-2 12-4 5-1 4 0 12 6 7 1 35 1" stroke="#4DBEEE"/>
<path d="M1490 3197l84-1 8-1 12-5 3 1 11 4 9 0 8-1 12-5 3 0 10 4 6 0 7-1 10-8 3-1 9 3 4 1 17-4 16 1 7-1 11-3 9-6 7-8 6-11 3-9 3-12 4-26 3-34 3-51 5-142 9-367 2-39 1-4 1 7 2 45 9 368 3 91 3 64 4 53 4 29 3 14 3 8 4 9 5 7 5 4 5 4 6 2 7 2 7 0 7-1 6-2 6-2 8-7 7-11 5-13 4-20 3-24 2-23 5-97 4-126 7-267 2-44 1-8 1 3 2 33 9 333 3 87 3 61 3 41 4 33 5 21 4 10 4 6 7 7 8 3 5 1 4-1 8-3 6-6 4-7 4-12 3-15 4-35 4-64 4-102 6-192 2-44 1-11 1-3 1 6 2 36 10 296 3 55 3 35 3 21 3 9 3 3 2 0 5-3 2 1 1 1 3 6 8 23 5 10 3 3 4 2 10 2 13 0 6-2 6-2 7-5 6-7 4-9 4-15 4-28 4-52 4-85 7-195 2-36 1-8 1 0 1 8 2 36 7 195 5 101 3 36 3 23 4 17 4 9 3 4 4 1 3-1 8-8 3 1 3 3 8 16 4 5 5 3 8 2 11 1 4-1 3-2 5-6 8-17 2-2 2-1 3 3 7 15 4 7 4 4 6 3 19 1 27 1 9-2 12-5 5-1 5 1 11 5 7 2 35 1" stroke="#A2142F"/>
<path d="M1490 3198l83-1 8-1 13-5 3 0 11 4 9 1 7-2 13-5 3 1 10 3 6 1 7-2 9-7 4-1 13 3 17-3 22-1 10-3 9-5 8-9 6-11 5-16 4-22 4-39 3-48 6-161 8-310 2-50 1-13 1-4 1 7 2 40 10 374 3 81 3 58 4 49 4 28 3 13 3 8 4 8 5 7 5 5 5 3 6 2 6 2 7 0 6-1 6-1 6-3 8-7 7-10 5-13 4-19 5-45 5-88 4-113 7-251 2-51 2-22 1 2 1 11 2 45 9 312 3 77 3 56 4 47 4 27 5 18 3 6 4 6 7 7 4 2 5 1 8 0 4-2 4-3 6-7 4-8 3-11 3-17 4-38 4-65 10-276 2-39 1-9 1-3 2 19 2 43 9 252 3 55 4 45 3 19 3 8 3 3 6-1 3 2 3 6 8 22 6 11 6 5 4 1 6 1 13-1 11-3 7-5 6-7 4-9 4-14 3-18 2-18 4-54 4-82 7-181 2-31 1-7 1 0 1 7 2 32 8 204 5 89 3 33 3 21 3 14 4 10 3 3 4 2 3-1 7-6 2-1 2 1 3 4 7 12 5 7 6 5 8 2 10 0 6-3 5-5 9-17 2-2 2 0 3 2 8 16 4 6 4 4 6 2 18 2 26 0 9-1 13-5 5-1 5 1 12 5 7 2 34 1" stroke="#0072BD"/>
<path d="M1490 3198l86-1 7-1 10-4 4-1 13 4 9 1 7-1 10-5 4 0 12 3 6 1 7-2 10-6 3-1 13 3 17-3 23-1 10-3 9-5 7-7 6-10 3-8 3-10 4-23 4-39 3-49 5-129 9-329 2-38 1-6 1 4 2 35 10 358 3 79 3 56 4 47 4 26 3 12 3 8 4 8 5 6 5 5 5 3 6 2 6 1 7 1 7-1 6-2 6-2 8-7 7-10 5-13 4-19 5-46 4-67 4-104 8-271 2-41 1-9 1 0 1 8 2 40 10 328 5 101 4 45 4 25 5 17 3 6 4 6 7 6 8 3 8 0 8-3 6-6 4-7 4-11 3-15 4-33 4-60 4-91 7-194 2-30 1-4 1 3 1 11 2 39 6 171 4 93 3 47 3 30 3 18 3 8 3 2 6-1 3 1 3 6 9 23 5 8 3 3 4 2 11 2 13-1 11-4 7-5 6-8 4-9 3-12 4-27 4-48 4-77 7-174 2-34 1-8 1-2 1 5 2 28 8 196 5 87 3 32 3 20 3 12 4 10 3 4 4 1 4-1 7-6 3 0 3 3 8 14 4 5 6 4 8 2 10 0 4-1 3-1 5-6 9-16 3-2 3 3 8 15 4 6 4 3 6 2 19 2 26 0 9-1 12-5 5-1 4 1 12 5 7 1 10 1 23 1" stroke="#D95319"/>
<path d="M1490 3198l84-1 8-1 10-4 4-1 13 4 9 0 7-1 10-4 4-1 12 4 6 0 7-2 10-7 3-1 14 3 17-3 21-1 10-3 9-6 7-8 6-11 3-8 3-12 4-24 4-41 3-49 6-162 8-309 2-54 2-22 1 2 1 13 2 48 9 341 3 88 4 82 4 49 5 34 3 11 3 9 4 7 5 7 5 4 5 3 6 3 6 1 7 0 6-1 6-2 5-3 8-8 6-9 5-15 4-20 5-48 5-90 4-113 8-279 2-41 1-10 1-1 1 7 2 39 10 339 3 76 3 55 4 47 4 28 5 18 3 7 4 6 7 7 8 3 8 0 4-2 4-2 6-8 4-9 3-12 3-17 4-40 4-67 10-274 2-41 2-17 1 2 1 10 2 38 10 275 3 54 3 36 3 22 3 11 3 4 7 1 3 3 11 30 6 10 3 3 4 3 10 2 12-1 6-2 5-2 7-6 5-7 4-9 4-15 5-38 4-54 4-83 7-180 2-34 1-9 1-2 2 15 2 36 7 181 5 97 3 37 3 24 4 20 4 10 3 4 2 1 2 0 3-1 6-5 2-1 2 1 3 3 8 15 5 7 6 4 7 2 9 0 4-1 3-1 6-7 8-15 2-3 2-1 2 2 2 2 8 16 4 6 4 4 6 2 18 2 25 0 9-1 13-5 5-1 5 1 12 5 7 1 10 1 23 1" stroke="#EDB120"/>
<path d="M1490 3198l84-1 8-1 10-4 3 0 13 4 10 0 7-1 10-4 3-1 12 4 6 0 7-1 10-6 3-1 13 2 17-2 17 0 7-1 10-2 9-6 7-7 6-10 3-7 3-11 4-22 3-29 3-44 5-124 9-332 2-41 1-6 1 3 2 36 10 361 3 76 3 53 4 43 4 23 3 11 3 7 4 7 5 6 5 4 5 3 6 2 6 1 7 1 7-1 6-2 6-2 8-6 7-9 5-12 4-17 3-21 2-20 4-62 4-101 8-273 2-44 1-9 1-1 1 8 2 42 8 273 3 80 3 57 3 39 4 31 5 19 4 9 4 6 7 6 4 2 5 1 9 0 8-3 6-6 4-7 4-11 3-15 4-36 4-63 10-267 2-32 1-5 1 4 2 28 10 267 3 51 3 34 3 19 3 10 3 3 2 0 5-3 3 1 3 6 8 21 5 8 3 3 4 2 10 2 13 0 12-3 7-5 6-6 4-7 4-13 3-17 2-17 4-51 4-81 6-154 2-35 1-9 1-2 1 5 2 29 8 198 4 70 3 34 3 22 4 17 4 8 3 3 4 2 4-2 7-6 3 0 3 3 7 12 5 6 6 4 8 2 10 0 4-1 3-1 5-6 9-16 3-2 3 3 7 13 4 7 4 3 6 3 19 1 28 0 8-1 12-4 5-1 4 0 12 5 7 2 35 1" stroke="#7E2F8E"/>
<path d="M1490 3201l81-1 9-1 14-5 4 0 11 4 8 0 6-1 11-5 4 0 13 3 6 0 6-2 9-6 4-2 3 0 9 2 4 0 15-2 18-2 9-3 7-3 7-7 5-6 5-10 3-8 3-12 4-23 4-39 3-45 6-142 10-347 2-44 1-12 1-5 1 4 1 12 2 43 10 346 3 81 4 78 4 50 5 35 3 12 3 9 4 9 5 7 4 4 5 3 5 2 6 2 6 0 6-1 6-2 5-2 8-8 6-10 5-15 4-20 5-44 5-81 5-128 8-259 2-44 2-21 1 1 1 7 2 35 11 341 6 122 4 48 4 28 3 14 3 9 3 7 4 6 7 6 7 2 7 0 4-2 3-3 5-6 4-9 3-11 3-17 4-36 4-58 4-85 8-211 2-34 1-9 1-3 1 3 1 10 2 34 11 275 3 50 3 34 3 21 3 11 3 6 6 4 3 4 11 29 3 6 4 6 3 3 4 3 9 2 11-1 10-4 7-5 5-7 4-9 4-15 5-35 4-48 4-71 9-208 2-27 1-7 1-1 2 15 2 32 8 189 5 88 3 36 3 24 4 20 4 10 3 4 3 1 3-1 6-3 2 0 2 1 3 3 8 14 5 7 6 5 7 3 9 0 6-3 6-6 9-15 2-2 2-1 2 1 2 3 8 15 5 7 5 4 6 2 18 2 22 0 8-1 15-5 5-1 5 1 13 5 8 2 10 1 22 0" stroke="#77AC30"/>
<path d="M1490 3196l85-2 8-1 13-5 3 1 11 4 9 0 7-1 13-6 3 1 10 4 6 0 7-2 9-7 4-1 13 3 17-3 16 0 7-1 10-3 9-7 7-8 6-12 3-9 3-13 4-26 3-33 3-50 3-73 3-99 8-334 2-55 1-15 1-4 1 6 2 43 10 402 3 87 3 63 4 52 4 30 3 14 3 9 4 8 5 8 5 5 5 3 6 3 6 1 7 1 6-1 6-2 6-3 8-7 7-11 5-14 4-20 5-47 5-93 4-121 7-270 2-56 2-25 1 2 1 11 2 48 9 336 3 83 3 60 4 51 4 28 5 19 3 7 4 7 7 6 8 4 8 0 4-2 4-2 6-7 4-8 4-14 3-17 4-40 4-70 10-296 2-42 1-12 1-3 2 19 2 46 9 272 3 59 4 49 3 20 3 9 3 3 6-2 3 2 3 7 8 24 3 6 3 5 6 5 4 2 6 1 13-1 11-4 7-5 6-7 4-9 4-15 3-20 2-18 4-57 4-88 7-195 2-34 1-8 1 0 1 7 2 33 8 220 5 96 3 35 3 23 3 14 4 11 3 4 2 1 2 1 3-1 7-7 2 0 2 0 3 4 7 14 5 7 6 5 8 2 10 0 4-1 3-2 5-7 8-16 2-3 2 0 3 3 8 17 4 6 4 4 6 3 19 2 26 0 8-2 13-5 5-1 4 1 12 5 7 2 10 1 23 0" stroke="#4DBEEE"/>
<path d="M1490 3198l81-1 8-1 11-4 4-1 14 4 8 0 7-1 10-4 4-1 4 0 9 3 7 0 5-1 10-7 3-1 3 0 8 2 5 0 15-3 19-1 9-3 7-3 7-6 5-7 5-9 3-8 3-11 4-23 4-38 3-45 6-143 10-340 2-38 1-8 1 0 1 8 2 38 10 339 3 81 4 78 4 49 5 34 3 12 3 9 4 8 5 7 5 4 5 3 5 2 6 2 6 0 6-1 6-2 5-3 8-7 6-10 5-14 4-19 5-44 5-81 4-98 9-284 2-39 1-10 1-3 1 4 1 11 2 41 10 310 6 123 4 47 4 28 5 19 4 9 4 6 7 6 7 3 4 0 4-1 7-4 5-7 4-9 3-10 3-17 4-36 4-58 4-86 7-184 2-39 2-18 1 0 1 7 2 29 10 252 4 70 4 42 3 18 3 9 2 3 6 3 3 3 12 30 6 11 3 3 4 2 9 2 12-1 10-4 7-5 5-6 4-9 4-15 5-34 4-48 4-72 8-186 2-31 2-13 1 2 1 7 2 29 9 206 5 81 3 31 3 21 3 14 4 10 3 4 3 1 3 0 7-4 3 0 4 5 8 13 5 7 6 4 7 2 9 0 6-2 5-6 9-15 2-2 2-1 2 1 2 2 9 16 4 6 5 4 6 2 17 2 23 0 9-1 14-5 6-1 5 1 13 5 7 1 11 1 22 1" stroke="#A2142F"/>
<path d="M1490 3199l85-1 8-1 12-4 3 0 11 4 9 0 8-1 12-5 3 0 10 4 6 0 7-1 10-7 3-1 13 3 17-3 23-1 10-3 9-5 7-8 6-10 3-8 3-11 4-24 3-29 3-44 3-65 3-90 9-338 2-37 1-4 1 5 2 39 10 371 3 80 3 56 4 48 4 26 3 12 3 8 4 8 5 6 5 5 5 3 6 2 6 1 7 1 7-1 6-2 6-3 8-6 7-11 5-14 4-20 5-48 4-71 4-109 8-279 2-39 1-8 1 1 1 10 2 44 9 310 3 76 3 54 4 45 4 26 5 17 3 6 4 6 7 6 8 3 8 0 4-1 4-3 6-5 4-7 4-13 3-15 4-36 4-62 4-96 6-176 2-40 1-11 1-3 2 16 2 43 9 250 3 54 3 36 3 21 3 11 3 4 2 0 5-2 3 2 3 6 8 22 3 6 3 4 3 3 4 2 11 2 13-1 11-4 7-5 6-8 4-10 3-13 4-28 4-51 4-80 7-180 2-33 1-7 1-1 1 6 2 31 8 203 4 74 3 36 3 24 4 18 4 10 3 4 4 1 4-2 6-5 2-1 2 1 3 3 7 13 5 7 6 4 8 2 10 0 4-1 3-2 5-6 8-15 2-3 2 0 3 3 8 15 4 6 4 4 6 2 19 2 26 0 8-1 13-5 5-1 4 0 12 5 7 2 10 1 24 0" stroke="#0072BD"/>
<path d="M1490 3200l84-1 8-1 13-4 14 3 9 1 7-1 13-5 4 1 9 2 5 1 7-2 10-5 4-2 14 3 16-3 22-1 10-2 9-6 7-6 6-10 3-7 3-10 4-21 4-36 3-44 5-114 9-293 2-41 1-10 1-3 1 7 2 34 10 319 3 72 3 51 4 45 5 30 3 10 3 7 4 7 5 6 5 4 5 2 6 2 6 1 7 1 6-1 6-2 6-3 8-6 6-9 5-12 4-18 5-42 4-60 4-92 8-241 2-42 2-17 1 2 1 10 2 38 9 267 3 67 3 50 4 43 4 24 5 17 3 6 4 5 7 6 7 3 8 0 8-3 6-5 4-6 4-11 3-14 4-30 4-53 4-80 7-173 2-32 1-8 1-1 2 16 2 37 6 151 4 82 3 43 3 29 3 16 3 8 3 3 6 0 3 2 3 6 8 19 6 9 3 3 4 2 10 2 13-1 11-3 7-5 5-6 4-8 4-13 5-34 4-48 11-226 2-26 1-5 1 0 1 7 2 27 8 174 5 78 3 30 3 19 3 12 4 9 3 4 4 1 3-1 7-4 2-1 2 1 3 3 7 11 5 6 6 4 8 2 10 0 6-2 5-5 9-14 3-2 2 0 2 2 8 14 4 5 5 4 6 2 19 1 24 0 8-1 14-4 5-1 5 1 12 4 7 2 33 1" stroke="#D95319"/>
<path d="M1490 3197l84-1 8-1 10-3 3-1 13 4 10 0 7-1 10-4 3 0 12 3 6 1 7-2 10-6 3-1 13 3 18-3 22 0 10-3 9-4 8-8 6-10 3-7 3-10 4-22 3-28 3-42 5-115 9-301 2-39 1-7 1 2 1 10 2 44 9 302 3 73 3 51 4 44 4 24 3 10 3 8 4 7 5 6 5 4 5 2 6 2 6 2 7 0 7-1 6-1 6-3 8-5 7-9 5-12 4-16 5-40 4-59 4-92 8-249 2-40 1-10 1-2 1 7 2 34 9 274 3 69 3 50 4 41 4 23 5 16 3 5 4 6 7 5 8 3 9 0 8-3 6-6 4-6 4-12 3-15 4-34 4-59 10-243 2-29 1-5 1 1 1 9 2 34 7 180 3 61 3 44 3 28 3 16 3 8 3 3 6-2 3 1 3 5 9 21 5 7 3 3 4 2 10 2 13-1 11-3 7-4 6-6 4-7 4-13 3-16 2-16 4-48 4-75 6-139 2-32 1-9 1-3 1 3 2 24 8 179 5 80 3 29 3 19 3 12 4 8 3 4 4 1 4-1 7-5 3 0 3 2 8 13 4 5 6 3 8 2 10 0 4-1 3-1 5-5 9-15 3-1 2 0 2 3 7 12 4 6 4 3 6 2 18 1 27 1 9-2 12-4 5-1 4 1 12 4 8 2 34 1" stroke="#EDB120"/>
<path d="M1490 3202l82-2 8-1 14-5 4 1 11 3 8 1 7-2 10-4 3-1 4 1 9 3 5 0 7-2 10-6 4-2 3 0 8 2 4 0 16-3 20-1 10-3 9-7 7-8 6-12 3-9 3-12 4-25 4-43 3-50 6-159 9-337 2-46 1-12 1-4 2 20 2 49 10 368 6 142 4 53 5 37 3 13 3 9 4 9 5 7 5 5 5 3 5 2 6 2 7 0 6-1 6-2 5-3 8-8 6-11 5-15 4-22 5-49 5-90 4-110 8-276 2-47 2-21 1 1 1 10 2 40 10 334 6 134 4 51 4 30 5 21 4 10 4 6 7 7 4 2 4 0 4 0 4-1 7-4 5-7 4-10 3-12 3-19 4-40 4-66 11-293 2-36 1-9 1-3 2 16 2 39 10 271 3 54 4 47 3 20 3 10 3 3 5 2 3 3 3 7 9 25 6 11 3 3 4 3 9 2 12 0 6-2 5-3 7-6 5-7 4-9 4-17 5-38 4-55 4-80 8-198 2-29 1-7 1 0 1 6 2 28 9 221 5 89 3 34 3 23 3 15 4 11 3 4 3 2 3-1 7-4 2 0 2 1 3 3 8 15 5 7 6 5 7 2 9 0 4-1 3-2 5-6 9-16 2-3 2 0 2 1 2 3 8 16 4 6 5 4 6 3 18 1 23 1 9-2 14-5 5-1 5 1 12 5 8 2 11 1 22 1" stroke="#7E2F8E"/>
<path d="M1490 3195l84-1 9-1 13-4 4 0 10 3 9 1 7-2 13-4 4 0 9 3 6 1 7-2 9-6 4-1 14 2 16-2 22-1 10-3 9-5 7-8 6-9 3-8 3-10 4-22 4-38 3-45 5-117 9-299 2-42 1-11 1-2 2 19 2 46 10 326 3 67 3 48 4 41 4 24 3 11 3 7 4 7 5 6 5 5 5 2 6 3 6 1 7 0 6-1 6-2 6-3 8-6 6-9 5-14 4-18 5-44 4-62 4-93 8-246 2-43 2-18 1 2 1 9 2 38 9 271 6 122 4 45 4 26 5 18 4 8 4 5 7 5 8 3 8 0 7-4 6-6 4-7 3-9 3-14 4-32 4-54 4-82 7-177 2-32 1-8 1-2 2 15 2 37 10 239 3 44 3 30 3 18 3 9 3 3 6 0 3 2 3 6 9 22 5 7 3 3 4 2 10 3 13-1 11-4 7-5 5-6 4-8 4-15 5-34 4-50 11-231 2-26 1-6 1 1 1 5 2 27 8 177 5 82 3 31 3 20 4 16 4 8 3 3 3 1 3-1 7-4 2-1 2 1 3 3 8 13 4 5 6 4 8 2 9 0 4-1 3-1 5-6 9-14 2-2 2 0 2 1 2 3 7 12 4 5 5 4 6 2 19 2 24 0 8-1 14-5 5 0 4 0 12 5 8 2 32 1" stroke="#77AC30"/>
<path d="M1490 3201l84-1 7-2 10-4 3 0 3 0 11 4 9 1 7-2 10-4 3-1 3 0 10 4 6 1 7-2 9-7 3-2 3 1 7 2 4 1 17-4 16 1 7-1 10-3 9-6 7-8 6-11 3-9 3-11 4-26 3-31 3-48 3-72 3-99 8-339 2-54 1-13 1-2 1 9 2 49 9 373 3 93 3 66 4 54 4 31 3 13 3 10 4 8 5 7 5 5 5 4 6 2 7 2 7 0 7-1 6-2 6-3 8-7 4-5 3-6 5-15 4-21 5-53 4-77 4-121 7-274 2-55 2-22 1 4 2 37 9 338 3 88 3 63 4 53 4 29 5 19 3 7 4 6 7 7 8 4 5 0 4 0 4-1 4-3 6-6 4-8 4-13 3-16 4-39 4-69 3-76 7-223 2-42 1-10 1-1 1 8 2 38 10 300 3 56 3 36 3 21 3 10 3 4 2-1 5-2 3 2 3 7 8 24 5 9 3 3 4 3 10 2 13-1 6-1 6-3 7-5 6-8 4-9 4-17 4-31 4-56 4-88 7-198 2-33 1-7 1 2 1 9 2 37 7 199 5 102 3 37 3 24 4 18 4 9 3 4 2 1 2 0 3-1 7-7 3-1 3 3 8 16 5 7 5 3 8 3 11 0 4-1 3-2 5-7 8-17 3-2 2 0 2 3 7 15 4 7 4 4 6 3 19 2 27 0 8-1 13-6 5-1 5 2 11 5 7 1 10 1 25 1" stroke="#4DBEEE"/>
<path d="M1490 3195l84-1 8-1 10-4 3-1 14 5 9 0 7-1 10-5 3-1 3 0 9 4 6 1 7-2 10-7 3-2 3 1 7 2 4 0 17-3 22 0 10-3 9-7 7-8 6-11 3-8 3-12 4-25 4-43 3-54 5-142 9-374 2-50 1-11 1 0 1 11 2 51 9 374 3 93 4 85 4 50 4 28 3 13 3 8 4 9 5 7 5 5 5 3 6 3 6 1 7 0 6-1 6-1 6-3 8-8 7-11 5-15 4-21 5-50 4-74 4-115 8-308 2-52 1-13 1-4 1 5 2 40 9 338 3 89 3 64 4 55 4 32 5 20 3 8 4 6 7 8 8 3 5 1 4-1 4-1 4-3 6-7 4-8 4-15 3-18 4-43 4-74 10-301 2-39 1-8 1 1 2 26 10 299 3 64 4 54 3 22 3 11 3 4 7-2 3 3 3 7 8 24 5 10 3 3 4 3 4 1 6 1 13 0 6-2 5-2 7-5 6-8 4-10 4-16 3-20 2-20 4-60 4-93 7-195 2-30 1-5 1 3 1 10 2 38 7 199 5 103 3 38 3 25 4 19 4 10 3 4 2 1 2 0 3-1 7-7 3 0 3 4 8 15 5 7 5 4 8 3 10 0 4-1 3-2 5-6 9-18 3-3 2 1 2 3 8 17 4 7 4 3 6 3 19 1 25 1 8-2 14-6 5 0 5 1 11 5 7 2 10 1 24 0" stroke="#A2142F"/>
<path d="M1490 3202l84-1 8-1 10-4 4-1 13 4 9 1 7-2 10-4 4-1 3 0 9 4 6 0 7-2 10-7 3-1 3 0 7 2 4 0 17-3 21-1 10-3 9-7 7-8 6-12 3-9 3-12 4-25 4-44 3-53 6-174 8-333 2-58 2-25 1 3 1 13 2 51 9 368 3 94 4 89 4 53 5 36 3 13 3 8 4 9 5 7 5 5 5 3 6 2 6 2 7 0 6-1 6-3 5-3 8-8 6-10 5-16 4-21 5-51 5-97 4-121 8-300 2-46 1-10 1-2 1 8 2 41 10 365 3 81 3 60 4 51 4 30 5 20 3 7 4 7 7 7 4 2 4 1 4 1 4-1 4-2 4-3 6-8 4-10 3-12 3-19 4-42 4-71 10-296 2-44 2-19 1 2 2 28 10 295 3 65 4 56 3 24 3 12 3 4 7 1 3 4 11 31 6 12 3 3 4 3 5 1 5 1 12-1 6-2 5-3 7-5 5-8 4-9 4-17 5-40 4-59 4-88 7-194 2-37 1-10 1-2 1 4 2 28 9 241 5 95 3 35 3 23 3 15 4 11 3 4 2 1 2 0 3-1 7-6 3 0 3 4 8 16 5 7 6 5 7 2 9 0 4-1 3-2 3-3 3-4 8-16 2-3 2-1 2 1 2 3 8 17 4 7 4 3 6 3 18 2 25 0 9-1 13-6 5-1 5 1 12 6 7 2 10 1 23 0" stroke="#0072BD"/>
<path d="M1490 3201l86-1 7-1 9-4 3-1 3 1 10 4 10 0 8-1 9-5 3-1 3 1 9 4 7 0 7-1 10-8 3-1 12 4 18-4 17 1 7-1 6-1 5-2 9-7 7-9 6-12 5-18 4-26 3-33 3-53 5-150 9-406 2-44 1-4 1 9 2 53 10 443 5 126 4 52 4 28 3 13 3 9 4 8 4 5 5 6 5 3 6 3 7 1 8 1 7-1 7-2 6-3 8-7 4-6 3-6 5-15 4-22 3-28 2-28 4-85 4-136 7-297 2-48 1-9 1 4 2 40 9 369 3 91 3 63 3 41 4 32 5 21 3 7 4 7 7 7 4 2 5 2 5 1 4-1 4-1 4-2 6-6 5-10 4-13 3-17 4-42 3-54 4-109 7-241 2-34 1-2 1 7 2 42 9 301 3 65 3 42 3 24 3 13 2 3 2 1 7-5 2 0 1 1 3 7 8 26 5 9 3 3 4 2 5 2 7 1 7-1 7-1 6-2 5-2 7-6 6-9 4-11 3-14 4-33 4-62 4-100 6-188 2-40 1-9 1 1 2 26 8 241 5 106 2 26 3 27 4 20 4 10 4 5 2 1 2 0 4-2 6-8 3-1 3 3 8 17 4 6 6 4 8 2 11 1 4-1 3-2 5-7 9-19 2-2 1 0 3 4 7 16 3 6 4 5 6 3 19 1 29 1 8-2 12-5 5-2 4 1 12 6 6 2 10 1 25 0" stroke="#D95319"/>
</g>
</g></g>
</svg>
<rect x="202" y="32.5" width="2238.5" height="942.5" fill="none" stroke="#a3a3a3" stroke-width="3"/>
<path d="M239.8 976v9M298.8 976v4.5M357.9 976v9M416.9 976v4.5M476.0 976v9M535.0 976v4.5M594.0 976v9M653.1 976v4.5M712.1 976v4.5M771.2 976v4.5M830.2 976v4.5M889.2 976v4.5M948.3 976v9M1007.3 976v4.5M1066.4 976v9M1125.4 976v4.5M1184.4 976v9M1243.5 976v4.5M1302.5 976v9M1361.6 976v4.5M1420.6 976v9M1479.6 976v4.5M1538.7 976v9M1597.7 976v4.5M1656.8 976v9M1715.8 976v4.5M1774.8 976v9M1833.9 976v4.5M1892.9 976v9M1952.0 976v4.5M2011.0 976v9M2070.0 976v4.5M2129.1 976v9M2188.1 976v4.5M2247.2 976v9M2306.2 976v4.5M2365.2 976v9M2424.3 976v4.5" stroke="#555" stroke-width="2.2" fill="none"/>
<text transform="translate(231.5,132.4) scale(1.025,1)" style="font-weight:bold;font-size:89.8px" fill="#000" text-anchor="start">A</text>
<text transform="translate(658.4,1051.2) scale(0.958,1)" style="font-size:60.3px" fill="#000" text-anchor="start">3.57</text>
<text transform="translate(1720.2,1051.0) scale(0.973,1)" style="font-size:60.0px" fill="#000" text-anchor="start">3.52</text>
<text x="1145.8" y="1122.0" style="font-weight:bold;font-size:73.2px" fill="#000" text-anchor="start">ppm</text>
<path d="M1901.5 132H2031.5" stroke="#000090" stroke-width="7"/>
<text transform="translate(2071.8,141.9) scale(0.966,1)" style="font-size:67.7px" fill="#000" text-anchor="start">pH= 4.20</text>
<path d="M1901.5 204.7H2031.5" stroke="#008000" stroke-width="7"/>
<text transform="translate(2071.8,219.7) scale(0.976,1)" style="font-size:67.2px" fill="#000" text-anchor="start">pH= 3.76</text>
<path d="M1901.5 280.8H2031.5" stroke="#808000" stroke-width="7"/>
<text transform="translate(2071.8,298.3) scale(0.976,1)" style="font-size:67.2px" fill="#000" text-anchor="start">pH= 3.36</text>
<path d="M236.3 2106.0v-10M236.3 1241.5v10M457.5 2106.0v-10M457.5 1241.5v10M678.7 2106.0v-10M678.7 1241.5v10M899.8 2106.0v-10M899.8 1241.5v10M1121.0 2106.0v-10M1121.0 1241.5v10M194.5 2071.0h10M1128.3 2071.0h-10M194.5 1921.3h10M1128.3 1921.3h-10M194.5 1771.5h10M1128.3 1771.5h-10M194.5 1621.8h10M1128.3 1621.8h-10M194.5 1472.0h10M1128.3 1472.0h-10M194.5 1322.3h10M1128.3 1322.3h-10" stroke="#555" stroke-width="2" fill="none"/>
<rect x="194.5" y="1241.5" width="933.8" height="864.5" fill="none" stroke="#555" stroke-width="2"/>
<path d="M1638.4 2108.0v-10M1638.4 1237.0v10M1875.5 2108.0v-10M1875.5 1237.0v10M2112.6 2108.0v-10M2112.6 1237.0v10M2349.7 2108.0v-10M2349.7 1237.0v10M1491.4 2067.0h10M2442.4 2067.0h-10M1491.4 1918.5h10M2442.4 1918.5h-10M1491.4 1769.9h10M2442.4 1769.9h-10M1491.4 1621.4h10M2442.4 1621.4h-10M1491.4 1472.8h10M2442.4 1472.8h-10M1491.4 1324.3h10M2442.4 1324.3h-10" stroke="#555" stroke-width="2" fill="none"/>
<rect x="1491.4" y="1237.0" width="951.0" height="871.0" fill="none" stroke="#555" stroke-width="2"/>
<path d="M245.6 3242.6v-10M245.6 2375.7v10M469.1 3242.6v-10M469.1 2375.7v10M692.6 3242.6v-10M692.6 2375.7v10M916.1 3242.6v-10M916.1 2375.7v10M1139.6 3242.6v-10M1139.6 2375.7v10M204.2 3207.6h10M1142.7 3207.6h-10M204.2 3061.0h10M1142.7 3061.0h-10M204.2 2914.5h10M1142.7 2914.5h-10M204.2 2767.9h10M1142.7 2767.9h-10M204.2 2621.4h10M1142.7 2621.4h-10M204.2 2474.8h10M1142.7 2474.8h-10" stroke="#555" stroke-width="2" fill="none"/>
<rect x="204.2" y="2375.7" width="938.5" height="866.9" fill="none" stroke="#555" stroke-width="2"/>
<path d="M1585.1 3243.5v-10M1585.1 2375.0v10M1838.4 3243.5v-10M1838.4 2375.0v10M2091.7 3243.5v-10M2091.7 2375.0v10M2345.0 3243.5v-10M2345.0 2375.0v10M1489.3 3206.9h10M2450.3 3206.9h-10M1489.3 3059.0h10M2450.3 3059.0h-10M1489.3 2911.1h10M2450.3 2911.1h-10M1489.3 2763.1h10M2450.3 2763.1h-10M1489.3 2615.2h10M2450.3 2615.2h-10M1489.3 2467.3h10M2450.3 2467.3h-10" stroke="#555" stroke-width="2" fill="none"/>
<rect x="1489.3" y="2375.0" width="961.0" height="868.5" fill="none" stroke="#555" stroke-width="2"/>
<text transform="translate(181.4,2168.5) scale(1.130,1)" style="font-size:50.0px" fill="#262626" text-anchor="start">3.58</text>
<text transform="translate(402.6,2168.5) scale(1.130,1)" style="font-size:50.0px" fill="#262626" text-anchor="start">3.56</text>
<text transform="translate(623.4,2168.5) scale(1.130,1)" style="font-size:50.0px" fill="#262626" text-anchor="start">3.54</text>
<text transform="translate(845.2,2168.5) scale(1.130,1)" style="font-size:50.0px" fill="#262626" text-anchor="start">3.52</text>
<text transform="translate(1081.8,2168.5) scale(1.130,1)" style="font-size:50.0px" fill="#262626" text-anchor="start">3.5</text>
<text transform="translate(143.3,2089.4) scale(1.100,1)" style="font-size:51.6px" fill="#262626" text-anchor="start">0</text>
<text transform="translate(48.6,1939.7) scale(1.100,1)" style="font-size:51.6px" fill="#262626" text-anchor="start">2000</text>
<text transform="translate(48.6,1789.9) scale(1.100,1)" style="font-size:51.6px" fill="#262626" text-anchor="start">4000</text>
<text transform="translate(48.6,1640.2) scale(1.100,1)" style="font-size:51.6px" fill="#262626" text-anchor="start">6000</text>
<text transform="translate(48.6,1490.4) scale(1.100,1)" style="font-size:51.6px" fill="#262626" text-anchor="start">8000</text>
<text transform="translate(17.1,1340.7) scale(1.100,1)" style="font-size:51.6px" fill="#262626" text-anchor="start">10000</text>
<text transform="translate(194.0,3305.1) scale(1.058,1)" style="font-size:50.3px" fill="#262626" text-anchor="start">3.58</text>
<text transform="translate(417.5,3305.1) scale(1.058,1)" style="font-size:50.3px" fill="#262626" text-anchor="start">3.56</text>
<text transform="translate(640.6,3305.1) scale(1.058,1)" style="font-size:50.3px" fill="#262626" text-anchor="start">3.54</text>
<text transform="translate(864.7,3305.1) scale(1.058,1)" style="font-size:50.3px" fill="#262626" text-anchor="start">3.52</text>
<text transform="translate(1102.7,3305.1) scale(1.058,1)" style="font-size:50.3px" fill="#262626" text-anchor="start">3.5</text>
<text transform="translate(156.7,3225.6) scale(1.049,1)" style="font-size:51.0px" fill="#262626" text-anchor="start">0</text>
<text transform="translate(67.5,3079.0) scale(1.049,1)" style="font-size:51.0px" fill="#262626" text-anchor="start">2000</text>
<text transform="translate(67.5,2932.5) scale(1.049,1)" style="font-size:51.0px" fill="#262626" text-anchor="start">4000</text>
<text transform="translate(67.5,2785.9) scale(1.049,1)" style="font-size:51.0px" fill="#262626" text-anchor="start">6000</text>
<text transform="translate(67.5,2639.4) scale(1.049,1)" style="font-size:51.0px" fill="#262626" text-anchor="start">8000</text>
<text transform="translate(37.7,2492.8) scale(1.049,1)" style="font-size:51.0px" fill="#262626" text-anchor="start">10000</text>
<text transform="translate(1605.3,2170.4) scale(0.923,1)" style="font-size:51.8px" fill="#262626" text-anchor="start">3.6</text>
<text transform="translate(1829.1,2170.4) scale(0.923,1)" style="font-size:51.8px" fill="#262626" text-anchor="start">3.58</text>
<text transform="translate(2066.2,2170.4) scale(0.923,1)" style="font-size:51.8px" fill="#262626" text-anchor="start">3.56</text>
<text transform="translate(2302.9,2170.4) scale(0.923,1)" style="font-size:51.8px" fill="#262626" text-anchor="start">3.54</text>
<text transform="translate(1447.4,2084.9) scale(1.035,1)" style="font-size:48.7px" fill="#262626" text-anchor="start">0</text>
<text transform="translate(1447.9,1936.4) scale(1.035,1)" style="font-size:48.7px" fill="#262626" text-anchor="start">1</text>
<text transform="translate(1448.0,1787.8) scale(1.035,1)" style="font-size:48.7px" fill="#262626" text-anchor="start">2</text>
<text transform="translate(1447.7,1639.3) scale(1.035,1)" style="font-size:48.7px" fill="#262626" text-anchor="start">3</text>
<text transform="translate(1446.9,1490.8) scale(1.035,1)" style="font-size:48.7px" fill="#262626" text-anchor="start">4</text>
<text transform="translate(1447.6,1342.2) scale(1.035,1)" style="font-size:48.7px" fill="#262626" text-anchor="start">5</text>
<text transform="translate(1549.1,3305.6) scale(1.030,1)" style="font-size:50.6px" fill="#262626" text-anchor="start">3.6</text>
<text transform="translate(1787.9,3305.6) scale(1.030,1)" style="font-size:50.6px" fill="#262626" text-anchor="start">3.58</text>
<text transform="translate(2041.2,3305.6) scale(1.030,1)" style="font-size:50.6px" fill="#262626" text-anchor="start">3.56</text>
<text transform="translate(2294.1,3305.6) scale(1.030,1)" style="font-size:50.6px" fill="#262626" text-anchor="start">3.54</text>
<text transform="translate(1441.7,3226.2) scale(1.047,1)" style="font-size:52.2px" fill="#262626" text-anchor="start">0</text>
<text transform="translate(1442.2,3078.3) scale(1.047,1)" style="font-size:52.2px" fill="#262626" text-anchor="start">1</text>
<text transform="translate(1442.3,2930.4) scale(1.047,1)" style="font-size:52.2px" fill="#262626" text-anchor="start">2</text>
<text transform="translate(1441.9,2782.4) scale(1.047,1)" style="font-size:52.2px" fill="#262626" text-anchor="start">3</text>
<text transform="translate(1441.1,2634.5) scale(1.047,1)" style="font-size:52.2px" fill="#262626" text-anchor="start">4</text>
<text transform="translate(1441.8,2486.6) scale(1.047,1)" style="font-size:52.2px" fill="#262626" text-anchor="start">5</text>
<text transform="translate(228.0,1341.2) scale(0.936,1)" style="font-weight:bold;font-size:92.0px" fill="#000" text-anchor="start">B</text>
<text transform="translate(1506.5,1325.1) scale(0.922,1)" style="font-weight:bold;font-size:91.9px" fill="#000" text-anchor="start">C</text>
<text transform="translate(225.6,2464.7) scale(0.971,1)" style="font-weight:bold;font-size:91.9px" fill="#000" text-anchor="start">D</text>
<text transform="translate(1518.4,2462.7) scale(0.928,1)" style="font-weight:bold;font-size:90.8px" fill="#000" text-anchor="start">E</text>
<text transform="translate(1490.5,1229.7) scale(1.012,1)" style="font-family:'DejaVu Sans',sans-serif;font-weight:200;font-size:46.5px" fill="#262626" text-anchor="start">×</text>
<text transform="translate(1530.8,1226.7) scale(0.958,1)" style="font-size:49.9px" fill="#262626" text-anchor="start">10</text>
<text transform="translate(1583.3,1202.7) scale(1.032,1)" style="font-size:40.1px" fill="#262626" text-anchor="start">6</text>
<text transform="translate(1489.3,2367.1) scale(1.124,1)" style="font-family:'DejaVu Sans',sans-serif;font-weight:200;font-size:44.9px" fill="#262626" text-anchor="start">×</text>
<text transform="translate(1532.0,2364.8) scale(1.036,1)" style="font-size:50.7px" fill="#262626" text-anchor="start">10</text>
<text transform="translate(1589.9,2341.9) scale(1.044,1)" style="font-size:40.3px" fill="#262626" text-anchor="start">6</text>
<text x="612.6" y="3413.5" style="font-weight:bold;font-size:73.2px" fill="#000" text-anchor="start">ppm</text>
<text transform="translate(1894.2,3419.2) scale(0.971,1)" style="font-weight:bold;font-size:75.2px" fill="#000" text-anchor="start">ppm</text>
<path d="M653.1 2222.6H669.9V2285.7H686L661.5 2334L637.3 2285.7H653.1Z" fill="#000"/>
<path d="M1936.2 2220.2H1951.8V2283.8H1967.9L1944 2331L1920.1 2283.8H1936.2Z" fill="#000"/>
</svg></body></html>
